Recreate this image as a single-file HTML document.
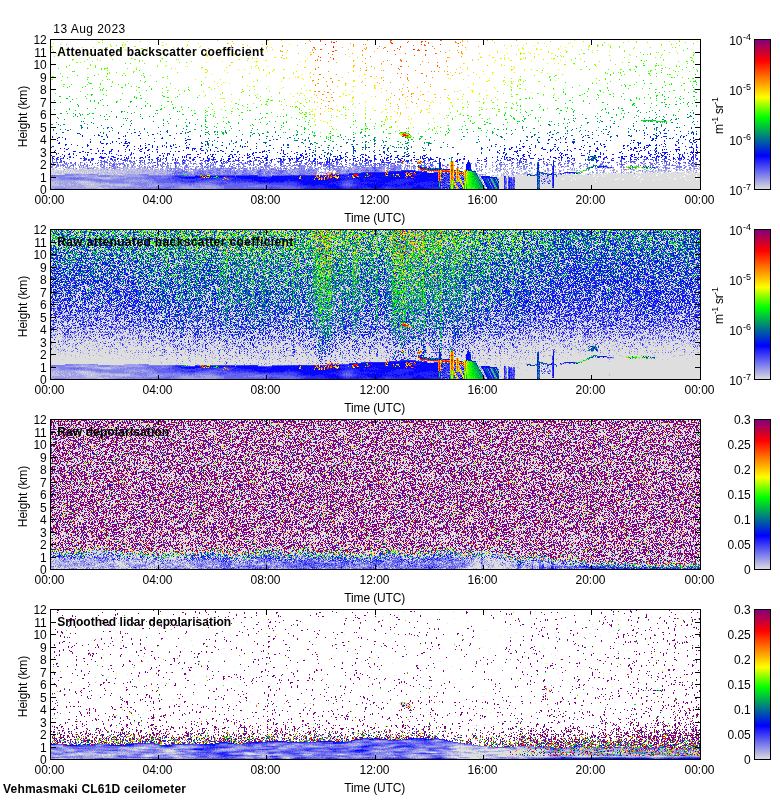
<!DOCTYPE html>
<html lang="en"><head><meta charset="utf-8"><title>Vehmasmaki CL61D ceilometer</title>
<style>html,body{margin:0;padding:0;background:#fff}svg{display:block}text{font-family:"Liberation Sans",Arial,Helvetica,sans-serif;font-size:12px;fill:#000}.b{font-weight:bold}.s{font-size:9px}</style></head><body>
<svg width="780" height="800" viewBox="0 0 780 800">
<rect width="780" height="800" fill="#fff"/>
<defs><linearGradient id="cb" x1="0" y1="1" x2="0" y2="0">
<stop offset="0" stop-color="#dedede"/>
<stop offset="0.225" stop-color="#00f"/>
<stop offset="0.48" stop-color="#0f0"/>
<stop offset="0.615" stop-color="#ff0"/>
<stop offset="0.858" stop-color="#f00"/>
<stop offset="1" stop-color="#800080"/>
</linearGradient></defs>
<text x="53.3" y="33" textLength="72">13 Aug 2023</text>
<g id="panel1">
<g transform="translate(0 .5)" fill="none" stroke-width="1" shape-rendering="crispEdges"><path stroke="#dedede" d="M174 166h1m319 0h1M71 167h1m16 0h1m1 0h1m1 0h1m480 0h1M52 168h1m1 0h2m2 0h1m1 0h1m1 0h1m4 0h1m11 0h3m1 0h1m17 0h2m4 0h1m9 0h1m10 0h1m76 0h1m398 0h1M51 169h1m2 0h1m5 0h1m2 0h1m1 0h2m1 0h5m3 0h3m5 0h3m2 0h3m2 0h1m3 0h2m5 0h1m3 0h2m14 0h1m1 0h1m121 0h1m82 0h1m184 0h1m164 0h1M51 170h6m1 0h5m1 0h4m1 0h1m1 0h3m1 0h1m1 0h2m3 0h1m4 0h1m9 0h1m6 0h1m1 0h1m2 0h1m17 0h1m362 0h1m58 0h1m23 0h1m43 0h1m25 0h1m42 0h1M52 171h1m1 0h3m2 0h1m2 0h1m1 0h1m1 0h1m1 0h2m1 0h1m1 0h2m4 0h1m1 0h1m1 0h1m1 0h1m1 0h1m1 0h1m1 0h1m2 0h1m2 0h1m1 0h1m2 0h1m1 0h1m3 0h3m4 0h1m5 0h1m1 0h1m128 0h1m64 0h1m13 0h1m90 0h1m5 0h1m91 0h1m1 0h1m51 0h1m65 0h1m6 0h2m4 0h2m1 0h2m1 0h2m6 0h1m1 0h1m14 0h1m2 0h1m1 0h4M51 172h2m1 0h1m4 0h1m2 0h1m1 0h2m1 0h2m1 0h9m1 0h2m1 0h1m3 0h1m1 0h1m1 0h2m1 0h3m3 0h1m10 0h1m4 0h1m6 0h1m193 0h1m6 0h1m186 0h1m20 0h1m56 0h1m16 0h1m1 0h1m8 0h1m6 0h1m2 0h1m4 0h3m3 0h1m3 0h3m4 0h1m2 0h1m1 0h2m2 0h3m2 0h1m1 0h4m2 0h6m1 0h7m1 0h1m2 0h3m1 0h2m2 0h1m1 0h1M52 173h3m1 0h2m4 0h2m6 0h1m11 0h2m1 0h1m1 0h1m1 0h1m4 0h1m8 0h1m12 0h1m200 0h1m10 0h1m203 0h1m50 0h1m1 0h1m1 0h2m3 0h2m8 0h2m2 0h1m1 0h5m1 0h3m1 0h3m3 0h1m1 0h2m1 0h3m1 0h1m1 0h5m1 0h1m1 0h14m1 0h3m1 0h23m1 0h1m1 0h8m1 0h3M51 174h1m1 0h1m1 0h5m1 0h2m36 0h1m3 0h1m4 0h1m3 0h1m5 0h2m1 0h1m380 0h1m1 0h1m1 0h1m3 0h1m6 0h4m1 0h1m2 0h2m4 0h2m1 0h1m5 0h2m4 0h1m10 0h1m1 0h1m3 0h1m3 0h6m1 0h1m2 0h1m1 0h1m1 0h1m3 0h2m2 0h1m1 0h2m1 0h11m1 0h17m1 0h63m1 0h1m1 0h10M495 175h2m1 0h1m3 0h1m1 0h6m2 0h1m1 0h8m1 0h4m15 0h5m2 0h1m1 0h1m2 0h2m1 0h32m1 0h4m1 0h7m1 0h33m1 0h12m1 0h6m2 0h9m1 0h16m1 0h11m1 0h3M492 176h1m2 0h3m2 0h4m2 0h2m1 0h28m3 0h2m1 0h2m1 0h1m1 0h2m1 0h1m2 0h2m1 0h12m1 0h23m1 0h3m1 0h5m1 0h30m1 0h4m1 0h43m2 0h11m1 0h3M497 177h7m2 0h2m4 0h1m2 0h22m3 0h7m2 0h3m2 0h25m1 0h58m1 0h30m1 0h10m1 0h17m1 0h1M498 178h6m3 0h1m7 0h22m3 0h1m1 0h2m1 0h1m2 0h4m2 0h9m1 0h9m1 0h21m1 0h22m1 0h18m1 0h36m1 0h10m1 0h11m1 0h2M499 179h5m3 0h1m7 0h22m3 0h3m2 0h4m1 0h2m2 0h8m1 0h12m1 0h39m2 0h5m2 0h17m2 0h17m1 0h14m1 0h20m1 0h3M499 180h5m3 0h1m7 0h22m3 0h1m1 0h3m1 0h3m2 0h1m2 0h17m1 0h81m1 0h32m1 0h2m1 0h10M82 181h1m416 0h5m3 0h1m7 0h22m3 0h1m2 0h1m2 0h1m4 0h1m2 0h41m1 0h44m1 0h59M81 182h1m1 0h1m1 0h1m1 0h1m411 0h5m3 0h1m7 0h22m3 0h3m1 0h3m2 0h3m2 0h146M499 183h5m3 0h1m7 0h22m3 0h2m1 0h1m1 0h3m2 0h2m2 0h146M87 184h1m3 0h1m1 0h1m405 0h5m3 0h1m7 0h22m3 0h12m2 0h146M91 185h1m407 0h5m3 0h1m7 0h22m3 0h12m2 0h146M499 186h5m3 0h1m7 0h22m3 0h12m2 0h146M499 187h5m3 0h1m7 0h22m3 0h12m2 0h146M499 188h5m3 0h1m7 0h22m3 0h160"/><path stroke="#bfbfe3" d="M82 162h1M115 163h1M180 164h1m341 0h1m26 0h1M131 165h1m112 0h1m163 0h1m234 0h2M116 166h1m34 0h1m49 0h1m67 0h1m5 0h1m38 0h1m39 0h1m211 0h1m77 0h1m15 0h1M62 167h1m4 0h1m5 0h1m1 0h1m4 0h3m1 0h2m3 0h1m5 0h3m9 0h1m2 0h1m5 0h1m3 0h1m3 0h3m2 0h2m2 0h3m5 0h3m4 0h1m28 0h1m19 0h1m54 0h1m1 0h1m1 0h1m2 0h2m6 0h1m7 0h1m10 0h1m2 0h1m15 0h1m1 0h1m20 0h1m25 0h1m14 0h1m16 0h1m14 0h1m5 0h1m7 0h1m12 0h1m91 0h1m11 0h1m6 0h1m62 0h1m2 0h1m43 0h1m25 0h1m17 0h2m4 0h1M53 168h1m5 0h1m3 0h1m2 0h1m2 0h4m2 0h1m6 0h1m1 0h3m4 0h1m4 0h3m1 0h1m4 0h2m1 0h2m1 0h1m4 0h1m2 0h2m2 0h4m3 0h2m1 0h2m1 0h1m3 0h1m2 0h1m1 0h2m3 0h1m3 0h1m3 0h1m1 0h1m4 0h2m15 0h1m25 0h1m5 0h1m23 0h1m1 0h1m6 0h1m6 0h1m19 0h1m49 0h1m23 0h1m3 0h2m55 0h1m51 0h1m27 0h2m6 0h1m1 0h1m5 0h1m5 0h1m14 0h1m80 0h1m1 0h2m1 0h2m29 0h1m5 0h1m26 0h1m16 0h1m5 0h1M52 169h2m2 0h1m10 0h1m5 0h3m3 0h5m3 0h2m3 0h2m1 0h3m2 0h1m1 0h2m4 0h1m2 0h2m2 0h4m1 0h1m3 0h1m3 0h12m1 0h5m1 0h1m3 0h1m2 0h1m2 0h1m3 0h1m3 0h2m20 0h1m1 0h2m6 0h1m13 0h1m12 0h2m31 0h1m32 0h2m15 0h1m7 0h1m14 0h1m11 0h2m1 0h2m5 0h2m7 0h1m20 0h1m4 0h1m12 0h1m7 0h1m10 0h1m45 0h1m20 0h1m2 0h1m15 0h1m3 0h1m5 0h1m4 0h1m48 0h1m19 0h1m5 0h1m1 0h1m29 0h1m6 0h1m1 0h1m8 0h1m13 0h2m14 0h1m4 0h1m7 0h1m4 0h1m5 0h1M57 170h1m5 0h1m4 0h1m1 0h1m3 0h1m1 0h1m2 0h3m1 0h4m1 0h9m1 0h6m1 0h1m1 0h2m1 0h13m1 0h3m1 0h9m1 0h4m2 0h1m2 0h1m2 0h4m2 0h5m2 0h4m5 0h1m14 0h1m33 0h2m19 0h1m6 0h1m4 0h2m10 0h2m20 0h1m2 0h1m3 0h1m21 0h2m14 0h1m8 0h1m40 0h1m12 0h1m3 0h1m18 0h1m58 0h2m24 0h1m6 0h1m5 0h1m11 0h2m8 0h1m4 0h1m10 0h1m5 0h1m9 0h2m1 0h1m4 0h1m17 0h1m2 0h1m3 0h1m9 0h1m1 0h1m9 0h1m11 0h1m8 0h2m4 0h1m2 0h1m3 0h1m1 0h1m3 0h1m2 0h1m1 0h1m5 0h1m1 0h2m10 0h1m1 0h1m1 0h1M51 171h1m1 0h1m3 0h2m1 0h2m1 0h1m1 0h1m1 0h1m2 0h1m1 0h1m2 0h4m1 0h1m1 0h1m1 0h1m1 0h1m1 0h1m1 0h1m1 0h2m1 0h2m1 0h1m1 0h2m1 0h1m1 0h3m3 0h4m1 0h5m1 0h1m1 0h4m1 0h2m1 0h10m3 0h2m1 0h6m3 0h2m2 0h1m1 0h2m1 0h1m21 0h3m1 0h1m62 0h1m16 0h1m15 0h2m3 0h1m2 0h1m24 0h1m2 0h1m3 0h1m29 0h2m26 0h1m91 0h1m21 0h1m3 0h1m14 0h1m1 0h1m8 0h1m13 0h1m31 0h1m20 0h1m19 0h1m12 0h1m6 0h2m5 0h1m1 0h1m2 0h1m5 0h1m2 0h1m2 0h2m1 0h1m10 0h1m10 0h1m1 0h1m7 0h1M53 172h1m1 0h4m1 0h2m1 0h1m2 0h1m2 0h1m9 0h1m2 0h1m1 0h3m1 0h1m1 0h1m2 0h1m3 0h3m1 0h6m1 0h3m1 0h4m1 0h6m1 0h3m1 0h4m1 0h1m1 0h4m1 0h2m1 0h5m1 0h4m1 0h1m1 0h2m1 0h2m1 0h4m2 0h4m20 0h2m12 0h1m32 0h1m13 0h2m9 0h1m23 0h2m2 0h1m1 0h1m24 0h1m10 0h1m1 0h1m2 0h1m8 0h1m8 0h1m74 0h1m2 0h1m1 0h1m54 0h2m7 0h1m5 0h1m3 0h1m16 0h1m1 0h1m20 0h1m7 0h1m26 0h1m7 0h1m13 0h1m6 0h1m2 0h1m32 0h1m2 0h1m36 0h2M51 173h1m3 0h1m2 0h4m2 0h6m1 0h11m2 0h1m1 0h1m1 0h1m1 0h4m1 0h3m1 0h4m1 0h12m1 0h4m1 0h6m1 0h21m2 0h1m2 0h4m6 0h2m1 0h1m16 0h1m6 0h1m20 0h1m39 0h1m10 0h1m6 0h1m19 0h1m26 0h2m1 0h1m1 0h2m2 0h1m149 0h1m23 0h1m1 0h2m12 0h1m4 0h2m2 0h2m12 0h1m8 0h1m5 0h1m8 0h1m3 0h1m9 0h1m10 0h1m7 0h1m1 0h1m5 0h1m15 0h1m6 0h1M52 174h1m1 0h1m5 0h1m2 0h2m33 0h1m1 0h3m1 0h4m1 0h3m1 0h1m1 0h3m2 0h1m1 0h3m1 0h1m9 0h1m12 0h4m2 0h3m1 0h1m1 0h2m1 0h2m7 0h1m41 0h1m39 0h2m15 0h1m21 0h1m21 0h1m1 0h1m1 0h2m1 0h1m4 0h1m149 0h1m4 0h2m12 0h1m3 0h1m19 0h1m1 0h2m40 0h1m12 0h1M82 175h1m3 0h1m35 0h1m148 0h1m220 0h1m4 0h1m13 0h1m28 0h1M77 176h1m3 0h4m1 0h1m9 0h1m362 0h1M95 177h1m1 0h4m1 0h1m1 0h1m1 0h4m3 0h1m346 0h1M52 178h1m47 0h11m331 0h1M480 179h1m1 0h1M56 180h1m22 0h1m382 0h2m17 0h1m16 0h1M51 181h1m1 0h3m1 0h2m2 0h1m1 0h1m8 0h1m2 0h7m1 0h8m391 0h1M51 182h4m1 0h1m1 0h2m1 0h1m3 0h1m3 0h1m6 0h1m1 0h3m1 0h1m1 0h1m1 0h1m1 0h7M51 183h4m1 0h2m5 0h1m4 0h2m7 0h1m1 0h20m2 0h1m1 0h1m1 0h4m373 0h1M51 184h8m2 0h2m4 0h1m1 0h2m1 0h2m3 0h1m3 0h6m1 0h3m1 0h1m1 0h12m1 0h6m1 0h16m360 0h1M51 185h9m2 0h3m4 0h2m5 0h1m1 0h1m5 0h2m1 0h4m1 0h5m1 0h3m5 0h1m3 0h3m2 0h15m26 0h1m327 0h1M51 186h1m12 0h1m2 0h1m15 0h1m1 0h14m12 0h1m9 0h1m3 0h1m333 0h1M54 187h1m18 0h1m2 0h1m9 0h10m1 0h5m2 0h4M96 188h1m1 0h6m3 0h1m378 0h1"/><path stroke="#a0a0e7" d="M544 161h1M81 162h1m48 0h1m12 0h1m264 0h1m54 0h1m39 0h1m71 0h1m67 0h1M116 163h1m73 0h1m51 0h1m185 0h1m34 0h1m40 0h1m11 0h1m26 0h1m30 0h1m25 0h2m42 0h1m50 0h2M54 164h1m5 0h1m11 0h1m5 0h1m6 0h1m29 0h1m6 0h1m8 0h1m2 0h1m6 0h1m54 0h1m13 0h3m43 0h1m8 0h1m127 0h1m4 0h1m93 0h1m10 0h1m7 0h1m71 0h1m18 0h1m16 0h1m23 0h2m48 0h1M52 165h1m3 0h1m13 0h1m4 0h1m2 0h1m2 0h2m8 0h1m6 0h1m2 0h1m2 0h1m2 0h1m3 0h1m4 0h1m11 0h1m23 0h2m8 0h1m48 0h2m44 0h1m9 0h1m1 0h1m4 0h1m15 0h1m5 0h1m6 0h1m13 0h1m3 0h1m6 0h1m5 0h1m29 0h1m2 0h2m12 0h1m4 0h1m4 0h1m1 0h1m3 0h1m7 0h1m22 0h1m19 0h1m26 0h1m9 0h1m25 0h1m12 0h1m43 0h1m32 0h1m19 0h1m14 0h1m27 0h1m3 0h1m8 0h1m5 0h1m11 0h2m2 0h1M57 166h1m2 0h1m24 0h1m8 0h1m5 0h2m9 0h1m2 0h1m8 0h1m1 0h1m2 0h1m2 0h1m2 0h2m2 0h1m6 0h1m1 0h1m14 0h1m1 0h1m2 0h2m1 0h1m7 0h1m1 0h1m3 0h2m3 0h2m1 0h2m2 0h2m10 0h2m3 0h1m1 0h1m4 0h1m9 0h1m9 0h1m15 0h1m4 0h1m3 0h1m6 0h1m3 0h1m9 0h1m5 0h1m11 0h1m3 0h2m1 0h1m3 0h1m20 0h1m4 0h1m1 0h1m6 0h1m2 0h1m2 0h1m5 0h1m8 0h1m8 0h1m2 0h3m11 0h1m4 0h1m5 0h1m2 0h1m1 0h1m14 0h1m6 0h1m6 0h1m32 0h1m17 0h1m7 0h1m5 0h1m3 0h1m8 0h1m22 0h1m10 0h1m12 0h1m5 0h1m9 0h1m2 0h1m24 0h1m8 0h1m13 0h1m23 0h1m5 0h1m21 0h1m11 0h1M52 167h1m38 0h1m1 0h2m6 0h1m2 0h1m6 0h1m6 0h1m8 0h1m3 0h2m6 0h2m3 0h1m7 0h2m2 0h1m10 0h1m2 0h1m5 0h1m1 0h1m3 0h1m4 0h1m8 0h1m4 0h1m3 0h1m6 0h1m1 0h2m1 0h1m2 0h1m4 0h1m12 0h1m1 0h1m2 0h1m3 0h1m1 0h1m13 0h1m2 0h1m11 0h1m11 0h1m9 0h1m1 0h1m8 0h2m1 0h1m12 0h1m4 0h1m4 0h1m2 0h1m1 0h2m4 0h2m2 0h2m1 0h3m1 0h1m5 0h2m4 0h1m10 0h2m6 0h4m4 0h1m5 0h2m3 0h1m1 0h1m2 0h1m15 0h1m2 0h1m12 0h1m45 0h1m4 0h1m2 0h1m3 0h1m12 0h1m37 0h1m3 0h1m4 0h1m5 0h1m8 0h1m21 0h1m2 0h1m50 0h1m3 0h1m2 0h3m2 0h1m1 0h1M89 168h1m13 0h2m16 0h2m4 0h1m9 0h1m1 0h1m2 0h1m1 0h1m6 0h2m8 0h2m4 0h3m2 0h1m4 0h1m2 0h1m4 0h1m2 0h1m1 0h1m5 0h1m2 0h2m2 0h1m20 0h1m8 0h2m1 0h1m6 0h1m5 0h1m2 0h1m6 0h2m4 0h1m4 0h1m7 0h2m7 0h1m3 0h1m5 0h1m2 0h1m6 0h5m5 0h2m6 0h3m2 0h1m4 0h1m1 0h1m2 0h2m1 0h2m1 0h1m3 0h1m3 0h4m1 0h1m1 0h3m1 0h1m2 0h1m1 0h1m6 0h1m4 0h1m1 0h1m1 0h2m10 0h1m2 0h1m5 0h1m3 0h1m2 0h2m30 0h1m15 0h1m35 0h1m1 0h1m8 0h2m9 0h1m2 0h3m6 0h1m15 0h1m21 0h1m3 0h1m1 0h1m9 0h1m8 0h1m12 0h1m14 0h1m34 0h1m4 0h1m3 0h1m15 0h1m5 0h3m3 0h2M101 169h1m2 0h1m1 0h1m12 0h1m3 0h1m2 0h1m13 0h1m5 0h1m1 0h1m1 0h1m4 0h2m1 0h1m3 0h2m3 0h1m1 0h2m2 0h1m3 0h1m2 0h1m3 0h1m3 0h1m5 0h1m1 0h1m1 0h1m8 0h4m2 0h1m1 0h1m5 0h2m5 0h1m4 0h2m2 0h1m9 0h1m4 0h1m2 0h2m1 0h2m5 0h2m2 0h2m9 0h1m2 0h1m1 0h1m3 0h1m5 0h3m1 0h2m1 0h1m9 0h2m3 0h2m8 0h2m2 0h1m5 0h2m1 0h2m2 0h1m2 0h2m1 0h1m3 0h1m3 0h3m8 0h1m1 0h1m7 0h2m2 0h2m3 0h1m1 0h1m5 0h2m3 0h1m2 0h1m2 0h1m3 0h1m69 0h1m13 0h1m1 0h1m6 0h1m2 0h1m4 0h1m10 0h2m9 0h1m8 0h1m3 0h1m7 0h1m2 0h1m4 0h1m4 0h1m2 0h2m31 0h1m8 0h1m9 0h1m2 0h1m1 0h1m1 0h1m1 0h2m10 0h1m8 0h1m7 0h1m3 0h1m11 0h1m1 0h1m1 0h1m4 0h2m2 0h1m3 0h1m3 0h1M123 170h1m13 0h1m4 0h2m1 0h2m1 0h2m4 0h2m5 0h2m5 0h2m1 0h1m1 0h2m4 0h2m2 0h1m2 0h1m1 0h1m1 0h1m3 0h1m1 0h2m5 0h5m5 0h3m12 0h1m2 0h3m3 0h3m6 0h1m3 0h2m4 0h1m6 0h1m5 0h1m1 0h4m11 0h2m2 0h1m1 0h3m1 0h3m6 0h3m3 0h1m4 0h1m8 0h1m4 0h1m1 0h1m2 0h2m4 0h1m2 0h3m2 0h5m1 0h3m1 0h2m1 0h1m1 0h1m6 0h1m9 0h2m1 0h1m2 0h1m1 0h1m1 0h1m6 0h2m18 0h1m1 0h1m2 0h1m50 0h1m2 0h1m2 0h1m11 0h1m2 0h2m1 0h1m1 0h1m5 0h1m5 0h1m8 0h1m6 0h1m18 0h2m1 0h1m9 0h1m2 0h1m12 0h1m9 0h1m12 0h1m1 0h1m8 0h1m2 0h1m7 0h1m2 0h1m9 0h1m17 0h1m2 0h1m2 0h2m1 0h1m1 0h1m1 0h1m2 0h1m13 0h2m3 0h1m2 0h1m5 0h1M128 171h1m2 0h1m10 0h3m2 0h1m6 0h3m2 0h2m1 0h1m2 0h1m1 0h2m1 0h2m2 0h1m3 0h1m1 0h1m10 0h1m1 0h4m4 0h1m5 0h1m3 0h2m2 0h1m1 0h2m1 0h2m1 0h2m6 0h1m1 0h1m2 0h1m1 0h1m1 0h2m5 0h4m2 0h1m2 0h1m6 0h3m4 0h1m2 0h2m1 0h2m9 0h1m2 0h1m4 0h1m2 0h1m7 0h1m3 0h1m3 0h2m9 0h1m6 0h1m7 0h2m1 0h3m5 0h3m6 0h4m3 0h1m1 0h1m3 0h1m6 0h1m1 0h3m48 0h2m1 0h1m44 0h1m10 0h1m4 0h1m1 0h1m6 0h1m4 0h1m1 0h1m12 0h1m2 0h1m18 0h1m18 0h1m36 0h1m8 0h1m2 0h1m4 0h1m1 0h1m7 0h1m4 0h1m8 0h1m4 0h3m12 0h1m27 0h1M107 172h1m19 0h1m4 0h1m1 0h1m4 0h1m2 0h1m5 0h1m4 0h1m1 0h1m2 0h1m2 0h1m4 0h2m4 0h2m9 0h1m3 0h5m12 0h1m10 0h1m2 0h1m1 0h3m8 0h1m5 0h1m2 0h2m2 0h2m1 0h2m1 0h2m3 0h1m6 0h1m3 0h1m4 0h1m12 0h2m4 0h1m5 0h3m3 0h1m5 0h2m3 0h1m7 0h1m1 0h1m1 0h1m1 0h3m1 0h1m4 0h3m1 0h4m1 0h1m3 0h2m1 0h1m1 0h1m4 0h2m66 0h1m57 0h1m8 0h1m10 0h1m2 0h1m4 0h1m3 0h1m9 0h1m8 0h1m6 0h1m12 0h1m2 0h1m32 0h2m2 0h2m2 0h1m1 0h1m19 0h1m3 0h1m1 0h1m2 0h1m13 0h1m7 0h1m3 0h1m6 0h1m12 0h1m17 0h2M98 173h1m22 0h1m6 0h1m21 0h2m1 0h2m4 0h6m2 0h1m1 0h3m11 0h1m2 0h1m4 0h1m1 0h1m12 0h3m5 0h2m1 0h1m3 0h3m1 0h1m3 0h1m1 0h1m1 0h1m4 0h4m1 0h1m7 0h1m2 0h1m1 0h1m6 0h1m18 0h2m1 0h1m6 0h5m1 0h1m6 0h1m6 0h1m3 0h1m8 0h1m15 0h2m5 0h1m137 0h1m19 0h1m1 0h1m2 0h2m3 0h1m1 0h2m4 0h2m3 0h1m1 0h1m4 0h1m10 0h2m10 0h1m1 0h1m5 0h1m4 0h1m6 0h1m16 0h1m26 0h1M73 174h1m1 0h1m3 0h10m6 0h2m17 0h1m10 0h1m1 0h9m1 0h2m1 0h1m12 0h2m3 0h1m1 0h1m2 0h1m2 0h1m1 0h1m2 0h2m2 0h1m2 0h1m5 0h1m4 0h1m2 0h2m16 0h3m5 0h1m2 0h2m8 0h1m4 0h5m11 0h3m9 0h1m4 0h1m1 0h1m1 0h2m1 0h1m9 0h2m4 0h2m1 0h4m7 0h1m1 0h2m2 0h1m1 0h1m11 0h2m149 0h1m1 0h3m3 0h1m17 0h1m3 0h1m5 0h1m28 0h1m13 0h1m1 0h1m1 0h1m26 0h1m2 0h1M74 175h8m1 0h3m1 0h10m1 0h2m10 0h12m1 0h17m1 0h1m19 0h1m27 0h1m1 0h1m70 0h1m2 0h1m189 0h1m3 0h1m1 0h1m17 0h2m1 0h1m2 0h1m7 0h1m7 0h1m1 0h1m9 0h1m21 0h1M65 176h12m1 0h3m4 0h1m1 0h9m1 0h1m12 0h2m1 0h6m5 0h20m300 0h1m9 0h1m5 0h1m1 0h1m15 0h3m64 0h1m4 0h1M51 177h7m18 0h1m8 0h1m1 0h8m1 0h1m4 0h1m1 0h1m1 0h1m4 0h3m1 0h13m3 0h1m7 0h1m315 0h1m24 0h1m68 0h1M51 178h1m1 0h6m27 0h1m2 0h1m2 0h8m11 0h7m1 0h1m2 0h1m2 0h1m8 0h1m306 0h1m37 0h1m1 0h1m65 0h1M51 179h9m6 0h1m18 0h1m17 0h10m2 0h1m3 0h1m8 0h2m1 0h1m1 0h2m2 0h1m1 0h1m2 0h2m337 0h1m9 0h1M51 180h5m1 0h22m1 0h8m1 0h1m2 0h1m31 0h4m1 0h8m1 0h1m1 0h7m1 0h1M52 181h1m3 0h1m2 0h2m1 0h1m1 0h8m1 0h2m16 0h5m29 0h1m1 0h13m2 0h6m1 0h1m1 0h1m297 0h1m9 0h1m21 0h1m60 0h1m6 0h1M55 182h1m1 0h1m2 0h1m1 0h3m1 0h3m1 0h6m1 0h1m17 0h5m1 0h5m1 0h2m15 0h1m4 0h2m3 0h1m6 0h2m4 0h1m2 0h2m330 0h1m65 0h1M55 183h1m2 0h5m1 0h4m2 0h7m1 0h1m20 0h2m1 0h1m1 0h1m4 0h14m1 0h7m1 0h2m2 0h1m11 0h2m1 0h1m2 0h2m291 0h1m12 0h1m22 0h2M59 184h2m2 0h4m1 0h1m2 0h1m2 0h3m1 0h3m25 0h1m6 0h1m16 0h4m13 0h1m1 0h2m1 0h7m14 0h1m26 0h1m240 0h1m7 0h1m34 0h1m21 0h1M60 185h2m3 0h4m2 0h5m1 0h1m1 0h5m2 0h1m10 0h1m3 0h5m1 0h3m3 0h2m15 0h9m4 0h1m3 0h1m1 0h7m1 0h6m17 0h1m2 0h1m2 0h2m4 0h1m2 0h1m2 0h1m1 0h12m1 0h1m271 0h1m19 0h2M52 186h12m1 0h2m1 0h15m1 0h1m14 0h12m1 0h9m1 0h3m1 0h9m1 0h6m3 0h1m1 0h9m2 0h2m20 0h10m1 0h2m2 0h1m5 0h1m1 0h1m1 0h14m222 0h1m15 0h1m26 0h2m8 0h1m11 0h1M51 187h3m1 0h18m1 0h2m1 0h9m10 0h1m5 0h2m4 0h14m4 0h1m8 0h2m1 0h1m5 0h1m4 0h1m28 0h2m1 0h14m2 0h1m3 0h2m1 0h7m1 0h4m1 0h1m1 0h1m221 0h1m16 0h1m2 0h1m22 0h1M51 188h3m12 0h2m1 0h27m1 0h1m6 0h3m1 0h7m1 0h1m5 0h1m1 0h1m3 0h1m2 0h1m5 0h1m2 0h2m38 0h1m1 0h23m1 0h11m228 0h1m39 0h1"/><path stroke="#8282ec" d="M69 159h1m534 0h1m38 0h1M85 160h1m12 0h1m41 0h2m207 0h1M102 161h1m2 0h1m9 0h1m11 0h1m13 0h1m43 0h1m3 0h1m93 0h1m27 0h1m116 0h1m82 0h1m14 0h1m108 0h1m8 0h1m8 0h1m39 0h1M66 162h1m19 0h1m13 0h1m4 0h1m25 0h1m2 0h1m9 0h1m3 0h1m13 0h1m27 0h1m48 0h1m20 0h1m34 0h1m15 0h1m55 0h1m17 0h1m14 0h1m117 0h1m7 0h1m22 0h1m66 0h1m8 0h1m7 0h1m16 0h1m13 0h1M57 163h1m6 0h2m4 0h2m8 0h1m20 0h1m5 0h1m2 0h2m2 0h1m5 0h2m1 0h1m2 0h1m3 0h1m3 0h2m4 0h1m6 0h1m4 0h1m9 0h1m5 0h1m1 0h1m5 0h1m1 0h2m5 0h1m2 0h1m2 0h1m1 0h1m7 0h1m3 0h1m1 0h1m5 0h1m1 0h1m10 0h1m6 0h1m4 0h1m2 0h1m1 0h2m1 0h1m20 0h1m15 0h1m2 0h1m13 0h2m2 0h1m19 0h1m16 0h1m8 0h1m1 0h1m11 0h1m2 0h2m18 0h1m13 0h1m27 0h2m1 0h1m37 0h1m4 0h1m24 0h1m8 0h1m7 0h1m4 0h1m7 0h1m33 0h2m23 0h1m18 0h1m10 0h1m6 0h1m7 0h2m15 0h1m12 0h1m28 0h1M58 164h1m3 0h2m1 0h3m12 0h1m20 0h1m2 0h1m11 0h1m2 0h1m3 0h1m3 0h2m11 0h1m3 0h2m12 0h1m8 0h1m11 0h1m2 0h2m4 0h1m41 0h1m5 0h1m6 0h1m4 0h2m4 0h1m2 0h1m8 0h1m2 0h1m4 0h2m6 0h1m6 0h1m16 0h1m5 0h1m8 0h1m8 0h3m18 0h1m5 0h1m1 0h2m9 0h2m9 0h1m3 0h2m3 0h2m2 0h1m5 0h1m4 0h1m36 0h1m5 0h1m26 0h2m5 0h1m14 0h1m2 0h3m3 0h2m9 0h1m13 0h1m16 0h1m1 0h1m13 0h1m8 0h1m10 0h1m1 0h1m6 0h1m26 0h1m17 0h1m11 0h1m1 0h1m5 0h1m8 0h2m3 0h1m17 0h1M53 165h1m3 0h1m2 0h3m9 0h1m7 0h1m5 0h1m2 0h1m7 0h1m2 0h1m2 0h1m6 0h1m1 0h1m6 0h1m5 0h1m6 0h2m8 0h1m5 0h1m5 0h1m2 0h2m1 0h2m6 0h1m1 0h1m5 0h1m2 0h1m7 0h1m20 0h1m4 0h1m5 0h1m2 0h1m10 0h2m3 0h1m4 0h1m5 0h1m1 0h1m14 0h1m14 0h1m1 0h2m3 0h1m3 0h1m1 0h2m1 0h1m2 0h3m8 0h1m12 0h1m5 0h1m5 0h1m12 0h1m2 0h3m8 0h1m5 0h2m2 0h2m5 0h1m3 0h1m5 0h1m1 0h1m1 0h1m3 0h4m4 0h1m14 0h4m7 0h2m10 0h1m9 0h1m37 0h1m7 0h2m3 0h1m11 0h1m5 0h1m10 0h1m4 0h1m18 0h1m1 0h1m19 0h2m5 0h1m17 0h1m5 0h1m5 0h1m12 0h1m21 0h1m10 0h1m1 0h1m3 0h1m1 0h1m2 0h2m3 0h1m8 0h1m4 0h1M52 166h1m3 0h1m1 0h1m4 0h1m1 0h1m1 0h1m1 0h2m10 0h1m1 0h1m2 0h2m15 0h1m11 0h1m1 0h1m6 0h1m2 0h1m11 0h1m1 0h1m7 0h1m3 0h1m3 0h1m3 0h1m1 0h1m2 0h1m9 0h1m4 0h1m5 0h1m12 0h1m1 0h1m1 0h1m2 0h1m6 0h1m21 0h1m1 0h2m3 0h2m10 0h1m4 0h1m1 0h1m1 0h1m1 0h3m2 0h1m9 0h1m1 0h2m2 0h1m3 0h1m8 0h4m1 0h1m1 0h1m2 0h1m10 0h1m1 0h3m9 0h1m1 0h2m1 0h1m5 0h1m8 0h1m2 0h4m1 0h1m1 0h1m3 0h1m5 0h1m3 0h1m1 0h1m6 0h1m1 0h1m1 0h2m1 0h2m1 0h2m5 0h1m3 0h1m2 0h1m1 0h1m2 0h1m3 0h1m3 0h2m5 0h1m13 0h1m10 0h1m4 0h1m13 0h1m2 0h1m6 0h1m13 0h1m4 0h1m11 0h1m1 0h1m3 0h1m2 0h2m27 0h1m7 0h1m1 0h1m2 0h1m10 0h2m6 0h1m19 0h1m15 0h1m6 0h1m6 0h2m11 0h1m1 0h1m3 0h2m7 0h1m11 0h3m1 0h1m3 0h1m7 0h3M51 167h1m3 0h2m8 0h2m1 0h2m9 0h1m3 0h1m3 0h1m15 0h1m2 0h1m6 0h3m3 0h1m3 0h1m21 0h1m1 0h1m1 0h2m4 0h1m10 0h1m1 0h1m15 0h3m8 0h1m6 0h1m5 0h1m1 0h1m2 0h1m7 0h1m1 0h1m4 0h1m2 0h5m6 0h1m7 0h1m2 0h1m1 0h1m2 0h1m3 0h1m5 0h2m4 0h1m2 0h1m6 0h1m9 0h1m4 0h1m1 0h1m1 0h2m4 0h2m7 0h3m9 0h2m1 0h1m4 0h1m2 0h1m2 0h1m2 0h1m2 0h1m7 0h1m2 0h1m1 0h1m3 0h2m1 0h1m5 0h2m2 0h2m2 0h1m3 0h1m7 0h1m3 0h1m34 0h1m11 0h1m10 0h1m2 0h1m19 0h1m3 0h1m30 0h1m1 0h1m4 0h2m1 0h1m4 0h1m9 0h1m19 0h1m25 0h2m6 0h1m10 0h1m2 0h1m2 0h2m6 0h2m2 0h1m41 0h1m9 0h6m3 0h1m3 0h1M68 168h1m4 0h1m13 0h1m2 0h1m1 0h2m18 0h4m22 0h1m8 0h1m22 0h2m1 0h4m1 0h2m11 0h1m9 0h2m4 0h1m2 0h4m1 0h5m2 0h2m1 0h5m1 0h1m7 0h1m2 0h1m2 0h2m6 0h1m2 0h1m1 0h1m7 0h1m2 0h1m1 0h3m1 0h1m1 0h1m2 0h2m1 0h2m1 0h1m3 0h1m4 0h2m1 0h1m3 0h2m8 0h1m3 0h1m3 0h1m2 0h1m8 0h2m2 0h1m1 0h2m9 0h1m1 0h1m8 0h1m3 0h1m1 0h2m1 0h1m1 0h2m3 0h1m1 0h1m1 0h2m1 0h1m4 0h1m1 0h3m2 0h3m1 0h1m6 0h1m6 0h1m29 0h1m16 0h1m15 0h2m1 0h1m16 0h1m6 0h1m9 0h1m7 0h1m7 0h1m1 0h1m4 0h1m35 0h1m7 0h1m15 0h1m5 0h1m2 0h1m23 0h1m25 0h1m9 0h2m6 0h2m4 0h1m4 0h1M64 169h1m42 0h1m6 0h1m37 0h1m7 0h1m13 0h2m2 0h2m1 0h2m2 0h2m4 0h3m1 0h1m3 0h2m1 0h2m2 0h1m5 0h1m1 0h1m1 0h1m1 0h3m2 0h1m2 0h2m1 0h1m1 0h1m6 0h2m3 0h4m3 0h1m2 0h2m6 0h4m2 0h1m4 0h1m1 0h3m1 0h1m2 0h1m4 0h1m1 0h1m3 0h3m3 0h1m4 0h2m3 0h3m3 0h1m6 0h1m2 0h2m3 0h1m3 0h4m2 0h1m9 0h1m1 0h1m3 0h3m4 0h4m2 0h1m1 0h1m1 0h2m4 0h1m2 0h1m16 0h2m6 0h1m7 0h1m3 0h1m52 0h1m4 0h1m2 0h1m16 0h1m3 0h2m1 0h1m15 0h1m5 0h1m22 0h1m18 0h1m6 0h1m39 0h1m6 0h1m2 0h2m5 0h1m18 0h1m7 0h1m7 0h1m9 0h1m12 0h1M170 170h1m4 0h4m2 0h1m11 0h1m1 0h1m2 0h3m1 0h1m5 0h3m5 0h1m3 0h1m2 0h2m1 0h2m2 0h1m3 0h1m5 0h2m1 0h1m3 0h2m3 0h2m3 0h3m1 0h2m1 0h2m2 0h1m1 0h1m4 0h1m1 0h1m3 0h2m1 0h1m4 0h1m9 0h6m5 0h1m1 0h1m1 0h2m23 0h1m3 0h1m3 0h1m6 0h1m3 0h1m10 0h2m2 0h2m3 0h3m11 0h2m1 0h1m1 0h1m17 0h1m65 0h1m17 0h1m45 0h1m6 0h1m6 0h1m17 0h1m10 0h1m14 0h1m8 0h1m20 0h1m5 0h2m1 0h1m3 0h1m17 0h1m11 0h1M169 171h1m2 0h2m3 0h1m1 0h1m1 0h1m2 0h2m1 0h1m9 0h2m5 0h3m1 0h3m2 0h2m1 0h1m2 0h1m6 0h1m2 0h1m2 0h1m1 0h2m1 0h1m1 0h1m2 0h3m1 0h1m4 0h1m2 0h1m2 0h1m3 0h1m4 0h2m1 0h1m5 0h1m2 0h1m4 0h4m4 0h2m1 0h1m4 0h4m1 0h2m1 0h1m1 0h1m1 0h3m2 0h1m1 0h1m17 0h1m1 0h2m2 0h1m4 0h1m1 0h2m3 0h3m7 0h3m3 0h3m4 0h1m1 0h1m1 0h1m6 0h1m34 0h1m5 0h1m1 0h1m45 0h1m29 0h1m31 0h1m5 0h1m13 0h1m32 0h1m10 0h1m38 0h1m25 0h1m1 0h1M174 172h1m1 0h2m4 0h1m11 0h3m1 0h2m1 0h2m4 0h1m3 0h4m1 0h1m7 0h6m2 0h2m2 0h1m1 0h1m3 0h1m3 0h1m2 0h1m2 0h1m3 0h1m2 0h3m1 0h1m3 0h1m1 0h2m1 0h2m1 0h5m3 0h1m2 0h2m3 0h1m1 0h1m1 0h1m4 0h2m1 0h5m2 0h3m1 0h3m3 0h1m1 0h1m23 0h3m2 0h1m3 0h4m82 0h1m70 0h1m1 0h1m1 0h1m8 0h1m28 0h1m48 0h1m9 0h1m1 0h1m5 0h1m8 0h1M173 173h1m3 0h1m1 0h1m2 0h1m1 0h1m2 0h4m3 0h3m2 0h1m2 0h1m1 0h2m3 0h1m2 0h1m3 0h1m3 0h1m3 0h1m1 0h1m1 0h1m3 0h1m3 0h2m4 0h1m1 0h1m2 0h4m4 0h1m1 0h1m7 0h1m1 0h2m1 0h1m1 0h4m1 0h1m1 0h1m4 0h1m1 0h5m6 0h1m1 0h1m1 0h1m1 0h2m1 0h1m1 0h1m1 0h2m2 0h1m24 0h2m2 0h4m211 0h1m3 0h1m2 0h1m4 0h1m9 0h1m53 0h1M65 174h8m1 0h1m1 0h3m10 0h6m2 0h1m41 0h1m1 0h4m1 0h3m18 0h1m1 0h2m6 0h1m1 0h5m1 0h4m1 0h1m4 0h5m1 0h1m3 0h5m4 0h1m1 0h1m2 0h2m2 0h5m1 0h2m1 0h3m6 0h1m2 0h2m1 0h2m1 0h2m5 0h2m2 0h3m1 0h4m1 0h1m4 0h1m1 0h2m1 0h3m1 0h2m2 0h1m1 0h2m9 0h1m3 0h1m1 0h1m2 0h2m1 0h1m1 0h1m13 0h1m114 0h1m37 0h1m29 0h1m75 0h1M51 175h1m1 0h1m1 0h19m23 0h1m2 0h10m30 0h1m1 0h5m1 0h13m1 0h8m1 0h1m14 0h1m6 0h2m40 0h1m22 0h1m4 0h2m1 0h1m2 0h2m172 0h1m95 0h1m1 0h1M51 176h1m1 0h12m33 0h12m2 0h1m6 0h5m20 0h5m5 0h1m7 0h2m2 0h1m278 0h1m45 0h1m50 0h1M58 177h18m1 0h8m1 0h1m40 0h3m1 0h7m1 0h8m3 0h1m5 0h2m1 0h1m1 0h5m1 0h1m273 0h1m1 0h1m19 0h1m46 0h1m36 0h1M59 178h11m2 0h1m2 0h1m3 0h2m1 0h4m1 0h2m1 0h2m26 0h1m1 0h2m1 0h2m1 0h8m1 0h11m1 0h1m1 0h1m1 0h1m5 0h1m2 0h1m319 0h1m9 0h1m6 0h1m8 0h1m5 0h1m28 0h1M60 179h6m1 0h7m1 0h10m1 0h17m10 0h2m1 0h3m1 0h8m2 0h1m1 0h1m2 0h2m1 0h1m1 0h2m2 0h10m4 0h1m296 0h1m32 0h1m16 0h2m1 0h1m3 0h1m26 0h1m9 0h1M88 180h1m1 0h2m1 0h7m1 0h23m4 0h1m8 0h1m1 0h1m7 0h1m1 0h5m307 0h1m26 0h1m2 0h1m14 0h1m38 0h1m4 0h1M96 181h29m1 0h1m13 0h2m6 0h1m1 0h1m1 0h5m53 0h1m1 0h1m233 0h1m45 0h1m52 0h1M100 182h1m5 0h1m2 0h15m1 0h4m2 0h3m1 0h6m2 0h4m1 0h2m2 0h5m49 0h1m1 0h1m248 0h1m5 0h1m25 0h1m2 0h1m50 0h1m3 0h1M123 183h1m7 0h1m2 0h2m1 0h11m2 0h1m1 0h2m2 0h7m1 0h7m1 0h4m1 0h4m7 0h1m6 0h17m229 0h1m1 0h1m4 0h1m7 0h1m2 0h1m33 0h1m12 0h1m3 0h1m3 0h1m29 0h1M134 184h13m1 0h1m2 0h1m7 0h14m1 0h15m3 0h2m1 0h5m1 0h15m14 0h1m115 0h1m101 0h1m10 0h1m33 0h1M139 185h4m1 0h3m1 0h1m14 0h17m1 0h2m1 0h2m2 0h4m1 0h2m1 0h2m1 0h1m12 0h1m1 0h5m4 0h1m24 0h1m3 0h1m2 0h8m1 0h1m218 0h1m7 0h1m2 0h1M135 186h1m6 0h3m1 0h1m9 0h2m2 0h9m1 0h1m1 0h1m1 0h6m10 0h1m2 0h2m1 0h5m1 0h1m1 0h1m14 0h5m20 0h2m2 0h12m2 0h3m240 0h1m6 0h1m1 0h1m37 0h1M122 187h4m1 0h8m2 0h1m1 0h5m1 0h4m1 0h15m6 0h2m1 0h4m2 0h1m14 0h2m1 0h3m2 0h1m7 0h1m4 0h1m1 0h1m1 0h4m12 0h1m7 0h1m10 0h1m1 0h1m2 0h2m2 0h1m195 0h1m53 0h1M54 188h12m2 0h1m46 0h1m1 0h5m1 0h1m1 0h3m1 0h2m1 0h5m1 0h2m2 0h7m2 0h5m1 0h1m11 0h1m1 0h9m1 0h1m23 0h1m11 0h7m61 0h1m5 0h1m156 0h1m5 0h2m2 0h1m47 0h1"/><path stroke="#6363f0" d="M69 156h1m38 0h1M62 158h1m68 0h1m441 0h1M54 159h1m60 0h1m57 0h1m3 0h1m119 0h1m51 0h1m164 0h1m28 0h1m79 0h1m24 0h1m14 0h1m16 0h1M52 160h1m7 0h1m28 0h1m11 0h1m5 0h1m14 0h1m3 0h2m1 0h2m28 0h1m12 0h1m12 0h1m2 0h1m12 0h2m6 0h1m33 0h1m5 0h1m4 0h1m1 0h1m8 0h1m178 0h1m52 0h1m41 0h1m27 0h1m5 0h1m46 0h1m15 0h1m7 0h1m20 0h1m13 0h2m12 0h1M52 161h1m3 0h1m3 0h1m40 0h1m4 0h1m6 0h1m4 0h1m6 0h1m4 0h2m1 0h1m17 0h1m5 0h4m15 0h1m7 0h1m10 0h1m9 0h1m14 0h1m9 0h1m2 0h1m15 0h1m8 0h1m22 0h1m13 0h1m3 0h1m8 0h1m3 0h1m15 0h1m7 0h2m17 0h1m1 0h1m13 0h1m2 0h1m24 0h1m5 0h1m5 0h1m21 0h1m50 0h1m35 0h1m34 0h1m11 0h3m31 0h1m1 0h1m26 0h2m1 0h1m9 0h1m12 0h1m5 0h1m1 0h1m1 0h2M52 162h1m1 0h3m3 0h2m8 0h2m26 0h1m2 0h1m2 0h1m2 0h1m2 0h1m3 0h1m17 0h1m7 0h1m10 0h1m1 0h1m1 0h1m7 0h1m3 0h1m8 0h3m3 0h1m18 0h1m3 0h1m6 0h1m2 0h2m6 0h1m2 0h1m13 0h1m6 0h1m1 0h1m3 0h1m8 0h1m4 0h1m3 0h1m9 0h1m1 0h1m6 0h1m2 0h1m13 0h1m4 0h1m4 0h1m3 0h1m2 0h1m6 0h1m6 0h1m14 0h1m8 0h1m18 0h1m2 0h1m12 0h1m25 0h1m54 0h1m13 0h1m2 0h1m4 0h1m16 0h1m2 0h1m4 0h1m5 0h1m11 0h1m15 0h2m7 0h1m20 0h1m12 0h1m4 0h1m9 0h1m3 0h1m9 0h1m2 0h1m5 0h2m14 0h3m10 0h1m5 0h1m3 0h1m3 0h2m3 0h1m4 0h1m2 0h1M51 163h1m1 0h1m12 0h1m1 0h1m5 0h2m16 0h1m2 0h1m8 0h1m4 0h1m3 0h1m4 0h2m13 0h1m10 0h1m3 0h1m1 0h1m12 0h1m3 0h1m3 0h1m2 0h1m2 0h1m4 0h3m9 0h2m3 0h1m11 0h1m10 0h2m6 0h1m3 0h1m12 0h1m2 0h1m2 0h1m6 0h1m4 0h1m4 0h1m10 0h1m24 0h1m4 0h1m5 0h1m2 0h2m8 0h2m4 0h2m2 0h1m8 0h1m6 0h1m2 0h3m11 0h2m6 0h1m2 0h1m3 0h2m1 0h1m2 0h1m12 0h1m1 0h1m1 0h2m7 0h1m3 0h2m11 0h2m23 0h1m8 0h1m7 0h1m6 0h1m12 0h1m11 0h2m16 0h1m1 0h1m12 0h1m2 0h1m10 0h2m8 0h1m4 0h1m5 0h2m4 0h1m16 0h1m18 0h1m19 0h2m2 0h1m4 0h1m1 0h1m1 0h1m1 0h1m5 0h1m3 0h1m9 0h1m1 0h1m6 0h1m2 0h1m2 0h1M52 164h1m4 0h1m15 0h1m13 0h1m12 0h1m8 0h1m2 0h3m2 0h1m2 0h1m3 0h1m8 0h1m26 0h1m1 0h1m23 0h1m6 0h1m6 0h2m4 0h1m6 0h1m1 0h1m6 0h1m15 0h2m2 0h1m7 0h1m2 0h1m5 0h2m19 0h1m13 0h1m1 0h2m1 0h2m4 0h1m4 0h1m4 0h1m1 0h1m5 0h3m3 0h1m6 0h2m1 0h1m1 0h1m3 0h2m5 0h2m1 0h2m4 0h1m6 0h1m5 0h3m3 0h1m1 0h1m1 0h1m3 0h1m35 0h1m1 0h1m3 0h1m1 0h1m48 0h1m4 0h1m17 0h1m14 0h1m5 0h3m6 0h1m9 0h1m1 0h2m10 0h1m1 0h2m9 0h1m29 0h1m15 0h1m4 0h3m26 0h1m3 0h1m3 0h1m6 0h1m2 0h1m9 0h1m11 0h1m2 0h1M54 165h1m3 0h1m4 0h2m2 0h1m3 0h1m1 0h1m9 0h1m3 0h1m21 0h1m3 0h2m9 0h1m2 0h1m9 0h1m1 0h1m27 0h1m7 0h1m9 0h2m14 0h2m3 0h1m3 0h1m9 0h2m2 0h1m33 0h1m5 0h2m2 0h1m1 0h1m14 0h1m3 0h1m3 0h1m4 0h2m4 0h1m2 0h1m6 0h2m7 0h1m5 0h1m1 0h3m21 0h2m3 0h1m1 0h1m2 0h2m4 0h1m3 0h1m1 0h1m1 0h1m3 0h1m3 0h2m18 0h1m1 0h1m3 0h2m5 0h1m10 0h1m10 0h1m4 0h1m28 0h1m35 0h1m5 0h1m10 0h1m21 0h1m2 0h1m12 0h1m5 0h1m25 0h2m5 0h1m15 0h1m15 0h1m1 0h1m4 0h1m4 0h1m2 0h1m12 0h1m5 0h2m10 0h1m4 0h1m1 0h2M51 166h1m21 0h1m5 0h1m24 0h1m7 0h2m18 0h1m11 0h1m7 0h1m22 0h1m10 0h1m11 0h1m6 0h1m16 0h3m4 0h1m1 0h2m12 0h1m36 0h1m15 0h2m27 0h2m3 0h3m4 0h1m2 0h1m2 0h1m11 0h1m14 0h1m1 0h1m7 0h1m8 0h1m2 0h1m5 0h1m6 0h1m7 0h1m8 0h1m4 0h1m1 0h1m13 0h1m35 0h1m3 0h1m35 0h1m2 0h1m36 0h2m58 0h1m54 0h1m3 0h1m11 0h1m3 0h1M102 167h1m14 0h1m39 0h1m4 0h1m12 0h1m12 0h1m15 0h1m1 0h2m53 0h1m3 0h1m14 0h1m14 0h1m30 0h1m2 0h1m32 0h1m1 0h1m7 0h1m2 0h1m2 0h2m7 0h1m6 0h2m1 0h1m1 0h1m13 0h1m43 0h1m55 0h1m86 0h1m22 0h1m32 0h2m7 0h1m18 0h1m5 0h1M76 168h1m11 0h1m95 0h1m10 0h1m24 0h2m8 0h1m1 0h1m8 0h1m2 0h1m5 0h1m12 0h1m30 0h1m4 0h1m1 0h1m2 0h1m10 0h1m18 0h1m23 0h1m14 0h1m1 0h1m3 0h1m9 0h1m4 0h1m5 0h1m3 0h1m142 0h1m120 0h2m24 0h1m2 0h1M171 169h1m45 0h1m12 0h1m29 0h1m10 0h1m1 0h1m27 0h1m9 0h1m4 0h1m49 0h2m6 0h4m13 0h5m86 0h1M167 170h1m14 0h1m1 0h1m16 0h1m9 0h2m4 0h3m5 0h1m3 0h1m6 0h1m7 0h2m30 0h1m1 0h3m2 0h1m1 0h1m22 0h2m3 0h1m15 0h1m7 0h2m1 0h1m20 0h1m1 0h1m1 0h4m7 0h2m12 0h1m3 0h1m64 0h1m136 0h1M175 171h2m5 0h2m2 0h1m12 0h2m1 0h2m18 0h1m2 0h1m1 0h2m1 0h1m14 0h1m12 0h1m3 0h1m5 0h1m2 0h1m7 0h3m15 0h1m5 0h1m4 0h1m28 0h1m8 0h1m1 0h1m8 0h1m10 0h1m6 0h2m1 0h1m173 0h1m7 0h1M175 172h1m3 0h3m2 0h3m10 0h1m2 0h1m2 0h1m1 0h1m2 0h3m6 0h1m1 0h1m3 0h1m6 0h1m3 0h2m21 0h1m7 0h1m2 0h1m5 0h1m5 0h3m16 0h1m39 0h1m108 0h1M172 173h1m1 0h3m1 0h1m1 0h2m15 0h2m1 0h1m2 0h1m6 0h2m6 0h2m7 0h1m2 0h1m3 0h2m9 0h2m5 0h1m5 0h5m3 0h1m2 0h1m6 0h1m1 0h1m1 0h2m18 0h1m1 0h1m4 0h1m1 0h1m3 0h1m1 0h1m20 0h1m10 0h1m93 0h1m2 0h1m2 0h1m125 0h1M145 174h1m28 0h1m1 0h1m14 0h1m2 0h1m5 0h1m1 0h3m8 0h1m3 0h1m10 0h1m6 0h1m6 0h2m2 0h1m2 0h1m10 0h1m18 0h1m3 0h1m5 0h1m9 0h2m1 0h3m137 0h1m2 0h2m14 0h1m83 0h1m6 0h1M52 175h1m1 0h1m92 0h1m22 0h1m1 0h3m13 0h1m1 0h1m1 0h1m5 0h1m14 0h1m2 0h1m42 0h3m5 0h2m5 0h3m2 0h2m1 0h2m163 0h1m1 0h1m86 0h1M52 176h1m96 0h5m1 0h7m2 0h2m1 0h5m93 0h1m1 0h1m193 0h1m46 0h1M147 177h3m1 0h5m2 0h1m1 0h1m5 0h1m1 0h4m283 0h1m52 0h1m5 0h1M70 178h2m1 0h2m1 0h3m2 0h1m64 0h1m1 0h1m1 0h1m1 0h5m1 0h2m1 0h7m2 0h1m55 0h1m220 0h1m39 0h1m17 0h1m7 0h1m30 0h1M74 179h1m79 0h4m1 0h8m1 0h1m1 0h3m1 0h1m8 0h1m38 0h1m221 0h1m16 0h1m52 0h1M100 180h1m53 0h15m1 0h4m32 0h1m2 0h3m1 0h4m3 0h1m220 0h2m62 0h1m2 0h1m3 0h1m36 0h1M157 181h15m1 0h2m2 0h3m19 0h2m1 0h8m1 0h1m1 0h9m1 0h3m121 0h1m93 0h1m5 0h1m7 0h1m33 0h1m16 0h1m4 0h3m27 0h1m5 0h2m1 0h1m1 0h1M157 182h27m2 0h1m8 0h2m1 0h8m1 0h1m1 0h8m1 0h2m4 0h1m1 0h2m2 0h2m4 0h1m6 0h1m2 0h1m99 0h1m2 0h1m95 0h1m16 0h1m42 0h1m6 0h1m26 0h1M163 183h1m7 0h1m4 0h1m4 0h7m1 0h6m17 0h5m1 0h1m8 0h8m1 0h2m1 0h15m1 0h1m88 0h1m1 0h4m96 0h1m2 0h1m8 0h1m31 0h1m13 0h1m7 0h1m26 0h1M189 184h3m2 0h1m21 0h4m1 0h2m1 0h6m1 0h36m1 0h1m1 0h1m3 0h1m10 0h1m57 0h3m1 0h5m90 0h1m1 0h1m12 0h2M219 185h4m1 0h11m1 0h12m1 0h3m1 0h2m8 0h1m1 0h8m1 0h10m2 0h1m1 0h2m1 0h1m51 0h2m1 0h6m91 0h1m13 0h1m55 0h2M169 186h1m1 0h1m1 0h1m50 0h20m2 0h2m12 0h2m3 0h6m1 0h23m51 0h1m2 0h1m92 0h2m1 0h1m45 0h1m16 0h1m1 0h1M165 187h6m2 0h1m50 0h12m1 0h7m1 0h10m1 0h1m1 0h2m2 0h2m1 0h4m8 0h2m1 0h16m1 0h3m148 0h1m43 0h1m2 0h1m9 0h1m2 0h1m1 0h1m1 0h2m25 0h1M149 188h2m5 0h1m1 0h11m1 0h1m53 0h37m1 0h1m1 0h5m4 0h2m1 0h1m2 0h6m1 0h5m1 0h5m1 0h2m141 0h1m4 0h1m12 0h1m32 0h1m2 0h1m14 0h1"/><path stroke="#4444f5" d="M690 147h1M643 148h1M111 151h1m477 0h1M131 152h1M91 153h1M130 154h1M125 155h1m396 0h1m172 0h1M52 156h1m58 0h1m513 0h1m15 0h1m2 0h1m19 0h1m1 0h1m28 0h1M100 157h1m4 0h1m22 0h1m2 0h1m68 0h1m328 0h1m20 0h1m53 0h1m31 0h1m7 0h1m1 0h1m6 0h1m12 0h1m28 0h1M57 158h1m2 0h2m19 0h1m1 0h1m1 0h2m4 0h1m9 0h1m8 0h1m10 0h1m5 0h1m11 0h1m26 0h1m22 0h1m3 0h1m58 0h1m7 0h1m202 0h1m40 0h1m6 0h1m11 0h1m80 0h1m2 0h1m38 0h1m8 0h1m9 0h1M52 159h1m3 0h3m26 0h1m3 0h1m1 0h2m14 0h1m2 0h1m1 0h1m1 0h1m5 0h2m3 0h1m1 0h1m20 0h1m2 0h2m9 0h1m9 0h1m19 0h1m16 0h1m4 0h1m6 0h1m33 0h2m10 0h1m16 0h2m10 0h1m1 0h1m7 0h1m23 0h1m19 0h1m66 0h1m45 0h1m41 0h1m1 0h1m1 0h2m9 0h1m5 0h1m31 0h1m2 0h1m9 0h1m15 0h2m22 0h1m9 0h1m12 0h1m1 0h1m7 0h3m3 0h3m2 0h2m1 0h1m3 0h1m1 0h1m3 0h2m5 0h1m3 0h1m1 0h1m5 0h2m4 0h1m2 0h1M56 160h1m4 0h1m21 0h1m8 0h1m7 0h1m3 0h1m9 0h2m7 0h3m10 0h1m2 0h1m2 0h1m6 0h1m2 0h1m24 0h1m4 0h1m4 0h1m4 0h1m19 0h2m19 0h1m1 0h1m3 0h1m2 0h1m12 0h1m2 0h1m8 0h1m16 0h1m11 0h1m4 0h1m6 0h1m26 0h1m3 0h1m6 0h1m20 0h1m6 0h1m11 0h1m20 0h1m16 0h2m2 0h1m49 0h1m19 0h1m9 0h3m6 0h1m1 0h2m5 0h1m22 0h1m9 0h1m1 0h1m6 0h2m15 0h1m35 0h1m8 0h1m22 0h1m2 0h1m1 0h1m5 0h1m25 0h1m1 0h1m6 0h1M61 161h1m1 0h2m25 0h1m12 0h2m4 0h1m19 0h1m4 0h1m5 0h1m3 0h1m20 0h1m16 0h1m7 0h1m13 0h1m2 0h1m6 0h1m11 0h1m5 0h1m1 0h1m3 0h1m8 0h2m4 0h1m6 0h1m2 0h1m13 0h3m16 0h2m3 0h1m8 0h1m3 0h2m18 0h1m10 0h1m16 0h1m5 0h1m12 0h3m6 0h1m4 0h1m1 0h1m8 0h1m28 0h1m50 0h1m32 0h1m1 0h1m3 0h1m28 0h1m10 0h1m30 0h2m22 0h2m4 0h1m1 0h1m3 0h1m1 0h1m26 0h1m14 0h1m13 0h1m8 0h1M53 162h1m3 0h1m6 0h1m10 0h1m4 0h1m25 0h1m16 0h1m15 0h1m2 0h1m6 0h1m7 0h1m16 0h1m9 0h1m25 0h1m3 0h1m10 0h1m15 0h1m3 0h1m15 0h1m1 0h1m2 0h1m2 0h1m8 0h1m1 0h1m1 0h1m11 0h1m1 0h1m4 0h1m4 0h1m8 0h1m21 0h1m21 0h1m6 0h1m1 0h1m1 0h1m16 0h1m2 0h1m4 0h1m2 0h2m1 0h2m4 0h1m14 0h1m1 0h1m7 0h1m24 0h1m19 0h1m34 0h2m7 0h1m8 0h1m15 0h1m24 0h1m31 0h1m1 0h1m2 0h1m15 0h1m5 0h1m18 0h1m16 0h1m18 0h1m9 0h1M84 163h1m12 0h1m24 0h1m34 0h1m6 0h1m10 0h1m24 0h1m1 0h1m5 0h1m12 0h1m2 0h1m20 0h1m13 0h1m27 0h2m1 0h1m8 0h1m5 0h1m3 0h1m2 0h1m2 0h1m2 0h1m8 0h1m1 0h1m23 0h1m11 0h2m8 0h1m1 0h3m13 0h1m23 0h1m9 0h1m91 0h1m3 0h1m43 0h1m4 0h1m96 0h1m9 0h2m8 0h1m2 0h1m1 0h1M75 164h1m8 0h1m7 0h1m9 0h1m54 0h1m7 0h1m9 0h1m31 0h1m24 0h1m4 0h1m26 0h1m16 0h1m26 0h1m17 0h3m36 0h1m13 0h1m3 0h1m13 0h1m23 0h1m9 0h1m15 0h1m9 0h1m41 0h1m51 0h1m20 0h1m14 0h1m12 0h1M229 165h1m23 0h1m26 0h1m44 0h2m15 0h1m52 0h1m29 0h1m4 0h1m12 0h1m52 0h1m49 0h2m55 0h1m27 0h1M210 166h1m10 0h1m274 0h1M109 167h1m263 0h2m177 0h1m44 0h1m1 0h1M235 168h1m49 0h1m43 0h1m44 0h1m18 0h1M306 169h1M260 170h1m87 0h1m23 0h1m40 0h1M259 171h2m21 0h1m91 0h1m44 0h2M178 172h1m64 0h1m14 0h1m102 0h2m1 0h1m77 0h1m109 0h1m11 0h1M201 173h1m156 0h1m84 0h1m4 0h1m92 0h2m26 0h1M259 174h1m74 0h3m2 0h10m100 0h1M175 175h6m14 0h1m1 0h1m1 0h1m2 0h1m1 0h1m1 0h1m3 0h3m1 0h2m1 0h18m1 0h8m1 0h4m23 0h2m3 0h2m2 0h1m2 0h7m1 0h1m2 0h3m9 0h1m2 0h1m134 0h1M172 176h3m6 0h2m1 0h2m1 0h2m1 0h5m40 0h1m22 0h1m1 0h5m1 0h1m1 0h4m171 0h1m2 0h1m2 0h1m13 0h1m41 0h1m41 0h1m4 0h1m3 0h1M172 177h6m45 0h1m1 0h1m1 0h1m117 0h1m100 0h1m1 0h1m13 0h1m42 0h1m5 0h1m1 0h1M168 178h2m1 0h10m14 0h1m1 0h5m2 0h1m11 0h9m3 0h5m210 0h1m4 0h2m4 0h1m6 0h2m45 0h1m1 0h1m3 0h1m24 0h1m6 0h1M167 179h1m1 0h1m3 0h1m1 0h8m1 0h12m2 0h3m3 0h1m2 0h4m1 0h10m2 0h3m2 0h3m4 0h1m209 0h2m1 0h1m48 0h1m14 0h1m38 0h1M169 180h1m4 0h8m1 0h8m1 0h1m1 0h2m1 0h2m1 0h2m1 0h3m1 0h2m3 0h1m4 0h3m1 0h10m9 0h1m104 0h1m1 0h6m47 0h1m6 0h1m37 0h2m1 0h1m61 0h2m29 0h1m10 0h1M172 181h1m2 0h2m3 0h2m1 0h5m1 0h1m5 0h4m2 0h1m20 0h1m3 0h9m1 0h3m1 0h4m2 0h2m7 0h1m86 0h5m1 0h6m89 0h1m4 0h1m13 0h2m31 0h1m9 0h1m2 0h1m1 0h1M184 182h2m1 0h8m2 0h1m19 0h1m2 0h4m1 0h1m2 0h2m2 0h4m1 0h6m1 0h2m1 0h12m15 0h1m9 0h3m2 0h5m48 0h4m1 0h2m1 0h3m94 0h1m7 0h1m50 0h1m6 0h2m37 0h1M217 183h1m1 0h8m8 0h1m2 0h1m15 0h1m1 0h4m1 0h8m1 0h27m43 0h1m1 0h2m1 0h1m4 0h3m92 0h1m62 0h1m4 0h1m38 0h1M220 184h1m2 0h1m43 0h1m1 0h1m1 0h3m1 0h10m1 0h11m44 0h2m9 0h5m88 0h1m1 0h1m12 0h1m43 0h2m2 0h1m1 0h2m1 0h1m25 0h1m12 0h1M235 185h1m37 0h1m10 0h2m1 0h1m2 0h1m1 0h5m1 0h2m40 0h3m2 0h1m6 0h4m89 0h3m12 0h1m43 0h1m34 0h1M271 186h1m23 0h11m2 0h1m34 0h3m1 0h2m1 0h4m90 0h1m1 0h2m1 0h1m4 0h1m56 0h1m27 0h1M269 187h8m2 0h1m16 0h1m3 0h5m1 0h1m10 0h1m26 0h1m1 0h4m36 0h3m1 0h1m51 0h1m4 0h1m56 0h1m1 0h1M261 188h1m1 0h1m5 0h4m2 0h1m1 0h2m18 0h1m2 0h4m15 0h1m27 0h1m16 0h1m2 0h2m16 0h3m1 0h2m1 0h1m1 0h1m8 0h1m39 0h1m18 0h1m42 0h1m6 0h1m1 0h1"/><path stroke="#2525fa" d="M677 141h1M682 143h1M162 145h1m421 0h1m63 0h1m26 0h1m20 0h1M627 146h1m20 0h1M82 147h1m521 0h1m74 0h1M542 148h1m31 0h1m69 0h1M111 149h1m22 0h1m13 0h1m43 0h1m493 0h1m6 0h1M98 150h1m485 0h1m4 0h1m54 0h1m5 0h1M82 151h1m27 0h1m14 0h1m26 0h1m26 0h1m490 0h1m20 0h1M85 152h1m577 0h1m3 0h1m22 0h1M95 153h1m6 0h1m1 0h2m5 0h1m55 0h2m361 0h1m127 0h1m5 0h1m32 0h1M56 154h1m5 0h1m10 0h1m42 0h1m14 0h1m57 0h1m7 0h1m368 0h1m22 0h1m22 0h1m25 0h1m16 0h1m5 0h1m18 0h1m1 0h1m7 0h1m4 0h1M87 155h1m30 0h1m2 0h1m8 0h1m29 0h1m2 0h1m9 0h1m93 0h1m315 0h2m56 0h1m8 0h1m12 0h1m29 0h1m2 0h1M54 156h1m5 0h1m9 0h1m29 0h2m26 0h1m55 0h1m12 0h1m51 0h1m17 0h1m33 0h1m5 0h1m45 0h1m143 0h1m25 0h1m5 0h1m94 0h1m25 0h1m6 0h1m1 0h1m19 0h1m2 0h2m8 0h2M57 157h2m4 0h1m5 0h2m31 0h1m1 0h1m3 0h1m4 0h1m1 0h1m24 0h1m4 0h1m2 0h1m8 0h1m14 0h1m16 0h1m49 0h1m9 0h1m6 0h1m8 0h1m30 0h1m43 0h1m21 0h1m5 0h1m15 0h1m42 0h1m24 0h1m39 0h1m16 0h2m11 0h1m32 0h1m6 0h1m37 0h1m18 0h1m14 0h1m3 0h1m2 0h1m5 0h1m10 0h1m18 0h1m1 0h1m1 0h1m1 0h1m7 0h3M52 158h1m3 0h1m6 0h1m3 0h1m12 0h1m3 0h1m7 0h2m8 0h1m14 0h2m9 0h1m5 0h1m5 0h1m2 0h1m13 0h1m2 0h1m2 0h1m26 0h1m16 0h2m12 0h1m8 0h1m16 0h1m6 0h1m6 0h1m21 0h1m4 0h1m3 0h1m6 0h1m14 0h1m25 0h1m1 0h1m11 0h1m73 0h1m1 0h1m75 0h1m5 0h1m3 0h1m3 0h1m10 0h2m23 0h1m12 0h1m4 0h1m28 0h1m8 0h2m7 0h1m2 0h1m12 0h1m18 0h1m7 0h1m1 0h1m7 0h1m4 0h2m12 0h1m2 0h1M60 159h1m23 0h1m1 0h1m1 0h1m4 0h1m17 0h1m37 0h1m7 0h2m1 0h1m22 0h1m2 0h1m16 0h1m4 0h1m2 0h2m22 0h1m2 0h1m32 0h2m1 0h1m42 0h1m9 0h1m4 0h1m4 0h2m1 0h1m19 0h1m5 0h2m6 0h3m5 0h1m3 0h1m4 0h1m6 0h1m29 0h1m1 0h1m2 0h1m10 0h1m19 0h1m32 0h1m6 0h1m7 0h1m10 0h1m15 0h3m5 0h1m26 0h1m10 0h1m38 0h1m5 0h2m3 0h1m37 0h1m4 0h1m4 0h1m13 0h1M84 160h1m3 0h1m2 0h1m20 0h1m31 0h1m12 0h1m2 0h1m5 0h1m8 0h1m7 0h2m8 0h1m6 0h1m4 0h4m18 0h1m8 0h3m20 0h1m10 0h2m8 0h2m1 0h1m5 0h2m11 0h1m6 0h1m4 0h1m22 0h1m17 0h1m4 0h1m4 0h2m2 0h2m9 0h1m1 0h2m3 0h1m13 0h1m2 0h1m1 0h1m3 0h2m23 0h1m20 0h2m19 0h1m1 0h1m1 0h1m18 0h1m6 0h1m30 0h1m35 0h1m23 0h1m12 0h3m41 0h1m14 0h1m18 0h1M208 161h1m14 0h2m3 0h2m21 0h1m19 0h1m8 0h1m1 0h1m6 0h1m8 0h1m1 0h1m12 0h1m3 0h1m9 0h1m4 0h1m8 0h1m14 0h1m7 0h2m4 0h1m27 0h1m3 0h1m4 0h2m6 0h2m7 0h1m9 0h1m1 0h1m18 0h3m27 0h1m10 0h1m26 0h1m19 0h1m9 0h1m111 0h1m7 0h1m15 0h1M59 162h1m94 0h1m20 0h1m143 0h2m1 0h1m3 0h4m6 0h1m9 0h1m36 0h1m2 0h1m1 0h2m40 0h1m31 0h1m4 0h1m33 0h1m17 0h1m18 0h1m70 0h1m68 0h1m13 0h1M266 163h1m13 0h1m33 0h1m4 0h1m6 0h1m6 0h1m58 0h1m145 0h1M320 164h1m137 0h1m11 0h1m150 0h1M155 165h1M329 166h1m208 0h1m13 0h1m47 0h1m5 0h1M607 167h2m1 0h2M469 168h1m82 0h1M552 169h1M375 170h1m25 0h12m1 0h1M389 171h9m1 0h2m14 0h4m2 0h1m2 0h3M363 172h1m1 0h21m2 0h1m3 0h1m41 0h4m7 0h2m119 0h1m1 0h1m1 0h1M349 173h9m1 0h2m52 0h1m5 0h2m24 0h1m9 0h1m96 0h1M331 174h2m20 0h1m58 0h2m1 0h1m1 0h3m34 0h2m87 0h1m17 0h1M196 175h1m47 0h1m4 0h9m33 0h1m1 0h2m3 0h9m1 0h2m1 0h3m3 0h2m1 0h2m1 0h1m1 0h1m1 0h1m13 0h1m2 0h8m62 0h3m19 0h1m9 0h1m1 0h1m11 0h1m87 0h1m3 0h1M175 176h5m3 0h1m2 0h1m2 0h1m35 0h2m3 0h1m28 0h1m80 0h4m1 0h3m1 0h2m24 0h1m66 0h1m4 0h2m6 0h1m29 0h1M178 177h3m2 0h1m36 0h1m1 0h1m5 0h9m30 0h1m1 0h2m48 0h1m2 0h1m6 0h1m10 0h5m1 0h6m21 0h2m70 0h1m1 0h1m1 0h1m31 0h1m2 0h1m8 0h1m10 0h1m47 0h1M181 178h5m2 0h1m2 0h1m4 0h1m5 0h2m1 0h11m17 0h2m1 0h5m2 0h1m21 0h1m2 0h1m37 0h1m5 0h1m5 0h1m22 0h1m1 0h1m1 0h7m1 0h1m1 0h1m3 0h1m3 0h3m2 0h1m1 0h3m1 0h4m26 0h1m1 0h1m2 0h1m4 0h2m2 0h1m27 0h1m8 0h1m48 0h1m4 0h1m1 0h1m40 0h1M196 179h2m3 0h3m1 0h2m4 0h1m20 0h4m1 0h15m1 0h1m4 0h1m3 0h2m1 0h2m21 0h2m2 0h1m8 0h2m5 0h1m33 0h1m1 0h14m6 0h1m2 0h1m1 0h2m1 0h3m2 0h2m1 0h1m15 0h3m1 0h13m28 0h2m2 0h1m37 0h1m10 0h1m15 0h2m31 0h2M182 180h1m8 0h1m1 0h1m2 0h1m2 0h1m2 0h1m28 0h9m1 0h11m1 0h1m32 0h1m1 0h2m50 0h5m1 0h1m6 0h7m4 0h1m26 0h1m1 0h1m1 0h5m1 0h6m1 0h6m3 0h1m31 0h1m4 0h2m27 0h1m3 0h1m7 0h1m1 0h1m6 0h1m8 0h2M182 181h1m5 0h1m1 0h5m40 0h1m3 0h1m4 0h2m2 0h7m1 0h2m16 0h1m4 0h1m4 0h14m38 0h6m12 0h6m4 0h1m1 0h1m1 0h1m8 0h1m13 0h1m1 0h16m1 0h1m2 0h1m12 0h1m1 0h1m1 0h3m7 0h1m3 0h2m44 0h1m5 0h1m7 0h1m9 0h1m24 0h1m4 0h1M259 182h5m1 0h5m1 0h3m1 0h9m3 0h2m5 0h7m26 0h1m3 0h1m1 0h3m2 0h4m11 0h16m1 0h4m1 0h1m9 0h1m2 0h18m1 0h1m12 0h8m1 0h2m1 0h3m1 0h3m1 0h3m3 0h1m9 0h1m1 0h1m29 0h1m1 0h1m5 0h1m7 0h1m3 0h1m1 0h1M260 183h1m8 0h1m27 0h3m2 0h1m20 0h1m1 0h1m3 0h4m1 0h6m1 0h1m11 0h6m1 0h1m1 0h1m1 0h3m2 0h3m3 0h1m3 0h1m2 0h1m2 0h7m1 0h11m2 0h1m1 0h1m5 0h2m1 0h5m1 0h13m1 0h2m1 0h1m1 0h1m14 0h1m38 0h1m8 0h1m5 0h1m30 0h1m5 0h2M297 184h6m6 0h1m9 0h1m8 0h1m2 0h1m4 0h5m16 0h4m2 0h1m20 0h1m3 0h6m3 0h4m1 0h1m3 0h2m6 0h1m1 0h2m1 0h5m1 0h8m2 0h2m9 0h1m9 0h1m28 0h1m26 0h1m1 0h1M297 185h1m2 0h10m1 0h1m3 0h9m2 0h1m9 0h1m1 0h2m16 0h9m1 0h1m16 0h1m2 0h2m1 0h1m1 0h1m2 0h2m4 0h1m1 0h2m1 0h5m1 0h1m1 0h4m4 0h4m1 0h2m1 0h1m2 0h2m15 0h1m4 0h1m3 0h1m38 0h2m9 0h1m1 0h3m39 0h1M306 186h2m1 0h16m1 0h1m12 0h4m11 0h6m1 0h3m1 0h3m14 0h13m2 0h1m1 0h14m1 0h2m4 0h1m1 0h1m1 0h7m1 0h1m1 0h1m1 0h1m1 0h1m1 0h1m7 0h1m38 0h1m4 0h1m5 0h1M305 187h1m1 0h10m1 0h7m2 0h1m1 0h1m3 0h1m6 0h4m1 0h1m4 0h7m1 0h3m1 0h9m10 0h5m3 0h1m1 0h22m11 0h3m1 0h13m13 0h1m4 0h1m33 0h1m17 0h1m40 0h1M304 188h15m1 0h9m2 0h1m3 0h1m6 0h5m1 0h9m1 0h6m1 0h2m2 0h5m4 0h4m1 0h2m3 0h1m2 0h1m1 0h1m1 0h8m1 0h7m16 0h1m1 0h1m1 0h10m3 0h1m2 0h1m39 0h1m3 0h1m1 0h1m4 0h1m5 0h1m3 0h1m2 0h1m1 0h1"/><path stroke="#0606fe" d="M658 135h1m27 0h1M65 138h1m587 0h1m2 0h1M65 139h1m59 0h1m559 0h1M651 140h1M597 141h1M59 142h1m65 0h1m434 0h1m129 0h1M59 143h1m41 0h1m5 0h1m148 0h1m316 0h1m90 0h1M189 144h1m459 0h1m15 0h1M123 145h1m3 0h2m11 0h1m11 0h1m20 0h1m449 0h1m23 0h1M127 146h1m6 0h1m27 0h1m3 0h1m3 0h1m30 0h1m320 0h1m66 0h1m14 0h2m17 0h1m61 0h1M126 147h1m18 0h2m5 0h1m34 0h1m354 0h1m92 0h1m4 0h1m3 0h1m33 0h1m12 0h1m4 0h1M60 148h1m3 0h1m73 0h1m3 0h1m28 0h1m14 0h1m7 0h1m325 0h1m54 0h1m55 0h1m2 0h3m19 0h1m36 0h1M66 149h2m22 0h2m20 0h1m28 0h1m14 0h2m352 0h1m32 0h1m13 0h1m87 0h1m18 0h1m10 0h1m1 0h2m17 0h1M55 150h1m46 0h1m8 0h1m6 0h1m10 0h1m9 0h1m7 0h2m52 0h1m318 0h1m34 0h1m14 0h1m24 0h1m37 0h1m28 0h1m13 0h1m2 0h1m13 0h1M54 151h1m43 0h1m3 0h1m38 0h1m28 0h1m25 0h1m34 0h1m73 0h1m244 0h1m44 0h1m40 0h2m55 0h1m3 0h1M51 152h1m2 0h1m33 0h1m55 0h1m60 0h1m49 0h2m2 0h1m2 0h1m234 0h1m6 0h1m55 0h1m28 0h1m10 0h1m18 0h2m27 0h1m16 0h1m27 0h1m2 0h1M56 153h1m12 0h1m26 0h1m3 0h1m30 0h1m1 0h1m28 0h1m42 0h1m355 0h1m60 0h1m15 0h1m9 0h1m7 0h1m3 0h1m4 0h1m30 0h1M68 154h2m36 0h1m42 0h1m17 0h1m5 0h1m13 0h2m1 0h1m7 0h1m50 0h1m2 0h1m47 0h1m4 0h1m101 0h1m115 0h1m37 0h1m3 0h1m1 0h1m32 0h1m30 0h2m1 0h1m15 0h1m3 0h1m12 0h1m1 0h1m9 0h1m13 0h1M51 155h1m12 0h1m55 0h1m26 0h1m11 0h1m26 0h1m60 0h1m5 0h1m46 0h3m36 0h1m183 0h1m4 0h1m5 0h1m25 0h1m2 0h1m1 0h1m5 0h1m9 0h2m11 0h1m35 0h1m3 0h1m14 0h1m7 0h1m21 0h1m2 0h1M64 156h1m18 0h1m98 0h1m28 0h2m16 0h1m6 0h1m25 0h2m23 0h1m2 0h1m12 0h1m20 0h1m12 0h1m16 0h1m26 0h1m8 0h1m111 0h1m1 0h1m19 0h1m25 0h1m40 0h1m7 0h2m5 0h1m19 0h1m4 0h2m23 0h1m1 0h1m3 0h1m6 0h1m18 0h1M52 157h1m20 0h1m10 0h1m14 0h1m1 0h1m1 0h1m10 0h1m9 0h1m1 0h1m7 0h1m6 0h1m16 0h1m7 0h1m11 0h1m5 0h1m5 0h1m3 0h1m4 0h1m7 0h1m5 0h1m19 0h1m8 0h1m4 0h1m6 0h1m2 0h3m39 0h2m2 0h1m1 0h2m34 0h1m5 0h1m9 0h1m39 0h1m16 0h1m15 0h1m5 0h1m67 0h1m1 0h1m47 0h1m3 0h2m1 0h1m5 0h2m19 0h1m5 0h1m10 0h2m11 0h1m2 0h2m7 0h1m4 0h1m16 0h1m1 0h1m1 0h1m4 0h1m3 0h1m7 0h1m10 0h1M103 158h1m7 0h1m14 0h1m29 0h1m18 0h1m27 0h1m5 0h1m18 0h2m8 0h1m25 0h2m12 0h2m9 0h1m4 0h1m1 0h2m11 0h1m11 0h1m5 0h1m7 0h1m5 0h1m11 0h1m1 0h1m4 0h1m4 0h1m8 0h2m8 0h1m1 0h2m14 0h1m19 0h1m17 0h1m8 0h1m14 0h1m12 0h1m8 0h1m14 0h1m11 0h1m7 0h1m8 0h1m2 0h1m4 0h1m4 0h1m11 0h1m5 0h1m10 0h1m50 0h1m6 0h1m16 0h1m25 0h1m4 0h1m2 0h1m9 0h1m5 0h1M117 159h1m6 0h1m41 0h1m8 0h1m17 0h2m18 0h1m14 0h2m36 0h1m14 0h1m1 0h1m5 0h2m1 0h1m12 0h1m3 0h1m4 0h1m20 0h1m9 0h1m7 0h1m11 0h1m14 0h1m9 0h1m3 0h1m4 0h1m4 0h1m9 0h1m3 0h1m4 0h1m5 0h1m2 0h1m10 0h1m13 0h1m1 0h2m23 0h2m31 0h1m6 0h1m23 0h1m47 0h1m6 0h1m34 0h1m52 0h1M220 160h2m6 0h1m21 0h1m11 0h1m3 0h1m30 0h1m15 0h1m13 0h1m1 0h1m15 0h1m7 0h1m4 0h1m3 0h1m8 0h1m16 0h1m11 0h1m7 0h1m20 0h1m38 0h1m17 0h1M216 161h2m32 0h1m75 0h1m6 0h1m89 0h1m44 0h1M90 162h1m92 0h1m37 0h1m5 0h1m154 0h1m213 0h1M468 163h2M439 164h1m27 0h3m68 0h1m14 0h1M439 165h2m25 0h4m68 0h1M420 166h1m18 0h1m26 0h1m1 0h1m1 0h1m132 0h1m1 0h1M420 167h2m4 0h1m2 0h1m10 0h1m25 0h2m124 0h1m5 0h1m4 0h1m42 0h1M428 168h1m6 0h1m31 0h1m85 0h1M428 169h1m10 0h1m3 0h1m1 0h1m1 0h3m16 0h1m1 0h2m83 0h1M398 171h1m2 0h1m3 0h1m2 0h1m1 0h5m45 0h1M389 172h3m1 0h13m2 0h2m3 0h1m1 0h12m126 0h1m11 0h1m3 0h1M361 173h2m1 0h2m2 0h1m1 0h1m1 0h4m1 0h8m1 0h1m1 0h10m1 0h6m2 0h1m2 0h3m3 0h3m2 0h17m8 0h1m2 0h1m89 0h1m13 0h1m6 0h1m2 0h1m10 0h1m1 0h1M349 174h4m5 0h4m11 0h12m1 0h4m2 0h1m1 0h2m4 0h1m1 0h2m1 0h1m1 0h1m8 0h1m3 0h18m3 0h1m1 0h1m15 0h1m77 0h1m1 0h1m11 0h1M330 175h1m1 0h3m1 0h5m1 0h2m14 0h1m11 0h2m1 0h1m2 0h1m1 0h1m1 0h1m1 0h1m17 0h6m2 0h1m2 0h3m3 0h7m1 0h3m1 0h7m1 0h1m4 0h1m1 0h1m17 0h1m67 0h1m16 0h1M180 176h1m14 0h3m3 0h1m1 0h2m3 0h1m1 0h2m1 0h3m2 0h7m2 0h3m1 0h4m1 0h9m1 0h4m5 0h2m15 0h20m2 0h1m1 0h4m1 0h1m3 0h3m2 0h6m2 0h1m1 0h3m1 0h1m2 0h1m1 0h1m7 0h1m1 0h1m4 0h1m6 0h1m2 0h2m13 0h6m1 0h2m14 0h1m3 0h1m1 0h1m1 0h5m1 0h1m1 0h2m1 0h16m1 0h10m3 0h1m40 0h1m1 0h1m1 0h3m15 0h1M181 177h2m1 0h17m4 0h1m4 0h1m1 0h1m4 0h1m1 0h1m1 0h1m15 0h4m1 0h14m1 0h10m1 0h1m2 0h12m2 0h2m1 0h2m4 0h1m1 0h3m3 0h1m1 0h1m1 0h1m1 0h1m1 0h5m1 0h1m3 0h1m2 0h1m1 0h2m5 0h3m4 0h1m15 0h3m2 0h1m2 0h10m2 0h7m1 0h1m3 0h1m1 0h17m1 0h1m1 0h2m3 0h4m1 0h10m2 0h7m6 0h1m16 0h1m20 0h2m2 0h1m1 0h1m1 0h1m1 0h1m1 0h1m44 0h1m13 0h1M186 178h2m1 0h2m1 0h3m40 0h1m5 0h2m1 0h18m1 0h2m1 0h2m1 0h17m1 0h12m2 0h5m1 0h5m1 0h1m1 0h3m5 0h1m1 0h2m2 0h1m1 0h2m1 0h2m2 0h3m1 0h1m1 0h1m7 0h1m1 0h1m1 0h3m1 0h3m3 0h2m1 0h1m3 0h1m4 0h26m1 0h1m1 0h2m1 0h4m2 0h2m1 0h7m1 0h1m5 0h1m1 0h3m7 0h1m17 0h1m18 0h2m9 0h2m1 0h1m56 0h1M252 179h1m1 0h4m1 0h3m2 0h1m2 0h21m2 0h2m1 0h8m2 0h5m1 0h5m1 0h3m2 0h1m2 0h1m1 0h1m7 0h9m1 0h1m14 0h6m1 0h2m1 0h1m2 0h1m3 0h2m2 0h1m1 0h3m1 0h3m2 0h6m3 0h1m13 0h19m1 0h5m5 0h1m4 0h1m5 0h1m7 0h2m25 0h1m5 0h1m1 0h1m55 0h1M252 180h1m1 0h22m2 0h8m1 0h1m2 0h15m2 0h4m1 0h3m1 0h4m1 0h5m1 0h2m4 0h7m20 0h4m1 0h15m3 0h8m1 0h1m1 0h1m19 0h3m1 0h20m6 0h1m2 0h1m36 0h1m4 0h1m4 0h1m42 0h1m15 0h1M258 181h16m1 0h4m1 0h4m14 0h26m1 0h11m24 0h4m1 0h1m1 0h1m1 0h8m1 0h13m1 0h1m16 0h1m1 0h2m1 0h12m1 0h1m1 0h1m3 0h6m45 0h1m3 0h1m9 0h1m10 0h1m43 0h1M264 182h1m5 0h1m30 0h26m1 0h3m1 0h1m3 0h2m31 0h1m4 0h1m1 0h9m1 0h2m18 0h1m1 0h5m1 0h3m1 0h2m8 0h1m2 0h1m3 0h1m7 0h1m5 0h1m9 0h1m24 0h1m10 0h1m2 0h1M300 183h2m1 0h20m1 0h1m1 0h3m4 0h1m25 0h1m1 0h1m1 0h1m3 0h2m3 0h3m1 0h3m1 0h2m1 0h2m7 0h1m11 0h2m1 0h1m1 0h5m2 0h1m5 0h1m13 0h1m7 0h1m41 0h1m4 0h1m5 0h1M303 184h6m1 0h9m1 0h8m1 0h2m1 0h4m25 0h2m1 0h20m1 0h3m6 0h3m4 0h1m1 0h3m2 0h6m1 0h1m2 0h1m5 0h1m8 0h2m2 0h2m1 0h1m2 0h1m45 0h1m1 0h1m4 0h2m55 0h1M310 185h1m1 0h3m9 0h2m1 0h9m1 0h1m27 0h1m1 0h16m1 0h2m2 0h1m1 0h1m1 0h2m2 0h4m1 0h1m2 0h1m5 0h1m1 0h1m4 0h4m4 0h1m2 0h1m1 0h2m2 0h5m1 0h1m1 0h1m5 0h1m37 0h1m5 0h1m60 0h1M325 186h1m1 0h12m21 0h1m3 0h1m3 0h7m1 0h1m1 0h4m13 0h2m1 0h1m14 0h1m2 0h4m1 0h1m1 0h1m7 0h1m1 0h1m1 0h1m1 0h1m20 0h1m27 0h1m10 0h1m6 0h1m8 0h1M325 187h2m1 0h1m1 0h3m1 0h6m17 0h1m3 0h1m9 0h6m1 0h3m32 0h11m3 0h1m15 0h1m1 0h2m2 0h1m12 0h1m24 0h1m10 0h1M329 188h2m1 0h3m1 0h6m15 0h1m16 0h4m4 0h1m28 0h7m1 0h8m1 0h1m1 0h1m29 0h1m27 0h1m48 0h1m1 0h1"/><path stroke="#0019e6" d="M643 130h1M134 132h1M77 133h1m578 0h1m8 0h1m27 0h1M153 134h1m493 0h1m45 0h1M82 135h1m42 0h1m12 0h1m446 0h1m58 0h1M82 136h1m40 0h1m459 0h1m72 0h1m7 0h1m15 0h1m2 0h1M52 137h1m6 0h1m47 0h1m481 0h1m60 0h1m32 0h1m9 0h1M57 138h1m60 0h2m20 0h1m21 0h1m503 0h1m26 0h1M548 139h2m5 0h1m97 0h1m24 0h1m11 0h1M57 140h1m127 0h1m340 0h1m10 0h1m44 0h2m47 0h1m1 0h2m17 0h1m2 0h1m8 0h1m28 0h2M100 141h1m11 0h1m3 0h1m8 0h2m27 0h1m538 0h1m2 0h1M90 142h1m9 0h1m11 0h1m8 0h1m6 0h2m36 0h1m19 0h1m378 0h1m7 0h1m59 0h1m3 0h2m1 0h1m37 0h1m12 0h1m3 0h1M58 143h1m43 0h1m7 0h1m8 0h1m5 0h3m17 0h1m39 0h1m408 0h1m5 0h1m29 0h1m7 0h1m1 0h1M65 144h2m4 0h1m15 0h1m18 0h1m448 0h1m44 0h1m3 0h1m33 0h1m17 0h1m4 0h1m13 0h1m20 0h1M87 145h1m57 0h1m24 0h1m364 0h1m65 0h1m22 0h1m13 0h1m7 0h1m2 0h2m5 0h1m2 0h1m16 0h1M52 146h1m34 0h1m52 0h1m11 0h1m26 0h1m22 0h1m44 0h1m243 0h1m31 0h2m29 0h1m12 0h1m13 0h1m8 0h1m53 0h1m18 0h1m1 0h1m25 0h1m4 0h1M103 147h1m72 0h1m11 0h1m53 0h1m268 0h1m11 0h1m59 0h1m13 0h1m32 0h1m3 0h1m3 0h1m8 0h1m8 0h1m40 0h1M68 148h1m28 0h1m47 0h1m42 0h1m3 0h1m63 0h1m254 0h1m7 0h1m21 0h1m15 0h1m38 0h2m25 0h2m30 0h1M125 149h1m3 0h1m10 0h1m53 0h1m5 0h1m9 0h1m22 0h1m270 0h1m4 0h1m34 0h2m4 0h1m16 0h1m11 0h2m16 0h2m31 0h1m2 0h1m28 0h1m3 0h1m9 0h1m2 0h1M103 150h1m88 0h1m9 0h1m7 0h1m9 0h1m47 0h1m12 0h1m23 0h1m183 0h1m9 0h1m4 0h1m12 0h1m1 0h1m10 0h1m19 0h1m7 0h1m5 0h1m63 0h1m11 0h2m12 0h1m1 0h1m39 0h1M64 151h1m8 0h3m7 0h1m25 0h1m8 0h1m21 0h1m37 0h1m43 0h1m15 0h1m23 0h1m1 0h1m18 0h1m213 0h1m16 0h2m1 0h1m9 0h1m43 0h1m49 0h1m17 0h1m8 0h1m6 0h2m19 0h1M79 152h2m6 0h1m21 0h1m47 0h1m125 0h1m12 0h1m15 0h1m28 0h1m42 0h1m28 0h1m89 0h1m24 0h1m18 0h1m107 0h1m2 0h1m3 0h1m1 0h1m1 0h1m17 0h1m6 0h2M58 153h1m14 0h1m70 0h1m19 0h1m35 0h1m24 0h1m26 0h2m26 0h1m2 0h1m18 0h1m6 0h1m35 0h1m7 0h1m54 0h1m90 0h1m3 0h1m2 0h1m10 0h1m41 0h1m2 0h1m18 0h1m5 0h1m12 0h1m2 0h1m45 0h1m28 0h1m8 0h1m4 0h1M87 154h1m122 0h1m1 0h2m16 0h1m3 0h2m3 0h1m7 0h1m18 0h1m17 0h2m20 0h1m72 0h1m77 0h1m47 0h1m7 0h1m10 0h1m10 0h1m67 0h1m9 0h1m50 0h1M167 155h1m40 0h1m3 0h1m19 0h1m11 0h1m67 0h1m27 0h1m19 0h1m4 0h2m7 0h1m12 0h1m9 0h2m15 0h1m8 0h1m93 0h2m10 0h1m11 0h1m53 0h1m35 0h1m29 0h2M53 156h1m58 0h2m31 0h1m3 0h1m13 0h1m22 0h1m35 0h1m5 0h1m3 0h1m51 0h1m27 0h1m6 0h1m15 0h1m4 0h1m4 0h2m44 0h1m11 0h1m3 0h2m13 0h1m1 0h1m39 0h1m53 0h1m42 0h1m9 0h1m26 0h1m22 0h2m19 0h1m2 0h1m19 0h1M142 157h1m6 0h1m32 0h1m3 0h1m8 0h1m18 0h1m17 0h1m15 0h1m17 0h2m51 0h1m6 0h1m36 0h1m10 0h1m12 0h2m6 0h2m16 0h1m8 0h1m3 0h1m10 0h1m59 0h1m9 0h1m45 0h1m86 0h1M53 158h1m111 0h1m47 0h1m52 0h1m9 0h1m3 0h1m10 0h1m6 0h1m4 0h1m11 0h1m13 0h1m6 0h1m61 0h1m2 0h1m22 0h2m141 0h1m23 0h1m1 0h2m27 0h1m61 0h1M215 159h1m7 0h1m56 0h1m34 0h1m13 0h1m6 0h1m2 0h1m60 0h1m10 0h1m4 0h1m14 0h1m7 0h1m85 0h1M332 160h1m106 0h1m19 0h1m136 0h1M329 161h1m109 0h1M440 162h1m27 0h2m83 0h1M440 163h1m26 0h1m85 0h1M440 164h1m25 0h1M470 165h1m82 0h1M467 166h1m1 0h1m83 0h1m39 0h1m5 0h1m1 0h1m2 0h1m38 0h1M468 167h3m67 0h1m14 0h1m100 0h1M421 168h2m1 0h1m5 0h1m10 0h1m24 0h1m1 0h1m1 0h1m66 0h2M430 169h1m4 0h1m1 0h1m2 0h1m26 0h1m2 0h1M466 170h1m1 0h4m65 0h1m15 0h1M402 171h3m1 0h2m1 0h1m62 0h4m61 0h2m14 0h1M539 172h1m27 0h1m3 0h2M363 173h1m5 0h1m1 0h1m4 0h1m21 0h1m43 0h1m94 0h1m8 0h1M362 174h5m1 0h3m1 0h1m17 0h2m7 0h1m1 0h1m2 0h1m42 0h2m79 0h1m21 0h1m2 0h1M359 175h9m4 0h1m1 0h2m1 0h1m1 0h1m1 0h1m1 0h2m3 0h5m1 0h3m2 0h1m24 0h1m3 0h1m12 0h1m85 0h1m25 0h1M198 176h2m6 0h2m4 0h1m32 0h1m4 0h5m2 0h1m34 0h2m1 0h1m6 0h3m3 0h2m49 0h6m1 0h1m11 0h14m2 0h1m2 0h1m29 0h1m53 0h1m1 0h1m55 0h1m13 0h1M241 177h1m14 0h1m26 0h2m2 0h1m2 0h4m1 0h1m5 0h1m1 0h1m1 0h1m1 0h1m1 0h1m48 0h2m1 0h2m19 0h1m1 0h3m1 0h1m19 0h1m9 0h1m10 0h2m54 0h1m1 0h1m1 0h1m1 0h1m3 0h2M262 178h1m23 0h1m139 0h1m1 0h5m1 0h1m9 0h1m41 0h1m1 0h1m49 0h1M326 179h7m51 0h1m3 0h2m42 0h1m71 0h1m4 0h1m27 0h1M276 180h2m27 0h2m4 0h1m3 0h1m4 0h1m5 0h1m2 0h4m47 0h3m126 0h1m29 0h1M324 181h1m117 0h1m51 0h1m42 0h1M413 182h1m3 0h1m30 0h1m36 0h1m23 0h1m43 0h1M463 183h1m21 0h1m3 0h1m48 0h1m14 0h1M463 184h1m22 0h2m49 0h1M441 185h1m17 0h1m1 0h1m25 0h1m2 0h1M375 186h1m1 0h1m82 0h2m26 0h2m3 0h1m15 0h1M377 187h1m110 0h1m2 0h1m17 0h1M418 188h1m30 0h1m11 0h1m47 0h1"/><path stroke="#0038c7" d="M121 126h1M696 127h1M691 128h1M634 129h1M167 130h1m468 0h1m27 0h1M680 131h1M100 132h1m17 0h1m16 0h1m472 0h1m35 0h1m15 0h1M79 133h1m60 0h1m503 0h1m15 0h1m3 0h1m1 0h1m21 0h1m2 0h1m4 0h1M80 134h1m17 0h1m53 0h1m500 0h1m22 0h1m19 0h1M98 135h2m39 0h1m30 0h1m378 0h1m38 0h1m28 0h1m10 0h2M52 136h1m48 0h1m5 0h1m17 0h1m62 0h1m11 0h1m331 0h1m84 0h1m32 0h1m6 0h1m7 0h1M62 137h1m476 0h1m11 0h2m13 0h1m21 0h1m21 0h1m45 0h1m4 0h1m18 0h1M161 138h1m403 0h1m26 0h1m51 0h1m7 0h1m2 0h1m14 0h1m1 0h1m26 0h1M103 139h2m83 0h3m287 0h1m94 0h1m78 0h1M186 140h1m54 0h1m27 0h1m250 0h1m27 0h1m57 0h1m3 0h1m67 0h1m10 0h1M90 141h1m116 0h1m145 0h1m166 0h1m51 0h2m115 0h1M201 142h1m20 0h1m41 0h1m82 0h1m190 0h2m26 0h1m5 0h1m1 0h1m12 0h1m106 0h1M106 143h1m17 0h1m4 0h1m72 0h1m30 0h1m31 0h1m281 0h2m90 0h1m38 0h1M148 144h2m133 0h1m235 0h1m34 0h1m39 0h1m8 0h1m88 0h1M77 145h1m10 0h1m35 0h1m39 0h1m21 0h1m25 0h1m9 0h1m17 0h1m28 0h2m17 0h1m215 0h1m122 0h2m26 0h1M53 146h1m103 0h1m13 0h1m68 0h1m3 0h1m11 0h1m96 0h1m20 0h1m120 0h1M51 147h1m105 0h1m8 0h1m19 0h1m29 0h1m9 0h1m54 0h1m6 0h1m20 0h1m43 0h1m8 0h1m20 0h1m128 0h1m3 0h1m41 0h1m87 0h1m42 0h1m2 0h1M193 148h1m1 0h1m4 0h2m24 0h1m46 0h1m79 0h1m29 0h1m120 0h2m3 0h1m19 0h2m22 0h1M149 149h1m56 0h1m43 0h1m30 0h1m27 0h1m77 0h1m93 0h1m70 0h1m78 0h1m23 0h1M183 150h1m19 0h1m3 0h1m13 0h1m42 0h1m4 0h1m13 0h1m69 0h3m23 0h1m44 0h1m126 0h1m15 0h1m22 0h1m15 0h1M157 151h1m17 0h1m38 0h1m2 0h2m4 0h1m39 0h1m2 0h1m48 0h1m39 0h1m38 0h3m119 0h1m79 0h1M237 152h1m15 0h1m6 0h1m8 0h1m7 0h1m19 0h1m49 0h1m133 0h1m34 0h1M109 153h1m59 0h1m77 0h1m39 0h1m6 0h1m11 0h1m20 0h1m2 0h1m53 0h1m5 0h1m66 0h1m23 0h1m202 0h1M169 154h1m45 0h1m15 0h1m65 0h1m16 0h1m6 0h1m5 0h1m2 0h2m13 0h1m15 0h1m1 0h1m1 0h1m14 0h1m5 0h1m19 0h1m99 0h1m144 0h1m21 0h1M76 155h1m152 0h1m18 0h1m60 0h1m5 0h1m8 0h1m27 0h1m22 0h1m15 0h1m17 0h1m14 0h2M207 156h1m42 0h1m31 0h2m12 0h1m37 0h1m27 0h1m5 0h1m5 0h1m22 0h1m4 0h1m3 0h1m13 0h1m167 0h1m1 0h1m1 0h1M329 157h1m7 0h1m5 0h1m25 0h1m20 0h1m29 0h1m65 0h1M320 158h1m99 0h1m2 0h1m7 0h1m7 0h1M325 159h1M553 160h1m37 0h1m5 0h1M439 162h1M439 163h1M537 164h1M418 165h1m118 0h1M440 166h1m207 0h1M424 167h2m13 0h1m97 0h1m53 0h1m61 0h1M436 168h1m2 0h2M432 169h1m1 0h1m9 0h1m1 0h1m91 0h1M454 170h1M461 171h1M537 172h1m4 0h1m30 0h1M476 173h1m74 0h1m25 0h1M476 174h1m72 0h1m5 0h1M477 175h1m55 0h2M489 176h1m48 0h1M509 177h1m27 0h1M460 178h1m24 0h1m3 0h1M484 179h2m1 0h1m2 0h1M479 180h1m10 0h1M485 181h1M444 182h1m41 0h1m4 0h1m2 0h1m16 0h1M487 183h1m4 0h1m16 0h1M482 184h1m5 0h1m3 0h1M444 185h1m48 0h1m2 0h1m12 0h1M490 186h1m62 0h1M489 187h2m3 0h1m2 0h1m39 0h1m15 0h1M442 188h1m47 0h1"/><path stroke="#0057a8" d="M153 121h1m448 0h1m90 0h1M131 123h1M548 124h1M82 127h1m25 0h1m2 0h1m498 0h1m35 0h1m9 0h1m20 0h1M665 128h1M129 129h1m442 0h1m83 0h1m7 0h1M663 130h1m4 0h1M109 131h1m29 0h1m20 0h1m6 0h1m14 0h1m405 0h1m12 0h1m7 0h1m18 0h1m7 0h1m22 0h1m36 0h1M62 132h1m84 0h1m19 0h1m17 0h1m2 0h1m360 0h1m42 0h1m98 0h3M56 133h1m46 0h1m14 0h1m12 0h1m25 0h1m18 0h1m3 0h2m365 0h1m17 0h1m37 0h1M106 134h1m53 0h1m391 0h1m28 0h1m10 0h1m15 0h1M94 135h1m11 0h1m93 0h1m58 0h1m18 0h1m255 0h1m37 0h1m43 0h1m14 0h1m23 0h2m24 0h1M102 136h1m360 0h1m36 0h1m25 0h1m36 0h1m47 0h1m18 0h2m31 0h1m2 0h1m17 0h1M58 137h1m103 0h1m54 0h1m71 0h1m237 0h1m3 0h1m28 0h1m21 0h1m90 0h1M174 138h1m10 0h1m101 0h1m10 0h1m261 0h1m108 0h1M90 139h1m96 0h1m53 0h1m31 0h1m2 0h2m211 0h1m14 0h1m32 0h1m20 0h1m6 0h1m8 0h1M214 140h1m55 0h1m25 0h1m57 0h1m134 0h1m37 0h1m28 0h1M205 141h1m11 0h1m156 0h1m199 0h1m89 0h1m11 0h1M207 142h1m27 0h1m29 0h1m99 0h1M103 143h1m62 0h1m40 0h1m37 0h1m65 0h1m211 0h1m168 0h1M173 144h1m1 0h1m29 0h1m1 0h1m4 0h1m74 0h1m22 0h1m41 0h1m21 0h1m120 0h2m34 0h1M65 145h1m139 0h1m77 0h1m3 0h1m140 0h1m62 0h1M235 146h1m6 0h1m2 0h1m20 0h1m31 0h1m6 0h1m34 0h1m11 0h1m147 0h1m15 0h1m12 0h1m5 0h1m19 0h1M175 147h1m32 0h1m6 0h1m71 0h1m20 0h1m10 0h1m8 0h1m34 0h1m2 0h1m1 0h2m14 0h1m67 0h1m28 0h1m5 0h1m47 0h1M217 148h1m136 0h1m32 0h2m19 0h1m72 0h2M310 149h1m42 0h1m8 0h1m44 0h1m22 0h1m58 0h1M313 150h1m1 0h1m15 0h1m5 0h1m36 0h1m12 0h1m42 0h1M207 151h1m24 0h1m4 0h1m53 0h1m77 0h1m3 0h1m9 0h2m3 0h1m18 0h1M324 152h1m21 0h1m6 0h1m20 0h1m8 0h1m21 0h1M328 153h1m129 0h1M301 154h1m60 0h1m63 0h1M330 155h1m57 0h1m15 0h1m3 0h1m96 0h1M333 156h1m70 0h1M593 157h1m4 0h1M590 159h3m2 0h1M589 160h1m2 0h2M451 161h1M418 166h1m176 0h1m1 0h1m4 0h1m29 0h1M589 167h1m54 0h1m5 0h1m1 0h1M427 168h1m5 0h1m3 0h1m192 0h1M431 169h1m1 0h1m103 0h1M455 170h1M574 172h1M544 173h1M529 174h1m8 0h1M454 175h1m76 0h1m5 0h1m18 0h1M477 176h1m59 0h1M442 177h1M486 179h1m6 0h1M443 180h1m41 0h1m7 0h1m44 0h1M486 181h2M481 182h1m5 0h1m49 0h1M481 183h1m55 0h1M495 184h1m13 0h1M488 185h2M496 186h1m40 0h1M444 187h1m10 0h1m27 0h1m54 0h1M484 188h1m9 0h1m2 0h1"/><path stroke="#078" d="M121 111h1M693 113h1M687 114h1M690 115h1M116 117h1m571 0h1M142 118h1m501 0h1m48 0h1M652 119h1m10 0h1m7 0h1m3 0h1M131 120h1m533 0h1M81 121h1m85 0h1m429 0h1m38 0h1M91 122h1m97 0h1m398 0h1m68 0h1m14 0h1M163 123h1m450 0h1m18 0h1m32 0h1M51 124h1m6 0h1m490 0h1m103 0h1m40 0h1M81 125h1m19 0h1m28 0h1m45 0h1m456 0h1m10 0h1m16 0h1M81 126h1m440 0h1m83 0h1m3 0h1m7 0h1m14 0h1m27 0h1M81 127h1m15 0h1m9 0h1m549 0h1m18 0h1m2 0h1m11 0h1M81 128h1m5 0h1m19 0h1m36 0h1m431 0h1m51 0h1m17 0h1m9 0h1M53 129h1m6 0h1m4 0h1m4 0h1m63 0h1m9 0h1m41 0h1m443 0h1m23 0h1M53 130h1m13 0h2m454 0h1m30 0h1m30 0h1m70 0h1m17 0h1M166 131h1m22 0h2m359 0h1m16 0h1m11 0h1m108 0h1m3 0h1M63 132h1m63 0h1m147 0h1m129 0h1m144 0h1m6 0h2M78 133h1m106 0h1m320 0h1m49 0h1m10 0h1M205 134h1m91 0h1m213 0h1m22 0h1m18 0h1m53 0h1m46 0h1M148 135h1m20 0h1m80 0h1m246 0h1m73 0h1m15 0h1m10 0h1M267 136h1m4 0h1m129 0h1m98 0h1m29 0h1m78 0h1M218 137h1m71 0h1m17 0h1m96 0h1m95 0h2m35 0h1M154 138h1m53 0h1m99 0h1M259 139h1m45 0h1m37 0h1m4 0h1M231 140h1m65 0h1m7 0h1m3 0h1m43 0h1m54 0h1M212 141h1m18 0h1m4 0h1m10 0h1m118 0h1m19 0h1m92 0h1m116 0h1M236 142h1m10 0h1m15 0h1m2 0h1m34 0h2m43 0h1m96 0h1m32 0h2M201 143h1m27 0h1m73 0h1m6 0h1m63 0h2m29 0h1m22 0h3M208 144h1m20 0h1m58 0h1m23 0h1m23 0h1m19 0h2m70 0h1M208 145h1m156 0h1m15 0h1m2 0h1m23 0h1M341 146h1m50 0h1M333 147h1m31 0h1m22 0h1m7 0h1m1 0h1m1 0h2m5 0h1m3 0h1m10 0h1m17 0h2m11 0h1M315 148h1m49 0h1m57 0h1M328 149h1m36 0h1M323 150h1M332 151h1m20 0h1M313 152h1m11 0h1m2 0h1m75 0h1m9 0h1m83 0h1M404 153h1M315 154h1M595 156h1M589 157h1m2 0h1m3 0h1M589 159h1m3 0h1M588 160h1M537 162h1M537 163h1M593 165h1m2 0h1M537 166h1m60 0h1M423 167h1m223 0h1M423 168h1m1 0h1m6 0h1m154 0h1m1 0h1M436 169h1m1 0h1M463 172h1m74 0h1m2 0h1M543 173h1m1 0h1M475 174h1m51 0h1m2 0h1m4 0h1m11 0h1m6 0h1M181 175h1m1 0h1m348 0h1m5 0h1M478 177h1M478 178h1m13 0h1m44 0h1M479 179h1M480 180h1m5 0h1M491 181h1M439 182h1m40 0h1m57 0h1M479 183h1m8 0h1m6 0h1M479 184h1M482 185h1m54 0h1M481 186h1m1 0h1M489 188h1"/><path stroke="#009669" d="M688 102h1M636 107h1M613 109h1M659 110h1M637 111h1M640 112h1m14 0h1m37 0h1M60 113h1m70 0h1M75 114h1m64 0h1m525 0h1M573 115h1M77 116h1m26 0h1m11 0h1m36 0h1m446 0h1m37 0h1m24 0h1m27 0h1M649 117h1m6 0h1m30 0h1M125 118h1m1 0h1m447 0h1m9 0h1m69 0h1m20 0h1m1 0h1M64 119h1m597 0h1M573 120h1m90 0h1M83 121h1m46 0h1m418 0h1m51 0h1m12 0h1m30 0h1m51 0h1M56 122h1m512 0h1m17 0h1m83 0h1m20 0h1M84 123h1m8 0h1m95 0h1m423 0h1m63 0h1M52 124h1m10 0h2m58 0h1m430 0h1m99 0h1m6 0h1M60 125h1m19 0h1m82 0h1m385 0h2m30 0h1m102 0h1M567 126h1M87 127h1m70 0h1m115 0h1m247 0h1m3 0h1m38 0h1m14 0h1M103 128h1m8 0h1m70 0h1m68 0h1m269 0h1m131 0h1M257 129h1m257 0h1m87 0h1m1 0h2M112 130h1m88 0h1m37 0h1m271 0h1m55 0h1m3 0h1m8 0h1m15 0h1m42 0h1M208 131h1m5 0h1m10 0h1m49 0h1M103 132h1m83 0h1m29 0h1m7 0h1m25 0h1m15 0h1m180 0h1m81 0h1m7 0h1m89 0h1M226 133h1m26 0h2m7 0h2M209 134h1m32 0h1m9 0h1m6 0h1m93 0h1m55 0h1m125 0h1M236 136h1m13 0h1m15 0h1m211 0h1m48 0h1M280 137h1m72 0h2m7 0h1m11 0h1M266 138h1m27 0h1m79 0h1M302 139h1m47 0h1m22 0h2M209 140h1m84 0h2m8 0h1m25 0h1m39 0h1m3 0h2m6 0h1M206 141h1m102 0h1m55 0h1m17 0h1m1 0h1m19 0h1m132 0h1M315 142h1m46 0h1m5 0h1m14 0h1m23 0h1m16 0h1m3 0h2M208 143h1m107 0h1m29 0h1m59 0h1M351 144h1m13 0h1m36 0h1m44 0h1M221 145h1m99 0h1m6 0h2m55 0h1m4 0h1M365 146h1m27 0h1m12 0h1m4 0h1m35 0h1M318 147h1m75 0h1m9 0h1M404 148h1m2 0h1m17 0h1M406 149h1M322 150h1m100 0h1M593 156h2M451 157h1m143 0h1M588 158h1m3 0h1m2 0h1M594 165h1M419 166h1M422 167h1M426 168h1m2 0h1m8 0h1m208 0h1M427 169h1m160 0h1M459 171h1M475 172h1m64 0h1m34 0h1m3 0h1M474 173h2M474 174h1m61 0h1m11 0h1M182 175h1m291 0h1m1 0h1M474 178h1m1 0h1m7 0h1M477 179h1M476 180h1m1 0h1M478 181h1m1 0h1M480 184h2M478 185h1m1 0h2M480 186h1m1 0h1M478 188h1m4 0h1m54 0h1"/><path stroke="#00b54a" d="M91 94h1M67 98h1m568 0h1M130 101h1M116 102h1M78 105h1m28 0h1M665 106h1M141 108h1m31 0h1m383 0h1M602 109h1M156 110h1m466 0h1m14 0h1M111 111h1m65 0h1m395 0h1m75 0h1M121 112h1m486 0h1m19 0h1m17 0h1m43 0h1M61 113h1m5 0h1m11 0h1m75 0h1m403 0h1M82 114h1m573 0h1M75 115h1m4 0h1m19 0h1m91 0h1m443 0h1m36 0h1m1 0h1M73 116h1m66 0h1m8 0h1m445 0h1m27 0h1m35 0h1m29 0h2M57 117h1m553 0h2m21 0h1m29 0h1M58 118h1m111 0h1m393 0h1m21 0h1m10 0h1M105 119h1m1 0h1m55 0h1m22 0h1m377 0h1m3 0h1m51 0h1m55 0h1M126 120h1m395 0h1m87 0h1m33 0h1m1 0h1m1 0h1m1 0h1m3 0h2m14 0h1M523 121h1m27 0h1m22 0h1m73 0h1m1 0h1m13 0h1M185 122h1m413 0h1m60 0h1M168 123h1m389 0h1m4 0h1m3 0h1m19 0h1M87 124h1m107 0h1m9 0h1m46 0h1m250 0h1M186 125h1m353 0h1M186 126h2m13 0h1m3 0h1m24 0h1M598 127h1M480 128h1m25 0h1m26 0h2m30 0h1M194 129h1m10 0h1m98 0h1m162 0h1m29 0h1m5 0h1m2 0h1M225 130h1M215 131h1m1 0h1m49 0h1m29 0h1m175 0h1m18 0h1M205 132h1m1 0h1m6 0h1m7 0h1m3 0h1m23 0h1m34 0h1m11 0h1m62 0h2m42 0h1m57 0h1m4 0h1m24 0h1M208 133h1m13 0h2m34 0h1m233 0h1m19 0h1M215 134h1m1 0h1m78 0h1m4 0h1m7 0h1m186 0h1M293 135h1m2 0h1m43 0h1m23 0h2m2 0h1M345 136h1m19 0h1m37 0h1m16 0h1m43 0h1m21 0h1M341 137h1m33 0h1m10 0h1m43 0h1M407 138h1m12 0h1M408 139h1m10 0h1m5 0h1m35 0h1M324 141h1m7 0h1m65 0h1m14 0h1M314 142h1m85 0h1m7 0h1m17 0h1M317 143h1m89 0h1m16 0h1M315 146h1M327 147h1M333 148h1M451 158h1M451 159h1M595 165h1M645 166h2M590 167h1m38 0h1m2 0h2m8 0h1M434 168h1m216 0h1m2 0h1M442 169h1M538 170h1m44 0h1M462 171h1M473 172h2m103 0h1m2 0h1M473 173h1M473 174h1M187 175h1m287 0h1M472 176h5M211 177h1m1 0h1m4 0h1m256 0h3M475 178h1m1 0h1m13 0h1M475 179h1m2 0h1m13 0h1m3 0h1M474 180h1m2 0h1M477 181h1m1 0h1m58 0h1M476 182h4M477 183h2m1 0h1M450 184h1m24 0h2M453 185h1m22 0h2m60 0h1M450 186h1m13 0h1m12 0h1m60 0h1M464 187h1m1 0h1m8 0h1m2 0h5M450 188h1m2 0h1m10 0h1m1 0h1m12 0h2m1 0h1"/><path stroke="#00d42b" d="M695 74h1M643 80h1M662 87h1m30 0h1M694 91h1M695 92h2M662 94h1M59 96h1m9 0h1m586 0h1m7 0h1m28 0h1M66 98h1m589 0h1m26 0h1M72 99h1m607 0h1M54 100h1m39 0h1m5 0h1m529 0h1M70 101h1m23 0h1m36 0h1M52 102h1m7 0h1m541 0h1m58 0h2m1 0h1m18 0h1M589 103h1m43 0h1m10 0h1m6 0h1m28 0h1m6 0h1M77 104h1m529 0h1m24 0h2m31 0h2m2 0h1m5 0h2M145 105h1m550 0h1M78 106h1m49 0h1m7 0h1m8 0h1m542 0h1m7 0h1M618 107h1m49 0h1M87 108h1m7 0h1m509 0h1m12 0h1m2 0h2M54 109h1m14 0h1m90 0h1m382 0h1m28 0h1m32 0h1m73 0h1M75 110h1m484 0h1m91 0h1m39 0h1M66 111h1m55 0h1m1 0h1m54 0h1M127 112h1m6 0h1m391 0h1m79 0h1M73 113h1m15 0h1m2 0h2m63 0h1m102 0h1m336 0h1m10 0h1m12 0h1m2 0h1M80 114h1m6 0h1m18 0h1m475 0h1m33 0h1M504 115h1m23 0h1m87 0h1M109 116h1m413 0h1M205 117h1m59 0h1m274 0h1m82 0h1M84 118h1m8 0h1m29 0h1m400 0h2m9 0h1m37 0h1M197 119h1m44 0h1m12 0h1m3 0h1m254 0h1m9 0h1M163 120h1m41 0h1m394 0h1m40 0h1m7 0h1m1 0h1m1 0h1M205 121h1m22 0h1m46 0h1m241 0h1m1 0h1m123 0h2m7 0h1m3 0h2m1 0h1M229 122h1m30 0h1m226 0h1m176 0h1m1 0h1M217 123h1m8 0h1m11 0h1m28 0h1m15 0h1m206 0h1M484 124h1M201 125h1m48 0h1m30 0h1m15 0h1m260 0h1M176 126h1m37 0h1M206 127h1m9 0h1m64 0h1M231 128h1m135 0h1m126 0h1M195 129h1m93 0h1m171 0h1m4 0h1m31 0h1M229 130h1m21 0h1m44 0h1m152 0h1m31 0h1M206 132h1m16 0h1m44 0h1m14 0h1m20 0h1m7 0h1m70 0h1m17 0h1m84 0h1M314 133h1m45 0h1M223 134h1m116 0h1m104 0h1M313 135h3m16 0h1m36 0h1M314 136h1m15 0h1m7 0h1m82 0h1M330 137h1m78 0h2M326 138h1m3 0h1M328 139h1m82 0h2M434 140h1M325 141h1m7 0h1m63 0h1M427 142h1M431 143h1M398 144h1M451 160h1M419 165h1M628 167h1m6 0h1M431 168h1m156 0h1m46 0h1M586 169h1M471 171h1M469 172h1m2 0h1m103 0h1M472 173h1m65 0h1M470 174h1m1 0h1M184 175h2M217 176h1M214 177h1m1 0h1m255 0h1m1 0h1m63 0h1M473 179h1m2 0h1m61 0h1M472 180h2M473 181h4m20 0h1M473 182h1m23 0h1M439 183h1m24 0h1m7 0h5m17 0h1m3 0h1M464 184h1m8 0h1m3 0h2m15 0h1m3 0h1m39 0h1M464 185h1m1 0h1m7 0h1m4 0h1m15 0h1M439 186h1m13 0h1m21 0h1m2 0h2M450 187h1m2 0h1m22 0h2M481 188h1m14 0h1"/><path stroke="#00f40b" d="M641 60h1M644 65h1M636 66h1M693 67h1M635 71h1M661 72h1M610 74h1M94 75h1M671 77h1M688 78h1m4 0h1M693 81h1m1 0h1M696 82h1M644 83h1M671 84h1m24 0h1M625 85h1m55 0h1M69 86h1m41 0h1m513 0h1M67 87h1M588 88h1M151 89h1m36 0h1M146 90h1m461 0h1M563 91h1m36 0h1m63 0h1m28 0h1M655 92h1m3 0h1m28 0h1M584 93h1m38 0h1M92 94h1m472 0h1m31 0h1M91 95h1m48 0h1m21 0h1m435 0h1m58 0h1m4 0h1M60 96h1m24 0h1m48 0h1m29 0h1m12 0h1m435 0h1m7 0h1m58 0h1m13 0h1M134 97h1m1 0h1m30 0h1m29 0h1m355 0h1m44 0h1m37 0h1m7 0h1m23 0h1m6 0h1M136 98h1m4 0h1m384 0h1m2 0h1m149 0h1M102 99h1m17 0h1m147 0h1m251 0h1m103 0h1m5 0h1m33 0h1m31 0h1M90 100h1m479 0h1m123 0h1M90 101h1m25 0h1m28 0h1m22 0h1m414 0h1m92 0h1M98 102h1m31 0h1m441 0h1m30 0h1M98 103h1m48 0h1m417 0h1m68 0h1m57 0h1M172 104h1m514 0h1M103 105h1m46 0h1m10 0h1m470 0h1m1 0h1m21 0h1M150 106h1m389 0h1M173 107h1m14 0h1m67 0h1m393 0h1M69 108h1m91 0h1m396 0h1m8 0h1M161 109h1m20 0h1m373 0h1M157 110h1m33 0h1m13 0h1m43 0h1m266 0h1m15 0h1m10 0h1m17 0h1m12 0h1m26 0h1m20 0h1M525 111h1m40 0h1m111 0h1M573 112h1M195 113h1m71 0h1m237 0h1M169 114h1m12 0h2m26 0h1m293 0h1m168 0h1M205 115h1m1 0h1m31 0h1m46 0h1m176 0h1m3 0h1m42 0h1M277 116h1m5 0h1m227 0h1M535 117h1M261 118h1m34 0h1m171 0h1m44 0h2M205 119h1m299 0h2M642 120h1m2 0h1m1 0h1M206 121h1m62 0h1m16 0h1m18 0h1m178 0h1m166 0h1m6 0h1m1 0h4m1 0h1M238 122h1m44 0h1m2 0h1m21 0h1m198 0h1m148 0h1m5 0h1M365 123h1m106 0h1m16 0h1m27 0h1M266 124h1m218 0h1M253 125h1m211 0h1M283 126h1m17 0h1m8 0h1m151 0h1M207 127h1m96 0h1m45 0h1m127 0h1M304 128h2m142 0h1m29 0h2M280 129h1m27 0h1m52 0h2m6 0h1m78 0h1M487 130h1M221 131h1m108 0h1m30 0h1m3 0h1m17 0h1m62 0h1M353 132h1m48 0h1m90 0h1M330 133h1m24 0h1m34 0h1m8 0h1m8 0h1m26 0h1m1 0h1m9 0h1M320 136h1m16 0h1m84 0h1M326 137h1m1 0h1m77 0h2m5 0h1m7 0h1M389 138h1m29 0h1M592 166h1M634 167h1m1 0h1M632 168h1m13 0h1M585 170h1M470 171h1M471 172h1M470 173h1M471 175h3M470 176h2M215 177h1m255 0h1m1 0h1M472 178h2m21 0h1M472 179h1m1 0h1M464 180h1m6 0h1m3 0h1m16 0h1M439 181h1m32 0h1m20 0h1M470 182h3m1 0h2m17 0h1M469 183h1m1 0h1M439 184h1m26 0h1m5 0h1m1 0h1M450 185h1m19 0h4m1 0h1M466 186h1m5 0h2m2 0h1m18 0h1M471 187h1m1 0h1M475 188h3"/><path stroke="#26ff00" d="M679 41h1M687 48h1M116 53h1M643 54h1M693 55h1M575 58h1M686 61h1m6 0h1M693 62h1M125 63h1m517 0h1m12 0h1M69 65h1m573 0h1m12 0h1m1 0h1M635 66h1m43 0h1M636 67h1m49 0h1M101 68h1m560 0h1M589 69h1m30 0h1m8 0h1m25 0h1M139 70h1m402 0h1m118 0h1m35 0h1M72 71h1m1 0h1m548 0h1m51 0h1m21 0h1M107 73h1m35 0h1m463 0h1m40 0h2m6 0h1M667 74h1M77 75h1m47 0h1m484 0h1m66 0h1M52 76h1m9 0h1m104 0h1m488 0h1M54 77h1m12 0h1m76 0h1m404 0h1m124 0h1M87 79h1m19 0h1m442 0h1m68 0h1M140 80h1m409 0h1m144 0h1M145 81h1m10 0h1m507 0h1m25 0h1m3 0h1M88 82h1m476 0h1m70 0h1M89 83h3m36 0h1m463 0h1m57 0h2m19 0h1m12 0h1M71 84h1m28 0h1m17 0h1m6 0h1m498 0h1m9 0h1m34 0h1M125 85h1m75 0h1m419 0h1m43 0h1m26 0h1M85 86h1m45 0h1M82 87h1m38 0h2m15 0h2m26 0h1m405 0h1m34 0h1M92 88h1m10 0h1m47 0h1m401 0h1m74 0h1m20 0h1M51 89h1m48 0h1m1 0h1m460 0h1m91 0h1m28 0h1m9 0h1M102 90h1m3 0h1m493 0h1m73 0h1M587 91h1m81 0h1M563 92h1M55 93h1m66 0h1m414 0h1m27 0h1m47 0h1M87 94h1m15 0h1m439 0h1m38 0h1m27 0h1m37 0h1M106 95h1m142 0h1m329 0h2m75 0h1M163 96h1m423 0h1M168 97h1m403 0h1m77 0h1M86 98h1m53 0h1m384 0h1m6 0h1m106 0h1m10 0h1M596 99h1m42 0h1m25 0h1M271 100h1m283 0h1m13 0h1m13 0h1m47 0h1m24 0h1M117 101h1m49 0h1m3 0h1m94 0h2M506 102h1m189 0h1M211 103h1m24 0h1M265 104h1m273 0h1M242 105h1m274 0h1m2 0h1M296 106h1m223 0h1M164 107h1m10 0h1m5 0h1m26 0h1m38 0h1m95 0h1m162 0h1m4 0h1m27 0h1m27 0h1M492 108h1m18 0h1m59 0h1M238 109h1m60 0h1m220 0h1M194 110h1m30 0h1m21 0h1m2 0h1m280 0h1M231 111h1M205 112h1m35 0h2m28 0h1m233 0h1m14 0h1M194 113h1m19 0h1m51 0h1M88 114h1m197 0h1m17 0h1m225 0h1M213 115h1m282 0h1M213 116h1m91 0h2M226 117h1m35 0h1m250 0h1M452 118h1m36 0h1M178 119h1m120 0h1m152 0h1m34 0h1M309 120h1m45 0h1m114 0h1m172 0h1m8 0h1M223 121h1m129 0h1m27 0h1m82 0h1m5 0h1m47 0h1m19 0h1m127 0h1M228 122h1m245 0h1m11 0h1M375 123h1m97 0h1M308 124h1m44 0h1M365 125h1m15 0h1m66 0h1M366 126h1m7 0h1M224 127h1m131 0h1m83 0h1M365 128h1m8 0h1m31 0h1M365 129h1m20 0h1m41 0h1m30 0h1M312 131h1m82 0h1m12 0h1M314 132h1m85 0h1M389 133h1m16 0h1M333 135h1m111 0h1M326 136h1M408 137h1M591 166h1m44 0h1M584 170h1M468 171h1M470 172h1M471 173h1M471 174h1M201 175h1m265 0h3M468 176h2M464 177h1m4 0h2M464 178h1m3 0h4M469 179h3M453 180h1m15 0h2m25 0h1M468 181h1m1 0h2M453 182h1m12 0h1m2 0h1M453 183h1M453 184h1m14 0h4M439 185h1m29 0h1M471 186h1m2 0h1M470 187h1m1 0h1m1 0h1m21 0h1M467 188h1m1 0h6"/><path stroke="#61ff00" d="M102 40h1M604 42h1M693 43h1M66 44h1m58 0h1m476 0h1m58 0h1m9 0h1M116 45h1m480 0h1M619 46h1M610 47h1m64 0h1M142 48h1M588 49h1M60 50h1m603 0h1m18 0h1M118 51h2m8 0h1m495 0h1M566 52h1m73 0h1m15 0h1m36 0h1M63 53h1m77 0h1m378 0h1m62 0h2m65 0h1M647 54h1m2 0h1M58 55h1M111 56h1m445 0h1m78 0h1M89 57h1m570 0h1m29 0h2M162 58h1m529 0h1M72 59h2m589 0h1M139 60h1m2 0h1m467 0h1m35 0h1m44 0h1M139 61h1m20 0h1m423 0h1m59 0h1m42 0h1M186 62h1m441 0h2M130 63h1m13 0h1m428 0h1m113 0h1M90 65h1m504 0h1m59 0h1m5 0h1m14 0h1M66 66h1m28 0h1m559 0h1m20 0h1M95 67h1m569 0h1M58 68h1m28 0h1m16 0h2m1 0h1m19 0h1m541 0h1M101 69h1m34 0h1m471 0h1m21 0h1m3 0h1m47 0h1m13 0h1M107 70h1m522 0h1m19 0h2M648 71h1m1 0h1m27 0h1M116 72h1m16 0h1m471 0h1m12 0h1m1 0h1M60 73h1m544 0h1m7 0h1m6 0h1M98 74h1m525 0h1m24 0h1m19 0h2M122 75h1m18 0h1m1 0h1m411 0h1m65 0h1m28 0h1M53 76h1m52 0h1m37 0h1m375 0h1m28 0h1m4 0h1M87 77h2m73 0h1m509 0h1m9 0h1M596 78h1m8 0h1m86 0h1M52 79h1m56 0h1m410 0h1m84 0h1M61 80h1m40 0h1m154 0h1m341 0h1M201 81h1m321 0h1m15 0h1m70 0h1M112 82h1m31 0h1m519 0h1M100 83h1m69 0h1m425 0h1m10 0h1m75 0h1M63 84h2m22 0h1m113 0h1m318 0h1M579 85h1m49 0h2M63 86h1m72 0h1m12 0h1m367 0h1m26 0h1M99 87h1m88 0h1M162 88h1m444 0h1m34 0h1M242 89h1m268 0h1m13 0h1m62 0h1m67 0h1M100 90h1m35 0h1m30 0h1m10 0h1m10 0h1m59 0h1m261 0h1m87 0h1m73 0h1M80 91h1m103 0h1m312 0h1M139 92h1m22 0h1m4 0h1m73 0h1m361 0h1M279 93h1M179 94h1m331 0h1m4 0h2m91 0h1M511 96h1M175 97h1m80 0h1m272 0h1M76 98h1m481 0h1M284 99h1m20 0h1M260 100h1m11 0h1m218 0h1M279 101h1m199 0h1M171 102h1m321 0h1m11 0h1m10 0h1M235 103h1m64 0h1m182 0h1m28 0h1m3 0h1M212 104h1m25 0h1m8 0h1m13 0h1m4 0h1m201 0h1m44 0h1M267 105h1m229 0h1M181 106h1m108 0h1m1 0h1m11 0h1M295 107h1m167 0h1m3 0h1m36 0h1m60 0h1M237 108h1m61 0h1m194 0h1m52 0h1M212 109h1m70 0h1m61 0h1m136 0h1m15 0h2M301 110h1m177 0h1M206 111h2m249 0h1m41 0h1M299 112h1m2 0h1m2 0h1m144 0h1M300 113h1m52 0h1M305 114h1m3 0h1m150 0h1m18 0h2M345 115h1m7 0h1m94 0h1m19 0h1m10 0h1M280 116h1m105 0h1m84 0h1M215 117h1m7 0h1m67 0h1m10 0h1M482 118h1M370 119h1M538 120h1M395 122h1M428 123h1M365 124h1m18 0h1M381 126h1m9 0h1M389 127h1m1 0h1M332 128h1m33 0h1m41 0h1m20 0h1m4 0h1M336 129h1m95 0h1M399 130h1m32 0h1M425 131h1m10 0h1m3 0h1M329 133h1m58 0h1m18 0h1m10 0h1M410 135h1M411 136h1M421 162h1M403 163h1M628 166h1M630 167h1m7 0h1m4 0h1M467 170h1M467 171h1m1 0h1m110 0h1m1 0h1M467 172h2m108 0h1M367 173h1m98 0h1m1 0h2M367 174h1m99 0h1m1 0h1M470 175h1M216 176h1m131 0h1M467 177h2M466 178h2M468 179h1M450 180h1m5 0h1m11 0h1M450 181h1m2 0h1m2 0h1m7 0h1m4 0h1M450 182h1m17 0h1M450 183h1m15 0h1m1 0h1m1 0h1M467 184h1M467 185h2M467 186h4M467 187h3M451 188h1m16 0h1"/><path stroke="#9cff00" d="M140 41h1m409 0h1m32 0h1m52 0h1M98 42h1m3 0h1m520 0h1m12 0h1m10 0h1m37 0h1M676 43h1M60 44h1m61 0h1m474 0h1M110 45h1m11 0h1m466 0h1m8 0h1m3 0h1m76 0h1M51 46h2m58 0h1m22 0h2m461 0h1m12 0h1M51 47h1m30 0h1m24 0h1m15 0h1m495 0h1m14 0h1m15 0h1m21 0h1M141 48h1m491 0h1M52 49h1m7 0h1m4 0h1m36 0h1m22 0h1m18 0h1m8 0h1M102 50h1m494 0h1m26 0h1M53 51h1m6 0h1m81 0h1m405 0h1M139 52h1m452 0h1m65 0h1m10 0h1M56 53h1m29 0h1m34 0h1m18 0h1m382 0h1m153 0h1m16 0h1M140 54h1m19 0h1m6 0h1m411 0h1m49 0h1m32 0h1m30 0h1M555 55h1m53 0h1m51 0h1M54 56h1m3 0h1m107 0h1m394 0h1m1 0h1M624 57h1m30 0h1M131 58h1m393 0h1m28 0h1M87 59h1m9 0h1m14 0h1m21 0h2m40 0h1m1 0h1m341 0h1m22 0h1M72 60h1m87 0h1m502 0h1m28 0h1M84 61h1m7 0h1m73 0h1m24 0h1m407 0h1m78 0h1M76 62h2m2 0h1m98 0h1m442 0h1M574 63h1M90 64h1m473 0h2m28 0h1m20 0h1M95 65h1m61 0h1m8 0h1M157 66h1m353 0h1m74 0h1M66 67h1m40 0h1m94 0h1M106 68h1m64 0h1m489 0h1M104 69h1m100 0h1m305 0h1m19 0h1m48 0h2m39 0h1M263 70h1m409 0h1M73 71h1m59 0h2m554 0h1M109 72h1m67 0h1m363 0h1m71 0h1M109 73h1m13 0h1m125 0h1m43 0h1M107 74h1m454 0h1M150 75h1m383 0h1m21 0h1m82 0h1M242 76h1m307 0h1M163 77h1m41 0h1m36 0h1m40 0h1m220 0h1M167 78h1m115 0h1m227 0h1m46 0h1M51 79h1m467 0h1M520 80h1m4 0h1M112 81h1m390 0h1m7 0h1M505 82h1M511 83h1M517 85h1M254 86h1m255 0h1M209 87h1m301 0h1M214 88h1m51 0h1m252 0h2M211 89h1m42 0h1m298 0h1M168 90h1m15 0h1m499 0h1M242 91h2m25 0h1M222 92h1m56 0h1M222 93h1m74 0h1m3 0h1m177 0h1m23 0h1m34 0h1M220 94h1m10 0h1m25 0h1m205 0h1m90 0h1M199 95h1m5 0h1m49 0h1m287 0h1m9 0h1M260 96h1m10 0h1m240 0h1M223 98h1M239 99h1m27 0h1m229 0h1m21 0h1M270 100h1m8 0h1m29 0h1m246 0h1M281 101h1m15 0h1m169 0h1M224 102h1m81 0h1m144 0h1m15 0h1m15 0h2m7 0h1M253 103h1m12 0h1m92 0h1M281 104h1m70 0h1M286 105h1M224 106h1m18 0h1m51 0h1m156 0h1M297 107h1m181 0h1m1 0h1M232 108h1m216 0h1m62 0h1M221 109h1m126 0h1m132 0h1m4 0h1M365 110h1m8 0h1m82 0h1M214 111h1m17 0h1m106 0h1m158 0h1M306 112h1m2 0h1M231 113h1m69 0h1m4 0h1m58 0h1m94 0h1M310 114h1m1 0h1m28 0h1m23 0h1m130 0h1M331 115h1m14 0h1m99 0h1M336 116h1M331 117h1m33 0h1m20 0h1m60 0h1M304 118h1m7 0h1m32 0h1m19 0h1m67 0h1m10 0h1M385 119h1M330 120h1m54 0h1M314 121h1m40 0h1m26 0h1m12 0h1M384 122h1M383 124h1M315 125h1m131 0h1M331 126h1m105 0h1M390 127h1m17 0h1m4 0h1m20 0h1M333 129h1M320 132h1m82 0h1M400 133h1M408 134h1M450 166h1m2 0h1m181 0h1M453 167h1m172 0h2m11 0h1m1 0h1m3 0h1M453 168h1M450 171h1m2 0h1m127 0h1M467 173h1M396 174h1m1 0h1m69 0h1M328 176h1m6 0h1m17 0h1m112 0h2M208 177h1M450 178h1m5 0h1M314 179h1m143 0h1m5 0h1m2 0h1M460 180h1m5 0h2M466 181h2M460 182h1m4 0h1m1 0h1M467 183h1M465 185h1M452 186h1m3 0h1M451 187h1M452 188h1"/><path stroke="#d7ff00" d="M679 40h1M127 41h1m60 0h1m439 0h1m40 0h1m27 0h1M99 42h1m23 0h1m38 0h1M53 43h1m490 0h1m23 0h1M110 44h1m55 0h1m20 0h1m420 0h1M124 45h1m37 0h1m348 0h1m5 0h1m92 0h1m50 0h1M546 46h1m25 0h1m16 0h1M93 47h1m105 0h1m388 0h1M147 48h1m374 0h1M136 49h1m10 0h1m389 0h1m3 0h1m16 0h1m22 0h1M126 50h1m35 0h1m402 0h1m26 0h1M186 51h1m69 0h1m309 0h2m41 0h1m66 0h1M80 52h1m165 0h1m250 0h1m22 0h1m7 0h1m31 0h1M89 53h1m77 0h1m366 0h1m16 0h2M234 54h1m285 0h1M160 55h1m399 0h1m69 0h1M252 57h1m21 0h2m249 0h1m8 0h1M132 58h1m28 0h1m85 0h1m4 0h1m3 0h1m29 0h1m217 0h1m18 0h1m27 0h1m1 0h1M238 59h1m314 0h1m17 0h1M100 60h1m164 0h1m244 0h2m59 0h1m68 0h1M256 61h2m273 0h1M547 63h1m6 0h1m3 0h1M574 64h1m20 0h1M504 65h1m123 0h1M165 66h1m19 0h1m1 0h1m67 0h1m11 0h1m328 0h1M136 67h1m64 0h1m103 0h1M88 68h1m47 0h1m64 0h1m49 0h1m6 0h1m208 0h1M238 69h1m5 0h1m29 0h1m8 0h2m239 0h1m33 0h1M259 70h1m13 0h1m237 0h1m24 0h2M272 71h1m23 0h1M205 72h1m21 0h1m264 0h1m21 0h1M124 73h1m144 0h1m277 0h1M266 75h1M284 77h1m10 0h1m183 0h1M450 78h1M195 79h1m24 0h1m36 0h1m205 0h1M489 80h1m13 0h2m13 0h1m36 0h1M281 81h1m72 0h1m132 0h1m25 0h1m4 0h1m19 0h1M223 82h1m287 0h1m80 0h1M512 83h1M221 84h1m282 0h1m14 0h1M247 85h1m56 0h1m202 0h1M218 86h1m30 0h1m3 0h1m14 0h1M208 87h1m74 0h1m91 0h1m92 0h1m25 0h1M175 88h1m125 0h1M310 90h1m149 0h1m25 0h1M203 91h1m148 0h1m119 0h1M531 92h1M300 93h1m42 0h1M343 94h1m5 0h1m129 0h1M299 95h1m4 0h1m40 0h1M204 96h1m88 0h1m168 0h1M215 97h1m95 0h1m40 0h1m142 0h1M220 98h2m2 0h1m33 0h1m48 0h1m141 0h1m33 0h1m2 0h1M386 99h1m62 0h1m7 0h1m4 0h1m20 0h1M231 101h1m77 0h1m40 0h1m1 0h1m123 0h1M295 102h1m3 0h1m130 0h1M301 103h1m51 0h1m108 0h1M303 105h1m148 0h1M343 106h1m73 0h1M355 107h1m9 0h1m96 0h1M365 108h1M309 109h1m2 0h1m73 0h1m75 0h1M340 110h1M311 111h2m69 0h1M381 112h1m5 0h1m40 0h1M414 113h1M459 114h1M314 115h1M314 116h1m22 0h1m53 0h1m63 0h1M387 119h1m2 0h1m17 0h1m2 0h1M323 121h1m72 0h1M327 122h1m106 0h1M410 123h1M329 126h1m67 0h1M406 131h1M400 134h2M401 135h1M404 136h1M417 160h1m1 0h2M450 161h1M453 162h1M453 163h1M631 167h1M418 168h1m31 0h1m191 0h1M458 169h1M450 170h1M456 171h1M444 172h1M450 173h1m5 0h1M338 174h1m67 0h1m53 0h1M207 175h1m1 0h1m240 0h1m2 0h1m2 0h1m9 0h1M319 176h1m14 0h1m60 0h1m54 0h1M206 177h1m117 0h1m29 0h1m111 0h1M319 178h1M450 179h1m2 0h1m2 0h1m9 0h1M454 181h1M464 182h1M455 183h1M462 184h1m2 0h1M462 185h1M463 186h1m1 0h1M463 187h1M456 188h1m8 0h1"/><path stroke="#fff500" d="M574 40h1M570 42h1M198 43h1m339 0h1M242 44h2m45 0h1M163 45h1m359 0h1m10 0h1M186 46h1m324 0h1m48 0h1m27 0h1M173 47h1m97 0h1m250 0h1m42 0h1M506 48h1m16 0h1m34 0h1M518 49h1m4 0h1m12 0h1m3 0h1M223 50h1m43 0h1m250 0h1M262 51h1M192 52h1m69 0h1m285 0h1M507 53h1m13 0h1m2 0h1M538 54h1M205 55h1m104 0h1m193 0h1M207 56h1m141 0h1m130 0h1M210 57h1m75 0h1m193 0h1m11 0h1m11 0h1M211 58h1m6 0h1m65 0h1m22 0h1m193 0h1m6 0h1m11 0h1m59 0h1M504 59h1m16 0h1m58 0h1M266 60h1m87 0h1m140 0h1m64 0h1M222 61h1m31 0h1m45 0h1m4 0h1M206 62h1m49 0h1m237 0h1M464 63h1M501 64h1M230 65h1m25 0h2M251 66h1m261 0h1M258 67h1m208 0h1m46 0h1M175 68h1m338 0h1m28 0h1M206 69h1m66 0h1m188 0h1m4 0h1M224 70h1m219 0h1m79 0h1M207 71h1m275 0h1M293 72h1m156 0h1m42 0h1M309 73h1m182 0h1M212 74h1m89 0h1m62 0h1m110 0h1m7 0h1m7 0h1M298 76h1m11 0h1m48 0h1M297 77h2m11 0h1M289 78h1m12 0h1m71 0h1m73 0h1m40 0h1M303 79h1M354 80h1m133 0h1M214 81h1m38 0h1m99 0h1m132 0h1M225 82h1M203 83h1m13 0h1m11 0h1m116 0h1m126 0h1M473 84h1M375 85h1M355 86h1m18 0h1M374 87h1M281 88h1m92 0h2m119 0h1M306 90h1m2 0h1m35 0h1m125 0h3M386 91h1M381 92h1m90 0h1M290 93h1m71 0h1M346 95h1m139 0h2M340 96h1m12 0h1m17 0h1M399 98h1m48 0h1M365 101h1m66 0h1M365 102h1m24 0h1m42 0h1m16 0h1M405 103h1m34 0h1M405 104h1M336 105h1M317 106h1m111 0h1M345 107h1m62 0h1M372 108h1M337 109h1m47 0h1m40 0h2M375 110h1M324 111h1m3 0h1m1 0h1m63 0h1m25 0h2M345 112h1m83 0h1M314 113h1m82 0h1m41 0h1M314 114h1M390 116h1m8 0h1m8 0h1M387 118h1m23 0h1M315 119h1M320 120h1M325 121h1M327 123h1M315 124h1M406 134h1M402 135h1m6 0h1M409 136h1M403 160h1M453 161h1M450 163h1M450 164h1M651 167h1M458 168h1m169 0h1m7 0h1M440 170h1m12 0h1M440 171h1m14 0h1m8 0h1M443 172h1m3 0h1m5 0h1m8 0h1m1 0h1m1 0h1M387 173h1m65 0h1M393 174h1m14 0h1m31 0h1m9 0h1m2 0h1m2 0h1m5 0h1m3 0h1M319 175h1m66 0h1m20 0h1m1 0h1m48 0h1m5 0h1M300 176h1m24 0h1m12 0h1m114 0h1M204 177h1m19 0h1m90 0h1m20 0h2m15 0h1M299 178h1m140 0h1m17 0h1M321 179h1m138 0h1M459 180h1M458 181h1m1 0h2M452 182h1M454 184h1M451 186h1m3 0h1m6 0h1M452 187h1m4 0h1m7 0h1"/><path stroke="#ffd400" d="M217 40h1m49 0h2m12 0h1m210 0h1M232 41h1m234 0h1M494 42h1m42 0h1M228 43h1m4 0h1m292 0h1M262 44h1M187 45h1m59 0h1m256 0h1M200 46h1m66 0h1M250 47h1M536 48h1M272 49h1m193 0h1M221 50h1M205 51h1m54 0h1m20 0h1m80 0h1m134 0h1M286 52h1M234 53h1m244 0h1m50 0h1M229 54h1m5 0h2m73 0h1m151 0h1m53 0h1M206 55h2m281 0h1M534 56h1M357 57h1m90 0h1m32 0h1m11 0h1M283 58h1m216 0h1M239 59h1m232 0h1M247 60h1m57 0h1m166 0h1M353 61h1m8 0h1M232 62h1M463 63h1M297 64h1m83 0h1M229 65h1m123 0h1m147 0h1M353 66h1M226 67h1m77 0h1m48 0h1m20 0h1m85 0h1M374 68h1M263 69h1m102 0h1m89 0h1m55 0h1M207 70h1m145 0h1m6 0h1m4 0h1M353 71h1M206 72h1m62 0h1m40 0h1m37 0h1m112 0h1m11 0h1M364 74h1m83 0h1M468 75h1M376 76h1M342 77h1m38 0h1m1 0h1M365 78h1M339 80h1m13 0h1M312 81h1M345 84h1M345 85h1m28 0h1M353 86h1M381 88h1M444 89h1M386 90h1M420 91h1m7 0h1m25 0h1m2 0h1M412 93h1M403 94h1m30 0h2M420 95h1m27 0h1M339 96h1m35 0h1M317 97h1m35 0h1m51 0h1m34 0h1m6 0h1M352 98h1M458 99h1M386 100h1m20 0h1M314 101h1m112 0h1M314 102h1m2 0h1M321 103h1m68 0h1M385 105h1m43 0h1M390 106h1M330 108h1m98 0h1M315 109h1M337 110h1M397 112h1m2 0h1M400 114h1M401 133h2m1 0h1M407 134h1M410 136h1M450 162h1M453 164h1M450 167h1M450 169h1m5 0h1M388 170h1m36 0h2m29 0h1m7 0h1M441 171h1m16 0h1M414 172h1m25 0h1m9 0h1m5 0h1m2 0h2M330 173h1m107 0h1m19 0h1m5 0h1M397 174h1M208 175h1m143 0h1m34 0h1m18 0h1M357 176h1m7 0h1m33 0h1M335 177h1m2 0h1m101 0h1m9 0h1M225 178h1m111 0h1M319 179h1m4 0h1M440 180h1M452 181h1m12 0h1M461 182h1M452 183h1m12 0h1M455 184h1m5 0h1M452 185h1m10 0h1"/><path stroke="#ffb300" d="M462 40h1m24 0h1m28 0h1M462 41h1M456 42h1M227 43h1m77 0h1m44 0h1m106 0h1M231 45h1m50 0h1m14 0h1m55 0h1M478 46h1M266 47h1m75 0h1m122 0h1M208 48h1m57 0h1m97 0h1M312 49h1m35 0h1M280 50h1m6 0h1m24 0h1m136 0h1M223 51h1m56 0h1m93 0h1M206 52h1m103 0h1M229 53h1m68 0h1m53 0h1m108 0h2M311 54h1m33 0h1m16 0h1M282 55h1m79 0h1M281 57h1m167 0h1M248 58h1M478 59h1M353 60h1m92 0h1M231 62h1m104 0h1M354 65h1m132 0h1M447 66h1M366 67h1M360 68h1M381 70h1M444 71h1M455 72h1M313 74h1m133 0h1M452 75h1M370 76h2M381 78h1M312 80h1m25 0h1M362 81h1M361 82h1m15 0h1M317 83h1m27 0h1m33 0h1M315 84h1m87 0h1m26 0h1M327 85h1m37 0h1M337 86h1M417 87h1M402 88h1M330 89h1m114 0h1M408 90h1M314 91h1m9 0h1m76 0h1m6 0h1M391 93h1M314 94h1m8 0h1m7 0h1m70 0h1m19 0h1M316 95h1m85 0h1M407 96h1M331 97h1m58 0h1m44 0h1M321 99h1m66 0h1M323 100h1m100 0h1M328 101h1m82 0h1M412 102h1M397 104h1M328 105h1M406 107h1M320 108h1m7 0h1m2 0h1m66 0h1M332 109h1M421 110h1M420 112h1M320 113h1m79 0h1M320 114h1M406 136h1m1 0h1M418 161h1M450 165h1m2 0h1M626 166h1M419 168h1M453 169h1M449 170h1m15 0h1M435 171h1m1 0h1m28 0h1M410 172h1M465 173h1M333 174h1m124 0h1m5 0h1M335 175h1m121 0h1m5 0h1M202 176h1M317 177h1m88 0h1m31 0h1m17 0h1m1 0h1M300 178h1m20 0h1m2 0h1m127 0h1m6 0h1M223 179h1M451 180h2m4 0h1M451 183h1m2 0h1m7 0h1M451 185h1m3 0h1M457 188h1m5 0h1"/><path stroke="#ff9200" d="M309 40h1m57 0h1M310 41h1m144 0h1M363 44h1m1 0h1M462 45h1M231 46h1m50 0h1m70 0h1M366 47h1m18 0h1M366 48h1m10 0h1m5 0h1M457 50h1M282 51h1m178 0h1M445 52h1m12 0h1m2 0h1M436 53h1M461 56h1M447 57h1M365 58h1M317 60h1M383 61h1m38 0h1m23 0h1M428 62h1M365 63h1m15 0h1M420 64h1M371 66h1m36 0h1M315 68h1M383 70h1m31 0h1M328 71h1m109 0h1m8 0h1M422 73h1m36 0h1M336 74h1M426 75h1M426 76h1M323 77h1m83 0h1m24 0h1M331 78h1m75 0h1M407 79h1M383 80h1m24 0h1M332 82h1m57 0h1m33 0h1M318 83h1M327 86h1m102 0h1M407 87h1M399 89h1M315 91h1m2 0h1M333 92h1M411 93h1m1 0h1M411 94h1m11 0h1M394 95h1M411 96h1M326 97h1m5 0h1M399 99h1m18 0h1M416 103h1M325 106h1m72 0h1M405 133h1M420 162h1m30 0h1M418 163h1M456 168h1M458 170h1M438 171h1M386 172h1m24 0h1M329 173h1m76 0h1m2 0h1m42 0h1m1 0h1m2 0h1m5 0h1M337 174h1m73 0h1m40 0h1M200 175h1m115 0h1m93 0h1m41 0h1M205 176h1m110 0h1m41 0h1m46 0h1m34 0h1m15 0h1m1 0h1m5 0h2M203 177h1m126 0h2m79 0h1m39 0h1m7 0h1m5 0h1M453 178h1M451 179h1m7 0h1m5 0h1M438 180h1M451 182h1M461 183h1M451 184h2M456 185h1"/><path stroke="#ff7100" d="M441 40h1M390 41h1m17 0h1M331 42h1m58 0h1m37 0h1m26 0h1m4 0h1M428 43h1M353 44h1m70 0h1M413 45h1M379 46h1m52 0h1m25 0h1M314 47h1m69 0h1m15 0h1M314 48h1m119 0h1M315 49h1m49 0h1M336 50h1m25 0h1M440 51h1M313 52h1M405 53h1M332 54h1M425 55h1M370 56h1M330 57h1M317 59h1m15 0h1m66 0h1M387 60h1m12 0h2M328 61h1m77 0h1M437 62h1M391 64h1M437 66h1M318 67h1m120 0h1M315 69h1m83 0h1M366 70h1M431 71h1m2 0h1M397 73h1m3 0h1M319 74h2m86 0h1M400 77h1M330 78h1M318 79h1M313 80h1M326 81h1m5 0h1M315 85h1M319 91h1M327 92h2M322 94h1M333 100h1M329 101h1M408 135h1M452 161h1M418 162h1M451 163h2M452 164h1M452 166h1M451 167h1M451 168h1M424 170h1m4 0h1m8 0h1m4 0h2m2 0h2M457 171h1M449 172h1m1 0h1M366 173h1m18 0h1m19 0h1m9 0h1m24 0h1M465 174h1M398 175h1m39 0h1m1 0h1m10 0h1m13 0h1M209 176h1m123 0h1m2 0h1m15 0h1m14 0h1m70 0h1M299 177h2m20 0h1M322 178h1M227 179h2m89 0h1m119 0h1m18 0h1M458 180h1M451 181h1m5 0h1M454 182h1M456 187h1"/><path stroke="#ff5100" d="M390 40h2m48 0h1M320 41h1m10 0h1m4 0h1m84 0h2M391 42h1M391 43h1m66 0h1M424 45h2M400 46h1M313 47h1M397 48h1M320 49h2m77 0h1m14 0h1m3 0h1M335 50h1m81 0h3m6 0h1M332 51h1m54 0h1M328 53h1m106 0h1M395 54h1m29 0h1M414 55h1M318 56h1M315 60h1m4 0h1M401 61h1M437 65h1M400 66h2M398 68h1M421 73h1M403 134h1M405 136h1m1 0h1M402 163h1m16 0h1M451 164h1M451 166h1M452 167h1M452 168h1m4 0h1M420 169h1m20 0h1M386 170h1m34 0h1M439 171h1m11 0h2M406 172h2m4 0h1m25 0h1m18 0h2M338 173h1m69 0h1M385 174h1m52 0h1M203 175h1m118 0h1m3 0h1m1 0h1m2 0h1m24 0h1m12 0h1m69 0h1M317 176h1m12 0h1m37 0h1m82 0h2m4 0h1M207 177h1m110 0h1m9 0h1m83 0h1m39 0h2m3 0h1M227 178h1m99 0h1m110 0h1m18 0h1m7 0h1M440 179h1M465 180h1"/><path stroke="#ff3000" d="M320 40h1M425 41h1M407 42h1m13 0h1M325 44h1m95 0h1m18 0h1M394 50h1m30 0h1M333 51h1M320 57h1M333 58h1M403 133h1M402 134h1m2 0h1M406 135h1M421 161h1M417 162h1m34 0h1M451 169h2M427 170h1m6 0h1m1 0h1m2 0h1m1 0h1m4 0h1M387 171h1m56 0h2m8 0h1m10 0h1M387 172h1m51 0h1m12 0h1m1 0h1m10 0h1M332 173h1m2 0h1m1 0h1M330 174h1m108 0h1M323 176h1m7 0h1M327 177h1m111 0h1M314 178h1m21 0h1"/><path stroke="#ff0f00" d="M333 42h2M392 43h1M333 46h1M413 49h1M404 134h1M403 135h1m3 0h1M403 161h1M419 167h1M421 169h2m1 0h1m1 0h1m30 0h1M422 170h1m7 0h1m1 0h1m2 0h1m6 0h1m2 0h1m6 0h1m4 0h1M442 171h1m3 0h1m1 0h2M461 172h1M451 173h1m7 0h3M354 174h2m15 0h1m38 0h1m40 0h1m5 0h1M315 175h1m13 0h1m23 0h1m31 0h1m7 0h1M200 176h1m125 0h1m80 0h1m31 0h1M201 177h2m210 0h1M320 178h1M322 179h1m116 0h1m12 0h1"/><path stroke="#f0000f" d="M333 47h1M405 135h1M400 161h1m19 0h1M419 162h1M451 165h2M418 167h1M429 169h1M428 170h1m2 0h1m5 0h1m13 0h1M443 171h1M455 172h1M326 173h1m87 0h1m47 0h1M356 174h2m51 0h1m4 0h1m48 0h1M205 175h1m108 0h1m9 0h1m29 0h1m13 0h1M332 176h1m23 0h1m36 0h1M209 177h1m16 0h1m125 0h1M330 178h1m2 0h1m117 0h1"/><path stroke="#d4002b" d="M404 135h1M420 168h1M423 169h1m1 0h1M433 170h1M447 171h1M331 173h1m107 0h1M355 175h1m1 0h1m39 0h1M410 176h1M328 178h1m110 0h1M439 180h1"/></g>
<path d="M50.5 39.5H700.5V189.5H50.5ZM158.5 39.5v5M158.5 189.5v-5M266.5 39.5v5M266.5 189.5v-5M375.5 39.5v5M375.5 189.5v-5M483.5 39.5v5M483.5 189.5v-5M591.5 39.5v5M591.5 189.5v-5M50.5 177.5h5M700.5 177.5h-6M50.5 164.5h5M700.5 164.5h-6M50.5 152.5h5M700.5 152.5h-6M50.5 139.5h5M700.5 139.5h-6M50.5 127.5h5M700.5 127.5h-6M50.5 114.5h5M700.5 114.5h-6M50.5 102.5h5M700.5 102.5h-6M50.5 89.5h5M700.5 89.5h-6M50.5 77.5h5M700.5 77.5h-6M50.5 64.5h5M700.5 64.5h-6M50.5 52.5h5M700.5 52.5h-6" fill="none" stroke="#000" stroke-width="1" shape-rendering="crispEdges"/>
<text x="46.8" y="193.8" text-anchor="end">0</text>
<text x="46.8" y="181.8" text-anchor="end">1</text>
<text x="46.8" y="168.8" text-anchor="end">2</text>
<text x="46.8" y="156.8" text-anchor="end">3</text>
<text x="46.8" y="143.8" text-anchor="end">4</text>
<text x="46.8" y="131.8" text-anchor="end">5</text>
<text x="46.8" y="118.8" text-anchor="end">6</text>
<text x="46.8" y="106.8" text-anchor="end">7</text>
<text x="46.8" y="93.8" text-anchor="end">8</text>
<text x="46.8" y="81.8" text-anchor="end">9</text>
<text x="46.8" y="68.8" text-anchor="end">10</text>
<text x="46.8" y="56.8" text-anchor="end">11</text>
<text x="46.8" y="43.8" text-anchor="end">12</text>
<text x="49.5" y="204" text-anchor="middle">00:00</text>
<text x="157.5" y="204" text-anchor="middle">04:00</text>
<text x="265.5" y="204" text-anchor="middle">08:00</text>
<text x="374.5" y="204" text-anchor="middle">12:00</text>
<text x="482.5" y="204" text-anchor="middle">16:00</text>
<text x="590.5" y="204" text-anchor="middle">20:00</text>
<text x="699.5" y="204" text-anchor="middle">00:00</text>
<text x="344.3" y="222" textLength="61">Time (UTC)</text>
<text transform="translate(27.3 147.2) rotate(-90)" textLength="61.5">Height (km)</text>
<text class="b" x="57.2" y="56" textLength="206.5">Attenuated backscatter coefficient</text>
<rect x="754.5" y="39.5" width="16" height="150" fill="url(#cb)" stroke="#000" stroke-width="1" shape-rendering="crispEdges"/>
<text x="742.5" y="45" text-anchor="end">10</text><text class="s" x="743" y="40">-4</text>
<text x="742.5" y="95" text-anchor="end">10</text><text class="s" x="743" y="90">-5</text>
<text x="742.5" y="145" text-anchor="end">10</text><text class="s" x="743" y="140">-6</text>
<text x="742.5" y="195" text-anchor="end">10</text><text class="s" x="743" y="190">-7</text>
<text transform="translate(723 134) rotate(-90)" textLength="37">m<tspan class="s" dy="-5">-1</tspan><tspan dy="5"> sr</tspan><tspan class="s" dy="-5">-1</tspan></text>
</g>
<g id="panel2">
<rect x="50" y="229" width="651" height="151" fill="#dedede"/><defs><path id="n0" d="M34 230h1m39 0h1m27 0h1m5 0h2M10 231h1m4 0h1m6 0h1m26 0h1m1 0h1m46 0h1m1 0h1m1 0h1m9 0h1m9 0h1M25 232h1m11 0h1m10 0h1m6 0h1m50 0h1M21 233h1m10 0h1m19 0h1m34 0h1m4 0h1m7 0h1m3 0h1m5 0h2M37 234h1m3 0h1m7 0h1m25 0h1m38 0h1M29 235h1m12 0h1m6 0h1m7 0h1m2 0h1m20 0h1m30 0h1M23 236h2m2 0h1m15 0h1m1 0h1m4 0h1M9 237h2m7 0h1m35 0h1m15 0h1m10 0h1m13 0h1m13 0h1m6 0h1m5 0h1M41 238h1m10 0h1m46 0h1m8 0h1m1 0h1m1 0h1M1 239h1m27 0h1m26 0h1m9 0h1m1 0h1m38 0h1m11 0h1M19 240h1m3 0h1m2 0h1m4 0h1m22 0h1m13 0h2m1 0h1m2 0h1m15 0h1m30 0h1M11 241h1m10 0h1m1 0h1m19 0h2M10 242h1m9 0h1m20 0h1m7 0h1m40 0h1M9 243h1m12 0h1m8 0h1m23 0h1m8 0h1m5 0h1m5 0h2m13 0h1m25 0h1m6 0h1M8 244h1m15 0h1m1 0h1m2 0h2m27 0h1m22 0h1m20 0h1m21 0h1M11 245h1m5 0h1m8 0h1m1 0h1m32 0h1m5 0h1m2 0h1m11 0h1m3 0h1m3 0h1m1 0h2M35 246h1m15 0h1m1 0h1m50 0h1m19 0h1M10 247h1m30 0h1m20 0h1m7 0h1m12 0h1m23 0h1m3 0h1m1 0h1m7 0h1M26 248h1m12 0h1m12 0h1m11 0h1m10 0h1m19 0h1M4 249h1m6 0h1m11 0h1m5 0h1m4 0h1m12 0h1m1 0h1m1 0h1m36 0h1m2 0h1m6 0h1M32 250h1m32 0h1m7 0h1m6 0h1m5 0h1m1 0h1m6 0h1m2 0h1m5 0h1m14 0h1M12 251h1m21 0h1m24 0h1m4 0h1m2 0h2m9 0h1m26 0h1m18 0h1M41 252h1m11 0h1m6 0h1m8 0h1m17 0h1m12 0h2m16 0h1m8 0h1m1 0h1M46 253h1m27 0h1M8 254h1m5 0h1m1 0h1m7 0h1m12 0h1m2 0h1m8 0h1m5 0h1m7 0h1m32 0h1M108 255h1m9 0h1m8 0h1M2 256h1m1 0h1m12 0h1m20 0h2m8 0h1m4 0h1m19 0h1m47 0h1M21 257h1m4 0h1m10 0h1m19 0h1m5 0h1m8 0h1m3 0h1m4 0h1m6 0h1m23 0h1M17 258h1m25 0h1m27 0h1m9 0h1m6 0h1m18 0h1m12 0h1M1 259h1m9 0h1m6 0h1m21 0h1m11 0h1m15 0h1m30 0h1m2 0h1m3 0h1m8 0h2M4 260h1m20 0h1m8 0h1m4 0h1m14 0h1m39 0h1m10 0h1m1 0h2m17 0h2M12 261h2m13 0h1m1 0h1m15 0h1m48 0h1m31 0h1M38 262h1m27 0h1m21 0h1m1 0h1m7 0h1m5 0h1m15 0h1M8 263h1m28 0h1m10 0h1m17 0h1m2 0h1m24 0h1m8 0h1m14 0h1M2 264h1m18 0h1m11 0h2m9 0h1m16 0h1m14 0h1m11 0h1m6 0h2m10 0h1m13 0h1M14 265h2m13 0h1m11 0h1m2 0h1m8 0h2m11 0h1m5 0h1m4 0h1m3 0h1m12 0h1m25 0h1m1 0h1M10 266h1m2 0h1m11 0h1m27 0h1m38 0h1M2 267h1m4 0h1m25 0h1m39 0h1m10 0h1m11 0h1m4 0h1m4 0h1m3 0h1m12 0h1M27 268h1m3 0h1m31 0h1m3 0h1m9 0h1m8 0h1m22 0h1m2 0h1m6 0h1M25 269h1m21 0h1m35 0h1m8 0h1m10 0h1m1 0h1M41 270h1m31 0h1m41 0h1m6 0h1M11 271h1m23 0h1m3 0h1m25 0h1m14 0h1m6 0h1m20 0h1M9 272h1m12 0h1m4 0h1m36 0h3m36 0h1m8 0h1m8 0h1M15 273h1m7 0h1m12 0h2m10 0h1m17 0h1m28 0h2M1 274h1m5 0h1m3 0h2m22 0h1m6 0h1m62 0h1M1 275h2m4 0h1m9 0h2m1 0h1m25 0h1m2 0h1m2 0h1m16 0h1m4 0h1m12 0h1m23 0h3M26 276h1m50 0h1m8 0h1m6 0h1M33 277h1m37 0h2m17 0h1m9 0h1m2 0h1m8 0h1M13 278h1m14 0h2m8 0h1m6 0h1m11 0h2m37 0h1m3 0h1m2 0h1M27 279h1m30 0h1m22 0h1m1 0h1m3 0h1m7 0h1m1 0h1m9 0h1m7 0h1m7 0h1M2 280h1m10 0h1m46 0h1m65 0h1M1 281h1m21 0h1m42 0h1m18 0h1M2 282h1m25 0h1m7 0h1m2 0h1m4 0h1m8 0h1m46 0h1m11 0h1M8 283h1m12 0h1m19 0h1m7 0h1m12 0h1m17 0h1m21 0h1m15 0h1M4 284h1m7 0h1m9 0h1m86 0h1m15 0h1M35 285h1m11 0h1m7 0h1m9 0h2m30 0h1m21 0h1M31 286h1m16 0h1m13 0h1m8 0h1m2 0h1m6 0h1m24 0h1M0 287h1m6 0h1m23 0h1m16 0h1m6 0h1m1 0h1m15 0h1m2 0h1m3 0h1m11 0h1m4 0h1m1 0h1m6 0h1m11 0h1m6 0h1M5 288h1m31 0h1m18 0h1m4 0h2m9 0h1m8 0h1m2 0h1m27 0h1m7 0h1M0 289h1m1 0h1m22 0h1m37 0h1m25 0h1m7 0h1m11 0h1m12 0h1M13 290h1m9 0h1m19 0h1m7 0h1m22 0h1m4 0h1m14 0h1m7 0h1m8 0h1M14 291h1m24 0h1m64 0h1m4 0h1m6 0h1M14 292h2m9 0h1m2 0h1m42 0h1m10 0h1m12 0h1m9 0h1m11 0h1m5 0h1M27 293h2m24 0h1m4 0h1m47 0h1m8 0h1m5 0h1m5 0h1M8 294h1m3 0h1m6 0h1m83 0h1m9 0h1M1 295h1m48 0h2m9 0h1m4 0h1m11 0h1m3 0h1m9 0h1m35 0h1M11 296h1m14 0h1m37 0h1m40 0h1m20 0h1M13 297h2m2 0h1m8 0h1m8 0h1m27 0h2m20 0h1m8 0h1m2 0h1m2 0h1m24 0h1M12 298h1m10 0h1m44 0h1m25 0h1m22 0h1m2 0h2m5 0h1M17 299h1m5 0h1m16 0h1m12 0h1m19 0h1m4 0h1m15 0h1m20 0h1M10 300h1m29 0h1m32 0h1m45 0h1M20 301h1m15 0h1m23 0h1m1 0h1m7 0h1m4 0h1m23 0h1m2 0h1m8 0h1m16 0h1M20 303h1m8 0h2m45 0h1m31 0h1m4 0h1m8 0h1M3 304h1m18 0h1m5 0h1m20 0h1m63 0h1m3 0h2M1 305h1m23 0h1m2 0h1m12 0h1m7 0h2m42 0h1m9 0h1m2 0h1m17 0h1m1 0h1M2 306h1m22 0h1m15 0h1m35 0h1m12 0h1m1 0h1m14 0h1m1 0h1m7 0h1m3 0h1M45 307h1m15 0h1m45 0h1m6 0h1m6 0h1M11 308h1m9 0h2m4 0h1m5 0h1m15 0h1m29 0h2m39 0h1M20 309h2m9 0h1m40 0h1m10 0h1m3 0h1M5 310h2m46 0h1m8 0h2m27 0h1m4 0h1m12 0h1m14 0h1M8 311h1m1 0h1m64 0h1m15 0h1m31 0h1M2 312h1m13 0h1m103 0h1"/><path id="n1" d="M50 230h1m6 0h1m39 0h1m31 0h1M26 231h1m32 0h1m15 0h1m5 0h2m10 0h1m11 0h1M1 232h1m6 0h1m42 0h1m9 0h1m28 0h1m13 0h1m4 0h1m6 0h1m5 0h2M23 233h1m5 0h1m39 0h1m59 0h1M2 234h1m42 0h1m13 0h1m11 0h1m25 0h1M10 235h1m56 0h1m1 0h1m15 0h1m39 0h1m2 0h1M30 236h1m10 0h1m14 0h1m11 0h1m39 0h1m10 0h1m8 0h1M48 237h1m18 0h1m10 0h1m15 0h1m12 0h1m4 0h1M1 238h1m7 0h2m7 0h1m7 0h1m11 0h1m30 0h2m2 0h1m31 0h1m13 0h1M10 239h1m3 0h1m25 0h2m9 0h1m12 0h1m12 0h1m25 0h1M5 240h1m10 0h1m5 0h1m6 0h1m14 0h1m11 0h1m9 0h1m16 0h1m11 0h1m3 0h1m25 0h1m2 0h1M18 241h1m1 0h1m16 0h1m16 0h1m9 0h1m26 0h1m3 0h1m2 0h1m28 0h1M11 242h1m22 0h1m36 0h1m23 0h1m4 0h1m16 0h1m1 0h1M23 243h1m3 0h4m5 0h1m13 0h1m27 0h1m27 0h1M76 244h1m5 0h1m12 0h1m5 0h1m3 0h1m3 0h1M38 245h1m12 0h1m4 0h1m16 0h1m5 0h1m23 0h1m8 0h1m5 0h1m1 0h1M2 246h1m5 0h1m2 0h1m3 0h1m6 0h1m24 0h2m3 0h1m13 0h1m1 0h1m38 0h1m10 0h1M7 247h1m41 0h1m16 0h1m26 0h1m20 0h1m3 0h1M16 248h1m24 0h1m3 0h1m4 0h1m2 0h1M42 249h1m20 0h1m39 0h1M7 250h1m17 0h1m1 0h1m69 0h1m1 0h1M19 251h1m5 0h1m2 0h1m7 0h1m1 0h1m23 0h1m22 0h1m14 0h1m22 0h1M55 252h1m2 0h1m31 0h1m15 0h1M7 253h1m15 0h1m3 0h1m4 0h1m16 0h1m18 0h1m2 0h1m1 0h1m6 0h1m5 0h1m17 0h1m7 0h1m5 0h1m6 0h1M10 254h1m1 0h1m67 0h1m41 0h1m3 0h1M21 255h1m7 0h1m34 0h1m45 0h1M13 256h1m8 0h1m19 0h1m3 0h1m13 0h1m11 0h1m10 0h1m14 0h2m5 0h1m4 0h1m2 0h1M4 257h1m7 0h1m48 0h2m8 0h1m15 0h1M21 258h1m56 0h1m12 0h1m7 0h1m6 0h1m20 0h1M2 259h1m2 0h1m27 0h1m20 0h1m5 0h1m6 0h1m17 0h2M41 260h1m16 0h1m14 0h1m1 0h1m25 0h1m1 0h1m15 0h1M0 261h1m30 0h1m17 0h1m14 0h1m10 0h1m35 0h1m16 0h1M2 262h1m13 0h2m27 0h1m34 0h1m21 0h1m25 0h1M33 263h1m25 0h1m20 0h1m6 0h1m14 0h1m12 0h1m8 0h1M35 264h1m3 0h1m20 0h1m4 0h1m2 0h1m12 0h1m29 0h1m17 0h1M4 265h1m7 0h2m25 0h1m3 0h1m5 0h1m42 0h1m5 0h1m6 0h1m10 0h1M7 266h1m34 0h1m27 0h1m5 0h1m14 0h1m37 0h1M14 267h1m22 0h1m3 0h1m1 0h1m30 0h1m3 0h1m4 0h1m8 0h1m10 0h1M36 268h1m7 0h1m3 0h1m5 0h1m10 0h1m56 0h1M31 269h1m1 0h1m1 0h2m42 0h1m14 0h1m17 0h1m1 0h1m5 0h1M14 270h1m3 0h1m40 0h1m10 0h1m15 0h1m9 0h1m22 0h1M22 271h1m2 0h1m55 0h1m36 0h1m1 0h1M3 272h1m1 0h1m9 0h2m14 0h1m15 0h1m10 0h1m4 0h1m5 0h1m9 0h1m14 0h1m9 0h1m14 0h1m8 0h1M46 273h1m2 0h2m13 0h1m13 0h1m35 0h1M21 274h1m2 0h1m22 0h1m24 0h1m20 0h1m7 0h2m7 0h1m12 0h1M9 275h1m33 0h1m15 0h1m28 0h1m16 0h1m16 0h1M19 276h1m10 0h1m5 0h1m25 0h1m42 0h1m13 0h1M25 277h1m38 0h1m14 0h1m12 0h1m2 0h1m13 0h1m10 0h1M19 278h1m12 0h1m1 0h2m4 0h1m1 0h1m45 0h1m15 0h1m6 0h1m12 0h1M19 279h1m10 0h1m15 0h1m13 0h1m16 0h1m1 0h1m11 0h1m11 0h1m9 0h1m3 0h1m10 0h1M1 280h1m2 0h1m75 0h1m12 0h1m5 0h1M10 281h1m28 0h1m13 0h1m43 0h1M17 282h1m31 0h1m13 0h1m37 0h1m4 0h1m9 0h1m4 0h1m7 0h1M65 283h1m10 0h1m9 0h1m14 0h1m27 0h1M18 284h1m15 0h1m1 0h1m30 0h1m2 0h1m4 0h1m16 0h1M11 285h1m33 0h1m13 0h1m33 0h1m2 0h1m16 0h1M17 286h1m12 0h1m5 0h2m25 0h1m6 0h1m2 0h1M39 287h1m2 0h1m26 0h1m24 0h1m5 0h1m6 0h1m18 0h1M6 288h1m11 0h1m12 0h1m10 0h1m30 0h1m12 0h1m16 0h1M6 289h1m6 0h1m18 0h1m60 0h1m12 0h1m10 0h2M36 290h1m7 0h1m5 0h1m7 0h1m2 0h1m18 0h1m37 0h2M0 291h1m1 0h1m8 0h1m1 0h1m15 0h1m7 0h1m8 0h1m10 0h1m37 0h1m27 0h1M5 292h1m23 0h1m17 0h1m13 0h1m8 0h1m25 0h1m22 0h1M13 293h2m1 0h1m55 0h1m1 0h1m10 0h1m12 0h1m21 0h1M1 294h1m16 0h1m3 0h2m5 0h1m10 0h1m4 0h1m14 0h1M41 295h1m7 0h1m52 0h1m22 0h2M0 296h1m9 0h1m3 0h1m3 0h1m27 0h1m1 0h1m13 0h1m15 0h1m4 0h1m6 0h1m7 0h1m11 0h1m5 0h1m11 0h1M3 297h1m6 0h1m4 0h1m11 0h1m26 0h1m18 0h1m3 0h1M24 298h1m5 0h1m15 0h2m7 0h2m41 0h1m5 0h1m6 0h1M9 299h1m56 0h1m28 0h1m3 0h1m25 0h1M24 300h1m13 0h1m4 0h2m9 0h1m16 0h1m2 0h1m8 0h1m8 0h1m6 0h1M14 301h2m15 0h1m13 0h1m5 0h1m1 0h1m17 0h1m54 0h1M25 302h1m3 0h1m32 0h1m1 0h2m10 0h1M7 303h1m1 0h1m23 0h1m13 0h1m13 0h1m1 0h1m1 0h1m13 0h1m23 0h1m23 0h1M72 304h1m21 0h1m11 0h1m16 0h1m1 0h1M5 305h1m5 0h1m30 0h1m1 0h1m13 0h1m10 0h1m16 0h1m13 0h1M12 306h1m15 0h1m2 0h1m7 0h2m50 0h1m11 0h1M13 307h1m10 0h1m4 0h1m2 0h1m31 0h1m15 0h1m11 0h2m29 0h1M24 308h1m15 0h1m1 0h1m1 0h1m19 0h1m3 0h1m9 0h1m28 0h1M13 309h1m1 0h1m19 0h1m17 0h1m5 0h1m16 0h2m16 0h1m2 0h1m5 0h1m21 0h2M18 310h1m1 0h1m2 0h2m19 0h1m5 0h1m28 0h1m20 0h1m15 0h1M1 311h1m22 0h2m14 0h1m11 0h1m7 0h1m1 0h1m14 0h1m32 0h1m2 0h1M17 312h1m5 0h1m20 0h1m6 0h1m7 0h1m6 0h1m12 0h1m5 0h1m27 0h1M15 313h1m14 0h1m2 0h1m16 0h1m20 0h1m5 0h1m5 0h1M52 314h1m5 0h1m4 0h1M15 315h1m27 0h1m10 0h1m67 0h1M11 316h1m6 0h1m1 0h1m16 0h1m2 0h1m1 0h2m5 0h1m29 0h1m25 0h1m7 0h2m13 0h2M3 317h1m10 0h1m40 0h1m1 0h1m2 0h1m10 0h1m53 0h1m1 0h1M8 318h1m6 0h1m2 0h1m23 0h1m34 0h1m39 0h1m2 0h1M10 319h2m28 0h1m2 0h1m25 0h1m41 0h1m9 0h1m1 0h1M36 320h1m14 0h2m9 0h2m27 0h1m9 0h1M15 321h1m4 0h2m4 0h1m17 0h1m9 0h1m17 0h1m13 0h1m19 0h1M1 322h2m15 0h1m4 0h1m32 0h1m14 0h1m15 0h1m16 0h1m11 0h1M10 323h1m16 0h2m5 0h1m12 0h1m5 0h1m37 0h1m10 0h1m7 0h1m2 0h1"/><path id="n2" d="M7 230h1m7 0h1m9 0h1m2 0h1m32 0h1m9 0h2m6 0h1m31 0h1M47 231h1m18 0h1m1 0h1m2 0h1m1 0h1m4 0h1m10 0h1m17 0h1M9 232h1m19 0h1m34 0h1m27 0h1m28 0h1M2 233h1m11 0h1m40 0h1m4 0h1m5 0h2m17 0h2m2 0h1m6 0h1m8 0h1m14 0h1M21 234h1m1 0h1m5 0h2m17 0h1m13 0h1m40 0h1m6 0h1M0 235h2m3 0h2m18 0h1m38 0h1m33 0h1m10 0h1M28 236h1m6 0h1m50 0h1m2 0h1m7 0h1m6 0h1m7 0h1M1 237h1m2 0h1m6 0h1m9 0h1m39 0h1m17 0h1m7 0h2m9 0h1m11 0h1M16 238h1m11 0h1m39 0h1m14 0h1M4 239h1m58 0h1m3 0h1m1 0h1m11 0h1m1 0h1m15 0h1m5 0h1M27 240h1m18 0h1m11 0h1m4 0h1m20 0h2m33 0h1m4 0h1M28 241h1m2 0h1m37 0h1m6 0h1m3 0h1m11 0h1m26 0h1m5 0h1M4 242h1m31 0h1m28 0h1m6 0h1M1 243h1m8 0h1m22 0h1m5 0h1m7 0h1m32 0h2m3 0h1m8 0h1m9 0h1m2 0h1M13 244h1m5 0h1m26 0h1m3 0h1m29 0h1m8 0h1m9 0h2M6 245h1m2 0h1m3 0h1m8 0h1m2 0h1m15 0h1m1 0h1m10 0h1m74 0h1M6 246h1m3 0h1m30 0h1m1 0h1m31 0h1m4 0h1m10 0h1m1 0h1m5 0h1m1 0h1m25 0h1M4 247h1m4 0h1m12 0h4m2 0h1m16 0h1m8 0h1m9 0h1m13 0h1m12 0h1m7 0h1m5 0h1m19 0h1M13 248h1m6 0h2m25 0h1m39 0h1m18 0h1m5 0h1m10 0h1M18 249h1m1 0h1m7 0h1m10 0h1m56 0h1M9 250h1m9 0h1m33 0h1m2 0h1m2 0h1m15 0h1m11 0h1m4 0h1m13 0h1m15 0h2M11 251h1m1 0h1m1 0h1m14 0h1m2 0h1m23 0h1m17 0h1m14 0h1m6 0h1m12 0h1m5 0h1m2 0h1M33 252h1m1 0h2m1 0h1m40 0h2m8 0h1m8 0h1m18 0h1M4 253h1m49 0h1m23 0h1m27 0h2M1 254h1m18 0h2m13 0h1m51 0h1m36 0h1m4 0h1M45 255h1m5 0h1m1 0h1m40 0h1m2 0h1m19 0h1m6 0h1M0 256h1m7 0h2m6 0h1m23 0h1m17 0h1m5 0h1m19 0h1m2 0h1m38 0h2M34 257h1m11 0h1m9 0h1m1 0h1m5 0h1m17 0h1m18 0h2m16 0h1M16 258h1m10 0h1m18 0h1m4 0h1m24 0h1m17 0h2m15 0h1m7 0h1m5 0h1M32 259h1m44 0h1m2 0h1m7 0h1m1 0h1m4 0h1m16 0h1M6 260h1m8 0h1m27 0h2m5 0h1m13 0h3m3 0h1m19 0h1m25 0h1M2 261h1m17 0h1m1 0h1m11 0h1m5 0h1m16 0h1m19 0h1m4 0h1m21 0h1m11 0h1m8 0h1M0 262h1m2 0h1m77 0h1m12 0h1m4 0h1m3 0h1m2 0h1m2 0h1m9 0h1M18 263h1m3 0h1m11 0h1m53 0h1m36 0h1M47 264h1m18 0h1m22 0h1m8 0h1m21 0h1M20 265h2m62 0h1m11 0h1m16 0h1m9 0h3M0 266h1m43 0h1m6 0h2m4 0h1m11 0h1m5 0h1m12 0h1m22 0h1m7 0h1m1 0h2M12 267h1m12 0h1m20 0h1m4 0h1m3 0h1m6 0h1m13 0h1m25 0h1m1 0h1m4 0h1m1 0h1m1 0h1m8 0h1m5 0h1M19 268h1m8 0h1m42 0h1m31 0h1m2 0h1m3 0h1M9 269h1m39 0h1m3 0h1m13 0h1m2 0h1m35 0h1m1 0h1m15 0h1M44 270h1m7 0h2m1 0h1m12 0h1m2 0h1m33 0h2m6 0h1M2 271h1m9 0h1m1 0h1m11 0h1m17 0h1m2 0h1m5 0h1m19 0h1m35 0h1m9 0h1m5 0h1M10 272h1m27 0h1m15 0h1m21 0h1m8 0h1m12 0h1m27 0h1M13 273h1m8 0h1m16 0h1m5 0h1m6 0h1m18 0h1m1 0h1m5 0h1m1 0h1m3 0h1m4 0h1m8 0h1m2 0h1m3 0h1M16 274h1m1 0h1m8 0h1m5 0h1m2 0h1m7 0h1m4 0h1m6 0h1m1 0h1m21 0h1m5 0h2m9 0h1m16 0h1m3 0h1m8 0h3M6 275h1m37 0h1m6 0h1m27 0h1m6 0h1M8 276h1m50 0h1m15 0h1m24 0h1m6 0h1m12 0h2M4 277h1m2 0h1m4 0h1m28 0h1m23 0h2m3 0h1m5 0h1m14 0h1m2 0h1m3 0h1m8 0h1m2 0h1m7 0h1m6 0h1M9 278h2m51 0h1m14 0h1m9 0h1m7 0h1m12 0h1M2 279h1m3 0h1m30 0h1m3 0h1m6 0h1m4 0h1m8 0h1m17 0h1m1 0h1M5 280h1m10 0h1m2 0h1m16 0h1m5 0h1m25 0h1m22 0h1m8 0h1m13 0h1m7 0h2M3 281h1m23 0h1m7 0h1m13 0h1m15 0h1m8 0h1m29 0h1m11 0h1m2 0h1m3 0h1m5 0h1M13 282h1m4 0h1m47 0h1m17 0h1M10 283h2m18 0h1m3 0h1m17 0h1m45 0h1m5 0h1m2 0h1m16 0h1M19 284h1m4 0h1m2 0h1m15 0h1m8 0h3m3 0h1m18 0h1m2 0h1m6 0h1m15 0h1m19 0h1M29 285h1m3 0h1m16 0h1m11 0h1m9 0h1m9 0h1m4 0h1m13 0h1m21 0h1M4 286h1m2 0h1m1 0h1m3 0h1m15 0h1m22 0h1m16 0h1m5 0h1m1 0h1m16 0h1m8 0h1m3 0h1m1 0h1m16 0h1M8 287h1m19 0h1m6 0h1m10 0h1m2 0h1m11 0h1m26 0h1m16 0h1m4 0h1M0 288h1m19 0h1m18 0h2m9 0h2m8 0h1m39 0h1M8 289h2m11 0h1m2 0h1m8 0h1m2 0h1m2 0h1m24 0h1m15 0h1m6 0h1m3 0h1m32 0h1M10 290h1m29 0h1m30 0h2m9 0h1m8 0h1m5 0h1m2 0h1m23 0h1m3 0h2M21 291h1m3 0h1m10 0h1m16 0h1m35 0h1m13 0h1m13 0h1m8 0h1M9 292h1m12 0h2m13 0h1m8 0h1m50 0h1m6 0h1m6 0h1M30 293h1m24 0h1m1 0h1m13 0h1m29 0h1m7 0h1m8 0h1m4 0h2m1 0h1M10 294h1m3 0h1m6 0h1m6 0h1m18 0h1m15 0h1m29 0h1m23 0h1m1 0h2M8 295h1m9 0h1m26 0h1m45 0h1m5 0h1m12 0h1m9 0h1M3 296h2m22 0h1m6 0h1m38 0h1m22 0h1m24 0h2M0 297h1m3 0h1m34 0h1m17 0h1m4 0h1m6 0h1m2 0h1m14 0h1m13 0h1M4 298h1m6 0h1m29 0h1m20 0h1m61 0h1m1 0h1M1 299h1m9 0h1m12 0h1m18 0h1m7 0h1m45 0h1m8 0h1m21 0h1M29 300h1m3 0h1m2 0h1m27 0h1m26 0h1m6 0h1m22 0h1M8 301h1m9 0h1m24 0h1m23 0h1m9 0h1m16 0h1m10 0h1m1 0h1m13 0h1M1 302h1m7 0h1m6 0h1m19 0h1m12 0h1m19 0h1m3 0h1m39 0h1M5 303h1m9 0h1m21 0h1m15 0h1m36 0h1m13 0h1m1 0h1m3 0h1m1 0h1m8 0h1m1 0h2M29 304h1m21 0h1m50 0h1m12 0h1m11 0h1M4 305h1m1 0h2m9 0h1m9 0h1m15 0h1m10 0h1m17 0h1m16 0h1m18 0h1m10 0h1m2 0h1M5 306h1m44 0h1m10 0h1m51 0h1M2 307h1m9 0h1m1 0h1m7 0h1m2 0h1m13 0h2m12 0h1m8 0h1m8 0h1m6 0h1m12 0h1m4 0h1m20 0h1m9 0h1m1 0h1M34 308h1m18 0h1m16 0h1m2 0h1m11 0h1m9 0h1M5 309h1m11 0h1m6 0h1m14 0h1m14 0h1m3 0h1m4 0h1m1 0h1m12 0h1m45 0h1m3 0h2M2 310h1m35 0h1m48 0h1m15 0h1m6 0h1m9 0h2M14 311h1m4 0h1m2 0h1m45 0h1m12 0h1m8 0h1m5 0h1m1 0h1m17 0h1m3 0h1M1 312h1m11 0h1m12 0h1m4 0h1m21 0h1m1 0h1m5 0h1m13 0h1m29 0h1m6 0h1M1 313h1m26 0h1m8 0h1m38 0h1m49 0h1M8 314h1m3 0h1m9 0h1m10 0h1m23 0h1m22 0h1m15 0h1m18 0h1M6 315h1m4 0h1m25 0h1m27 0h1m7 0h1m7 0h1m12 0h1m11 0h1m1 0h1m3 0h2m7 0h1M3 316h1m15 0h1m7 0h1m3 0h1m31 0h1m20 0h1m8 0h1m1 0h1m12 0h2m10 0h1M24 317h1m4 0h1m6 0h1m49 0h1m24 0h1M6 318h1m2 0h1m13 0h1m1 0h1m12 0h1m9 0h1m35 0h1m7 0h1m7 0h1m9 0h1m2 0h1m12 0h1M2 319h1m5 0h1m33 0h1m21 0h1m11 0h1m2 0h1m17 0h1m14 0h1m13 0h2M8 320h1m18 0h1m32 0h1m24 0h1m8 0h1m14 0h1M5 321h1m50 0h1m10 0h1m7 0h1m42 0h1m3 0h1M37 322h1m21 0h1m65 0h1M7 323h1m5 0h1m11 0h2m6 0h1m10 0h1m12 0h1m2 0h1m4 0h2m6 0h1m6 0h1m11 0h1m5 0h1m6 0h1m2 0h1M7 324h1m8 0h1m43 0h1m8 0h1m2 0h1m12 0h1m6 0h1m2 0h1m9 0h1m17 0h1M1 325h1m4 0h1m43 0h1m1 0h1m9 0h1m4 0h1m6 0h1m9 0h1m19 0h1m3 0h2m18 0h1M12 326h1m29 0h2m7 0h1m1 0h1m16 0h1m40 0h1m7 0h1M26 327h1m14 0h1m35 0h1m5 0h1m7 0h1m16 0h1M24 328h1m25 0h1m27 0h1m11 0h2m25 0h1M9 329h1m12 0h1m13 0h1m39 0h1m10 0h2m25 0h1m8 0h1"/><path id="n3" d="M19 230h1m12 0h1m37 0h1m6 0h2m3 0h1m3 0h1m9 0h1m16 0h1m3 0h1M3 231h1m40 0h1m9 0h1m7 0h1m33 0h1m6 0h1m11 0h1M24 232h1m21 0h1m61 0h1m15 0h1m1 0h1M22 233h1m10 0h1m4 0h1m33 0h1m3 0h1m11 0h1m29 0h1m6 0h1M22 234h1m37 0h1m2 0h1m55 0h1M31 235h1m42 0h1m17 0h1M4 236h1m3 0h1m9 0h1m18 0h1m4 0h1m14 0h1m18 0h1M44 237h1m2 0h1M57 239h1m26 0h1m3 0h1m21 0h1m6 0h1M70 240h1m34 0h1m8 0h1M5 241h1m23 0h1m19 0h1m3 0h1m2 0h1m29 0h1m2 0h1m3 0h1m7 0h1m1 0h1m17 0h1M8 242h1m13 0h1m14 0h1m6 0h1m32 0h1m13 0h2m18 0h1m15 0h1M6 243h1m86 0h1m17 0h1m7 0h1m2 0h1M7 244h1m19 0h1m8 0h1m16 0h1m32 0h3m15 0h1M7 245h1m111 0h1m4 0h1M14 246h1m24 0h2m40 0h1m2 0h1M2 247h1m86 0h1m37 0h1M14 248h1m10 0h1m11 0h1m18 0h1m26 0h1m5 0h1m8 0h1M0 249h1m11 0h1m87 0h1M4 250h1m6 0h1m17 0h2m70 0h1M9 251h1m13 0h1m8 0h1m14 0h1m48 0h1m6 0h1m24 0h1M2 252h1m12 0h1m31 0h1m20 0h1m1 0h1m23 0h1m2 0h1m12 0h1M10 253h1m1 0h1m16 0h1m9 0h1M7 254h1m1 0h1m41 0h2m18 0h1m23 0h1m8 0h1m13 0h1m6 0h1M16 255h1m59 0h1m4 0h1m1 0h1m15 0h1m14 0h1M5 256h1m14 0h1m5 0h1m14 0h1m1 0h1m70 0h1M0 257h1m15 0h1m107 0h1M56 258h1m10 0h1M30 259h1m33 0h3m5 0h1m40 0h1m7 0h1M33 260h1m58 0h1m16 0h1M8 261h1m2 0h1m4 0h1m1 0h1m4 0h2m42 0h1m42 0h1M36 262h1m10 0h1m3 0h1m19 0h1m11 0h1m37 0h1M9 263h1m3 0h1m10 0h1m86 0h1M23 264h1m34 0h1m4 0h1m48 0h1M1 265h1m14 0h1m33 0h1m16 0h1m5 0h1m30 0h1M18 266h1m2 0h1m6 0h1m17 0h1m14 0h1m16 0h1m41 0h1M13 267h1m39 0h1m4 0h1m22 0h1m33 0h1m9 0h1M62 268h1m15 0h1m4 0h1m11 0h1M17 269h1m14 0h1m9 0h1m21 0h1m17 0h1m4 0h1m5 0h1m3 0h1M79 270h1m8 0h2m7 0h1m13 0h1m16 0h1M56 271h1m3 0h1M25 272h1m24 0h1m27 0h1m7 0h1m26 0h1M24 273h1m9 0h1m35 0h1m13 0h1m28 0h1M30 274h1m69 0h1M62 275h1m2 0h1m58 0h1M27 276h1m21 0h1m65 0h2M40 277h1m13 0h2m1 0h1m53 0h1M30 278h1m44 0h1m31 0h1M9 279h1m5 0h1m10 0h1m62 0h1M54 280h1m7 0h1m22 0h1M20 281h1m9 0h1m24 0h1m4 0h1m35 0h1m10 0h2m19 0h1M6 282h1m1 0h1m13 0h1m27 0h1m41 0h1m25 0h1M15 283h1m15 0h1m14 0h1m3 0h1m20 0h1m22 0h1m19 0h1M10 284h1m24 0h1m11 0h1m25 0h1m26 0h1m26 0h1M34 285h1m3 0h1m3 0h1m26 0h1m14 0h1m4 0h1m1 0h1M35 286h1m7 0h1m1 0h1m4 0h1m7 0h1m20 0h1m20 0h1m11 0h1m1 0h1m12 0h1M4 287h1m6 0h1m15 0h1m10 0h1m26 0h1m19 0h1m12 0h1m25 0h1M13 288h1m15 0h1m45 0h1m7 0h1m14 0h1m23 0h1M17 289h1m9 0h1m14 0h1M4 290h1m26 0h1m46 0h1m19 0h1m16 0h1m1 0h1m5 0h1m3 0h1M22 291h1m18 0h1m3 0h1M10 292h1m1 0h1m39 0h2M50 293h1m59 0h1M42 294h1m8 0h1m6 0h1m5 0h1m41 0h1M7 295h1m6 0h1m15 0h1m4 0h1m20 0h1m23 0h1m12 0h1m2 0h1m4 0h1m3 0h2M36 296h1m14 0h2m32 0h1m7 0h1m6 0h1m10 0h1m6 0h1M21 297h1m23 0h1m4 0h1m5 0h1m29 0h1m24 0h1M28 298h1m64 0h1m13 0h1M28 299h1m4 0h1m31 0h1m2 0h1m22 0h1m27 0h1M1 300h1m49 0h1M6 301h1m42 0h1m5 0h1m59 0h1M20 302h1m16 0h1m5 0h1m6 0h1m5 0h1m54 0h1m8 0h1M2 303h1m23 0h1m1 0h1m33 0h1m26 0h1m6 0h1m2 0h1M24 304h1m21 0h1m11 0h1m15 0h1m24 0h1M39 305h1m24 0h1m47 0h1m2 0h1M8 306h1m24 0h1m3 0h1m29 0h1m3 0h1M47 307h1m21 0h1m9 0h1M52 308h1m4 0h1m35 0h1m22 0h1M18 309h1m11 0h1m62 0h1m28 0h1M7 310h1m106 0h1m4 0h1M23 311h1m9 0h1m22 0h1m25 0h1m14 0h1m4 0h1M39 312h1m2 0h1m2 0h1m11 0h1m6 0h1m23 0h1m9 0h1m17 0h1M52 313h1m60 0h1M16 314h1m6 0h1m5 0h2m5 0h1m16 0h1m57 0h1m2 0h1M64 315h1m37 0h1m14 0h1M29 316h1m15 0h1m18 0h1m8 0h1m6 0h1m29 0h1M1 317h1m28 0h1m33 0h1m4 0h1m3 0h1m6 0h1m2 0h1m7 0h1m5 0h1m12 0h1m9 0h2M41 318h1m12 0h1m15 0h1m45 0h1M9 319h1m4 0h1m14 0h1m1 0h1m5 0h1m1 0h1m52 0h1M13 320h1m39 0h1M24 321h1M46 322h1m30 0h1m27 0h1m14 0h1M5 323h1m53 0h1m1 0h1m9 0h1m6 0h1m10 0h1m9 0h1M28 324h1m8 0h1m33 0h1m34 0h1M2 325h1m28 0h1m31 0h1M11 326h1m12 0h1m2 0h1M19 327h1m33 0h1m21 0h1m3 0h1m10 0h1m3 0h1m6 0h1m3 0h1M46 328h1m4 0h1m2 0h1m52 0h1m11 0h1M73 329h1m54 0h1M0 330h1m1 0h1m2 0h1m35 0h1m8 0h1m33 0h1m6 0h1M1 331h1m6 0h1m38 0h1m20 0h1m9 0h1m27 0h1M6 332h1m1 0h1m43 0h1M8 333h1m21 0h1m34 0h1m8 0h1m41 0h1m10 0h1M9 334h1m20 0h1m15 0h1m21 0h1m1 0h1m24 0h1m6 0h1"/><path id="n4" d="M30 230h1m2 0h1m1 0h1m30 0h1m23 0h1m1 0h1m8 0h1m3 0h1M8 231h1m4 0h1m7 0h1m2 0h1m30 0h1m13 0h1m14 0h1m9 0h1m32 0h1M6 232h1m38 0h1m25 0h1m9 0h1m19 0h1m9 0h1m3 0h1M28 233h1m7 0h1m12 0h1m4 0h1m20 0h1m47 0h1M14 234h1m18 0h1m32 0h1m12 0h1m1 0h1m8 0h1M9 235h1m5 0h1m16 0h1m3 0h1m25 0h1m26 0h1M1 236h2m58 0h1m30 0h1m2 0h1m2 0h1m28 0h1M32 237h1m9 0h1m3 0h1m5 0h1m4 0h1m33 0h1m12 0h1m19 0h1M0 238h1m43 0h1m13 0h1m12 0h1m32 0h1m24 0h1M7 239h1m1 0h1m32 0h2m14 0h1m30 0h1m16 0h1m7 0h1m9 0h1M53 240h1m3 0h1m20 0h1m29 0h1M3 241h1M42 242h1m4 0h1m2 0h2m12 0h1m3 0h1m17 0h1M3 243h1M16 244h1m4 0h1m38 0h1m10 0h1m5 0h1M0 245h1m11 0h1m19 0h1m22 0h1m40 0h1M7 246h1m4 0h1m17 0h1m31 0h1m33 0h1m24 0h1M46 247h1m68 0h1M38 248h1m3 0h1M101 249h1M0 250h1m15 0h1m9 0h1m4 0h1m15 0h2m8 0h1m60 0h1M41 251h1m1 0h1m5 0h1m10 0h1m23 0h1m7 0h2M52 252h1m9 0h1m29 0h1M11 253h1m6 0h1m38 0h2m4 0h1m5 0h1m56 0h1m1 0h1M94 254h1m18 0h1M17 255h1m75 0h1M55 256h1m1 0h1m17 0h1m9 0h1m31 0h1M8 257h1m65 0h1m4 0h1m14 0h1m16 0h1m6 0h1M23 258h2m7 0h1m67 0h1m9 0h1M35 259h1m6 0h1m41 0h1m32 0h1m5 0h1M78 260h1m33 0h1m12 0h1M48 261h1M5 262h1m20 0h1m14 0h1m1 0h1m53 0h1m10 0h1m16 0h1M31 263h1m41 0h1m10 0h1m16 0h1m24 0h1M0 264h1m47 0h2m25 0h1M7 265h1m30 0h1m29 0h1m9 0h1m6 0h1m1 0h1m19 0h1M36 266h1m19 0h1m43 0h1m3 0h1m1 0h1m8 0h1m9 0h1M15 267h1m6 0h1m36 0h1m11 0h1m8 0h1m1 0h1m14 0h1m23 0h1M1 268h1m9 0h1m8 0h1m60 0h1m9 0h1M2 269h1m8 0h1m4 0h1m1 0h1m8 0h1m68 0h1m3 0h1M46 270h1m43 0h1M21 271h1m54 0h1m2 0h1M49 272h1m3 0h1m55 0h1M112 273h1m14 0h1M65 274h1M63 275h1m9 0h1m1 0h1m2 0h1m13 0h1M3 276h1m5 0h1m10 0h1m1 0h1m12 0h1m3 0h1m14 0h1m3 0h1m17 0h1m37 0h1m8 0h1M28 277h1m3 0h1m23 0h1m16 0h1m27 0h1M39 278h1m6 0h1m1 0h1m23 0h1m7 0h1m4 0h1m40 0h1M51 279h1m22 0h1m23 0h1m15 0h1m1 0h1M12 280h1m25 0h1m19 0h1m17 0h1m9 0h1m37 0h1m4 0h1M29 281h1m54 0h1m30 0h1m2 0h1M0 282h1m26 0h1m31 0h1m12 0h1m51 0h1M0 283h1m11 0h1m48 0h1m4 0h1m24 0h2m7 0h1m2 0h1M0 284h1m44 0h2m1 0h1m40 0h1M21 285h1m57 0h1m10 0h1m11 0h1m19 0h1m3 0h1M96 286h1m24 0h1M17 287h1m29 0h1m56 0h1m11 0h1M15 288h1m7 0h1m69 0h1m33 0h1M16 289h1m2 0h1m27 0h1m5 0h1M2 290h1m50 0h1m23 0h1m31 0h1M30 291h1m29 0h1m14 0h1M27 292h1m3 0h1m52 0h1m14 0h1m15 0h1M39 293h1m30 0h1m7 0h1m15 0h1M24 294h1m12 0h1m11 0h1m22 0h1m10 0h1m30 0h1M3 295h1m22 0h1m2 0h1m42 0h1M88 296h1M16 297h1m34 0h1m3 0h1m64 0h1M2 298h1m23 0h1m9 0h1m13 0h1m1 0h1m5 0h1m24 0h1m45 0h1M21 299h1m4 0h1m3 0h1m10 0h1m6 0h1m9 0h1m26 0h1m22 0h1M3 300h1m18 0h1m87 0h1M0 301h1m28 0h1m3 0h1m5 0h1m23 0h1m61 0h1M31 302h1m15 0h1m33 0h2m33 0h1m12 0h1M13 303h1m2 0h1m7 0h1m23 0h1m21 0h1m16 0h1m9 0h1m2 0h1M5 304h1m13 0h2m26 0h1m8 0h1m23 0h1m22 0h1m6 0h1m15 0h1M0 305h1m22 0h1m7 0h1m4 0h1m73 0h1M14 306h1m7 0h1m11 0h1m9 0h1m13 0h1M17 307h2m66 0h1m18 0h1M60 308h1m37 0h1m23 0h1M27 309h1m1 0h1m13 0h1m4 0h1m7 0h1m3 0h1m29 0h1m25 0h1m3 0h1M68 310h1m42 0h1M42 311h1m21 0h1m15 0h1m2 0h1m28 0h1M35 312h1m44 0h1m26 0h1m14 0h1M2 313h1m72 0h1m10 0h1m14 0h1m3 0h1M11 314h1m6 0h1m25 0h1m47 0h1m19 0h2M2 315h1m4 0h1m19 0h1m10 0h1m21 0h1m29 0h1m8 0h1m5 0h1M2 316h1m4 0h1m15 0h1m4 0h1m17 0h1m22 0h2m7 0h1m12 0h1M11 317h1m46 0h1m2 0h1m25 0h2m18 0h1M7 318h1m5 0h1m42 0h1m4 0h1m18 0h1m10 0h1m14 0h1m2 0h1m1 0h1M5 319h1m1 0h1m28 0h1m11 0h1m11 0h1M20 320h1m13 0h1m5 0h1m74 0h1M4 321h1m24 0h1m12 0h1m5 0h1m6 0h1m67 0h1M19 322h1m31 0h1m22 0h1m3 0h1m42 0h1M14 323h1m4 0h1m32 0h1m66 0h1M10 324h1m13 0h1m74 0h1m13 0h1m10 0h2M4 325h1m14 0h1m48 0h1m31 0h1m5 0h1m15 0h1M4 326h1m2 0h2m36 0h1m28 0h1m22 0h1m1 0h1m13 0h1m14 0h1M82 327h1m35 0h1m1 0h1m3 0h1M37 328h1m5 0h1M8 329h1m11 0h1m11 0h1m12 0h1m25 0h1m20 0h1m32 0h1M8 330h1m48 0h1m5 0h1M23 331h1m70 0h1m12 0h1M72 332h1m21 0h1M29 333h1m16 0h1m8 0h1m22 0h1m24 0h1M1 334h1m30 0h1m26 0h1m23 0h2m1 0h1m40 0h2M12 335h1m5 0h1m5 0h1m18 0h1m34 0h1m3 0h1m46 0h1M28 336h1m25 0h1m1 0h1m12 0h1m14 0h1m8 0h1M14 337h1m27 0h1m80 0h1"/><path id="n5" d="M18 230h1m28 0h1m27 0h1m30 0h1m9 0h1m9 0h1M4 231h1m48 0h1m26 0h1m16 0h1m11 0h1M19 232h2m7 0h1m29 0h2m5 0h1m13 0h1m6 0h1m30 0h1m11 0h1M5 233h2m3 0h1m33 0h1m19 0h1m5 0h1m43 0h1M58 234h1m10 0h1m7 0h1m2 0h1m34 0h1m5 0h1m2 0h1M4 235h1m9 0h1m1 0h1m96 0h1M63 236h1m9 0h1m10 0h1m26 0h1m2 0h2M30 237h1m24 0h1M8 238h1m6 0h1m26 0h1m10 0h1m24 0h1m18 0h1m28 0h1M50 239h1m9 0h1m26 0h1m8 0h1m5 0h1m1 0h1M3 240h1m14 0h1m72 0h1m23 0h1M23 241h1m11 0h1m52 0h1m11 0h1M21 242h1m1 0h1m29 0h1m4 0h1m59 0h1M43 243h2m23 0h1m2 0h1m23 0h1M57 244h1m1 0h1m47 0h1m2 0h1m3 0h1M48 245h1m34 0h1m14 0h1M13 246h1m13 0h1m18 0h1m26 0h1M30 247h1m44 0h1m6 0h1m26 0h1M4 248h1m14 0h1m28 0h1m6 0h1m32 0h1m8 0h1M43 249h1m8 0h1m20 0h1m5 0h1M12 250h1m22 0h1m5 0h1m1 0h1m18 0h1m27 0h1m25 0h1M2 251h1m51 0h1m6 0h1m4 0h1m12 0h1m7 0h1m7 0h1m10 0h1m10 0h1M7 252h1m74 0h1m8 0h1M8 253h1m50 0h1m12 0h1m9 0h1m13 0h1m2 0h1M13 254h1m8 0h1m18 0h1M34 255h1m4 0h1m8 0h1m3 0h1m14 0h1m43 0h1M15 256h1m60 0h1m18 0h1m16 0h1M25 257h1m10 0h1m43 0h1m28 0h1m19 0h1M9 258h1m56 0h1m55 0h1m6 0h1M13 259h1m62 0h1m34 0h1M1 260h1m3 0h1m20 0h1m25 0h2m2 0h1m2 0h1m24 0h1m21 0h1M56 261h1m22 0h1m20 0h1M9 262h1m63 0h1m2 0h1m15 0h1m8 0h1m5 0h1m6 0h2m7 0h1M2 263h1m36 0h1m53 0h1M16 264h1m8 0h1m2 0h1m7 0h1m1 0h1m11 0h1m11 0h1m39 0h1m10 0h1M23 265h1m58 0h2m11 0h1m6 0h1m6 0h1M3 266h2m18 0h1m2 0h1m63 0h1m3 0h1m28 0h1M21 267h1m44 0h1m22 0h1m1 0h1M46 268h1m32 0h1m25 0h1m1 0h1M0 269h1m2 0h1m6 0h1m43 0h1m64 0h1m6 0h1m1 0h1M7 270h1m85 0h1m35 0h1M68 271h1m3 0h1m20 0h1m3 0h1m16 0h1m7 0h2M6 272h1m37 0h1m10 0h1m21 0h1m5 0h1m3 0h1m17 0h1m17 0h1M0 273h1m15 0h1m4 0h1m11 0h1m71 0h1m4 0h1M5 274h1m44 0h1m22 0h1m5 0h1m28 0h1M58 275h1m8 0h1m12 0h2m15 0h1m4 0h1m5 0h1m8 0h1M0 276h1m22 0h1m26 0h1m5 0h1m4 0h1m19 0h1m42 0h1M11 277h1m90 0h1m5 0h1m13 0h1M14 278h2m37 0h1m6 0h1m2 0h1m20 0h1m35 0h1M0 279h1m44 0h1m1 0h1m9 0h1m8 0h1m38 0h1m5 0h2m11 0h1M0 280h1m16 0h1m15 0h1m60 0h1m6 0h1m9 0h1m13 0h1M42 281h1m24 0h1m1 0h1m6 0h1m9 0h1m30 0h1M21 282h1m8 0h1m25 0h1m19 0h1m17 0h1M26 283h1m24 0h1M2 284h1m12 0h1m48 0h1m9 0h1M36 285h1m17 0h1m62 0h1m6 0h1M18 286h1m1 0h1m7 0h1m61 0h1m13 0h1M33 287h1m77 0h1m2 0h1m12 0h1M22 288h1m12 0h2m6 0h1m26 0h1m17 0h2m1 0h1m19 0h1M51 289h1m7 0h1m7 0h1m31 0h1m29 0h1M0 290h1m62 0h1m58 0h1M43 291h1m10 0h1m44 0h1M34 292h1m41 0h1m4 0h1m26 0h1m9 0h1M52 293h1m26 0h1M7 294h1m1 0h1m17 0h1m2 0h1m87 0h1M12 295h1m9 0h1m44 0h1m35 0h1M16 296h1m6 0h1m6 0h2m10 0h1m13 0h1m8 0h1M6 297h2m35 0h1m62 0h1m7 0h1M6 298h1m6 0h1m59 0h1m10 0h1m2 0h1m2 0h1m37 0h1M57 299h1m16 0h1m43 0h1M45 300h1m6 0h1M4 301h1m16 0h1m16 0h1m3 0h1m1 0h1m23 0h1m58 0h1M11 302h1m93 0h1M10 303h1m10 0h1m46 0h1m11 0h1m1 0h1m1 0h1m16 0h1M8 304h1m4 0h1m22 0h2m16 0h1m31 0h1m21 0h1M33 305h1m60 0h1m4 0h1m4 0h1M45 306h1m11 0h1m47 0h1m12 0h1m4 0h1M81 307h1M18 308h1m24 0h1M84 309h2m5 0h1m22 0h1M15 310h1m35 0h1m20 0h1m19 0h1m15 0h1m4 0h1M4 311h1m8 0h1m21 0h1m14 0h1m66 0h1M3 312h1m32 0h1m9 0h1m1 0h1m3 0h1m16 0h1m1 0h1m57 0h1M25 313h1m13 0h1m21 0h1m34 0h1m23 0h1M47 314h1m26 0h1m9 0h1m15 0h1M50 315h1m35 0h1m20 0h1M53 316h1m5 0h1M105 317h1m12 0h1m3 0h1M4 318h1m23 0h1m46 0h1m7 0h1m4 0h1m15 0h1m13 0h1M12 319h1m97 0h1m7 0h1M12 320h1m22 0h1m8 0h1m4 0h1m4 0h1m50 0h1M47 321h1m23 0h1M35 322h1m32 0h1m20 0h1m3 0h1m3 0h1m20 0h2M124 323h2M66 324h1m29 0h1m6 0h1M32 325h1m26 0h1m36 0h1m20 0h1m2 0h1m6 0h1M20 326h1m27 0h1m14 0h1m20 0h1m9 0h2m24 0h1M6 327h1m24 0h2m10 0h1m27 0h1m14 0h1m13 0h1M48 328h1m10 0h1m21 0h2m9 0h1m28 0h1M0 329h1m38 0h1m6 0h1m53 0h1m11 0h1M9 330h1m5 0h1m15 0h1m34 0h1m6 0h1m3 0h1m32 0h1m17 0h1M36 331h1m44 0h1m9 0h1m5 0h1m17 0h1m4 0h1M9 332h1m29 0h1m37 0h1m34 0h1M20 333h1m12 0h1m7 0h1m50 0h1M19 334h1m18 0h1m74 0h1m10 0h1M35 335h1m6 0h1m33 0h1m14 0h1m1 0h1m16 0h1M37 336h1m1 0h1m46 0h1m15 0h1m8 0h1m2 0h1m10 0h1M45 337h1m68 0h1m1 0h1m12 0h1M2 338h1m13 0h1m46 0h1m20 0h1M1 339h1m33 0h1m1 0h1m46 0h1m1 0h1m23 0h1m18 0h1M101 340h1m26 0h1"/><path id="n6" d="M6 230h1m9 0h1m19 0h1m4 0h1m3 0h1m3 0h1m1 0h1m1 0h2m7 0h1m58 0h1M11 231h1m48 0h1m52 0h1M15 232h1m1 0h1m16 0h1m62 0h1m7 0h1m8 0h1M26 233h1m26 0h1m25 0h1m27 0h1M0 234h1m16 0h1m16 0h1m51 0h1m12 0h1m11 0h1m13 0h1m1 0h1M65 235h1m17 0h1M26 236h1m51 0h1m21 0h1m22 0h2M19 237h1m19 0h1m19 0h1m2 0h1m12 0h1m13 0h1M17 238h1m22 0h1m13 0h1m5 0h1m13 0h1m13 0h1m5 0h1m5 0h2m12 0h1M11 239h1m20 0h1m1 0h1m1 0h1m8 0h1m1 0h1m4 0h2m31 0h1m14 0h1m8 0h1m3 0h1m4 0h1m10 0h1M55 240h1m21 0h1m4 0h1m11 0h1m25 0h1M8 241h1m30 0h1m28 0h1m5 0h1m29 0h1m8 0h1m1 0h1M28 242h1m33 0h1M18 243h1m23 0h1m2 0h1m8 0h1m5 0h1m22 0h2M9 244h2m21 0h1m31 0h1m4 0h1m4 0h2m3 0h1m10 0h1m25 0h1M24 245h1m15 0h1m5 0h1m15 0h1m32 0h1m29 0h1M5 246h1m17 0h1m4 0h1m77 0h1m8 0h1m1 0h1M68 247h1m7 0h1m3 0h1m4 0h1m6 0h1m23 0h1M1 248h1m1 0h1m28 0h1m13 0h1m14 0h1m24 0h1m13 0h1m9 0h1m3 0h1M14 249h1m68 0h2m8 0h1m3 0h1m15 0h1M105 250h1m6 0h1M6 251h1m64 0h1m43 0h1m5 0h1M27 252h1m20 0h1m25 0h1m1 0h1m38 0h1m4 0h1M50 253h1m13 0h1m1 0h1m17 0h1m6 0h1m6 0h1m28 0h1M31 254h1m6 0h1m6 0h1m42 0h1m31 0h1M23 255h1m14 0h1m11 0h1m21 0h1m2 0h1m26 0h1m25 0h1M47 256h1m2 0h1m30 0h1m20 0h1m17 0h1M5 257h1m7 0h1m79 0h1m4 0h1m9 0h1M14 258h1m24 0h1m33 0h1m54 0h1M39 259h1m5 0h1m9 0h1m49 0h1m12 0h1m5 0h1M22 260h1m46 0h1m1 0h1m8 0h2m4 0h1M10 261h1m8 0h1m1 0h1m8 0h1m7 0h1m26 0h1m29 0h1m9 0h1m16 0h1M20 262h1m35 0h1m2 0h1m7 0h1m56 0h1M20 263h1m6 0h1m22 0h1m3 0h1m8 0h2m7 0h1m1 0h1m1 0h1m31 0h1M26 264h1m4 0h1m39 0h1m18 0h1m9 0h1m9 0h1m3 0h1M8 265h2m30 0h1m10 0h1m5 0h1m2 0h1m27 0h1M14 266h1m1 0h2m17 0h1m19 0h1m10 0h2M3 267h1m1 0h1m2 0h1m23 0h1m81 0h1M4 268h1m3 0h1m17 0h1m6 0h1m8 0h1m7 0h1m2 0h1m28 0h1m2 0h1m34 0h1M5 269h2m37 0h1m6 0h1m4 0h1m9 0h1m8 0h1m19 0h1m33 0h1M10 270h1m6 0h1m7 0h1m8 0h1m21 0h1m44 0h1m12 0h1m1 0h3m5 0h1M3 271h2m22 0h2m32 0h1m65 0h1M17 272h1m33 0h1m10 0h1m54 0h1m9 0h1M54 273h1m19 0h1m16 0h1m31 0h1m2 0h1M4 274h1m10 0h1m43 0h1m6 0h1m17 0h1m28 0h1m5 0h1M3 275h1m9 0h1m14 0h1m8 0h1m17 0h1m4 0h1m28 0h1m20 0h1m4 0h1m12 0h1M4 276h1m1 0h1m63 0h1m3 0h1m7 0h1m2 0h1m3 0h1m1 0h1m25 0h1M8 277h1m6 0h1m13 0h1m17 0h1m2 0h1m1 0h1m7 0h1m7 0h1m13 0h1M11 278h2m8 0h2m47 0h1m34 0h1M10 279h1m11 0h1m12 0h1m37 0h1m2 0h1m7 0h1m15 0h1M23 280h1m2 0h1m10 0h1m3 0h1m23 0h1m8 0h1m13 0h1m8 0h1M4 281h1m9 0h1m7 0h1m1 0h1m32 0h1m3 0h1m18 0h1m9 0h1m4 0h1m13 0h1M23 282h1m16 0h1m49 0h1m13 0h1m9 0h1M19 283h2m8 0h1m9 0h1m24 0h1m2 0h1m28 0h1m28 0h1M39 284h1m21 0h1m14 0h1m4 0h1m4 0h1m21 0h1M6 285h1m24 0h1m5 0h1m15 0h1m13 0h1m17 0h1m43 0h1M10 286h1m3 0h1m7 0h1m2 0h1m13 0h1m9 0h1m28 0h1m1 0h1m44 0h1M58 287h1m7 0h1m7 0h1m2 0h1M44 288h1m29 0h1m38 0h1m3 0h1m10 0h1M26 289h1m34 0h1m13 0h1m28 0h2m1 0h1m4 0h1M9 290h1m10 0h1m3 0h1m4 0h1m25 0h1m3 0h1m45 0h1M15 291h2m103 0h1m7 0h1M2 292h2m4 0h1m36 0h1m46 0h1m13 0h1m2 0h1m4 0h1m6 0h1M25 293h1m40 0h1m1 0h1m26 0h1m3 0h1m22 0h1M0 294h1m25 0h1m11 0h1m23 0h1m8 0h1m12 0h1m3 0h1m2 0h1m24 0h1M16 295h1m15 0h1m22 0h1m7 0h1M45 296h1m31 0h1m16 0h1M19 297h1m4 0h1m51 0h1m3 0h1m18 0h1m3 0h1m15 0h1M25 298h1m1 0h1m21 0h1m27 0h1m19 0h1M5 299h1m36 0h1m33 0h1m16 0h1m2 0h1m8 0h1m14 0h1m8 0h1M41 300h1m13 0h2m8 0h1m3 0h1m2 0h1m31 0h1m15 0h1m2 0h1M2 301h1m29 0h1m15 0h1m31 0h1m20 0h1M15 302h1m3 0h1m1 0h1m24 0h1m7 0h1m48 0h1M8 303h1m8 0h1m27 0h1m32 0h1M1 304h1m10 0h1m19 0h1m5 0h1m6 0h1m7 0h1m13 0h1m25 0h1m18 0h1m1 0h1M29 305h1m7 0h1m15 0h1m8 0h1m2 0h1m25 0h1m10 0h1M17 306h1m18 0h1m69 0h1m7 0h1m1 0h1M3 307h2m1 0h1m16 0h1m30 0h1m3 0h1m6 0h1m29 0h1m26 0h1m3 0h1M6 308h1m10 0h1m5 0h1m2 0h1m28 0h1m6 0h1m31 0h1m26 0h1M2 309h1m20 0h1m74 0h1m18 0h1M12 310h1m20 0h1m8 0h1m26 0h1m57 0h2M2 311h1m69 0h1m26 0h1m3 0h1m20 0h1M50 312h1m7 0h1m58 0h1M9 313h1m12 0h2m18 0h1m5 0h1m61 0h1m4 0h1M0 314h1m14 0h1m11 0h1m9 0h1m53 0h1m26 0h1M10 315h1m38 0h1m51 0h1m7 0h1m10 0h1M4 316h1m17 0h1m29 0h1m22 0h1m27 0h1M4 317h1m49 0h1m51 0h1m19 0h1M3 318h1m31 0h1m1 0h1m19 0h1m1 0h1m7 0h1m11 0h1m18 0h1m30 0h1M78 319h1m12 0h1m10 0h1m26 0h1M21 320h1m20 0h2m28 0h1m2 0h2m12 0h1m2 0h1m25 0h1M7 321h1m44 0h1m38 0h1m11 0h2M21 322h1m4 0h1m30 0h1m9 0h1m27 0h1M18 323h1m16 0h1m1 0h1m10 0h1m15 0h1m10 0h1m6 0h1M11 324h1m15 0h1m11 0h1m5 0h1m2 0h1m26 0h1m1 0h1m3 0h1m26 0h1M15 325h1m4 0h2m6 0h2m17 0h1m25 0h1m15 0h2m1 0h1m18 0h1m1 0h1M2 326h1m23 0h1m20 0h1m7 0h1m1 0h1m13 0h1m4 0h1m24 0h1m7 0h1M0 327h1m55 0h1m7 0h1m24 0h1m27 0h1M22 328h1m15 0h1m30 0h1m19 0h1m11 0h1m8 0h1M7 329h1m4 0h1m54 0h1m16 0h1M22 330h1m16 0h1m12 0h1m5 0h1m29 0h1m12 0h1M10 331h2m1 0h1m21 0h1m48 0h1M27 332h1m2 0h1m13 0h1m20 0h1m18 0h1m6 0h1m12 0h1m10 0h1m9 0h1M43 333h1m31 0h1m23 0h1m2 0h1m17 0h1m1 0h1M37 334h1m28 0h1m59 0h1M5 335h1m61 0h1m27 0h1M22 336h1m21 0h1m3 0h1m31 0h1m42 0h1M16 337h1m4 0h1m5 0h1m12 0h1m56 0h1m13 0h1m15 0h1M20 338h1m4 0h1m6 0h1m4 0h1m27 0h1m2 0h1M6 339h1m2 0h1m42 0h2m22 0h1m17 0h1m8 0h1m11 0h1m7 0h1M41 340h1m20 0h1m63 0h1M54 341h1M28 342h1m5 0h1m24 0h1m22 0h1m3 0h1M5 343h1m8 0h1m14 0h1m7 0h1m38 0h1m5 0h1m7 0h1m21 0h1"/><path id="n7" d="M21 230h1m90 0h1m7 0h1m4 0h1M20 231h1m9 0h1m59 0h1m33 0h1M22 232h1m16 0h2m15 0h1m18 0h1M3 233h1m41 0h1m82 0h1M25 234h1m13 0h1m3 0h1m7 0h1m18 0h1m34 0h1M12 235h1m8 0h1m8 0h1m4 0h1m7 0h1m1 0h1m1 0h1m3 0h1m36 0h1m10 0h1m26 0h1M12 236h2m2 0h1m35 0h1m41 0h1M93 237h1m23 0h1m2 0h1M21 238h1m3 0h1m8 0h1m22 0h1m4 0h1m13 0h1m9 0h1m4 0h1m19 0h1m9 0h1M13 239h1m59 0h1m19 0h1m29 0h1m3 0h1M25 240h1m41 0h1m43 0h2m4 0h2M10 241h1M9 242h1m5 0h2m13 0h1m14 0h2m31 0h1m9 0h1m7 0h2m22 0h1m1 0h1m1 0h1M0 243h1m7 0h1m8 0h1m34 0h2m28 0h1m14 0h1m28 0h1M45 244h1m5 0h1m15 0h1m26 0h1M8 245h1m11 0h1m39 0h1m7 0h1m8 0h1m9 0h1m22 0h2M16 246h1m12 0h1m2 0h1m16 0h1m9 0h2m29 0h1M0 247h1m55 0h1m46 0h1M28 248h1m4 0h2m23 0h1m4 0h1m1 0h1m6 0h1M36 249h1m21 0h1m12 0h2m8 0h1M1 250h2m25 0h1m7 0h2m2 0h1m10 0h1m12 0h1m19 0h1m43 0h1M10 251h1m15 0h1m54 0h1m25 0h1M9 252h1m39 0h1m11 0h1m31 0h1M24 253h1m8 0h1m1 0h1m81 0h1M4 254h1m20 0h1m4 0h1m69 0h1m7 0h1m14 0h1M9 255h2m4 0h1m26 0h1m3 0h1m22 0h1m21 0h1m15 0h1m14 0h1M18 256h1m10 0h1m3 0h1m44 0h1m7 0h1m17 0h1m18 0h1M7 257h1m16 0h1m45 0h1m39 0h1M1 258h1m10 0h1m7 0h1m7 0h1m11 0h1m4 0h1m8 0h1m25 0h1M79 259h1M28 260h2m2 0h1m30 0h1m18 0h1m17 0h1m13 0h1m13 0h1M28 261h1m89 0h1m5 0h1M18 262h1m3 0h1m2 0h1m2 0h1m20 0h2m12 0h1m5 0h1m41 0h1M41 263h1m3 0h1m51 0h1m19 0h1M10 264h1m2 0h1m3 0h1m6 0h1m15 0h1M22 265h1m5 0h1m2 0h1m1 0h1m18 0h1m5 0h1m17 0h1M9 266h1m31 0h1m54 0h1m1 0h1m4 0h1m3 0h1m1 0h1M17 267h1m24 0h1m25 0h1m8 0h1m8 0h1m25 0h1m3 0h1m3 0h1m5 0h1M29 268h1m2 0h1m23 0h1m33 0h1m11 0h1M1 269h1m17 0h1m21 0h1m20 0h1m5 0h1m40 0h1m8 0h1M24 270h1m2 0h1m9 0h1m13 0h1m57 0h1m10 0h1M19 271h1m16 0h1m4 0h1m9 0h1M34 272h1m4 0h1m27 0h1m7 0h1m14 0h2m7 0h1m18 0h1M10 273h1m6 0h1m10 0h1m51 0h1m38 0h2M29 274h1m66 0h1m14 0h1M15 275h1m5 0h2m7 0h1m17 0h1m28 0h1m18 0h1m32 0h1M43 276h1m1 0h1m57 0h1m5 0h1m17 0h1M0 277h1m1 0h1m11 0h1m6 0h1m26 0h1m4 0h1m20 0h1m2 0h1M27 278h1m19 0h1m31 0h1m38 0h1m4 0h1m3 0h1M29 279h1m20 0h1m5 0h1m13 0h1m1 0h1m31 0h1m17 0h1M15 280h1m18 0h1m18 0h1m24 0h1m4 0h1m14 0h1m6 0h1m13 0h1M28 281h1m3 0h1m25 0h1m22 0h1m19 0h1m12 0h1m7 0h1M52 282h1m7 0h1m6 0h1m28 0h1m13 0h1M3 283h1m12 0h1m6 0h1m21 0h1m27 0h1m14 0h1m1 0h1m8 0h1m10 0h1M16 284h1m11 0h1m31 0h1m1 0h1m8 0h1m7 0h1m5 0h1m11 0h1m17 0h1m1 0h1M10 285h1m9 0h1m19 0h1m22 0h1m44 0h1m1 0h1M12 286h1m19 0h1m20 0h1m10 0h2m17 0h1m5 0h1m2 0h1m5 0h1m2 0h2m12 0h1m6 0h1m1 0h1M3 287h1m12 0h1m33 0h1m33 0h1m8 0h1m9 0h1M59 288h1m30 0h1m35 0h1M7 289h1m32 0h1m24 0h1m16 0h1M1 290h1m43 0h1m1 0h1m16 0h1m4 0h1m15 0h1m2 0h1m14 0h1m2 0h1M5 291h2m3 0h1m12 0h1m14 0h1m11 0h1m29 0h1m11 0h1m20 0h1M11 292h1m14 0h1m48 0h1m1 0h1m9 0h1m6 0h1m12 0h1m8 0h1m5 0h1M77 293h1m11 0h1M5 294h2m59 0h1m11 0h1m11 0h1m6 0h1M37 295h1m8 0h1m7 0h1m4 0h1m8 0h1m4 0h1m47 0h1m1 0h1M13 296h1m25 0h1m14 0h2m3 0h1m19 0h2M44 297h1m4 0h1m34 0h1m37 0h1M0 298h1m7 0h1m55 0h1m23 0h1m21 0h1m2 0h1M34 299h1m12 0h1m39 0h3m12 0h1m7 0h1m10 0h1M8 300h1m7 0h1m4 0h1m9 0h1m15 0h1m12 0h1m33 0h1m6 0h1m1 0h1M28 301h1m69 0h1m5 0h1m4 0h1m12 0h1M101 302h1m8 0h1m7 0h1m8 0h1M32 303h1m2 0h1m8 0h1m28 0h1m18 0h1M11 304h1m30 0h1m17 0h1m3 0h1m23 0h1M3 305h1m52 0h1m2 0h1m16 0h1m48 0h1M11 306h1m30 0h1m39 0h1m4 0h1m1 0h1M38 307h1m18 0h1m10 0h1m3 0h1m14 0h1m24 0h1M29 308h1m9 0h1m11 0h1m34 0h1m37 0h1M32 309h1m8 0h1m20 0h1m7 0h1m2 0h1m5 0h1m12 0h1m9 0h1m5 0h1m18 0h1M34 310h1m45 0h1m23 0h1m2 0h1m15 0h1M0 311h1m17 0h1m66 0h1M6 312h2m4 0h1m15 0h1m8 0h1m29 0h1m9 0h1m19 0h1m1 0h1m9 0h1M13 313h1m2 0h1m14 0h1m12 0h1m15 0h1m26 0h1m9 0h1m23 0h1M13 314h2m2 0h1m27 0h1m2 0h1m58 0h2m13 0h1M8 315h2m34 0h2m5 0h1m5 0h1m27 0h1m11 0h1m12 0h1m4 0h1M1 316h1m14 0h1m4 0h1m13 0h1m2 0h1m9 0h1m13 0h1m9 0h1m16 0h1m4 0h1m4 0h1M52 317h1m45 0h1m25 0h1M22 318h1m4 0h1m1 0h1m19 0h1m36 0h1m10 0h1m21 0h1M1 319h1m14 0h1m10 0h1m30 0h2m13 0h1m6 0h1m41 0h1M7 320h1m1 0h1m59 0h1m7 0h2m7 0h1m23 0h1m5 0h1m7 0h1m3 0h1M14 321h1m8 0h1m1 0h1m5 0h1m13 0h1m18 0h1m29 0h1m30 0h1M9 322h1m18 0h1m15 0h1m7 0h1m5 0h1m27 0h1M0 323h2m4 0h1m13 0h1m10 0h1m24 0h1m11 0h1m1 0h1m1 0h1m50 0h1M0 324h1m5 0h1m6 0h1m3 0h1m5 0h1m11 0h1m5 0h1m2 0h1m52 0h1m11 0h1m6 0h1m10 0h1M121 325h1M10 326h1m11 0h1m56 0h1m27 0h1m16 0h1M11 327h1m25 0h2m3 0h1m2 0h1m11 0h1m34 0h1m14 0h1m4 0h1M44 328h1m39 0h1m3 0h1m26 0h1M5 329h1m52 0h1m3 0h1m7 0h1m10 0h1m24 0h1m6 0h1m7 0h1M24 330h1m8 0h1m4 0h1m6 0h1m7 0h1m31 0h1m23 0h1m3 0h1M2 331h1m43 0h1m6 0h1m8 0h1m11 0h1m30 0h1M10 332h2m26 0h1m30 0h1m17 0h1M32 333h1m9 0h1m9 0h1m8 0h1m33 0h1m10 0h1m1 0h1m17 0h1M12 334h1m56 0h1m4 0h1m54 0h1M65 335h1m28 0h1m2 0h1m2 0h1m23 0h1M4 336h2m23 0h1m27 0h1m18 0h1m10 0h1m24 0h1m5 0h1M7 337h1m1 0h1m14 0h1m21 0h1m21 0h1m30 0h1m9 0h1M1 338h1m7 0h1m11 0h1m7 0h1m25 0h1m8 0h1m22 0h1m1 0h1m9 0h1m16 0h1M28 339h1m5 0h1m7 0h1m3 0h1m13 0h1m32 0h1M7 340h1m3 0h1m27 0h1m34 0h1m7 0h1m24 0h1m5 0h1M23 341h1m4 0h1m14 0h1m41 0h1m17 0h1M41 342h1M61 343h1m2 0h1m30 0h1m3 0h1M28 344h2m12 0h2m32 0h1m9 0h1m13 0h1m6 0h1m4 0h1m2 0h1M47 345h1m10 0h1m27 0h1m8 0h1m4 0h1M15 346h1m16 0h1m4 0h1m2 0h1m25 0h2m41 0h1m16 0h1M7 347h1m42 0h1m21 0h1m15 0h1m7 0h2"/><path id="n8" d="M11 230h1m31 0h1m36 0h1m4 0h1m5 0h1m22 0h1m7 0h1M23 231h1m11 0h1m25 0h1m25 0h1M26 232h1m14 0h1m1 0h1m3 0h1m35 0h3m1 0h1m19 0h1m20 0h1M20 233h1m26 0h1m10 0h1m18 0h1m24 0h1m5 0h1m3 0h1m2 0h1m5 0h1m5 0h1M7 234h2m9 0h2m64 0h1m37 0h1M23 235h1m2 0h1m11 0h1m33 0h2m20 0h1m22 0h1M25 236h1m40 0h2M31 237h1m26 0h1m13 0h1m3 0h1m9 0h1m10 0h1M14 238h1m7 0h1m6 0h1m2 0h1m34 0h1m16 0h1m17 0h1m19 0h1m4 0h2M38 239h1m10 0h1m12 0h1m8 0h1m26 0h1M4 240h1m9 0h1m34 0h1m11 0h1m47 0h1M43 241h1m7 0h1m27 0h1m2 0h1m7 0h1m5 0h1M2 242h1m45 0h1m5 0h1m19 0h1m9 0h1m29 0h1m13 0h1M16 243h1m24 0h1m50 0h1M12 244h1m24 0h1m17 0h1m29 0h1m31 0h1m2 0h1M53 245h1m5 0h1m24 0h1m16 0h1m15 0h1m4 0h1m3 0h1M0 246h1m20 0h1m12 0h1m9 0h2m31 0h1m11 0h1m13 0h1m5 0h1m16 0h1M3 247h1m7 0h1m2 0h1m5 0h1m5 0h2m11 0h1m12 0h1m7 0h1m4 0h1m1 0h1m3 0h1m14 0h1M2 248h1m20 0h1m54 0h1m11 0h1m5 0h1m8 0h1m22 0h1M33 249h1m3 0h1m21 0h1m1 0h1m28 0h1m1 0h1m2 0h1m14 0h2m8 0h1M8 250h1m14 0h1m20 0h2m25 0h1m31 0h1M22 251h1m8 0h1m44 0h1m21 0h1m26 0h1m3 0h1M3 252h1m77 0h1m37 0h1m5 0h1M5 253h1m25 0h1m28 0h1m16 0h1m22 0h1m10 0h1m8 0h1M60 254h2m5 0h1m4 0h1m16 0h1M7 255h1m23 0h1m24 0h1m32 0h1m15 0h1m7 0h1M7 256h1m3 0h1m2 0h1m20 0h1m26 0h1m4 0h1m22 0h1M2 257h1m20 0h1m18 0h1m23 0h1m1 0h1m9 0h1m44 0h1M0 258h1m1 0h1m2 0h1m47 0h1m4 0h1m6 0h1m20 0h1m10 0h1m6 0h2m2 0h1M6 259h1m2 0h1m15 0h1m33 0h1m13 0h1m19 0h1m13 0h1M9 260h1m4 0h1m21 0h1m25 0h1m32 0h1m8 0h1m13 0h1m5 0h1M72 261h1m7 0h1m3 0h1m30 0h1m5 0h1M32 262h1m27 0h1m44 0h1m4 0h1M25 263h1m17 0h2m2 0h1m8 0h1m8 0h1m12 0h1m12 0h1M14 264h1m37 0h1m16 0h2m7 0h1m1 0h1m23 0h1m4 0h1m13 0h1M0 265h1m44 0h1m2 0h1m12 0h1m2 0h1m6 0h1m39 0h1M8 266h1m10 0h1m38 0h1m34 0h1m5 0h1m27 0h2M0 267h1m33 0h1m13 0h1m49 0h1m18 0h1m9 0h1M7 268h1m7 0h1m56 0h1m16 0h1m25 0h1m12 0h1M37 269h1m12 0h1m4 0h1m5 0h1m12 0h1m11 0h1m40 0h1M11 270h1m4 0h1m12 0h1m9 0h2m13 0h1m9 0h1m35 0h1M23 271h1m8 0h2m6 0h1m21 0h1m20 0h1m19 0h1m6 0h1M0 272h1m13 0h1m30 0h1m43 0h1m10 0h1m21 0h1M38 273h1m4 0h1m80 0h1M28 274h1m2 0h2m6 0h1m11 0h1m3 0h1m14 0h1m38 0h1m7 0h1M31 275h1m1 0h1M29 276h1m36 0h1m16 0h1m34 0h1M10 277h1m11 0h1m11 0h1m10 0h1m69 0h1m11 0h1M59 278h1m4 0h1m51 0h1M17 279h1m21 0h1m48 0h1m7 0h1m30 0h1m1 0h1M18 280h1m5 0h1m26 0h1m9 0h1m30 0h1m3 0h1M21 281h1m16 0h1m4 0h1m15 0h1m19 0h1m18 0h1m7 0h1M4 282h1m14 0h1m5 0h1m32 0h1m21 0h1m21 0h1m16 0h1M42 283h1m10 0h1m54 0h1m3 0h1m2 0h1m11 0h1M3 284h1m5 0h1m21 0h1m9 0h2m45 0h1m25 0h1M23 285h1m15 0h1m6 0h1m1 0h1m15 0h1m5 0h1m54 0h1m1 0h2M16 286h1m25 0h1m41 0h1m31 0h1m1 0h1M14 287h1m10 0h1m25 0h1m11 0h2m2 0h1m52 0h1M8 288h1m3 0h1m1 0h1m6 0h1m3 0h2m44 0h1m24 0h1m7 0h1M46 289h1m26 0h1m3 0h1m20 0h1M12 290h1m36 0h1m51 0h1m14 0h1M42 291h1m9 0h1m9 0h1m21 0h1m2 0h1M56 292h1m21 0h1m12 0h1m6 0h1m3 0h1M12 293h1m10 0h1m5 0h1m2 0h2m2 0h1m4 0h1m5 0h1m15 0h1m9 0h1m13 0h1m17 0h1m6 0h1m1 0h1m10 0h1M3 294h1m30 0h1m9 0h1m1 0h1m23 0h1m2 0h1m11 0h1m35 0h1M2 295h1m14 0h1m39 0h1m7 0h1m5 0h1m45 0h1m1 0h1M35 296h1m27 0h1m6 0h2m53 0h1M9 297h1m8 0h1m39 0h1m56 0h1m1 0h1M16 298h1m4 0h1m44 0h1m32 0h1m9 0h1M2 299h1m32 0h1m13 0h1m29 0h1M9 300h1m1 0h1m20 0h1m2 0h1m10 0h1m31 0h2m26 0h1m19 0h1M24 301h1m15 0h1m5 0h1m7 0h1m18 0h1m7 0h1m36 0h1M33 302h1m5 0h1m13 0h1m13 0h1m17 0h2m11 0h1m29 0h1M6 304h1m7 0h1m42 0h1m4 0h1m7 0h2m1 0h1m4 0h1m5 0h1m6 0h1m6 0h1m17 0h1M34 305h1m57 0h1m8 0h1m15 0h1M9 306h1m41 0h1m17 0h1m13 0h2m1 0h1m13 0h1m3 0h1m14 0h2M9 307h1m31 0h1m34 0h1m36 0h1M58 308h1m4 0h1m3 0h1m4 0h1m11 0h1m15 0h1m8 0h1M4 309h1m37 0h1m1 0h1m62 0h1M11 310h1m1 0h1m13 0h1m3 0h1m17 0h1m31 0h1m16 0h1m7 0h1m11 0h1m7 0h1M7 311h1m19 0h1m4 0h1m22 0h1m17 0h1m21 0h1m4 0h1m3 0h1m21 0h1M15 312h1m11 0h1m13 0h1m1 0h1m47 0h1M12 313h1m6 0h1m27 0h1m6 0h1m7 0h1m29 0h1m32 0h1M19 314h1m15 0h1m28 0h1m40 0h1m3 0h1M3 315h1m52 0h1m2 0h1m2 0h1m11 0h1m7 0h2m8 0h1M34 316h1m16 0h1m19 0h1m4 0h1m30 0h1M9 317h1m28 0h1m40 0h1m5 0h1m3 0h1m6 0h1m26 0h1M1 318h1m15 0h1m2 0h2m10 0h1m1 0h1m23 0h1m30 0h1m6 0h1m31 0h1M61 319h1m10 0h1m28 0h1M10 320h1m5 0h2m5 0h1m1 0h1m35 0h1m8 0h1m27 0h1m18 0h1M10 321h1m23 0h1m2 0h1m35 0h1m13 0h1m9 0h1m14 0h1m2 0h1M20 322h1m24 0h1m1 0h1m15 0h1m6 0h1m25 0h1m4 0h1M4 323h1m44 0h1m50 0h1M5 324h1m48 0h1m3 0h1m32 0h1m6 0h1m19 0h1M5 325h1m10 0h1m5 0h1m11 0h1m13 0h1m11 0h1m3 0h1m32 0h1m7 0h1M3 326h1m21 0h1m6 0h1m34 0h1m17 0h1m1 0h1M13 327h1m44 0h1M5 328h1m2 0h1m44 0h1m2 0h1m5 0h1m36 0h1m23 0h1M23 329h1m4 0h1m51 0h1M13 330h1m28 0h2m7 0h1m17 0h2m3 0h2m6 0h1m31 0h1m12 0h1M22 331h1m5 0h1m25 0h1m55 0h1m1 0h1m11 0h1M0 332h1m13 0h1m68 0h1m9 0h1M2 333h1m14 0h1m32 0h1m5 0h1m36 0h2m3 0h1m1 0h1m8 0h1m4 0h1m2 0h2M26 334h1m26 0h1m46 0h1m5 0h1m13 0h1M9 335h1m13 0h1m22 0h1m52 0h1m3 0h1m11 0h1m4 0h1M70 336h1m26 0h1m9 0h1m7 0h1M3 337h1m22 0h1m57 0h1m10 0h1m22 0h1M4 338h1m1 0h1m5 0h1m10 0h1m47 0h1m25 0h1M10 339h1m4 0h1m24 0h1m15 0h1m31 0h1m8 0h1m19 0h1m8 0h1M6 340h1m2 0h1m10 0h2m35 0h1M22 341h1m9 0h1m33 0h1m2 0h1m1 0h1m14 0h1m7 0h1M9 342h1m6 0h1m44 0h1m4 0h1m21 0h1m3 0h1m10 0h1m23 0h1M26 343h1m1 0h1m3 0h1m8 0h1m7 0h1m54 0h1M32 344h1m3 0h1m23 0h1m26 0h1m1 0h1m18 0h1M9 345h1m45 0h1m22 0h1M11 346h1m43 0h1m14 0h1m7 0h1m9 0h1m14 0h1m18 0h1M11 347h1m3 0h1m22 0h1m6 0h1m38 0h1m42 0h1M7 348h1m46 0h1m26 0h1M34 349h1m6 0h1m4 0h1m11 0h1m58 0h1m1 0h2m5 0h1M4 350h3m42 0h1m3 0h1m4 0h1m15 0h1m16 0h1"/><path id="n9" d="M0 230h1m7 0h1m35 0h1m19 0h1m3 0h1m14 0h1m31 0h1m7 0h1M0 231h1m1 0h1m3 0h1m5 0h1m6 0h1m26 0h1m20 0h1m15 0h1m26 0h1m5 0h1m3 0h1m4 0h2M0 232h1m4 0h1m24 0h1m26 0h1m8 0h1m11 0h1m1 0h1m19 0h1m17 0h1M4 233h1m7 0h1m11 0h1m9 0h1m4 0h1m10 0h1m29 0h1M6 234h1m2 0h1m1 0h2m29 0h1m7 0h1m32 0h1m11 0h1M17 235h1m16 0h1m26 0h1m9 0h1m29 0h1m6 0h1m11 0h1M19 236h1m14 0h1m11 0h2m43 0h1m10 0h2M12 237h1m55 0h1m13 0h1m42 0h1M24 238h1m8 0h1m5 0h1m53 0h1m9 0h1M0 239h1m14 0h1m92 0h1m12 0h1m6 0h1M9 240h2m13 0h1m3 0h1m11 0h1m23 0h1m57 0h1M17 241h1m3 0h1m18 0h1m43 0h1m12 0h1m9 0h1m16 0h1m1 0h1M29 242h1m29 0h1m13 0h1m15 0h1m18 0h1m6 0h1M5 243h1m45 0h1m10 0h1m3 0h1m32 0h1M65 244h1m30 0h1M3 245h1m6 0h1m23 0h1m79 0h1M38 246h1m18 0h1m5 0h1m23 0h1m9 0h2m3 0h1m17 0h1M18 247h1m17 0h1m5 0h1m10 0h1m4 0h1m14 0h1m3 0h1m18 0h1m4 0h1M27 248h1m42 0h1m53 0h1M3 249h1m1 0h1m1 0h2m36 0h1m28 0h1m12 0h1m17 0h1m12 0h1m6 0h1M6 250h1m6 0h1m4 0h1m19 0h1m31 0h1m11 0h1M20 251h1m14 0h1m14 0h1m1 0h1M12 252h1m24 0h1m47 0h1m35 0h2M16 253h1m17 0h1m17 0h1m2 0h1m19 0h1m27 0h1M0 254h1m5 0h1m21 0h1m30 0h1m17 0h1m19 0h1m5 0h1m23 0h1M5 255h1m2 0h1m9 0h2m12 0h1m40 0h1m4 0h1m30 0h1M10 256h1m34 0h1m13 0h1m1 0h1m15 0h1m38 0h1M44 257h1m68 0h1m14 0h1M3 258h1m11 0h1m9 0h1m3 0h1m18 0h1m14 0h1m28 0h1m8 0h1m22 0h1m1 0h1M7 259h1m18 0h1m11 0h1m42 0h1m32 0h1m11 0h1m1 0h1M18 260h1m29 0h1m49 0h1m11 0h1m10 0h1M1 261h1m3 0h1m53 0h1m10 0h1m32 0h1m9 0h1M4 262h1m77 0h1m6 0h1m1 0h1m8 0h1m11 0h1m3 0h1M3 263h1m31 0h1m16 0h1m2 0h1m11 0h1m39 0h1m12 0h2M8 264h1m21 0h1m12 0h1m10 0h1m1 0h2m39 0h1m24 0h1M2 265h1m2 0h1m20 0h1m59 0h1m25 0h1m8 0h1m5 0h2M20 266h1m53 0h1m6 0h1m13 0h1m6 0h1m2 0h1m11 0h1M24 267h1m68 0h1m5 0h1M34 268h1m3 0h1m35 0h1m9 0h1m11 0h1M15 269h1m6 0h1m7 0h1m70 0h1M4 270h2m22 0h1m43 0h1m8 0h1m16 0h1m24 0h1M1 271h1m13 0h1m15 0h1m13 0h1m8 0h1m2 0h1m32 0h1m9 0h1m15 0h1m4 0h1m2 0h1M21 272h1m2 0h1m36 0h1m8 0h2m2 0h1m54 0h1M9 273h1m10 0h1m48 0h1m6 0h1m10 0h1m33 0h1M53 274h1m3 0h1m19 0h1m5 0h1m20 0h1m10 0h1M0 275h1m23 0h1m10 0h2m5 0h1m47 0h1m12 0h1M1 276h1m49 0h1m3 0h1m17 0h1m14 0h1m5 0h2m1 0h1m27 0h1m2 0h1M31 277h1m5 0h1m1 0h1m3 0h1m39 0h1m4 0h1m8 0h1m1 0h1M1 278h1m1 0h1m1 0h1m2 0h1m7 0h1m7 0h1m8 0h1m32 0h2m6 0h1m15 0h1m19 0h1m3 0h1M23 279h1m43 0h1M10 280h1m16 0h1m1 0h1m14 0h1m3 0h1m7 0h1m13 0h1m33 0h1m16 0h1m5 0h1M7 281h1m17 0h1m21 0h1m14 0h2m36 0h1m1 0h1M5 282h1m5 0h1m12 0h1m4 0h1m7 0h1m31 0h1m27 0h1m25 0h1M9 283h1m12 0h1m9 0h2m50 0h1M13 284h1m11 0h1m6 0h1m18 0h1m4 0h1m26 0h1m40 0h1M8 285h1m8 0h3m23 0h1m12 0h1m19 0h1m43 0h1M3 286h1m1 0h2m31 0h1m5 0h1m2 0h1m24 0h1m22 0h1M15 287h1m6 0h1m6 0h1m57 0h1M1 288h1m7 0h1m17 0h2m18 0h1m21 0h1m17 0h1m11 0h1m23 0h1M28 289h1m14 0h1m5 0h1m4 0h1m2 0h1m18 0h1m1 0h1m49 0h1M3 290h1m1 0h1m5 0h1m30 0h1m64 0h1M28 291h1m11 0h1m7 0h1m14 0h1m15 0h1m27 0h1m3 0h1M4 292h1m39 0h1m13 0h1m41 0h1m11 0h1m7 0h1m6 0h1M6 293h1m10 0h1m16 0h1m41 0h1m39 0h1m11 0h1M41 294h1m11 0h1m14 0h1m26 0h1m11 0h1m3 0h2m12 0h1M11 295h1m52 0h1m4 0h1m5 0h1m48 0h1M2 296h1m3 0h1m17 0h1m18 0h1m3 0h1m64 0h1m11 0h1M66 297h1m14 0h1m25 0h1m20 0h1M15 298h1m18 0h1m2 0h1m6 0h1m12 0h1m5 0h1m11 0h1m9 0h1m17 0h1m8 0h1m9 0h1M10 299h1m2 0h1m8 0h1m33 0h1m2 0h1m20 0h1m42 0h1M2 300h1m4 0h1m76 0h1m3 0h1m19 0h1m16 0h1M13 301h1m8 0h1m3 0h1m59 0h1m5 0h1m24 0h1M5 302h1m8 0h1m12 0h1m4 0h1m2 0h1m6 0h1m25 0h1m20 0h1m16 0h1M36 303h1m22 0h1M0 304h1m24 0h1m13 0h1m4 0h1m37 0h1M8 305h1m1 0h1m27 0h1m18 0h1m2 0h1m29 0h1m27 0h1M26 306h1m28 0h1m9 0h1m10 0h1m11 0h1m5 0h1m3 0h1M19 307h1m50 0h1m32 0h1M19 308h2m33 0h1m11 0h1m32 0h1m3 0h3M8 309h1m102 0h1m1 0h1M3 310h1m42 0h1m28 0h2m1 0h1m4 0h1m6 0h1m21 0h1M9 311h1m21 0h1m33 0h1m5 0h1m34 0h1m11 0h1M68 312h1m23 0h1m1 0h1m1 0h1m3 0h1m9 0h1m16 0h1M8 313h1m31 0h1m31 0h1m6 0h1m24 0h1m3 0h1m10 0h1m2 0h1M26 314h1m5 0h1m7 0h1m5 0h1m36 0h1m32 0h1m7 0h1M26 315h1m2 0h1m2 0h1m13 0h2m15 0h1m8 0h1m14 0h1m26 0h1m14 0h1M0 316h1m9 0h1m4 0h1m25 0h1m24 0h1m30 0h1m19 0h1m9 0h1M53 317h1m13 0h1m27 0h1m8 0h1m11 0h1M24 318h1m5 0h1m32 0h1m44 0h1m6 0h1m11 0h1M22 319h1m9 0h1m18 0h1m19 0h1m13 0h1m10 0h1m6 0h1m16 0h1M31 320h1m7 0h1m17 0h1m7 0h1m2 0h1m15 0h1m19 0h1m21 0h1M9 321h1m6 0h1m15 0h1m7 0h1m33 0h1m15 0h1m1 0h1m3 0h1m20 0h1M42 322h1m45 0h1m10 0h1m15 0h1m10 0h1M2 323h1m38 0h1m41 0h1m4 0h1m5 0h1m6 0h1M25 324h1m41 0h1m5 0h1m6 0h1m7 0h1M14 325h1m21 0h2m4 0h1m38 0h1m41 0h1M36 326h1M9 327h1m7 0h1m18 0h1m3 0h1m9 0h1m30 0h1m5 0h1m39 0h1M6 328h1m6 0h1m4 0h1m10 0h1m6 0h1m21 0h1M59 329h1m33 0h3m1 0h1m20 0h1m5 0h1M29 330h2m6 0h1m9 0h1m63 0h1m10 0h1m3 0h1M7 331h1m52 0h1m2 0h1m16 0h1m8 0h1M7 332h1m37 0h1m51 0h1m12 0h1m10 0h1M13 333h1m2 0h1m28 0h1m23 0h1m55 0h1M6 334h1m32 0h1m2 0h1m1 0h1m5 0h1M36 335h1m19 0h1m50 0h1m13 0h1m1 0h1m1 0h1M9 336h1m8 0h1m41 0h1m2 0h1M10 337h1m12 0h1m30 0h1m14 0h1m19 0h1m6 0h1m22 0h1M8 338h1m5 0h1m109 0h1M5 339h1m18 0h2m7 0h1m25 0h1m48 0h1m5 0h1M3 340h1m6 0h1m17 0h1m3 0h1m9 0h1m11 0h1m10 0h1m22 0h1m8 0h1m1 0h1m17 0h1M24 341h1m70 0h1M7 342h1m13 0h1m32 0h1m46 0h2m1 0h1m2 0h1M11 343h1m21 0h1m6 0h1m2 0h1m6 0h1m51 0h1m12 0h1m5 0h1M23 344h1m44 0h1m8 0h2m16 0h1m20 0h2m11 0h1M6 345h1m4 0h1m2 0h1m14 0h1m22 0h1m24 0h1M8 346h1m10 0h2m15 0h1m16 0h1m26 0h1m10 0h1m12 0h1m6 0h1M10 347h1m2 0h1m4 0h1m43 0h1m2 0h1m21 0h1m11 0h1m7 0h1m8 0h2M22 348h1m10 0h1m12 0h1m9 0h1m18 0h1m22 0h1m15 0h1M2 349h1m13 0h1m12 0h1m36 0h1m9 0h1m5 0h1m12 0h1M43 350h1m13 0h1m22 0h1m2 0h2m4 0h1m15 0h1M40 351h1m2 0h1m5 0h1m1 0h1m20 0h1m14 0h1M6 352h1m11 0h1m25 0h1m1 0h1m16 0h1m2 0h1m4 0h1m33 0h1m13 0h1m9 0h1"/><path id="n10" d="M17 230h1m6 0h1m33 0h1m14 0h1M34 231h1M10 232h1m7 0h1m13 0h2m10 0h1m58 0h1m16 0h1m4 0h1M8 233h1m34 0h1m12 0h1m40 0h1m26 0h1M57 234h1m3 0h1m16 0h1m41 0h1M13 235h1m52 0h1m20 0h1m2 0h1m14 0h1m9 0h2m5 0h3M20 236h1m37 0h2m19 0h1m3 0h1m17 0h1m18 0h1m8 0h1M34 237h2m17 0h1m9 0h1m54 0h1M20 238h1m30 0h1m30 0h1m2 0h1m9 0h1m28 0h1M2 239h1m13 0h1m16 0h1m5 0h1m36 0h1m14 0h1m5 0h1M30 240h1m7 0h1m4 0h1m37 0h1m10 0h1m4 0h1M27 241h1m6 0h1m12 0h1m9 0h2m8 0h1m37 0h1m8 0h1M13 242h1m42 0h1m13 0h1m4 0h1m4 0h1m28 0h1M25 243h1m9 0h1m4 0h1m20 0h1m51 0h1M35 244h1m6 0h1m1 0h1m74 0h1m7 0h2M4 245h1m14 0h1m7 0h1m14 0h1m1 0h1m13 0h1m30 0h1m7 0h1m2 0h1m1 0h1m5 0h1m14 0h1m3 0h1M122 246h1M38 247h1m11 0h1m4 0h1m28 0h1m2 0h1m35 0h1M5 248h1m12 0h1m54 0h1m2 0h1m5 0h1m24 0h1m10 0h1m3 0h1m3 0h1m2 0h1M25 249h1m1 0h1m71 0h1M21 250h1m87 0h1m7 0h1M14 251h1m2 0h1m91 0h1M16 252h1m3 0h1m10 0h1m10 0h1m52 0h1m9 0h1M2 253h1m6 0h1m4 0h1m28 0h1m7 0h1m27 0h1m25 0h1m9 0h1M11 254h1m30 0h1m4 0h1m5 0h1m32 0h1m28 0h1M0 255h1m3 0h1m30 0h1m1 0h1m17 0h1m4 0h1m10 0h1m31 0h1m8 0h1M19 256h1m62 0h1m13 0h1M9 257h1m12 0h1m17 0h1m32 0h1m12 0h1m5 0h1M10 258h2m18 0h2m3 0h1m13 0h1m10 0h1m1 0h1m6 0h1m4 0h1m4 0h1m13 0h1M12 259h1m14 0h1m34 0h1m24 0h1m12 0h2m6 0h1M8 260h1m4 0h1m16 0h1m18 0h1m1 0h1m5 0h1m14 0h1m6 0h1m7 0h1m32 0h1M66 261h1m1 0h1m16 0h1m1 0h2m9 0h1M14 262h1m12 0h1m16 0h1m7 0h1m2 0h1m28 0h1m42 0h1M5 263h1m5 0h1m34 0h1m6 0h1m3 0h1m24 0h1M3 264h2m22 0h1M25 265h1m1 0h1m6 0h1m2 0h1m4 0h1m22 0h1m8 0h1m5 0h1m22 0h1m13 0h1M31 266h1m16 0h1m10 0h1m20 0h1m8 0h1m18 0h1m1 0h1M4 267h1m1 0h1m16 0h1m6 0h2m53 0h1m2 0h1M37 268h1m55 0h1m6 0h1M8 269h1m14 0h1m39 0h1M13 270h1m24 0h1m18 0h1m20 0h1m12 0h1m2 0h1M6 271h1m31 0h1m4 0h1m5 0h1m2 0h1m14 0h1m14 0h1m2 0h1m27 0h1M2 272h1m20 0h1m22 0h1m5 0h1m7 0h1m7 0h1m38 0h2M2 273h1m4 0h1m17 0h1m1 0h1m16 0h1m8 0h1m1 0h1m3 0h1m3 0h1m19 0h1m25 0h1M9 274h1m35 0h1m21 0h1M8 275h1m2 0h1m45 0h1m3 0h1m4 0h1m47 0h1M37 276h1m9 0h1m24 0h1m19 0h1m11 0h1M5 277h1m13 0h1m41 0h1m5 0h1m28 0h1M4 278h1m31 0h1m4 0h1m1 0h1m24 0h1M20 279h1m13 0h1m28 0h1m14 0h1m27 0h1m18 0h1M45 280h1m17 0h1m31 0h1m14 0h1M12 281h1m20 0h1m2 0h1m4 0h1m2 0h1m11 0h1m11 0h1m14 0h1m3 0h1m15 0h1M1 282h1m18 0h1m34 0h1m29 0h1m12 0h1m9 0h1m4 0h1m6 0h1m1 0h1m3 0h1M2 283h1m22 0h1m9 0h1m18 0h1m26 0h1m38 0h1M7 284h1m86 0h1m1 0h1m25 0h1m3 0h1M24 285h1M0 286h1m32 0h1m20 0h2M13 287h1m40 0h1m20 0h1m14 0h1m4 0h1M17 288h1m16 0h1m6 0h1m3 0h1m11 0h1m19 0h1m1 0h1m21 0h1m4 0h1m22 0h1M18 289h1m16 0h1m16 0h1m5 0h1m11 0h1m15 0h1m23 0h1m12 0h1M17 290h1m14 0h1m35 0h1m14 0h1m41 0h1M3 291h2m13 0h1m15 0h1m14 0h1m14 0h1m3 0h3m2 0h1m4 0h1m27 0h1m5 0h1M1 292h1m19 0h1m33 0h1m24 0h1m2 0h1m41 0h1M4 293h1m32 0h2m4 0h1m4 0h1m12 0h1m5 0h1m32 0h1M11 294h1m44 0h1m18 0h2m12 0h1m11 0h2m1 0h1m5 0h1m16 0h1M19 295h1m94 0h1M86 296h1m32 0h1M34 297h1m30 0h1m1 0h1m10 0h1m9 0h1m4 0h1m29 0h1M5 298h1m64 0h1M4 299h1m1 0h2m47 0h1m14 0h1m10 0h1m35 0h1M13 300h1m4 0h1m42 0h1m13 0h1m10 0h1m20 0h1m6 0h1m7 0h1M69 301h1m36 0h1M45 302h1m11 0h1m12 0h1m6 0h2m1 0h1m10 0h1m22 0h1m8 0h1M1 303h1m93 0h1m22 0h1m6 0h1m2 0h1M2 304h1m7 0h1m4 0h1m52 0h1m52 0h1m2 0h1M16 305h1m15 0h1m19 0h1m22 0h1m6 0h1m28 0h1m17 0h1M18 306h1m8 0h1m15 0h1m20 0h1m31 0h1m5 0h1m12 0h1M0 307h1m10 0h1m8 0h1m13 0h1m8 0h1m12 0h1m17 0h1m2 0h1m16 0h1m7 0h1M4 308h2m8 0h1m16 0h1m14 0h1m9 0h1m4 0h1m25 0h1m13 0h1m12 0h1m10 0h1M3 309h1m3 0h1m4 0h1m20 0h1m2 0h1m9 0h1m48 0h1m19 0h1M0 310h1m3 0h1m51 0h1m2 0h1m17 0h1m8 0h1m15 0h1m2 0h1m23 0h1M11 311h1m25 0h1m3 0h1m12 0h1m21 0h1m17 0h1M8 312h1m15 0h1m47 0h1m48 0h1M45 313h1m72 0h1M5 314h1m4 0h1m10 0h1m12 0h1m3 0h1m11 0h1m11 0h1m24 0h1m9 0h1m29 0h1M18 315h1m57 0h1m12 0h1m37 0h1M12 316h1m17 0h1m5 0h1m19 0h1m59 0h1m8 0h1M16 317h1m6 0h1m9 0h1m29 0h1m28 0h1m20 0h1M12 318h1m23 0h1m14 0h1m24 0h1m13 0h1m12 0h1m18 0h1M6 319h1m12 0h1m24 0h2m17 0h1m19 0h1m30 0h1M14 320h1m13 0h1m16 0h1m42 0h1m1 0h1m30 0h1m1 0h1M0 321h3m55 0h1m34 0h1m1 0h1m2 0h1m3 0h1m11 0h1m5 0h1M3 322h1m34 0h1m11 0h1m61 0h1M3 323h1m4 0h1m12 0h2m7 0h1m5 0h1m2 0h1m10 0h1m34 0h1m20 0h1M47 324h1m39 0h1m5 0h1M26 325h1m34 0h1m16 0h1m9 0h1M15 326h1m12 0h1m4 0h1m20 0h1m13 0h2m33 0h1M1 327h1m31 0h2m28 0h1M17 328h1m10 0h1m34 0h1m1 0h1m7 0h1m21 0h1m9 0h1M2 329h1m11 0h1m9 0h1m2 0h1m3 0h1m3 0h1m5 0h1m18 0h1m38 0h1m10 0h1m4 0h1M35 330h1m10 0h1m39 0h1m11 0h1M9 331h1m4 0h1m5 0h1m10 0h1m25 0h1m30 0h1m30 0h1m3 0h1M2 332h1m33 0h1m23 0h1m15 0h1m1 0h1m2 0h1m3 0h1m21 0h1m12 0h1M38 333h2m41 0h1m7 0h1m39 0h1M21 334h1m3 0h1m3 0h1m45 0h1m17 0h1m17 0h1M22 335h1m25 0h2m58 0h1m2 0h1M13 336h1m33 0h1m37 0h1m10 0h1m3 0h1m5 0h1m1 0h1m1 0h1m5 0h1M11 337h1m53 0h1m10 0h1m23 0h1m25 0h1M18 338h1m28 0h1m3 0h1m67 0h1m2 0h1M85 339h1m27 0h1M16 340h1m30 0h1m7 0h1m3 0h1M6 341h1m20 0h1m3 0h1m50 0h1m14 0h1m12 0h1m1 0h1m15 0h1M2 342h1m37 0h1m8 0h1m22 0h1m47 0h1m3 0h1M21 343h1m35 0h1m19 0h1m16 0h1m1 0h1m3 0h1M69 344h1M1 345h1m32 0h2m10 0h1m21 0h1M2 346h1m6 0h1m3 0h1m103 0h1m1 0h1m4 0h1M57 347h1m32 0h1m15 0h1m4 0h1m3 0h1M11 348h2m8 0h1m31 0h1m36 0h1m9 0h1m2 0h1m8 0h2M32 349h1m3 0h1m16 0h1m34 0h1m32 0h1M47 350h1m27 0h1m48 0h1M4 351h1m26 0h1m3 0h1m5 0h1m49 0h1m5 0h1M1 352h1m1 0h1m38 0h1m25 0h1m41 0h1M5 353h1m5 0h1m43 0h1m7 0h1m28 0h1m9 0h1m24 0h1M9 354h1m23 0h1m3 0h1m6 0h1m50 0h1m8 0h1m1 0h2M0 355h1m10 0h1m106 0h1"/><path id="n11" d="M12 230h1m63 0h1m51 0h1M36 231h1m21 0h1m20 0h1m8 0h1m40 0h1M3 232h1m3 0h1m3 0h1m23 0h1m16 0h1m29 0h1m6 0h1m1 0h1m1 0h1m1 0h1M11 233h1m59 0h1m11 0h1m9 0h1m19 0h1m12 0h1M32 234h1m19 0h1m32 0h1M18 235h1m44 0h1m20 0h1m11 0h1m10 0h1m11 0h1M62 236h1m1 0h1m5 0h1M26 237h4m54 0h1m5 0h1M3 238h1m59 0h1m1 0h1m41 0h1m1 0h1m5 0h1M8 239h1m14 0h2m30 0h1m18 0h1m17 0h1m8 0h1M13 240h1m3 0h1m14 0h2m8 0h1m19 0h1m12 0h1m40 0h1m9 0h1M46 241h1m24 0h1m48 0h1M0 242h1m2 0h1m14 0h1m16 0h1m4 0h1m11 0h1m30 0h1m3 0h1m25 0h1m7 0h1m1 0h1M11 243h1m47 0h1m26 0h1m9 0h1m17 0h1M20 244h1m20 0h1m5 0h1m20 0h1m22 0h1m26 0h1M33 245h1m13 0h1M31 246h1m1 0h1m3 0h1m12 0h1m5 0h1m4 0h1m21 0h1m11 0h1m18 0h1m13 0h1M5 247h1m26 0h1m14 0h1m11 0h1m34 0h1m29 0h1M8 248h1m2 0h1m24 0h1m62 0h1m3 0h1m15 0h1m1 0h1M24 249h1m60 0h1m26 0h1m10 0h1m4 0h1M61 250h1m12 0h1m25 0h1M3 251h1m20 0h1m12 0h1m7 0h1m9 0h1m7 0h1m19 0h1m2 0h1m1 0h1m2 0h1m34 0h1M6 252h1m3 0h1m8 0h1m10 0h1m46 0h2m4 0h1M26 253h1m38 0h1m4 0h1m21 0h1m36 0h1M15 254h1m7 0h1m10 0h1m31 0h1m15 0h1m24 0h1M11 255h1m32 0h1m39 0h1m10 0h1m5 0h1M32 256h1m19 0h1m16 0h2m21 0h1m13 0h1m22 0h1M33 257h1m56 0h1m4 0h1m30 0h1M7 258h1m10 0h1m18 0h1m3 0h1m41 0h1m30 0h1M0 259h1m14 0h2m14 0h1m11 0h1m45 0h1m35 0h1M20 260h1m40 0h1m6 0h1m19 0h1m33 0h1M6 261h1m10 0h1m17 0h1m33 0h1m3 0h1m16 0h2m15 0h1M8 262h1m21 0h1m8 0h1m24 0h1m53 0h1M16 263h1m51 0h1m10 0h1m12 0h1m29 0h1M19 264h1m39 0h1m14 0h1m24 0h1m3 0h1m2 0h1M3 265h1m15 0h1m39 0h1m9 0h1m38 0h1M24 266h1m9 0h1m48 0h2m1 0h2m9 0h1M1 267h1m7 0h2m5 0h1m9 0h1m13 0h1m11 0h1m11 0h2m6 0h1m56 0h1M6 268h1m6 0h1m11 0h1m31 0h1m17 0h1m4 0h1m27 0h1m15 0h1M4 269h1m24 0h1m29 0h1m21 0h1M9 270h1m20 0h1m43 0h1m5 0h1m18 0h1m3 0h1M8 271h1m20 0h1m40 0h1m3 0h1m21 0h1m20 0h1M12 272h2m19 0h1m1 0h1m45 0h1m6 0h1m6 0h1m5 0h1m4 0h1m8 0h1M4 273h2m2 0h1m17 0h1m34 0h1m6 0h1m19 0h1m3 0h2m4 0h1m2 0h1m6 0h1m9 0h1m10 0h1M14 274h1m56 0h1m2 0h1m1 0h1m29 0h1M14 275h1m1 0h1m9 0h2m13 0h1m5 0h1m16 0h1m3 0h1m7 0h1m14 0h1M11 276h1m30 0h1m10 0h1m52 0h1M24 277h1m26 0h1m41 0h1M73 278h1m19 0h1m7 0h1m27 0h1M5 279h1m27 0h1m18 0h1m22 0h1m42 0h1m1 0h2M7 280h1m51 0h1m21 0h1m2 0h1M18 281h1m18 0h1m7 0h1m5 0h1m12 0h1m34 0h1m10 0h1m1 0h1m8 0h1M15 282h1m41 0h1m10 0h1m13 0h1M6 283h1m10 0h1m52 0h1m1 0h1m9 0h1m40 0h1M30 284h1m53 0h1M14 285h1m11 0h2m2 0h1m20 0h1m6 0h1m40 0h1m15 0h1M61 286h1m4 0h1m26 0h1m14 0h1m20 0h1M60 287h1m7 0h1m14 0h1m35 0h1M11 288h1m36 0h1m33 0h1m14 0h1m7 0h1m2 0h1M56 289h1m39 0h1M6 290h1m18 0h1m4 0h1m42 0h1m1 0h1m20 0h1m15 0h1m7 0h1m5 0h1M9 291h1m10 0h1m14 0h1m20 0h1m8 0h1m10 0h1m4 0h2m22 0h1M41 292h1m32 0h1m11 0h1m6 0h1m19 0h1m10 0h1M19 293h1m15 0h1m23 0h1m4 0h2m3 0h1m16 0h1m26 0h1M48 294h1m1 0h1m26 0h1m4 0h1m41 0h1m3 0h1M33 295h1m8 0h1m5 0h1m32 0h1m2 0h1m33 0h1M15 296h1m6 0h1m18 0h1m11 0h1m7 0h1m22 0h1m14 0h1m1 0h1m12 0h2m4 0h1M29 297h1m45 0h1m14 0h1m7 0h1M40 298h1m37 0h1m37 0h1m2 0h1M14 299h1m1 0h1m10 0h1m8 0h1m9 0h1m3 0h1m10 0h1m1 0h1m40 0h1m7 0h1M100 300h1m16 0h1M11 301h1m11 0h1m13 0h1m14 0h1m4 0h1m24 0h1m8 0h1m27 0h1M6 302h1m10 0h1m41 0h1m19 0h1m4 0h1m14 0h1m2 0h1m1 0h1m20 0h1M23 303h1m1 0h1m30 0h1m52 0h1M27 304h1m6 0h1m13 0h1m14 0h1m19 0h1m5 0h1m17 0h1m11 0h1m8 0h1M21 305h1m2 0h1m20 0h1m35 0h1m3 0h1m2 0h1m6 0h1m2 0h1m8 0h1M0 306h1m6 0h1m7 0h1m3 0h2m11 0h1m23 0h1m2 0h2m1 0h1m3 0h1m26 0h1m28 0h1m3 0h1m1 0h2M7 307h1m8 0h1m31 0h1m3 0h1m44 0h1m20 0h1M16 308h1m21 0h1m6 0h1m4 0h1m18 0h1m1 0h1m43 0h1M9 309h1m15 0h1m11 0h1m14 0h1m4 0h1m8 0h1m19 0h1m1 0h2m16 0h1m3 0h1M17 310h1m21 0h1m18 0h1m2 0h1m20 0h1m5 0h1m6 0h1M3 311h1m2 0h1m5 0h1m35 0h1m10 0h1m7 0h1m41 0h1m1 0h1m17 0h1M10 312h1m14 0h1m7 0h2m84 0h1M53 313h1m14 0h1M4 314h1m36 0h2m12 0h1m12 0h1m3 0h2m2 0h1m11 0h1m5 0h1m8 0h1M22 315h2m6 0h1m4 0h1m4 0h1m7 0h1m3 0h1m42 0h1M115 316h1m6 0h1M2 317h1m5 0h1m10 0h1m19 0h1m8 0h1m13 0h1m7 0h1m5 0h1m40 0h1M60 318h1m33 0h1M4 319h1m13 0h1m15 0h2m30 0h1m14 0h1m6 0h1m36 0h1m2 0h1M11 320h1m7 0h1m13 0h1m25 0h1m36 0h1M6 321h1m29 0h1m9 0h1m22 0h1m12 0h1m46 0h1M6 322h1m29 0h1m25 0h1m20 0h1m7 0h2m24 0h1M62 323h1m21 0h1m29 0h1m6 0h1m4 0h1m2 0h1M38 324h1m50 0h1m17 0h1m4 0h1m9 0h1M3 325h1m52 0h1m1 0h1m40 0h1m7 0h1M14 326h1m22 0h1m20 0h1m2 0h1m3 0h1m48 0h1m10 0h1M5 327h1m8 0h1m14 0h1m42 0h1M27 328h1m6 0h1m50 0h1m26 0h1m13 0h1m1 0h2M15 329h1m3 0h1m20 0h1m11 0h1m3 0h1m25 0h1m2 0h1m15 0h1m5 0h1M60 330h1m55 0h1M59 331h1m1 0h1m8 0h1m51 0h1m2 0h1M41 332h1m21 0h2m34 0h1m6 0h1m17 0h1M1 333h1m5 0h1m15 0h1m10 0h1m9 0h1m32 0h1m19 0h1m6 0h1M0 334h1m3 0h1m17 0h1m4 0h1m13 0h1m45 0h1m3 0h1m5 0h1M6 335h1m7 0h1m71 0h1m22 0h1M2 336h1m3 0h1m19 0h1m5 0h1m19 0h1m25 0h1m10 0h1M8 337h1m44 0h1m38 0h1m10 0h2m3 0h1M24 338h1m6 0h1m3 0h1m12 0h1m7 0h1m1 0h1m2 0h1m28 0h1m5 0h1m5 0h1m10 0h1M11 339h1m19 0h1m18 0h1m48 0h1M0 340h2m2 0h1m18 0h1m37 0h1m17 0h1m1 0h1m22 0h1M19 341h2m24 0h1m31 0h1m5 0h1m31 0h1M12 342h2m30 0h1m1 0h1m18 0h1m8 0h1m2 0h1m2 0h1m19 0h1M0 343h1m11 0h1m53 0h1m1 0h1m17 0h1m32 0h1m3 0h1M15 344h1m4 0h1m46 0h1m13 0h1m2 0h1M27 345h1m65 0h2m18 0h1m4 0h1m7 0h1m1 0h1M16 346h2m8 0h1m27 0h1m47 0h1m3 0h1m1 0h1m19 0h1M1 347h1m21 0h1m4 0h1m4 0h1m3 0h1m47 0h1m36 0h1M17 348h1m81 0h1m19 0h1M44 349h1m14 0h1m8 0h1m11 0h1m20 0h1m13 0h1m2 0h1m5 0h1M40 350h1m46 0h1m13 0h1m16 0h1M1 351h1m12 0h1m10 0h1m2 0h1m13 0h1m9 0h1m12 0h1m9 0h1m3 0h1m2 0h1m3 0h1m41 0h1M13 352h1m9 0h1m13 0h1m20 0h1m10 0h1m23 0h1m12 0h1M8 353h1m8 0h1m11 0h1m4 0h1m26 0h1m6 0h1m54 0h1M28 354h1m20 0h1m67 0h1m10 0h1M16 355h2m20 0h1m8 0h1m9 0h1m11 0h1m35 0h1m1 0h1M5 356h1m1 0h1m20 0h1m6 0h1m2 0h1m10 0h1m15 0h1m17 0h1m5 0h1m5 0h1m1 0h1m25 0h1M1 357h1m34 0h1m17 0h1m46 0h1M4 358h1m41 0h1m30 0h1m43 0h1m3 0h1M68 359h1m45 0h1m12 0h1M8 360h1m2 0h1m24 0h1m45 0h1m28 0h1m7 0h1M41 361h1m5 0h1m1 0h1m7 0h1m12 0h1m17 0h1m3 0h1m19 0h1m10 0h1"/><path id="n12" d="M1 230h1m2 0h1m26 0h1m23 0h1m4 0h1m4 0h1M14 231h1m17 0h1m23 0h1m7 0h2m6 0h1m28 0h1m16 0h1m2 0h1M50 232h1m25 0h1m11 0h1m24 0h1m13 0h1M27 233h1m14 0h1m8 0h1m16 0h1m29 0h1m4 0h1M20 234h1m23 0h1m19 0h1m23 0h1m4 0h1m4 0h1m5 0h1m4 0h1m3 0h1M3 235h1m4 0h1m2 0h1m43 0h1m19 0h1m15 0h1m18 0h1M5 236h2m2 0h1m5 0h1m16 0h1m32 0h1m9 0h1m1 0h1m15 0h1m2 0h1m10 0h1M5 237h1m18 0h1m83 0h1m12 0h1m1 0h1M19 238h1m3 0h1m32 0h1m59 0h1M19 239h1m6 0h1m10 0h1m6 0h1m41 0h1m24 0h1M11 240h2m7 0h1m18 0h1m1 0h1m8 0h1m28 0h1m22 0h1m20 0h1M4 241h1m10 0h1m14 0h1m7 0h1m2 0h1m13 0h1m5 0h1m56 0h1m3 0h1M6 242h1m12 0h1m40 0h1M56 243h1m18 0h1m11 0h1m21 0h1m2 0h1m15 0h1M0 244h1m48 0h1m6 0h1m13 0h1m26 0h1m17 0h1m6 0h1M1 245h1m43 0h1m26 0h1m5 0h1m12 0h1M4 246h1m74 0h1m39 0h1m3 0h1M1 247h1m32 0h1m22 0h1m11 0h1m28 0h1m1 0h1m28 0h1M0 248h1m9 0h1m20 0h1m17 0h1m9 0h1m55 0h1m1 0h1M6 249h1m6 0h1m5 0h1m24 0h1m19 0h1m1 0h1m19 0h1m2 0h1m4 0h1m34 0h1M14 250h1m19 0h1m4 0h1m2 0h1m6 0h1m4 0h1m5 0h1m2 0h1m19 0h1m1 0h1m5 0h1m1 0h1m16 0h1m14 0h1m3 0h1M0 251h1m17 0h1m10 0h1m23 0h1m16 0h1m11 0h1m11 0h1M11 252h1m1 0h1m8 0h1m9 0h1m13 0h1m17 0h1m1 0h1m21 0h1m15 0h1m4 0h1M0 253h1m16 0h1m18 0h1m4 0h1m20 0h1m20 0h1m17 0h1m6 0h1m1 0h1m12 0h1M29 254h1m24 0h1m24 0h1m39 0h1m8 0h1M2 255h2m37 0h1m15 0h1m5 0h1m26 0h1m7 0h1m5 0h1M31 256h1m22 0h1m48 0h1m3 0h1M1 257h1m29 0h1m11 0h1m53 0h1m7 0h1m9 0h1m6 0h1M33 258h2m1 0h1m1 0h1m5 0h1m58 0h1M3 259h2m18 0h1m5 0h1m18 0h1m9 0h1m12 0h1m6 0h1m12 0h1M31 260h1m8 0h1m19 0h1m15 0h1M54 261h1m8 0h1m33 0h1m8 0h1M10 262h1m24 0h1m17 0h1m41 0h1M38 263h1m21 0h1m28 0h1m5 0h1m2 0h1m11 0h1m18 0h1M46 264h1m30 0h1m4 0h1m10 0h1M62 265h1m34 0h1m3 0h1M29 266h1m8 0h1m11 0h1m11 0h2m49 0h1M38 267h1m56 0h1m28 0h1M2 268h1m9 0h1m34 0h1m16 0h1m32 0h1m25 0h1m1 0h1M13 269h2m5 0h2m4 0h1m42 0h1m28 0h1m3 0h1m7 0h1m10 0h1M2 270h1m19 0h1m13 0h1m24 0h1m3 0h1m3 0h1m32 0h1m18 0h1M20 271h1m29 0h1m13 0h1m6 0h1m12 0h1M7 272h1m28 0h1m22 0h1m20 0h1m1 0h1m31 0h1M77 273h1m8 0h1m16 0h1m11 0h2M54 274h1m61 0h1M5 275h1m28 0h1m74 0h1M7 276h1m55 0h1m1 0h1m1 0h1m43 0h1M1 277h1m1 0h1m13 0h1m44 0h1m15 0h1m1 0h1m3 0h1M23 278h1m37 0h1m20 0h1m8 0h1m5 0h1m8 0h1m6 0h1m14 0h1M3 279h1m12 0h1m21 0h1m16 0h1m12 0h1m17 0h1M3 280h1m24 0h1m11 0h1m8 0h2m6 0h1m8 0h1m45 0h1m3 0h1M2 281h1m3 0h1m6 0h1m1 0h1m38 0h1m18 0h1m4 0h1m13 0h1m34 0h1M31 282h2m2 0h1m2 0h1m15 0h1m28 0h1m31 0h1M4 283h2m50 0h1m20 0h1m35 0h1m3 0h1m1 0h1M37 284h1m11 0h1m9 0h1m6 0h1m43 0h1m17 0h1M0 285h1m14 0h1m12 0h1m20 0h1m27 0h1m3 0h1m25 0h1m1 0h1M117 286h1M5 287h2m38 0h1m6 0h2m35 0h1m23 0h1m14 0h1M19 288h1m4 0h1m24 0h1m5 0h1m63 0h1m4 0h1M5 289h1m23 0h1m36 0h1m5 0h1m48 0h1M15 290h1m49 0h1m15 0h1m10 0h1m28 0h1M7 291h1m16 0h1m49 0h1m11 0h1m6 0h1m4 0h1M0 292h1m34 0h1m32 0h1M5 293h1m69 0h1m17 0h1m8 0h1M25 294h1m6 0h1m2 0h1m51 0h1m12 0h1m14 0h1M39 295h1m7 0h1m4 0h2m29 0h1m11 0h1m8 0h1m10 0h1M9 296h1m2 0h1m12 0h1m3 0h1m45 0h1m6 0h1m46 0h1M2 297h1m2 0h1m16 0h1m47 0h1m18 0h1m2 0h1m3 0h1m12 0h1M3 298h1m25 0h1m5 0h1m17 0h1m11 0h1m8 0h1M12 299h1m6 0h1m9 0h1m34 0h1m4 0h1m28 0h1m1 0h1m10 0h1M4 300h1m9 0h1m11 0h2m6 0h1m28 0h1m23 0h1m9 0h1m11 0h1m1 0h1m15 0h1M41 301h1m42 0h2m10 0h1m13 0h1m1 0h1m1 0h1m8 0h1M10 302h1m1 0h1m15 0h1m15 0h1m3 0h1m51 0h1m8 0h1m2 0h1m9 0h1M11 303h2m25 0h1m10 0h1m25 0h1m41 0h1M21 304h1m1 0h1m37 0h1m67 0h1M13 305h1m1 0h1m2 0h2m10 0h1m30 0h1m21 0h1m36 0h2M52 306h1m25 0h1m6 0h1m11 0h1m10 0h1M15 307h1m5 0h1m4 0h2m7 0h1m19 0h1m28 0h1m24 0h1m9 0h1M1 308h2m38 0h1m5 0h1m44 0h1m13 0h1m21 0h2M1 309h1m62 0h1m16 0h1m23 0h1m3 0h1m8 0h2M48 310h1m8 0h1m12 0h2m43 0h1M29 311h1m6 0h1m20 0h1m28 0h1m2 0h1m2 0h1m12 0h1m15 0h1m5 0h2M21 312h2m26 0h1m31 0h1m2 0h1m26 0h1m16 0h1M6 313h1m22 0h1m65 0h1m11 0h1m8 0h1M2 314h1m53 0h1m41 0h1m26 0h2M12 315h1m4 0h1m18 0h1m18 0h1m42 0h1m5 0h1m6 0h1m6 0h1M14 316h1m24 0h1M5 317h1m1 0h1m5 0h1m54 0h1m9 0h1m49 0h1M62 318h1m2 0h1m16 0h1m19 0h1m21 0h1M28 319h1m4 0h1m28 0h1m19 0h1m15 0h3M2 320h1m12 0h1m16 0h1m4 0h1m44 0h1m28 0h1M11 321h1m15 0h1m10 0h1m11 0h1m17 0h1m30 0h1m7 0h1m5 0h1m13 0h1M12 322h2m3 0h1m23 0h1M32 323h1m7 0h1m5 0h1m7 0h1m24 0h1m7 0h1m2 0h1m31 0h1m5 0h1M43 324h1m9 0h1m1 0h1m1 0h1m3 0h1m2 0h1m54 0h1M49 325h1m21 0h1m29 0h1m1 0h1m22 0h1M38 326h1m1 0h1m36 0h1m11 0h1m36 0h1M2 327h1m5 0h1m12 0h1m2 0h1m10 0h1m10 0h1m18 0h1m3 0h1m27 0h1m4 0h1m7 0h1M35 328h1m66 0h2m23 0h1M48 329h1m14 0h1m14 0h1m25 0h1M20 330h1m11 0h1m3 0h1m35 0h1m30 0h2m10 0h1m3 0h1M0 331h1m5 0h1m66 0h1m18 0h1m8 0h1m7 0h1M24 332h1m1 0h1m5 0h1m55 0h1m1 0h1m17 0h1m10 0h1M5 333h1m53 0h1m10 0h2m7 0h1m5 0h1m29 0h1M2 334h1m21 0h1m22 0h1m55 0h1m6 0h1m8 0h1M17 335h1m3 0h1m46 0h1m5 0h1m15 0h1m22 0h1M10 336h1m1 0h1m2 0h1m48 0h1m25 0h1m36 0h1M12 337h1m35 0h1m53 0h1m19 0h1M13 338h1m62 0h1m3 0h1m12 0h1M22 339h1m24 0h1m7 0h1m17 0h1m16 0h1m20 0h1m16 0h1M40 340h1m7 0h1m3 0h1m47 0h1M12 341h1m16 0h1m3 0h1m42 0h1m10 0h1m20 0h1M22 342h1m1 0h1m39 0h1m29 0h1m3 0h1m12 0h1m4 0h1M9 343h1m36 0h1m1 0h1m3 0h1m22 0h1m7 0h1m3 0h1m9 0h1m11 0h1m15 0h1M33 344h1m17 0h2m2 0h1m1 0h1m17 0h1m9 0h1m4 0h1m3 0h1m9 0h1M3 345h1m4 0h1m1 0h1m6 0h1m26 0h1m8 0h1m30 0h1m35 0h1M14 346h1m9 0h1m3 0h1m21 0h1m36 0h1m26 0h1m6 0h1M3 347h2m21 0h1M38 348h1m2 0h1m3 0h1m1 0h2m31 0h1m13 0h1m20 0h1M3 349h1m47 0h1m5 0h1m15 0h1m3 0h1m21 0h1m8 0h1m14 0h1m5 0h1M2 350h1m23 0h1m6 0h1m33 0h1m25 0h1m26 0h1m8 0h1M11 351h1M14 352h1m30 0h1m28 0h1M16 353h1m2 0h2m46 0h1m28 0h1m23 0h1M45 354h1m31 0h2m23 0h1m6 0h1m13 0h2M15 355h1m35 0h1m38 0h1m1 0h1m22 0h1M10 356h1m99 0h1m6 0h1M5 357h1m7 0h1m6 0h1m45 0h1m43 0h1M2 358h1m11 0h1m7 0h1m33 0h1m6 0h1m1 0h1m8 0h1m3 0h1m12 0h1m1 0h1M7 359h1m35 0h1m20 0h1M12 360h1m4 0h1m1 0h1m3 0h1m9 0h1m4 0h1m1 0h1m5 0h1m76 0h1M14 361h1m38 0h1m39 0h1m23 0h1m4 0h1m1 0h1M20 362h1m36 0h1m12 0h2M49 363h1m24 0h1m16 0h1m4 0h1m11 0h1m18 0h1M36 364h1m1 0h1m4 0h1m8 0h1m43 0h1m27 0h1m2 0h1M1 365h1m9 0h1m4 0h1m3 0h1m33 0h1m6 0h1m48 0h1m10 0h1m4 0h1M5 366h1m15 0h1m58 0h1m14 0h1m22 0h1m6 0h1M12 367h1m20 0h1m16 0h1m14 0h1m40 0h1m7 0h1m8 0h1m4 0h1M14 368h1m24 0h1m15 0h1m20 0h1m8 0h1m2 0h2m7 0h1M15 369h1m5 0h1m13 0h1m24 0h1m20 0h2m34 0h1m5 0h2M29 370h1m2 0h1m6 0h1m1 0h1m15 0h1m47 0h1m4 0h1m17 0h1M6 371h1m5 0h1m11 0h1m8 0h1m32 0h2m15 0h1m13 0h1M24 372h1m22 0h1m16 0h1m1 0h2m7 0h1m12 0h1m39 0h1M5 373h1m16 0h1m19 0h1m17 0h1m12 0h1m10 0h1m17 0h1M21 374h1m4 0h1m11 0h1m25 0h1m49 0h1M25 375h1m5 0h1m20 0h1m24 0h1m18 0h1M2 376h1m59 0h1m24 0h1m2 0h1m8 0h1m8 0h1m10 0h1M50 377h1m17 0h1m12 0h1m8 0h1M0 378h1m58 0h1m32 0h1m22 0h1m3 0h1m6 0h1"/><path id="n13" d="M81 230h1m7 0h1m13 0h1m6 0h1M5 231h1m3 0h1m7 0h1m22 0h1m45 0h1M2 232h1m24 0h1m8 0h1m5 0h1m51 0h1m15 0h1M35 233h1m12 0h1m10 0h1m41 0h1m7 0h1m6 0h1m2 0h1m2 0h1M24 234h1m6 0h1m8 0h1m13 0h2m33 0h1m2 0h1m25 0h1M48 235h1m1 0h1m2 0h1m4 0h1m9 0h1m9 0h1m48 0h1M14 236h1m2 0h1m11 0h1m1 0h1m8 0h1m12 0h1m6 0h1m11 0h1m1 0h1M7 237h1m8 0h2m19 0h1m12 0h2m67 0h1m8 0h1M7 238h1m35 0h1m2 0h1m2 0h1M28 239h1m19 0h1m23 0h1m42 0h2M0 240h1m1 0h1m31 0h1m10 0h1m27 0h1m36 0h1M1 241h1m11 0h1m22 0h1m23 0h1M17 242h1m15 0h1m70 0h1m2 0h1m8 0h1M46 243h1m20 0h1M14 244h1m2 0h1m10 0h1m9 0h1m4 0h1m39 0h1m8 0h2m27 0h1M23 245h1m28 0h1m16 0h1m1 0h1m4 0h1M1 246h1m7 0h1m57 0h1m32 0h1m12 0h1M21 247h1m59 0h1m20 0h1m14 0h1M24 248h1m60 0h1M22 249h1m12 0h1m12 0h1m7 0h1m45 0h1m16 0h1m2 0h1M15 250h1m51 0h1m26 0h1m13 0h1M40 251h1m31 0h1m54 0h1M1 252h1m15 0h1m41 0h1m12 0h1m30 0h1M22 253h1m30 0h1m2 0h1m45 0h1m11 0h1m7 0h1M36 254h1m11 0h1m1 0h1m5 0h2m4 0h1m6 0h1m23 0h1m22 0h2m3 0h1M20 255h1m41 0h1m7 0h1m6 0h1m18 0h1m9 0h1m14 0h1M6 256h1m18 0h1m63 0h1M6 257h1m3 0h1m8 0h1m7 0h1m23 0h1m8 0h1m28 0h1m26 0h1M26 258h1m25 0h1m8 0h1m8 0h1m6 0h1m7 0h1m12 0h1m10 0h1m8 0h1m2 0h1M41 259h1m5 0h1m2 0h2m11 0h1m34 0h1m10 0h1m17 0h1M10 260h1m1 0h1m14 0h1m7 0h1m1 0h1m8 0h1m8 0h1m46 0h1M4 261h1m4 0h1m4 0h1m17 0h1m25 0h1m12 0h1m14 0h1m12 0h1m2 0h1m5 0h1m14 0h1m5 0h1M19 262h1m3 0h1m10 0h1m19 0h1m13 0h1m16 0h1m1 0h1m8 0h1m16 0h1M40 263h1m45 0h1m22 0h1m2 0h1M5 264h1m9 0h1m16 0h1m8 0h1m9 0h1m3 0h1M11 265h1m5 0h1m28 0h1m9 0h1m36 0h1M27 266h1m9 0h1m2 0h1m36 0h1m1 0h1M29 267h1m6 0h1m17 0h1m12 0h1m26 0h1m5 0h1M9 268h1m6 0h1m5 0h1m7 0h1m4 0h1m7 0h1m16 0h1m50 0h1M28 269h1m14 0h1m8 0h1m18 0h2m18 0h1m15 0h1m17 0h1M3 270h1m28 0h1m2 0h1m27 0h1m3 0h1m7 0h1m31 0h1m19 0h1M7 271h1m2 0h1m13 0h1m12 0h1m8 0h1m1 0h1m20 0h1M19 272h1m105 0h1M3 273h1m15 0h1m77 0h1m30 0h1M6 274h1m3 0h1m12 0h1m13 0h1m30 0h1m25 0h1m12 0h1m12 0h1M93 275h1m12 0h1M5 276h1m10 0h1m14 0h1m9 0h1m36 0h1m1 0h1m20 0h1M16 277h1m42 0h1m25 0h1m40 0h1M6 278h1m44 0h1m31 0h1m8 0h1m32 0h1M8 279h1m4 0h1m4 0h1m2 0h1m6 0h1m35 0h1m4 0h1m15 0h1m4 0h1m11 0h1M11 280h1m18 0h1m12 0h1m3 0h1m4 0h1m24 0h1m9 0h1m15 0h1M0 281h1m49 0h1m1 0h1m24 0h1M10 282h1m1 0h1m30 0h1m4 0h1m24 0h1m29 0h1m23 0h1M37 283h1m19 0h2m4 0h1m29 0h1m12 0h1m4 0h1m4 0h1m5 0h1M14 284h1m67 0h1m36 0h1M1 285h1m7 0h1m108 0h1M34 286h1m24 0h1m16 0h1m5 0h1m8 0h1m19 0h1m1 0h1m9 0h1m4 0h1M1 287h1m7 0h1m8 0h3m2 0h2m61 0h1m35 0h1M7 288h1m8 0h1m13 0h1m32 0h1m1 0h1m55 0h1M4 289h1m6 0h1m32 0h1m5 0h1m33 0h2m4 0h1M18 290h1m16 0h1m21 0h1m4 0h1m26 0h1m3 0h1m19 0h1M26 291h2m16 0h1m14 0h1m6 0h1m18 0h1m8 0h1m1 0h2m3 0h1m20 0h1M6 292h1m35 0h1m20 0h1m1 0h1m1 0h1m35 0h1m25 0h1M31 293h1m10 0h1m2 0h1m5 0h1m31 0h1M4 294h1m28 0h1m52 0h1m11 0h1m6 0h1M58 295h1m1 0h1m15 0h1m8 0h1m12 0h1M17 296h1m49 0h1m27 0h1m7 0h1m3 0h1m5 0h1m13 0h1M1 297h1m18 0h1m15 0h2m2 0h1m33 0h1m4 0h1m32 0h1M9 298h1m7 0h1m41 0h1m1 0h1m17 0h1m15 0h1m5 0h1M20 299h1m10 0h1m22 0h1m35 0h1m16 0h1M0 300h1m5 0h1m13 0h1m18 0h1m8 0h1m28 0h1M19 301h1m36 0h1m7 0h1m14 0h1m9 0h1M24 302h1m38 0h1m10 0h2m18 0h1m24 0h1M3 303h1m39 0h1m2 0h1m36 0h1m1 0h1m7 0h1m21 0h1m10 0h1M7 304h1m8 0h1m52 0h1m25 0h1m9 0h1M2 305h1m52 0h1m11 0h1m5 0h1m31 0h1m8 0h1M3 306h2m5 0h1m10 0h1m52 0h1m35 0h1m13 0h1M10 307h1m88 0h1m8 0h1m16 0h1M7 308h2m27 0h1m11 0h1m16 0h1m9 0h1m1 0h1m18 0h1m11 0h1m14 0h1M28 309h1m5 0h1m10 0h1m34 0h1m23 0h1m7 0h1M21 310h1m3 0h1m11 0h1m2 0h2m5 0h1m12 0h1m23 0h1m4 0h1m9 0h1m17 0h1m7 0h1M5 311h1m10 0h1m21 0h1m7 0h1m6 0h1m4 0h1m25 0h1m34 0h1M56 312h1m6 0h1m1 0h1m10 0h1m25 0h1M0 313h1m17 0h1m17 0h1m19 0h1m45 0h1m3 0h1m22 0h1M20 314h1m44 0h1m4 0h1m6 0h1m17 0h1m10 0h1M0 315h1m15 0h1m7 0h1m41 0h1m3 0h1m13 0h1m31 0h1m2 0h1M26 316h1m23 0h1m4 0h1m9 0h1m53 0h1M20 317h2m3 0h1m75 0h1m10 0h1M52 318h1m42 0h1M52 319h1m41 0h1m9 0h1M1 320h1m36 0h1m11 0h1m5 0h1m7 0h1m2 0h1m35 0h1m16 0h1M119 321h1M34 322h1m26 0h1m10 0h1m7 0h1m41 0h1M17 323h1m40 0h1m27 0h1M65 324h1m13 0h1m2 0h1M0 325h1m17 0h1m16 0h1m17 0h2m17 0h1m3 0h2m1 0h1m5 0h1m16 0h1m7 0h1m1 0h1m2 0h1M18 326h2m10 0h1m15 0h1m9 0h1m9 0h1m6 0h1m1 0h1m12 0h1m3 0h1m13 0h1m1 0h1m8 0h1m11 0h1M20 327h1m9 0h1m17 0h1m2 0h1m18 0h1m2 0h1m19 0h1m5 0h1m6 0h1M7 328h1m1 0h1m2 0h1m2 0h1m5 0h1m1 0h1m47 0h1m5 0h1m5 0h1m13 0h1m24 0h1m1 0h1M10 329h1m6 0h1m43 0h1m3 0h2m1 0h2m41 0h1m7 0h2m8 0h1M27 330h1m52 0h1m16 0h1M5 331h1m21 0h1m9 0h1m12 0h1m14 0h1m24 0h1m9 0h1m28 0h1M12 332h1m2 0h1m2 0h1m2 0h1m3 0h1m9 0h1m4 0h1m12 0h3m15 0h1m1 0h1m12 0h1m11 0h1M35 333h1m1 0h1m2 0h1m72 0h1M3 334h1m14 0h1m35 0h1m3 0h1m26 0h1m3 0h1m32 0h2m1 0h1M3 335h1m15 0h2m18 0h1m13 0h1m4 0h1m1 0h1m8 0h1m3 0h1m10 0h1m33 0h1M1 336h1m57 0h1m14 0h1m51 0h1m1 0h1M13 337h1m4 0h1m59 0h1m3 0h1m2 0h1m27 0h1m1 0h1M67 338h1m11 0h1m23 0h1m1 0h1m17 0h1M12 339h1m8 0h1m29 0h1m5 0h1m29 0h1m7 0h1m22 0h1M12 340h1m2 0h1m2 0h1m6 0h1m37 0h1m2 0h1m9 0h1m12 0h1m29 0h1M25 341h1m67 0h1m29 0h1M4 342h1m28 0h1m5 0h1m23 0h1m11 0h1m8 0h1m14 0h1m17 0h1M51 343h1m6 0h1m6 0h1m8 0h1M3 344h1m3 0h1m13 0h1m25 0h1m6 0h1m37 0h1m20 0h1M37 345h1m19 0h1m11 0h1m32 0h1m8 0h1m11 0h1M42 346h1m14 0h1m5 0h1m9 0h1m1 0h1M0 347h1m8 0h1m9 0h1m9 0h1m19 0h1m63 0h2M20 348h1m15 0h1m24 0h1m17 0h1m16 0h1m25 0h2M17 349h1m5 0h1m19 0h1m16 0h1m2 0h1m7 0h1m11 0h1m14 0h1m1 0h1m21 0h1M25 350h1m36 0h1m44 0h1M8 351h1m37 0h1m43 0h1M5 352h1m27 0h1m15 0h1m4 0h1m1 0h1m4 0h1m49 0h1m10 0h1m1 0h1M0 353h1m5 0h1m2 0h1m17 0h1m13 0h1m84 0h1M6 354h1m4 0h1m10 0h1m18 0h1m13 0h2m6 0h1m7 0h2m1 0h1m5 0h1m8 0h1m8 0h1M52 355h1m45 0h1m1 0h1M3 356h1m7 0h1M3 357h1m42 0h1m8 0h1m4 0h1M6 358h1m20 0h1m9 0h1m21 0h1m28 0h1m8 0h1m26 0h1M20 359h1m24 0h1m57 0h1m1 0h1M13 360h1m23 0h1m4 0h2m18 0h1m17 0h1m4 0h1m10 0h1m17 0h2M11 361h1m101 0h1m15 0h1M11 362h1m30 0h1m48 0h1m15 0h1M7 363h1m22 0h1m51 0h1m36 0h1M19 364h1m22 0h1m26 0h1m15 0h1m21 0h1m17 0h1M0 365h1m9 0h1m17 0h1m10 0h1m13 0h1m16 0h1m1 0h1m3 0h1m9 0h1m11 0h1m5 0h1M12 366h1m13 0h1m78 0h1M11 367h1m14 0h1m9 0h1m53 0h1m27 0h1M77 368h1M24 369h1m18 0h1m6 0h1m13 0h1m20 0h1m4 0h1m7 0h2m2 0h1m2 0h1m20 0h1M19 370h1m4 0h1m11 0h1m57 0h1m8 0h1m16 0h1m3 0h1M42 371h1m21 0h1m29 0h1m7 0h1m9 0h1M2 372h1m5 0h1m37 0h1m59 0h1M4 373h1m3 0h1m97 0h1m20 0h1M2 374h1m16 0h1m14 0h1m42 0h1m30 0h1m6 0h1M0 375h1m12 0h1m36 0h1m14 0h1m49 0h1m7 0h1m2 0h1M9 376h1m31 0h1m24 0h1m21 0h1m6 0h1M12 377h1m12 0h1m12 0h1m64 0h1M86 378h1"/><path id="n14" d="M10 230h1m2 0h1m13 0h1m18 0h1m1 0h1m18 0h1m1 0h1m29 0h1M1 231h1m26 0h1m4 0h1m3 0h1m12 0h1m19 0h1m3 0h1m16 0h1m3 0h1m10 0h1m4 0h1M21 232h1m41 0h1m32 0h1M13 233h1m2 0h1m64 0h1m2 0h1m5 0h1m15 0h1M1 234h1m1 0h1m9 0h1m24 0h1m26 0h1m2 0h1m3 0h1m1 0h1m25 0h1m7 0h1m19 0h1M2 235h1m4 0h1m14 0h1m17 0h1m3 0h1m9 0h1m22 0h1m24 0h1m1 0h1M54 236h1m26 0h1m34 0h2M0 237h1m1 0h1m20 0h1m14 0h1m46 0h1m13 0h1m26 0h1M4 238h1m1 0h1m4 0h1m1 0h1m47 0h1m36 0h1M6 239h1m10 0h1m2 0h2m8 0h2m14 0h1m31 0h1m16 0h1m24 0h1M1 240h1m6 0h1m6 0h1m21 0h1m9 0h1m39 0h1m16 0h1M2 241h1m9 0h1m62 0h1m2 0h1m4 0h1m15 0h1m17 0h1m5 0h1m4 0h1M25 242h1m12 0h1m4 0h1m32 0h1m22 0h1m2 0h2m22 0h1M12 243h1m7 0h2m2 0h1m13 0h1m34 0h1m14 0h2m13 0h1m19 0h1M18 244h1m3 0h2m7 0h1m8 0h1m21 0h1m3 0h1m11 0h1m34 0h1m12 0h1m2 0h1M15 245h2m4 0h1m9 0h1m18 0h1m6 0h1m17 0h1m4 0h1m7 0h1m10 0h1M19 246h1m6 0h1m45 0h1m35 0h1m3 0h1m12 0h1M8 247h1m4 0h1m2 0h1m95 0h1m15 0h1M17 248h1m17 0h1m8 0h1m56 0h1m14 0h1m3 0h1m4 0h1m1 0h1M1 249h1m24 0h1m3 0h2m6 0h1m1 0h1m16 0h1m2 0h1m6 0h1m2 0h1m36 0h2m8 0h1m3 0h1M10 250h1m13 0h1m47 0h1m38 0h1M5 251h1m15 0h1m43 0h1m33 0h1m18 0h1m1 0h1M0 252h1m3 0h1m13 0h1m9 0h2m26 0h1m16 0h1m39 0h1m2 0h1m11 0h1M6 253h1m6 0h1m1 0h1m5 0h1m8 0h1m13 0h2m21 0h1m48 0h1m2 0h1M78 254h1m2 0h1m19 0h1m7 0h3M1 255h1m4 0h1m36 0h1m10 0h1m3 0h2m1 0h1m24 0h1m36 0h1m2 0h1M34 256h1m36 0h1m2 0h1m44 0h1m2 0h1M20 257h1m14 0h1m33 0h1m14 0h1m19 0h1m1 0h2m6 0h1M4 258h1m1 0h1m48 0h1m40 0h1m5 0h1m12 0h1M36 259h1m7 0h1m8 0h1M17 260h1m3 0h1m25 0h1m43 0h1m19 0h1M3 261h1m11 0h1m26 0h1m9 0h1m25 0h1m40 0h1M7 262h1m50 0h1M17 263h1m8 0h1m31 0h1m11 0h1m56 0h1M22 264h1m14 0h1m15 0h1m18 0h2m5 0h1m3 0h2m6 0h1m25 0h1m1 0h1m6 0h1m1 0h1M32 265h1m2 0h2m10 0h1m7 0h1m35 0h1m7 0h2m14 0h1m3 0h1m9 0h1M1 266h1m4 0h1m23 0h1m12 0h1m3 0h1m6 0h1m9 0h2m60 0h1M18 267h1m8 0h1m11 0h1m10 0h1m9 0h1m2 0h1m15 0h1M0 268h1m2 0h1m10 0h1m53 0h1m29 0h2m4 0h1m8 0h1m2 0h1m9 0h1M46 269h1m26 0h1m39 0h1m2 0h1m5 0h1M23 270h1m19 0h1m4 0h1m9 0h1m33 0h1M0 271h1m12 0h1m16 0h1m70 0h1m24 0h1m1 0h2M30 272h1m26 0h1m14 0h1M6 273h1m5 0h1m16 0h1m45 0h1m46 0h1M8 274h1m10 0h2m1 0h1m2 0h2m7 0h1m5 0h1m23 0h1m24 0h1m13 0h1M4 275h1m48 0h1M15 276h1m17 0h1m4 0h1m5 0h1m12 0h1m41 0h1M9 277h1m32 0h1m38 0h1m7 0h1m29 0h1m8 0h1M20 278h1m4 0h1m28 0h1m16 0h1m14 0h1m30 0h1m3 0h1M11 279h1m2 0h1m25 0h1m1 0h1m11 0h1m6 0h1m32 0h1M35 280h1m3 0h1m35 0h1m37 0h1M5 281h1m2 0h1m2 0h1m7 0h1m26 0h1m24 0h1m3 0h1M33 282h1m13 0h1m17 0h1m12 0h1m10 0h1M7 283h1m10 0h1m8 0h2m7 0h1m1 0h1m8 0h1m41 0h1m31 0h1M20 284h1m57 0h1m16 0h1m6 0h1m4 0h1m8 0h1m1 0h1m10 0h1M2 285h1m22 0h1m35 0h1m16 0h1m42 0h1M2 286h1m16 0h1m37 0h1m2 0h1m36 0h1M2 287h1m9 0h1m21 0h1m5 0h1m15 0h1m21 0h1m3 0h1m38 0h1M92 288h1m17 0h1m5 0h1M14 289h1m5 0h1m1 0h1m45 0h1m5 0h1m19 0h1m19 0h1m12 0h1M19 290h1m47 0h1m16 0h1m23 0h1M47 291h1m35 0h1m24 0h1m9 0h1M16 292h1m2 0h1m18 0h1m1 0h1m69 0h1m15 0h1M8 293h1m2 0h1m8 0h1m3 0h1m56 0h1m8 0h1m6 0h1m5 0h1m15 0h1m9 0h1M52 294h1m27 0h1M9 295h1m10 0h1m2 0h2m3 0h1m48 0h1m35 0h1M8 296h1m23 0h1m25 0h1m15 0h1m12 0h1m4 0h1m13 0h1M41 297h1m11 0h1m64 0h1m5 0h1M10 298h1m3 0h1m4 0h1m12 0h1m39 0h1m7 0h1m11 0h1m3 0h1m8 0h1M3 299h1m14 0h1m18 0h1m1 0h1m20 0h1m1 0h1m21 0h1m31 0h1m5 0h1m1 0h1M5 300h1m9 0h1m26 0h1m14 0h1m8 0h1m1 0h1m21 0h1m22 0h1m4 0h1M17 301h1m16 0h1m31 0h1m7 0h1m1 0h1m10 0h1m12 0h1m2 0h1m9 0h1m10 0h1M0 302h1m2 0h1m30 0h1m52 0h1m2 0h1m6 0h1m9 0h1m9 0h1M22 303h1m18 0h1m9 0h1m6 0h1m13 0h1m13 0h1m11 0h1m3 0h1m2 0h1M9 304h1m20 0h1m45 0h1m2 0h1m21 0h1M26 305h1m57 0h1m11 0h1M53 306h1m19 0h1m7 0h1m13 0h1M75 307h1m34 0h1m5 0h1m7 0h1M12 308h1m2 0h1m16 0h1m4 0h1m52 0h1M75 309h1m23 0h1m23 0h1M8 310h2m20 0h1m1 0h1m12 0h1m6 0h1m2 0h1m10 0h1m27 0h1m27 0h1M17 311h1m2 0h1m9 0h1m8 0h1m4 0h1m16 0h1m1 0h1m10 0h1m3 0h1m43 0h1M14 312h1m3 0h1m51 0h1m18 0h1m11 0h1m2 0h1m1 0h1m7 0h1m3 0h1M20 313h1m6 0h1m21 0h1m15 0h1m7 0h2m13 0h1m34 0h1M7 314h1m1 0h1m14 0h1m34 0h1m1 0h1m9 0h1m47 0h1m8 0h1M4 315h2m13 0h1m5 0h1m42 0h1m11 0h1M47 316h1m6 0h1m2 0h1m30 0h1m7 0h1m1 0h1m19 0h1m2 0h1m1 0h2m1 0h1M12 317h1m2 0h1m2 0h1m8 0h1m15 0h1m5 0h1M31 318h1m1 0h1m5 0h1m4 0h2m7 0h1m15 0h1m2 0h1M41 319h1m4 0h2m2 0h1m26 0h1m12 0h1m14 0h1m11 0h1m6 0h1M6 320h1m40 0h1m51 0h1m2 0h1m4 0h2m10 0h1M12 321h1m44 0h1m3 0h1m4 0h1m12 0h1m20 0h1m4 0h1m2 0h1m1 0h1m17 0h1M8 322h1m16 0h1m28 0h1m45 0h1m27 0h1M23 323h2m26 0h1m45 0h1M4 324h1m17 0h1m7 0h1m9 0h1m15 0h1m5 0h1m7 0h1M11 325h2m4 0h1m64 0h1m3 0h1m7 0h1m3 0h1m26 0h1M13 326h1m20 0h1m27 0h1m9 0h1m5 0h1m11 0h1m7 0h1M4 327h1m7 0h1m71 0h1m3 0h1m14 0h1m5 0h1m4 0h1m6 0h1m7 0h1M10 328h1m29 0h1m6 0h1m19 0h1m6 0h1m1 0h1m3 0h1m17 0h1m19 0h1M34 329h1m81 0h1M65 330h1m58 0h1M3 331h1m13 0h1m24 0h1m1 0h1m10 0h1m8 0h1m14 0h1m15 0h1m6 0h1M46 332h1m3 0h2m7 0h1m58 0h1M12 333h1m2 0h1m52 0h1m3 0h1m34 0h1m4 0h1M5 334h1m4 0h1m5 0h1m35 0h1m11 0h1m12 0h1m4 0h1m35 0h1M13 335h1m11 0h2m25 0h1m1 0h1m8 0h1m16 0h1m2 0h1m38 0h1M19 336h1m11 0h1m6 0h1m14 0h1m12 0h1m27 0h1m4 0h1m1 0h1m1 0h1M15 337h1m1 0h1m10 0h1m5 0h1m2 0h1m14 0h1m18 0h1m2 0h1m16 0h1m1 0h1m7 0h1m18 0h1M36 338h1m57 0h1m13 0h1m5 0h1m14 0h1M14 339h1m14 0h2m8 0h1m27 0h1m11 0h2m21 0h1M13 340h1m20 0h1m33 0h1m4 0h1m4 0h1m7 0h1m3 0h1m7 0h1m6 0h1m8 0h2M47 341h1m13 0h1m13 0h1m23 0h1m24 0h1M15 342h1m10 0h1m5 0h1m20 0h1m65 0h1m3 0h1M34 343h1m43 0h1m6 0h1m5 0h2m18 0h1m6 0h1M12 344h2m8 0h1m14 0h1m67 0h1m3 0h1m1 0h1m2 0h1m4 0h1M22 345h1m9 0h1m9 0h1m76 0h1M5 346h1m35 0h1m44 0h1m8 0h1m17 0h1M16 347h1m25 0h1m3 0h1m12 0h1m3 0h1m17 0h1m10 0h1m5 0h1m1 0h1m20 0h1M28 348h1m1 0h1m38 0h1M15 349h1m3 0h1m61 0h1M68 350h1m1 0h1m27 0h1m3 0h1m22 0h1m1 0h1M9 351h1m16 0h1m27 0h2m32 0h1M12 352h1m8 0h1m65 0h1m16 0h1m20 0h1M15 353h1m69 0h1m14 0h1m6 0h1m5 0h1m3 0h1M25 354h1m5 0h1m7 0h1m14 0h1m21 0h1m39 0h1M6 355h1m52 0h1m8 0h1m11 0h1m6 0h1m18 0h1M2 356h1m6 0h1m2 0h1m4 0h1m27 0h1m15 0h1m4 0h1m12 0h1m6 0h1m15 0h1m16 0h1m4 0h1M24 357h1m8 0h1m7 0h1m1 0h1m19 0h1m10 0h1m7 0h1m32 0h1m10 0h1M11 358h1m11 0h1m14 0h2m69 0h1m6 0h1M11 359h1m15 0h1m29 0h1m11 0h1m4 0h1M1 360h1m32 0h1m40 0h1M6 361h1m25 0h1m18 0h1m25 0h1m25 0h1m12 0h1M1 362h1m1 0h1m21 0h2m10 0h1m10 0h1m4 0h1m1 0h1m16 0h1m15 0h1m5 0h1m20 0h1M21 363h1m14 0h1m23 0h1m60 0h1M8 364h1m12 0h1m45 0h1m11 0h1m1 0h1m7 0h1m25 0h2M49 365h1m15 0h1m27 0h1m15 0h1m2 0h1m4 0h1m10 0h1M9 366h1m23 0h1m6 0h1m2 0h1m6 0h1m30 0h2m4 0h2m21 0h1M4 367h1m71 0h1m31 0h1m13 0h1M12 368h1m16 0h1m5 0h1m13 0h1m50 0h1m4 0h1m2 0h1m5 0h1m2 0h1m5 0h1m3 0h1M6 369h1m1 0h1m7 0h2m35 0h1m19 0h1M14 370h1m34 0h1m8 0h1m10 0h1m3 0h1m5 0h1m33 0h1M8 371h1m9 0h1m19 0h1m9 0h1m7 0h1m11 0h1m15 0h1m24 0h1m19 0h1M12 372h1m19 0h1m11 0h1m4 0h1m4 0h1m7 0h1m7 0h1m13 0h1m12 0h1m7 0h1m15 0h1m3 0h1M11 373h1m29 0h1m7 0h1m20 0h2m22 0h1m9 0h1m7 0h1M44 374h1m9 0h1m1 0h1m25 0h1m16 0h1m5 0h1M17 375h1m33 0h1m1 0h2m30 0h1m11 0h1M30 376h1m15 0h2m6 0h1m48 0h1m20 0h1M0 377h1m2 0h1m51 0h1m9 0h1M35 378h1m30 0h1m32 0h1m4 0h1m2 0h1"/><path id="n15" d="M59 230h1m27 0h1m10 0h1M99 231h1m8 0h1M31 232h1m22 0h1m7 0h1M63 233h1m1 0h1m12 0h1M4 234h1m96 0h1m27 0h1M37 235h1m42 0h1m12 0h1m9 0h1m10 0h1m6 0h1m7 0h1M21 236h1m49 0h1m38 0h1M22 237h1m2 0h1m19 0h1m10 0h1m3 0h1m12 0h2m40 0h1M48 238h1m10 0h1m15 0h1m20 0h1m28 0h1M22 239h1m36 0h1m15 0h1m6 0h1M65 240h1m40 0h1M33 241h1m29 0h1m6 0h1m41 0h1m16 0h1M24 242h1m69 0h1m17 0h1M14 243h1m19 0h1m23 0h1m13 0h1m29 0h1m12 0h1m5 0h1M15 244h1m18 0h1M14 245h1m15 0h1m5 0h1m37 0h1m30 0h1m3 0h1m11 0h1M3 246h1m20 0h1m67 0h1M43 247h1m4 0h1m14 0h1m56 0h1m5 0h1M6 248h1m8 0h1m38 0h1M2 249h1m7 0h1m4 0h1m59 0h1m6 0h1m21 0h1m11 0h1M69 250h1m9 0h1M8 251h1m93 0h1m10 0h1M5 252h1m19 0h1m8 0h1m36 0h1m12 0h1m11 0h1m17 0h1m11 0h1M37 253h1m49 0h1M2 254h1m30 0h1m24 0h1m31 0h1m11 0h1M24 255h2m40 0h1m20 0h1m12 0h1m19 0h1M21 256h1m15 0h1m11 0h1m50 0h1M14 257h1m32 0h1m1 0h2m3 0h1m12 0h1m7 0h1m1 0h1m5 0h1m43 0h1M42 258h1m7 0h1m24 0h1m8 0h1m2 0h1m24 0h1m10 0h1M46 259h1m36 0h1M45 260h1m21 0h1m9 0h1m7 0h1m27 0h1M26 261h1m6 0h1m9 0h1m3 0h1m28 0h1m4 0h1m11 0h1m26 0h1M12 262h1m11 0h1m4 0h1m10 0h1m21 0h1m9 0h1m2 0h1m1 0h2m7 0h1m6 0h1M15 263h1m65 0h1m14 0h1m31 0h1M85 264h1M6 265h1m3 0h1m52 0h1m26 0h1M5 266h1m9 0h1m85 0h1M11 267h1m93 0h1m2 0h1m10 0h1M10 268h1m7 0h1m4 0h1m15 0h1m19 0h1m1 0h1m4 0h1m9 0h1m11 0h1m5 0h1m6 0h1m12 0h1m2 0h1M12 269h1m64 0h1m12 0h1m13 0h1M0 270h2m19 0h1m40 0h1m19 0h1M75 271h1m10 0h1m2 0h1m25 0h1M1 272h1m24 0h1m10 0h1m2 0h1m2 0h1M11 273h1m28 0h1m17 0h1m3 0h1m9 0h1m38 0h1M0 274h1m42 0h1m31 0h1m2 0h1m13 0h1M19 275h1m5 0h1m56 0h1m24 0h1m10 0h1m1 0h1m2 0h1m3 0h1M17 276h1m6 0h1m23 0h1m11 0h1m8 0h1m9 0h1m10 0h1m5 0h1M13 277h1m49 0h1m49 0h1m9 0h1M18 278h1m12 0h1m20 0h1M12 279h1m18 0h1m11 0h1m66 0h1M6 280h1m14 0h1M9 281h1m7 0h1m16 0h1m13 0h1m45 0h1m16 0h1m1 0h1M26 282h1m15 0h1m2 0h2m30 0h1m21 0h1m9 0h1m18 0h1M24 283h1m15 0h1m19 0h1m22 0h1m1 0h1m19 0h1M33 284h1m10 0h1m18 0h1m37 0h1m18 0h1M3 285h1m40 0h1m12 0h1m2 0h1m14 0h1m4 0h1m13 0h1m10 0h1M24 286h1m1 0h1m59 0h1m23 0h1M10 287h1m68 0h1m16 0h1m15 0h1m4 0h1M33 288h1m12 0h1m62 0h1m15 0h1M10 289h1m23 0h1m13 0h1m53 0h1m5 0h1m11 0h1M16 290h1m39 0h1m9 0h1m20 0h1m2 0h1m4 0h1M1 291h1m10 0h1m19 0h2m37 0h1m5 0h1m12 0h1m33 0h1M51 292h1m14 0h1m12 0h1m9 0h2M9 293h1m39 0h1m30 0h1m30 0h1M13 294h1m29 0h1m13 0h1m9 0h1m11 0h1m14 0h1m27 0h2M5 295h1m7 0h1m7 0h1m57 0h1m6 0h1m2 0h1m18 0h1m7 0h1m5 0h1M40 296h1m16 0h1m50 0h1m14 0h1M42 297h1m67 0h1M31 298h1m1 0h1m5 0h1m2 0h1m17 0h1m20 0h2m23 0h1m16 0h1m1 0h1M44 299h1m22 0h1m3 0h1m11 0h1m2 0h1m14 0h1m7 0h1m4 0h1M58 300h1m8 0h1m34 0h1m2 0h1M3 301h1m6 0h1m24 0h1m23 0h1m1 0h1m26 0h1M2 302h1m5 0h1m29 0h1m44 0h1m12 0h1m27 0h1M18 303h1m41 0h1m10 0h1m2 0h1m6 0h1m6 0h1m25 0h1m1 0h1m2 0h2M33 304h1m1 0h1m23 0h1m49 0h1M9 305h1m10 0h1m49 0h2m6 0h2M1 306h1m14 0h1m7 0h1m13 0h1m10 0h1m20 0h1m9 0h1M33 307h1m17 0h1m21 0h1m32 0h1m13 0h1M10 308h1m86 0h1M47 309h1m7 0h1m44 0h1M1 310h1m52 0h1m9 0h2m1 0h1M69 311h1m17 0h1m5 0h1M5 312h1m3 0h1m1 0h1m35 0h1m12 0h1m47 0h1m6 0h1M46 313h1m34 0h2m1 0h1m9 0h1m4 0h1m11 0h1M1 314h1m4 0h1m18 0h1m2 0h1m56 0h2m6 0h1M5 316h1m3 0h1m7 0h1m43 0h1M32 317h1m1 0h1m6 0h1m5 0h1m18 0h1m27 0h1m4 0h1m19 0h1M5 318h1m5 0h1m43 0h1M0 319h1m12 0h1m11 0h1m48 0h1m20 0h1M30 320h1m24 0h1m10 0h1m7 0h1m4 0h1m33 0h1m11 0h1M18 321h1m3 0h1m5 0h1m22 0h1m64 0h1m7 0h1M48 322h1m4 0h1m15 0h1m20 0h1m16 0h2M69 323h1m39 0h1m8 0h1M19 324h1m9 0h1m3 0h1m2 0h1m13 0h1m75 0h1M24 325h1m5 0h1m12 0h1m11 0h1m39 0h1m18 0h1M60 326h1m32 0h1m16 0h1m5 0h1m6 0h1M7 327h1m47 0h1m4 0h1m5 0h1m1 0h1m42 0h1M1 328h1m14 0h1m25 0h1m21 0h1m29 0h1m25 0h1M30 329h1m12 0h1m10 0h1m9 0h1m10 0h1m3 0h1M1 330h1m5 0h1m3 0h1m2 0h1m53 0h1m20 0h1m6 0h1M12 331h1m3 0h1m17 0h1m5 0h1m17 0h1m24 0h1m32 0h1M23 332h1m5 0h1m18 0h1m40 0h1m5 0h1m7 0h1m12 0h1M24 333h1m35 0h1m5 0h1m57 0h1M28 334h1m4 0h1m1 0h1m9 0h1m5 0h1m26 0h1m22 0h1M15 335h1m12 0h1m2 0h1m60 0h1m26 0h1M24 336h1m16 0h1m29 0h2m15 0h1m3 0h1m24 0h1m3 0h1M19 337h1m46 0h1m8 0h1M33 338h1m36 0h1m17 0h1m9 0h1m10 0h1m18 0h1M44 339h1m37 0h1m9 0h1M45 340h1m24 0h1m25 0h1m6 0h1m8 0h1m11 0h2M1 341h1m15 0h1m16 0h1m9 0h1m1 0h1m5 0h1m69 0h1M5 342h1m8 0h1m52 0h1m15 0h1M15 343h1m2 0h1m69 0h1m27 0h1M1 344h1m6 0h1m22 0h1m17 0h1m20 0h1m26 0h2m24 0h1M2 345h1m20 0h1m4 0h1m14 0h1M4 346h1m54 0h1m4 0h1m9 0h1m1 0h1M2 347h1m2 0h1m6 0h1m4 0h1m16 0h2m8 0h1m2 0h1m29 0h1m15 0h1m14 0h1M3 348h1m6 0h1m2 0h1m37 0h1m7 0h2m31 0h1m13 0h1M5 349h1m34 0h1m4 0h1m18 0h1m14 0h1m45 0h1M12 350h1m6 0h1m89 0h1m4 0h1m1 0h1M36 351h1m2 0h1m4 0h1m40 0h1m3 0h1m3 0h1m9 0h1m6 0h1m2 0h1m15 0h1M4 352h1m43 0h1m4 0h1m16 0h1m2 0h1m39 0h1m1 0h1M4 353h1m66 0h1m6 0h1m19 0h1m5 0h1m7 0h1M30 354h1m11 0h1m18 0h1m4 0h1m36 0h1M61 355h1m2 0h1m2 0h1m31 0h1m13 0h1M6 356h1m25 0h1m34 0h1m14 0h1m38 0h1m6 0h1M51 357h1m26 0h1m10 0h1m6 0h1m11 0h1m12 0h1M45 358h1m11 0h2m36 0h1M2 359h1m7 0h1m73 0h1m8 0h1m15 0h1m19 0h1M16 360h1m60 0h1m11 0h1M15 361h1m65 0h1m44 0h1M7 362h1m13 0h1m17 0h1m37 0h1m1 0h1m47 0h1M10 363h1m30 0h1M22 364h1m16 0h1m4 0h1m32 0h1m10 0h1m12 0h1m3 0h1M6 365h1m44 0h1m49 0h1m13 0h1M13 366h1m33 0h1m4 0h1m8 0h1m9 0h1m51 0h1m4 0h1M32 367h1m70 0h1M9 368h1m51 0h1m10 0h1m8 0h1m30 0h1m6 0h1M9 369h1m27 0h1M8 370h1m3 0h1m14 0h1m12 0h1m9 0h1m4 0h1m4 0h1m36 0h1M7 371h1m28 0h1m28 0h1m59 0h1M11 372h1m9 0h1m46 0h1m13 0h1m18 0h1M0 373h1m43 0h1m36 0h1m14 0h1m24 0h1M58 374h1m9 0h1m20 0h1m23 0h1M29 375h1m11 0h1m30 0h1m3 0h1m23 0h1M36 376h1m42 0h1m11 0h2m14 0h1M4 377h1m5 0h1m34 0h1m30 0h1m18 0h1m12 0h1M2 378h1m21 0h1m6 0h1m57 0h1m13 0h1m25 0h1"/><path id="n16" d="M40 230h1m54 0h1M18 231h1m6 0h1m5 0h1m7 0h1m8 0h1m8 0h1m18 0h1M14 232h1m54 0h1m29 0h1M17 233h1m1 0h1m11 0h1m8 0h1m21 0h1m54 0h1M10 234h1m16 0h1m28 0h1m49 0h2m18 0h1M28 235h1m30 0h1m16 0h1m5 0h1m14 0h1M0 236h1m43 0h1m4 0h1m35 0h1m2 0h1m1 0h1m34 0h1M3 237h1m10 0h1m28 0h1m5 0h1m56 0h1m6 0h1m15 0h1M30 238h1m24 0h1m10 0h1m14 0h1m5 0h1M25 239h1m1 0h1m84 0h1m9 0h1m2 0h1M21 240h1m30 0h1m7 0h1m32 0h1m7 0h1m11 0h1m13 0h1m1 0h1M0 241h1m6 0h1m1 0h1m40 0h1m15 0h1m5 0h1M27 242h1m4 0h1m6 0h1m66 0h1m3 0h1m14 0h1M15 243h1m33 0h1m13 0h1m46 0h1m18 0h1M52 244h1m45 0h1m13 0h1m10 0h1M18 245h1m20 0h1m54 0h1m18 0h1m14 0h1M17 246h1m18 0h1m27 0h1m6 0h1m2 0h1m30 0h1m23 0h1M6 247h1m37 0h1m50 0h1m26 0h1M9 248h1m52 0h1m8 0h1m2 0h1m6 0h1m10 0h1m1 0h1m13 0h2M16 249h1m15 0h1m32 0h1m2 0h2m7 0h2m1 0h1M22 250h1m29 0h1m2 0h1m2 0h1m43 0h1m4 0h1M4 251h1m34 0h1m6 0h1m54 0h1M24 252h1m19 0h1m5 0h2m23 0h1m10 0h1m15 0h1M19 253h1m22 0h1m5 0h1m12 0h1m19 0h1m6 0h1m8 0h1m26 0h1M17 254h1m9 0h1m36 0h1m8 0h1m9 0h1m8 0h1m6 0h1M27 255h1m40 0h1m16 0h1M1 256h1m10 0h1m31 0h1m56 0h1M17 257h1m20 0h1m14 0h1m45 0h1M13 258h1m8 0h1m93 0h1M17 259h1m52 0h1m23 0h1m8 0h1M3 260h1m19 0h1m65 0h1m6 0h1m26 0h1m5 0h1M7 261h1m28 0h1m4 0h1m2 0h1m38 0h1m25 0h1m7 0h1M13 262h1m32 0h1m75 0h1M7 263h1m34 0h1m42 0h1m13 0h1m6 0h1M7 264h1m10 0h1m1 0h1m21 0h1m2 0h1m46 0h1m12 0h1m9 0h1m8 0h1M24 265h1m93 0h1m7 0h1M12 266h1m9 0h1m22 0h1m22 0h1m43 0h1m5 0h1M35 267h1m8 0h1m2 0h1m21 0h2M41 268h1m9 0h1m40 0h1m25 0h1m2 0h1M7 269h1m31 0h1m5 0h1m2 0h1m9 0h1m29 0h1M42 270h1m6 0h1m33 0h1m3 0h1m7 0h1m16 0h1M42 271h1m49 0h1m2 0h1m15 0h1M11 272h1m29 0h1m60 0h1m8 0h1m4 0h1M18 273h1m12 0h1m19 0h1m4 0h1m3 0h1m4 0h1m1 0h1m36 0h1M41 274h1m6 0h1m3 0h1m42 0h1M29 275h1m2 0h1m7 0h1m9 0h1m5 0h1m38 0h1m2 0h1m2 0h1m19 0h1M10 276h1m99 0h1m1 0h2M6 277h1m16 0h1m22 0h1m82 0h1M44 278h1m4 0h1m28 0h1m10 0h1M36 279h1m12 0h1m15 0h1M20 280h1m1 0h1m8 0h1m35 0h1m1 0h1m9 0h1m2 0h1m35 0h1m1 0h1m7 0h1M16 281h1m23 0h1m83 0h1m1 0h1M16 282h1m17 0h1m40 0h1m10 0h1m1 0h1m2 0h1m25 0h1M55 283h1m12 0h1m6 0h1M1 284h1m3 0h1m11 0h1m22 0h1m16 0h1m41 0h1M4 285h1m8 0h1m59 0h1m18 0h1m5 0h1m1 0h1m10 0h1m4 0h1M8 286h1m58 0h1m51 0h1M30 287h1m12 0h1m18 0h1m7 0h1m10 0h1m19 0h1M10 288h1m41 0h1m13 0h1m9 0h1M1 289h1m1 0h1m51 0h1m6 0h1m8 0h1m31 0h1m15 0h1M14 290h1m7 0h1m18 0h1m44 0h1m17 0h1m9 0h1M8 291h1m10 0h1m47 0h1m20 0h1m2 0h1m18 0h1m18 0h1M17 292h1m14 0h1m10 0h1m13 0h1m30 0h1M7 293h1m2 0h1m43 0h1m7 0h1m21 0h1m6 0h1m4 0h1m7 0h1m3 0h1m8 0h1M16 294h2m2 0h1m18 0h1m14 0h1m14 0h1m26 0h1m29 0h1M10 295h1m59 0h1m17 0h1m20 0h1m2 0h1M5 296h1m38 0h1m27 0h1m8 0h1m7 0h1m27 0h1M11 297h1m13 0h1m2 0h1m9 0h1m9 0h1m34 0h1m18 0h1m10 0h1M18 298h1m29 0h1m5 0h1m60 0h1M15 299h1m16 0h1m70 0h1M12 300h1m4 0h1m32 0h1m34 0h1m26 0h1m11 0h1M25 301h1m21 0h1m81 0h1M4 302h1m36 0h1m13 0h1m5 0h1M66 303h1m2 0h1m59 0h1M26 304h1M51 305h1m16 0h1m28 0h1m18 0h1m11 0h1M13 306h1m15 0h2m16 0h1m20 0h1m42 0h1M28 307h1m2 0h1m17 0h1m17 0h1m14 0h1m7 0h1m7 0h1m12 0h1M3 308h1m9 0h1m14 0h1m6 0h1m40 0h1m5 0h2m7 0h1M14 309h1m4 0h1m2 0h1m26 0h1m18 0h1m13 0h1m13 0h1M16 310h1m18 0h1m7 0h1m49 0h1m3 0h1m3 0h1M15 311h1m5 0h1m12 0h1m10 0h1m33 0h1m35 0h1M20 312h1m66 0h1m7 0h1m7 0h1M10 313h2m23 0h1m21 0h1m12 0h1m9 0h1m4 0h1m14 0h1m2 0h1M90 314h1M69 315h1m7 0h2m12 0h1m36 0h1M8 316h1m51 0h1m6 0h1m6 0h1M31 317h1m8 0h1m34 0h1m1 0h1m6 0h1m23 0h1m5 0h1M46 318h1m3 0h1m15 0h1m4 0h1m15 0h1m17 0h1M17 319h1m20 0h1m10 0h1m17 0h1m16 0h1m4 0h1m26 0h1M29 320h1m63 0h1m1 0h1m18 0h1M17 321h1m17 0h1m27 0h1m6 0h1m7 0h1m2 0h1m7 0h1m36 0h1M27 322h1m4 0h1m61 0h1m3 0h1m14 0h1M29 323h1m15 0h1m71 0h1m2 0h1M3 324h1m5 0h1m32 0h1m35 0h1m21 0h1m10 0h1M33 325h1m4 0h1m6 0h1m20 0h1m16 0h1m3 0h1M5 326h1m10 0h1m4 0h1m9 0h1m18 0h1m54 0h1M59 327h1m2 0h1m11 0h1m10 0h1m18 0h1M3 328h1m35 0h1m30 0h1m8 0h1m6 0h1m26 0h1M3 329h1m46 0h1m32 0h1M3 330h1m45 0h1m33 0h1m3 0h1m12 0h1M21 331h1m2 0h2m13 0h1m3 0h1m5 0h1m17 0h1m7 0h1M16 332h1m14 0h1m2 0h1m21 0h2m9 0h1m11 0h1m43 0h1m2 0h1m2 0h1M18 333h1m9 0h1m7 0h1m45 0h1m3 0h2m13 0h1m17 0h1M15 334h1m20 0h1m26 0h1m16 0h1m31 0h1M0 335h1m39 0h1m4 0h1m16 0h1m25 0h1M62 336h1M5 337h1m32 0h2m9 0h1M15 338h1m6 0h1m46 0h1m4 0h1m10 0h1m32 0h1M18 339h1m13 0h1m50 0h1m25 0h1m11 0h1M8 340h1m62 0h1m22 0h1m7 0h1M42 341h1m55 0h1M29 342h1m39 0h2m7 0h1m34 0h1M1 343h1m37 0h1m7 0h1m5 0h1m9 0h1m6 0h1m35 0h1m13 0h1M45 344h1m34 0h1m43 0h1M5 345h1m6 0h1m23 0h1m17 0h1m18 0h1m9 0h1m7 0h1M25 346h1m8 0h1m3 0h1m29 0h1m8 0h1m7 0h1m29 0h1m4 0h1M22 347h1m2 0h1m47 0h1m2 0h1m32 0h1m16 0h1M76 348h1m18 0h1M10 349h1m10 0h1m34 0h1m70 0h1M14 350h1m19 0h1m13 0h1m28 0h1m10 0h1m11 0h1m7 0h1M5 351h1m13 0h1m12 0h1m44 0h1m37 0h1M15 352h1m6 0h1m16 0h1m7 0h1m30 0h1m12 0h1m20 0h1m13 0h1M12 353h1m5 0h1m37 0h1m23 0h1M1 354h1m81 0h1m6 0h1m8 0h1m11 0h1m14 0h1M66 355h1m7 0h1m13 0h1m4 0h1m14 0h1m17 0h1M14 356h1m91 0h1m4 0h1M9 357h1m1 0h1m40 0h1m23 0h1M40 358h1m13 0h2m4 0h1m39 0h1M22 359h1m2 0h1m9 0h1m17 0h1m37 0h1M72 360h1m17 0h1m35 0h1M50 361h1m4 0h1m3 0h1m18 0h1m5 0h1m9 0h1M0 362h1m59 0h1m5 0h1m13 0h1m22 0h1m6 0h1m18 0h1M2 363h1m3 0h1m27 0h1m44 0h1m10 0h1M31 364h1m8 0h1m10 0h1m4 0h1m13 0h1m3 0h1m15 0h1M37 365h1m7 0h1m16 0h1m10 0h1m3 0h2m3 0h2m22 0h1m22 0h1M24 366h1m69 0h1m5 0h1m18 0h1m6 0h1M7 367h1m1 0h1m13 0h1m6 0h1m11 0h1m12 0h1m15 0h1m19 0h1M34 368h1m1 0h1m1 0h1m14 0h1m19 0h1m35 0h1m19 0h1M28 369h1m11 0h1m4 0h1m20 0h1M7 370h1m10 0h1m43 0h1m4 0h1m12 0h1m6 0h1m20 0h1M4 371h1m4 0h1m10 0h1m18 0h1m3 0h1m7 0h2m68 0h1m5 0h1M22 372h1m28 0h1m5 0h1m28 0h1M2 373h1m16 0h1m12 0h1m41 0h1m12 0h1m21 0h1m16 0h1M6 374h1m22 0h1m3 0h1m9 0h1m8 0h1m4 0h1m8 0h1m14 0h1m3 0h1m20 0h1m3 0h1m17 0h1M21 375h1m44 0h1m21 0h1m12 0h1m22 0h1M21 376h1m16 0h1m14 0h1m27 0h1M8 377h1m25 0h1m12 0h1m10 0h1m11 0h1m20 0h1m9 0h1M42 378h1m12 0h1m15 0h1m3 0h1m14 0h1m6 0h1m2 0h1m5 0h1m18 0h1"/><path id="n17" d="M5 230h1m36 0h1m45 0h1m4 0h1m10 0h1m13 0h1M85 231h1m6 0h1m11 0h1m9 0h1m2 0h1m1 0h1M53 232h1m13 0h1M74 233h1m20 0h1M5 234h1m10 0h1m56 0h1m17 0h1M41 235h1m4 0h1m59 0h1M22 236h1m16 0h1m73 0h1M13 237h1m6 0h1m44 0h1m5 0h1m24 0h1m4 0h1m12 0h1m12 0h1M5 238h1m41 0h1m16 0h1m12 0h1m28 0h1m16 0h1M5 239h1m59 0h1M35 240h1m23 0h1m12 0h1m23 0h1M16 241h1m25 0h1m16 0h1m42 0h1M66 242h1m2 0h1m11 0h1m16 0h1m2 0h1M13 243h1m5 0h1m6 0h1m42 0h1m30 0h2m3 0h1m2 0h1m7 0h1M5 244h1m27 0h1m27 0h1m41 0h1M29 245h1m34 0h1m20 0h1m18 0h1M55 246h1m26 0h1m33 0h1M19 247h1m9 0h1m42 0h1m6 0h1m28 0h1M30 248h1m37 0h1m10 0h1m4 0h1m6 0h1m1 0h1m17 0h1M46 249h1m7 0h1m54 0h1m4 0h1M46 250h1m73 0h1M7 251h1m65 0h1m15 0h1m24 0h1M8 252h1m34 0h1m10 0h1m53 0h1m2 0h2M1 253h1m1 0h1m21 0h1m12 0h1m46 0h1m4 0h1M3 254h1m22 0h1m12 0h1m4 0h1m29 0h1m37 0h1M33 255h1m2 0h1m28 0h1m26 0h1m22 0h1m9 0h1m3 0h1M24 256h1m26 0h1m11 0h1m44 0h1m6 0h1M18 257h1m9 0h1m19 0h1m42 0h1m29 0h1M57 258h1m10 0h1m21 0h1M10 259h1m3 0h1m7 0h1m5 0h1m5 0h1m26 0h1M2 260h1m13 0h1m2 0h1m63 0h1m13 0h1M50 261h1m9 0h1m53 0h1M21 262h1m9 0h1m1 0h1m40 0h1M12 263h1m17 0h1m5 0h1m24 0h1m13 0h1m24 0h1m4 0h1M29 264h1m37 0h1M70 265h1m8 0h1m26 0h1M39 266h1m20 0h1M107 267h1M40 268h1M40 269h1m35 0h1m1 0h1m1 0h1m30 0h1m11 0h1M15 270h1m3 0h1m64 0h2m18 0h1m3 0h1m1 0h1M9 271h1m45 0h1m3 0h1m18 0h1m23 0h1m2 0h1m1 0h1M84 272h1m11 0h1M32 273h1m14 0h1m41 0h1M17 274h1m42 0h1m24 0h1M10 275h1m12 0h1m14 0h1m6 0h1m24 0h1m29 0h1m15 0h1M2 276h1m10 0h1m7 0h1m18 0h1M18 277h1m50 0h1m34 0h1m12 0h1m3 0h1M69 278h1m6 0h1m4 0h1m30 0h1M7 279h1m85 0h1m7 0h1M64 280h1m42 0h1M26 281h1m4 0h1m38 0h1m11 0h1m6 0h1m15 0h1M9 282h1m54 0h1m16 0h1M43 283h2m3 0h1m20 0h1m8 0h1m16 0h1m1 0h1M11 284h1m14 0h1m11 0h1m33 0h1M5 285h1m16 0h1m29 0h1m59 0h1M23 286h1m32 0h1m48 0h1m14 0h1M59 287h1m42 0h1m12 0h1m13 0h1M53 288h1m10 0h1m30 0h1M95 289h1m20 0h1M21 290h1m11 0h1m3 0h1m8 0h1m13 0h1m15 0h1M31 291h1m68 0h1m13 0h1M24 292h1m24 0h1m10 0h1m8 0h1m31 0h1M18 293h1m88 0h1M59 294h1M15 295h1m15 0h1m11 0h1m63 0h1m21 0h1M1 296h1m19 0h1m27 0h2m58 0h1M33 297h1m12 0h1m12 0h1m1 0h1m67 0h1M1 298h1m65 0h1m1 0h1m16 0h1M38 299h1m53 0h1m33 0h1M59 300h1m10 0h1m44 0h1M50 301h1M52 302h1m5 0h1m49 0h1m17 0h1M14 303h1m4 0h1m57 0h1m13 0h1m19 0h1M17 304h1m34 0h1m24 0h1m19 0h1M22 305h1m24 0h1m61 0h1M48 306h1m14 0h1m48 0h1M42 307h1m17 0h1m22 0h1m5 0h1m38 0h1M9 308h1m49 0h1m29 0h1m20 0h1m8 0h1M0 309h1m15 0h1m44 0h1m9 0h1m29 0h1m19 0h1M26 310h1m2 0h1M26 311h1m24 0h1m36 0h1m25 0h1M38 312h1m34 0h1M3 313h2m53 0h1m39 0h1m18 0h1M43 314h1m58 0h1M1 315h1m123 0h2M13 316h1m18 0h1m11 0h1m36 0h1m22 0h1M28 317h1m74 0h1M16 318h1m2 0h1m6 0h1m20 0h1m45 0h1m13 0h1M54 319h1m10 0h1m2 0h1M3 320h1m1 0h1m12 0h1m3 0h1m23 0h1m80 0h1M41 321h1m1 0h1m33 0h1m7 0h1m25 0h1M33 322h1m5 0h1m3 0h1m11 0h1m28 0h1m29 0h1M95 323h1m19 0h1M31 324h1m2 0h1m28 0h1m10 0h1m8 0h1m36 0h1M7 325h1m15 0h1m15 0h2m10 0h1m67 0h1M35 326h1m5 0h1m39 0h1m20 0h1M28 327h1m18 0h1m47 0h1m32 0h1M2 328h1m17 0h1m4 0h1m15 0h1m7 0h1m5 0h1m5 0h1M6 329h1m26 0h1M79 330h1m1 0h1m8 0h1m2 0h1M18 331h1m14 0h1m18 0h1m32 0h1m27 0h1M66 332h1m3 0h1m40 0h1m10 0h1M49 334h1m6 0h1m42 0h1M21 336h1m12 0h1m23 0h1m32 0h1m17 0h1M1 337h1m20 0h1m7 0h1m5 0h1m22 0h1m23 0h1m41 0h1M66 338h1m10 0h1M19 339h1m21 0h1m22 0h2m5 0h1m52 0h1M17 340h1m17 0h1m2 0h1m4 0h1m47 0h1m19 0h1m15 0h1M13 341h1m97 0h1m1 0h1M60 342h1M13 343h1m9 0h1m81 0h1M17 344h1m61 0h1m42 0h1m5 0h1M19 345h1m28 0h1m12 0h2m49 0h1m14 0h1M52 346h1m40 0h1M60 347h1M49 348h1m14 0h2m4 0h1M12 349h1m29 0h1m6 0h1m11 0h1m51 0h1M8 350h1m41 0h1m30 0h1m13 0h1m10 0h1m3 0h1m4 0h1M59 351h1m14 0h1m23 0h1M32 352h1m42 0h1m40 0h1m10 0h1M14 353h1m15 0h1m5 0h1m29 0h1m58 0h1M5 354h1m12 0h2m9 0h1m17 0h1m40 0h1M7 355h1m24 0h1m2 0h1m19 0h1m4 0h1m15 0h1m25 0h1M56 356h2m26 0h1m13 0h1m2 0h1m11 0h1M34 357h1m46 0h1m9 0h1m2 0h1m33 0h1M32 358h1m16 0h1m35 0h1m8 0h1m10 0h1m4 0h1M79 359h1m2 0h1m15 0h1m22 0h1M15 360h1m35 0h1m34 0h1m12 0h1m21 0h1m7 0h1M20 361h1m15 0h1m17 0h1m5 0h1m28 0h1m19 0h1M63 362h1m22 0h1M44 363h1m56 0h1M17 364h1m5 0h1m36 0h1m11 0h1m27 0h1m20 0h1m4 0h1M15 365h1M6 366h1m79 0h1m6 0h1M56 367h1m23 0h1m43 0h1M8 368h1m23 0h1m13 0h1M121 369h1M21 370h1m12 0h1m7 0h1m42 0h1m16 0h1M11 371h1m4 0h1m11 0h1m21 0h1m55 0h1M40 372h1m24 0h1m34 0h1m13 0h1m3 0h1M26 373h1m49 0h1m13 0h1m38 0h1M28 374h1m7 0h1m18 0h1m16 0h1m25 0h1M12 375h1m1 0h1m63 0h1m27 0h1m15 0h1m5 0h1M64 376h1m6 0h1M110 377h1M25 378h1m42 0h1m13 0h1m34 0h1"/><path id="n18" d="M2 230h1m19 0h1m40 0h1m55 0h1m4 0h1m2 0h1M16 231h1m21 0h1m2 0h1m10 0h1m10 0h1m59 0h1m4 0h1M4 232h1m18 0h1m36 0h1m41 0h1m9 0h1M1 233h1m5 0h1m1 0h1m81 0h1M46 234h1m20 0h1m8 0h1M27 235h1m5 0h1m5 0h1m12 0h1m58 0h1M3 236h1m6 0h2m26 0h1m12 0h1m53 0h1m12 0h1M6 237h1m57 0h1m38 0h1m1 0h1M27 238h1m8 0h2m7 0h1m33 0h2M36 240h1m11 0h1m31 0h1m5 0h1M26 241h1m21 0h1m24 0h1m11 0h1m23 0h1M105 242h1M4 243h1m43 0h1m41 0h1m27 0h1m6 0h1m1 0h1M6 244h1m65 0h2m10 0h1m26 0h1m13 0h1M49 245h1M58 246h1m51 0h1M37 247h1m2 0h1m10 0h1m36 0h1m1 0h1M69 248h1m10 0h1m21 0h1M9 249h1m45 0h1m68 0h1M5 250h1m11 0h1m48 0h1m1 0h1m7 0h1m4 0h1m32 0h1M42 251h1m69 0h1M21 252h1m4 0h1m18 0h1m17 0h1m59 0h2M47 253h1m61 0h1M18 254h1m27 0h1m18 0h1m2 0h1m7 0h1M12 255h1m1 0h1m65 0h1m1 0h1M23 256h1m42 0h1m30 0h1m30 0h1M29 257h2m24 0h1m3 0h1m25 0h1m14 0h1m16 0h1M19 258h1m44 0h1m17 0h1M19 259h1m1 0h1m2 0h1m32 0h1m24 0h1m21 0h1M7 260h1m107 0h1M37 261h1m8 0h1m8 0h1m18 0h1m14 0h1m6 0h1M6 262h1m72 0h1M14 263h1m6 0h1m7 0h1m19 0h1m73 0h1M101 264h1m14 0h1m1 0h1M11 266h1m37 0h1m21 0h1m13 0h1m30 0h1m7 0h1M57 267h1M17 268h1M85 269h1m13 0h1m15 0h1M26 270h1m4 0h1m1 0h1m11 0h1m4 0h1m9 0h1m16 0h1M18 271h1m85 0h1M4 272h1m15 0h1m7 0h2m43 0h1m18 0h2M14 273h1m15 0h1m11 0h1m14 0h1M2 274h1m10 0h1m74 0h1m1 0h1m8 0h1m26 0h1M12 275h1m70 0h1m35 0h1m5 0h1M25 276h1m8 0h1m17 0h1m49 0h1m19 0h1M26 277h2m7 0h1m2 0h1m10 0h1M17 278h1m76 0h1m3 0h1m10 0h1m5 0h1M4 279h1m19 0h1m19 0h1M9 280h1m15 0h1m6 0h1m13 0h1m61 0h1M72 281h1m15 0h1m31 0h1m4 0h1M51 282h1m35 0h1m23 0h1M109 283h1m18 0h1M8 284h1m20 0h1m20 0h1m18 0h1m21 0h1m14 0h1m4 0h1M83 285h1m4 0h1m17 0h1M11 286h1m3 0h1m25 0h1m43 0h1M41 287h1M115 288h1M15 289h1m14 0h1m50 0h1m29 0h1m14 0h1M28 290h1m9 0h1M58 291h1m43 0h1m12 0h1m5 0h1m3 0h1M18 292h1m1 0h1m15 0h1m11 0h1m1 0h1m11 0h1M0 293h2m1 0h1m11 0h1m5 0h1m22 0h1m43 0h1M15 294h1m45 0h1m37 0h1M0 295h1m3 0h1m31 0h1m3 0h1m59 0h1m10 0h1M37 296h1m53 0h1m5 0h1M31 297h1m39 0h1m23 0h1M7 298h1M8 299h1m16 0h1m19 0h1m29 0h1m1 0h1M19 300h1m17 0h1m24 0h1m18 0h2m12 0h1m33 0h1M7 301h1m50 0h1m19 0h1m41 0h1M18 302h1m53 0h1M34 303h1m19 0h1m39 0h1M90 304h1m1 0h1M35 305h1m30 0h1m13 0h1m32 0h1M23 306h1m48 0h1m6 0h1m21 0h1M30 307h1m13 0h1m1 0h1M30 308h1m43 0h1m38 0h1M38 309h1m11 0h1m16 0h1M22 310h1m62 0h1M28 311h1m18 0h1m53 0h1M29 312h1m2 0h1m41 0h1m8 0h1m2 0h1m38 0h1M43 313h1m34 0h1M39 314h1m27 0h1m1 0h1m12 0h1m18 0h1m19 0h1m7 0h1M14 315h1m43 0h1m8 0h1M6 316h1m70 0h1m12 0h1M22 317h1m22 0h1m44 0h1M0 318h1m9 0h1m67 0h1m2 0h1m39 0h1m1 0h1M15 319h1m4 0h1m5 0h1m48 0h1m11 0h1m21 0h1m5 0h1m3 0h1M0 320h1m47 0h1m9 0h1m47 0h1m5 0h1M65 321h1m17 0h1m37 0h1M79 322h1m1 0h1m20 0h1m26 0h1M11 323h1m55 0h1m6 0h1M2 324h1m9 0h1m33 0h1M25 325h1m15 0h1m49 0h1M1 326h1m78 0h1m31 0h1m5 0h1M3 327h1m57 0h1m14 0h1m49 0h1M0 328h1m18 0h1m25 0h1m50 0h1m14 0h1m4 0h1m8 0h1M57 329h1M17 330h1m84 0h1M69 331h1M1 332h1m11 0h1m6 0h1m40 0h1m18 0h1m1 0h1M9 333h1m52 0h1m47 0h1m10 0h1m1 0h1M17 334h1m25 0h1m11 0h1m4 0h1M1 335h1m125 0h1M14 336h1m2 0h1m86 0h2m16 0h1M2 337h1m53 0h1m15 0h1m21 0h1M39 338h1m14 0h1m27 0h1m27 0h1M26 339h1M46 340h1m73 0h1M8 341h1m46 0h1m64 0h1M8 342h1m78 0h1m3 0h1M72 343h1M25 344h1m47 0h1m17 0h1M25 345h1m99 0h1M18 346h1m3 0h1m37 0h1m68 0h1M6 347h1m96 0h1M107 348h1m19 0h1M0 349h1m6 0h1m40 0h1m63 0h1M11 350h1m5 0h1m20 0h1m5 0h1m14 0h1m26 0h1m5 0h1M10 351h1m56 0h1M8 352h1m58 0h1m16 0h1m38 0h1M10 353h1m22 0h1m12 0h1m13 0h1m3 0h1m36 0h1M93 354h1M9 355h1m40 0h1m60 0h1M15 356h1m5 0h1m51 0h1m13 0h1m17 0h1M32 357h1m7 0h1m30 0h1M8 358h1m25 0h1m6 0h1m2 0h1m3 0h1m22 0h1m17 0h1m9 0h1M47 359h1m2 0h1M24 360h1m34 0h1m8 0h1m10 0h1m25 0h1m2 0h1M10 361h1m14 0h1m5 0h1m10 0h1m55 0h1m1 0h1m7 0h1m1 0h1M47 362h1m8 0h1m60 0h1m2 0h1M85 363h1M75 364h1M9 365h1m50 0h1m20 0h1M66 366h1m10 0h1m26 0h1m9 0h1M14 367h1M7 368h1m42 0h1M1 369h1m56 0h1m24 0h1m10 0h1m16 0h1M5 370h1m75 0h1m6 0h1m3 0h1M13 371h1m96 0h1M5 372h1m30 0h1M80 373h1m30 0h1m16 0h1M8 374h1m15 0h2m27 0h1m36 0h1m2 0h1m6 0h1m11 0h1m7 0h1m1 0h1M37 375h1m4 0h1m28 0h1m41 0h1m13 0h1M14 376h1m9 0h1m12 0h1m22 0h1m28 0h1m7 0h1M17 377h1m19 0h1m2 0h1m2 0h1M54 378h1m3 0h1m49 0h1m9 0h1"/><path id="n19" d="M26 230h1m2 0h1M12 232h1m25 0h1m34 0h2M0 233h1m29 0h1m51 0h1M28 234h1m7 0h1m50 0h1m35 0h1M24 235h1M82 236h1m38 0h1M15 237h1m25 0h1m35 0h1m14 0h1m9 0h1M2 238h1m47 0h1m41 0h1m20 0h1m4 0h1M18 239h1m75 0h1M76 240h1m23 0h1M14 241h1m62 0h1m30 0h1M26 242h1m34 0h1m20 0h1m46 0h1M79 243h1M1 244h1m9 0h1m42 0h1m8 0h1M37 245h1m25 0h1m17 0h1m33 0h2M18 246h1m6 0h1m43 0h2m17 0h1m5 0h1M15 247h1m19 0h1m74 0h1m8 0h1M29 248h1m21 0h1m5 0h1m46 0h1M17 249h1m23 0h1m20 0h1m52 0h1m11 0h1M33 250h1m55 0h1M44 251h1m13 0h1m63 0h1M57 252h1m41 0h1M76 253h1m12 0h1m3 0h3m25 0h1M43 254h1m31 0h1m22 0h1M88 255h1m30 0h1M91 256h1m1 0h1M3 257h1m7 0h1m20 0h1m70 0h1m21 0h1M74 259h1m17 0h1M24 260h1m92 0h1M61 261h1M42 262h1M19 263h1m3 0h1m38 0h1m27 0h1M94 264h1m30 0h1M114 265h1M19 267h2m7 0h1M73 268h1M89 269h1M66 270h1m58 0h1M34 271h1m56 0h1m20 0h1M32 272h1m15 0h1M35 273h1m5 0h1m40 0h1m17 0h1M63 274h1m58 0h1M99 275h1M64 276h1m3 0h1M36 277h1m7 0h1m13 0h1m28 0h1m28 0h1M2 278h1m4 0h1m48 0h1m8 0h1M99 279h1m9 0h1M72 280h1m42 0h1M91 281h1M61 282h1m31 0h1m11 0h1m1 0h1m17 0h1M14 283h1M16 285h1m54 0h1M27 286h1m18 0h1m40 0h1M26 287h1M58 288h1m8 0h1m12 0h1m4 0h1m16 0h1m15 0h1M23 289h1m13 0h1m3 0h1m3 0h1m14 0h1m22 0h1M26 290h1m12 0h1M55 291h1M7 292h1m5 0h1m25 0h1m32 0h2m11 0h1m42 0h1M26 293h1m13 0h1m19 0h1m21 0h1M65 294h1m43 0h1M6 295h1m31 0h1m35 0h1M66 296h1m9 0h1M105 297h1m15 0h1m4 0h2M22 298h1m95 0h1M0 299h1m126 0h1M53 300h1M1 301h1m28 0h1m62 0h1M7 302h1m15 0h1m47 0h1m20 0h1M52 303h1M31 304h1m9 0h1m43 0h1m25 0h1m8 0h1M46 305h1M99 306h1m25 0h1m1 0h1M8 307h1m79 0h1m12 0h1m13 0h1M10 310h1M107 311h1M78 312h1m11 0h1m35 0h1M112 313h1M60 314h1m14 0h1m44 0h1M39 315h1m35 0h1M25 316h1m60 0h1M0 317h1m64 0h1m8 0h1M14 318h1m59 0h1M23 319h1m32 0h1m36 0h1M87 320h1M80 321h1M4 322h1m5 0h1M42 323h1m33 0h1m26 0h1M32 324h1m77 0h1m4 0h1M13 325h1m30 0h1m71 0h1m7 0h1M122 326h1M25 327h1m1 0h1m24 0h1m43 0h1m22 0h1M14 328h1m60 0h1m32 0h1M28 330h1m77 0h1M111 331h1M17 332h1m4 0h1m14 0h1M0 333h1m13 0h1M14 334h1m42 0h1M4 335h1M49 336h1M0 337h1m87 0h1m9 0h1m6 0h1M91 338h1m9 0h1M70 339h1M24 340h1M11 341h1M31 342h1m26 0h1m37 0h1M19 343h1m34 0h1m52 0h1m21 0h1M9 344h1m16 0h1m45 0h1M129 345h1M125 346h1m1 0h1M75 347h1m48 0h1M25 348h1m26 0h1M8 349h1m5 0h1m91 0h1M23 350h1m6 0h1m92 0h1M21 351h2m25 0h1m12 0h1m2 0h1m15 0h1m20 0h1m2 0h1M55 352h1m21 0h1m7 0h1m2 0h1m3 0h1m21 0h1m13 0h1M59 353h1M15 354h1m51 0h1m46 0h1M1 355h1m23 0h1m17 0h1m5 0h1m54 0h1m4 0h2m1 0h1M29 356h1m22 0h1m69 0h1M35 357h1m39 0h1m7 0h1m2 0h1M117 358h1M26 359h1m49 0h1m8 0h1m30 0h1M9 360h1M2 361h1m24 0h1m9 0h1m1 0h1m5 0h1M78 362h1m32 0h1M70 363h1m18 0h1M18 364h1m26 0h1m8 0h1m23 0h1m19 0h1m20 0h1M44 365h1M32 366h1m23 0h1M6 367h1m22 0h1m29 0h1m10 0h1m7 0h1M79 368h1m10 0h1m31 0h1M114 369h1M72 370h1m9 0h1m3 0h1m32 0h1M102 372h1M39 373h1m75 0h1M9 374h1m21 0h1m43 0h1M55 375h1M32 376h1m15 0h1m63 0h1M123 377h1M11 378h1m39 0h1"/><path id="n20" d="M56 230h1m27 0h1M29 231h1M98 232h1M25 233h1m68 0h1M26 234h1m20 0h1m5 0h1M56 235h1m38 0h1M7 236h1m40 0h1m31 0h1M36 237h1m74 0h1M12 238h1M35 239h1m43 0h2M19 241h1m32 0h1m34 0h1M14 242h1M32 243h1m4 0h1M48 244h1m57 0h1M2 245h1M42 246h1m22 0h1m19 0h1M104 247h1M12 248h1m47 0h1m16 0h1M50 249h1m25 0h1m29 0h1M20 250h1m29 0h1m27 0h1m17 0h1M16 251h1m10 0h1m23 0h1M20 253h1M32 254h1M30 255h1m48 0h1m36 0h1M80 256h1m7 0h1m20 0h1m1 0h1m13 0h1M15 257h1M47 258h1m11 0h1m57 0h1M110 259h1M25 261h1m25 0h1m40 0h1m8 0h1M11 262h1m3 0h1m41 0h1m59 0h1M32 263h1m38 0h1m42 0h1m4 0h1M9 264h1m54 0h1m62 0h1M89 265h1M2 266h1m30 0h1M49 267h1m25 0h1m11 0h1m30 0h1M45 268h1m12 0h1M12 270h1m7 0h1M5 271h1m11 0h1M42 272h1m13 0h1M117 273h1m7 0h1M69 274h1m21 0h1m20 0h1m8 0h1m2 0h1M54 275h1m17 0h1m12 0h1m40 0h1M46 276h1m24 0h1m12 0h1m13 0h1M114 277h1m9 0h1M50 278h1m4 0h1m66 0h1M32 279h1m93 0h1M73 280h1m32 0h1M3 282h1m3 0h1m6 0h1m47 0h1M55 284h1m42 0h1m14 0h1M41 285h1m32 0h1m28 0h1M21 286h1M44 287h1m78 0h1M38 288h1m15 0h1m39 0h1m12 0h1M38 289h1m61 0h1m12 0h1M8 290h1m43 0h1m1 0h1M22 293h1M2 294h1m33 0h1M62 295h1m27 0h1m36 0h1M19 296h1m13 0h1m34 0h2M60 297h1M20 298h1m17 0h1m12 0h1M52 299h1m60 0h1M25 300h1m4 0h1m18 0h1m43 0h1M9 301h1m55 0h1m6 0h1m10 0h1m13 0h1M40 302h1m74 0h1M40 303h1m9 0h1m4 0h1m8 0h1M74 305h1m12 0h1m39 0h1M1 307h1m48 0h1m15 0h1M10 309h1m29 0h1m33 0h1M19 310h1m8 0h1M43 311h1m5 0h1m20 0h1M62 312h1m19 0h1M5 313h1m26 0h1m5 0h1m54 0h1m15 0h1M66 314h1m50 0h1M20 315h1m103 0h1M112 316h1M17 317h1m19 0h1m44 0h1M40 318h1M26 320h1m54 0h1M3 321h1m4 0h1m4 0h1m16 0h1m2 0h1m42 0h1M5 322h1m79 0h1M104 323h1M90 324h1m10 0h1m27 0h1M70 325h1M52 326h1m6 0h1m23 0h1m7 0h1M32 328h2m23 0h1m14 0h1m33 0h1M1 329h1m16 0h1m23 0h1m8 0h1m22 0h1m14 0h1m1 0h1m34 0h1M18 330h1m89 0h1M108 331h1M42 332h1m70 0h1M31 333h1m26 0h1M7 334h1m12 0h1m41 0h1M51 335h1m52 0h1m11 0h1M0 336h1m42 0h1m51 0h1M20 337h1m4 0h1m7 0h1m27 0h1m15 0h1M40 338h1m4 0h1m7 0h1m5 0h1m12 0h1m34 0h1m18 0h1M4 339h1M31 340h1m32 0h1m56 0h1m1 0h1M0 341h1m14 0h1M50 342h1m28 0h1m9 0h1M27 343h1m2 0h1m24 0h1M16 344h1m44 0h1m2 0h1M72 345h1m14 0h1m15 0h1M10 346h1m35 0h1m9 0h1m1 0h1m3 0h1m60 0h1M1 348h1m24 0h1m10 0h1m28 0h1M1 349h1m25 0h1m39 0h1m35 0h1m10 0h1M13 350h1m25 0h1m36 0h1M15 351h1m11 0h1m86 0h1M30 352h1m28 0h1m35 0h1m2 0h1m1 0h1m20 0h1M38 353h1m43 0h1M0 354h1m118 0h1M21 355h1m17 0h1m31 0h1m12 0h1M80 356h1m22 0h1M25 357h1M62 358h1m6 0h1m9 0h1m3 0h1m43 0h1M12 359h1m26 0h1m52 0h1m4 0h1M46 362h1m45 0h1M0 363h1m11 0h1m2 0h1m16 0h1m13 0h1m19 0h1m9 0h1m4 0h1m4 0h1m24 0h1m16 0h1M55 364h1m8 0h1m19 0h1m1 0h1m21 0h1M18 365h1m3 0h1m51 0h1m15 0h1m25 0h1M17 366h1m72 0h1m7 0h1M37 367h1m39 0h1m47 0h1M57 368h1m5 0h1M29 369h1m85 0h1M31 370h1M34 371h1m2 0h1m67 0h1m12 0h1M91 372h1M23 373h1m3 0h1m15 0h1M37 374h1m27 0h1m36 0h1M39 375h1m58 0h2M1 376h1m48 0h1m51 0h1m24 0h1M9 377h1m92 0h1M7 378h1m1 0h1m4 0h1m46 0h3m63 0h1"/><g id="r0"><use href="#n0" x="50"/><use href="#n0" x="180"/><use href="#n0" x="310"/><use href="#n0" x="440"/><use href="#n0" x="570"/></g><g id="r1"><use href="#n1" x="50"/><use href="#n1" x="180"/><use href="#n1" x="310"/><use href="#n1" x="440"/><use href="#n1" x="570"/></g><g id="r2"><use href="#n2" x="50"/><use href="#n2" x="180"/><use href="#n2" x="310"/><use href="#n2" x="440"/><use href="#n2" x="570"/></g><g id="r3"><use href="#n3" x="50"/><use href="#n3" x="180"/><use href="#n3" x="310"/><use href="#n3" x="440"/><use href="#n3" x="570"/></g><g id="r4"><use href="#n4" x="50"/><use href="#n4" x="180"/><use href="#n4" x="310"/><use href="#n4" x="440"/><use href="#n4" x="570"/></g><g id="r5"><use href="#n5" x="50"/><use href="#n5" x="180"/><use href="#n5" x="310"/><use href="#n5" x="440"/><use href="#n5" x="570"/></g><g id="r6"><use href="#n6" x="50"/><use href="#n6" x="180"/><use href="#n6" x="310"/><use href="#n6" x="440"/><use href="#n6" x="570"/></g><g id="r7"><use href="#n7" x="50"/><use href="#n7" x="180"/><use href="#n7" x="310"/><use href="#n7" x="440"/><use href="#n7" x="570"/></g><g id="r8"><use href="#n8" x="50"/><use href="#n8" x="180"/><use href="#n8" x="310"/><use href="#n8" x="440"/><use href="#n8" x="570"/></g><g id="r9"><use href="#n9" x="50"/><use href="#n9" x="180"/><use href="#n9" x="310"/><use href="#n9" x="440"/><use href="#n9" x="570"/></g><g id="r10"><use href="#n10" x="50"/><use href="#n10" x="180"/><use href="#n10" x="310"/><use href="#n10" x="440"/><use href="#n10" x="570"/></g><g id="r11"><use href="#n11" x="50"/><use href="#n11" x="180"/><use href="#n11" x="310"/><use href="#n11" x="440"/><use href="#n11" x="570"/></g><g id="r12"><use href="#n12" x="50"/><use href="#n12" x="180"/><use href="#n12" x="310"/><use href="#n12" x="440"/><use href="#n12" x="570"/></g><g id="r13"><use href="#n13" x="50"/><use href="#n13" x="180"/><use href="#n13" x="310"/><use href="#n13" x="440"/><use href="#n13" x="570"/></g><g id="r14"><use href="#n14" x="50"/><use href="#n14" x="180"/><use href="#n14" x="310"/><use href="#n14" x="440"/><use href="#n14" x="570"/></g><g id="r15"><use href="#n15" x="50"/><use href="#n15" x="180"/><use href="#n15" x="310"/><use href="#n15" x="440"/><use href="#n15" x="570"/></g><g id="r16"><use href="#n16" x="50"/><use href="#n16" x="180"/><use href="#n16" x="310"/><use href="#n16" x="440"/><use href="#n16" x="570"/></g><g id="r17"><use href="#n17" x="50"/><use href="#n17" x="180"/><use href="#n17" x="310"/><use href="#n17" x="440"/><use href="#n17" x="570"/></g><g id="r18"><use href="#n18" x="50"/><use href="#n18" x="180"/><use href="#n18" x="310"/><use href="#n18" x="440"/><use href="#n18" x="570"/></g><g id="r19"><use href="#n19" x="50"/><use href="#n19" x="180"/><use href="#n19" x="310"/><use href="#n19" x="440"/><use href="#n19" x="570"/></g><g id="r20"><use href="#n20" x="50"/><use href="#n20" x="180"/><use href="#n20" x="310"/><use href="#n20" x="440"/><use href="#n20" x="570"/></g><linearGradient id="GB" gradientUnits="userSpaceOnUse" x1="0" y1="229" x2="0" y2="379"/><clipPath id="q0"><rect x="50" y="229" width="88" height="150"/><rect x="142" y="229" width="3" height="150"/><rect x="147" y="229" width="1" height="150"/><rect x="155" y="229" width="1" height="150"/><rect x="158" y="229" width="1" height="150"/><rect x="171" y="229" width="1" height="150"/><rect x="179" y="229" width="1" height="150"/><rect x="192" y="229" width="1" height="150"/><rect x="203" y="229" width="1" height="150"/><rect x="216" y="229" width="1" height="150"/><rect x="304" y="229" width="1" height="150"/><rect x="379" y="229" width="1" height="150"/><rect x="491" y="229" width="2" height="150"/><rect x="501" y="229" width="2" height="150"/><rect x="505" y="229" width="2" height="150"/><rect x="510" y="229" width="1" height="150"/><rect x="522" y="229" width="1" height="150"/><rect x="527" y="229" width="1" height="150"/><rect x="532" y="229" width="2" height="150"/><rect x="536" y="229" width="2" height="150"/><rect x="547" y="229" width="1" height="150"/></clipPath><linearGradient id="G0_4" href="#GB"><stop offset="0" stop-color="#9393e9"/><stop offset=".167" stop-color="#cbcbe1"/><stop offset=".28" stop-color="#ddddde"/><stop offset=".333" stop-color="#dedede"/></linearGradient><linearGradient id="G0_5" href="#GB"><stop offset="0" stop-color="#4949f4"/><stop offset=".167" stop-color="#8181ec"/><stop offset=".333" stop-color="#a6a6e6"/><stop offset=".46" stop-color="#ddddde"/><stop offset=".5" stop-color="#dedede"/></linearGradient><linearGradient id="G0_6" href="#GB"><stop offset="0" stop-color="#2222fa"/><stop offset=".167" stop-color="#3535f7"/><stop offset=".333" stop-color="#5252f3"/><stop offset=".5" stop-color="#b9b9e4"/><stop offset=".547" stop-color="#ddddde"/><stop offset=".627" stop-color="#dedede"/></linearGradient><linearGradient id="G0_7" href="#GB"><stop offset="0" stop-color="#0505fe"/><stop offset=".167" stop-color="#2424fa"/><stop offset=".333" stop-color="#2e2ef8"/><stop offset=".5" stop-color="#6f6fee"/><stop offset=".6" stop-color="#d8d8df"/><stop offset=".627" stop-color="#dedede"/></linearGradient><linearGradient id="G0_8" href="#GB"><stop offset="0" stop-color="#0019e6"/><stop offset=".08" stop-color="#0003fc"/><stop offset=".167" stop-color="#1414fc"/><stop offset=".333" stop-color="#2121fa"/><stop offset=".5" stop-color="#4444f5"/><stop offset=".627" stop-color="#cbcbe1"/><stop offset=".64" stop-color="#dcdcde"/><stop offset=".707" stop-color="#dedede"/></linearGradient><linearGradient id="G0_9" href="#GB"><stop offset="0" stop-color="#0036c9"/><stop offset=".147" stop-color="#0004fb"/><stop offset=".167" stop-color="#0303ff"/><stop offset=".333" stop-color="#1515fc"/><stop offset=".5" stop-color="#3838f7"/><stop offset=".627" stop-color="#a1a1e7"/><stop offset=".673" stop-color="#ddddde"/><stop offset=".707" stop-color="#dedede"/></linearGradient><linearGradient id="G0_10" href="#GB"><stop offset="0" stop-color="#0057a8"/><stop offset=".167" stop-color="#000df2"/><stop offset=".233" stop-color="#0005fa"/><stop offset=".333" stop-color="#0909fe"/><stop offset=".5" stop-color="#2b2bf9"/><stop offset=".627" stop-color="#7676ed"/><stop offset=".7" stop-color="#d7d7df"/><stop offset=".707" stop-color="#dedede"/></linearGradient><linearGradient id="G0_11" href="#GB"><stop offset="0" stop-color="#007e81"/><stop offset=".167" stop-color="#001ee1"/><stop offset=".327" stop-color="#0005fa"/><stop offset=".333" stop-color="#0004fb"/><stop offset=".5" stop-color="#1f1ffa"/><stop offset=".627" stop-color="#5e5ef1"/><stop offset=".707" stop-color="#c2c2e2"/><stop offset=".72" stop-color="#d6d6df"/><stop offset=".793" stop-color="#dedede"/></linearGradient><linearGradient id="G0_12" href="#GB"><stop offset="0" stop-color="#00a45b"/><stop offset=".167" stop-color="#002fd0"/><stop offset=".333" stop-color="#0010ef"/><stop offset=".393" stop-color="#0004fb"/><stop offset=".5" stop-color="#1212fc"/><stop offset=".627" stop-color="#4c4cf4"/><stop offset=".707" stop-color="#a5a5e6"/><stop offset=".74" stop-color="#d5d5df"/><stop offset=".793" stop-color="#dedede"/></linearGradient><linearGradient id="G0_13" href="#GB"><stop offset="0" stop-color="#00cb34"/><stop offset=".167" stop-color="#004eb1"/><stop offset=".333" stop-color="#001de2"/><stop offset=".447" stop-color="#0005fa"/><stop offset=".5" stop-color="#0606fe"/><stop offset=".627" stop-color="#3a3af6"/><stop offset=".707" stop-color="#8888eb"/><stop offset=".767" stop-color="#d8d8df"/><stop offset=".793" stop-color="#dedede"/></linearGradient><linearGradient id="G0_14" href="#GB"><stop offset="0" stop-color="#00ea15"/><stop offset=".167" stop-color="#007d82"/><stop offset=".333" stop-color="#0029d6"/><stop offset=".5" stop-color="#0006f9"/><stop offset=".507" stop-color="#0004fb"/><stop offset=".627" stop-color="#2929f9"/><stop offset=".707" stop-color="#6e6eef"/><stop offset=".793" stop-color="#dadadf"/><stop offset=".853" stop-color="#dedede"/></linearGradient><linearGradient id="G0_15" href="#GB"><stop offset="0" stop-color="#08ff00"/><stop offset=".013" stop-color="#00fc03"/><stop offset=".167" stop-color="#00a758"/><stop offset=".333" stop-color="#0035ca"/><stop offset=".5" stop-color="#01e"/><stop offset=".54" stop-color="#0004fb"/><stop offset=".627" stop-color="#1919fb"/><stop offset=".707" stop-color="#5757f2"/><stop offset=".793" stop-color="#c3c3e2"/><stop offset=".807" stop-color="#dadadf"/><stop offset=".853" stop-color="#dedede"/></linearGradient><linearGradient id="G0_16" href="#GB"><stop offset="0" stop-color="#32ff00"/><stop offset=".06" stop-color="#00fd02"/><stop offset=".167" stop-color="#00cb34"/><stop offset=".333" stop-color="#0058a7"/><stop offset=".5" stop-color="#001be4"/><stop offset=".58" stop-color="#0004fb"/><stop offset=".627" stop-color="#0b0bfd"/><stop offset=".707" stop-color="#4444f5"/><stop offset=".793" stop-color="#afafe5"/><stop offset=".82" stop-color="#d8d8df"/><stop offset=".853" stop-color="#dedede"/></linearGradient><linearGradient id="G0_17" href="#GB"><stop offset="0" stop-color="#57ff00"/><stop offset=".113" stop-color="#00fd02"/><stop offset=".167" stop-color="#00e718"/><stop offset=".333" stop-color="#007f80"/><stop offset=".5" stop-color="#002ad5"/><stop offset=".62" stop-color="#0004fb"/><stop offset=".627" stop-color="#0002fd"/><stop offset=".707" stop-color="#3333f7"/><stop offset=".793" stop-color="#9e9ee8"/><stop offset=".84" stop-color="#dcdcde"/><stop offset=".853" stop-color="#dedede"/></linearGradient><linearGradient id="G0_18" href="#GB"><stop offset="0" stop-color="#80ff00"/><stop offset=".167" stop-color="#0f0"/><stop offset=".173" stop-color="#00fb04"/><stop offset=".333" stop-color="#00a05f"/><stop offset=".5" stop-color="#0053ac"/><stop offset=".627" stop-color="#000cf3"/><stop offset=".64" stop-color="#0004fb"/><stop offset=".707" stop-color="#2424fa"/><stop offset=".793" stop-color="#7a7aed"/><stop offset=".853" stop-color="#d5d5df"/><stop offset=".86" stop-color="#dbdbde"/><stop offset=".9" stop-color="#dedede"/></linearGradient><linearGradient id="G0_19" href="#GB"><stop offset="0" stop-color="#c6ff00"/><stop offset=".167" stop-color="#26ff00"/><stop offset=".213" stop-color="#00fe01"/><stop offset=".333" stop-color="#00c936"/><stop offset=".5" stop-color="#007689"/><stop offset=".627" stop-color="#0031ce"/><stop offset=".68" stop-color="#0001fe"/><stop offset=".707" stop-color="#1717fc"/><stop offset=".793" stop-color="#5858f2"/><stop offset=".853" stop-color="#c0c0e3"/><stop offset=".88" stop-color="#dbdbde"/><stop offset=".9" stop-color="#dedede"/></linearGradient><linearGradient id="G0_20" href="#GB"><stop offset="0" stop-color="#ff0"/><stop offset=".167" stop-color="#7eff00"/><stop offset=".3" stop-color="#00fe01"/><stop offset=".333" stop-color="#00ed12"/><stop offset=".5" stop-color="#00ad52"/><stop offset=".627" stop-color="#0056a9"/><stop offset=".707" stop-color="#0017e8"/><stop offset=".727" stop-color="#0004fb"/><stop offset=".793" stop-color="#3d3df6"/><stop offset=".853" stop-color="#afafe5"/><stop offset=".893" stop-color="#d9d9df"/><stop offset=".9" stop-color="#dedede"/></linearGradient><clipPath id="q1"><rect x="138" y="229" width="4" height="150"/><rect x="145" y="229" width="2" height="150"/><rect x="148" y="229" width="7" height="150"/><rect x="156" y="229" width="2" height="150"/><rect x="159" y="229" width="3" height="150"/><rect x="163" y="229" width="3" height="150"/><rect x="167" y="229" width="4" height="150"/><rect x="172" y="229" width="4" height="150"/><rect x="178" y="229" width="1" height="150"/><rect x="180" y="229" width="1" height="150"/><rect x="184" y="229" width="4" height="150"/><rect x="191" y="229" width="1" height="150"/><rect x="193" y="229" width="3" height="150"/><rect x="198" y="229" width="5" height="150"/><rect x="204" y="229" width="1" height="150"/><rect x="206" y="229" width="10" height="150"/><rect x="217" y="229" width="2" height="150"/><rect x="221" y="229" width="2" height="150"/><rect x="228" y="229" width="2" height="150"/><rect x="231" y="229" width="1" height="150"/><rect x="233" y="229" width="2" height="150"/><rect x="240" y="229" width="2" height="150"/><rect x="245" y="229" width="2" height="150"/><rect x="249" y="229" width="1" height="150"/><rect x="255" y="229" width="3" height="150"/><rect x="259" y="229" width="2" height="150"/><rect x="266" y="229" width="2" height="150"/><rect x="270" y="229" width="5" height="150"/><rect x="276" y="229" width="1" height="150"/><rect x="278" y="229" width="1" height="150"/><rect x="281" y="229" width="2" height="150"/><rect x="288" y="229" width="4" height="150"/><rect x="295" y="229" width="1" height="150"/><rect x="300" y="229" width="2" height="150"/><rect x="303" y="229" width="1" height="150"/><rect x="307" y="229" width="1" height="150"/><rect x="310" y="229" width="2" height="150"/><rect x="337" y="229" width="1" height="150"/><rect x="350" y="229" width="2" height="150"/><rect x="361" y="229" width="1" height="150"/><rect x="366" y="229" width="3" height="150"/><rect x="371" y="229" width="1" height="150"/><rect x="374" y="229" width="1" height="150"/><rect x="378" y="229" width="1" height="150"/><rect x="380" y="229" width="6" height="150"/><rect x="464" y="229" width="3" height="150"/><rect x="470" y="229" width="2" height="150"/><rect x="475" y="229" width="3" height="150"/><rect x="479" y="229" width="4" height="150"/><rect x="484" y="229" width="4" height="150"/><rect x="493" y="229" width="2" height="150"/><rect x="496" y="229" width="4" height="150"/><rect x="503" y="229" width="2" height="150"/><rect x="507" y="229" width="3" height="150"/><rect x="511" y="229" width="1" height="150"/><rect x="514" y="229" width="8" height="150"/><rect x="525" y="229" width="2" height="150"/><rect x="528" y="229" width="2" height="150"/><rect x="534" y="229" width="2" height="150"/><rect x="538" y="229" width="1" height="150"/><rect x="543" y="229" width="1" height="150"/><rect x="549" y="229" width="1" height="150"/><rect x="556" y="229" width="1" height="150"/><rect x="609" y="229" width="1" height="150"/></clipPath><linearGradient id="G1_2" href="#GB"><stop offset="0" stop-color="#d8d8df"/><stop offset=".04" stop-color="#dedede"/><stop offset=".167" stop-color="#dedede"/></linearGradient><linearGradient id="G1_3" href="#GB"><stop offset="0" stop-color="#adade5"/><stop offset=".167" stop-color="#c4c4e2"/><stop offset=".333" stop-color="#d4d4df"/><stop offset=".373" stop-color="#dedede"/><stop offset=".5" stop-color="#dedede"/></linearGradient><linearGradient id="G1_4" href="#GB"><stop offset="0" stop-color="#6262f0"/><stop offset=".167" stop-color="#9a9ae8"/><stop offset=".333" stop-color="#b5b5e4"/><stop offset=".5" stop-color="#dcdcde"/><stop offset=".627" stop-color="#dedede"/></linearGradient><linearGradient id="G1_5" href="#GB"><stop offset="0" stop-color="#1818fb"/><stop offset=".167" stop-color="#4f4ff3"/><stop offset=".333" stop-color="#7575ee"/><stop offset=".5" stop-color="#bcbce3"/><stop offset=".547" stop-color="#dadadf"/><stop offset=".627" stop-color="#dedede"/></linearGradient><linearGradient id="G1_6" href="#GB"><stop offset="0" stop-color="#0010ef"/><stop offset=".1" stop-color="#0004fb"/><stop offset=".167" stop-color="#0303ff"/><stop offset=".333" stop-color="#2121fa"/><stop offset=".5" stop-color="#8888eb"/><stop offset=".607" stop-color="#dadadf"/><stop offset=".627" stop-color="#dedede"/></linearGradient><linearGradient id="G1_7" href="#GB"><stop offset="0" stop-color="#002dd2"/><stop offset=".167" stop-color="#000df2"/><stop offset=".313" stop-color="#0005fa"/><stop offset=".333" stop-color="#0004fb"/><stop offset=".5" stop-color="#3e3ef6"/><stop offset=".627" stop-color="#c2c2e2"/><stop offset=".647" stop-color="#dbdbde"/><stop offset=".707" stop-color="#dedede"/></linearGradient><linearGradient id="G1_8" href="#GB"><stop offset="0" stop-color="#004bb4"/><stop offset=".167" stop-color="#001ee1"/><stop offset=".333" stop-color="#0010ef"/><stop offset=".393" stop-color="#0004fb"/><stop offset=".5" stop-color="#1212fc"/><stop offset=".627" stop-color="#9a9ae8"/><stop offset=".68" stop-color="#dcdcde"/><stop offset=".707" stop-color="#dedede"/></linearGradient><linearGradient id="G1_9" href="#GB"><stop offset="0" stop-color="#006897"/><stop offset=".167" stop-color="#002fd0"/><stop offset=".333" stop-color="#001de2"/><stop offset=".447" stop-color="#0005fa"/><stop offset=".5" stop-color="#0606fe"/><stop offset=".627" stop-color="#6f6fee"/><stop offset=".707" stop-color="#d6d6df"/><stop offset=".793" stop-color="#dedede"/></linearGradient><linearGradient id="G1_10" href="#GB"><stop offset="0" stop-color="#008976"/><stop offset=".167" stop-color="#003fc0"/><stop offset=".333" stop-color="#0029d6"/><stop offset=".5" stop-color="#0006f9"/><stop offset=".507" stop-color="#0002fd"/><stop offset=".627" stop-color="#4545f5"/><stop offset=".707" stop-color="#aeaee5"/><stop offset=".733" stop-color="#dbdbde"/><stop offset=".793" stop-color="#dedede"/></linearGradient><linearGradient id="G1_11" href="#GB"><stop offset="0" stop-color="#00b04f"/><stop offset=".167" stop-color="#0050af"/><stop offset=".333" stop-color="#0036c9"/><stop offset=".5" stop-color="#0013ec"/><stop offset=".533" stop-color="#0002fd"/><stop offset=".627" stop-color="#2c2cf8"/><stop offset=".707" stop-color="#9090ea"/><stop offset=".753" stop-color="#dadadf"/><stop offset=".793" stop-color="#dedede"/></linearGradient><linearGradient id="G1_12" href="#GB"><stop offset="0" stop-color="#00d629"/><stop offset=".167" stop-color="#00619e"/><stop offset=".333" stop-color="#0042bd"/><stop offset=".5" stop-color="#001fe0"/><stop offset=".56" stop-color="#0004fb"/><stop offset=".627" stop-color="#1b1bfb"/><stop offset=".707" stop-color="#7474ee"/><stop offset=".773" stop-color="#d5d5df"/><stop offset=".793" stop-color="#dedede"/></linearGradient><linearGradient id="G1_13" href="#GB"><stop offset="0" stop-color="#00fd02"/><stop offset=".167" stop-color="#00807f"/><stop offset=".333" stop-color="#004fb0"/><stop offset=".5" stop-color="#002cd3"/><stop offset=".6" stop-color="#0003fc"/><stop offset=".627" stop-color="#0909fe"/><stop offset=".707" stop-color="#5757f2"/><stop offset=".793" stop-color="#cccce1"/><stop offset=".8" stop-color="#d9d9df"/><stop offset=".853" stop-color="#dedede"/></linearGradient><linearGradient id="G1_14" href="#GB"><stop offset="0" stop-color="#38ff00"/><stop offset=".047" stop-color="#00fe01"/><stop offset=".167" stop-color="#00af50"/><stop offset=".333" stop-color="#005ba4"/><stop offset=".5" stop-color="#0038c7"/><stop offset=".627" stop-color="#0009f6"/><stop offset=".633" stop-color="#0003fc"/><stop offset=".707" stop-color="#3c3cf6"/><stop offset=".793" stop-color="#a9a9e6"/><stop offset=".82" stop-color="#ddddde"/><stop offset=".853" stop-color="#dedede"/></linearGradient><linearGradient id="G1_15" href="#GB"><stop offset="0" stop-color="#67ff00"/><stop offset=".1" stop-color="#00fe01"/><stop offset=".167" stop-color="#00d926"/><stop offset=".333" stop-color="#006698"/><stop offset=".5" stop-color="#0043bc"/><stop offset=".627" stop-color="#0019e6"/><stop offset=".653" stop-color="#0004fb"/><stop offset=".707" stop-color="#2626f9"/><stop offset=".793" stop-color="#9292e9"/><stop offset=".833" stop-color="#d7d7df"/><stop offset=".853" stop-color="#dedede"/></linearGradient><linearGradient id="G1_16" href="#GB"><stop offset="0" stop-color="#91ff00"/><stop offset=".167" stop-color="#00fd02"/><stop offset=".333" stop-color="#008a75"/><stop offset=".5" stop-color="#004db2"/><stop offset=".627" stop-color="#0027d8"/><stop offset=".68" stop-color="#0001fe"/><stop offset=".707" stop-color="#1313fc"/><stop offset=".793" stop-color="#7e7eec"/><stop offset=".853" stop-color="#d7d7df"/><stop offset=".86" stop-color="#dedede"/><stop offset=".9" stop-color="#dedede"/></linearGradient><linearGradient id="G1_17" href="#GB"><stop offset="0" stop-color="#b6ff00"/><stop offset=".167" stop-color="#31ff00"/><stop offset=".213" stop-color="#00fc03"/><stop offset=".333" stop-color="#00b14e"/><stop offset=".5" stop-color="#005ca3"/><stop offset=".627" stop-color="#0034cb"/><stop offset=".7" stop-color="#0003fc"/><stop offset=".707" stop-color="#0101ff"/><stop offset=".793" stop-color="#6c6cef"/><stop offset=".853" stop-color="#bcbce3"/><stop offset=".887" stop-color="#dcdcde"/><stop offset=".9" stop-color="#dedede"/></linearGradient><linearGradient id="G1_18" href="#GB"><stop offset="0" stop-color="#deff00"/><stop offset=".167" stop-color="#5eff00"/><stop offset=".26" stop-color="#00fc03"/><stop offset=".333" stop-color="#00d22d"/><stop offset=".5" stop-color="#00857a"/><stop offset=".627" stop-color="#003ec1"/><stop offset=".707" stop-color="#000ef1"/><stop offset=".72" stop-color="#0001fe"/><stop offset=".793" stop-color="#4848f4"/><stop offset=".853" stop-color="#a3a3e7"/><stop offset=".9" stop-color="#d2d2e0"/><stop offset="1" stop-color="#d8d8df"/></linearGradient><linearGradient id="G1_19" href="#GB"><stop offset="0" stop-color="#ffea00"/><stop offset=".027" stop-color="#fff800"/><stop offset=".167" stop-color="#84ff00"/><stop offset=".327" stop-color="#00fe01"/><stop offset=".333" stop-color="#00fb04"/><stop offset=".5" stop-color="#00a857"/><stop offset=".627" stop-color="#00639c"/><stop offset=".707" stop-color="#001be4"/><stop offset=".74" stop-color="#0002fd"/><stop offset=".793" stop-color="#2727f9"/><stop offset=".853" stop-color="#8e8eea"/><stop offset=".9" stop-color="#bebee3"/><stop offset="1" stop-color="#c4c4e2"/></linearGradient><linearGradient id="G1_20" href="#GB"><stop offset="0" stop-color="#ffcb00"/><stop offset=".107" stop-color="#fff800"/><stop offset=".167" stop-color="#dcff00"/><stop offset=".333" stop-color="#3cff00"/><stop offset=".42" stop-color="#00fe01"/><stop offset=".5" stop-color="#00df20"/><stop offset=".627" stop-color="#087"/><stop offset=".707" stop-color="#0049b6"/><stop offset=".78" stop-color="#0003fc"/><stop offset=".793" stop-color="#0c0cfd"/><stop offset=".853" stop-color="#7d7dec"/><stop offset=".9" stop-color="#aeaee5"/><stop offset="1" stop-color="#b4b4e4"/></linearGradient><clipPath id="q2"><rect x="162" y="229" width="1" height="150"/><rect x="166" y="229" width="1" height="150"/><rect x="176" y="229" width="2" height="150"/><rect x="181" y="229" width="3" height="150"/><rect x="188" y="229" width="3" height="150"/><rect x="196" y="229" width="2" height="150"/><rect x="205" y="229" width="1" height="150"/><rect x="219" y="229" width="2" height="150"/><rect x="223" y="229" width="3" height="150"/><rect x="227" y="229" width="1" height="150"/><rect x="230" y="229" width="1" height="150"/><rect x="232" y="229" width="1" height="150"/><rect x="235" y="229" width="5" height="150"/><rect x="242" y="229" width="3" height="150"/><rect x="247" y="229" width="2" height="150"/><rect x="250" y="229" width="3" height="150"/><rect x="254" y="229" width="1" height="150"/><rect x="258" y="229" width="1" height="150"/><rect x="261" y="229" width="5" height="150"/><rect x="268" y="229" width="2" height="150"/><rect x="275" y="229" width="1" height="150"/><rect x="277" y="229" width="1" height="150"/><rect x="279" y="229" width="2" height="150"/><rect x="283" y="229" width="5" height="150"/><rect x="292" y="229" width="1" height="150"/><rect x="294" y="229" width="1" height="150"/><rect x="296" y="229" width="4" height="150"/><rect x="302" y="229" width="1" height="150"/><rect x="305" y="229" width="2" height="150"/><rect x="308" y="229" width="2" height="150"/><rect x="312" y="229" width="1" height="150"/><rect x="332" y="229" width="2" height="150"/><rect x="335" y="229" width="2" height="150"/><rect x="338" y="229" width="2" height="150"/><rect x="341" y="229" width="9" height="150"/><rect x="357" y="229" width="4" height="150"/><rect x="362" y="229" width="4" height="150"/><rect x="369" y="229" width="2" height="150"/><rect x="372" y="229" width="2" height="150"/><rect x="375" y="229" width="1" height="150"/><rect x="386" y="229" width="6" height="150"/><rect x="426" y="229" width="5" height="150"/><rect x="433" y="229" width="1" height="150"/><rect x="437" y="229" width="2" height="150"/><rect x="442" y="229" width="7" height="150"/><rect x="450" y="229" width="3" height="150"/><rect x="455" y="229" width="9" height="150"/><rect x="467" y="229" width="1" height="150"/><rect x="469" y="229" width="1" height="150"/><rect x="472" y="229" width="3" height="150"/><rect x="478" y="229" width="1" height="150"/><rect x="483" y="229" width="1" height="150"/><rect x="488" y="229" width="3" height="150"/><rect x="495" y="229" width="1" height="150"/><rect x="500" y="229" width="1" height="150"/><rect x="512" y="229" width="2" height="150"/></clipPath><linearGradient id="G2_1" href="#GB"><stop offset="0" stop-color="#d0d0e0"/><stop offset=".093" stop-color="#ddddde"/><stop offset=".167" stop-color="#dedede"/></linearGradient><linearGradient id="G2_2" href="#GB"><stop offset="0" stop-color="#9d9de8"/><stop offset=".167" stop-color="#b5b5e4"/><stop offset=".333" stop-color="#c4c4e2"/><stop offset=".44" stop-color="#dedede"/><stop offset=".5" stop-color="#dedede"/></linearGradient><linearGradient id="G2_3" href="#GB"><stop offset="0" stop-color="#7171ee"/><stop offset=".167" stop-color="#8989eb"/><stop offset=".333" stop-color="#9999e8"/><stop offset=".5" stop-color="#c0c0e2"/><stop offset=".547" stop-color="#dedede"/><stop offset=".627" stop-color="#dedede"/></linearGradient><linearGradient id="G2_4" href="#GB"><stop offset="0" stop-color="#2727f9"/><stop offset=".167" stop-color="#5f5ff1"/><stop offset=".333" stop-color="#7979ed"/><stop offset=".5" stop-color="#a1a1e7"/><stop offset=".593" stop-color="#dcdcde"/><stop offset=".627" stop-color="#dedede"/></linearGradient><linearGradient id="G2_5" href="#GB"><stop offset="0" stop-color="#0024db"/><stop offset=".093" stop-color="#0004fb"/><stop offset=".167" stop-color="#1414fc"/><stop offset=".333" stop-color="#3a3af6"/><stop offset=".5" stop-color="#8181ec"/><stop offset=".627" stop-color="#d2d2e0"/><stop offset=".633" stop-color="#dadadf"/><stop offset=".707" stop-color="#dedede"/></linearGradient><linearGradient id="G2_6" href="#GB"><stop offset="0" stop-color="#004cb3"/><stop offset=".167" stop-color="#0039c6"/><stop offset=".333" stop-color="#001be4"/><stop offset=".373" stop-color="#0002fd"/><stop offset=".5" stop-color="#4c4cf4"/><stop offset=".627" stop-color="#afafe5"/><stop offset=".66" stop-color="#d8d8df"/><stop offset=".707" stop-color="#dedede"/></linearGradient><linearGradient id="G2_7" href="#GB"><stop offset="0" stop-color="#006996"/><stop offset=".167" stop-color="#0049b6"/><stop offset=".333" stop-color="#0040bf"/><stop offset=".487" stop-color="#0003fc"/><stop offset=".5" stop-color="#0202ff"/><stop offset=".627" stop-color="#8787eb"/><stop offset=".693" stop-color="#d9d9df"/><stop offset=".707" stop-color="#dedede"/></linearGradient><linearGradient id="G2_8" href="#GB"><stop offset="0" stop-color="#008778"/><stop offset=".167" stop-color="#005aa5"/><stop offset=".333" stop-color="#004cb3"/><stop offset=".5" stop-color="#0029d6"/><stop offset=".54" stop-color="#0202ff"/><stop offset=".627" stop-color="#5e5ef1"/><stop offset=".707" stop-color="#c2c2e2"/><stop offset=".72" stop-color="#d8d8df"/><stop offset=".793" stop-color="#dedede"/></linearGradient><linearGradient id="G2_9" href="#GB"><stop offset="0" stop-color="#00a45b"/><stop offset=".167" stop-color="#006b94"/><stop offset=".333" stop-color="#0059a6"/><stop offset=".5" stop-color="#0036c9"/><stop offset=".56" stop-color="#0004fb"/><stop offset=".627" stop-color="#3434f7"/><stop offset=".707" stop-color="#9b9be8"/><stop offset=".74" stop-color="#d3d3e0"/><stop offset=".793" stop-color="#dedede"/></linearGradient><linearGradient id="G2_10" href="#GB"><stop offset="0" stop-color="#00c53a"/><stop offset=".167" stop-color="#007b84"/><stop offset=".333" stop-color="#00659a"/><stop offset=".5" stop-color="#0042bd"/><stop offset=".607" stop-color="#0003fc"/><stop offset=".627" stop-color="#0a0afe"/><stop offset=".707" stop-color="#7373ee"/><stop offset=".767" stop-color="#d9d9df"/><stop offset=".793" stop-color="#dedede"/></linearGradient><linearGradient id="G2_11" href="#GB"><stop offset="0" stop-color="#00ec13"/><stop offset=".167" stop-color="#008c73"/><stop offset=".333" stop-color="#00728d"/><stop offset=".5" stop-color="#004fb0"/><stop offset=".627" stop-color="#000ff0"/><stop offset=".64" stop-color="#0202ff"/><stop offset=".707" stop-color="#5555f2"/><stop offset=".787" stop-color="#d4d4df"/><stop offset=".793" stop-color="#dedede"/></linearGradient><linearGradient id="G2_12" href="#GB"><stop offset="0" stop-color="#25ff00"/><stop offset=".033" stop-color="#00fb04"/><stop offset=".167" stop-color="#009d62"/><stop offset=".333" stop-color="#007e81"/><stop offset=".5" stop-color="#005ba4"/><stop offset=".627" stop-color="#0021de"/><stop offset=".653" stop-color="#0003fc"/><stop offset=".707" stop-color="#3838f7"/><stop offset=".793" stop-color="#b8b8e4"/><stop offset=".807" stop-color="#d3d3e0"/><stop offset=".853" stop-color="#dedede"/></linearGradient><linearGradient id="G2_13" href="#GB"><stop offset="0" stop-color="#6eff00"/><stop offset=".08" stop-color="#00fd02"/><stop offset=".167" stop-color="#00bc43"/><stop offset=".333" stop-color="#008b74"/><stop offset=".5" stop-color="#006897"/><stop offset=".627" stop-color="#03c"/><stop offset=".673" stop-color="#0005fa"/><stop offset=".707" stop-color="#1c1cfb"/><stop offset=".793" stop-color="#9090ea"/><stop offset=".827" stop-color="#d4d4df"/><stop offset=".853" stop-color="#dedede"/></linearGradient><linearGradient id="G2_14" href="#GB"><stop offset="0" stop-color="#a9ff00"/><stop offset=".14" stop-color="#00fd02"/><stop offset=".167" stop-color="#00eb14"/><stop offset=".333" stop-color="#009768"/><stop offset=".5" stop-color="#00748b"/><stop offset=".627" stop-color="#0045ba"/><stop offset=".7" stop-color="#0005fa"/><stop offset=".707" stop-color="#0101ff"/><stop offset=".793" stop-color="#6d6def"/><stop offset=".847" stop-color="#d6d6df"/><stop offset=".853" stop-color="#dedede"/></linearGradient><linearGradient id="G2_15" href="#GB"><stop offset="0" stop-color="#d8ff00"/><stop offset=".167" stop-color="#2aff00"/><stop offset=".2" stop-color="#00fe01"/><stop offset=".333" stop-color="#00a25c"/><stop offset=".5" stop-color="#007f80"/><stop offset=".627" stop-color="#05a"/><stop offset=".707" stop-color="#0015ea"/><stop offset=".727" stop-color="#0303ff"/><stop offset=".793" stop-color="#5757f2"/><stop offset=".853" stop-color="#bcbce3"/><stop offset=".887" stop-color="#dcdcde"/><stop offset=".9" stop-color="#dedede"/></linearGradient><linearGradient id="G2_16" href="#GB"><stop offset="0" stop-color="#fffd00"/><stop offset=".167" stop-color="#6eff00"/><stop offset=".253" stop-color="#00fd02"/><stop offset=".333" stop-color="#00c639"/><stop offset=".5" stop-color="#008a76"/><stop offset=".627" stop-color="#00639c"/><stop offset=".707" stop-color="#0029d6"/><stop offset=".74" stop-color="#00f"/><stop offset=".793" stop-color="#4343f5"/><stop offset=".853" stop-color="#9c9ce8"/><stop offset=".9" stop-color="#cacae1"/><stop offset="1" stop-color="#d0d0e0"/></linearGradient><linearGradient id="G2_17" href="#GB"><stop offset="0" stop-color="#ffe900"/><stop offset=".033" stop-color="#fff800"/><stop offset=".167" stop-color="#a2ff00"/><stop offset=".307" stop-color="#00fd02"/><stop offset=".333" stop-color="#00ed12"/><stop offset=".5" stop-color="#009867"/><stop offset=".627" stop-color="#00708f"/><stop offset=".707" stop-color="#003bc4"/><stop offset=".753" stop-color="#0001fe"/><stop offset=".793" stop-color="#3131f8"/><stop offset=".853" stop-color="#8181ec"/><stop offset=".9" stop-color="#aeaee5"/><stop offset="1" stop-color="#b4b4e4"/></linearGradient><linearGradient id="G2_18" href="#GB"><stop offset="0" stop-color="#ffd200"/><stop offset=".087" stop-color="#fff700"/><stop offset=".167" stop-color="#d0ff00"/><stop offset=".333" stop-color="#1bff00"/><stop offset=".367" stop-color="#00fe01"/><stop offset=".5" stop-color="#00c13e"/><stop offset=".627" stop-color="#007a85"/><stop offset=".707" stop-color="#004ab5"/><stop offset=".78" stop-color="#0001fe"/><stop offset=".793" stop-color="#0d0dfd"/><stop offset=".853" stop-color="#6868f0"/><stop offset=".9" stop-color="#9797e9"/><stop offset="1" stop-color="#9d9de8"/></linearGradient><linearGradient id="G2_19" href="#GB"><stop offset="0" stop-color="#ffab00"/><stop offset=".147" stop-color="#fffa00"/><stop offset=".167" stop-color="#f6ff00"/><stop offset=".333" stop-color="#6aff00"/><stop offset=".447" stop-color="#0f0"/><stop offset=".5" stop-color="#00e41b"/><stop offset=".627" stop-color="#009f60"/><stop offset=".707" stop-color="#0057a8"/><stop offset=".793" stop-color="#0015ea"/><stop offset=".807" stop-color="#0303ff"/><stop offset=".853" stop-color="#5353f3"/><stop offset=".9" stop-color="#8383ec"/><stop offset="1" stop-color="#8989eb"/></linearGradient><linearGradient id="G2_20" href="#GB"><stop offset="0" stop-color="#ff8c00"/><stop offset=".167" stop-color="#ffd300"/><stop offset=".233" stop-color="#fff700"/><stop offset=".333" stop-color="#aeff00"/><stop offset=".5" stop-color="#35ff00"/><stop offset=".547" stop-color="#00fb04"/><stop offset=".627" stop-color="#00c43b"/><stop offset=".707" stop-color="#00857a"/><stop offset=".793" stop-color="#0030cf"/><stop offset=".82" stop-color="#0404fe"/><stop offset=".853" stop-color="#4242f5"/><stop offset=".9" stop-color="#7373ee"/><stop offset="1" stop-color="#7979ed"/></linearGradient><clipPath id="q3"><rect x="226" y="229" width="1" height="150"/><rect x="253" y="229" width="1" height="150"/><rect x="293" y="229" width="1" height="150"/><rect x="313" y="229" width="5" height="150"/><rect x="323" y="229" width="1" height="150"/><rect x="325" y="229" width="1" height="150"/><rect x="327" y="229" width="2" height="150"/><rect x="331" y="229" width="1" height="150"/><rect x="334" y="229" width="1" height="150"/><rect x="340" y="229" width="1" height="150"/><rect x="352" y="229" width="5" height="150"/><rect x="376" y="229" width="2" height="150"/><rect x="392" y="229" width="2" height="150"/><rect x="397" y="229" width="3" height="150"/><rect x="406" y="229" width="6" height="150"/><rect x="413" y="229" width="10" height="150"/><rect x="425" y="229" width="1" height="150"/><rect x="431" y="229" width="2" height="150"/><rect x="434" y="229" width="3" height="150"/><rect x="439" y="229" width="1" height="150"/><rect x="449" y="229" width="1" height="150"/><rect x="453" y="229" width="2" height="150"/><rect x="468" y="229" width="1" height="150"/></clipPath><linearGradient id="G3_0" href="#GB"><stop offset="0" stop-color="#babae3"/><stop offset=".167" stop-color="#d2d2e0"/><stop offset=".287" stop-color="#dedede"/><stop offset=".333" stop-color="#dedede"/></linearGradient><linearGradient id="G3_1" href="#GB"><stop offset="0" stop-color="#8b8bea"/><stop offset=".167" stop-color="#a3a3e7"/><stop offset=".333" stop-color="#b3b3e4"/><stop offset=".5" stop-color="#dadadf"/><stop offset=".627" stop-color="#dedede"/></linearGradient><linearGradient id="G3_2" href="#GB"><stop offset="0" stop-color="#5858f2"/><stop offset=".167" stop-color="#6f6fee"/><stop offset=".333" stop-color="#7f7fec"/><stop offset=".5" stop-color="#a7a7e6"/><stop offset=".587" stop-color="#ddddde"/><stop offset=".627" stop-color="#dedede"/></linearGradient><linearGradient id="G3_3" href="#GB"><stop offset="0" stop-color="#2c2cf8"/><stop offset=".167" stop-color="#4444f5"/><stop offset=".333" stop-color="#5454f3"/><stop offset=".5" stop-color="#7b7bed"/><stop offset=".627" stop-color="#cccce1"/><stop offset=".64" stop-color="#ddddde"/><stop offset=".707" stop-color="#dedede"/></linearGradient><linearGradient id="G3_4" href="#GB"><stop offset="0" stop-color="#001fe0"/><stop offset=".08" stop-color="#0003fc"/><stop offset=".167" stop-color="#1a1afb"/><stop offset=".333" stop-color="#3434f7"/><stop offset=".5" stop-color="#5c5cf1"/><stop offset=".627" stop-color="#adade5"/><stop offset=".707" stop-color="#dedede"/></linearGradient><linearGradient id="G3_5" href="#GB"><stop offset="0" stop-color="#006a95"/><stop offset=".167" stop-color="#0031ce"/><stop offset=".333" stop-color="#000cf3"/><stop offset=".353" stop-color="#0003fc"/><stop offset=".5" stop-color="#3c3cf6"/><stop offset=".627" stop-color="#8d8dea"/><stop offset=".687" stop-color="#d7d7df"/><stop offset=".707" stop-color="#dedede"/></linearGradient><linearGradient id="G3_6" href="#GB"><stop offset="0" stop-color="#00926d"/><stop offset=".167" stop-color="#007f80"/><stop offset=".333" stop-color="#00619e"/><stop offset=".487" stop-color="#0001fe"/><stop offset=".5" stop-color="#0707fe"/><stop offset=".627" stop-color="#6a6aef"/><stop offset=".707" stop-color="#cccce1"/><stop offset=".713" stop-color="#d7d7df"/><stop offset=".793" stop-color="#dedede"/></linearGradient><linearGradient id="G3_7" href="#GB"><stop offset="0" stop-color="#00af50"/><stop offset=".167" stop-color="#008f70"/><stop offset=".333" stop-color="#008679"/><stop offset=".5" stop-color="#0043bc"/><stop offset=".56" stop-color="#0004fb"/><stop offset=".627" stop-color="#4242f5"/><stop offset=".707" stop-color="#a5a5e7"/><stop offset=".74" stop-color="#ddddde"/><stop offset=".793" stop-color="#dedede"/></linearGradient><linearGradient id="G3_8" href="#GB"><stop offset="0" stop-color="#00cd32"/><stop offset=".167" stop-color="#00a05f"/><stop offset=".333" stop-color="#00926d"/><stop offset=".5" stop-color="#006f90"/><stop offset=".6" stop-color="#0003fc"/><stop offset=".627" stop-color="#1919fb"/><stop offset=".707" stop-color="#7d7dec"/><stop offset=".76" stop-color="#d7d7df"/><stop offset=".793" stop-color="#dedede"/></linearGradient><linearGradient id="G3_9" href="#GB"><stop offset="0" stop-color="#00ea15"/><stop offset=".167" stop-color="#00b14e"/><stop offset=".333" stop-color="#009f60"/><stop offset=".5" stop-color="#007c83"/><stop offset=".627" stop-color="#01e"/><stop offset=".64" stop-color="#00f"/><stop offset=".707" stop-color="#5656f2"/><stop offset=".787" stop-color="#ddddde"/><stop offset=".793" stop-color="#dedede"/></linearGradient><linearGradient id="G3_10" href="#GB"><stop offset="0" stop-color="#16ff00"/><stop offset=".027" stop-color="#0f0"/><stop offset=".167" stop-color="#00c13e"/><stop offset=".333" stop-color="#00ab54"/><stop offset=".5" stop-color="#087"/><stop offset=".627" stop-color="#003cc3"/><stop offset=".673" stop-color="#0202ff"/><stop offset=".707" stop-color="#2e2ef8"/><stop offset=".793" stop-color="#c2c2e2"/><stop offset=".807" stop-color="#ddddde"/><stop offset=".853" stop-color="#dedede"/></linearGradient><linearGradient id="G3_11" href="#GB"><stop offset="0" stop-color="#5fff00"/><stop offset=".093" stop-color="#00fc03"/><stop offset=".167" stop-color="#00d22d"/><stop offset=".333" stop-color="#00b847"/><stop offset=".5" stop-color="#00956a"/><stop offset=".627" stop-color="#05a"/><stop offset=".693" stop-color="#0001fe"/><stop offset=".707" stop-color="#1010fd"/><stop offset=".793" stop-color="#9a9ae8"/><stop offset=".82" stop-color="#d0d0e0"/><stop offset=".853" stop-color="#dedede"/></linearGradient><linearGradient id="G3_12" href="#GB"><stop offset="0" stop-color="#a9ff00"/><stop offset=".127" stop-color="#0f0"/><stop offset=".167" stop-color="#00e31c"/><stop offset=".333" stop-color="#00c43b"/><stop offset=".5" stop-color="#00a15e"/><stop offset=".627" stop-color="#006798"/><stop offset=".707" stop-color="#000df2"/><stop offset=".713" stop-color="#0003fc"/><stop offset=".793" stop-color="#7373ee"/><stop offset=".84" stop-color="#d2d2e0"/><stop offset=".853" stop-color="#dedede"/></linearGradient><linearGradient id="G3_13" href="#GB"><stop offset="0" stop-color="#f2ff00"/><stop offset=".167" stop-color="#06ff00"/><stop offset=".18" stop-color="#00fe01"/><stop offset=".333" stop-color="#00d12e"/><stop offset=".5" stop-color="#00ae51"/><stop offset=".627" stop-color="#007986"/><stop offset=".707" stop-color="#002ad5"/><stop offset=".74" stop-color="#0303ff"/><stop offset=".793" stop-color="#4b4bf4"/><stop offset=".853" stop-color="#c2c2e2"/><stop offset=".88" stop-color="#dcdcde"/><stop offset=".9" stop-color="#dedede"/></linearGradient><linearGradient id="G3_14" href="#GB"><stop offset="0" stop-color="#ffe500"/><stop offset=".027" stop-color="#fff800"/><stop offset=".167" stop-color="#5eff00"/><stop offset=".267" stop-color="#0f0"/><stop offset=".333" stop-color="#0d2"/><stop offset=".5" stop-color="#00ba45"/><stop offset=".627" stop-color="#008b74"/><stop offset=".707" stop-color="#0045ba"/><stop offset=".76" stop-color="#0002fd"/><stop offset=".793" stop-color="#2828f9"/><stop offset=".853" stop-color="#9a9ae8"/><stop offset=".9" stop-color="#c8c8e1"/><stop offset="1" stop-color="#cecee0"/></linearGradient><linearGradient id="G3_15" href="#GB"><stop offset="0" stop-color="#ffcb00"/><stop offset=".08" stop-color="#fffa00"/><stop offset=".167" stop-color="#aeff00"/><stop offset=".307" stop-color="#00fb04"/><stop offset=".333" stop-color="#00e816"/><stop offset=".5" stop-color="#00c53a"/><stop offset=".627" stop-color="#009b64"/><stop offset=".707" stop-color="#005ba4"/><stop offset=".78" stop-color="#00f"/><stop offset=".793" stop-color="#1212fc"/><stop offset=".853" stop-color="#7777ed"/><stop offset=".9" stop-color="#a4a4e7"/><stop offset="1" stop-color="#ababe6"/></linearGradient><linearGradient id="G3_16" href="#GB"><stop offset="0" stop-color="#ffb400"/><stop offset=".14" stop-color="#fff900"/><stop offset=".167" stop-color="#f2ff00"/><stop offset=".333" stop-color="#19ff00"/><stop offset=".373" stop-color="#00fd02"/><stop offset=".5" stop-color="#00d030"/><stop offset=".627" stop-color="#00a956"/><stop offset=".707" stop-color="#006f90"/><stop offset=".793" stop-color="#0002fd"/><stop offset=".853" stop-color="#5757f2"/><stop offset=".9" stop-color="#8585eb"/><stop offset="1" stop-color="#8b8bea"/></linearGradient><linearGradient id="G3_17" href="#GB"><stop offset="0" stop-color="#ff9f00"/><stop offset=".167" stop-color="#ffe900"/><stop offset=".193" stop-color="#fffb00"/><stop offset=".333" stop-color="#61ff00"/><stop offset=".44" stop-color="#00fc03"/><stop offset=".5" stop-color="#00de21"/><stop offset=".627" stop-color="#00b649"/><stop offset=".707" stop-color="#00817e"/><stop offset=".793" stop-color="#0014eb"/><stop offset=".807" stop-color="#0002fd"/><stop offset=".853" stop-color="#3c3cf6"/><stop offset=".9" stop-color="#6969ef"/><stop offset="1" stop-color="#6f6fee"/></linearGradient><linearGradient id="G3_18" href="#GB"><stop offset="0" stop-color="#ff8900"/><stop offset=".167" stop-color="#ffd000"/><stop offset=".233" stop-color="#fff800"/><stop offset=".333" stop-color="#a0ff00"/><stop offset=".5" stop-color="#10ff00"/><stop offset=".52" stop-color="#00fc03"/><stop offset=".627" stop-color="#00c03f"/><stop offset=".707" stop-color="#00906f"/><stop offset=".793" stop-color="#0039c6"/><stop offset=".827" stop-color="#0004fb"/><stop offset=".853" stop-color="#2323fa"/><stop offset=".9" stop-color="#5151f3"/><stop offset="1" stop-color="#5858f2"/></linearGradient><linearGradient id="G3_19" href="#GB"><stop offset="0" stop-color="#ff6200"/><stop offset=".167" stop-color="#fb0"/><stop offset=".3" stop-color="#fff900"/><stop offset=".333" stop-color="#ef0"/><stop offset=".5" stop-color="#51ff00"/><stop offset=".587" stop-color="#00fc03"/><stop offset=".627" stop-color="#00e51a"/><stop offset=".707" stop-color="#009d62"/><stop offset=".793" stop-color="#005ba4"/><stop offset=".847" stop-color="#0505fe"/><stop offset=".853" stop-color="#0e0efd"/><stop offset=".9" stop-color="#3e3ef6"/><stop offset="1" stop-color="#4444f5"/></linearGradient><linearGradient id="G3_20" href="#GB"><stop offset="0" stop-color="#ff4200"/><stop offset=".167" stop-color="#ff8a00"/><stop offset=".333" stop-color="#ffe300"/><stop offset=".387" stop-color="#fff800"/><stop offset=".5" stop-color="#b9ff00"/><stop offset=".627" stop-color="#14ff00"/><stop offset=".647" stop-color="#00fa05"/><stop offset=".707" stop-color="#00cb34"/><stop offset=".793" stop-color="#007689"/><stop offset=".853" stop-color="#0003fc"/><stop offset=".9" stop-color="#2e2ef8"/><stop offset="1" stop-color="#3434f7"/></linearGradient><clipPath id="q4"><rect x="523" y="229" width="2" height="150"/><rect x="530" y="229" width="2" height="150"/><rect x="539" y="229" width="4" height="150"/><rect x="544" y="229" width="3" height="150"/><rect x="548" y="229" width="1" height="150"/><rect x="550" y="229" width="6" height="150"/><rect x="557" y="229" width="52" height="150"/><rect x="610" y="229" width="91" height="150"/></clipPath><linearGradient id="G4_3" href="#GB"><stop offset="0" stop-color="#b4b4e4"/><stop offset=".167" stop-color="#c9c9e1"/><stop offset=".333" stop-color="#dedede"/></linearGradient><linearGradient id="G4_4" href="#GB"><stop offset="0" stop-color="#6060f1"/><stop offset=".167" stop-color="#7575ee"/><stop offset=".333" stop-color="#9393e9"/><stop offset=".5" stop-color="#dedede"/></linearGradient><linearGradient id="G4_5" href="#GB"><stop offset="0" stop-color="#2f2ff8"/><stop offset=".167" stop-color="#3434f7"/><stop offset=".333" stop-color="#4949f4"/><stop offset=".5" stop-color="#a3a3e7"/><stop offset=".573" stop-color="#ddddde"/><stop offset=".627" stop-color="#dedede"/></linearGradient><linearGradient id="G4_6" href="#GB"><stop offset="0" stop-color="#1e1efb"/><stop offset=".167" stop-color="#2929f9"/><stop offset=".333" stop-color="#2f2ff8"/><stop offset=".5" stop-color="#6060f1"/><stop offset=".62" stop-color="#ddddde"/><stop offset=".627" stop-color="#dedede"/></linearGradient><linearGradient id="G4_7" href="#GB"><stop offset="0" stop-color="#0b0bfd"/><stop offset=".167" stop-color="#1d1dfb"/><stop offset=".333" stop-color="#2525f9"/><stop offset=".5" stop-color="#4343f5"/><stop offset=".627" stop-color="#babae3"/><stop offset=".647" stop-color="#d7d7df"/><stop offset=".707" stop-color="#dedede"/></linearGradient><linearGradient id="G4_8" href="#GB"><stop offset="0" stop-color="#0008f7"/><stop offset=".02" stop-color="#0005fa"/><stop offset=".167" stop-color="#1111fc"/><stop offset=".333" stop-color="#1c1cfb"/><stop offset=".5" stop-color="#3838f7"/><stop offset=".627" stop-color="#8f8fea"/><stop offset=".673" stop-color="#d5d5df"/><stop offset=".707" stop-color="#dedede"/></linearGradient><linearGradient id="G4_9" href="#GB"><stop offset="0" stop-color="#001be4"/><stop offset=".12" stop-color="#0004fb"/><stop offset=".167" stop-color="#0505fe"/><stop offset=".333" stop-color="#1212fc"/><stop offset=".5" stop-color="#2d2df8"/><stop offset=".627" stop-color="#6565f0"/><stop offset=".7" stop-color="#d5d5df"/><stop offset=".707" stop-color="#dedede"/></linearGradient><linearGradient id="G4_10" href="#GB"><stop offset="0" stop-color="#002ed1"/><stop offset=".167" stop-color="#0007f8"/><stop offset=".193" stop-color="#0005fa"/><stop offset=".333" stop-color="#0808fe"/><stop offset=".5" stop-color="#2323fa"/><stop offset=".627" stop-color="#5454f3"/><stop offset=".707" stop-color="#c2c2e2"/><stop offset=".72" stop-color="#dcdcde"/><stop offset=".793" stop-color="#dedede"/></linearGradient><linearGradient id="G4_11" href="#GB"><stop offset="0" stop-color="#004ab5"/><stop offset=".167" stop-color="#0013ec"/><stop offset=".307" stop-color="#0005fa"/><stop offset=".333" stop-color="#0002fd"/><stop offset=".5" stop-color="#1818fb"/><stop offset=".627" stop-color="#4646f5"/><stop offset=".707" stop-color="#a5a5e6"/><stop offset=".733" stop-color="#d7d7df"/><stop offset=".793" stop-color="#dedede"/></linearGradient><linearGradient id="G4_12" href="#GB"><stop offset="0" stop-color="#00718e"/><stop offset=".167" stop-color="#0020df"/><stop offset=".333" stop-color="#000cf3"/><stop offset=".38" stop-color="#0005fa"/><stop offset=".5" stop-color="#0d0dfd"/><stop offset=".627" stop-color="#3838f7"/><stop offset=".707" stop-color="#8888eb"/><stop offset=".753" stop-color="#dcdcde"/><stop offset=".793" stop-color="#dedede"/></linearGradient><linearGradient id="G4_13" href="#GB"><stop offset="0" stop-color="#009867"/><stop offset=".167" stop-color="#002cd3"/><stop offset=".333" stop-color="#0016e9"/><stop offset=".453" stop-color="#0004fb"/><stop offset=".5" stop-color="#0303ff"/><stop offset=".627" stop-color="#2a2af9"/><stop offset=".707" stop-color="#6f6fee"/><stop offset=".773" stop-color="#dbdbde"/><stop offset=".793" stop-color="#dedede"/></linearGradient><linearGradient id="G4_14" href="#GB"><stop offset="0" stop-color="#00bf40"/><stop offset=".167" stop-color="#0054ab"/><stop offset=".333" stop-color="#0020df"/><stop offset=".5" stop-color="#0008f7"/><stop offset=".513" stop-color="#0004fb"/><stop offset=".627" stop-color="#1d1dfb"/><stop offset=".707" stop-color="#5a5af2"/><stop offset=".793" stop-color="#dadadf"/><stop offset=".853" stop-color="#dedede"/></linearGradient><linearGradient id="G4_15" href="#GB"><stop offset="0" stop-color="#00de21"/><stop offset=".167" stop-color="#007b84"/><stop offset=".333" stop-color="#0029d6"/><stop offset=".5" stop-color="#0012ed"/><stop offset=".553" stop-color="#0004fb"/><stop offset=".627" stop-color="#1010fd"/><stop offset=".707" stop-color="#4646f5"/><stop offset=".793" stop-color="#c4c4e2"/><stop offset=".807" stop-color="#dcdcde"/><stop offset=".853" stop-color="#dedede"/></linearGradient><linearGradient id="G4_16" href="#GB"><stop offset="0" stop-color="#00f807"/><stop offset=".167" stop-color="#009e61"/><stop offset=".333" stop-color="#0043bc"/><stop offset=".5" stop-color="#001ae5"/><stop offset=".593" stop-color="#0004fb"/><stop offset=".627" stop-color="#0505fe"/><stop offset=".707" stop-color="#3535f7"/><stop offset=".793" stop-color="#afafe5"/><stop offset=".82" stop-color="#dcdcde"/><stop offset=".853" stop-color="#dedede"/></linearGradient><linearGradient id="G4_17" href="#GB"><stop offset="0" stop-color="#1fff00"/><stop offset=".04" stop-color="#00fc03"/><stop offset=".167" stop-color="#00be41"/><stop offset=".333" stop-color="#006a95"/><stop offset=".5" stop-color="#02d"/><stop offset=".627" stop-color="#0004fb"/><stop offset=".707" stop-color="#2626f9"/><stop offset=".793" stop-color="#9e9ee8"/><stop offset=".833" stop-color="#d9d9df"/><stop offset=".853" stop-color="#dedede"/></linearGradient><linearGradient id="G4_18" href="#GB"><stop offset="0" stop-color="#45ff00"/><stop offset=".087" stop-color="#00fe01"/><stop offset=".167" stop-color="#00dc23"/><stop offset=".333" stop-color="#008b74"/><stop offset=".5" stop-color="#04b"/><stop offset=".627" stop-color="#000df2"/><stop offset=".647" stop-color="#0003fc"/><stop offset=".707" stop-color="#1919fb"/><stop offset=".793" stop-color="#7a7aed"/><stop offset=".853" stop-color="#dcdcde"/><stop offset=".9" stop-color="#dedede"/></linearGradient><linearGradient id="G4_19" href="#GB"><stop offset="0" stop-color="#8f0"/><stop offset=".147" stop-color="#0f0"/><stop offset=".167" stop-color="#00f50a"/><stop offset=".333" stop-color="#00b14e"/><stop offset=".5" stop-color="#069"/><stop offset=".627" stop-color="#002ed1"/><stop offset=".687" stop-color="#0001fe"/><stop offset=".707" stop-color="#0e0efd"/><stop offset=".793" stop-color="#5858f2"/><stop offset=".853" stop-color="#c4c4e2"/><stop offset=".873" stop-color="#d7d7df"/><stop offset=".9" stop-color="#dedede"/></linearGradient><linearGradient id="G4_20" href="#GB"><stop offset="0" stop-color="#c4ff00"/><stop offset=".167" stop-color="#42ff00"/><stop offset=".253" stop-color="#0f0"/><stop offset=".333" stop-color="#00de20"/><stop offset=".5" stop-color="#009b64"/><stop offset=".627" stop-color="#004eb1"/><stop offset=".707" stop-color="#001ae5"/><stop offset=".733" stop-color="#00f"/><stop offset=".793" stop-color="#3d3df6"/><stop offset=".853" stop-color="#b0b0e5"/><stop offset=".893" stop-color="#dbdbde"/><stop offset=".9" stop-color="#dedede"/></linearGradient><clipPath id="q5"><rect x="318" y="229" width="5" height="150"/><rect x="324" y="229" width="1" height="150"/><rect x="326" y="229" width="1" height="150"/><rect x="329" y="229" width="2" height="150"/><rect x="394" y="229" width="3" height="150"/><rect x="400" y="229" width="6" height="150"/><rect x="412" y="229" width="1" height="150"/><rect x="423" y="229" width="2" height="150"/><rect x="440" y="229" width="2" height="150"/></clipPath><linearGradient id="G5_0" href="#GB"><stop offset="0" stop-color="#6c6cef"/><stop offset=".167" stop-color="#8383eb"/><stop offset=".333" stop-color="#9393e9"/><stop offset=".5" stop-color="#babae3"/><stop offset=".553" stop-color="#dcdcde"/><stop offset=".627" stop-color="#dedede"/></linearGradient><linearGradient id="G5_1" href="#GB"><stop offset="0" stop-color="#3c3cf6"/><stop offset=".167" stop-color="#5454f3"/><stop offset=".333" stop-color="#6464f0"/><stop offset=".5" stop-color="#8b8bea"/><stop offset=".627" stop-color="#dcdcde"/><stop offset=".707" stop-color="#dedede"/></linearGradient><linearGradient id="G5_2" href="#GB"><stop offset="0" stop-color="#0909fe"/><stop offset=".167" stop-color="#2121fa"/><stop offset=".333" stop-color="#3030f8"/><stop offset=".5" stop-color="#5858f2"/><stop offset=".627" stop-color="#a9a9e6"/><stop offset=".667" stop-color="#dadadf"/><stop offset=".707" stop-color="#dedede"/></linearGradient><linearGradient id="G5_3" href="#GB"><stop offset="0" stop-color="#0023dc"/><stop offset=".167" stop-color="#000bf4"/><stop offset=".233" stop-color="#0005fa"/><stop offset=".333" stop-color="#0505fe"/><stop offset=".5" stop-color="#2c2cf8"/><stop offset=".627" stop-color="#7d7dec"/><stop offset=".7" stop-color="#d8d8df"/><stop offset=".707" stop-color="#dedede"/></linearGradient><linearGradient id="G5_4" href="#GB"><stop offset="0" stop-color="#006f90"/><stop offset=".167" stop-color="#0036c9"/><stop offset=".333" stop-color="#001be4"/><stop offset=".427" stop-color="#0005fa"/><stop offset=".5" stop-color="#0d0dfd"/><stop offset=".627" stop-color="#5e5ef1"/><stop offset=".707" stop-color="#c0c0e2"/><stop offset=".72" stop-color="#d6d6df"/><stop offset=".793" stop-color="#dedede"/></linearGradient><linearGradient id="G5_5" href="#GB"><stop offset="0" stop-color="#00ba45"/><stop offset=".167" stop-color="#00817e"/><stop offset=".333" stop-color="#005ca3"/><stop offset=".5" stop-color="#0013ec"/><stop offset=".527" stop-color="#0002fd"/><stop offset=".627" stop-color="#3e3ef6"/><stop offset=".707" stop-color="#a1a1e7"/><stop offset=".74" stop-color="#d9d9df"/><stop offset=".793" stop-color="#dedede"/></linearGradient><linearGradient id="G5_6" href="#GB"><stop offset="0" stop-color="#00e21d"/><stop offset=".167" stop-color="#00cf30"/><stop offset=".333" stop-color="#00b14e"/><stop offset=".5" stop-color="#0049b6"/><stop offset=".587" stop-color="#0005fa"/><stop offset=".627" stop-color="#1b1bfb"/><stop offset=".707" stop-color="#7d7dec"/><stop offset=".76" stop-color="#d7d7df"/><stop offset=".793" stop-color="#dedede"/></linearGradient><linearGradient id="G5_7" href="#GB"><stop offset="0" stop-color="#0f0"/><stop offset=".007" stop-color="#00fe01"/><stop offset=".167" stop-color="#00df20"/><stop offset=".333" stop-color="#00d629"/><stop offset=".5" stop-color="#00936c"/><stop offset=".627" stop-color="#000df2"/><stop offset=".633" stop-color="#0005fa"/><stop offset=".707" stop-color="#5656f2"/><stop offset=".787" stop-color="#ddddde"/><stop offset=".793" stop-color="#dedede"/></linearGradient><linearGradient id="G5_8" href="#GB"><stop offset="0" stop-color="#38ff00"/><stop offset=".113" stop-color="#00fe01"/><stop offset=".167" stop-color="#00f00f"/><stop offset=".333" stop-color="#00e21d"/><stop offset=".5" stop-color="#00bf40"/><stop offset=".627" stop-color="#0036c9"/><stop offset=".667" stop-color="#0004fb"/><stop offset=".707" stop-color="#2e2ef8"/><stop offset=".793" stop-color="#c2c2e2"/><stop offset=".807" stop-color="#ddddde"/><stop offset=".853" stop-color="#dedede"/></linearGradient><linearGradient id="G5_9" href="#GB"><stop offset="0" stop-color="#70ff00"/><stop offset=".167" stop-color="#03ff00"/><stop offset=".187" stop-color="#0f0"/><stop offset=".333" stop-color="#00ef10"/><stop offset=".5" stop-color="#0c3"/><stop offset=".627" stop-color="#00619e"/><stop offset=".7" stop-color="#0002fd"/><stop offset=".707" stop-color="#0707fe"/><stop offset=".793" stop-color="#9a9ae8"/><stop offset=".82" stop-color="#d0d0e0"/><stop offset=".853" stop-color="#dedede"/></linearGradient><linearGradient id="G5_10" href="#GB"><stop offset="0" stop-color="#adff00"/><stop offset=".167" stop-color="#23ff00"/><stop offset=".307" stop-color="#0f0"/><stop offset=".333" stop-color="#00fb04"/><stop offset=".5" stop-color="#00d827"/><stop offset=".627" stop-color="#008c73"/><stop offset=".707" stop-color="#0021de"/><stop offset=".727" stop-color="#0101ff"/><stop offset=".793" stop-color="#7373ee"/><stop offset=".84" stop-color="#d2d2e0"/><stop offset=".853" stop-color="#dedede"/></linearGradient><linearGradient id="G5_11" href="#GB"><stop offset="0" stop-color="#f7ff00"/><stop offset=".167" stop-color="#42ff00"/><stop offset=".333" stop-color="#1f0"/><stop offset=".38" stop-color="#00fe01"/><stop offset=".5" stop-color="#00e51a"/><stop offset=".627" stop-color="#00a55a"/><stop offset=".707" stop-color="#0040bf"/><stop offset=".747" stop-color="#00f"/><stop offset=".793" stop-color="#4b4bf4"/><stop offset=".853" stop-color="#c2c2e2"/><stop offset=".88" stop-color="#dcdcde"/><stop offset=".9" stop-color="#dedede"/></linearGradient><linearGradient id="G5_12" href="#GB"><stop offset="0" stop-color="#ffdb00"/><stop offset=".04" stop-color="#fff900"/><stop offset=".167" stop-color="#62ff00"/><stop offset=".333" stop-color="#28ff00"/><stop offset=".44" stop-color="#00fe01"/><stop offset=".5" stop-color="#00f10e"/><stop offset=".627" stop-color="#00b748"/><stop offset=".707" stop-color="#005da2"/><stop offset=".767" stop-color="#0004fb"/><stop offset=".793" stop-color="#2424fa"/><stop offset=".853" stop-color="#9a9ae8"/><stop offset=".9" stop-color="#c8c8e1"/><stop offset="1" stop-color="#cecee0"/></linearGradient><linearGradient id="G5_13" href="#GB"><stop offset="0" stop-color="#ffb200"/><stop offset=".093" stop-color="#fffc00"/><stop offset=".167" stop-color="#9dff00"/><stop offset=".333" stop-color="#40ff00"/><stop offset=".5" stop-color="#00fe01"/><stop offset=".627" stop-color="#00c936"/><stop offset=".707" stop-color="#007a85"/><stop offset=".793" stop-color="#0004fb"/><stop offset=".853" stop-color="#7373ee"/><stop offset=".9" stop-color="#a0a0e7"/><stop offset="1" stop-color="#a7a7e6"/></linearGradient><linearGradient id="G5_14" href="#GB"><stop offset="0" stop-color="#ff9100"/><stop offset=".153" stop-color="#fffb00"/><stop offset=".167" stop-color="#f6ff00"/><stop offset=".333" stop-color="#57ff00"/><stop offset=".5" stop-color="#15ff00"/><stop offset=".533" stop-color="#00fe01"/><stop offset=".627" stop-color="#00db24"/><stop offset=".707" stop-color="#00956a"/><stop offset=".793" stop-color="#0027d8"/><stop offset=".813" stop-color="#00f"/><stop offset=".853" stop-color="#4b4bf4"/><stop offset=".9" stop-color="#7979ed"/><stop offset="1" stop-color="#7f7fec"/></linearGradient><linearGradient id="G5_15" href="#GB"><stop offset="0" stop-color="#f70"/><stop offset=".167" stop-color="#ffd800"/><stop offset=".213" stop-color="#fffa00"/><stop offset=".333" stop-color="#6dff00"/><stop offset=".5" stop-color="#2aff00"/><stop offset=".573" stop-color="#00fd02"/><stop offset=".627" stop-color="#00eb14"/><stop offset=".707" stop-color="#00ab54"/><stop offset=".793" stop-color="#003ec1"/><stop offset=".827" stop-color="#0004fb"/><stop offset=".853" stop-color="#2828f9"/><stop offset=".9" stop-color="#5555f2"/><stop offset="1" stop-color="#5c5cf1"/></linearGradient><linearGradient id="G5_16" href="#GB"><stop offset="0" stop-color="#ff6000"/><stop offset=".167" stop-color="#ffb200"/><stop offset=".267" stop-color="#fffb00"/><stop offset=".333" stop-color="#b0ff00"/><stop offset=".5" stop-color="#3dff00"/><stop offset=".613" stop-color="#00fe01"/><stop offset=".627" stop-color="#00f906"/><stop offset=".707" stop-color="#00bf40"/><stop offset=".793" stop-color="#0052ad"/><stop offset=".847" stop-color="#00f"/><stop offset=".853" stop-color="#0808fe"/><stop offset=".9" stop-color="#3636f7"/><stop offset="1" stop-color="#3c3cf6"/></linearGradient><linearGradient id="G5_17" href="#GB"><stop offset="0" stop-color="#ff4b00"/><stop offset=".167" stop-color="#ff9500"/><stop offset=".32" stop-color="#fffa00"/><stop offset=".333" stop-color="#f8ff00"/><stop offset=".5" stop-color="#59ff00"/><stop offset=".627" stop-color="#0cff00"/><stop offset=".64" stop-color="#00fd02"/><stop offset=".707" stop-color="#00d12e"/><stop offset=".793" stop-color="#00649b"/><stop offset=".853" stop-color="#0014eb"/><stop offset=".873" stop-color="#00f"/><stop offset=".9" stop-color="#1a1afb"/><stop offset="1" stop-color="#2020fa"/></linearGradient><linearGradient id="G5_18" href="#GB"><stop offset="0" stop-color="#ff3500"/><stop offset=".167" stop-color="#ff7c00"/><stop offset=".333" stop-color="#ffe000"/><stop offset=".387" stop-color="#fffa00"/><stop offset=".5" stop-color="#a7ff00"/><stop offset=".627" stop-color="#21ff00"/><stop offset=".66" stop-color="#00fc03"/><stop offset=".707" stop-color="#00e01f"/><stop offset=".793" stop-color="#008976"/><stop offset=".853" stop-color="#002cd3"/><stop offset=".893" stop-color="#0004fb"/><stop offset=".9" stop-color="#0303ff"/><stop offset="1" stop-color="#0909fe"/></linearGradient><linearGradient id="G5_19" href="#GB"><stop offset="0" stop-color="#ff0e00"/><stop offset=".167" stop-color="#ff6700"/><stop offset=".333" stop-color="#ffb400"/><stop offset=".46" stop-color="#fff700"/><stop offset=".5" stop-color="#e8ff00"/><stop offset=".627" stop-color="#67ff00"/><stop offset=".687" stop-color="#0f0"/><stop offset=".707" stop-color="#00ed12"/><stop offset=".793" stop-color="#00ab54"/><stop offset=".853" stop-color="#0042bd"/><stop offset=".9" stop-color="#01e"/><stop offset="1" stop-color="#000bf4"/></linearGradient><linearGradient id="G5_20" href="#GB"><stop offset="0" stop-color="#f0000f"/><stop offset=".047" stop-color="#ff0200"/><stop offset=".167" stop-color="#ff3600"/><stop offset=".333" stop-color="#ff8f00"/><stop offset=".5" stop-color="#ffd200"/><stop offset=".553" stop-color="#fff800"/><stop offset=".627" stop-color="#abff00"/><stop offset=".707" stop-color="#35ff00"/><stop offset=".74" stop-color="#00fb04"/><stop offset=".793" stop-color="#00c639"/><stop offset=".853" stop-color="#0053ac"/><stop offset=".9" stop-color="#0021de"/><stop offset="1" stop-color="#001be4"/></linearGradient></defs><g transform="translate(0 .5)" fill="none" stroke-width="1" shape-rendering="crispEdges"><g clip-path="url(#q0)"><use href="#r4" stroke="url(#G0_4)"/><use href="#r5" stroke="url(#G0_5)"/><use href="#r6" stroke="url(#G0_6)"/><use href="#r7" stroke="url(#G0_7)"/><use href="#r8" stroke="url(#G0_8)"/><use href="#r9" stroke="url(#G0_9)"/><use href="#r10" stroke="url(#G0_10)"/><use href="#r11" stroke="url(#G0_11)"/><use href="#r12" stroke="url(#G0_12)"/><use href="#r13" stroke="url(#G0_13)"/><use href="#r14" stroke="url(#G0_14)"/><use href="#r15" stroke="url(#G0_15)"/><use href="#r16" stroke="url(#G0_16)"/><use href="#r17" stroke="url(#G0_17)"/><use href="#r18" stroke="url(#G0_18)"/><use href="#r19" stroke="url(#G0_19)"/><use href="#r20" stroke="url(#G0_20)"/></g><g clip-path="url(#q1)"><use href="#r2" stroke="url(#G1_2)"/><use href="#r3" stroke="url(#G1_3)"/><use href="#r4" stroke="url(#G1_4)"/><use href="#r5" stroke="url(#G1_5)"/><use href="#r6" stroke="url(#G1_6)"/><use href="#r7" stroke="url(#G1_7)"/><use href="#r8" stroke="url(#G1_8)"/><use href="#r9" stroke="url(#G1_9)"/><use href="#r10" stroke="url(#G1_10)"/><use href="#r11" stroke="url(#G1_11)"/><use href="#r12" stroke="url(#G1_12)"/><use href="#r13" stroke="url(#G1_13)"/><use href="#r14" stroke="url(#G1_14)"/><use href="#r15" stroke="url(#G1_15)"/><use href="#r16" stroke="url(#G1_16)"/><use href="#r17" stroke="url(#G1_17)"/><use href="#r18" stroke="url(#G1_18)"/><use href="#r19" stroke="url(#G1_19)"/><use href="#r20" stroke="url(#G1_20)"/></g><g clip-path="url(#q2)"><use href="#r1" stroke="url(#G2_1)"/><use href="#r2" stroke="url(#G2_2)"/><use href="#r3" stroke="url(#G2_3)"/><use href="#r4" stroke="url(#G2_4)"/><use href="#r5" stroke="url(#G2_5)"/><use href="#r6" stroke="url(#G2_6)"/><use href="#r7" stroke="url(#G2_7)"/><use href="#r8" stroke="url(#G2_8)"/><use href="#r9" stroke="url(#G2_9)"/><use href="#r10" stroke="url(#G2_10)"/><use href="#r11" stroke="url(#G2_11)"/><use href="#r12" stroke="url(#G2_12)"/><use href="#r13" stroke="url(#G2_13)"/><use href="#r14" stroke="url(#G2_14)"/><use href="#r15" stroke="url(#G2_15)"/><use href="#r16" stroke="url(#G2_16)"/><use href="#r17" stroke="url(#G2_17)"/><use href="#r18" stroke="url(#G2_18)"/><use href="#r19" stroke="url(#G2_19)"/><use href="#r20" stroke="url(#G2_20)"/></g><g clip-path="url(#q3)"><use href="#r0" stroke="url(#G3_0)"/><use href="#r1" stroke="url(#G3_1)"/><use href="#r2" stroke="url(#G3_2)"/><use href="#r3" stroke="url(#G3_3)"/><use href="#r4" stroke="url(#G3_4)"/><use href="#r5" stroke="url(#G3_5)"/><use href="#r6" stroke="url(#G3_6)"/><use href="#r7" stroke="url(#G3_7)"/><use href="#r8" stroke="url(#G3_8)"/><use href="#r9" stroke="url(#G3_9)"/><use href="#r10" stroke="url(#G3_10)"/><use href="#r11" stroke="url(#G3_11)"/><use href="#r12" stroke="url(#G3_12)"/><use href="#r13" stroke="url(#G3_13)"/><use href="#r14" stroke="url(#G3_14)"/><use href="#r15" stroke="url(#G3_15)"/><use href="#r16" stroke="url(#G3_16)"/><use href="#r17" stroke="url(#G3_17)"/><use href="#r18" stroke="url(#G3_18)"/><use href="#r19" stroke="url(#G3_19)"/><use href="#r20" stroke="url(#G3_20)"/></g><g clip-path="url(#q4)"><use href="#r3" stroke="url(#G4_3)"/><use href="#r4" stroke="url(#G4_4)"/><use href="#r5" stroke="url(#G4_5)"/><use href="#r6" stroke="url(#G4_6)"/><use href="#r7" stroke="url(#G4_7)"/><use href="#r8" stroke="url(#G4_8)"/><use href="#r9" stroke="url(#G4_9)"/><use href="#r10" stroke="url(#G4_10)"/><use href="#r11" stroke="url(#G4_11)"/><use href="#r12" stroke="url(#G4_12)"/><use href="#r13" stroke="url(#G4_13)"/><use href="#r14" stroke="url(#G4_14)"/><use href="#r15" stroke="url(#G4_15)"/><use href="#r16" stroke="url(#G4_16)"/><use href="#r17" stroke="url(#G4_17)"/><use href="#r18" stroke="url(#G4_18)"/><use href="#r19" stroke="url(#G4_19)"/><use href="#r20" stroke="url(#G4_20)"/></g><g clip-path="url(#q5)"><use href="#r0" stroke="url(#G5_0)"/><use href="#r1" stroke="url(#G5_1)"/><use href="#r2" stroke="url(#G5_2)"/><use href="#r3" stroke="url(#G5_3)"/><use href="#r4" stroke="url(#G5_4)"/><use href="#r5" stroke="url(#G5_5)"/><use href="#r6" stroke="url(#G5_6)"/><use href="#r7" stroke="url(#G5_7)"/><use href="#r8" stroke="url(#G5_8)"/><use href="#r9" stroke="url(#G5_9)"/><use href="#r10" stroke="url(#G5_10)"/><use href="#r11" stroke="url(#G5_11)"/><use href="#r12" stroke="url(#G5_12)"/><use href="#r13" stroke="url(#G5_13)"/><use href="#r14" stroke="url(#G5_14)"/><use href="#r15" stroke="url(#G5_15)"/><use href="#r16" stroke="url(#G5_16)"/><use href="#r17" stroke="url(#G5_17)"/><use href="#r18" stroke="url(#G5_18)"/><use href="#r19" stroke="url(#G5_19)"/><use href="#r20" stroke="url(#G5_20)"/></g><path stroke="#dedede" d="M422 361h1M82 371h1M81 372h1m1 0h1m1 0h1m1 0h1M87 374h1m3 0h1m1 0h1M91 375h1"/><path stroke="#bfbfe3" d="M602 357h1m2 0h1M607 358h1m1 0h2m1 0h2M419 359h1M433 362h1M564 363h1m3 0h1M124 364h1m1 0h1m9 0h1M82 365h1m3 0h1m35 0h1M77 366h1m3 0h4m1 0h1m9 0h1m362 0h1M95 367h1m1 0h4m1 0h1m1 0h1m1 0h4m3 0h1m346 0h1M52 368h1m47 0h11m331 0h1M480 369h1m1 0h1M56 370h1m22 0h1m382 0h2m17 0h1m16 0h1M51 371h1m1 0h3m1 0h2m2 0h1m1 0h1m8 0h1m2 0h7m1 0h8m391 0h1M51 372h4m1 0h1m1 0h2m1 0h1m3 0h1m3 0h1m6 0h1m1 0h3m1 0h1m1 0h1m1 0h1m1 0h7M51 373h4m1 0h2m5 0h1m4 0h2m7 0h1m1 0h20m2 0h1m1 0h1m1 0h4m373 0h1M51 374h8m2 0h2m4 0h1m1 0h2m1 0h2m3 0h1m3 0h6m1 0h3m1 0h1m1 0h12m1 0h6m1 0h16m360 0h1M51 375h9m2 0h3m4 0h2m5 0h1m1 0h1m5 0h2m1 0h4m1 0h5m1 0h3m5 0h1m3 0h3m2 0h15m26 0h1m327 0h1M51 376h1m12 0h1m2 0h1m15 0h1m1 0h14m12 0h1m9 0h1m3 0h1m333 0h1M54 377h1m18 0h1m2 0h1m9 0h10m1 0h5m2 0h4M96 378h1m1 0h6m3 0h1m378 0h1"/><path stroke="#a0a0e7" d="M608 358h1M420 360h1m2 0h1M433 361h2m1 0h1M561 363h1M73 364h1m1 0h1m3 0h10m6 0h2m28 0h1m1 0h9m1 0h2m1 0h1m419 0h1M74 365h8m1 0h3m1 0h10m1 0h2m10 0h12m1 0h17m1 0h1m19 0h1m293 0h1m3 0h1m1 0h1M65 366h12m1 0h3m4 0h1m1 0h9m1 0h1m12 0h2m1 0h6m5 0h20m300 0h1m9 0h1m5 0h1m1 0h1m15 0h3m64 0h1m4 0h1M51 367h7m18 0h1m8 0h1m1 0h8m1 0h1m4 0h1m1 0h1m1 0h1m4 0h3m1 0h13m3 0h1m7 0h1m315 0h1m24 0h1m68 0h1M51 368h1m1 0h6m27 0h1m2 0h1m2 0h8m11 0h7m1 0h1m2 0h1m2 0h1m8 0h1m306 0h1m39 0h1m65 0h1M51 369h9m6 0h1m18 0h1m17 0h10m2 0h1m3 0h1m8 0h2m1 0h1m1 0h2m2 0h1m1 0h1m2 0h2m337 0h1m9 0h1M51 370h5m1 0h22m1 0h8m1 0h1m2 0h1m31 0h4m1 0h8m1 0h1m1 0h7m1 0h1M52 371h1m3 0h1m2 0h2m1 0h1m1 0h8m1 0h2m16 0h5m29 0h1m1 0h13m2 0h6m1 0h1m1 0h1m297 0h1m9 0h1m82 0h1m6 0h1M55 372h1m1 0h1m2 0h1m1 0h3m1 0h3m1 0h6m1 0h1m17 0h5m1 0h5m1 0h2m15 0h1m4 0h2m3 0h1m6 0h2m4 0h1m2 0h2m330 0h1m65 0h1M55 373h1m2 0h5m1 0h4m2 0h7m1 0h1m20 0h2m1 0h1m1 0h1m4 0h14m1 0h7m1 0h2m2 0h1m11 0h2m1 0h1m2 0h2m291 0h1m12 0h1m22 0h2M59 374h2m2 0h4m1 0h1m2 0h1m2 0h3m1 0h3m25 0h1m6 0h1m16 0h4m13 0h1m1 0h2m1 0h7m14 0h1m26 0h1m240 0h1m7 0h1m34 0h1m21 0h1M60 375h2m3 0h4m2 0h5m1 0h1m1 0h5m2 0h1m10 0h1m3 0h5m1 0h3m3 0h2m15 0h9m4 0h1m3 0h1m1 0h7m1 0h6m17 0h1m2 0h1m2 0h2m4 0h1m2 0h1m2 0h1m1 0h12m1 0h1m271 0h1m19 0h2M52 376h12m1 0h2m1 0h15m1 0h1m14 0h12m1 0h9m1 0h3m1 0h9m1 0h6m3 0h1m1 0h9m2 0h2m20 0h10m1 0h2m2 0h1m5 0h1m1 0h1m1 0h14m222 0h1m15 0h1m26 0h2m8 0h1m11 0h1M51 377h3m1 0h18m1 0h2m1 0h9m10 0h1m5 0h2m4 0h14m4 0h1m8 0h2m1 0h1m5 0h1m4 0h1m28 0h2m1 0h14m2 0h1m3 0h2m1 0h7m1 0h4m1 0h1m1 0h1m221 0h1m16 0h1m2 0h1m22 0h1M51 378h3m12 0h2m1 0h27m1 0h1m6 0h3m1 0h7m1 0h1m5 0h1m1 0h1m3 0h1m2 0h1m5 0h1m2 0h2m38 0h1m1 0h23m1 0h11m228 0h1"/><path stroke="#8282ec" d="M609 357h1m2 0h2M552 360h1M423 361h1m115 0h1M441 362h1M562 363h1m2 0h1m4 0h1M65 364h8m1 0h1m1 0h3m10 0h6m2 0h1m41 0h1m1 0h4m1 0h3m295 0h1M51 365h1m1 0h1m1 0h19m23 0h1m2 0h10m30 0h1m1 0h5m1 0h13m1 0h8m1 0h1m271 0h1m95 0h1m1 0h1M51 366h1m1 0h12m33 0h12m2 0h1m6 0h5m20 0h5m5 0h1m7 0h2m2 0h1m278 0h1m96 0h1M58 367h18m1 0h8m1 0h1m40 0h3m1 0h7m1 0h8m3 0h1m5 0h2m1 0h1m1 0h5m1 0h1m273 0h1m1 0h1m19 0h1m46 0h1m36 0h1M59 368h11m2 0h1m2 0h1m3 0h2m1 0h4m1 0h2m1 0h2m26 0h1m1 0h2m1 0h2m1 0h8m1 0h11m1 0h1m1 0h1m1 0h1m5 0h1m2 0h1m319 0h1m9 0h1m6 0h1m8 0h1m5 0h1m28 0h1M60 369h6m1 0h7m1 0h10m1 0h17m10 0h2m1 0h3m1 0h8m2 0h1m1 0h1m2 0h2m1 0h1m1 0h2m2 0h10m4 0h1m296 0h1m32 0h1m16 0h2m1 0h1m3 0h1m26 0h1m9 0h1M88 370h1m1 0h2m1 0h7m1 0h23m4 0h1m8 0h1m1 0h1m7 0h1m1 0h5m307 0h1m26 0h1m2 0h1m14 0h1m38 0h1m4 0h1M96 371h29m1 0h1m13 0h2m6 0h1m1 0h1m1 0h5m53 0h1m1 0h1m233 0h1m45 0h1m52 0h1M100 372h1m5 0h1m2 0h15m1 0h4m2 0h3m1 0h6m2 0h4m1 0h2m2 0h5m49 0h1m1 0h1m248 0h1m5 0h1m25 0h1m2 0h1m50 0h1m3 0h1M123 373h1m7 0h1m2 0h2m1 0h11m2 0h1m1 0h2m2 0h7m1 0h7m1 0h4m1 0h4m7 0h1m6 0h17m229 0h1m1 0h1m4 0h1m7 0h1m2 0h1m33 0h1m12 0h1m3 0h1m3 0h1m29 0h1M134 374h13m1 0h1m2 0h1m7 0h14m1 0h15m3 0h2m1 0h5m1 0h15m14 0h1m115 0h1m101 0h1m10 0h1m33 0h1M139 375h4m1 0h3m1 0h1m14 0h17m1 0h2m1 0h2m2 0h4m1 0h2m1 0h2m1 0h1m12 0h1m1 0h5m4 0h1m24 0h1m3 0h1m2 0h8m1 0h1m218 0h1m7 0h1m2 0h1M135 376h1m6 0h3m1 0h1m9 0h2m2 0h9m1 0h1m1 0h1m1 0h6m10 0h1m2 0h2m1 0h5m1 0h1m1 0h1m14 0h5m20 0h2m2 0h12m2 0h3m240 0h1m6 0h1m1 0h1m37 0h1M122 377h4m1 0h8m2 0h1m1 0h5m1 0h4m1 0h15m6 0h2m1 0h4m2 0h1m14 0h2m1 0h3m2 0h1m7 0h1m4 0h1m1 0h1m1 0h4m12 0h1m7 0h1m10 0h1m1 0h1m2 0h2m2 0h1m195 0h1m53 0h1M54 378h12m2 0h1m46 0h1m1 0h5m1 0h1m1 0h3m1 0h2m1 0h5m1 0h2m2 0h7m2 0h5m1 0h1m11 0h1m1 0h9m1 0h1m23 0h1m11 0h7m61 0h1m5 0h1m156 0h1m5 0h2m2 0h1m47 0h1"/><path stroke="#6363f0" d="M552 361h1M448 362h1M441 363h1m2 0h1m2 0h1m125 0h1M145 364h1m296 0h1m2 0h2m14 0h1m83 0h1m6 0h1M52 365h1m1 0h1m92 0h1m22 0h1m1 0h3m23 0h1m14 0h1m2 0h1m57 0h3m2 0h2m1 0h2m163 0h1m1 0h1m86 0h1M52 366h1m96 0h5m1 0h7m2 0h2m1 0h5m93 0h1m1 0h1m193 0h1m46 0h1M147 367h3m1 0h5m2 0h1m1 0h1m5 0h1m1 0h4m283 0h1m52 0h1m5 0h1M70 368h2m1 0h2m1 0h3m2 0h1m64 0h1m1 0h1m1 0h1m1 0h5m1 0h2m1 0h7m2 0h1m55 0h1m220 0h1m39 0h1m17 0h1m7 0h1m30 0h1M74 369h1m79 0h4m1 0h8m1 0h1m1 0h3m1 0h1m8 0h1m38 0h1m221 0h1m16 0h1m52 0h1M100 370h1m53 0h15m1 0h4m32 0h1m2 0h3m1 0h4m3 0h1m220 0h2m62 0h1m2 0h1m3 0h1m36 0h1M157 371h15m1 0h2m2 0h3m19 0h2m1 0h8m1 0h1m1 0h9m1 0h3m121 0h1m93 0h1m5 0h1m7 0h1m33 0h1m16 0h1m4 0h3m27 0h1m5 0h2m1 0h1m1 0h1M157 372h27m2 0h1m8 0h2m1 0h8m1 0h1m1 0h8m1 0h2m4 0h1m1 0h2m2 0h2m4 0h1m6 0h1m2 0h1m99 0h1m2 0h1m95 0h1m16 0h1m42 0h1m6 0h1m26 0h1M163 373h1m7 0h1m4 0h1m4 0h7m1 0h6m17 0h5m1 0h1m8 0h8m1 0h2m1 0h15m1 0h1m88 0h1m1 0h4m96 0h1m2 0h1m8 0h1m31 0h1m13 0h1m7 0h1m26 0h1M189 374h3m2 0h1m21 0h4m1 0h2m1 0h6m1 0h36m1 0h1m1 0h1m3 0h1m10 0h1m57 0h3m1 0h5m90 0h1m1 0h1m12 0h2M219 375h4m1 0h11m1 0h12m1 0h3m1 0h2m8 0h1m1 0h8m1 0h10m2 0h1m1 0h2m1 0h1m51 0h2m1 0h6m91 0h1m13 0h1m55 0h2M169 376h1m1 0h1m1 0h1m50 0h20m2 0h2m12 0h2m3 0h6m1 0h23m51 0h1m2 0h1m92 0h2m1 0h1m45 0h1m16 0h1m1 0h1M165 377h6m2 0h1m50 0h12m1 0h7m1 0h10m1 0h1m1 0h2m2 0h2m1 0h4m8 0h2m1 0h16m1 0h3m148 0h1m43 0h1m2 0h1m9 0h1m2 0h1m1 0h1m1 0h2m25 0h1M149 378h2m5 0h1m1 0h11m1 0h1m53 0h37m1 0h1m1 0h5m4 0h2m1 0h1m2 0h6m1 0h5m1 0h5m1 0h2m141 0h1m4 0h1m12 0h1m32 0h1m2 0h1m14 0h1"/><path stroke="#4444f5" d="M552 357h1m44 0h1m1 0h1M413 360h1M419 361h2M361 362h2m1 0h1m77 0h1m109 0h1m11 0h1M358 363h1m84 0h1m4 0h1m92 0h2m26 0h1M334 364h3m2 0h10m100 0h1M175 365h6m14 0h1m1 0h1m1 0h1m2 0h1m1 0h1m1 0h1m3 0h3m1 0h2m1 0h18m1 0h8m1 0h4m23 0h2m3 0h2m2 0h1m2 0h7m1 0h1m2 0h3m9 0h1m2 0h1m134 0h1M172 366h3m6 0h2m1 0h2m1 0h2m1 0h5m40 0h1m22 0h1m1 0h5m1 0h1m1 0h4m171 0h1m2 0h1m2 0h1m13 0h1m41 0h1m41 0h1m4 0h1m3 0h1M172 367h6m45 0h1m1 0h1m1 0h1m117 0h1m100 0h1m1 0h1m13 0h1m42 0h1m5 0h1m1 0h1M168 368h2m1 0h10m14 0h1m1 0h5m2 0h1m11 0h9m3 0h5m210 0h1m4 0h2m4 0h1m6 0h2m45 0h1m1 0h1m3 0h1m24 0h1m6 0h1M167 369h1m1 0h1m3 0h1m1 0h8m1 0h12m2 0h3m3 0h1m2 0h4m1 0h10m2 0h3m2 0h3m4 0h1m209 0h2m1 0h1m48 0h1m14 0h1m38 0h1M169 370h1m4 0h8m1 0h8m1 0h1m1 0h2m1 0h2m1 0h2m1 0h3m1 0h2m3 0h1m4 0h3m1 0h10m9 0h1m104 0h1m1 0h6m47 0h1m6 0h1m37 0h2m1 0h1m61 0h2m29 0h1m10 0h1M172 371h1m2 0h2m3 0h2m1 0h5m1 0h1m5 0h4m2 0h1m20 0h1m3 0h9m1 0h3m1 0h4m2 0h2m7 0h1m86 0h5m1 0h6m89 0h1m4 0h1m13 0h2m31 0h1m9 0h1m2 0h1m1 0h1M184 372h2m1 0h8m2 0h1m19 0h1m2 0h4m1 0h1m2 0h2m2 0h4m1 0h6m1 0h2m1 0h12m15 0h1m9 0h3m2 0h5m48 0h4m1 0h2m1 0h3m94 0h1m7 0h1m50 0h1m6 0h2m37 0h1M217 373h1m1 0h8m8 0h1m2 0h1m15 0h1m1 0h4m1 0h8m1 0h27m43 0h1m1 0h2m1 0h1m4 0h3m92 0h1m62 0h1m4 0h1m38 0h1M220 374h1m2 0h1m43 0h1m1 0h1m1 0h3m1 0h10m1 0h11m44 0h2m9 0h5m88 0h1m1 0h1m12 0h1m43 0h2m2 0h1m1 0h2m1 0h1m25 0h1m12 0h1M235 375h1m37 0h1m10 0h2m1 0h1m2 0h1m1 0h5m1 0h2m40 0h3m2 0h1m6 0h4m89 0h3m12 0h1m43 0h1m34 0h1M271 376h1m23 0h11m2 0h1m34 0h3m1 0h2m1 0h4m90 0h1m1 0h2m1 0h1m4 0h1m56 0h1m27 0h1M269 377h8m2 0h1m16 0h1m3 0h5m1 0h1m10 0h1m26 0h1m1 0h4m36 0h3m1 0h1m51 0h1m4 0h1m56 0h1m1 0h1M261 378h1m1 0h1m5 0h4m2 0h1m1 0h2m18 0h1m2 0h4m15 0h1m27 0h1m16 0h1m2 0h2m16 0h3m1 0h2m1 0h1m1 0h1m8 0h1m39 0h1m18 0h1m42 0h1m6 0h1m1 0h1"/><path stroke="#2525fa" d="M553 351h1M467 352h1m70 0h1M538 353h1M470 354h1M538 356h1m13 0h1m47 0h1m5 0h1M607 357h2m1 0h2M469 358h1m82 0h1M552 359h1M401 360h12m1 0h1M389 361h9m1 0h2m14 0h4m2 0h1m2 0h3M363 362h1m1 0h21m2 0h1m3 0h1m41 0h4m7 0h2m119 0h1m1 0h1m1 0h1M349 363h9m1 0h2m52 0h1m5 0h2m24 0h1m9 0h1m96 0h1M331 364h2m20 0h1m58 0h2m1 0h1m1 0h3m34 0h2m87 0h1m17 0h1M196 365h1m47 0h1m4 0h9m33 0h1m1 0h2m3 0h9m1 0h2m1 0h3m3 0h2m1 0h2m1 0h1m1 0h1m1 0h1m13 0h1m2 0h8m62 0h3m19 0h1m9 0h1m1 0h1m11 0h1m87 0h1m3 0h1M175 366h5m3 0h1m2 0h1m2 0h1m35 0h2m3 0h1m28 0h1m80 0h4m1 0h3m1 0h2m24 0h1m66 0h1m4 0h2m6 0h1m29 0h1M178 367h3m2 0h1m36 0h1m1 0h1m5 0h9m30 0h1m1 0h2m48 0h1m2 0h1m6 0h1m10 0h5m1 0h6m21 0h2m70 0h1m1 0h1m1 0h1m31 0h1m2 0h1m8 0h1m10 0h1m47 0h1M181 368h5m2 0h1m2 0h1m4 0h1m5 0h2m1 0h11m17 0h2m1 0h5m2 0h1m21 0h1m2 0h1m37 0h1m5 0h1m5 0h1m22 0h1m1 0h1m1 0h7m1 0h1m1 0h1m3 0h1m3 0h3m2 0h1m1 0h3m1 0h4m26 0h1m1 0h1m2 0h1m4 0h2m2 0h1m27 0h1m8 0h1m48 0h1m4 0h1m1 0h1m40 0h1M196 369h2m3 0h3m1 0h2m4 0h1m20 0h4m1 0h15m1 0h1m4 0h1m3 0h2m1 0h2m21 0h2m2 0h1m8 0h2m5 0h1m33 0h1m1 0h14m6 0h1m2 0h1m1 0h2m1 0h3m2 0h2m1 0h1m15 0h3m1 0h13m28 0h2m2 0h1m37 0h1m10 0h1m15 0h2m31 0h2M182 370h1m8 0h1m1 0h1m2 0h1m2 0h1m2 0h1m28 0h9m1 0h11m1 0h1m32 0h1m1 0h2m50 0h5m1 0h1m6 0h7m4 0h1m26 0h1m1 0h1m1 0h5m1 0h6m1 0h6m3 0h1m31 0h1m4 0h2m27 0h1m3 0h1m7 0h1m1 0h1m6 0h1m8 0h2M182 371h1m5 0h1m1 0h5m40 0h1m3 0h1m4 0h2m2 0h7m1 0h2m16 0h1m4 0h1m4 0h14m38 0h6m12 0h6m4 0h1m1 0h1m1 0h1m8 0h1m13 0h1m1 0h16m1 0h1m2 0h1m12 0h1m1 0h1m1 0h3m7 0h1m3 0h2m44 0h1m5 0h1m7 0h1m9 0h1m24 0h1m4 0h1M259 372h5m1 0h5m1 0h3m1 0h9m3 0h2m5 0h7m26 0h1m3 0h1m1 0h3m2 0h4m11 0h16m1 0h4m1 0h1m9 0h1m2 0h18m1 0h1m12 0h8m1 0h2m1 0h3m1 0h3m1 0h3m3 0h1m9 0h1m1 0h1m29 0h1m1 0h1m5 0h1m7 0h1m3 0h1m1 0h1M260 373h1m8 0h1m27 0h3m2 0h1m20 0h1m1 0h1m3 0h4m1 0h6m1 0h1m11 0h6m1 0h1m1 0h1m1 0h3m2 0h3m3 0h1m3 0h1m2 0h1m2 0h7m1 0h11m2 0h1m1 0h1m5 0h2m1 0h5m1 0h13m1 0h2m1 0h1m1 0h1m14 0h1m38 0h1m8 0h1m5 0h1m30 0h1m5 0h2M297 374h6m6 0h1m9 0h1m8 0h1m2 0h1m4 0h5m16 0h4m2 0h1m20 0h1m3 0h6m3 0h4m1 0h1m3 0h2m6 0h1m1 0h2m1 0h5m1 0h8m2 0h2m9 0h1m9 0h1m28 0h1m26 0h1m1 0h1M297 375h1m2 0h10m1 0h1m3 0h9m2 0h1m9 0h1m1 0h2m16 0h9m1 0h1m16 0h1m2 0h2m1 0h1m1 0h1m2 0h2m4 0h1m1 0h2m1 0h5m1 0h1m1 0h4m4 0h4m1 0h2m1 0h1m2 0h2m15 0h1m4 0h1m3 0h1m38 0h2m9 0h1m1 0h3m39 0h1M306 376h2m1 0h16m1 0h1m12 0h4m11 0h6m1 0h3m1 0h3m14 0h13m2 0h1m1 0h14m1 0h2m4 0h1m1 0h1m1 0h7m1 0h1m1 0h1m1 0h1m1 0h1m1 0h1m7 0h1m38 0h1m4 0h1m5 0h1M305 377h1m1 0h10m1 0h7m2 0h1m1 0h1m3 0h1m6 0h4m1 0h1m4 0h7m1 0h3m1 0h9m10 0h5m3 0h1m1 0h22m11 0h3m1 0h13m13 0h1m4 0h1m33 0h1m17 0h1m40 0h1M304 378h15m1 0h9m2 0h1m3 0h1m6 0h5m1 0h9m1 0h6m1 0h2m2 0h5m4 0h4m1 0h2m3 0h1m2 0h1m1 0h1m1 0h8m1 0h7m16 0h1m1 0h1m1 0h10m3 0h1m2 0h1m39 0h1m3 0h1m1 0h1m4 0h1m5 0h1m3 0h1m2 0h1m1 0h1"/><path stroke="#0606fe" d="M591 346h1M594 347h1M596 349h1M468 350h1M468 351h1M468 353h2M439 354h1m27 0h3m68 0h1m14 0h1M439 355h2m25 0h4m68 0h1M420 356h1m18 0h1m26 0h1m1 0h1m1 0h1m132 0h1m1 0h1M420 357h2m4 0h1m2 0h1m10 0h1m25 0h2m124 0h1m5 0h1m4 0h1m42 0h1M428 358h1m6 0h1m31 0h1m85 0h1M428 359h1m10 0h1m3 0h1m1 0h1m1 0h3m16 0h1m1 0h2m83 0h1M398 361h1m2 0h1m3 0h1m2 0h1m1 0h5m45 0h1M389 362h3m1 0h13m2 0h2m3 0h1m1 0h12m126 0h1m11 0h1m3 0h1M361 363h2m1 0h2m2 0h1m1 0h1m1 0h4m1 0h8m1 0h1m1 0h10m1 0h6m2 0h1m2 0h3m3 0h3m2 0h17m8 0h1m2 0h1m89 0h1m13 0h1m6 0h1m2 0h1m10 0h1m1 0h1M349 364h4m5 0h4m11 0h12m1 0h4m2 0h1m1 0h2m4 0h1m1 0h2m1 0h1m1 0h1m8 0h1m3 0h18m3 0h1m1 0h1m15 0h1m77 0h1m1 0h1m11 0h1M330 365h1m1 0h3m1 0h5m1 0h2m14 0h1m11 0h2m1 0h1m2 0h1m1 0h1m1 0h1m1 0h1m17 0h6m2 0h1m2 0h3m3 0h7m1 0h3m1 0h7m1 0h1m4 0h1m1 0h1m17 0h1m67 0h1m16 0h1M180 366h1m14 0h3m3 0h1m1 0h2m3 0h1m1 0h2m1 0h3m2 0h7m2 0h3m1 0h4m1 0h9m1 0h4m5 0h2m15 0h20m2 0h1m1 0h4m1 0h1m3 0h3m2 0h6m2 0h1m1 0h3m1 0h1m2 0h1m1 0h1m7 0h1m1 0h1m4 0h1m6 0h1m2 0h2m13 0h6m1 0h2m14 0h1m3 0h1m1 0h1m1 0h5m1 0h1m1 0h2m1 0h16m1 0h10m3 0h1m40 0h1m1 0h1m1 0h3m15 0h1M181 367h2m1 0h17m4 0h1m4 0h1m1 0h1m4 0h1m1 0h1m1 0h1m15 0h4m1 0h14m1 0h10m1 0h1m2 0h12m2 0h2m1 0h2m4 0h1m1 0h3m3 0h1m1 0h1m1 0h1m1 0h1m1 0h5m1 0h1m3 0h1m2 0h1m1 0h2m5 0h3m4 0h1m15 0h3m2 0h1m2 0h10m2 0h7m1 0h1m3 0h1m1 0h17m1 0h1m1 0h2m3 0h4m1 0h10m2 0h7m6 0h1m16 0h1m20 0h2m2 0h1m1 0h1m1 0h1m1 0h1m1 0h1m44 0h1m13 0h1M186 368h2m1 0h2m1 0h3m40 0h1m5 0h2m1 0h18m1 0h2m1 0h2m1 0h17m1 0h12m2 0h5m1 0h5m1 0h1m1 0h3m5 0h1m1 0h2m2 0h1m1 0h2m1 0h2m2 0h3m1 0h1m1 0h1m7 0h1m1 0h1m1 0h3m1 0h3m3 0h2m1 0h1m3 0h1m4 0h26m1 0h1m1 0h2m1 0h4m2 0h2m1 0h7m1 0h1m5 0h1m1 0h3m7 0h1m17 0h1m18 0h2m9 0h2m1 0h1m56 0h1M252 369h1m1 0h4m1 0h3m2 0h1m2 0h21m2 0h2m1 0h8m2 0h5m1 0h5m1 0h3m2 0h1m2 0h1m1 0h1m7 0h9m1 0h1m14 0h6m1 0h2m1 0h1m2 0h1m3 0h2m2 0h1m1 0h3m1 0h3m2 0h6m3 0h1m13 0h19m1 0h5m5 0h1m4 0h1m5 0h1m7 0h2m25 0h1m5 0h1m1 0h1m55 0h1M252 370h1m1 0h22m2 0h8m1 0h1m2 0h15m2 0h4m1 0h3m1 0h4m1 0h5m1 0h2m4 0h7m20 0h4m1 0h15m3 0h8m1 0h1m1 0h1m19 0h3m1 0h20m6 0h1m2 0h1m36 0h1m4 0h1m4 0h1m42 0h1m15 0h1M258 371h16m1 0h4m1 0h4m14 0h26m1 0h11m24 0h4m1 0h1m1 0h1m1 0h8m1 0h13m1 0h1m16 0h1m1 0h2m1 0h12m1 0h1m1 0h1m3 0h6m45 0h1m3 0h1m9 0h1m10 0h1m43 0h1M264 372h1m5 0h1m30 0h26m1 0h3m1 0h1m3 0h2m31 0h1m4 0h1m1 0h9m1 0h2m18 0h1m1 0h5m1 0h3m1 0h2m8 0h1m2 0h1m3 0h1m7 0h1m5 0h1m9 0h1m24 0h1m10 0h1m2 0h1M300 373h2m1 0h20m1 0h1m1 0h3m4 0h1m25 0h1m1 0h1m1 0h1m3 0h2m3 0h3m1 0h3m1 0h2m1 0h2m7 0h1m11 0h2m1 0h1m1 0h5m2 0h1m5 0h1m13 0h1m7 0h1m41 0h1m4 0h1m5 0h1M303 374h6m1 0h9m1 0h8m1 0h2m1 0h4m25 0h2m1 0h20m1 0h3m6 0h3m4 0h1m1 0h3m2 0h6m1 0h1m2 0h1m5 0h1m8 0h2m2 0h2m1 0h1m2 0h1m45 0h1m1 0h1m4 0h2m55 0h1M310 375h1m1 0h3m9 0h2m1 0h9m1 0h1m27 0h1m1 0h16m1 0h2m2 0h1m1 0h1m1 0h2m2 0h4m1 0h1m2 0h1m5 0h1m1 0h1m4 0h4m4 0h1m2 0h1m1 0h2m2 0h5m1 0h1m1 0h1m5 0h1m37 0h1m5 0h1m60 0h1M325 376h1m1 0h12m21 0h1m3 0h1m3 0h7m1 0h1m1 0h4m13 0h2m1 0h1m14 0h1m2 0h4m1 0h1m1 0h1m7 0h1m1 0h1m1 0h1m1 0h1m20 0h1m27 0h1m10 0h1m6 0h1m8 0h1M325 377h2m1 0h1m1 0h3m1 0h6m17 0h1m3 0h1m9 0h6m1 0h3m32 0h11m3 0h1m15 0h1m1 0h2m2 0h1m12 0h1m24 0h1m10 0h1M329 378h2m1 0h3m1 0h6m15 0h1m16 0h4m4 0h1m28 0h7m1 0h8m1 0h1m1 0h1m29 0h1m27 0h1m48 0h1m1 0h1"/><path stroke="#0019e6" d="M598 346h1M591 348h1m1 0h2M439 349h1M439 350h1m156 0h1M439 351h1M440 352h1m27 0h2m83 0h1M440 353h1m26 0h1m85 0h1M440 354h1m25 0h1M470 355h1m82 0h1M467 356h1m1 0h1m83 0h1m39 0h1m5 0h1m1 0h1m2 0h1m38 0h1M468 357h3m67 0h1m14 0h1m100 0h1M421 358h2m1 0h1m5 0h1m10 0h1m24 0h1m1 0h1m1 0h1m66 0h2M430 359h1m4 0h1m1 0h1m2 0h1m26 0h1m2 0h1M466 360h1m1 0h4m65 0h1m15 0h1M402 361h3m1 0h2m1 0h1m62 0h4m61 0h2m14 0h1M539 362h1m27 0h1m3 0h2M363 363h1m5 0h1m1 0h1m4 0h1m21 0h1m43 0h1m94 0h1m8 0h1M362 364h5m1 0h3m1 0h1m17 0h2m7 0h1m1 0h1m2 0h1m42 0h2m79 0h1m21 0h1m2 0h1M359 365h9m4 0h1m1 0h2m1 0h1m1 0h1m1 0h1m1 0h2m3 0h5m1 0h3m2 0h1m24 0h1m3 0h1m12 0h1m85 0h1m25 0h1M198 366h2m6 0h2m4 0h1m32 0h1m4 0h5m2 0h1m34 0h2m1 0h1m6 0h3m3 0h2m49 0h6m1 0h1m11 0h14m2 0h1m2 0h1m29 0h1m53 0h1m1 0h1m55 0h1m13 0h1M241 367h1m14 0h1m26 0h2m2 0h1m2 0h4m1 0h1m5 0h1m1 0h1m1 0h1m1 0h1m1 0h1m48 0h2m1 0h2m19 0h1m1 0h3m1 0h1m19 0h1m9 0h1m10 0h2m54 0h1m1 0h1m1 0h1m1 0h1m3 0h2M262 368h1m23 0h1m139 0h1m1 0h5m1 0h1m9 0h1m41 0h1m1 0h1m49 0h1M326 369h7m51 0h1m3 0h2m42 0h1m71 0h1m4 0h1m27 0h1M276 370h2m27 0h2m4 0h1m3 0h1m4 0h1m5 0h1m2 0h4m47 0h3m126 0h1m29 0h1M324 371h1m117 0h1m51 0h1m42 0h1M413 372h1m3 0h1m30 0h1m36 0h1m23 0h1m43 0h1M463 373h1m21 0h1m3 0h1m48 0h1m14 0h1M463 374h1m22 0h2m49 0h1M441 375h1m17 0h1m1 0h1m25 0h1m2 0h1M375 376h1m1 0h1m82 0h2m26 0h2m3 0h1m15 0h1M377 377h1m110 0h1m2 0h1m17 0h1M418 378h1m30 0h1m11 0h1m47 0h1"/><path stroke="#0038c7" d="M588 346h1m1 0h1m1 0h1M439 348h1M553 350h1m37 0h1m5 0h1M439 352h1M439 353h1M537 354h1M418 355h1m118 0h1M440 356h1m207 0h1M424 357h2m13 0h1m97 0h1m53 0h1m61 0h1M436 358h1m2 0h2M432 359h1m1 0h1m9 0h1m1 0h1m91 0h1M454 360h1M461 361h1M537 362h1m4 0h1m30 0h1M476 363h1m74 0h1m25 0h1M476 364h1m72 0h1m5 0h1M477 365h1m55 0h2M489 366h1m48 0h1M509 367h1m27 0h1M460 368h1m24 0h1m3 0h1M484 369h2m1 0h1m2 0h1M479 370h1m10 0h1M485 371h1M444 372h1m41 0h1m4 0h1m2 0h1m16 0h1M487 373h1m4 0h1m16 0h1M482 374h1m5 0h1m3 0h1M444 375h1m48 0h1m2 0h1m12 0h1M490 376h1m62 0h1M489 377h2m3 0h1m2 0h1m39 0h1m15 0h1M442 378h1m47 0h1"/><path stroke="#0057a8" d="M593 347h1m4 0h1M590 349h3m2 0h1M589 350h1m2 0h2M451 351h1M418 356h1m176 0h1m1 0h1m4 0h1m29 0h1M589 357h1m54 0h1m5 0h1m1 0h1M427 358h1m5 0h1m3 0h1m192 0h1M431 359h1m1 0h1m103 0h1M455 360h1M574 362h1M544 363h1M529 364h1m8 0h1M454 365h1m76 0h1m5 0h1m18 0h1M477 366h1m59 0h1M442 367h1M486 369h1m6 0h1M443 370h1m41 0h1m7 0h1m44 0h1M486 371h2M481 372h1m5 0h1m49 0h1M481 373h1m55 0h1M495 374h1m13 0h1M488 375h2M496 376h1m40 0h1M444 377h1m10 0h1m27 0h1m54 0h1M484 378h1m9 0h1m2 0h1"/><path stroke="#078" d="M595 346h1M589 347h1m2 0h1m3 0h1M589 349h1m3 0h1M588 350h1M537 352h1M537 353h1M593 355h1m2 0h1M537 356h1m60 0h1M423 357h1m223 0h1M423 358h1m1 0h1m6 0h1m154 0h1m1 0h1M436 359h1m1 0h1M463 362h1m74 0h1m2 0h1M543 363h1m1 0h1M475 364h1m51 0h1m2 0h1m4 0h1m11 0h1m6 0h1M181 365h1m1 0h1m348 0h1m5 0h1M478 367h1M478 368h1m13 0h1m44 0h1M479 369h1M480 370h1m5 0h1M491 371h1M439 372h1m40 0h1m57 0h1M479 373h1m8 0h1m6 0h1M479 374h1M482 375h1m54 0h1M481 376h1m1 0h1M489 378h1"/><path stroke="#009669" d="M593 346h2M451 347h1m143 0h1M588 348h1m3 0h1m2 0h1M594 355h1M419 356h1M422 357h1M426 358h1m2 0h1m8 0h1m208 0h1M427 359h1m160 0h1M459 361h1M475 362h1m64 0h1m34 0h1m3 0h1M474 363h2M474 364h1m61 0h1m11 0h1M182 365h1m291 0h1m1 0h1M474 368h1m1 0h1m7 0h1M477 369h1M476 370h1m1 0h1M478 371h1m1 0h1M480 374h2M478 375h1m1 0h2M480 376h1m1 0h1M478 378h1m4 0h1m54 0h1"/><path stroke="#00b54a" d="M646 310h1M664 311h1M451 348h1M451 349h1M595 355h1M645 356h2M590 357h1m38 0h1m2 0h2m8 0h1M434 358h1m216 0h1m2 0h1M442 359h1M538 360h1m44 0h1M462 361h1M473 362h2m103 0h1m2 0h1M473 363h1M473 364h1M187 365h1m287 0h1M472 366h5M211 367h1m1 0h1m4 0h1m256 0h3M475 368h1m1 0h1m13 0h1M475 369h1m2 0h1m13 0h1m3 0h1M474 370h1m2 0h1M477 371h1m1 0h1m58 0h1M476 372h4M477 373h2m1 0h1M450 374h1m24 0h2M453 375h1m22 0h2m60 0h1M450 376h1m13 0h1m12 0h1m60 0h1M464 377h1m1 0h1m8 0h1m2 0h5M450 378h1m2 0h1m10 0h1m1 0h1m12 0h2m1 0h1"/><path stroke="#00d42b" d="M659 311h1M451 350h1M419 355h1M628 357h1m6 0h1M431 358h1m156 0h1m46 0h1M586 359h1M471 361h1M469 362h1m2 0h1m103 0h1M472 363h1m65 0h1M470 364h1m1 0h1M184 365h2M217 366h1M214 367h1m1 0h1m255 0h1m1 0h1m63 0h1M473 369h1m2 0h1m61 0h1M472 370h2M473 371h4m20 0h1M473 372h1m23 0h1M439 373h1m24 0h1m7 0h5m17 0h1m3 0h1M464 374h1m8 0h1m3 0h2m15 0h1m3 0h1m39 0h1M464 375h1m1 0h1m7 0h1m4 0h1m15 0h1M439 376h1m13 0h1m21 0h1m2 0h2M450 377h1m2 0h1m22 0h2M481 378h1m14 0h1"/><path stroke="#00f40b" d="M647 310h1M662 311h1M592 356h1M634 357h1m1 0h1M632 358h1m13 0h1M585 360h1M470 361h1M471 362h1M470 363h1M471 365h3M470 366h2M215 367h1m255 0h1m1 0h1M472 368h2m21 0h1M472 369h1m1 0h1M464 370h1m6 0h1m3 0h1m16 0h1M439 371h1m32 0h1m20 0h1M470 372h3m1 0h2m17 0h1M469 373h1m1 0h1M439 374h1m26 0h1m5 0h1m1 0h1M450 375h1m19 0h4m1 0h1M466 376h1m5 0h2m2 0h1m18 0h1M471 377h1m1 0h1M475 378h3"/><path stroke="#26ff00" d="M591 356h1m44 0h1M584 360h1M468 361h1M470 362h1M471 363h1M471 364h1M201 365h1m265 0h3M468 366h2M464 367h1m4 0h2M464 368h1m3 0h4M469 369h3M453 370h1m15 0h2m25 0h1M468 371h1m1 0h2M453 372h1m12 0h1m2 0h1M453 373h1M453 374h1m14 0h4M439 375h1m29 0h1M471 376h1m2 0h1M470 377h1m1 0h1m1 0h1m21 0h1M467 378h1m1 0h6"/><path stroke="#61ff00" d="M421 352h1M403 353h1M628 356h1M630 357h1m7 0h1m4 0h1M467 360h1M467 361h1m1 0h1m110 0h1m1 0h1M467 362h2m108 0h1M367 363h1m98 0h1m1 0h2M367 364h1m99 0h1m1 0h1M470 365h1M216 366h1m131 0h1M467 367h2M466 368h2M468 369h1M450 370h1m5 0h1m11 0h1M450 371h1m2 0h1m2 0h1m7 0h1m4 0h1M450 372h1m17 0h1M450 373h1m15 0h1m1 0h1m1 0h1M467 374h1M467 375h2M467 376h4M467 377h3M451 378h1m16 0h1"/><path stroke="#9cff00" d="M450 356h1m2 0h1m181 0h1M453 357h1m172 0h2m11 0h1m1 0h1m3 0h1M453 358h1M450 361h1m2 0h1m127 0h1M467 363h1M396 364h1m1 0h1m69 0h1M328 366h1m6 0h1m17 0h1m112 0h2M208 367h1M450 368h1m5 0h1M314 369h1m143 0h1m5 0h1m2 0h1M460 370h1m5 0h2M466 371h2M460 372h1m4 0h1m1 0h1M467 373h1M465 375h1M452 376h1m3 0h1M451 377h1M452 378h1"/><path stroke="#d7ff00" d="M417 350h1m1 0h2M450 351h1M453 352h1M453 353h1M631 357h1M418 358h1m31 0h1m191 0h1M458 359h1M450 360h1M456 361h1M444 362h1M450 363h1m5 0h1M338 364h1m67 0h1m53 0h1M207 365h1m1 0h1m240 0h1m2 0h1m2 0h1m9 0h1M319 366h1m14 0h1m60 0h1m54 0h1M206 367h1m117 0h1m29 0h1m111 0h1M319 368h1M450 369h1m2 0h1m2 0h1m9 0h1M454 371h1M464 372h1M455 373h1M462 374h1m2 0h1M462 375h1M463 376h1m1 0h1M463 377h1M456 378h1m8 0h1"/><path stroke="#fff500" d="M406 324h1M409 325h1M409 326h1M403 350h1M453 351h1M450 353h1M450 354h1M651 357h1M458 358h1m169 0h1m7 0h1M440 360h1m12 0h1M440 361h1m14 0h1m8 0h1M443 362h1m3 0h1m5 0h1m8 0h1m1 0h1m1 0h1M387 363h1m65 0h1M393 364h1m14 0h1m31 0h1m9 0h1m2 0h1m2 0h1m5 0h1m3 0h1M319 365h1m66 0h1m20 0h1m1 0h1m48 0h1m5 0h1M300 366h1m24 0h1m12 0h1m114 0h1M204 367h1m19 0h1m90 0h1m20 0h2m15 0h1M299 368h1m140 0h1m17 0h1M321 369h1m138 0h1M459 370h1M458 371h1m1 0h2M452 372h1M454 374h1M451 376h1m3 0h1m6 0h1M452 377h1m4 0h1m7 0h1"/><path stroke="#ffd400" d="M401 323h2m1 0h1M407 324h1M410 326h1M450 352h1M453 354h1M450 357h1M450 359h1m5 0h1M388 360h1m36 0h2m29 0h1m7 0h1M441 361h1m16 0h1M414 362h1m25 0h1m9 0h1m5 0h1m2 0h2M330 363h1m107 0h1m19 0h1m5 0h1M397 364h1M208 365h1m143 0h1m34 0h1m18 0h1M357 366h1m7 0h1m33 0h1M335 367h1m2 0h1m101 0h1m9 0h1M225 368h1m111 0h1M319 369h1m4 0h1M440 370h1M452 371h1m12 0h1M461 372h1M452 373h1m12 0h1M455 374h1m5 0h1M452 375h1m10 0h1"/><path stroke="#ffb300" d="M406 326h1m1 0h1M418 351h1M450 355h1m2 0h1M626 356h1M419 358h1M453 359h1M449 360h1m15 0h1M435 361h1m1 0h1m28 0h1M410 362h1M465 363h1M333 364h1m124 0h1m5 0h1M335 365h1m121 0h1m5 0h1M202 366h1M317 367h1m88 0h1m31 0h1m17 0h1m1 0h1M300 368h1m20 0h1m2 0h1m127 0h1m6 0h1M223 369h1M451 370h2m4 0h1M451 373h1m2 0h1m7 0h1M451 375h1m3 0h1M457 378h1m5 0h1"/><path stroke="#ff9200" d="M405 323h1M420 352h1m30 0h1M418 353h1M456 358h1M458 360h1M438 361h1M386 362h1m24 0h1M329 363h1m76 0h1m2 0h1m42 0h1m1 0h1m2 0h1m5 0h1M337 364h1m73 0h1m40 0h1M200 365h1m115 0h1m93 0h1m41 0h1M205 366h1m110 0h1m41 0h1m46 0h1m34 0h1m15 0h1m1 0h1m5 0h2M203 367h1m126 0h2m79 0h1m39 0h1m7 0h1m5 0h1M453 368h1M451 369h1m7 0h1m5 0h1M438 370h1M451 372h1M461 373h1M451 374h2M456 375h1"/><path stroke="#ff7100" d="M408 325h1M452 351h1M418 352h1M451 353h2M452 354h1M452 356h1M451 357h1M451 358h1M424 360h1m4 0h1m8 0h1m4 0h2m2 0h2M457 361h1M449 362h1m1 0h1M366 363h1m18 0h1m19 0h1m9 0h1m24 0h1M465 364h1M398 365h1m39 0h1m1 0h1m10 0h1m13 0h1M209 366h1m123 0h1m2 0h1m15 0h1m14 0h1m70 0h1M299 367h2m20 0h1M322 368h1M227 369h2m89 0h1m119 0h1m18 0h1M458 370h1M451 371h1m5 0h1M454 372h1M456 377h1"/><path stroke="#ff5100" d="M403 324h1M405 326h1m1 0h1M402 353h1m16 0h1M451 354h1M451 356h1M452 357h1M452 358h1m4 0h1M420 359h1m20 0h1M386 360h1m34 0h1M439 361h1m11 0h2M406 362h2m4 0h1m25 0h1m18 0h2M338 363h1m69 0h1M385 364h1m52 0h1M203 365h1m118 0h1m3 0h1m1 0h1m2 0h1m24 0h1m12 0h1m69 0h1M317 366h1m12 0h1m37 0h1m82 0h2m4 0h1M207 367h1m110 0h1m9 0h1m83 0h1m39 0h2m3 0h1M227 368h1m99 0h1m110 0h1m18 0h1m7 0h1M440 369h1M465 370h1"/><path stroke="#ff3000" d="M403 323h1M402 324h1m2 0h1M406 325h1M421 351h1M417 352h1m34 0h1M451 359h2M427 360h1m6 0h1m1 0h1m2 0h1m1 0h1m4 0h1M387 361h1m56 0h2m8 0h1m10 0h1M387 362h1m51 0h1m12 0h1m1 0h1m10 0h1M332 363h1m2 0h1m1 0h1M330 364h1m108 0h1M323 366h1m7 0h1M327 367h1m111 0h1M314 368h1m21 0h1"/><path stroke="#ff0f00" d="M404 324h1M403 325h1m3 0h1M403 351h1M419 357h1M421 359h2m1 0h1m1 0h1m30 0h1M422 360h1m7 0h1m1 0h1m2 0h1m6 0h1m2 0h1m6 0h1m4 0h1M442 361h1m3 0h1m1 0h2M461 362h1M451 363h1m7 0h3M354 364h2m15 0h1m38 0h1m40 0h1m5 0h1M315 365h1m13 0h1m23 0h1m31 0h1m7 0h1M200 366h1m125 0h1m80 0h1m31 0h1M201 367h2m210 0h1M320 368h1M322 369h1m116 0h1m12 0h1"/><path stroke="#f0000f" d="M405 325h1M400 351h1m19 0h1M419 352h1M451 355h2M418 357h1M429 359h1M428 360h1m2 0h1m5 0h1m13 0h1M443 361h1M455 362h1M326 363h1m87 0h1m47 0h1M356 364h2m51 0h1m4 0h1m48 0h1M205 365h1m108 0h1m9 0h1m29 0h1m13 0h1M332 366h1m23 0h1m36 0h1M209 367h1m16 0h1m125 0h1M330 368h1m2 0h1m117 0h1"/><path stroke="#d4002b" d="M404 325h1M420 358h1M423 359h1m1 0h1M433 360h1M447 361h1M331 363h1m107 0h1M355 365h1m1 0h1m39 0h1M410 366h1M328 368h1m110 0h1M439 370h1"/></g>
<path d="M50.5 229.5H700.5V379.5H50.5ZM158.5 229.5v5M158.5 379.5v-5M266.5 229.5v5M266.5 379.5v-5M375.5 229.5v5M375.5 379.5v-5M483.5 229.5v5M483.5 379.5v-5M591.5 229.5v5M591.5 379.5v-5M50.5 367.5h5M700.5 367.5h-6M50.5 354.5h5M700.5 354.5h-6M50.5 342.5h5M700.5 342.5h-6M50.5 329.5h5M700.5 329.5h-6M50.5 317.5h5M700.5 317.5h-6M50.5 304.5h5M700.5 304.5h-6M50.5 292.5h5M700.5 292.5h-6M50.5 279.5h5M700.5 279.5h-6M50.5 267.5h5M700.5 267.5h-6M50.5 254.5h5M700.5 254.5h-6M50.5 242.5h5M700.5 242.5h-6" fill="none" stroke="#000" stroke-width="1" shape-rendering="crispEdges"/>
<text x="46.8" y="383.8" text-anchor="end">0</text>
<text x="46.8" y="371.8" text-anchor="end">1</text>
<text x="46.8" y="358.8" text-anchor="end">2</text>
<text x="46.8" y="346.8" text-anchor="end">3</text>
<text x="46.8" y="333.8" text-anchor="end">4</text>
<text x="46.8" y="321.8" text-anchor="end">5</text>
<text x="46.8" y="308.8" text-anchor="end">6</text>
<text x="46.8" y="296.8" text-anchor="end">7</text>
<text x="46.8" y="283.8" text-anchor="end">8</text>
<text x="46.8" y="271.8" text-anchor="end">9</text>
<text x="46.8" y="258.8" text-anchor="end">10</text>
<text x="46.8" y="246.8" text-anchor="end">11</text>
<text x="46.8" y="233.8" text-anchor="end">12</text>
<text x="49.5" y="394" text-anchor="middle">00:00</text>
<text x="157.5" y="394" text-anchor="middle">04:00</text>
<text x="265.5" y="394" text-anchor="middle">08:00</text>
<text x="374.5" y="394" text-anchor="middle">12:00</text>
<text x="482.5" y="394" text-anchor="middle">16:00</text>
<text x="590.5" y="394" text-anchor="middle">20:00</text>
<text x="699.5" y="394" text-anchor="middle">00:00</text>
<text x="344.3" y="412" textLength="61">Time (UTC)</text>
<text transform="translate(27.3 337.2) rotate(-90)" textLength="61.5">Height (km)</text>
<text class="b" x="57.2" y="246" textLength="236">Raw attenuated backscatter coefficient</text>
<rect x="754.5" y="229.5" width="16" height="150" fill="url(#cb)" stroke="#000" stroke-width="1" shape-rendering="crispEdges"/>
<text x="742.5" y="235" text-anchor="end">10</text><text class="s" x="743" y="230">-4</text>
<text x="742.5" y="285" text-anchor="end">10</text><text class="s" x="743" y="280">-5</text>
<text x="742.5" y="335" text-anchor="end">10</text><text class="s" x="743" y="330">-6</text>
<text x="742.5" y="385" text-anchor="end">10</text><text class="s" x="743" y="380">-7</text>
<text transform="translate(723 324) rotate(-90)" textLength="37">m<tspan class="s" dy="-5">-1</tspan><tspan dy="5"> sr</tspan><tspan class="s" dy="-5">-1</tspan></text>
</g>
<g id="panel3">
<rect x="50" y="419" width="651" height="151" fill="#dedede"/><defs><g id="t3"><path stroke="#a0a0e7" d="M48 420h1M57 421h1M16 424h1M104 427h1m10 0h1M72 428h1M76 430h1M62 432h1M72 433h1M21 434h1M104 435h1m22 0h1M55 436h1m37 0h1M53 437h1M108 440h1M11 443h1M103 444h1M29 446h1m55 0h1M35 448h1M96 450h1M116 455h1M34 456h1m71 0h1M40 459h1M66 460h1M88 463h1M41 464h1m52 0h1M77 467h1M10 469h1M78 477h1M103 478h1M50 481h1M99 482h1M44 484h1M104 485h1M16 486h1m38 0h1M6 487h1M3 489h1m46 0h1M45 491h1M9 492h1M15 499h1M79 500h1m33 0h1M106 501h1M107 502h1M111 503h1M25 509h1m90 0h1M6 511h1M81 513h1M68 515h1m20 0h1M96 516h1M113 517h1M3 519h1M47 522h1M81 524h1M10 525h1M119 526h1M28 527h1M26 529h1M78 530h1m45 0h1M15 535h1m52 0h1M110 536h1M71 537h1M106 539h1M51 541h1M1 543h1m29 0h1m13 0h1M3 544h1M34 545h1"/><path stroke="#6363f0" d="M74 420h1m27 0h1M107 421h1M46 422h1M4 428h1M40 430h1M111 434h1M10 437h1M10 438h1M63 442h1M34 443h1M29 445h1M112 446h1M29 447h1M50 450h1m22 0h1M1 451h1m26 0h1m62 0h1m12 0h1M46 452h1m3 0h1M79 453h2M26 454h1m7 0h1m48 0h1m26 0h1M10 456h1M26 457h1M12 459h1m30 0h1M22 461h1M65 462h1M29 463h1M20 465h1m60 0h1m43 0h1M4 467h1m82 0h1M53 468h1M100 469h1M46 472h1m46 0h1M42 474h1m10 0h1M90 475h1M0 476h1M2 477h1M125 478h1M2 479h1M114 483h1M49 484h1M92 486h1M57 487h1M68 489h1M34 490h1m42 0h1m44 0h1M3 492h1m118 0h1M9 496h1m12 0h1M68 497h1m43 0h1M4 498h1M104 499h1M19 500h1m45 0h1M103 501h1m15 0h1M21 506h1M43 507h1m8 0h1M8 509h1m6 0h1m39 0h1m61 0h1M52 510h1M84 512h1M51 513h1M46 514h1M65 515h1M114 516h1M39 517h1M45 519h1M119 520h1M10 522h1m51 0h1M85 523h1M57 526h1m49 0h1M76 529h1m42 0h1M104 531h1M29 534h1m14 0h1M89 535h1M13 536h1M36 537h1m71 0h1M73 541h1M113 543h1m1 0h1M22 544h1m68 0h1M56 546h1"/><path stroke="#2525fa" d="M93 421h1M21 425h1M26 426h1M75 431h1M4 432h1M25 434h1m38 0h1m18 0h1M96 436h1M96 437h1M28 443h1m14 0h1M27 444h1m2 0h1M52 445h1m45 0h1M89 447h1M10 448h1M5 449h1M125 450h1M111 452h1M1 453h1m54 0h1m69 0h1M5 454h1m37 0h1M71 456h1M13 461h1M107 464h1M75 465h1m34 0h1M17 466h1m42 0h1m42 0h1M52 467h1m32 0h1M20 472h1m90 0h1M0 475h1M128 478h1M54 480h1M61 485h1M109 486h1M12 488h1m101 0h1M47 489h1m55 0h1M115 491h1M38 493h1m53 0h1m18 0h1M61 495h1m42 0h1M90 496h1m11 0h1M83 499h1M21 501h1M70 502h1M0 504h1M12 505h1M64 508h1m40 0h1M42 512h1M90 513h1M118 514h1m5 0h1M86 515h1M10 517h1m81 0h1M7 518h1M71 519h1M81 520h1m35 0h1M0 521h1m9 0h1m55 0h1M63 522h1M33 524h1M111 525h1M35 527h1M0 528h1m88 0h1M89 529h1M121 531h1M37 532h1m24 0h1M6 534h1m18 0h1M48 537h1M30 538h1M26 540h1M87 543h1M21 544h1m4 0h1m38 0h1M26 545h1m38 0h1M16 546h1"/><path stroke="#0019e6" d="M45 421h1m30 0h1M70 422h1M3 425h1m5 0h1m58 0h1m12 0h1M103 430h1M1 431h1m126 0h1M13 434h1M101 435h1M52 436h1M112 437h1M5 439h1m3 0h1m9 0h1M5 441h1m108 0h1M52 442h1M119 444h1M30 445h1M80 446h1M12 448h1M41 450h1M42 452h1M38 453h1m3 0h1M113 455h1m8 0h1M102 457h1m21 0h1M109 460h1M33 461h1M86 462h1M84 463h1m21 0h1M43 464h1M117 469h1M30 470h1m13 0h1m65 0h1M85 472h1M86 473h1M98 474h1M14 475h1M108 476h1M12 480h1m100 0h1M87 484h1m17 0h1m11 0h1M59 485h1M27 490h1M50 491h1M118 492h1M91 493h1M2 495h1m86 0h1M124 497h1M100 498h1M60 500h1M125 503h1M10 504h1M96 505h1M92 506h1M41 508h1m41 0h1M92 511h1M44 512h1m4 0h1m42 0h1m8 0h1M11 513h1m47 0h1m22 0h1M114 514h1M104 515h1M77 517h1M54 519h1M87 520h1M7 521h1m28 0h1m39 0h1M42 524h1M33 525h1M27 526h1M12 527h1M41 528h1m81 0h1M27 529h1M46 531h1M35 534h1M62 535h1M30 537h1M123 539h1M117 542h1M30 543h1M15 544h1m3 0h1"/><path stroke="#0057a8" d="M27 420h1m59 0h1M111 421h1M5 422h1m29 0h1M83 426h1M93 427h1M75 432h1M23 437h1m23 0h1M91 438h1M33 439h1M125 441h1M1 442h1m21 0h1M41 443h1m47 0h1M92 444h1M101 446h1M129 447h1M63 448h1M49 449h1M4 450h1m107 0h1M24 453h1M107 455h1M52 456h1m15 0h1M0 459h1M113 460h1M3 461h1m80 0h1M56 462h1M47 463h1M31 465h1M37 469h1m8 0h1M2 470h1m11 0h1M20 471h1m13 0h1m59 0h1m3 0h1m18 0h1M4 472h1M21 475h1m83 0h1M56 476h1M91 477h1m11 0h1m21 0h1M102 478h1M0 480h1m20 0h1M32 481h1M98 482h1M15 483h1m47 0h1m20 0h1m33 0h1M61 484h1M5 487h1M55 488h1M0 489h1m3 0h1m57 0h1M26 490h1m17 0h1m7 0h1M67 491h1M31 496h1m65 0h1M10 499h1M8 502h1M53 504h1M61 505h1m45 0h1M22 506h1M27 507h1m6 0h1m80 0h1M17 510h1M91 511h1M104 514h1M91 516h1M4 519h1M73 524h1m11 0h1M30 527h1M107 528h1M72 529h1m53 0h1M3 534h1m85 0h1m6 0h1M58 535h1m33 0h1m35 0h1M71 536h1M112 537h1M81 538h1M109 540h1M102 541h1M74 544h1M122 545h1"/><path stroke="#009669" d="M67 420h1M82 421h1M42 424h1M119 426h1m3 0h1M1 427h1M9 429h1M29 431h1m21 0h1m7 0h1m44 0h1M49 433h1m76 0h1M7 436h1m106 0h1M80 438h1m29 0h1M73 442h1M30 446h1m35 0h1m31 0h1M21 448h1M1 449h1M89 452h1M66 453h1M101 455h1M44 456h1M15 458h1m106 0h1M58 459h1m14 0h1M63 460h1M3 463h1m6 0h1m50 0h1m1 0h1M24 464h1M17 465h1m101 0h1m3 0h1M90 466h1M84 467h1M25 468h1m52 0h1M119 469h1M7 470h1M23 471h1M43 472h1M8 473h1M11 475h1M92 477h1M36 480h1m15 0h1M22 484h1M55 485h1M4 487h1m28 0h1m15 0h1M51 492h1M62 493h1m3 0h1M42 495h1m17 0h1m35 0h1M30 496h1m68 0h1m24 0h1M26 497h1m12 0h1M81 499h1m8 0h1M25 500h1m76 0h1M46 501h1M11 503h1m84 0h1m4 0h1m2 0h1M61 507h1m17 0h1M26 508h1M46 510h1m72 0h1M86 511h2M21 512h1M60 513h1M4 515h1m6 0h1M93 516h1M120 517h1M51 521h1m55 0h1M0 523h1m58 0h1M4 525h1M96 526h1M17 527h1M32 532h1M82 533h1M92 534h1M48 536h1M17 537h1m55 0h1M72 544h1m16 0h1M44 546h1"/><path stroke="#00d42b" d="M20 421h1m63 0h1M91 423h1M97 424h1M20 425h1M52 427h1m35 0h1M11 428h1m88 0h1M29 429h1M32 430h1m17 0h1m27 0h1M46 434h1M125 435h1M27 437h1M120 438h1M50 440h1M75 444h1M84 445h1m24 0h1M34 446h1M46 447h1M92 448h1M115 449h1M73 452h1m3 0h1m1 0h1m33 0h1M47 453h1m36 0h1M113 454h1M64 457h1M23 458h1m81 0h1m10 0h1M81 459h1m13 0h1m10 0h1M34 462h1M54 463h1m12 0h1M29 464h1M7 465h1M22 466h1m12 0h1M117 467h1M37 468h1M110 469h1M22 470h1m71 0h1M48 471h1M71 478h1M74 480h1M22 481h1m88 0h1M30 482h1M81 483h1M41 484h1m31 0h1M36 485h1M86 488h1M9 490h1m50 0h1M125 493h1M59 495h1M56 499h1m61 0h1M77 501h1M23 502h1M87 504h1m34 0h1M98 506h1M128 507h1M7 509h1M118 511h1M23 512h1M15 513h1m7 0h1M125 520h1M129 521h1M14 523h1M19 525h1M128 527h1M35 528h1M85 530h1M56 537h1M17 540h1M66 541h1M75 544h1m29 0h1m23 0h1M90 545h1m21 0h1"/><path stroke="#26ff00" d="M12 420h1m101 0h1M43 421h1M55 423h1m71 0h1M90 424h1M82 425h1m46 0h1M23 426h1m45 0h1M59 427h1m45 0h1M74 432h1M129 434h1M109 437h1M3 438h1m51 0h1M2 439h1M121 440h2M35 442h1m28 0h1M39 443h1M92 445h1M79 447h1M41 449h1M125 451h1M18 452h1M106 453h1M47 454h1M53 455h1M4 456h1m15 0h1M1 462h1M17 463h1m17 0h1m28 0h1m14 0h1M71 464h1m3 0h1M40 465h1M77 469h1m27 0h1M69 471h1m39 0h1M46 473h1M110 474h1M38 475h1M86 478h1M36 479h1M89 480h1M5 482h1m23 0h1M73 483h1M11 485h1m106 0h1M31 487h1M83 489h1M16 493h1M119 494h1M102 495h1m19 0h1M103 496h1m19 0h1M58 497h1M59 498h1m8 0h1M4 500h1m67 0h1M47 502h1M40 504h1m10 0h1M85 506h1M50 507h1M114 508h1M27 511h1M58 512h1M106 513h1M11 514h1M14 516h1M24 519h1m48 0h1m24 0h1m1 0h1M20 520h1m33 0h1M21 521h1M55 523h1M81 525h1M21 528h1m51 0h1M42 529h1M26 531h1m30 0h1M54 532h1m61 0h1M23 533h1M58 536h1m44 0h1M68 540h1"/><path stroke="#9cff00" d="M73 424h1M109 425h1M25 426h1m72 0h1M19 428h1m43 0h2M82 431h1M55 432h1m1 0h1M109 433h1m19 0h1M47 435h1m59 0h1M34 436h1M107 437h1M93 439h1M85 440h1M50 441h1M120 442h1M22 443h1M122 445h1M72 447h1M83 448h1M94 449h1m34 0h1M122 452h1M32 454h1m63 0h1m27 0h1M69 457h1M65 458h1m5 0h1m46 0h1M38 460h1M63 467h1M74 469h1M16 470h1M49 471h1M87 478h1M62 479h1M70 481h1M15 482h1m109 0h1M10 483h1m32 0h1M4 484h1m28 0h1m85 0h1M15 486h1M31 490h1M57 491h1M6 495h1m68 0h1M15 496h1M28 498h1m69 0h1M50 500h1M87 502h1M15 504h1M15 505h1m3 0h1M25 506h1m102 0h1M111 507h1M42 510h1M40 512h1M33 516h1m33 0h1M29 517h1m82 0h1M15 520h1m105 0h1M83 521h1M100 522h1m1 0h1M8 523h1M71 524h1m7 0h1M76 526h1M55 527h1M75 528h1M17 533h1M29 536h1M47 537h1M105 538h1M57 540h1m6 0h1M1 541h1m72 0h1M73 542h1M24 543h1m66 0h1M30 544h1M112 546h1"/><path stroke="#fff500" d="M29 420h1m76 0h1M2 423h1m94 0h1m24 0h1M31 424h1M102 425h1M128 429h1M94 430h1M102 431h1M108 432h1M80 433h1M28 434h1M79 435h1m14 0h1M15 436h1m57 0h1M52 438h1M50 439h1M1 440h1M21 442h1M65 443h1M15 444h1m98 0h1M61 445h1M41 446h2M54 447h1M9 449h1M14 451h1m74 0h1M85 452h1M67 453h1M45 455h1M29 457h1m25 0h1M10 459h1M86 460h1M63 461h1m31 0h1m20 0h1M57 462h1M34 463h1m85 0h1M105 467h1M69 468h1M25 469h1M61 470h1M24 472h1m78 0h1M17 474h1M102 476h1M18 477h1M12 478h1m105 0h1M129 480h1M103 481h1M69 482h1M52 483h1m22 0h1m34 0h1M18 485h1m86 0h1m6 0h1M97 488h1m7 0h1M110 489h1M39 494h1M106 496h1M106 497h1M78 498h1M57 499h1M112 502h1M64 503h1M63 504h1M25 505h1M7 506h1m69 0h1M5 507h1M80 509h1M16 510h1m84 0h1M99 513h1m8 0h1M105 515h1M79 516h1M65 517h1m38 0h1M109 518h1M34 519h1M22 522h1M31 523h1M25 524h1M100 525h1M112 528h1M123 529h1m3 0h1M76 534h1M55 537h1M22 541h1m67 0h1M29 542h1m65 0h1M46 544h1m9 0h1M37 546h1m10 0h1m50 0h1"/><path stroke="#ffb300" d="M19 423h1m78 0h1M58 424h1M60 425h1m37 0h1M0 426h1M47 429h1m49 0h1m19 0h1M95 430h1M20 432h1M91 434h1m11 0h1M34 439h1m43 0h1M64 441h1m10 0h1M102 443h1M20 444h1M99 445h1M123 448h1M19 451h1M10 454h1M71 455h1m4 0h1M108 456h1M88 457h1m39 0h1M82 459h1M35 460h1M90 461h1M105 463h1M54 465h1M26 466h1M109 468h1M82 470h1m1 0h1M123 472h1M15 473h1m61 0h1M79 475h1M67 478h1M5 480h1m27 0h1M32 482h1m8 0h1m15 0h1m60 0h1M120 485h1M17 486h1M126 490h1M38 492h1m41 0h1M50 494h1m48 0h1m21 0h1M82 495h1M12 497h1M46 498h1M49 500h1M68 502h1M112 503h1M125 505h1M42 506h1M124 507h1M54 508h1M12 512h1M74 514h1m38 0h1M13 515h1M55 516h1M76 518h1M25 520h1m15 0h1m84 0h1M103 521h1M45 526h1M4 528h1m47 0h1M41 529h1M4 530h1M39 531h1m15 0h1m14 0h1m36 0h1M40 532h1m84 0h1M111 534h1M20 535h1m20 0h1M5 538h1m41 0h1m67 0h1M12 543h1M0 544h1m35 0h1M61 545h1m1 0h1"/><path stroke="#ff7100" d="M72 420h1M15 421h1m55 0h1M93 422h1M121 423h1M9 424h1m55 0h1M43 427h1M2 432h1m98 0h1M0 433h1M27 434h1M81 435h1M24 437h1m11 0h1m11 0h1M86 441h1M43 442h1M95 443h1M0 444h1M93 445h1M6 446h1m36 0h1M84 447h1M26 448h1M36 451h1m34 0h1M20 454h1M75 455h1M31 456h1M14 457h1m24 0h1M7 461h1m13 0h1M2 462h1m35 0h1M16 463h1m57 0h1M26 464h1m56 0h1m15 0h1M105 465h1M98 466h1M3 467h1M119 468h1M55 471h1M30 472h1m53 0h1M37 473h1M74 474h1M61 477h1m53 0h1M62 481h1m5 0h1M69 483h1m6 0h1M21 484h1m16 0h1m89 0h1M45 487h1m73 0h1M53 488h1M109 489h1M44 492h1M23 493h1m52 0h1M122 494h1M116 495h1M111 497h1M52 498h1M16 502h1m63 0h1M48 504h1M65 505h1m55 0h1M14 506h1m58 0h1m48 0h1M13 507h1m14 0h1m7 0h1m64 0h1M72 508h1M1 509h1M15 511h1m55 0h1M25 512h1M19 513h2M115 515h1M12 516h1m102 0h1M59 519h1M104 521h1M77 522h1M53 526h1m25 0h1M19 528h1m78 0h1M101 529h1M24 530h1m58 0h1M120 531h1M105 532h1M113 533h1M22 538h1M44 539h1m13 0h1M26 543h1m5 0h1m42 0h1m8 0h1"/><path stroke="#ff3000" d="M110 422h1M33 426h1m83 0h1M40 427h1m35 0h1M21 428h1M42 429h1m76 0h1M43 430h1M109 431h1M79 432h1M11 434h1M109 435h1M39 440h1M8 442h1m72 0h1M37 443h1m86 0h1M16 444h1m42 0h1M9 446h1m35 0h1M40 450h1m36 0h1M15 459h1m110 0h1M41 461h1m23 0h1M41 462h1M46 463h1M59 464h1M33 465h1M122 466h1M86 467h1M102 469h1M10 474h1m54 0h1M124 476h1M25 477h1m70 0h1m13 0h1M55 480h1M46 481h1M82 483h1M72 484h1M80 488h1M19 489h1m40 0h1M78 491h1M80 497h1M24 498h1m24 0h1M100 499h1M68 500h1M26 501h1M13 502h1m85 0h1M38 505h1m74 0h1M61 506h1m53 0h1M38 507h1M44 511h1M54 513h1M3 514h1m62 0h1M6 516h1M13 519h1m82 0h1M80 520h1m42 0h1M97 523h1M27 524h1m23 0h1M46 525h1M56 526h1M34 529h1M50 531h1M11 532h1M123 533h1M54 534h1M73 536h1M82 537h1M61 538h1m37 0h1M58 540h1M4 543h1m91 0h1M41 545h1m28 0h1"/><path stroke="#f0000f" d="M25 420h1m26 0h1m38 0h1M6 421h1m2 0h1M111 423h1M39 426h1m76 0h1m4 0h1M109 430h1M47 431h1m35 0h1M13 435h1M90 436h1M119 440h1M126 441h1M108 445h1M129 446h1M98 447h1M4 449h1m51 0h1m21 0h1M9 452h1M47 456h1M119 459h1M15 461h1M92 463h1M110 464h1M18 465h1M89 467h1M76 468h1M82 469h1M71 472h1M14 473h1m21 0h1M67 474h1M36 475h1m66 0h1M49 477h1M2 478h1m33 0h1M24 479h1m49 0h1M78 480h1M44 482h1M68 483h1M115 484h1M48 486h1m4 0h1M74 487h1m19 0h1m17 0h2M21 488h1M85 489h1M46 490h1m80 0h1M62 492h1M34 494h1m14 0h1M126 495h1M115 496h1M35 497h1m69 0h1m2 0h1M31 498h1m87 0h1M34 499h1m36 0h1m8 0h1M109 500h1M90 504h1M33 505h1M11 507h1m60 0h1M29 508h1M11 509h1M45 510h1M28 512h1m92 0h1M34 514h1M49 520h1m47 0h1M13 521h1M24 522h1M74 523h1M109 524h1M122 526h1M86 527h1M58 530h1M47 531h1M111 533h1M110 534h1M43 536h1m31 0h1M48 538h1M27 539h1M79 541h1M28 542h1m1 0h1m68 0h1M10 544h1m43 0h1M1 545h1m46 0h1M76 546h1"/><path stroke="#b80048" d="M61 425h1M16 427h1m37 0h1m34 0h1M22 428h1m85 0h1M50 431h1M46 435h1M11 436h1m21 0h1M11 438h1M18 440h1m44 0h1M105 441h1M47 443h1M80 444h1m39 0h1M23 445h1m22 0h1m50 0h1M26 446h1M114 447h1M1 452h1M27 454h1m27 0h1m25 0h1M95 457h1m7 0h1M7 458h1M123 459h1m5 0h1M10 460h1m7 0h1M52 462h1m47 0h1M77 465h1M21 466h1M58 467h1M129 469h1M46 471h1M86 472h1m9 0h1M1 474h1m79 0h1M47 475h1m25 0h1m35 0h1M13 477h1m74 0h1M45 482h1M51 484h1M6 488h1m115 0h1M68 490h1m27 0h1M46 493h1M62 496h1M9 500h1M77 502h1M43 503h1M101 504h1M94 507h1M0 508h1M41 509h1M11 510h1M123 512h1M45 513h1m10 0h1m60 0h1M51 517h1m22 0h1m21 0h1M41 519h1m11 0h1m15 0h1m9 0h1M82 520h1M23 521h1M13 522h1m108 0h1M6 526h1M28 530h1M122 531h1M41 532h1M129 534h1M61 536h1M88 537h1M90 539h1m29 0h1M103 541h1M51 542h1M17 543h1M38 544h1m18 0h1"/><path stroke="#800080" d="M0 420h2m2 0h1m3 0h1m2 0h1m3 0h1m1 0h2m2 0h2m1 0h1m1 0h1m4 0h6m1 0h1m2 0h1m1 0h1m6 0h1m3 0h1m2 0h1m3 0h1m2 0h2m3 0h1m6 0h1m2 0h1m1 0h2m1 0h1m1 0h1m2 0h1m2 0h3m1 0h1m1 0h1m1 0h2m1 0h1m1 0h1m2 0h3m1 0h2m4 0h1m2 0h2m1 0h2m1 0h1m1 0h1M1 421h2m1 0h1m2 0h2m1 0h2m1 0h2m1 0h2m1 0h1m1 0h5m3 0h2m3 0h1m1 0h1m2 0h1m1 0h1m5 0h3m1 0h1m3 0h2m1 0h1m2 0h4m1 0h2m4 0h1m1 0h1m2 0h1m1 0h2m4 0h2m2 0h1m4 0h6m1 0h3m2 0h1m1 0h3m1 0h4m2 0h1m2 0h1m2 0h1m4 0h1M0 422h4m4 0h1m1 0h1m3 0h1m6 0h1m3 0h1m2 0h3m5 0h2m1 0h2m1 0h2m1 0h1m1 0h2m2 0h2m3 0h1m1 0h7m1 0h1m2 0h1m2 0h4m1 0h1m1 0h2m1 0h1m4 0h1m1 0h1m1 0h2m1 0h4m1 0h5m2 0h2m3 0h1m1 0h3m5 0h6m1 0h1M1 423h1m1 0h1m1 0h1m1 0h2m1 0h1m1 0h1m1 0h1m3 0h1m2 0h1m1 0h3m2 0h2m3 0h1m1 0h4m2 0h2m1 0h3m3 0h1m2 0h2m3 0h2m1 0h2m6 0h2m2 0h1m1 0h1m1 0h5m3 0h1m1 0h1m1 0h1m14 0h4m6 0h2m2 0h2m6 0h1m1 0h2M1 424h1m1 0h1m4 0h1m1 0h1m1 0h4m1 0h3m1 0h2m3 0h5m2 0h1m3 0h1m1 0h1m3 0h2m1 0h5m2 0h1m1 0h1m1 0h1m4 0h2m3 0h2m2 0h2m5 0h1m3 0h4m2 0h1m9 0h1m4 0h3m1 0h5m1 0h1m2 0h9m3 0h1M0 425h2m2 0h1m3 0h1m1 0h3m1 0h1m1 0h1m2 0h1m3 0h1m1 0h2m3 0h2m1 0h1m1 0h1m1 0h1m1 0h3m2 0h1m1 0h2m1 0h1m3 0h5m4 0h2m7 0h2m3 0h3m1 0h1m2 0h1m2 0h4m1 0h1m4 0h2m1 0h1m3 0h1m1 0h1m5 0h4m1 0h1m2 0h1m3 0h2m1 0h3M3 426h2m10 0h1m2 0h1m1 0h1m11 0h1m2 0h1m2 0h1m2 0h1m2 0h2m2 0h5m2 0h2m1 0h1m4 0h1m3 0h2m1 0h1m3 0h1m1 0h1m7 0h1m4 0h2m1 0h2m2 0h1m2 0h1m3 0h4m2 0h2m3 0h2m2 0h1m1 0h1m1 0h1m2 0h3M3 427h1m1 0h1m2 0h1m1 0h2m1 0h1m3 0h3m3 0h1m1 0h1m2 0h2m5 0h2m4 0h2m1 0h1m3 0h1m1 0h2m1 0h1m4 0h1m2 0h1m3 0h2m1 0h1m1 0h6m4 0h3m1 0h1m6 0h1m3 0h1m4 0h1m1 0h1m5 0h2m3 0h2m1 0h2m2 0h1m1 0h1m2 0h3M3 428h1m8 0h2m1 0h1m1 0h1m6 0h1m2 0h1m2 0h6m3 0h3m1 0h1m3 0h3m1 0h1m5 0h1m9 0h2m5 0h2m1 0h1m1 0h1m1 0h2m8 0h1m1 0h2m1 0h4m1 0h1m1 0h2m2 0h1m2 0h2m1 0h1m5 0h3m1 0h1m2 0h1m1 0h1M0 429h7m3 0h1m2 0h1m1 0h2m2 0h1m1 0h1m2 0h5m7 0h2m1 0h1m4 0h3m1 0h1m7 0h4m1 0h2m1 0h1m1 0h1m1 0h1m1 0h7m5 0h2m2 0h1m1 0h1m1 0h1m4 0h2m1 0h2m1 0h1m2 0h1m1 0h2m4 0h1m3 0h1m1 0h1m2 0h1m2 0h1m1 0h2m1 0h1M0 430h1m7 0h2m1 0h1m5 0h2m3 0h2m3 0h1m5 0h1m2 0h1m1 0h2m2 0h1m2 0h1m7 0h1m3 0h1m1 0h1m1 0h2m1 0h4m1 0h3m5 0h1m3 0h2m3 0h3m3 0h2m2 0h1m5 0h1m1 0h1m3 0h1m9 0h2m4 0h1m1 0h3M0 431h1m1 0h3m2 0h1m1 0h1m1 0h3m2 0h12m5 0h1m5 0h1m1 0h1m1 0h2m1 0h1m2 0h1m4 0h1m1 0h1m1 0h1m11 0h4m3 0h1m2 0h1m8 0h1m1 0h2m1 0h1m1 0h4m3 0h1m2 0h1m1 0h1m1 0h1m3 0h2m1 0h1m1 0h2m3 0h1M11 432h7m5 0h2m4 0h2m3 0h1m2 0h4m2 0h1m3 0h1m1 0h1m3 0h1m4 0h3m2 0h2m1 0h1m1 0h2m3 0h1m2 0h1m1 0h1m1 0h2m1 0h2m1 0h3m3 0h2m1 0h1m1 0h1m2 0h1m1 0h3m1 0h2m1 0h3m3 0h4m1 0h1m2 0h2m2 0h3M1 433h2m2 0h1m5 0h1m3 0h1m2 0h2m1 0h2m1 0h3m9 0h1m4 0h2m2 0h3m4 0h1m1 0h2m3 0h3m1 0h1m1 0h5m1 0h1m1 0h2m2 0h1m1 0h1m2 0h1m1 0h2m1 0h1m2 0h3m4 0h1m1 0h1m4 0h1m3 0h1m1 0h1m1 0h1m2 0h1m2 0h1m4 0h1m4 0h1M1 434h2m1 0h1m1 0h1m1 0h1m1 0h1m4 0h2m5 0h1m3 0h1m9 0h2m2 0h1m4 0h1m1 0h4m5 0h1m2 0h1m1 0h1m3 0h1m2 0h2m3 0h1m2 0h2m1 0h1m1 0h2m1 0h1m1 0h5m1 0h1m2 0h1m2 0h1m3 0h1m2 0h1m10 0h2m2 0h1m3 0h2m1 0h1M0 435h1m4 0h5m2 0h1m3 0h1m2 0h3m3 0h1m4 0h1m2 0h1m3 0h3m1 0h1m1 0h3m4 0h1m1 0h1m3 0h1m3 0h1m6 0h2m2 0h2m1 0h1m3 0h1m1 0h1m2 0h1m4 0h2m2 0h1m3 0h2m2 0h1m1 0h2m2 0h1m1 0h1m1 0h3m2 0h2m2 0h1m2 0h2m4 0h1M2 436h2m1 0h1m4 0h1m2 0h2m1 0h2m5 0h1m2 0h1m1 0h2m5 0h1m4 0h4m2 0h1m1 0h1m1 0h1m3 0h1m1 0h4m5 0h1m1 0h1m2 0h3m3 0h1m2 0h2m4 0h1m2 0h1m5 0h1m3 0h5m1 0h1m3 0h1m8 0h2m1 0h1m1 0h2m1 0h1m3 0h1M2 437h2m1 0h1m5 0h1m1 0h1m1 0h1m2 0h5m3 0h1m4 0h3m5 0h1m3 0h2m1 0h1m2 0h2m1 0h1m2 0h4m3 0h1m1 0h5m2 0h1m2 0h1m1 0h1m4 0h1m4 0h1m2 0h1m2 0h2m5 0h1m2 0h1m3 0h1m1 0h1m4 0h2m2 0h1m4 0h4M0 438h2m2 0h4m4 0h3m3 0h1m4 0h2m3 0h1m1 0h1m2 0h1m1 0h1m1 0h2m3 0h1m4 0h1m1 0h1m4 0h1m1 0h3m1 0h4m2 0h7m2 0h1m6 0h1m1 0h2m1 0h1m1 0h2m2 0h3m2 0h1m1 0h1m4 0h1m2 0h2m2 0h1m1 0h1m1 0h3m2 0h1m3 0h1m2 0h1M3 439h2m1 0h1m3 0h1m5 0h2m2 0h1m4 0h1m2 0h5m2 0h1m1 0h1m1 0h4m2 0h2m1 0h2m2 0h4m2 0h1m3 0h1m1 0h1m1 0h2m4 0h1m2 0h1m4 0h3m1 0h2m5 0h1m3 0h1m3 0h1m1 0h2m2 0h1m1 0h1m2 0h2m1 0h4m1 0h2m1 0h2m6 0h1M0 440h1m7 0h1m5 0h1m1 0h1m3 0h7m1 0h1m1 0h1m2 0h1m3 0h1m2 0h1m1 0h3m4 0h1m2 0h1m2 0h1m5 0h2m3 0h3m1 0h2m2 0h1m2 0h4m1 0h3m1 0h1m1 0h3m2 0h3m2 0h2m3 0h1m10 0h2m7 0h2m2 0h2M0 441h1m5 0h1m3 0h1m2 0h1m1 0h1m1 0h1m1 0h1m3 0h5m3 0h2m1 0h1m3 0h4m3 0h5m2 0h3m5 0h2m1 0h1m1 0h2m2 0h1m4 0h1m1 0h2m2 0h1m1 0h2m4 0h2m2 0h1m1 0h2m2 0h1m1 0h2m4 0h4m2 0h1m2 0h1m1 0h2m1 0h1m2 0h1m3 0h1m1 0h1M0 442h1m2 0h4m2 0h2m1 0h2m4 0h1m7 0h3m1 0h1m1 0h1m4 0h2m1 0h2m2 0h2m4 0h1m10 0h2m2 0h3m4 0h1m1 0h3m1 0h3m2 0h3m2 0h2m3 0h3m6 0h1m2 0h3m1 0h3m1 0h1m1 0h2m1 0h2m1 0h1m2 0h2m1 0h3M5 443h2m1 0h1m3 0h1m1 0h2m3 0h1m1 0h1m1 0h1m1 0h1m3 0h3m1 0h1m10 0h3m2 0h1m4 0h1m1 0h1m2 0h3m4 0h1m2 0h1m1 0h1m2 0h2m17 0h1m9 0h1m1 0h1m1 0h1m2 0h2m1 0h1m1 0h1m4 0h4m2 0h1m2 0h1M9 444h1m2 0h2m3 0h2m3 0h4m2 0h2m5 0h4m7 0h1m1 0h1m1 0h1m1 0h4m1 0h2m1 0h1m1 0h6m4 0h1m1 0h1m1 0h1m2 0h1m1 0h2m1 0h5m2 0h1m1 0h1m1 0h1m8 0h1m2 0h1m2 0h1m5 0h1m1 0h1m2 0h3m2 0h2m1 0h1M0 445h5m1 0h1m1 0h2m3 0h1m1 0h1m2 0h3m1 0h1m1 0h1m3 0h1m3 0h3m1 0h1m1 0h1m5 0h1m2 0h1m2 0h2m1 0h1m3 0h4m4 0h3m2 0h1m1 0h3m1 0h2m3 0h3m2 0h2m1 0h2m12 0h1m1 0h2m3 0h1m1 0h1m1 0h5m1 0h2m1 0h1m1 0h3M1 446h1m1 0h2m2 0h1m4 0h2m6 0h2m1 0h2m3 0h1m2 0h2m2 0h1m3 0h2m3 0h1m4 0h1m2 0h4m1 0h2m1 0h4m5 0h2m7 0h1m3 0h3m1 0h1m3 0h5m1 0h2m1 0h2m2 0h1m2 0h1m2 0h3m1 0h1m1 0h1m1 0h1m1 0h1m1 0h1m2 0h1M0 447h1m5 0h2m1 0h2m1 0h3m2 0h4m1 0h4m2 0h1m3 0h2m2 0h2m2 0h1m9 0h3m2 0h3m1 0h1m3 0h2m1 0h1m1 0h1m1 0h2m3 0h1m1 0h2m1 0h2m6 0h1m2 0h1m1 0h4m2 0h1m2 0h2m1 0h1m1 0h4m1 0h2m4 0h1m1 0h2m1 0h2m2 0h2M0 448h2m3 0h3m1 0h1m1 0h1m1 0h2m2 0h1m1 0h2m1 0h1m1 0h2m3 0h1m2 0h1m1 0h1m3 0h3m1 0h1m1 0h1m3 0h2m1 0h1m6 0h1m2 0h2m2 0h1m1 0h1m1 0h4m3 0h2m2 0h3m1 0h1m1 0h2m1 0h1m1 0h1m1 0h4m2 0h1m1 0h1m1 0h1m1 0h1m1 0h3m1 0h1m4 0h2m1 0h1m4 0h2m1 0h2M7 449h2m1 0h1m2 0h1m1 0h1m2 0h1m4 0h2m3 0h1m3 0h1m1 0h5m1 0h1m5 0h3m8 0h2m3 0h1m2 0h3m1 0h1m2 0h2m6 0h3m4 0h2m1 0h1m2 0h1m2 0h4m4 0h1m1 0h1m2 0h1m1 0h1m1 0h2m2 0h2m1 0h2m2 0h1m2 0h1M1 450h1m4 0h4m3 0h5m1 0h1m2 0h1m9 0h1m1 0h1m3 0h2m2 0h2m1 0h1m3 0h1m5 0h1m1 0h1m3 0h2m1 0h2m1 0h1m3 0h2m3 0h1m2 0h1m8 0h1m1 0h1m1 0h1m2 0h1m1 0h3m1 0h3m3 0h1m2 0h1m2 0h1m3 0h2m2 0h1m4 0h2m1 0h1M3 451h1m1 0h1m1 0h3m6 0h1m1 0h1m1 0h3m6 0h1m1 0h1m1 0h1m1 0h1m2 0h1m1 0h1m1 0h1m4 0h1m3 0h1m1 0h4m2 0h1m2 0h4m2 0h2m4 0h5m2 0h1m1 0h3m1 0h2m4 0h1m1 0h1m4 0h1m1 0h2m1 0h1m2 0h1m1 0h1m4 0h1m1 0h1m5 0h1m3 0h3M2 452h1m3 0h1m4 0h2m1 0h1m1 0h1m4 0h2m2 0h3m2 0h1m1 0h2m1 0h1m7 0h1m5 0h1m2 0h1m2 0h3m3 0h2m1 0h1m4 0h1m1 0h1m8 0h1m1 0h3m1 0h3m2 0h4m6 0h1m2 0h2m2 0h1m1 0h1m1 0h1m1 0h2m1 0h1m5 0h1m1 0h1m2 0h1M4 453h1m3 0h1m3 0h6m2 0h1m1 0h2m1 0h3m1 0h2m1 0h1m4 0h1m2 0h1m2 0h2m4 0h1m1 0h1m3 0h1m8 0h2m2 0h1m5 0h5m2 0h1m1 0h1m1 0h2m2 0h2m4 0h1m1 0h1m3 0h2m4 0h1m1 0h1m1 0h1m1 0h1m2 0h7m1 0h1m4 0h1M3 454h1m3 0h1m1 0h1m2 0h2m1 0h2m1 0h1m3 0h1m2 0h1m2 0h2m3 0h1m2 0h1m3 0h1m3 0h3m1 0h1m1 0h1m3 0h1m1 0h1m1 0h1m1 0h1m4 0h1m1 0h2m1 0h1m1 0h3m1 0h1m1 0h1m1 0h1m6 0h9m1 0h2m1 0h3m9 0h1m1 0h1m1 0h4m2 0h1m4 0h1m1 0h1M1 455h4m3 0h3m1 0h2m1 0h1m2 0h1m4 0h1m1 0h3m2 0h1m2 0h5m2 0h1m5 0h1m3 0h1m1 0h1m7 0h4m3 0h2m3 0h1m5 0h1m3 0h2m1 0h3m1 0h1m1 0h2m5 0h1m3 0h1m1 0h3m5 0h1m1 0h2m5 0h1m1 0h1m1 0h5M3 456h1m1 0h2m4 0h2m4 0h1m4 0h1m1 0h1m3 0h2m2 0h2m1 0h2m1 0h1m1 0h1m2 0h1m2 0h1m1 0h2m3 0h2m4 0h3m1 0h1m1 0h1m3 0h1m2 0h3m2 0h1m3 0h1m2 0h1m1 0h1m7 0h3m1 0h1m2 0h1m2 0h2m1 0h1m1 0h1m1 0h2m4 0h2m2 0h6m1 0h1M4 457h1m1 0h2m1 0h2m2 0h1m1 0h1m2 0h2m1 0h1m2 0h2m4 0h1m1 0h3m5 0h4m3 0h1m3 0h2m1 0h1m1 0h1m1 0h5m8 0h2m2 0h1m4 0h1m4 0h1m1 0h1m1 0h1m3 0h1m3 0h3m4 0h1m1 0h3m3 0h1m3 0h1m1 0h1m3 0h1m6 0h1M0 458h3m1 0h2m4 0h3m1 0h1m2 0h6m3 0h2m2 0h1m2 0h3m1 0h3m2 0h6m1 0h1m1 0h1m2 0h2m2 0h1m1 0h1m5 0h2m1 0h1m2 0h1m1 0h2m3 0h1m1 0h2m1 0h1m4 0h2m2 0h1m4 0h3m1 0h1m1 0h1m1 0h1m1 0h2m3 0h1m3 0h1m5 0h2M2 459h1m2 0h1m1 0h1m1 0h1m4 0h1m1 0h6m5 0h1m3 0h2m1 0h1m2 0h1m1 0h1m1 0h1m5 0h4m1 0h4m1 0h1m1 0h3m3 0h2m1 0h2m4 0h2m3 0h1m3 0h3m1 0h3m6 0h1m3 0h2m2 0h1m4 0h1m1 0h1m1 0h2m1 0h3m3 0h1M2 460h1m1 0h3m1 0h1m5 0h2m8 0h1m2 0h1m2 0h1m1 0h1m4 0h1m2 0h1m1 0h1m4 0h2m1 0h1m1 0h1m4 0h1m1 0h1m1 0h2m2 0h1m1 0h2m1 0h5m1 0h1m2 0h1m1 0h1m2 0h2m1 0h1m1 0h2m8 0h1m1 0h3m1 0h2m3 0h1m1 0h1m1 0h1m1 0h1m1 0h1m1 0h3m2 0h1M2 461h1m1 0h1m1 0h1m1 0h1m1 0h3m3 0h2m1 0h2m3 0h1m3 0h1m3 0h1m2 0h1m1 0h1m6 0h1m5 0h2m2 0h1m7 0h1m3 0h1m4 0h1m2 0h2m1 0h3m7 0h1m5 0h1m2 0h1m5 0h1m1 0h1m2 0h1m2 0h2m1 0h2m4 0h2m2 0h3m2 0h1M0 462h1m6 0h2m1 0h1m3 0h1m2 0h1m3 0h3m2 0h1m4 0h2m3 0h2m2 0h1m4 0h4m4 0h3m2 0h6m4 0h1m1 0h1m1 0h2m4 0h2m2 0h1m1 0h1m2 0h1m2 0h1m1 0h2m2 0h1m2 0h1m2 0h3m3 0h3m1 0h5m1 0h1m1 0h2m2 0h1m1 0h2m1 0h1M1 463h2m1 0h4m1 0h1m15 0h1m4 0h2m1 0h1m4 0h1m1 0h1m3 0h1m4 0h1m1 0h3m1 0h1m6 0h1m2 0h2m2 0h2m1 0h1m10 0h1m2 0h2m1 0h1m3 0h1m1 0h1m1 0h1m1 0h5m3 0h2m2 0h1m6 0h1m2 0h2m4 0h1M0 464h1m4 0h2m2 0h1m1 0h2m3 0h1m4 0h1m5 0h2m8 0h4m5 0h3m1 0h2m1 0h1m1 0h2m1 0h1m3 0h3m1 0h1m1 0h1m4 0h1m3 0h3m4 0h1m2 0h1m2 0h1m7 0h1m4 0h1m4 0h1m2 0h1m1 0h1m4 0h1m2 0h2m3 0h4M0 465h1m7 0h1m3 0h2m2 0h1m2 0h1m3 0h3m1 0h3m4 0h2m2 0h2m2 0h1m12 0h1m3 0h2m2 0h1m1 0h3m2 0h1m2 0h2m9 0h1m4 0h1m1 0h2m5 0h2m1 0h2m1 0h1m3 0h1m8 0h1m2 0h1m1 0h1m1 0h1m2 0h3M0 466h1m1 0h4m3 0h1m4 0h1m3 0h1m4 0h2m2 0h1m3 0h2m3 0h1m1 0h1m1 0h1m2 0h1m2 0h3m2 0h2m1 0h1m1 0h2m1 0h1m6 0h1m1 0h2m2 0h1m1 0h2m2 0h4m4 0h1m7 0h1m1 0h1m11 0h4m3 0h5m6 0h2M1 467h2m4 0h1m2 0h2m1 0h2m2 0h1m1 0h4m3 0h2m3 0h1m1 0h2m1 0h2m1 0h3m4 0h2m6 0h1m1 0h1m2 0h1m4 0h1m3 0h2m2 0h1m1 0h2m3 0h1m3 0h1m6 0h1m4 0h1m6 0h1m3 0h1m3 0h2m1 0h2m3 0h4m2 0h1m1 0h1M1 468h2m1 0h1m2 0h1m1 0h3m1 0h2m4 0h1m1 0h2m3 0h3m1 0h1m3 0h1m1 0h1m7 0h1m3 0h1m1 0h1m5 0h3m1 0h3m1 0h1m2 0h1m6 0h2m1 0h1m1 0h1m1 0h1m2 0h2m3 0h1m1 0h1m2 0h1m1 0h3m3 0h3m1 0h2m3 0h2m5 0h1m1 0h1m2 0h6M0 469h1m1 0h2m1 0h1m3 0h1m1 0h4m4 0h1m1 0h1m1 0h1m3 0h2m2 0h1m1 0h1m2 0h1m2 0h1m1 0h2m2 0h1m3 0h2m1 0h2m2 0h5m4 0h1m1 0h1m1 0h1m3 0h1m2 0h1m1 0h3m3 0h2m1 0h2m12 0h1m2 0h1m4 0h1m1 0h1m1 0h1m1 0h2m3 0h2m1 0h1m1 0h1m2 0h1M0 470h1m2 0h2m3 0h4m3 0h1m2 0h2m1 0h1m1 0h3m2 0h2m6 0h2m3 0h1m3 0h1m1 0h1m1 0h3m1 0h3m4 0h1m4 0h1m1 0h5m1 0h2m1 0h2m1 0h2m5 0h1m6 0h1m2 0h1m3 0h1m1 0h3m1 0h1m1 0h1m4 0h1m1 0h2m2 0h1m2 0h1m3 0h1m1 0h2M1 471h2m1 0h1m1 0h3m1 0h5m2 0h1m3 0h1m4 0h1m1 0h2m2 0h2m5 0h1m2 0h4m1 0h1m2 0h2m8 0h2m4 0h3m2 0h3m3 0h1m3 0h1m1 0h1m1 0h2m4 0h3m8 0h2m2 0h1m1 0h1m1 0h1m1 0h5m3 0h2m4 0h3M0 472h1m1 0h1m5 0h1m1 0h1m1 0h1m3 0h4m2 0h2m1 0h1m1 0h1m1 0h1m1 0h2m1 0h2m5 0h1m2 0h1m8 0h1m2 0h4m1 0h2m2 0h2m1 0h1m7 0h1m1 0h1m3 0h2m4 0h5m1 0h2m1 0h1m1 0h3m2 0h1m2 0h3m4 0h2m4 0h1m3 0h2m1 0h2M0 473h4m1 0h2m2 0h3m7 0h3m1 0h1m1 0h2m1 0h1m1 0h3m1 0h1m4 0h1m1 0h1m1 0h1m3 0h1m1 0h6m2 0h1m2 0h2m2 0h1m1 0h7m2 0h2m3 0h4m1 0h1m2 0h1m4 0h1m1 0h2m1 0h1m1 0h1m6 0h1m4 0h2m2 0h1m1 0h2m5 0h1m2 0h2M0 474h1m10 0h2m1 0h1m4 0h3m2 0h3m2 0h1m1 0h1m2 0h3m6 0h1m1 0h2m1 0h1m2 0h2m2 0h2m7 0h1m7 0h2m3 0h1m4 0h5m5 0h3m2 0h1m1 0h1m1 0h4m1 0h1m2 0h1m13 0h1m1 0h1m3 0h1M6 475h1m3 0h1m2 0h1m1 0h2m1 0h2m2 0h2m2 0h2m1 0h2m1 0h4m4 0h1m2 0h3m3 0h3m3 0h2m1 0h1m2 0h2m5 0h1m1 0h3m1 0h1m7 0h1m9 0h2m1 0h1m4 0h1m1 0h1m1 0h1m3 0h1m1 0h1m3 0h1m6 0h1m3 0h2M1 476h1m1 0h1m1 0h3m3 0h5m5 0h1m1 0h2m2 0h2m1 0h3m1 0h1m3 0h6m2 0h2m2 0h1m3 0h2m3 0h1m1 0h2m1 0h2m1 0h1m1 0h1m1 0h1m1 0h1m1 0h3m2 0h2m2 0h1m1 0h1m2 0h2m1 0h1m3 0h1m1 0h4m3 0h1m4 0h1m2 0h2m1 0h1m1 0h1m6 0h2m2 0h1M3 477h1m3 0h2m3 0h1m1 0h2m1 0h1m3 0h2m5 0h1m2 0h1m2 0h4m2 0h1m3 0h2m2 0h1m1 0h1m2 0h1m1 0h1m4 0h1m2 0h3m1 0h2m1 0h3m2 0h2m4 0h1m1 0h2m2 0h1m6 0h2m1 0h1m2 0h3m8 0h1m1 0h1m2 0h1m2 0h1m1 0h1M3 478h2m2 0h3m3 0h2m1 0h3m1 0h4m1 0h2m2 0h1m1 0h1m2 0h2m1 0h1m1 0h2m2 0h3m1 0h6m1 0h4m4 0h2m1 0h2m1 0h1m5 0h1m3 0h1m5 0h2m5 0h5m2 0h3m3 0h1m1 0h2m3 0h1m5 0h1m1 0h2m3 0h1m4 0h1M1 479h1m1 0h2m2 0h1m1 0h1m1 0h2m1 0h1m3 0h1m1 0h2m1 0h1m1 0h1m1 0h1m1 0h1m1 0h5m1 0h1m5 0h4m7 0h1m1 0h1m1 0h1m4 0h1m2 0h6m1 0h1m1 0h1m2 0h4m2 0h1m3 0h1m2 0h2m2 0h1m3 0h1m2 0h4m1 0h5m2 0h1m3 0h1m7 0h2M1 480h1m2 0h1m4 0h1m3 0h2m1 0h1m7 0h2m1 0h1m2 0h1m4 0h1m2 0h1m4 0h1m2 0h4m7 0h3m3 0h3m1 0h3m2 0h1m2 0h1m3 0h1m1 0h1m4 0h1m3 0h2m3 0h2m7 0h2m2 0h1m1 0h2m2 0h2m1 0h1m1 0h1m1 0h1m1 0h2m1 0h1m1 0h1M4 481h3m1 0h6m1 0h6m2 0h1m1 0h1m8 0h2m2 0h1m3 0h1m6 0h1m3 0h1m2 0h6m1 0h4m9 0h1m1 0h1m1 0h1m1 0h1m1 0h1m1 0h1m2 0h1m3 0h1m5 0h4m1 0h2m7 0h1m3 0h1m5 0h2m2 0h2M0 482h1m2 0h2m1 0h2m2 0h1m1 0h1m1 0h1m1 0h1m2 0h2m3 0h1m1 0h2m3 0h1m1 0h2m1 0h1m3 0h1m1 0h1m3 0h2m4 0h2m1 0h2m3 0h3m5 0h1m3 0h1m1 0h1m1 0h2m5 0h5m1 0h1m3 0h1m1 0h3m2 0h1m2 0h1m1 0h1m2 0h1m3 0h1m3 0h1m2 0h1m1 0h2m1 0h1m1 0h1M0 483h1m5 0h1m1 0h1m3 0h1m3 0h2m2 0h1m2 0h2m1 0h2m2 0h1m3 0h5m1 0h1m1 0h1m2 0h1m1 0h2m4 0h1m3 0h1m1 0h1m6 0h1m3 0h2m2 0h1m8 0h1m1 0h2m1 0h1m1 0h1m2 0h1m2 0h1m1 0h5m2 0h1m2 0h2m2 0h2m1 0h1m3 0h1m1 0h1m3 0h1m1 0h1m1 0h1M1 484h2m2 0h1m2 0h1m1 0h1m2 0h2m2 0h3m4 0h1m1 0h2m1 0h3m3 0h3m1 0h1m2 0h2m4 0h1m8 0h4m1 0h1m1 0h5m1 0h2m2 0h1m1 0h2m2 0h1m1 0h1m2 0h1m2 0h1m2 0h1m1 0h1m1 0h1m4 0h1m1 0h3m2 0h1m1 0h5m4 0h1m1 0h3m2 0h1M0 485h1m1 0h3m1 0h1m1 0h2m5 0h1m4 0h1m3 0h2m2 0h1m1 0h1m1 0h2m5 0h1m7 0h1m1 0h1m3 0h1m3 0h2m1 0h1m1 0h1m3 0h1m1 0h2m1 0h1m1 0h1m1 0h1m5 0h3m5 0h1m2 0h1m1 0h1m2 0h2m1 0h4m4 0h1m4 0h3m1 0h1m4 0h1m1 0h2m2 0h1M1 486h3m2 0h1m3 0h1m1 0h3m3 0h2m1 0h1m1 0h1m3 0h1m1 0h1m2 0h1m1 0h1m2 0h1m1 0h1m1 0h3m2 0h2m2 0h1m1 0h1m1 0h1m2 0h4m3 0h1m1 0h4m1 0h1m2 0h1m1 0h1m1 0h3m1 0h2m2 0h1m4 0h1m1 0h2m4 0h1m1 0h1m3 0h1m4 0h2m1 0h1m3 0h2m1 0h3m3 0h3M0 487h2m5 0h1m3 0h1m3 0h1m1 0h1m1 0h1m1 0h1m1 0h2m10 0h2m1 0h1m7 0h3m1 0h1m1 0h2m1 0h1m3 0h4m1 0h1m3 0h1m1 0h4m1 0h1m2 0h1m1 0h1m2 0h1m2 0h1m1 0h2m1 0h1m1 0h1m3 0h1m3 0h5m1 0h1m2 0h2m2 0h1m1 0h2m6 0h6M1 488h3m3 0h1m1 0h1m1 0h1m1 0h1m1 0h5m8 0h1m3 0h1m4 0h1m1 0h1m1 0h2m2 0h1m6 0h1m1 0h1m2 0h1m1 0h2m1 0h1m2 0h1m1 0h3m1 0h3m2 0h1m1 0h2m8 0h2m1 0h1m2 0h2m5 0h4m5 0h1m1 0h1m3 0h2m1 0h3m1 0h2m2 0h2M1 489h1m7 0h2m1 0h1m1 0h2m6 0h2m1 0h1m1 0h2m1 0h2m2 0h3m5 0h1m1 0h1m6 0h1m1 0h5m1 0h1m1 0h1m1 0h2m1 0h1m5 0h3m2 0h1m6 0h1m2 0h1m2 0h2m2 0h1m1 0h3m3 0h1m1 0h5m3 0h1m2 0h1m1 0h1m1 0h2m1 0h1m1 0h1m1 0h1m2 0h1M0 490h1m2 0h3m1 0h1m4 0h2m2 0h1m4 0h1m1 0h2m3 0h1m1 0h1m5 0h1m2 0h1m1 0h2m2 0h1m3 0h1m1 0h1m1 0h2m6 0h1m2 0h1m2 0h1m1 0h1m1 0h1m3 0h1m2 0h2m1 0h1m3 0h3m2 0h6m2 0h3m1 0h1m1 0h3m2 0h1m1 0h1m4 0h1m1 0h1m2 0h1m1 0h1m5 0h1M1 491h4m4 0h2m1 0h1m3 0h1m2 0h1m1 0h2m3 0h2m1 0h1m1 0h2m1 0h1m1 0h1m1 0h2m1 0h4m2 0h1m1 0h1m2 0h1m1 0h1m4 0h1m3 0h2m1 0h1m4 0h3m2 0h1m5 0h1m3 0h1m1 0h1m3 0h3m2 0h2m1 0h1m1 0h1m2 0h1m2 0h1m1 0h2m1 0h1m3 0h2m3 0h3m4 0h1M1 492h1m3 0h4m1 0h1m4 0h1m1 0h2m1 0h1m1 0h7m1 0h5m2 0h1m1 0h1m2 0h2m1 0h2m1 0h3m3 0h1m4 0h1m1 0h1m3 0h1m3 0h1m1 0h1m1 0h2m2 0h1m4 0h3m3 0h3m1 0h2m3 0h1m2 0h1m1 0h2m2 0h1m2 0h4m1 0h1m8 0h2m1 0h3M2 493h2m3 0h1m1 0h2m1 0h4m1 0h1m4 0h1m1 0h1m1 0h1m5 0h2m14 0h1m2 0h1m2 0h2m3 0h1m1 0h1m2 0h1m6 0h2m1 0h2m1 0h2m7 0h1m6 0h3m7 0h1m3 0h1m1 0h2m1 0h2m1 0h2m3 0h2m4 0h1m2 0h1M1 494h1m1 0h1m3 0h2m2 0h1m1 0h1m2 0h1m1 0h4m1 0h6m1 0h1m1 0h2m1 0h1m1 0h1m3 0h3m1 0h1m2 0h1m3 0h3m1 0h2m1 0h1m1 0h1m4 0h5m2 0h1m2 0h2m1 0h1m1 0h5m2 0h2m2 0h1m2 0h1m1 0h2m3 0h1m2 0h2m1 0h4m1 0h2m1 0h1m1 0h1m1 0h1m2 0h1m1 0h1m1 0h1m1 0h1M0 495h2m2 0h2m2 0h1m1 0h1m1 0h1m1 0h1m1 0h2m2 0h1m1 0h1m6 0h1m1 0h2m1 0h3m1 0h1m1 0h2m1 0h1m3 0h1m2 0h4m2 0h1m6 0h3m2 0h1m1 0h1m1 0h1m1 0h1m2 0h2m2 0h1m3 0h4m1 0h1m1 0h4m2 0h2m1 0h1m1 0h1m3 0h3m2 0h2m6 0h2m5 0h3M0 496h3m2 0h1m1 0h1m2 0h1m2 0h2m1 0h2m1 0h3m1 0h1m5 0h1m2 0h2m1 0h2m3 0h5m8 0h1m1 0h2m1 0h1m1 0h2m2 0h1m3 0h3m2 0h1m2 0h1m1 0h2m1 0h1m2 0h1m1 0h1m1 0h2m3 0h2m1 0h1m3 0h2m6 0h1m1 0h1m6 0h1m1 0h1m1 0h2m2 0h1m3 0h1M1 497h1m1 0h1m3 0h5m1 0h2m1 0h2m2 0h1m1 0h3m4 0h3m2 0h1m2 0h1m2 0h1m1 0h1m3 0h2m2 0h1m1 0h2m2 0h2m4 0h3m5 0h1m2 0h1m1 0h2m1 0h2m2 0h2m1 0h1m3 0h4m1 0h2m1 0h1m1 0h2m2 0h2m2 0h1m5 0h1m1 0h2m1 0h1m3 0h2m1 0h1m2 0h1M0 498h1m5 0h3m1 0h1m2 0h1m3 0h1m4 0h1m2 0h3m1 0h1m7 0h1m2 0h1m3 0h1m3 0h1m5 0h1m2 0h2m2 0h2m1 0h2m5 0h6m2 0h1m1 0h2m2 0h6m3 0h1m4 0h1m1 0h1m1 0h1m1 0h1m2 0h1m2 0h2m4 0h2m1 0h2m2 0h1m2 0h3M0 499h7m2 0h1m2 0h1m1 0h1m1 0h2m1 0h2m1 0h2m3 0h3m2 0h1m4 0h3m1 0h2m1 0h1m1 0h1m1 0h6m7 0h3m6 0h1m2 0h3m1 0h1m9 0h1m4 0h2m1 0h1m1 0h1m1 0h1m3 0h1m1 0h5m4 0h4m2 0h1m2 0h1m1 0h1m1 0h1M1 500h1m1 0h1m2 0h1m4 0h2m1 0h1m2 0h1m3 0h1m1 0h1m2 0h1m1 0h1m2 0h1m2 0h1m2 0h1m2 0h3m1 0h2m1 0h2m2 0h2m3 0h1m1 0h2m6 0h2m1 0h1m7 0h1m5 0h3m2 0h3m3 0h1m4 0h3m2 0h2m1 0h2m5 0h3m2 0h1m1 0h3m1 0h1m1 0h3M0 501h5m3 0h1m8 0h2m1 0h1m1 0h4m2 0h1m1 0h1m3 0h1m2 0h6m1 0h2m4 0h2m3 0h3m4 0h1m2 0h5m2 0h1m1 0h3m1 0h1m1 0h2m4 0h3m5 0h1m1 0h2m1 0h1m2 0h1m1 0h2m3 0h1m1 0h1m3 0h2m3 0h1m3 0h3m1 0h2M1 502h1m2 0h1m2 0h1m1 0h3m5 0h1m2 0h3m3 0h2m2 0h4m1 0h2m1 0h2m2 0h3m1 0h1m3 0h1m1 0h1m6 0h2m4 0h1m1 0h1m6 0h1m13 0h1m2 0h2m2 0h2m1 0h1m3 0h1m6 0h2m3 0h7m5 0h2m1 0h1M3 503h2m4 0h1m4 0h4m2 0h1m4 0h1m2 0h3m2 0h1m3 0h5m4 0h2m3 0h1m2 0h1m1 0h1m2 0h1m8 0h1m3 0h2m1 0h1m1 0h1m1 0h1m1 0h1m1 0h1m7 0h3m1 0h1m4 0h1m5 0h1m1 0h1m5 0h3m1 0h2m3 0h1m3 0h2M1 504h2m2 0h2m2 0h1m3 0h2m2 0h1m2 0h1m2 0h2m1 0h1m3 0h4m1 0h2m2 0h1m2 0h2m1 0h2m5 0h1m1 0h1m2 0h3m2 0h1m3 0h6m1 0h3m2 0h6m1 0h2m1 0h2m2 0h1m1 0h2m3 0h2m1 0h2m2 0h2m2 0h6m3 0h1m5 0h1M0 505h1m2 0h2m2 0h1m8 0h3m1 0h4m3 0h1m2 0h3m1 0h4m2 0h1m1 0h1m3 0h1m3 0h2m1 0h1m4 0h2m2 0h1m3 0h1m1 0h1m1 0h1m5 0h3m5 0h1m1 0h1m1 0h1m3 0h1m2 0h1m1 0h1m2 0h1m4 0h2m1 0h1m1 0h2m6 0h2m2 0h2m2 0h1M2 506h2m2 0h1m1 0h2m7 0h1m1 0h2m3 0h1m4 0h1m1 0h1m3 0h1m3 0h3m1 0h1m2 0h4m1 0h2m1 0h2m8 0h3m1 0h5m2 0h2m5 0h1m4 0h3m1 0h1m1 0h3m4 0h2m1 0h1m5 0h5m2 0h1m4 0h1m1 0h1m1 0h1m1 0h1M0 507h4m3 0h3m6 0h6m4 0h1m2 0h1m2 0h1m2 0h1m1 0h1m4 0h1m1 0h1m2 0h3m1 0h1m1 0h1m2 0h1m1 0h1m3 0h4m1 0h2m1 0h1m2 0h3m1 0h1m3 0h2m1 0h1m1 0h2m3 0h3m4 0h2m6 0h2m2 0h1m2 0h1m2 0h1m1 0h1m2 0h1m3 0h3m1 0h1M1 508h3m7 0h1m1 0h1m1 0h1m1 0h1m2 0h2m1 0h1m1 0h1m2 0h1m1 0h1m1 0h1m5 0h3m2 0h1m3 0h2m1 0h1m4 0h1m1 0h3m1 0h2m3 0h1m1 0h1m5 0h2m3 0h1m2 0h1m7 0h3m3 0h2m1 0h2m1 0h3m2 0h1m3 0h1m1 0h1m1 0h1m2 0h1m1 0h1m1 0h1m3 0h2m1 0h1M0 509h1m3 0h2m10 0h1m2 0h5m2 0h3m1 0h3m1 0h1m2 0h1m1 0h1m2 0h2m3 0h2m2 0h1m1 0h1m2 0h1m3 0h1m5 0h1m2 0h2m1 0h6m3 0h1m1 0h3m1 0h1m10 0h1m1 0h1m1 0h1m1 0h1m1 0h2m2 0h1m1 0h2m1 0h1m3 0h3m2 0h1m4 0h1M1 510h2m4 0h1m1 0h2m11 0h5m1 0h2m1 0h1m3 0h1m1 0h2m1 0h1m2 0h1m3 0h2m4 0h1m1 0h2m2 0h4m1 0h3m4 0h1m1 0h5m4 0h2m1 0h2m1 0h2m1 0h1m1 0h4m6 0h2m2 0h1m1 0h1m4 0h3m1 0h1m3 0h1m1 0h2m1 0h1m1 0h1M1 511h1m7 0h1m3 0h2m1 0h3m3 0h3m3 0h1m2 0h2m6 0h1m1 0h1m1 0h1m1 0h1m2 0h1m2 0h4m1 0h2m1 0h1m2 0h1m2 0h1m2 0h1m1 0h1m3 0h1m1 0h1m2 0h3m2 0h1m5 0h1m2 0h1m1 0h1m6 0h2m3 0h2m2 0h2m4 0h1m1 0h4m1 0h1m3 0h2M2 512h1m1 0h1m1 0h1m1 0h2m1 0h1m7 0h2m3 0h1m4 0h1m4 0h3m1 0h1m2 0h1m1 0h1m2 0h2m2 0h1m2 0h4m2 0h1m1 0h2m2 0h5m3 0h1m1 0h1m2 0h1m2 0h1m1 0h1m2 0h1m2 0h1m3 0h2m2 0h1m2 0h1m1 0h4m2 0h1m2 0h2m1 0h2m2 0h1m1 0h1m5 0h2M0 513h1m4 0h3m4 0h1m1 0h1m6 0h2m2 0h3m2 0h1m3 0h1m4 0h1m2 0h2m2 0h2m4 0h2m9 0h5m1 0h2m1 0h1m1 0h1m3 0h3m2 0h1m4 0h2m4 0h3m1 0h1m2 0h3m3 0h1m1 0h1m2 0h1m1 0h3m3 0h1m1 0h3m3 0h1M0 514h1m1 0h1m1 0h2m2 0h1m1 0h1m1 0h1m3 0h1m1 0h4m1 0h3m2 0h1m3 0h1m3 0h1m1 0h2m3 0h2m2 0h1m5 0h1m2 0h1m1 0h1m1 0h1m2 0h1m3 0h1m2 0h1m2 0h1m2 0h1m4 0h1m1 0h1m1 0h3m3 0h1m1 0h1m1 0h1m2 0h1m1 0h1m4 0h1m3 0h1m6 0h2m2 0h1m4 0h3m1 0h1M2 515h2m2 0h2m1 0h2m4 0h2m6 0h2m1 0h1m1 0h2m1 0h3m3 0h1m1 0h1m1 0h1m2 0h1m1 0h4m1 0h1m3 0h2m1 0h1m4 0h1m2 0h1m2 0h1m10 0h1m1 0h2m7 0h5m3 0h2m1 0h1m3 0h1m1 0h2m3 0h1m11 0h2m2 0h1M0 516h2m2 0h1m2 0h1m1 0h1m5 0h2m1 0h4m2 0h2m3 0h1m2 0h1m1 0h2m2 0h1m3 0h1m2 0h3m5 0h1m2 0h1m5 0h1m3 0h1m1 0h3m2 0h1m1 0h1m2 0h1m2 0h1m1 0h2m2 0h4m3 0h2m2 0h1m1 0h1m2 0h1m2 0h1m1 0h2m1 0h1m4 0h1m1 0h2m3 0h5M1 517h2m3 0h1m2 0h1m3 0h1m3 0h2m1 0h5m8 0h1m6 0h1m2 0h1m1 0h1m4 0h1m1 0h2m1 0h1m3 0h2m2 0h2m1 0h1m2 0h1m3 0h1m6 0h5m1 0h4m1 0h1m2 0h1m2 0h2m1 0h1m1 0h1m2 0h1m3 0h1m4 0h1m2 0h2m2 0h7m1 0h1M0 518h1m2 0h1m1 0h1m3 0h3m1 0h1m1 0h8m1 0h2m1 0h1m6 0h4m1 0h1m1 0h1m1 0h2m1 0h2m1 0h2m1 0h1m3 0h3m1 0h1m1 0h2m5 0h1m7 0h2m1 0h6m2 0h3m1 0h1m3 0h1m3 0h2m2 0h1m1 0h3m1 0h1m1 0h1m1 0h1m4 0h1m1 0h1m1 0h1m1 0h1m3 0h1M1 519h2m3 0h1m1 0h1m1 0h2m2 0h3m2 0h1m1 0h1m5 0h1m3 0h1m1 0h1m4 0h2m2 0h1m3 0h1m1 0h1m2 0h2m2 0h1m2 0h1m1 0h1m4 0h2m1 0h1m1 0h1m1 0h1m1 0h1m2 0h2m1 0h1m4 0h2m2 0h1m5 0h1m5 0h1m1 0h1m1 0h1m1 0h1m2 0h1m4 0h2m3 0h2m1 0h1m5 0h1M2 520h1m1 0h1m3 0h3m1 0h1m5 0h1m4 0h1m2 0h1m7 0h2m2 0h1m1 0h1m3 0h1m2 0h1m2 0h3m2 0h1m3 0h2m1 0h1m1 0h1m1 0h1m5 0h1m1 0h1m2 0h1m6 0h1m5 0h1m1 0h5m1 0h2m2 0h1m1 0h4m1 0h2m2 0h2m1 0h1m1 0h1m9 0h1M1 521h3m1 0h1m2 0h1m3 0h1m2 0h1m1 0h2m1 0h1m1 0h1m1 0h1m3 0h1m10 0h1m2 0h1m1 0h2m1 0h1m1 0h1m2 0h1m5 0h2m2 0h3m2 0h1m1 0h2m4 0h1m1 0h1m1 0h2m4 0h1m2 0h1m3 0h2m4 0h2m1 0h2m2 0h2m1 0h3m1 0h1m2 0h3m3 0h1m3 0h1m1 0h2M0 522h1m1 0h1m3 0h2m1 0h1m4 0h4m1 0h3m7 0h2m3 0h3m1 0h2m1 0h2m1 0h2m3 0h6m3 0h2m1 0h1m5 0h1m6 0h1m1 0h1m2 0h1m3 0h4m1 0h2m3 0h2m2 0h3m3 0h7m2 0h2m1 0h2m2 0h1m7 0h3M6 523h2m4 0h1m4 0h1m1 0h1m3 0h2m2 0h1m1 0h2m1 0h2m1 0h1m2 0h2m1 0h3m4 0h4m1 0h1m2 0h2m2 0h1m6 0h7m1 0h1m2 0h3m1 0h3m1 0h1m3 0h2m2 0h3m1 0h1m1 0h1m3 0h2m6 0h1m2 0h2m1 0h1m5 0h1m1 0h1m2 0h1M5 524h3m1 0h1m1 0h1m1 0h2m1 0h1m1 0h3m1 0h1m6 0h2m1 0h1m1 0h2m4 0h2m2 0h1m3 0h1m1 0h1m2 0h2m1 0h1m3 0h1m1 0h5m1 0h1m3 0h1m1 0h2m1 0h1m2 0h1m1 0h1m1 0h1m5 0h1m1 0h1m1 0h3m3 0h2m1 0h1m1 0h1m1 0h1m2 0h3m1 0h3m1 0h2m4 0h4M3 525h1m2 0h2m4 0h2m4 0h1m3 0h1m1 0h2m1 0h1m8 0h1m7 0h2m1 0h1m2 0h1m1 0h2m1 0h3m1 0h1m2 0h1m1 0h3m1 0h1m1 0h2m2 0h1m2 0h1m2 0h1m2 0h2m1 0h2m1 0h1m4 0h2m2 0h1m3 0h1m1 0h2m2 0h1m3 0h1m7 0h2m2 0h1M3 526h2m2 0h2m2 0h1m3 0h1m3 0h2m2 0h2m4 0h1m1 0h1m1 0h3m1 0h2m1 0h2m1 0h1m4 0h1m1 0h3m5 0h1m1 0h7m1 0h1m2 0h5m15 0h2m1 0h2m3 0h2m1 0h1m1 0h2m3 0h2m3 0h1m1 0h1m1 0h1m1 0h1m3 0h1M1 527h1m1 0h4m1 0h2m3 0h4m3 0h2m2 0h4m1 0h1m1 0h4m3 0h3m1 0h1m2 0h1m1 0h1m1 0h1m1 0h4m4 0h1m2 0h2m2 0h1m2 0h2m3 0h2m3 0h3m1 0h1m5 0h2m5 0h2m3 0h3m1 0h3m1 0h4m2 0h2m1 0h2m1 0h3m3 0h1m1 0h1M1 528h3m1 0h3m1 0h1m5 0h1m4 0h1m1 0h1m1 0h3m4 0h1m1 0h2m1 0h1m1 0h1m3 0h6m3 0h1m3 0h4m2 0h1m2 0h2m1 0h3m1 0h2m5 0h1m1 0h2m3 0h1m1 0h2m1 0h1m1 0h1m1 0h1m2 0h1m3 0h1m1 0h2m1 0h1m2 0h1m1 0h1m4 0h5m1 0h1m2 0h1m1 0h3M0 529h3m2 0h1m1 0h1m1 0h1m1 0h2m2 0h1m1 0h3m2 0h1m1 0h1m5 0h2m1 0h1m1 0h2m7 0h1m2 0h2m5 0h1m1 0h6m1 0h6m17 0h2m3 0h4m2 0h1m2 0h1m1 0h1m2 0h1m1 0h1m1 0h1m1 0h2m1 0h1m3 0h1m2 0h1m2 0h2m3 0h1M2 530h1m2 0h1m2 0h1m2 0h2m2 0h4m1 0h1m2 0h1m3 0h1m3 0h3m5 0h2m2 0h2m1 0h2m1 0h1m3 0h1m1 0h2m2 0h1m1 0h1m1 0h4m4 0h3m6 0h1m6 0h1m1 0h1m4 0h2m1 0h1m4 0h1m2 0h1m5 0h1m9 0h3m1 0h1m1 0h3M0 531h4m2 0h1m1 0h3m3 0h4m1 0h1m2 0h4m1 0h1m1 0h1m1 0h2m1 0h1m2 0h2m1 0h3m1 0h1m6 0h1m4 0h1m4 0h3m4 0h2m1 0h1m4 0h1m2 0h1m1 0h1m1 0h2m1 0h2m1 0h2m1 0h5m3 0h4m1 0h1m4 0h1m1 0h2m3 0h1m5 0h1m1 0h2M4 532h3m1 0h1m7 0h2m3 0h5m2 0h1m2 0h1m1 0h3m3 0h1m2 0h2m1 0h2m3 0h3m3 0h2m5 0h8m2 0h2m1 0h2m1 0h1m1 0h1m1 0h4m1 0h3m2 0h1m8 0h1m1 0h1m2 0h1m2 0h2m3 0h1m1 0h1m4 0h2M5 533h5m6 0h1m1 0h1m6 0h1m1 0h2m1 0h1m1 0h2m2 0h1m4 0h2m3 0h1m1 0h1m2 0h1m2 0h3m1 0h1m1 0h1m1 0h1m1 0h1m1 0h1m2 0h2m2 0h1m4 0h1m2 0h1m1 0h1m1 0h4m1 0h1m2 0h2m1 0h1m1 0h4m1 0h1m4 0h2m4 0h1m1 0h2m2 0h1m1 0h1m2 0h1m1 0h1M0 534h1m3 0h1m3 0h2m8 0h1m1 0h2m4 0h2m4 0h1m1 0h1m1 0h1m4 0h1m3 0h2m1 0h1m2 0h3m1 0h3m5 0h4m1 0h1m2 0h4m2 0h1m1 0h2m6 0h1m2 0h1m4 0h1m1 0h1m1 0h2m2 0h1m1 0h1m3 0h1m4 0h5m1 0h1m4 0h2m1 0h1M2 535h1m5 0h1m1 0h1m2 0h1m7 0h1m1 0h3m1 0h2m2 0h2m1 0h4m4 0h2m2 0h1m1 0h5m2 0h3m2 0h2m1 0h1m5 0h2m2 0h2m1 0h1m1 0h1m5 0h1m1 0h1m1 0h1m1 0h1m2 0h1m4 0h3m2 0h1m3 0h1m2 0h1m1 0h4m2 0h1m1 0h2m2 0h1m1 0h1m2 0h1M0 536h1m4 0h1m4 0h1m1 0h1m3 0h1m1 0h1m2 0h1m5 0h2m2 0h1m1 0h1m2 0h3m3 0h1m1 0h1m1 0h2m1 0h1m1 0h1m1 0h1m2 0h1m3 0h1m2 0h1m1 0h4m1 0h1m1 0h1m5 0h2m5 0h4m2 0h1m5 0h1m1 0h1m6 0h1m2 0h1m2 0h3m1 0h2m1 0h1m1 0h1m1 0h1m1 0h1m2 0h1M7 537h2m1 0h1m7 0h3m1 0h2m2 0h1m4 0h1m1 0h1m1 0h1m2 0h1m2 0h2m6 0h3m2 0h1m9 0h1m4 0h1m4 0h1m2 0h1m3 0h1m3 0h1m1 0h1m1 0h1m1 0h2m1 0h1m1 0h2m4 0h2m1 0h2m2 0h1m12 0h4m1 0h1M1 538h2m3 0h1m1 0h1m2 0h1m3 0h3m1 0h1m4 0h1m8 0h2m1 0h1m9 0h1m2 0h7m4 0h1m2 0h2m1 0h1m6 0h1m4 0h3m1 0h1m2 0h1m1 0h1m2 0h1m5 0h3m4 0h2m5 0h1m1 0h1m7 0h1m2 0h3m2 0h2M5 539h1m4 0h1m2 0h1m3 0h1m3 0h2m2 0h1m5 0h1m1 0h2m2 0h2m4 0h1m2 0h2m1 0h2m2 0h1m8 0h7m3 0h1m3 0h1m2 0h2m2 0h1m1 0h2m8 0h1m3 0h2m3 0h1m4 0h1m1 0h1m3 0h1m1 0h1m7 0h1M2 540h1m7 0h1m1 0h2m1 0h1m2 0h1m3 0h1m1 0h2m6 0h1m2 0h1m3 0h1m2 0h2m3 0h1m2 0h3m2 0h1m3 0h1m11 0h1m1 0h1m3 0h1m1 0h1m1 0h1m1 0h1m2 0h1m1 0h1m1 0h2m1 0h1m1 0h2m1 0h1m1 0h1m1 0h1m3 0h1m1 0h1m1 0h1m2 0h2m1 0h1m6 0h1m4 0h1M0 541h1m8 0h1m4 0h2m1 0h3m1 0h1m2 0h1m5 0h2m1 0h1m1 0h1m1 0h6m1 0h4m4 0h1m3 0h2m1 0h3m2 0h1m2 0h2m1 0h1m1 0h1m8 0h2m1 0h4m4 0h2m1 0h1m1 0h1m2 0h2m2 0h1m3 0h1m2 0h1m1 0h1m2 0h1m2 0h2m1 0h2m1 0h1m1 0h2M3 542h1m1 0h1m2 0h2m1 0h2m2 0h1m2 0h1m2 0h3m3 0h1m3 0h1m1 0h3m5 0h1m2 0h1m1 0h1m2 0h1m3 0h2m4 0h1m1 0h1m3 0h2m2 0h2m1 0h1m3 0h1m3 0h3m6 0h1m3 0h1m2 0h1m4 0h1m2 0h1m2 0h5m1 0h3m3 0h2m5 0h1m2 0h1M2 543h1m2 0h1m1 0h2m1 0h1m3 0h1m1 0h1m1 0h4m6 0h2m3 0h2m8 0h2m1 0h1m1 0h2m1 0h1m1 0h2m1 0h1m1 0h2m1 0h3m4 0h1m3 0h3m2 0h1m1 0h1m3 0h1m1 0h2m1 0h1m1 0h1m4 0h1m2 0h7m1 0h1m2 0h1m6 0h3m1 0h1m5 0h1m1 0h1M1 544h1m6 0h1m2 0h2m15 0h1m4 0h1m1 0h1m3 0h2m2 0h2m5 0h1m1 0h2m4 0h2m1 0h1m2 0h1m1 0h1m4 0h1m1 0h1m2 0h1m2 0h1m2 0h1m1 0h1m1 0h3m1 0h1m2 0h2m1 0h1m3 0h3m8 0h4m3 0h1m1 0h1m2 0h1m2 0h3M2 545h1m3 0h3m2 0h2m2 0h1m2 0h1m1 0h1m1 0h1m1 0h2m1 0h2m2 0h2m2 0h2m7 0h1m2 0h1m2 0h1m2 0h1m3 0h1m1 0h2m1 0h1m1 0h1m1 0h1m1 0h2m6 0h1m4 0h2m1 0h2m1 0h1m1 0h1m1 0h1m2 0h2m1 0h2m2 0h1m1 0h2m4 0h3m1 0h2m1 0h1m1 0h4m2 0h4M2 546h1m3 0h1m3 0h1m1 0h1m6 0h1m2 0h4m5 0h2m1 0h2m4 0h1m1 0h1m4 0h1m6 0h1m4 0h1m4 0h1m1 0h1m2 0h2m2 0h2m3 0h2m2 0h2m1 0h2m5 0h2m2 0h1m5 0h2m2 0h6m2 0h1m2 0h1m1 0h1m1 0h2m1 0h1"/></g></defs><g transform="translate(0 .5)" fill="none" stroke-width="1" shape-rendering="crispEdges"><use href="#t3" x="50"/><use href="#t3" x="180"/><use href="#t3" x="310"/><use href="#t3" x="440"/><use href="#t3" x="570"/><path stroke="#bfbfe3" d="M610 547h1M159 548h1m47 0h1m13 0h1m23 0h1m214 0h1M114 549h1m28 0h1m20 0h1m111 0h1m3 0h1m9 0h1m156 0h1M59 550h1m15 0h1m25 0h1m39 0h1m298 0h1m5 0h1m191 0h1M96 551h1m5 0h1m5 0h1m25 0h1m30 0h1m84 0h1m64 0h1m7 0h1m27 0h1m11 0h1m77 0h1m9 0h1m12 0h1m20 0h1M68 552h1m24 0h1m21 0h1m12 0h1m135 0h1m26 0h1m27 0h1m71 0h1m46 0h1m1 0h1m179 0h1M51 553h1m4 0h1m1 0h1m30 0h1m9 0h1m2 0h1m85 0h1m27 0h1m7 0h1m10 0h1m17 0h1m13 0h1m73 0h1m10 0h1m11 0h1m38 0h1m43 0h1m42 0h1m23 0h1M52 554h1m3 0h1m39 0h1m112 0h1m79 0h1m8 0h1m65 0h1M95 555h1m16 0h1m61 0h1m5 0h1m2 0h1m30 0h1m59 0h1m21 0h1m1 0h1m79 0h1m6 0h1m5 0h1m1 0h1m35 0h1m19 0h1m4 0h1m7 0h1m9 0h1M54 556h1m18 0h1m3 0h1m9 0h2m9 0h2m12 0h1m2 0h1m10 0h1m27 0h1m2 0h1m21 0h1m10 0h1m6 0h1m15 0h1m2 0h1m9 0h1m30 0h2m28 0h1m2 0h1m46 0h1m18 0h1m65 0h1m5 0h1m8 0h1m11 0h1m5 0h1m11 0h1m10 0h1m17 0h1M60 557h1m3 0h1m11 0h3m14 0h1m8 0h1m41 0h3m74 0h1m42 0h1m4 0h1m1 0h1m20 0h2m3 0h1m5 0h1m23 0h1m15 0h1m5 0h1m12 0h1m25 0h1m4 0h1m21 0h1m20 0h1m6 0h3m3 0h1m7 0h1m2 0h1m5 0h1m11 0h1m10 0h1m1 0h1m30 0h1M51 558h1m8 0h1m8 0h1m6 0h1m1 0h1m8 0h1m5 0h1m10 0h1m1 0h1m28 0h1m5 0h1m26 0h1m16 0h2m4 0h1m8 0h1m18 0h1m1 0h1m27 0h2m47 0h1m17 0h1m4 0h1m21 0h1m19 0h1m23 0h1m2 0h1m29 0h1m31 0h1m2 0h1m9 0h1m9 0h1m6 0h1m3 0h1m4 0h1m13 0h1m2 0h1m26 0h1m18 0h1m7 0h1m13 0h1M56 559h1m1 0h1m1 0h1m17 0h1m9 0h1m5 0h1m2 0h1m11 0h2m14 0h1m7 0h1m9 0h2m20 0h1m6 0h1m21 0h1m2 0h1m9 0h1m2 0h1m8 0h1m15 0h1m10 0h1m1 0h1m4 0h1m2 0h1m20 0h1m5 0h1m19 0h1m2 0h1m14 0h1m2 0h1m14 0h1m7 0h1m5 0h1m6 0h1m2 0h1m1 0h2m1 0h2m9 0h2m11 0h2m2 0h1m13 0h1m8 0h1m5 0h2m38 0h1m1 0h1m9 0h1m7 0h1m7 0h1m12 0h1m31 0h1m8 0h1m37 0h1M57 560h1m1 0h1m6 0h3m6 0h1m1 0h1m2 0h2m10 0h2m8 0h1m5 0h1m1 0h1m1 0h1m3 0h1m3 0h1m4 0h1m9 0h2m2 0h1m8 0h1m10 0h1m4 0h1m3 0h1m14 0h1m11 0h1m9 0h1m4 0h1m23 0h1m25 0h1m4 0h1m8 0h1m2 0h1m4 0h2m2 0h1m21 0h1m17 0h1m2 0h1m6 0h1m48 0h2m27 0h1m6 0h1m7 0h1m5 0h1m8 0h1m8 0h1m14 0h1m15 0h1m2 0h1m4 0h1m2 0h1m4 0h1m1 0h1m4 0h1m37 0h1M56 561h2m2 0h1m13 0h2m1 0h1m9 0h7m2 0h1m14 0h1m2 0h1m6 0h1m5 0h1m1 0h1m19 0h2m1 0h1m2 0h1m3 0h1m11 0h1m2 0h1m1 0h1m2 0h1m1 0h1m2 0h1m2 0h1m8 0h1m3 0h1m2 0h1m3 0h1m19 0h1m26 0h1m42 0h1m9 0h1m12 0h1m4 0h1m40 0h1m4 0h1m15 0h1m1 0h3m34 0h2m2 0h1m7 0h1m1 0h1m19 0h2m1 0h1m1 0h1m6 0h1m18 0h1m7 0h1m2 0h1m5 0h2m1 0h1m9 0h1M51 562h2m3 0h3m2 0h3m3 0h1m6 0h1m3 0h1m1 0h1m6 0h2m2 0h1m2 0h2m1 0h1m6 0h1m8 0h1m5 0h1m2 0h1m6 0h5m2 0h1m3 0h1m8 0h2m2 0h1m12 0h1m5 0h2m5 0h1m3 0h1m3 0h1m3 0h1m6 0h1m5 0h1m2 0h1m11 0h2m11 0h1m15 0h1m3 0h2m7 0h2m2 0h1m1 0h1m12 0h1m11 0h1m31 0h1m11 0h2m17 0h3m2 0h1m22 0h2m3 0h1m14 0h2m10 0h1m9 0h2m3 0h1m8 0h1m1 0h2m14 0h2m7 0h2m1 0h2m3 0h1m8 0h1m1 0h1m2 0h1m5 0h1m5 0h1m15 0h1m12 0h1m29 0h1m17 0h1m11 0h1m55 0h1M52 563h1m2 0h3m2 0h3m1 0h1m3 0h1m1 0h1m24 0h2m1 0h4m2 0h1m1 0h1m4 0h4m1 0h1m5 0h1m1 0h2m5 0h1m4 0h3m1 0h1m2 0h1m3 0h2m5 0h1m5 0h1m3 0h1m12 0h1m2 0h1m3 0h1m10 0h1m5 0h1m5 0h1m2 0h1m4 0h1m2 0h1m13 0h1m5 0h1m14 0h2m3 0h1m4 0h1m3 0h2m6 0h2m1 0h1m16 0h1m5 0h1m47 0h1m5 0h1m15 0h1m15 0h1m2 0h1m9 0h1m3 0h1m2 0h1m11 0h1m3 0h1m1 0h1m1 0h1m9 0h1m11 0h2m22 0h4m3 0h1m2 0h3m1 0h1m1 0h2m2 0h1m3 0h1m4 0h1m12 0h3m7 0h1m4 0h1m10 0h2m2 0h1m2 0h1m18 0h1m8 0h1m49 0h1m23 0h1M51 564h1m1 0h2m1 0h1m1 0h1m3 0h3m5 0h1m1 0h1m6 0h1m2 0h1m7 0h1m6 0h1m2 0h2m12 0h1m12 0h1m5 0h1m7 0h1m10 0h2m4 0h2m6 0h1m1 0h1m2 0h1m12 0h1m2 0h2m1 0h1m4 0h1m18 0h1m2 0h1m9 0h1m7 0h1m1 0h1m5 0h1m10 0h1m2 0h2m1 0h1m1 0h2m9 0h1m1 0h1m3 0h1m83 0h1m31 0h1m7 0h1m6 0h1m1 0h1m6 0h1m18 0h1m16 0h1m5 0h1m6 0h1m3 0h1m1 0h1m8 0h2m2 0h1m1 0h1m1 0h1m7 0h1m2 0h3m3 0h1m2 0h1m3 0h1m6 0h1m2 0h1m1 0h1m1 0h1m1 0h1m3 0h1m2 0h1m5 0h3m2 0h1m1 0h1m8 0h1m11 0h1m5 0h1m10 0h1m5 0h1m25 0h1m70 0h1M56 565h1m5 0h1m1 0h1m4 0h1m3 0h1m1 0h1m3 0h1m2 0h1m1 0h1m15 0h1m2 0h3m5 0h1m4 0h2m3 0h1m9 0h1m14 0h1m1 0h2m1 0h1m1 0h1m2 0h1m2 0h1m3 0h2m2 0h3m5 0h1m2 0h1m3 0h1m1 0h1m6 0h1m15 0h1m3 0h1m2 0h2m1 0h1m13 0h1m8 0h1m2 0h1m12 0h1m15 0h1m69 0h1m7 0h1m1 0h1m4 0h1m3 0h1m3 0h1m1 0h1m2 0h1m6 0h1m3 0h1m11 0h1m7 0h1m17 0h1m3 0h1m20 0h1m4 0h1m1 0h1m1 0h1m16 0h1m3 0h2m5 0h1m4 0h2m2 0h2m6 0h1m10 0h1m4 0h1m1 0h1m14 0h1m4 0h1m8 0h3m1 0h1m4 0h1m1 0h1m1 0h1m1 0h1m12 0h1m4 0h1m3 0h1m2 0h1m3 0h1m2 0h2m22 0h1m3 0h1m20 0h1M57 566h1m1 0h1m2 0h2m2 0h1m2 0h2m3 0h1m1 0h1m2 0h2m1 0h1m1 0h2m1 0h1m1 0h3m2 0h1m5 0h1m3 0h2m1 0h1m14 0h1m3 0h3m1 0h1m4 0h1m4 0h1m2 0h1m2 0h1m3 0h1m3 0h2m1 0h4m1 0h1m1 0h1m11 0h1m27 0h1m5 0h2m22 0h1m27 0h2m14 0h1m25 0h1m17 0h1m23 0h1m9 0h1m6 0h3m8 0h1m8 0h1m22 0h1m14 0h1m17 0h2m25 0h2m21 0h1m1 0h1m1 0h1m4 0h1m4 0h1m1 0h1m3 0h1m1 0h1m2 0h3m10 0h1m2 0h1m4 0h1m2 0h1m5 0h1m1 0h1m3 0h1m17 0h1m51 0h1m3 0h1m3 0h1m16 0h1m10 0h1m27 0h1M53 567h1m3 0h1m3 0h1m4 0h1m2 0h2m1 0h1m7 0h1m8 0h3m2 0h1m2 0h1m3 0h1m2 0h1m6 0h1m4 0h1m1 0h1m2 0h1m1 0h1m1 0h1m6 0h1m4 0h1m2 0h1m7 0h1m3 0h1m2 0h1m4 0h1m18 0h3m1 0h2m1 0h1m2 0h2m7 0h2m2 0h1m1 0h1m26 0h1m8 0h2m42 0h1m17 0h1m17 0h1m25 0h1m1 0h1m8 0h2m15 0h1m2 0h1m12 0h1m1 0h1m18 0h1m5 0h1m4 0h1m35 0h1m1 0h2m5 0h1m14 0h1m6 0h2m1 0h1m1 0h1m8 0h1m2 0h1m2 0h2m1 0h1m9 0h1m1 0h2m2 0h2m1 0h1m1 0h1m2 0h1m17 0h1m7 0h1m60 0h1m2 0h1m5 0h1m15 0h1m47 0h1M51 568h1m4 0h2m5 0h1m3 0h2m1 0h1m9 0h1m2 0h1m1 0h1m9 0h2m1 0h1m2 0h1m2 0h1m1 0h1m1 0h1m1 0h1m6 0h2m3 0h1m2 0h1m5 0h1m2 0h1m3 0h1m1 0h1m1 0h2m2 0h1m3 0h1m1 0h1m1 0h1m2 0h2m8 0h3m12 0h1m10 0h3m8 0h2m14 0h1m16 0h1m31 0h1m1 0h1m1 0h1m2 0h1m3 0h1m3 0h1m8 0h1m17 0h1m12 0h1m12 0h1m6 0h1m1 0h1m14 0h1m13 0h1m1 0h1m4 0h1m7 0h2m49 0h1m1 0h1m1 0h1m12 0h1m1 0h1m2 0h1m1 0h1m1 0h1m7 0h1m8 0h1m2 0h1m15 0h1m3 0h1m1 0h1m5 0h1m7 0h1m2 0h1m7 0h1m11 0h1m11 0h1m3 0h2m9 0h1m1 0h1m3 0h1m81 0h1"/><path stroke="#a0a0e7" d="M191 547h1M102 548h1m171 0h1m48 0h1m5 0h1m183 0h1m22 0h1m62 0h1m3 0h1M111 549h1m136 0h1m14 0h1m24 0h1m181 0h1m96 0h1m96 0h1M93 550h1m153 0h1m15 0h1m24 0h1m201 0h1M62 551h1m279 0h1m190 0h1m36 0h1m3 0h1M51 552h1m51 0h2m27 0h1m66 0h1m68 0h1m8 0h1m1 0h1m19 0h1m62 0h1M54 553h1m41 0h1m3 0h1m8 0h1m52 0h1m9 0h1m22 0h1m4 0h1m4 0h1m68 0h1m9 0h1m49 0h1m5 0h1m90 0h1m7 0h1m16 0h1m39 0h1m6 0h1m162 0h1M60 554h1m5 0h2m61 0h1m5 0h1m115 0h1m13 0h1m28 0h1m29 0h1m2 0h1m61 0h2m63 0h1m2 0h3m9 0h1m28 0h1M85 555h1m15 0h1m27 0h1m49 0h1m87 0h1m8 0h1m28 0h1m1 0h1m12 0h1m14 0h1m50 0h1m13 0h1m41 0h1m32 0h1m16 0h1m5 0h2m13 0h1m22 0h1m10 0h1M62 556h1m2 0h1m1 0h1m11 0h1m38 0h1m13 0h1m3 0h1m10 0h1m21 0h1m44 0h1m3 0h1m5 0h1m13 0h1m29 0h1m5 0h1m26 0h1m12 0h1m3 0h1m20 0h1m34 0h1m7 0h1m19 0h1m55 0h1m3 0h1m7 0h1m64 0h1M54 557h1m46 0h1m13 0h1m8 0h1m1 0h1m5 0h2m2 0h1m28 0h1m10 0h1m13 0h1m16 0h1m12 0h1m14 0h1m19 0h1m4 0h1m19 0h2m5 0h1m11 0h1m4 0h1m6 0h1m21 0h1m38 0h2m2 0h1m10 0h1m2 0h1m3 0h2m1 0h1m9 0h1m19 0h1m11 0h1m16 0h1m1 0h1m6 0h1m9 0h1m20 0h1m46 0h1m26 0h1m11 0h1M55 558h1m5 0h1m5 0h1m7 0h1m8 0h1m7 0h1m5 0h1m2 0h1m35 0h1m6 0h1m8 0h1m22 0h1m1 0h1m51 0h1m15 0h1m12 0h1m13 0h1m7 0h1m8 0h1m13 0h1m7 0h1m16 0h1m21 0h1m1 0h1m4 0h2m21 0h3m7 0h1m8 0h1m21 0h1m21 0h1m1 0h1m4 0h1m1 0h2m1 0h1m1 0h1m2 0h1m8 0h1m1 0h1m4 0h1m15 0h1m4 0h1m4 0h1m32 0h1m14 0h1M54 559h1m8 0h1m2 0h2m4 0h1m4 0h1m5 0h1m6 0h2m4 0h1m2 0h2m1 0h1m1 0h1m1 0h1m12 0h1m6 0h1m1 0h1m7 0h1m3 0h2m25 0h2m1 0h1m5 0h1m32 0h1m6 0h1m21 0h1m4 0h1m17 0h2m2 0h1m8 0h1m3 0h1m8 0h1m4 0h1m3 0h1m2 0h1m1 0h1m2 0h2m8 0h1m4 0h1m14 0h1m5 0h1m2 0h1m37 0h1m4 0h1m12 0h1m6 0h2m1 0h1m3 0h1m33 0h1m1 0h1m4 0h1m2 0h1m8 0h1m3 0h1m3 0h1m5 0h1m3 0h1m10 0h1m4 0h1m10 0h1m5 0h1m21 0h1m9 0h1M53 560h1m1 0h2m7 0h2m4 0h2m7 0h1m6 0h3m1 0h2m3 0h2m8 0h1m3 0h1m13 0h1m7 0h1m1 0h1m4 0h1m3 0h1m10 0h1m15 0h1m12 0h1m5 0h1m4 0h1m6 0h2m1 0h1m2 0h3m8 0h1m2 0h1m9 0h1m10 0h1m4 0h1m56 0h1m8 0h1m1 0h3m5 0h1m14 0h1m4 0h1m1 0h1m23 0h1m2 0h2m9 0h1m1 0h1m6 0h1m5 0h1m2 0h1m3 0h1m3 0h1m11 0h1m21 0h1m2 0h1m15 0h1m1 0h1m16 0h1m1 0h2m2 0h1m3 0h1m6 0h1m31 0h1m9 0h1m18 0h1m61 0h1m10 0h1M51 561h1m1 0h1m1 0h1m6 0h1m1 0h2m3 0h1m1 0h1m4 0h1m6 0h1m10 0h1m2 0h3m4 0h3m15 0h2m4 0h1m4 0h2m1 0h1m7 0h2m21 0h1m1 0h1m2 0h1m7 0h1m9 0h3m13 0h1m1 0h1m2 0h1m2 0h1m2 0h1m6 0h1m7 0h1m10 0h1m2 0h1m1 0h1m4 0h1m4 0h1m6 0h1m2 0h2m3 0h1m1 0h1m4 0h1m1 0h3m3 0h1m6 0h1m20 0h1m2 0h1m18 0h1m21 0h1m23 0h1m18 0h1m1 0h2m6 0h1m4 0h1m15 0h2m5 0h1m1 0h1m4 0h1m1 0h1m3 0h5m8 0h1m5 0h1m2 0h2m6 0h2m10 0h1m25 0h1m1 0h1m7 0h2m2 0h2m1 0h1m7 0h1m2 0h1m13 0h1m41 0h1m26 0h1M70 562h1m1 0h2m1 0h2m4 0h2m6 0h1m6 0h1m1 0h1m1 0h1m1 0h1m5 0h1m15 0h1m1 0h1m1 0h1m13 0h3m3 0h1m9 0h1m5 0h1m3 0h1m1 0h2m5 0h2m3 0h1m2 0h1m3 0h1m3 0h2m6 0h2m3 0h1m4 0h2m2 0h2m9 0h1m1 0h1m7 0h2m6 0h1m4 0h1m4 0h1m3 0h1m1 0h1m8 0h1m2 0h2m2 0h1m13 0h1m7 0h1m14 0h1m6 0h1m1 0h1m2 0h1m3 0h2m3 0h1m4 0h1m9 0h2m3 0h1m3 0h2m14 0h1m12 0h1m3 0h1m13 0h1m4 0h1m6 0h1m16 0h2m1 0h2m6 0h1m7 0h1m7 0h2m8 0h2m6 0h2m1 0h1m1 0h1m1 0h1m4 0h1m19 0h4m16 0h1m1 0h1m1 0h1m1 0h1m4 0h1m21 0h1m7 0h1m6 0h1M51 563h1m1 0h2m8 0h1m3 0h1m1 0h1m2 0h1m5 0h3m1 0h6m2 0h1m2 0h1m3 0h1m12 0h1m4 0h1m12 0h3m3 0h1m16 0h2m5 0h1m6 0h2m1 0h1m2 0h2m5 0h1m2 0h1m1 0h1m1 0h1m5 0h1m2 0h1m3 0h2m3 0h1m1 0h1m2 0h1m4 0h1m2 0h1m5 0h1m3 0h1m4 0h1m1 0h3m3 0h2m1 0h2m2 0h1m3 0h1m1 0h1m2 0h1m3 0h2m3 0h1m7 0h2m6 0h2m1 0h1m8 0h1m44 0h1m2 0h1m12 0h1m2 0h4m9 0h1m12 0h2m7 0h1m3 0h1m2 0h1m3 0h1m2 0h1m7 0h1m8 0h1m1 0h1m10 0h2m17 0h1m15 0h2m28 0h1m4 0h1m5 0h1m16 0h1m2 0h3m9 0h1m28 0h1m44 0h1m49 0h1M59 564h1m1 0h1m3 0h1m1 0h1m5 0h1m2 0h1m3 0h2m1 0h1m11 0h1m8 0h1m1 0h1m1 0h1m2 0h2m2 0h1m8 0h1m4 0h4m3 0h4m3 0h2m2 0h2m14 0h2m12 0h1m2 0h1m2 0h1m8 0h2m3 0h1m1 0h1m4 0h3m1 0h1m1 0h3m5 0h1m1 0h1m11 0h2m4 0h1m7 0h1m9 0h1m10 0h1m3 0h2m4 0h1m4 0h1m1 0h1m1 0h1m4 0h1m1 0h2m15 0h1m4 0h1m1 0h1m1 0h1m1 0h1m4 0h1m10 0h1m1 0h1m5 0h1m3 0h2m9 0h3m2 0h1m1 0h1m12 0h3m2 0h2m9 0h1m9 0h1m4 0h1m6 0h1m5 0h1m1 0h1m4 0h1m5 0h1m2 0h1m1 0h1m3 0h2m1 0h3m5 0h1m1 0h1m7 0h1m1 0h1m3 0h1m7 0h2m3 0h1m6 0h1m7 0h1m3 0h1m7 0h1m3 0h1m6 0h1m1 0h1m1 0h1m1 0h1m51 0h1m11 0h1m1 0h1m30 0h1m14 0h1m1 0h1m15 0h1M51 565h1m3 0h1m2 0h1m4 0h1m2 0h3m2 0h2m3 0h1m4 0h1m4 0h6m2 0h1m4 0h1m1 0h1m4 0h5m2 0h1m11 0h1m4 0h1m2 0h1m2 0h1m4 0h1m5 0h1m6 0h1m3 0h1m3 0h1m7 0h1m2 0h2m1 0h2m1 0h1m1 0h1m1 0h1m5 0h2m1 0h5m6 0h1m1 0h2m5 0h1m6 0h1m2 0h1m7 0h1m1 0h1m1 0h1m3 0h2m2 0h1m2 0h2m12 0h3m6 0h1m1 0h1m2 0h1m6 0h1m3 0h2m16 0h1m45 0h2m4 0h1m1 0h1m1 0h1m1 0h1m1 0h1m3 0h1m2 0h1m2 0h1m6 0h1m2 0h1m15 0h1m4 0h1m2 0h1m2 0h1m1 0h1m5 0h2m13 0h1m4 0h1m2 0h1m1 0h1m2 0h1m10 0h1m2 0h2m2 0h1m4 0h1m3 0h1m16 0h1m2 0h2m7 0h1m3 0h1m5 0h2m7 0h1m1 0h2m4 0h1m5 0h2m12 0h1m4 0h1m1 0h1m1 0h1m12 0h1m1 0h1m3 0h1m23 0h1m9 0h1m7 0h1m30 0h1m8 0h1m29 0h1m1 0h1M65 566h1m2 0h1m2 0h2m2 0h1m1 0h2m9 0h1m10 0h1m8 0h2m2 0h1m1 0h3m1 0h1m10 0h1m1 0h1m2 0h1m2 0h1m10 0h1m7 0h1m12 0h3m2 0h1m6 0h1m2 0h1m1 0h1m3 0h2m2 0h3m5 0h1m4 0h3m4 0h2m1 0h1m3 0h1m14 0h2m18 0h1m1 0h1m6 0h1m6 0h2m1 0h1m3 0h3m2 0h1m21 0h1m8 0h1m2 0h1m11 0h2m1 0h1m3 0h1m6 0h1m5 0h2m1 0h1m1 0h1m2 0h1m1 0h1m1 0h1m3 0h1m5 0h1m2 0h1m1 0h2m9 0h1m14 0h1m4 0h1m8 0h1m6 0h1m2 0h1m8 0h1m5 0h1m15 0h1m11 0h3m8 0h2m29 0h1m13 0h1m1 0h1m4 0h2m13 0h1m24 0h1m35 0h1m6 0h1m17 0h1m31 0h1m7 0h1M51 567h2m5 0h1m5 0h1m3 0h1m5 0h1m3 0h2m1 0h1m2 0h1m1 0h1m5 0h1m2 0h2m6 0h1m2 0h1m5 0h2m5 0h1m8 0h1m9 0h1m2 0h1m3 0h2m2 0h1m13 0h1m2 0h1m1 0h1m3 0h3m2 0h2m6 0h1m1 0h1m4 0h5m4 0h1m1 0h1m3 0h1m3 0h1m2 0h2m7 0h1m1 0h1m3 0h1m12 0h1m2 0h2m4 0h1m2 0h1m16 0h1m10 0h1m3 0h1m13 0h1m8 0h1m9 0h1m7 0h1m3 0h1m4 0h1m6 0h1m3 0h1m2 0h1m3 0h3m2 0h2m5 0h1m9 0h1m1 0h1m2 0h1m1 0h1m2 0h2m12 0h1m5 0h1m3 0h1m3 0h1m1 0h1m2 0h2m2 0h1m9 0h1m3 0h1m6 0h2m1 0h1m3 0h1m11 0h1m1 0h2m14 0h1m6 0h1m18 0h1m18 0h1m3 0h1m4 0h1m1 0h1m12 0h1m9 0h1m2 0h1m8 0h1m56 0h1m7 0h1m5 0h1m6 0h1M52 568h2m7 0h1m2 0h1m9 0h2m6 0h1m17 0h1m1 0h2m5 0h1m3 0h3m5 0h1m1 0h1m3 0h1m4 0h2m11 0h1m13 0h1m3 0h1m1 0h1m12 0h1m2 0h1m1 0h1m2 0h1m5 0h1m4 0h2m3 0h1m3 0h1m6 0h1m3 0h1m1 0h1m20 0h1m1 0h1m2 0h1m1 0h1m2 0h2m20 0h1m4 0h1m1 0h1m1 0h1m3 0h3m2 0h2m15 0h1m2 0h1m4 0h1m1 0h1m1 0h1m2 0h1m3 0h1m4 0h1m7 0h1m9 0h1m1 0h2m5 0h1m19 0h4m6 0h1m5 0h2m7 0h2m29 0h1m1 0h1m2 0h1m16 0h2m1 0h1m13 0h1m2 0h1m4 0h1m8 0h1m15 0h1m4 0h1m4 0h1m2 0h1m7 0h1m1 0h1m3 0h1m30 0h3m13 0h1m1 0h1m32 0h1m76 0h1m3 0h1"/><path stroke="#8282ec" d="M208 547h1m410 0h1M103 548h1m35 0h1m53 0h1m62 0h1m11 0h1m49 0h1m52 0h1m97 0h1m79 0h1m82 0h1M107 549h1m533 0h1M98 550h1m5 0h1m332 0h1m190 0h1M58 551h1m42 0h1m11 0h1m43 0h1m58 0h1m59 0h1m101 0h1m38 0h1m68 0h1m34 0h1M56 552h1m27 0h1m7 0h1m9 0h1m38 0h1m34 0h1m2 0h1m23 0h1m103 0h1m1 0h1m5 0h1m71 0h1m10 0h1M101 553h1m27 0h1m81 0h1m53 0h1m6 0h1m21 0h1m33 0h1m112 0h1m6 0h1m12 0h1m7 0h1m30 0h1m47 0h1M90 554h1m15 0h1m35 0h1m103 0h1m3 0h1m17 0h1m33 0h1m33 0h1m3 0h1m46 0h1m12 0h1m3 0h1m7 0h1m19 0h2m11 0h1m55 0h1M98 555h1m10 0h1m25 0h1m9 0h1m39 0h1m22 0h1m1 0h1m61 0h1m4 0h1m72 0h1m10 0h1m6 0h1m18 0h1m47 0h1m11 0h2m1 0h2m49 0h1M76 556h1m9 0h1m8 0h1m8 0h1m1 0h2m2 0h1m40 0h1m6 0h1m19 0h1m38 0h1m3 0h1m13 0h1m1 0h1m2 0h1m19 0h1m21 0h1m13 0h1m6 0h1m13 0h1m44 0h1m9 0h1m3 0h1m21 0h1m35 0h1m7 0h1m2 0h1m2 0h1m49 0h1M61 557h1m17 0h1m9 0h1m2 0h1m4 0h1m2 0h1m3 0h1m4 0h1m1 0h1m22 0h1m22 0h1m9 0h1m45 0h1m10 0h1m73 0h1m2 0h2m31 0h1m7 0h1m18 0h1m30 0h1m6 0h1m1 0h1m10 0h1m1 0h1m2 0h1m8 0h1m28 0h1m5 0h1m12 0h1m12 0h1m54 0h1M62 558h1m2 0h1m2 0h1m4 0h1m5 0h3m9 0h1m2 0h1m8 0h1m9 0h1m7 0h2m3 0h1m9 0h1m27 0h1m30 0h1m3 0h1m10 0h1m21 0h1m9 0h1m14 0h2m4 0h1m8 0h1m1 0h1m1 0h1m6 0h1m12 0h1m5 0h1m5 0h1m11 0h1m5 0h1m4 0h1m7 0h1m8 0h1m20 0h1m2 0h1m13 0h1m11 0h2m2 0h1m11 0h1m9 0h1m3 0h1m4 0h1m1 0h1m2 0h1m2 0h1m1 0h1m3 0h1m1 0h1m17 0h1m5 0h1m28 0h1m9 0h1m21 0h1M51 559h1m7 0h1m1 0h1m3 0h1m3 0h2m15 0h1m6 0h1m7 0h1m9 0h1m12 0h1m6 0h2m1 0h2m14 0h1m2 0h1m26 0h1m2 0h1m4 0h1m11 0h3m8 0h1m3 0h1m10 0h1m1 0h1m5 0h1m9 0h1m5 0h1m6 0h1m2 0h1m7 0h1m15 0h1m13 0h1m18 0h1m7 0h1m3 0h1m5 0h2m1 0h1m13 0h1m20 0h2m8 0h1m10 0h2m7 0h1m12 0h1m17 0h1m5 0h4m2 0h1m1 0h1m1 0h1m12 0h1m8 0h2m36 0h1M60 560h1m1 0h1m19 0h2m1 0h1m11 0h3m3 0h1m2 0h1m4 0h1m34 0h1m2 0h1m5 0h1m1 0h1m14 0h2m1 0h1m2 0h1m11 0h1m3 0h1m1 0h1m1 0h1m5 0h1m6 0h1m3 0h2m2 0h1m11 0h2m9 0h1m7 0h1m2 0h1m4 0h1m3 0h2m2 0h1m3 0h1m2 0h1m1 0h1m13 0h2m5 0h2m2 0h1m4 0h1m17 0h1m1 0h1m25 0h1m2 0h1m3 0h1m6 0h1m1 0h1m19 0h1m2 0h1m1 0h1m14 0h1m14 0h1m1 0h1m6 0h1m4 0h1m6 0h1m2 0h2m4 0h1m1 0h1m4 0h1m2 0h1m1 0h2m1 0h1m5 0h1m7 0h1m9 0h1m23 0h1m27 0h2m6 0h1m124 0h1M52 561h1m5 0h1m2 0h1m5 0h1m5 0h1m4 0h1m3 0h1m2 0h1m15 0h1m7 0h1m14 0h1m26 0h1m9 0h3m2 0h1m3 0h1m4 0h1m13 0h1m4 0h2m3 0h1m2 0h1m1 0h1m4 0h2m2 0h1m1 0h2m3 0h1m1 0h1m13 0h1m8 0h1m4 0h1m4 0h1m7 0h1m7 0h2m1 0h1m1 0h1m8 0h1m1 0h1m4 0h1m5 0h1m3 0h1m12 0h1m1 0h1m12 0h5m15 0h2m11 0h1m6 0h1m3 0h1m11 0h1m7 0h1m1 0h1m13 0h1m1 0h1m2 0h2m5 0h1m8 0h1m1 0h1m2 0h2m1 0h1m9 0h1m3 0h1m5 0h1m2 0h1m3 0h1m4 0h1m7 0h1m1 0h2m4 0h1m24 0h1m4 0h1m7 0h1m3 0h1m8 0h1m45 0h1m25 0h1m82 0h1M55 562h1m3 0h1m4 0h2m2 0h1m14 0h2m1 0h1m3 0h1m1 0h1m8 0h1m4 0h1m7 0h1m37 0h1m1 0h1m12 0h1m6 0h1m1 0h1m3 0h1m3 0h1m7 0h1m3 0h2m1 0h1m3 0h1m4 0h3m2 0h2m2 0h2m2 0h1m1 0h2m8 0h1m1 0h1m6 0h1m3 0h1m8 0h2m6 0h1m4 0h1m2 0h1m5 0h3m1 0h1m13 0h1m1 0h1m1 0h2m2 0h1m4 0h3m7 0h1m2 0h1m1 0h1m2 0h2m3 0h1m29 0h1m3 0h1m2 0h1m4 0h1m1 0h1m1 0h1m1 0h1m5 0h2m2 0h2m1 0h1m6 0h2m6 0h1m4 0h1m5 0h2m1 0h1m1 0h1m3 0h1m3 0h1m4 0h1m6 0h2m1 0h1m1 0h1m1 0h1m4 0h1m3 0h1m3 0h3m66 0h1m20 0h1m29 0h1M59 563h1m13 0h1m1 0h3m3 0h1m12 0h1m10 0h1m1 0h1m18 0h2m22 0h1m2 0h1m13 0h1m1 0h2m16 0h1m2 0h1m1 0h2m2 0h1m7 0h1m4 0h1m4 0h1m2 0h1m1 0h2m6 0h1m13 0h1m3 0h1m5 0h1m5 0h1m7 0h2m7 0h1m2 0h1m1 0h1m2 0h1m4 0h1m3 0h1m1 0h2m1 0h1m15 0h1m8 0h1m8 0h1m2 0h2m4 0h1m3 0h1m1 0h1m4 0h2m2 0h1m5 0h2m1 0h1m1 0h2m3 0h1m1 0h1m5 0h1m2 0h1m3 0h1m3 0h1m3 0h1m2 0h1m6 0h1m5 0h2m3 0h4m2 0h2m4 0h1m1 0h1m3 0h1m5 0h2m1 0h1m1 0h1m1 0h1m1 0h2m4 0h1m1 0h5m1 0h1m4 0h4m12 0h1m20 0h2m4 0h1m13 0h1m16 0h1m8 0h1m7 0h1m37 0h1m34 0h1m60 0h1M57 564h1m2 0h1m10 0h1m2 0h2m1 0h1m8 0h2m3 0h1m2 0h1m7 0h1m6 0h1m3 0h1m12 0h1m1 0h1m6 0h1m6 0h1m2 0h1m8 0h1m5 0h1m4 0h1m7 0h1m5 0h1m11 0h1m4 0h1m3 0h1m1 0h1m4 0h1m1 0h1m9 0h1m4 0h1m1 0h1m9 0h1m2 0h2m1 0h1m2 0h1m1 0h2m1 0h2m1 0h1m10 0h2m4 0h1m3 0h1m1 0h1m11 0h1m7 0h2m3 0h1m5 0h1m8 0h1m12 0h2m3 0h1m3 0h1m1 0h1m6 0h1m3 0h1m3 0h1m10 0h1m1 0h2m2 0h2m3 0h1m12 0h1m3 0h1m3 0h1m3 0h1m1 0h2m1 0h2m4 0h3m5 0h3m3 0h2m1 0h1m4 0h1m8 0h2m8 0h1m3 0h1m1 0h1m5 0h1m33 0h1m11 0h1m26 0h1m7 0h1m7 0h3m3 0h1m4 0h2m11 0h1m20 0h1m8 0h1m14 0h1m3 0h1m53 0h1M59 565h3m8 0h1m6 0h1m2 0h1m4 0h1m6 0h2m18 0h1m5 0h1m15 0h1m2 0h3m2 0h1m17 0h1m4 0h1m6 0h1m7 0h1m4 0h1m12 0h1m5 0h1m8 0h1m11 0h2m8 0h3m6 0h1m2 0h2m3 0h1m4 0h2m4 0h2m2 0h1m1 0h1m1 0h1m3 0h1m1 0h1m1 0h1m1 0h2m3 0h3m1 0h1m1 0h1m4 0h1m1 0h1m1 0h1m10 0h1m4 0h1m2 0h1m2 0h1m3 0h1m6 0h1m2 0h1m2 0h1m4 0h2m17 0h1m3 0h1m6 0h1m4 0h1m4 0h1m1 0h4m13 0h1m3 0h1m4 0h1m2 0h1m13 0h1m3 0h1m3 0h1m2 0h1m1 0h1m2 0h3m1 0h1m4 0h1m1 0h1m6 0h4m1 0h1m40 0h1m2 0h1m1 0h1m9 0h1m15 0h1m9 0h1m10 0h1m2 0h1m11 0h1m5 0h1m27 0h1m44 0h1m10 0h1m10 0h1m19 0h1M51 566h2m2 0h1m2 0h1m1 0h1m3 0h1m2 0h1m15 0h1m13 0h1m3 0h3m13 0h1m14 0h2m2 0h1m1 0h1m5 0h2m6 0h1m12 0h1m9 0h1m1 0h1m2 0h1m1 0h1m14 0h3m3 0h1m1 0h2m12 0h1m3 0h1m1 0h1m1 0h1m7 0h1m3 0h1m2 0h1m6 0h1m5 0h1m3 0h1m1 0h1m2 0h1m2 0h1m1 0h3m2 0h1m7 0h1m2 0h2m2 0h1m7 0h1m2 0h1m6 0h2m5 0h1m1 0h1m3 0h1m2 0h1m2 0h1m1 0h2m8 0h1m1 0h1m4 0h1m3 0h1m2 0h1m6 0h1m1 0h1m7 0h2m2 0h1m5 0h1m2 0h1m2 0h1m5 0h1m1 0h2m2 0h6m1 0h1m4 0h1m3 0h1m5 0h2m4 0h1m4 0h1m4 0h1m5 0h1m4 0h1m1 0h1m1 0h1m5 0h1m2 0h2m2 0h1m1 0h1m22 0h1m3 0h1m20 0h1m3 0h1m1 0h1m2 0h1m2 0h1m5 0h1m8 0h1m8 0h1m4 0h1m3 0h1m3 0h3m5 0h1m7 0h1m16 0h1m3 0h1m1 0h1m4 0h1m20 0h1m20 0h1m38 0h1m7 0h1M59 567h1m5 0h1m21 0h2m4 0h1m4 0h1m1 0h1m1 0h1m2 0h1m2 0h1m5 0h1m14 0h1m6 0h1m13 0h1m6 0h1m1 0h1m1 0h1m7 0h1m12 0h1m17 0h1m5 0h1m3 0h1m1 0h1m5 0h2m6 0h1m9 0h2m5 0h2m2 0h1m4 0h2m4 0h1m3 0h1m1 0h1m5 0h1m2 0h4m1 0h2m3 0h1m1 0h1m2 0h3m3 0h2m1 0h1m7 0h4m1 0h1m7 0h1m3 0h1m1 0h3m1 0h1m3 0h1m2 0h1m8 0h2m5 0h1m1 0h1m7 0h2m2 0h1m1 0h1m4 0h1m2 0h1m3 0h2m1 0h1m1 0h1m3 0h1m4 0h1m2 0h1m4 0h5m1 0h1m1 0h1m3 0h1m4 0h1m19 0h1m4 0h1m2 0h1m1 0h1m4 0h2m1 0h1m5 0h1m51 0h1m2 0h1m9 0h1m6 0h1m11 0h3m7 0h1m8 0h2m4 0h1m1 0h1m17 0h1m2 0h1m20 0h1m26 0h1m22 0h1m2 0h1m24 0h1M71 568h2m14 0h1m4 0h2m17 0h2m13 0h1m9 0h1m4 0h1m2 0h1m15 0h1m3 0h1m1 0h1m3 0h4m1 0h1m1 0h1m1 0h2m6 0h2m11 0h1m2 0h1m4 0h2m1 0h1m2 0h3m4 0h1m4 0h1m1 0h1m5 0h1m1 0h1m2 0h1m1 0h1m1 0h2m1 0h1m6 0h1m2 0h1m1 0h1m3 0h2m2 0h1m3 0h1m3 0h2m6 0h2m5 0h1m4 0h2m2 0h1m3 0h1m6 0h1m11 0h1m3 0h1m2 0h2m6 0h1m1 0h1m1 0h1m1 0h2m3 0h2m5 0h1m2 0h1m2 0h1m7 0h1m3 0h1m10 0h1m9 0h1m3 0h1m1 0h1m7 0h1m2 0h1m1 0h1m5 0h2m1 0h1m4 0h2m4 0h1m2 0h1m2 0h1m3 0h1m5 0h1m1 0h1m1 0h1m2 0h1m5 0h1m46 0h1m11 0h1m9 0h2m3 0h1m1 0h1m7 0h1m8 0h1m2 0h1m2 0h1m7 0h1m8 0h1m5 0h2m2 0h1m19 0h1m2 0h1m19 0h1m12 0h1m4 0h1m9 0h1m6 0h1m5 0h1m4 0h1m5 0h1m5 0h1m4 0h1"/><path stroke="#6363f0" d="M282 547h1m55 0h1m59 0h1M55 548h1m17 0h1m62 0h1m368 0h1M100 549h1m136 0h1m113 0h1m90 0h1m20 0h1M92 550h1m62 0h1m62 0h1m179 0h1m34 0h1m23 0h1m8 0h1m222 0h1M395 551h1m16 0h1m37 0h1m30 0h1M89 552h1m54 0h1m63 0h1m66 0h1m88 0h1m29 0h1m49 0h1m9 0h1m6 0h1M61 553h1m16 0h1m15 0h1m9 0h1m3 0h1m9 0h1m12 0h1m53 0h1m95 0h1m122 0h1m20 0h1m17 0h1m14 0h1M61 554h1m37 0h1m46 0h1m39 0h1m33 0h1m56 0h1m2 0h1m6 0h1m23 0h1m13 0h1m66 0h2m4 0h1m23 0h1m37 0h1m16 0h1M70 555h1m6 0h1m13 0h1m18 0h1m43 0h1m6 0h1m20 0h1m5 0h2m23 0h1m32 0h1m4 0h1m7 0h3m1 0h1m1 0h1m9 0h1m4 0h1m14 0h1m7 0h1m18 0h1m17 0h1m65 0h1m29 0h1m2 0h1m1 0h1m15 0h1m10 0h1m26 0h1m29 0h1m16 0h1m20 0h1m83 0h1M103 556h1m7 0h1m8 0h1m9 0h1m10 0h1m85 0h1m43 0h1m7 0h1m13 0h1m5 0h1m28 0h2m61 0h1m1 0h1m5 0h1m1 0h1m9 0h1m8 0h1m63 0h1m8 0h1M58 557h1m11 0h1m17 0h1m10 0h1m12 0h1m4 0h1m1 0h1m41 0h1m6 0h1m8 0h1m15 0h1m10 0h1m7 0h1m5 0h1m23 0h1m10 0h1m9 0h1m4 0h1m6 0h1m19 0h1m12 0h1m20 0h1m21 0h1m15 0h1m1 0h1m19 0h1m29 0h1m3 0h1m4 0h1m9 0h1m2 0h1m5 0h1m2 0h1m2 0h1m18 0h1m19 0h1m2 0h1m12 0h1m1 0h1m29 0h1m78 0h1M59 558h1m14 0h1m8 0h1m5 0h2m5 0h2m10 0h1m3 0h1m5 0h1m14 0h1m22 0h1m27 0h1m29 0h1m7 0h1m16 0h1m13 0h1m2 0h1m3 0h1m5 0h2m14 0h1m4 0h1m7 0h1m10 0h2m2 0h1m6 0h1m7 0h1m2 0h1m16 0h1m4 0h1m3 0h1m5 0h1m1 0h1m2 0h1m10 0h1m16 0h2m1 0h1m4 0h1m23 0h1m1 0h1m3 0h2m6 0h1m10 0h1m11 0h1m15 0h1m4 0h1m34 0h1m25 0h1M85 559h1m12 0h1m8 0h2m5 0h2m5 0h1m5 0h1m10 0h2m14 0h1m22 0h1m7 0h1m6 0h1m6 0h1m3 0h1m8 0h1m5 0h1m22 0h1m16 0h2m3 0h1m2 0h2m4 0h1m6 0h1m6 0h1m6 0h1m16 0h1m9 0h1m20 0h1m14 0h1m34 0h1m6 0h1m3 0h1m17 0h1m2 0h1m6 0h1m2 0h1m3 0h2m5 0h1m6 0h1m4 0h1m1 0h1m2 0h2m8 0h1m9 0h1m51 0h1m9 0h1m1 0h1m23 0h1m45 0h1M94 560h1m6 0h1m5 0h1m5 0h1m5 0h1m7 0h2m12 0h1m10 0h1m8 0h1m35 0h1m14 0h2m7 0h2m6 0h1m13 0h2m3 0h1m2 0h1m7 0h1m7 0h2m15 0h1m6 0h1m3 0h1m10 0h1m3 0h1m2 0h1m7 0h1m2 0h1m2 0h1m3 0h1m2 0h1m13 0h2m6 0h1m3 0h1m14 0h1m7 0h1m4 0h2m4 0h3m1 0h1m3 0h1m14 0h1m1 0h1m5 0h2m5 0h1m1 0h1m13 0h1m7 0h1m1 0h1m10 0h1m1 0h1m48 0h1m4 0h2m7 0h1m26 0h1M63 561h1m2 0h1m13 0h2m21 0h1m3 0h1m5 0h1m21 0h1m6 0h1m3 0h1m7 0h1m22 0h1m8 0h1m1 0h1m16 0h1m6 0h1m5 0h1m9 0h1m2 0h1m2 0h1m4 0h1m9 0h1m2 0h1m3 0h1m2 0h3m16 0h1m2 0h1m21 0h2m4 0h1m1 0h4m20 0h3m4 0h2m5 0h1m8 0h2m8 0h1m8 0h1m1 0h1m5 0h1m7 0h1m7 0h1m5 0h1m9 0h1m1 0h1m8 0h2m14 0h1m2 0h1m3 0h1m17 0h1m70 0h1m5 0h1m12 0h2M145 562h2m10 0h1m11 0h1m20 0h1m14 0h1m21 0h1m1 0h2m16 0h1m2 0h1m8 0h1m6 0h1m3 0h1m4 0h1m10 0h1m1 0h2m4 0h1m1 0h1m10 0h1m3 0h1m4 0h2m1 0h1m15 0h1m2 0h1m4 0h4m1 0h1m13 0h2m2 0h2m12 0h1m1 0h1m10 0h3m2 0h1m3 0h1m3 0h1m4 0h1m10 0h1m5 0h2m2 0h2m13 0h1m1 0h1m2 0h1m7 0h1m58 0h1m19 0h2m11 0h1m5 0h1m3 0h1m23 0h1m33 0h1m28 0h1M74 563h1m13 0h1m2 0h1m53 0h1m3 0h1m12 0h1m19 0h1m6 0h1m7 0h1m2 0h1m1 0h1m3 0h1m5 0h1m10 0h2m4 0h2m39 0h2m12 0h1m1 0h1m1 0h2m7 0h2m3 0h2m2 0h1m6 0h1m6 0h1m1 0h1m1 0h1m4 0h1m1 0h2m3 0h1m1 0h1m3 0h1m4 0h1m14 0h1m5 0h1m6 0h1m1 0h1m6 0h1m3 0h1m3 0h1m1 0h1m2 0h1m1 0h1m33 0h2m5 0h1m10 0h2m7 0h1m57 0h1m10 0h1m9 0h1m13 0h1m12 0h1m7 0h1m23 0h1m23 0h1m6 0h1m9 0h1m56 0h1M69 564h1m14 0h1m4 0h1m20 0h1m29 0h1m8 0h1m48 0h1m4 0h1m11 0h2m4 0h2m6 0h1m1 0h1m17 0h1m30 0h2m5 0h1m2 0h1m1 0h1m2 0h1m2 0h3m1 0h1m9 0h1m1 0h1m3 0h1m4 0h1m8 0h2m1 0h2m5 0h2m2 0h1m5 0h1m3 0h3m5 0h1m6 0h1m2 0h1m1 0h1m6 0h1m7 0h3m5 0h3m15 0h1m2 0h1m4 0h1m6 0h1m6 0h1m1 0h1m1 0h1m8 0h2m2 0h1m6 0h3m22 0h1m27 0h1m15 0h1m7 0h1m1 0h1m20 0h1m5 0h1m52 0h1M65 565h1m8 0h1m8 0h1m45 0h1m5 0h1m4 0h1m2 0h3m20 0h1m30 0h1m1 0h4m17 0h1m2 0h2m3 0h1m12 0h1m8 0h2m1 0h3m6 0h1m2 0h1m10 0h1m1 0h1m10 0h1m3 0h1m1 0h1m2 0h1m6 0h4m2 0h1m1 0h1m2 0h1m1 0h2m2 0h1m1 0h1m3 0h1m3 0h2m4 0h2m7 0h1m23 0h1m6 0h1m4 0h1m2 0h1m4 0h2m1 0h1m1 0h1m18 0h1m4 0h1m1 0h1m3 0h2m1 0h1m1 0h1m3 0h2m2 0h1m12 0h1m1 0h1m3 0h1m2 0h2m19 0h1m19 0h1m15 0h1m2 0h1m4 0h1m3 0h1m8 0h2m9 0h1m1 0h1m11 0h1m31 0h1m8 0h1m79 0h1M111 566h1m27 0h1m1 0h2m20 0h1m3 0h2m10 0h1m3 0h1m16 0h1m15 0h1m3 0h1m1 0h1m1 0h1m3 0h3m9 0h1m3 0h2m4 0h3m1 0h1m2 0h1m2 0h1m5 0h1m1 0h1m8 0h1m5 0h1m4 0h1m3 0h2m4 0h2m1 0h3m5 0h1m11 0h1m3 0h1m1 0h1m6 0h2m3 0h1m7 0h2m8 0h1m9 0h2m2 0h1m15 0h1m4 0h1m2 0h1m9 0h1m1 0h1m4 0h1m5 0h1m3 0h2m2 0h1m2 0h1m3 0h1m9 0h3m6 0h4m1 0h1m4 0h1m1 0h1m64 0h1m7 0h1m9 0h1m9 0h1m1 0h2m5 0h1m2 0h1m1 0h1m16 0h1m4 0h1m10 0h1m2 0h1m4 0h1m10 0h1m16 0h1M131 567h1m1 0h1m5 0h1m14 0h1m7 0h1m2 0h1m1 0h1m2 0h1m34 0h1m3 0h1m7 0h1m2 0h1m3 0h1m3 0h1m1 0h1m2 0h2m4 0h1m8 0h1m1 0h1m5 0h2m1 0h1m3 0h1m1 0h3m1 0h1m7 0h1m2 0h1m6 0h1m4 0h1m5 0h2m1 0h1m1 0h2m11 0h2m5 0h1m6 0h1m2 0h2m2 0h2m3 0h1m9 0h1m10 0h2m3 0h1m2 0h1m13 0h1m3 0h1m1 0h1m3 0h1m1 0h3m12 0h1m2 0h1m11 0h1m2 0h1m4 0h1m3 0h4m7 0h1m1 0h1m4 0h1m1 0h1m4 0h1m54 0h3m27 0h1m9 0h1m1 0h1m5 0h1m1 0h2m3 0h1m4 0h3m2 0h2m10 0h1m8 0h1m1 0h2m5 0h1m4 0h1m39 0h1m4 0h1m8 0h1m5 0h1m8 0h1M69 568h1m3 0h1m2 0h1m9 0h1m12 0h1m35 0h1m3 0h1m7 0h1m8 0h1m17 0h1m1 0h1m7 0h2m3 0h1m9 0h1m10 0h1m1 0h1m5 0h1m3 0h1m6 0h1m2 0h1m2 0h1m12 0h2m4 0h1m6 0h1m3 0h1m1 0h2m19 0h1m3 0h1m3 0h2m6 0h1m1 0h1m6 0h1m6 0h1m6 0h1m2 0h1m1 0h4m9 0h1m7 0h1m1 0h2m2 0h1m2 0h1m1 0h4m3 0h1m2 0h1m1 0h1m12 0h1m6 0h1m1 0h1m3 0h1m2 0h1m2 0h2m1 0h1m1 0h5m2 0h1m1 0h4m2 0h1m8 0h1m2 0h1m6 0h1m1 0h1m3 0h1m28 0h1m35 0h1m24 0h2m3 0h1m7 0h1m2 0h1m1 0h1m8 0h1m1 0h1m3 0h1m1 0h1m2 0h1m4 0h1m13 0h1m1 0h1m5 0h2m10 0h1m1 0h1m26 0h1m12 0h1m16 0h1m6 0h1m2 0h1"/><path stroke="#4444f5" d="M108 547h1m158 0h1m131 0h1m20 0h1m22 0h1M94 548h1m10 0h1m102 0h1m238 0h1M94 549h1m110 0h1m88 0h1m87 0h1m81 0h1M65 550h1m31 0h1m10 0h1m9 0h1m160 0h1m143 0h1M303 551h1m140 0h1M86 552h1m117 0h1m8 0h1m59 0h1m12 0h1m43 0h1m70 0h1m49 0h1M93 553h1m201 0h1m42 0h1m45 0h1m5 0h1m44 0h1m47 0h1m32 0h1m94 0h1m21 0h1m6 0h1M75 554h1m1 0h1m25 0h2m48 0h1m53 0h1m2 0h1m13 0h1m9 0h1m27 0h1m6 0h1m11 0h1m32 0h2m42 0h1m6 0h1m18 0h1m32 0h1m12 0h1m17 0h1m24 0h1m2 0h1m17 0h1m2 0h1M58 555h1m9 0h2m10 0h1m25 0h1m4 0h1m45 0h1m29 0h1m8 0h1m15 0h1m23 0h1m36 0h1m10 0h1m26 0h1m35 0h1m31 0h1m9 0h1m4 0h1m13 0h1m15 0h1m12 0h1m210 0h1M52 556h1m7 0h1m5 0h1m1 0h1m2 0h1m10 0h1m9 0h1m98 0h1m2 0h1m15 0h1m52 0h2m4 0h1m7 0h1m5 0h1m5 0h1m12 0h1m6 0h1m28 0h1m13 0h1m26 0h1m16 0h1m29 0h1m24 0h1m22 0h2m10 0h1M62 557h2m11 0h1m11 0h1m7 0h1m2 0h1m44 0h1m53 0h1m4 0h1m12 0h1m1 0h1m5 0h1m58 0h1m2 0h1m21 0h1m6 0h1m62 0h1m6 0h1m11 0h1m8 0h1m23 0h1m1 0h1m14 0h1m5 0h1m6 0h1m3 0h1m3 0h1m11 0h1M64 558h1m17 0h1m17 0h1m4 0h1m18 0h1m17 0h1m4 0h1m15 0h1m29 0h1m2 0h1m5 0h2m5 0h1m3 0h1m15 0h1m22 0h1m8 0h1m31 0h1m20 0h1m15 0h1m11 0h1m14 0h1m19 0h1m7 0h1m3 0h1m2 0h1m2 0h1m1 0h1m11 0h1m3 0h1m5 0h1m1 0h1m14 0h1m5 0h1m23 0h1m23 0h1m5 0h1m2 0h1m19 0h1m19 0h1m69 0h1M74 559h1m30 0h1m31 0h1m4 0h1m12 0h1m28 0h1m13 0h1m5 0h2m8 0h1m7 0h1m6 0h1m39 0h1m11 0h2m5 0h1m6 0h1m12 0h1m2 0h1m14 0h1m10 0h1m4 0h1m14 0h3m12 0h1m16 0h1m7 0h1m23 0h1m10 0h1m12 0h1m9 0h1M63 560h1m40 0h1m13 0h1m7 0h1m52 0h1m19 0h1m18 0h1m4 0h1m40 0h1m6 0h1m6 0h1m19 0h1m2 0h1m5 0h1m1 0h1m1 0h1m6 0h2m18 0h1m2 0h1m3 0h1m6 0h1m2 0h1m14 0h1m2 0h1m4 0h1m2 0h1m11 0h1m5 0h1m12 0h1m2 0h2m13 0h1m2 0h1m4 0h4m9 0h1m3 0h1m1 0h1m59 0h1m18 0h1m3 0h1m28 0h1m22 0h1M68 561h1m15 0h1m17 0h1m36 0h1m13 0h1m6 0h1m36 0h1m3 0h1m27 0h1m17 0h1m14 0h1m1 0h1m2 0h1m2 0h1m15 0h1m2 0h1m4 0h1m4 0h1m5 0h2m3 0h1m10 0h2m17 0h1m3 0h1m2 0h1m4 0h1m2 0h1m1 0h1m3 0h1m3 0h1m9 0h1m16 0h1m2 0h1m1 0h3m2 0h1m1 0h1m6 0h1m9 0h1m1 0h2m7 0h1m9 0h1m2 0h1m6 0h1m54 0h1m19 0h1m13 0h1m9 0h1m16 0h2m102 0h1M103 562h1m47 0h1m70 0h1m2 0h1m17 0h1m1 0h1m18 0h1m9 0h1m7 0h1m2 0h1m1 0h1m3 0h1m9 0h2m1 0h3m5 0h1m2 0h1m24 0h2m5 0h1m24 0h1m3 0h1m1 0h1m2 0h1m14 0h2m3 0h1m7 0h1m3 0h2m1 0h1m3 0h1m3 0h1m26 0h1m16 0h1m12 0h1m42 0h1m13 0h1m8 0h3m37 0h1m53 0h1M161 563h1m59 0h1m3 0h1m23 0h1m6 0h1m28 0h1m4 0h1m8 0h1m5 0h1m1 0h2m1 0h2m2 0h1m1 0h4m3 0h1m3 0h2m12 0h1m6 0h1m3 0h1m11 0h1m2 0h1m8 0h1m2 0h2m5 0h1m14 0h1m6 0h1m21 0h2m30 0h3m97 0h1m1 0h1m108 0h1m14 0h1M88 564h1m83 0h1m28 0h1m11 0h1m9 0h1m1 0h1m4 0h1m3 0h1m31 0h1m16 0h1m1 0h1m3 0h1m13 0h2m3 0h2m10 0h1m1 0h1m2 0h1m2 0h1m12 0h1m2 0h1m14 0h1m10 0h1m8 0h1m4 0h1m2 0h2m40 0h1m3 0h2m1 0h1m25 0h1m80 0h1m8 0h1m28 0h1m1 0h1m2 0h1m12 0h1M221 565h1m5 0h1m21 0h1m16 0h1m16 0h1m7 0h1m2 0h1m1 0h1m3 0h1m3 0h1m4 0h1m4 0h2m9 0h2m3 0h2m3 0h1m5 0h1m1 0h2m6 0h1m1 0h1m5 0h1m13 0h2m1 0h1m7 0h1m12 0h1m1 0h1m5 0h1m8 0h1m9 0h1m3 0h1m4 0h1m98 0h1m10 0h1m15 0h1m19 0h1m29 0h1m3 0h1m47 0h1m1 0h1M53 566h1m56 0h1m2 0h1m87 0h1m10 0h1m25 0h1m2 0h1m1 0h1m3 0h2m38 0h1m2 0h2m2 0h2m9 0h1m4 0h4m3 0h1m1 0h1m12 0h1m8 0h3m10 0h1m26 0h1m2 0h1m5 0h1m5 0h1m13 0h2m2 0h3m14 0h1m2 0h1m2 0h1m13 0h1m66 0h1m1 0h1m18 0h1m1 0h2m10 0h1m1 0h2m4 0h1m3 0h1m1 0h1m4 0h1m2 0h1m3 0h1m1 0h2m13 0h2m4 0h1m12 0h1m59 0h1M134 567h1m40 0h2m20 0h1m10 0h1m7 0h1m4 0h1m5 0h1m4 0h1m22 0h1m4 0h2m6 0h1m22 0h1m1 0h1m2 0h1m16 0h1m1 0h1m5 0h1m7 0h1m9 0h2m8 0h1m19 0h1m38 0h1m16 0h1m5 0h1m17 0h1m5 0h1m62 0h1m13 0h1m7 0h2m2 0h2m11 0h2m9 0h1m6 0h4m4 0h1m4 0h1m8 0h1m11 0h1m8 0h1m2 0h1m11 0h1m5 0h1m7 0h1m8 0h1m14 0h1m10 0h1m14 0h1M89 568h1m111 0h1m5 0h1m17 0h1m1 0h1m2 0h1m2 0h1m4 0h1m13 0h1m6 0h1m4 0h1m34 0h3m3 0h1m2 0h1m3 0h1m1 0h1m3 0h1m22 0h1m21 0h1m5 0h2m2 0h1m10 0h2m1 0h1m4 0h1m8 0h1m29 0h1m1 0h1m12 0h1m4 0h1m2 0h1m62 0h1m22 0h2m5 0h1m1 0h1m17 0h1m3 0h1m16 0h3m5 0h1m2 0h1m1 0h1m2 0h1m6 0h1m4 0h1m2 0h1m8 0h1m8 0h1m4 0h1m3 0h2m3 0h1m16 0h1m9 0h1m4 0h1"/><path stroke="#2525fa" d="M91 548h1m408 0h1m47 0h1M103 549h1m344 0h1M69 550h1m49 0h1m53 0h1m59 0h1m25 0h1m53 0h1m45 0h1m87 0h1m143 0h1M115 551h1m145 0h1m7 0h1m1 0h1m12 0h1m72 0h1m97 0h1m17 0h1M91 552h1m24 0h1m36 0h1m106 0h1m19 0h1m21 0h1m41 0h1m18 0h1m25 0h1m38 0h1m23 0h1m49 0h1m39 0h1m83 0h1m11 0h1M53 553h1m16 0h1m2 0h1m5 0h1m2 0h1m28 0h1m18 0h1m26 0h1m86 0h1m10 0h1m124 0h1m7 0h1m11 0h1m27 0h1m39 0h1m10 0h1m2 0h1m148 0h1M81 554h1m18 0h1m6 0h2m4 0h1m30 0h1m28 0h1m52 0h1m8 0h1m42 0h1m26 0h1m7 0h1m30 0h1m34 0h3m12 0h1M54 555h1m11 0h1m46 0h1m19 0h1m58 0h1m5 0h1m2 0h1m22 0h1m41 0h1m19 0h1m7 0h1m51 0h1m8 0h1m41 0h1m6 0h1m12 0h1m26 0h1m7 0h1m145 0h2M53 556h1m3 0h1m1 0h1m1 0h1m2 0h1m4 0h1m10 0h1m13 0h1m2 0h1m105 0h2m48 0h1m11 0h2m30 0h1m51 0h1m1 0h1m23 0h1m18 0h1m10 0h1m4 0h1m32 0h1m24 0h1m4 0h1m18 0h1M67 557h1m12 0h1m15 0h1m6 0h1m1 0h2m33 0h1m51 0h1m2 0h1m13 0h1m37 0h1m3 0h1m4 0h1m8 0h1m4 0h1m1 0h2m4 0h1m17 0h1m18 0h1m5 0h1m18 0h1m34 0h1m4 0h1m17 0h1m33 0h1m51 0h1m9 0h1m8 0h1m15 0h1M70 558h1m6 0h1m21 0h1m7 0h1m11 0h1m78 0h1m5 0h1m6 0h1m6 0h1m4 0h1m1 0h2m1 0h1m7 0h1m25 0h1m2 0h1m4 0h1m30 0h1m13 0h1m2 0h1m3 0h1m17 0h1m8 0h1m6 0h1m27 0h1m55 0h1m7 0h1m8 0h1m10 0h1m31 0h1m3 0h1m50 0h1M64 559h1m14 0h1m76 0h1m3 0h1m20 0h1m4 0h1m4 0h1m1 0h1m2 0h1m9 0h1m10 0h1m2 0h1m4 0h1m1 0h1m42 0h1m2 0h1m1 0h1m15 0h1m2 0h1m12 0h1m1 0h1m2 0h1m5 0h1m26 0h2m23 0h1m7 0h1m6 0h1m1 0h2m15 0h1m6 0h2m14 0h1m8 0h1m2 0h1m12 0h2m28 0h1m70 0h1m74 0h1m23 0h1m5 0h1M100 560h1m66 0h1m13 0h1m7 0h1m2 0h1m9 0h1m23 0h1m8 0h1m13 0h1m2 0h1m23 0h1m3 0h2m12 0h1m4 0h1m32 0h1m26 0h1m3 0h1m2 0h1m34 0h1m4 0h1m16 0h1m3 0h1m9 0h1m12 0h1m71 0h1m8 0h1m6 0h1m9 0h1m16 0h1M219 561h1m10 0h1m9 0h1m16 0h1m8 0h1m26 0h1m2 0h1m3 0h1m7 0h1m9 0h1m4 0h1m4 0h2m18 0h1m27 0h1m1 0h1m1 0h3m17 0h1m13 0h1m49 0h1m45 0h1m34 0h1m2 0h1m4 0h1m8 0h1m2 0h1M99 562h1m62 0h1m68 0h1m19 0h1m5 0h1m25 0h1m58 0h1m28 0h1m130 0h1m87 0h1m52 0h1m16 0h1M163 563h1m64 0h1m18 0h1m52 0h1m3 0h1m4 0h1m5 0h1m9 0h2m8 0h1m8 0h1m1 0h1m26 0h2m37 0h1m33 0h1m34 0h1m39 0h1m39 0h1m90 0h2M194 564h1m33 0h1m76 0h1m5 0h1m1 0h1m10 0h1m2 0h1m3 0h1m16 0h1m4 0h2m20 0h1m2 0h1m18 0h1m18 0h1m102 0h2m2 0h1m29 0h2m32 0h2m36 0h1M229 565h1m73 0h1m6 0h1m10 0h1m7 0h1m6 0h1m18 0h1m39 0h1m11 0h1m2 0h1m1 0h1m8 0h1m3 0h1m91 0h1m9 0h1m14 0h1m43 0h1m15 0h1m3 0h1m17 0h1M178 566h1m47 0h1m19 0h1m6 0h1m22 0h1m99 0h1m51 0h1m3 0h1m16 0h1m11 0h1m70 0h1m18 0h2m21 0h1m1 0h1m3 0h1m11 0h1m12 0h1m23 0h1m47 0h1m14 0h1m1 0h1m3 0h1M238 567h1m10 0h1m61 0h2m1 0h1m55 0h1m2 0h1m47 0h1m2 0h1m1 0h1m1 0h1m5 0h1m104 0h1m2 0h2m8 0h1m2 0h1m8 0h1m17 0h1m3 0h2m4 0h1m5 0h1m11 0h1m1 0h2m13 0h1m2 0h1m5 0h1m9 0h1m13 0h1m17 0h1m19 0h1M223 568h2m6 0h1m23 0h1m1 0h1m2 0h1m42 0h1m12 0h1m69 0h1m13 0h1m5 0h1m23 0h1m101 0h1m6 0h1m2 0h1m7 0h2m3 0h1m13 0h1m4 0h1m10 0h1m5 0h1m2 0h1m10 0h1m12 0h1m2 0h1m1 0h1m3 0h1m1 0h1m6 0h1m2 0h1m5 0h1m13 0h2m2 0h2m5 0h1m1 0h1m7 0h1m3 0h1m5 0h1m6 0h1"/><path stroke="#0606fe" d="M336 547h1m190 0h1m133 0h1M332 548h1m46 0h1m16 0h1m207 0h1M52 549h1m46 0h1m75 0h1m96 0h1M61 550h1m294 0h1m145 0h1M63 551h1m57 0h1m83 0h1m18 0h1m42 0h1m52 0h1m170 0h1m158 0h1M73 552h1m4 0h1m47 0h1m15 0h1m57 0h1m110 0h1m119 0h1m35 0h1m37 0h1M212 553h1m1 0h1m65 0h1m7 0h1m26 0h1m40 0h1m19 0h1m63 0h1m67 0h1m184 0h1M59 554h1m52 0h1m2 0h1m7 0h1m28 0h1m15 0h1m14 0h1m35 0h1m22 0h1m27 0h1m12 0h1m11 0h1m87 0h1m15 0h1m9 0h1m24 0h1m11 0h1m2 0h1m6 0h1m36 0h1M83 555h1m35 0h1m46 0h1m26 0h1m9 0h1m3 0h1m10 0h1m14 0h1m14 0h1m15 0h1m25 0h2m14 0h1m1 0h1m3 0h1m28 0h1m92 0h1m5 0h1m5 0h1m41 0h1m50 0h1m5 0h1M58 556h1m4 0h1m53 0h1m11 0h1m10 0h1m32 0h1m18 0h1m8 0h1m6 0h1m39 0h1m59 0h1m12 0h1m14 0h1m16 0h1m32 0h1m53 0h1m3 0h1m2 0h1m33 0h1m40 0h1m175 0h1M59 557h1m11 0h1m2 0h1m6 0h1m12 0h1m32 0h1m13 0h1m5 0h1m8 0h1m27 0h2m43 0h1m27 0h1m8 0h1m46 0h1m4 0h1m6 0h1m11 0h1m6 0h1m46 0h1m24 0h1m1 0h1m18 0h1m10 0h1m48 0h1m14 0h1m17 0h1m3 0h1M102 558h1m87 0h1m16 0h1m8 0h1m20 0h1m13 0h1m3 0h1m15 0h1m3 0h1m1 0h1m88 0h1m3 0h1m41 0h1m13 0h1m3 0h1m14 0h1m14 0h1m3 0h1m6 0h1m81 0h1M113 559h1m3 0h1m28 0h1m66 0h1m50 0h1m25 0h1m59 0h1m25 0h1m23 0h2m22 0h1m3 0h2m74 0h1m31 0h1m103 0h1M170 560h1m16 0h1m36 0h1m36 0h1m7 0h1m9 0h1m24 0h1m25 0h1m4 0h1m17 0h1m26 0h1m22 0h1m56 0h1m44 0h1m26 0h2M221 561h1m1 0h1m2 0h1m119 0h1m25 0h1m52 0h1m92 0h2m80 0h1m23 0h1M239 562h1m44 0h1m8 0h1m20 0h1m36 0h2m17 0h1m37 0h1m111 0h1m45 0h1m25 0h1M411 563h1m115 0h1m45 0h1M306 564h1m102 0h1m108 0h1m46 0h1M519 565h1m64 0h1m29 0h1m10 0h1m1 0h1m1 0h1m14 0h2m9 0h1M296 566h1m27 0h1m113 0h1m104 0h1m40 0h1m9 0h1m78 0h1m9 0h1M135 567h1m205 0h1m90 0h1m3 0h1m114 0h1m38 0h1m9 0h1m10 0h1m4 0h1m3 0h1m4 0h1m23 0h1m3 0h3m2 0h1m11 0h1M429 568h1m123 0h1m41 0h1m2 0h1m15 0h1m9 0h3m4 0h1m1 0h1m6 0h2m2 0h1m11 0h1m34 0h1m2 0h1"/><path stroke="#0019e6" d="M240 547h1m24 0h1M60 548h1m82 0h1m482 0h1m59 0h1M123 549h1m276 0h1m290 0h1M80 550h1m129 0h1m59 0h1m21 0h1m12 0h1m143 0h1M56 551h1m15 0h1m68 0h1m68 0h1m187 0h1m22 0h1m18 0h1m7 0h1m130 0h1M53 552h1m55 0h1m102 0h1m99 0h1m28 0h1m38 0h1m53 0h1m25 0h1m31 0h1m3 0h1M127 553h1m76 0h1m5 0h1m96 0h1m74 0h1m16 0h1m2 0h1m49 0h1M72 554h1m3 0h1m16 0h1m36 0h1m70 0h1m3 0h1m6 0h1m31 0h1m43 0h1m53 0h1m68 0h1m13 0h1m24 0h1m21 0h1m1 0h1m39 0h1m163 0h1M59 555h2m13 0h1m14 0h1m26 0h1m77 0h1m14 0h1m15 0h2m12 0h1m28 0h1m70 0h1m29 0h1m53 0h1m9 0h1m152 0h1M56 556h1m15 0h1m11 0h1m68 0h1m51 0h1m67 0h1m10 0h1m46 0h2m9 0h1m18 0h1m26 0h1m11 0h1m6 0h1m21 0h1m3 0h1m32 0h1m30 0h1m30 0h1m15 0h1M73 557h1m10 0h1m64 0h1m28 0h1m19 0h1m2 0h1m6 0h1m45 0h1m24 0h1m9 0h1m63 0h1m1 0h1m44 0h1m7 0h1m42 0h1m30 0h1M128 558h2m25 0h1m31 0h1m4 0h1m1 0h1m20 0h1m4 0h1m10 0h1m36 0h1m9 0h1m20 0h1m19 0h1m17 0h1m3 0h1m2 0h1m92 0h1m95 0h1m14 0h1M162 559h1m73 0h1m48 0h1m30 0h1m6 0h1m8 0h1m11 0h1m17 0h1m42 0h1m2 0h1m13 0h1m8 0h1m3 0h1m79 0h1M158 560h1m126 0h1m1 0h1m45 0h1m5 0h2m2 0h1m32 0h2m71 0h1m85 0h1m35 0h1m45 0h1M225 561h1m75 0h1m62 0h1m18 0h1m24 0h1m164 0h1m2 0h1m75 0h1M517 562h1m4 0h1m28 0h1m11 0h1m14 0h1M551 563h1m11 0h1m16 0h1m20 0h2m3 0h1M617 565h1m14 0h1M583 566h1m2 0h2m2 0h1m9 0h1m7 0h1m9 0h1m23 0h2M429 567h1m159 0h1m5 0h1m6 0h1m1 0h1m12 0h1m10 0h1m5 0h1m9 0h2m6 0h1m4 0h1m31 0h1M552 568h1m39 0h2m3 0h1m8 0h1m5 0h2m3 0h1m34 0h1m13 0h1m8 0h1m1 0h1m20 0h1"/><path stroke="#0038c7" d="M471 547h1m27 0h1m102 0h1m93 0h1M277 548h1m417 0h1M79 549h1m39 0h1m304 0h1m114 0h1M136 550h1m87 0h1m30 0h1m64 0h1m67 0h1M104 551h1m77 0h1m37 0h1m43 0h1m13 0h1m34 0h1m41 0h1m34 0h1m13 0h1m65 0h1M59 552h1m48 0h1m96 0h1m12 0h1m35 0h1m3 0h1m129 0h1m47 0h1m10 0h1M55 553h1m12 0h1m101 0h1m102 0h1m2 0h1m2 0h1m25 0h1m6 0h1m8 0h1m4 0h1m54 0h1m36 0h1m31 0h1m23 0h1M51 554h1m34 0h1m1 0h1m2 0h1m103 0h1m2 0h1m16 0h1m2 0h1m131 0h1m19 0h1m15 0h1m20 0h1m30 0h1M71 555h1m197 0h1m62 0h1m34 0h1m12 0h1m11 0h1m14 0h1m47 0h1m25 0h1m62 0h1M55 556h1m52 0h1m33 0h1m59 0h1m4 0h1m7 0h1m6 0h1m20 0h1m34 0h1m41 0h1m3 0h1m35 0h1m51 0h1m4 0h1m123 0h1m89 0h1M180 557h1m22 0h1m26 0h1m1 0h1m16 0h1m2 0h1m5 0h2m1 0h1m22 0h1m5 0h1m25 0h1m15 0h1m2 0h1m9 0h1m28 0h1m7 0h1m2 0h1m39 0h1m7 0h1m36 0h1m30 0h1m27 0h1M71 558h1m42 0h1m17 0h1m91 0h1m44 0h1m35 0h1m7 0h1m21 0h1m2 0h1m35 0h1m5 0h1m37 0h1m15 0h1m46 0h1m33 0h1m9 0h1M112 559h1m95 0h1m14 0h1m65 0h1m10 0h1m27 0h1m46 0h1m133 0h1M165 560h1m67 0h1m4 0h1m63 0h1m71 0h1m200 0h1m17 0h1m18 0h1m74 0h1M345 561h1m23 0h1m172 0h1M662 562h1M520 563h1m61 0h1M601 564h1m16 0h1m1 0h1m29 0h1m19 0h1M575 565h1m12 0h1m41 0h1m11 0h1m28 0h1M585 566h1m24 0h1m22 0h1m35 0h1m18 0h1M599 567h1m3 0h1m18 0h1m12 0h1m26 0h1m3 0h1m24 0h2M632 568h1m1 0h1m18 0h2m12 0h1m5 0h1m13 0h1"/><path stroke="#0057a8" d="M128 547h1m35 0h1m141 0h1m32 0h1m143 0h1M140 548h1m57 0h1m27 0h1m45 0h1m234 0h1m80 0h1M152 550h1m128 0h1m25 0h1m56 0h1m63 0h1m12 0h1m238 0h1M146 551h1m125 0h1m109 0h1m46 0h1m221 0h1M96 552h1m14 0h1m12 0h1m9 0h1m50 0h1m46 0h1m9 0h1m18 0h1m120 0h1m269 0h1M59 553h1m11 0h1m33 0h1m34 0h1m60 0h1m5 0h1m55 0h1m40 0h1m20 0h1m7 0h1m61 0h1m59 0h1m33 0h1m82 0h1M120 554h1m26 0h2m41 0h1m17 0h1m36 0h1m2 0h1m4 0h1m79 0h1m90 0h1m56 0h1m10 0h1M53 555h1m49 0h1m14 0h1m21 0h1m1 0h1m10 0h1m37 0h1m28 0h1m17 0h1m16 0h1m36 0h1m4 0h1m67 0h1m18 0h1m5 0h1m78 0h1m6 0h1m63 0h1m74 0h1m42 0h1M119 556h1m7 0h1m33 0h1m24 0h1m38 0h1m21 0h1m7 0h1m5 0h1m8 0h1m20 0h1m13 0h1m4 0h1m22 0h1m116 0h1m40 0h1m16 0h2m4 0h1M200 557h1m9 0h1m15 0h2m63 0h1m46 0h1m17 0h2m141 0h1m173 0h1M154 558h1m50 0h1m28 0h1m44 0h1m11 0h1m42 0h1m29 0h1m2 0h1m11 0h1M364 559h1m149 0h1M347 560h1m31 0h1m143 0h1M353 561h1m13 0h1m152 0h1m134 0h1M615 562h1M552 563h1m28 0h1m3 0h1m6 0h1m1 0h1m13 0h1m5 0h1M570 564h1m52 0h1M580 565h1m26 0h2m10 0h1m48 0h1m3 0h1M591 566h1m11 0h1m10 0h1m35 0h1m2 0h1m1 0h1m7 0h1m12 0h1m9 0h1m3 0h1m5 0h1M553 567h1m47 0h1m22 0h1m6 0h1m6 0h1m2 0h1m45 0h1M603 568h1m46 0h1m6 0h1m11 0h1m4 0h1m10 0h1m9 0h1m3 0h1"/><path stroke="#009669" d="M61 547h1m33 0h1m6 0h1m115 0h1m19 0h1m51 0h1m13 0h1m55 0h1m50 0h1m29 0h1m58 0h1m70 0h1m85 0h1m12 0h1M196 548h1m20 0h1m48 0h1m33 0h1m6 0h1m47 0h1m14 0h1m35 0h1m128 0h1m6 0h1m31 0h1m47 0h1m10 0h1m3 0h1M64 549h1m12 0h1m110 0h1m71 0h1m86 0h2m31 0h1m6 0h1m5 0h1m27 0h1m30 0h2m19 0h1m20 0h1m48 0h1m39 0h1M89 550h1m16 0h1m44 0h1m47 0h1m56 0h1m11 0h1m5 0h1m42 0h1m17 0h1m103 0h1m2 0h1m37 0h1m29 0h1M74 551h1m28 0h1m16 0h1m108 0h2m32 0h1m1 0h1m25 0h1m6 0h1m26 0h1m5 0h1m30 0h1m25 0h1m48 0h1m7 0h1m156 0h1M61 552h1m4 0h1m14 0h1m1 0h1m1 0h1m2 0h1m86 0h1m1 0h1m23 0h1m18 0h1m24 0h1m21 0h1m1 0h1m1 0h1m36 0h1m12 0h1m10 0h1m5 0h1m11 0h1m2 0h1m58 0h1m10 0h1m26 0h1m5 0h1m22 0h1m97 0h1m101 0h1M57 553h1m7 0h1m10 0h1m18 0h1m16 0h1m19 0h1m5 0h1m15 0h1m3 0h1m14 0h1m3 0h1m14 0h2m19 0h1m15 0h1m21 0h1m4 0h1m3 0h1m7 0h1m2 0h1m24 0h1m4 0h1m90 0h2m26 0h1m1 0h1m23 0h1m4 0h1m2 0h1m2 0h1m1 0h1m144 0h1m65 0h1M64 554h2m12 0h1m6 0h1m46 0h1m5 0h2m22 0h1m2 0h1m1 0h1m17 0h1m3 0h1m21 0h1m1 0h1m50 0h1m6 0h1m28 0h1m2 0h1m16 0h1m42 0h1m7 0h1m10 0h1m53 0h1m5 0h1m12 0h1m23 0h2m1 0h1m12 0h1m45 0h1m18 0h1m4 0h1M62 555h1m1 0h1m32 0h1m19 0h1m4 0h1m29 0h1m10 0h1m1 0h1m2 0h2m1 0h1m14 0h1m10 0h1m8 0h1m20 0h1m24 0h1m28 0h1m3 0h1m18 0h1m13 0h2m3 0h2m2 0h1m17 0h1m6 0h1m6 0h1m11 0h1m33 0h1m25 0h1m28 0h1m12 0h1m4 0h1m21 0h1m1 0h1m3 0h1m24 0h1M75 556h1m2 0h1m2 0h1m42 0h1m19 0h1m32 0h1m42 0h1m35 0h1m10 0h1m7 0h1m28 0h1m14 0h1m6 0h1m14 0h1m27 0h1m7 0h1m2 0h1m46 0h1m11 0h1m19 0h1m12 0h1m37 0h1m20 0h1m13 0h1m50 0h1m36 0h1m1 0h1M52 557h1m105 0h2m2 0h1m23 0h1m4 0h1m51 0h2m3 0h1m27 0h1m45 0h1m7 0h1m5 0h1m2 0h1m10 0h1m15 0h1m3 0h1m7 0h1m4 0h1m58 0h1m62 0h1m5 0h1m9 0h1m99 0h1m74 0h1M148 558h1m9 0h1m2 0h1m65 0h1m83 0h1m20 0h1m19 0h1m20 0h1m41 0h1m7 0h1m105 0h1m130 0h1M245 559h1m87 0h1m27 0h1m55 0h1m110 0h1m22 0h1m2 0h1M163 560h1m197 0h1m156 0h1m22 0h2m37 0h1m1 0h1m26 0h2m31 0h1M373 561h1m139 0h1m41 0h1m7 0h1m8 0h1m7 0h1m63 0h1m46 0h1M523 562h1m51 0h1m9 0h1m17 0h2m3 0h1m16 0h1m14 0h1m29 0h1m23 0h1M570 563h1m54 0h1m1 0h1m6 0h2m1 0h1m3 0h1M573 564h1m29 0h1m3 0h1m3 0h1m3 0h1m1 0h1m29 0h1m6 0h1m1 0h1m8 0h1m13 0h2m14 0h2M597 565h1m6 0h1m28 0h1m28 0h1m16 0h2m14 0h1m3 0h1M598 566h1m14 0h1m11 0h1m6 0h1m3 0h1m2 0h1m9 0h1m1 0h1m9 0h2m28 0h1M593 567h1m67 0h1m10 0h1m1 0h4m2 0h1m14 0h1m3 0h1M638 568h1m16 0h1"/><path stroke="#00d42b" d="M305 547h1m368 0h1M51 548h1m160 0h1m90 0h1m184 0h1m22 0h1M381 549h1M217 550h1m3 0h1m38 0h1m210 0h1m139 0h1M106 551h1m125 0h1m235 0h1m31 0h1M77 552h1m1 0h1m127 0h1m55 0h1m46 0h1m3 0h1m62 0h1m155 0h1M80 553h1m40 0h2m20 0h1m186 0h1m58 0h1m48 0h1m89 0h1M127 554h1m65 0h1m69 0h1m12 0h1m39 0h1m245 0h1M57 555h1m23 0h1m77 0h1m35 0h1m6 0h1m86 0h1m130 0h1m17 0h1m46 0h1m126 0h1M155 556h1m89 0h1m4 0h1m94 0h1m41 0h1m31 0h1m123 0h1m33 0h1M123 557h1m107 0h1m14 0h1m36 0h1m4 0h1m20 0h1m13 0h1m17 0h1m193 0h1m1 0h1m1 0h1M244 558h1m101 0h1m175 0h1M516 559h1m31 0h1m70 0h1m19 0h1m56 0h1M357 560h1M585 561h1m74 0h1M521 562h1m60 0h1M571 564h1m26 0h1M601 565h1m91 0h1M621 566h1m46 0h1m11 0h1m16 0h1"/><path stroke="#26ff00" d="M119 547h1m11 0h1m238 0h1m19 0h1m1 0h1m23 0h1m10 0h1m8 0h1m200 0h1m9 0h1M81 548h1m6 0h1m15 0h1m189 0h1m10 0h1m37 0h1m86 0h1m13 0h1m6 0h1m141 0h1m1 0h1m70 0h1M58 549h1m22 0h1m130 0h2m3 0h1m31 0h1m87 0h1m3 0h1m84 0h1m9 0h1m9 0h1m19 0h1m25 0h1M52 550h1m1 0h1m24 0h1m4 0h1m11 0h1m18 0h2m31 0h1m62 0h1m38 0h1m6 0h1m20 0h1m19 0h1m13 0h1m14 0h1m1 0h1m11 0h1m29 0h1m15 0h1m5 0h1m1 0h1m1 0h1m21 0h1m16 0h1m147 0h1M51 551h1m26 0h1m95 0h1m5 0h1m47 0h1m39 0h1m8 0h1m24 0h1m33 0h1m33 0h1m15 0h2m4 0h2m36 0h1m137 0h1m16 0h1m8 0h1m25 0h1m57 0h1M67 552h1m38 0h1m33 0h1m83 0h1m21 0h1m6 0h1m36 0h1m4 0h1m8 0h1m17 0h1m16 0h1m50 0h1m28 0h1m9 0h1m38 0h1m8 0h1m94 0h1M69 553h1m45 0h1m18 0h1m29 0h1m16 0h1m26 0h1m9 0h1m18 0h1m14 0h1m46 0h2m8 0h1m19 0h1m12 0h1m43 0h1m7 0h1m16 0h1m4 0h1m10 0h1m5 0h1m37 0h2m11 0h1m1 0h1m19 0h1m116 0h1m24 0h1M82 554h1m45 0h1m14 0h1m1 0h1m26 0h1m3 0h1m1 0h1m27 0h1m10 0h1m5 0h1m37 0h1m12 0h1m31 0h1m3 0h1m24 0h1m9 0h1m2 0h1m47 0h1m43 0h1m63 0h1m85 0h1m23 0h1m41 0h1M61 555h1m58 0h1m26 0h1m24 0h1m43 0h1m18 0h1m6 0h1m13 0h1m1 0h1m28 0h2m21 0h1m5 0h1m12 0h1m26 0h1m25 0h1m16 0h1m10 0h1m50 0h1m3 0h1m13 0h1m11 0h1m68 0h1M83 556h1m59 0h1m6 0h1m13 0h2m5 0h1m12 0h1m66 0h1m24 0h1m11 0h1m6 0h1m16 0h1m3 0h1m61 0h1m6 0h1m18 0h1m4 0h1m14 0h1m51 0h1m56 0h1m41 0h1m52 0h1m26 0h1m12 0h1M155 557h1m10 0h1m69 0h1m87 0h1m3 0h1m25 0h1m3 0h1m9 0h1m42 0h1m1 0h1m48 0h1m51 0h1m8 0h1m4 0h1m15 0h1M235 558h1m56 0h1m31 0h1M249 559h1m99 0h1m155 0h1m20 0h1m31 0h1m9 0h1m8 0h1M521 560h1m35 0h1m90 0h1m17 0h1m12 0h1M567 561h1m15 0h1m17 0h1m11 0h2M576 562h1m94 0h1M624 563h1m49 0h1M608 564h1m4 0h1m15 0h1m2 0h2m1 0h1m35 0h1m18 0h2m7 0h1M626 565h1m7 0h1m13 0h1M622 566h1m23 0h1m5 0h1m1 0h1m26 0h1M667 567h1m13 0h1m2 0h1m5 0h1m3 0h1"/><path stroke="#9cff00" d="M129 547h1m70 0h1m108 0h1m316 0h1M54 548h1m202 0h2m38 0h1m3 0h1m244 0h1M75 549h1m97 0h1m96 0h1m31 0h1m147 0h1m3 0h1M266 550h1m100 0h1m53 0h1m30 0h1m2 0h1m11 0h1m5 0h1m15 0h1M88 551h1m310 0h1M281 552h1m99 0h1m64 0h1M150 553h1m1 0h1m12 0h1m18 0h1m134 0h1m99 0h1m44 0h1m70 0h1m163 0h1M73 554h1m175 0h1m88 0h1m22 0h1m264 0h1M148 555h1m18 0h1m176 0h1m111 0h1m228 0h1M360 557h1m208 0h1M532 558h1m41 0h1M552 560h1m55 0h1M549 561h1m2 0h1m81 0h1M571 563h1m100 0h1M657 564h1M654 565h1"/><path stroke="#fff500" d="M74 547h1m22 0h1m6 0h1m82 0h1m35 0h1m140 0h1m97 0h1m103 0h1m66 0h1m25 0h1M223 548h1m128 0h1m11 0h1m15 0h1m65 0h1m1 0h1M80 549h1m8 0h1m1 0h1m13 0h1m22 0h1m8 0h1m6 0h1m9 0h1m71 0h1m17 0h1m32 0h1m15 0h1m22 0h1m59 0h1m1 0h1m119 0h1m87 0h1m1 0h1m8 0h1M103 550h1m68 0h1m4 0h1m4 0h1m39 0h1m7 0h1m34 0h1m31 0h1m92 0h1M57 551h1m1 0h1m7 0h1m8 0h1m70 0h1m10 0h1m11 0h1m32 0h1m4 0h1m2 0h1m76 0h1m17 0h1m87 0h1m1 0h1m4 0h1m51 0h1m8 0h1m160 0h1M63 552h1m10 0h1m15 0h1m42 0h1m2 0h1m8 0h1m15 0h1m12 0h1m19 0h1m7 0h1m49 0h1m12 0h2m3 0h1m42 0h1m54 0h1m24 0h1m6 0h1m5 0h1m4 0h1m12 0h1m5 0h1m56 0h1m20 0h1m34 0h1M74 553h1m58 0h1m10 0h1m34 0h1m3 0h1m38 0h1m5 0h1m3 0h1m24 0h1m8 0h1m65 0h1m2 0h1m10 0h2m3 0h1m1 0h1m16 0h1m1 0h1m32 0h1m43 0h1m81 0h1m7 0h1m107 0h1M175 554h1m67 0h1m28 0h1m6 0h1m4 0h1m7 0h1m16 0h1m2 0h1m43 0h1m5 0h1m10 0h2m28 0h1m1 0h1m215 0h1M149 555h1m26 0h1m1 0h1m5 0h1m62 0h1m173 0h1m41 0h1m10 0h1m33 0h1m26 0h1m34 0h1m69 0h1m56 0h1M187 556h1m93 0h1m4 0h1m5 0h1m22 0h1m34 0h1m161 0h1m39 0h1m7 0h1m95 0h1m4 0h1M359 557h1m173 0h1m52 0h1M510 558h1m31 0h1m94 0h1M518 559h1m2 0h1m30 0h1m11 0h1m1 0h1m25 0h1M606 562h1m65 0h1M609 563h2m37 0h1m36 0h1M590 564h1m13 0h1m44 0h1m8 0h1m4 0h1M621 565h1m6 0h1m37 0h1m7 0h1m6 0h1m9 0h1M626 566h1m4 0h1m61 0h1M651 567h1m31 0h1"/><path stroke="#ffb300" d="M67 547h1m418 0h1m107 0h1M93 548h1m144 0h1M70 549h1m21 0h1m5 0h1m287 0h1m7 0h1M125 550h1m356 0h1m36 0h1M256 551h1m25 0h1m55 0h1m310 0h1M256 552h1m127 0h1m10 0h1m1 0h1m100 0h1M141 553h1m11 0h1m87 0h1m89 0h1m7 0h1M55 554h1m100 0h1M301 555h1m35 0h1m15 0h1M323 556h1m266 0h1M557 557h1M516 558h1M588 562h1M647 563h1M657 565h1"/><path stroke="#ff7100" d="M98 547h1m77 0h1m30 0h1m147 0h1m90 0h1m27 0h1m109 0h1M56 548h1m93 0h1m125 0h1m98 0h1m139 0h1m21 0h1m109 0h1M60 549h1m48 0h2m5 0h1m1 0h1m14 0h1m53 0h1m5 0h1m5 0h1m4 0h1m57 0h1m51 0h1m125 0h1M105 550h1m36 0h1m38 0h1m38 0h1m95 0h1m82 0h1m7 0h1m30 0h1m30 0h1m82 0h1m55 0h1M71 551h1m8 0h1m50 0h2m30 0h1m43 0h1m19 0h1m5 0h1m77 0h1m34 0h1m36 0h1m63 0h1m180 0h1M60 552h1m15 0h1m33 0h1m60 0h1m50 0h1m21 0h1m109 0h1m2 0h1m7 0h1m8 0h1m39 0h1m17 0h1m8 0h1m16 0h1m22 0h1m6 0h1M83 553h1m72 0h1m33 0h1m3 0h1m2 0h1m35 0h1m8 0h1m2 0h1m44 0h1m72 0h1m7 0h1m11 0h1m1 0h1m15 0h1m4 0h1m17 0h1m9 0h1m92 0h1m33 0h1m9 0h1m122 0h1M126 554h1m24 0h1m84 0h1m18 0h1m3 0h1m62 0h1m23 0h1m61 0h1m59 0h1M143 555h1m275 0h1m44 0h1m24 0h1M232 556h1m113 0h1M163 557h1m342 0h1M509 558h1m42 0h1m29 0h1M584 559h1m40 0h1M570 560h1M648 561h1M596 562h1m10 0h1m61 0h1m10 0h1m11 0h1M593 563h1m5 0h1m69 0h1m24 0h1M612 564h1m21 0h1m2 0h2m16 0h1M684 565h1M658 566h1m23 0h1"/><path stroke="#ff3000" d="M158 547h1m140 0h1m2 0h1m286 0h1m90 0h1M59 548h1m16 0h1m54 0h1m527 0h1m37 0h1M206 549h1m190 0h1m148 0h1M127 550h1m75 0h1m120 0h1m77 0h1m31 0h1M54 551h1m11 0h1m59 0h1m17 0h1m5 0h1m66 0h1m189 0h1m8 0h1m72 0h1m92 0h1M297 552h1m201 0h1m4 0h1M136 553h1m217 0h1m150 0h1M194 554h1m35 0h1m54 0h1m128 0h1M501 556h1M532 557h1m23 0h1M517 558h1m6 0h1M541 559h1M605 561h1M644 562h1m5 0h1M586 563h1m78 0h1m11 0h2M662 564h1"/><path stroke="#f0000f" d="M146 547h2m116 0h1m19 0h1m93 0h1m15 0h1m22 0h1m10 0h1m21 0h1m163 0h1M261 548h1m106 0h1m58 0h1m6 0h1m1 0h1m110 0h1M68 549h1m37 0h1m15 0h1m69 0h1m28 0h1m62 0h1m41 0h1m64 0h1m10 0h1m184 0h1M60 550h1m139 0h1m38 0h1m29 0h1m2 0h2m47 0h2m35 0h1m6 0h1M130 551h1m46 0h1m18 0h2m16 0h1m7 0h1m93 0h2m3 0h1m25 0h1m75 0h1M71 552h1m50 0h1m103 0h1m2 0h1m27 0h1m24 0h1m4 0h1m41 0h1m85 0h1m39 0h1m6 0h1m91 0h1M117 553h1m27 0h1m36 0h1m106 0h1m136 0h1m261 0h1M334 554h1m4 0h1m29 0h1m61 0h1m7 0h1m71 0h1m28 0h1m46 0h1m91 0h1m17 0h1M158 555h1m215 0h1m91 0h1m3 0h1m56 0h1m2 0h1M507 556h1m12 0h1m15 0h1m56 0h1M550 557h1M543 558h1m34 0h1M567 559h1m80 0h1M560 560h1m20 0h1m41 0h1M597 561h1M621 562h1m30 0h1m10 0h1M621 563h1m62 0h1M652 564h1m13 0h1M659 565h1m23 0h1"/><path stroke="#b80048" d="M85 547h1m32 0h1m284 0h1m83 0h1M177 548h1m40 0h1m65 0h1m147 0h1m54 0h1m73 0h1M207 549h1m105 0h1m31 0h1m99 0h1m222 0h1M208 550h1m5 0h1m87 0h1m88 0h1M127 551h1m11 0h1m14 0h1m222 0h1m164 0h1m116 0h1M62 552h1m257 0h1m149 0h1M148 553h1m74 0h1m120 0h1m29 0h1m299 0h1M642 556h1m42 0h1M577 558h1m3 0h1M556 559h1m13 0h1M562 560h1m21 0h1"/><path stroke="#800080" d="M54 547h2m3 0h1m2 0h2m1 0h1m2 0h1m7 0h1m3 0h2m1 0h1m4 0h1m1 0h2m1 0h1m18 0h2m1 0h1m5 0h1m2 0h1m7 0h2m1 0h1m4 0h1m1 0h1m1 0h1m3 0h2m1 0h1m7 0h1m3 0h1m1 0h2m5 0h1m2 0h1m1 0h1m1 0h1m1 0h2m12 0h2m8 0h2m2 0h3m4 0h1m3 0h2m4 0h2m1 0h1m3 0h1m1 0h1m1 0h1m3 0h3m1 0h3m4 0h1m4 0h4m9 0h1m8 0h1m5 0h1m1 0h3m3 0h1m1 0h1m2 0h1m1 0h1m2 0h1m4 0h1m2 0h3m1 0h1m7 0h2m1 0h2m2 0h4m1 0h1m1 0h1m11 0h1m1 0h3m5 0h1m5 0h1m1 0h3m1 0h1m2 0h1m2 0h1m1 0h1m1 0h5m7 0h1m3 0h1m3 0h1m2 0h3m5 0h2m1 0h1m2 0h1m3 0h2m9 0h1m5 0h2m1 0h1m1 0h1m8 0h1m1 0h1m8 0h2m4 0h1m4 0h1m3 0h4m1 0h1m4 0h1m1 0h2m10 0h1m1 0h5m1 0h2m8 0h2m1 0h1m4 0h3m6 0h1m2 0h1m1 0h2m4 0h1m1 0h1m2 0h1m1 0h2m3 0h1m1 0h2m2 0h1m2 0h1m7 0h2m1 0h1m1 0h1m1 0h3m2 0h1m7 0h1m1 0h1m3 0h2m2 0h1m3 0h1m2 0h1m2 0h1m1 0h1m1 0h1m1 0h1m3 0h1m1 0h1m5 0h1m1 0h1m3 0h5m1 0h1m3 0h2m2 0h1m1 0h1m3 0h3m3 0h1m2 0h1m3 0h3m3 0h2m2 0h1m3 0h1m1 0h1m3 0h1m3 0h1M63 548h1m2 0h2m1 0h3m6 0h1m1 0h1m1 0h1m9 0h1m6 0h2m5 0h2m1 0h1m1 0h3m1 0h2m2 0h4m7 0h1m3 0h2m1 0h1m7 0h1m1 0h3m1 0h3m3 0h2m6 0h1m2 0h1m4 0h4m1 0h1m2 0h2m7 0h1m1 0h1m8 0h1m1 0h1m2 0h1m2 0h1m1 0h1m1 0h1m1 0h2m5 0h1m4 0h1m2 0h1m2 0h1m5 0h1m6 0h2m1 0h3m2 0h1m28 0h1m1 0h4m1 0h1m2 0h1m4 0h1m5 0h1m8 0h1m1 0h1m3 0h4m4 0h1m5 0h3m2 0h1m3 0h1m5 0h1m4 0h2m1 0h2m3 0h1m3 0h1m1 0h1m1 0h1m2 0h1m5 0h1m7 0h2m2 0h1m2 0h1m5 0h2m2 0h2m3 0h2m2 0h1m6 0h1m1 0h3m1 0h1m9 0h1m2 0h5m2 0h1m8 0h2m2 0h2m5 0h2m1 0h1m2 0h1m3 0h4m2 0h1m1 0h1m5 0h2m6 0h1m4 0h1m9 0h1m4 0h1m2 0h1m1 0h1m2 0h1m4 0h1m1 0h1m1 0h1m3 0h4m2 0h2m8 0h1m3 0h2m2 0h2m1 0h4m6 0h1m3 0h1m5 0h1m4 0h2m2 0h1m1 0h1m1 0h1m1 0h1m5 0h6m2 0h1m2 0h2m1 0h1m7 0h1m1 0h2m4 0h1m1 0h2m5 0h1m2 0h3m1 0h1m1 0h1m1 0h1m1 0h1m1 0h1m4 0h1m2 0h1m3 0h2m1 0h1m1 0h4m2 0h1m5 0h1m1 0h1m4 0h1m2 0h1M51 549h1m1 0h3m1 0h1m5 0h1m1 0h3m1 0h1m2 0h1m1 0h1m3 0h1m3 0h1m1 0h1m2 0h1m8 0h1m7 0h1m7 0h2m1 0h1m4 0h1m3 0h4m4 0h1m1 0h1m4 0h3m3 0h1m2 0h2m1 0h2m3 0h1m1 0h1m1 0h1m1 0h1m3 0h2m1 0h1m8 0h2m5 0h1m3 0h2m5 0h1m14 0h1m2 0h1m5 0h1m3 0h1m3 0h1m1 0h3m5 0h2m1 0h1m5 0h1m2 0h1m2 0h1m1 0h2m1 0h1m14 0h1m5 0h1m1 0h1m4 0h1m9 0h3m4 0h1m3 0h2m3 0h1m5 0h2m3 0h1m3 0h2m1 0h2m1 0h2m3 0h2m6 0h1m2 0h2m1 0h1m4 0h2m1 0h2m2 0h7m2 0h3m1 0h1m10 0h1m17 0h1m1 0h2m2 0h1m3 0h3m13 0h2m1 0h1m20 0h1m2 0h3m3 0h1m3 0h1m1 0h2m3 0h2m3 0h2m2 0h2m2 0h1m5 0h1m1 0h1m4 0h1m3 0h4m1 0h2m1 0h2m5 0h1m3 0h2m1 0h4m2 0h4m3 0h2m1 0h2m6 0h4m3 0h1m1 0h1m3 0h2m1 0h1m1 0h1m2 0h1m2 0h3m2 0h2m1 0h1m4 0h3m1 0h4m5 0h2m2 0h1m1 0h1m1 0h2m4 0h2m2 0h1m3 0h3m5 0h1m6 0h1m2 0h5m1 0h1m5 0h2m1 0h1m2 0h2m3 0h1m1 0h1m1 0h1m2 0h1m4 0h1m7 0h2m5 0h1m2 0h1m2 0h1M58 550h1m4 0h1m6 0h1m3 0h1m7 0h1m26 0h1m1 0h1m5 0h1m3 0h2m1 0h1m8 0h1m3 0h2m8 0h1m1 0h2m5 0h1m5 0h1m1 0h1m1 0h1m12 0h1m3 0h1m2 0h1m1 0h1m2 0h2m2 0h3m4 0h1m1 0h1m7 0h1m6 0h1m5 0h1m1 0h1m4 0h1m1 0h3m1 0h1m1 0h1m7 0h1m3 0h2m10 0h1m2 0h1m7 0h2m7 0h1m8 0h1m1 0h2m6 0h1m4 0h1m5 0h1m3 0h1m6 0h2m4 0h1m1 0h2m1 0h2m2 0h1m1 0h6m1 0h1m1 0h1m5 0h1m15 0h3m2 0h1m1 0h1m4 0h2m2 0h1m13 0h2m5 0h3m3 0h1m1 0h1m6 0h2m4 0h2m2 0h1m7 0h2m8 0h1m2 0h1m4 0h1m1 0h1m4 0h1m1 0h1m4 0h1m1 0h1m1 0h1m1 0h1m2 0h1m3 0h1m6 0h2m2 0h1m1 0h1m1 0h2m1 0h1m1 0h1m13 0h1m1 0h1m2 0h2m2 0h1m1 0h1m2 0h1m1 0h1m1 0h2m5 0h1m2 0h1m3 0h2m1 0h2m1 0h2m2 0h1m5 0h1m1 0h1m3 0h2m5 0h1m3 0h3m2 0h1m1 0h2m1 0h1m2 0h2m3 0h1m4 0h1m2 0h2m2 0h4m1 0h6m1 0h1m1 0h1m1 0h1m2 0h1m2 0h1m1 0h1m1 0h5m1 0h4m3 0h1m1 0h1m2 0h3m6 0h2m4 0h1m1 0h1m5 0h3m3 0h1m1 0h2m2 0h2M52 551h1m20 0h1m5 0h1m3 0h2m1 0h1m29 0h1m7 0h1m3 0h1m16 0h1m5 0h1m3 0h1m4 0h1m3 0h1m1 0h1m2 0h1m3 0h1m1 0h2m1 0h1m2 0h1m4 0h1m5 0h1m1 0h1m31 0h1m7 0h1m1 0h2m5 0h1m1 0h1m2 0h1m3 0h2m12 0h1m18 0h2m5 0h1m3 0h1m10 0h1m1 0h1m8 0h2m2 0h1m3 0h2m1 0h1m5 0h1m7 0h1m1 0h1m2 0h1m1 0h1m2 0h2m1 0h1m1 0h1m9 0h1m2 0h1m9 0h1m7 0h1m20 0h1m4 0h1m4 0h1m1 0h1m2 0h1m1 0h2m2 0h1m3 0h1m18 0h1m6 0h1m3 0h1m3 0h1m2 0h1m19 0h3m1 0h3m3 0h1m6 0h3m3 0h5m2 0h1m3 0h1m2 0h1m2 0h1m6 0h1m3 0h1m4 0h1m1 0h1m1 0h1m6 0h1m2 0h2m1 0h1m3 0h1m1 0h1m3 0h1m8 0h1m2 0h2m1 0h1m2 0h1m2 0h1m1 0h4m4 0h1m1 0h1m2 0h2m1 0h1m2 0h1m4 0h1m3 0h2m2 0h3m6 0h1m3 0h2m1 0h1m1 0h1m3 0h1m2 0h1m1 0h2m2 0h3m2 0h1m2 0h1m3 0h2m2 0h1m2 0h1m3 0h1m1 0h3m1 0h1m1 0h1m2 0h1m1 0h3M147 552h1m8 0h1m3 0h1m1 0h1m15 0h1m18 0h1m29 0h1m7 0h2m10 0h2m6 0h1m22 0h1m5 0h1m3 0h1m11 0h1m16 0h1m6 0h1m6 0h1m1 0h1m2 0h1m5 0h1m4 0h1m1 0h1m2 0h1m6 0h1m1 0h1m24 0h1m18 0h1m1 0h2m1 0h1m9 0h1m43 0h1m1 0h1m4 0h1m28 0h2m4 0h1m2 0h3m5 0h3m5 0h2m3 0h1m3 0h3m7 0h1m6 0h3m1 0h1m4 0h2m3 0h2m1 0h1m1 0h2m1 0h3m2 0h1m4 0h2m2 0h1m1 0h1m2 0h1m2 0h7m2 0h2m1 0h1m4 0h3m7 0h4m1 0h2m3 0h2m1 0h1m1 0h1m1 0h2m1 0h4m2 0h1m1 0h1m2 0h1m2 0h4m1 0h1m1 0h1m1 0h1m3 0h1m1 0h1m5 0h1m2 0h1m3 0h1m4 0h1m2 0h1m2 0h2M72 553h1m8 0h1m81 0h1m16 0h1m53 0h1m13 0h1m1 0h1m57 0h1m4 0h1m36 0h1m7 0h1m3 0h1m16 0h1m30 0h1m1 0h3m48 0h1m13 0h1m29 0h1m1 0h1m7 0h2m2 0h1m2 0h1m4 0h2m1 0h3m1 0h1m3 0h1m1 0h5m2 0h2m2 0h1m1 0h2m2 0h2m5 0h1m1 0h2m4 0h1m3 0h2m1 0h1m1 0h1m9 0h1m4 0h2m14 0h1m3 0h1m2 0h2m1 0h2m2 0h1m3 0h1m4 0h1m3 0h2m1 0h2m5 0h1m2 0h1m1 0h1m3 0h2m1 0h2m3 0h2m1 0h1m3 0h8m1 0h4m1 0h2m1 0h1m2 0h2M157 554h2m22 0h1m15 0h1m30 0h1m8 0h1m111 0h1m158 0h2m2 0h2m4 0h1m2 0h1m3 0h1m3 0h1m1 0h1m1 0h1m3 0h1m5 0h1m2 0h3m1 0h3m2 0h2m6 0h2m2 0h1m5 0h1m1 0h1m2 0h1m4 0h1m1 0h1m2 0h1m3 0h2m1 0h1m1 0h1m1 0h3m1 0h1m1 0h1m6 0h1m2 0h3m2 0h1m3 0h2m2 0h4m5 0h3m3 0h3m6 0h3m4 0h1m2 0h2m5 0h3m1 0h1m1 0h1m4 0h3m2 0h2m1 0h6m4 0h1M230 555h1m18 0h1m262 0h1m6 0h1m4 0h1m8 0h1m4 0h1m9 0h4m6 0h2m2 0h1m4 0h1m3 0h1m2 0h1m1 0h1m4 0h4m6 0h3m2 0h2m3 0h7m3 0h1m1 0h1m5 0h2m1 0h2m3 0h1m4 0h1m2 0h2m2 0h1m5 0h2m2 0h1m1 0h1m7 0h2m3 0h1m3 0h3m1 0h1m1 0h2m1 0h1m1 0h1m1 0h1m2 0h1m1 0h2m2 0h3m1 0h1m3 0h1M515 556h1m2 0h1m4 0h1m1 0h1m16 0h1m3 0h1m1 0h1m1 0h2m1 0h3m2 0h2m1 0h3m1 0h1m1 0h1m4 0h1m3 0h1m1 0h1m4 0h2m1 0h4m1 0h1m2 0h2m1 0h1m3 0h4m7 0h1m1 0h1m4 0h5m1 0h1m3 0h2m3 0h1m1 0h1m7 0h1m2 0h1m2 0h1m1 0h1m1 0h1m2 0h4m2 0h1m3 0h1m1 0h4m2 0h1m3 0h1m1 0h1m4 0h3m2 0h1m1 0h4M517 557h1m8 0h2m3 0h1m9 0h1m9 0h3m1 0h1m2 0h2m3 0h1m3 0h1m4 0h1m5 0h1m2 0h1m3 0h1m2 0h1m2 0h1m3 0h1m1 0h3m6 0h1m2 0h2m11 0h1m2 0h1m1 0h2m1 0h1m1 0h2m6 0h3m3 0h1m3 0h1m5 0h1m1 0h1m2 0h1m9 0h1m2 0h2m2 0h1m1 0h1m3 0h2m2 0h1m1 0h3m1 0h1m2 0h2M550 558h1m5 0h1m13 0h1m1 0h1m6 0h1m3 0h1m3 0h2m1 0h1m1 0h1m9 0h1m1 0h1m1 0h3m2 0h2m1 0h1m3 0h3m3 0h1m1 0h5m1 0h1m2 0h1m11 0h2m1 0h2m2 0h2m1 0h2m2 0h1m1 0h1m3 0h1m9 0h4m3 0h1m1 0h3m2 0h2m1 0h1m2 0h1M520 559h1m39 0h1m4 0h1m15 0h2m3 0h1m1 0h1m2 0h1m1 0h1m2 0h1m2 0h3m1 0h2m4 0h1m1 0h3m2 0h1m1 0h1m1 0h1m3 0h1m1 0h1m3 0h2m2 0h4m3 0h1m4 0h2m2 0h1m2 0h1m2 0h1m5 0h1m1 0h2m5 0h1m3 0h1m1 0h1m1 0h1m3 0h1m2 0h1m3 0h1m1 0h1m2 0h1m3 0h1M555 560h1m8 0h1m14 0h1m7 0h1m2 0h1m4 0h2m1 0h1m4 0h1m1 0h1m10 0h1m8 0h3m4 0h5m1 0h3m8 0h5m1 0h2m1 0h1m1 0h2m2 0h2m1 0h1m1 0h3m5 0h1m3 0h3m2 0h1m1 0h2m5 0h1m1 0h1m1 0h1M575 561h1m5 0h1m5 0h2m1 0h1m2 0h1m1 0h1m2 0h1m3 0h1m5 0h2m1 0h2m5 0h1m3 0h2m2 0h1m2 0h4m3 0h2m2 0h2m1 0h1m2 0h2m1 0h2m3 0h1m2 0h1m5 0h1m3 0h3m4 0h1m3 0h2m1 0h1m2 0h2m2 0h1m1 0h1m1 0h1m1 0h2m2 0h1M600 562h1m10 0h1m2 0h1m4 0h1m7 0h2m8 0h1m1 0h1m6 0h1m4 0h1m5 0h2m9 0h1m17 0h1m2 0h1m1 0h1m3 0h1M597 563h1m17 0h1m2 0h1m12 0h2m3 0h1m9 0h1m2 0h1m1 0h1m3 0h2m1 0h1m1 0h1m2 0h2m6 0h1m4 0h1m2 0h4m4 0h1m5 0h1m1 0h1M640 564h1m27 0h1m6 0h2m7 0h1m8 0h2m3 0h1M676 565h1"/></g>
<path d="M50.5 419.5H700.5V569.5H50.5ZM158.5 419.5v5M158.5 569.5v-5M266.5 419.5v5M266.5 569.5v-5M375.5 419.5v5M375.5 569.5v-5M483.5 419.5v5M483.5 569.5v-5M591.5 419.5v5M591.5 569.5v-5M50.5 557.5h5M700.5 557.5h-6M50.5 544.5h5M700.5 544.5h-6M50.5 532.5h5M700.5 532.5h-6M50.5 519.5h5M700.5 519.5h-6M50.5 507.5h5M700.5 507.5h-6M50.5 494.5h5M700.5 494.5h-6M50.5 482.5h5M700.5 482.5h-6M50.5 469.5h5M700.5 469.5h-6M50.5 457.5h5M700.5 457.5h-6M50.5 444.5h5M700.5 444.5h-6M50.5 432.5h5M700.5 432.5h-6" fill="none" stroke="#000" stroke-width="1" shape-rendering="crispEdges"/>
<text x="46.8" y="573.8" text-anchor="end">0</text>
<text x="46.8" y="561.8" text-anchor="end">1</text>
<text x="46.8" y="548.8" text-anchor="end">2</text>
<text x="46.8" y="536.8" text-anchor="end">3</text>
<text x="46.8" y="523.8" text-anchor="end">4</text>
<text x="46.8" y="511.8" text-anchor="end">5</text>
<text x="46.8" y="498.8" text-anchor="end">6</text>
<text x="46.8" y="486.8" text-anchor="end">7</text>
<text x="46.8" y="473.8" text-anchor="end">8</text>
<text x="46.8" y="461.8" text-anchor="end">9</text>
<text x="46.8" y="448.8" text-anchor="end">10</text>
<text x="46.8" y="436.8" text-anchor="end">11</text>
<text x="46.8" y="423.8" text-anchor="end">12</text>
<text x="49.5" y="584" text-anchor="middle">00:00</text>
<text x="157.5" y="584" text-anchor="middle">04:00</text>
<text x="265.5" y="584" text-anchor="middle">08:00</text>
<text x="374.5" y="584" text-anchor="middle">12:00</text>
<text x="482.5" y="584" text-anchor="middle">16:00</text>
<text x="590.5" y="584" text-anchor="middle">20:00</text>
<text x="699.5" y="584" text-anchor="middle">00:00</text>
<text x="344.3" y="602" textLength="61">Time (UTC)</text>
<text transform="translate(27.3 527.2) rotate(-90)" textLength="61.5">Height (km)</text>
<text class="b" x="57.2" y="436" textLength="112">Raw depolarisation</text>
<rect x="754.5" y="419.5" width="16" height="150" fill="url(#cb)" stroke="#000" stroke-width="1" shape-rendering="crispEdges"/>
<text x="750.8" y="423.8" text-anchor="end">0.3</text>
<text x="750.8" y="448.8" text-anchor="end">0.25</text>
<text x="750.8" y="473.8" text-anchor="end">0.2</text>
<text x="750.8" y="498.8" text-anchor="end">0.15</text>
<text x="750.8" y="523.8" text-anchor="end">0.1</text>
<text x="750.8" y="548.8" text-anchor="end">0.05</text>
<text x="750.8" y="573.8" text-anchor="end">0</text>
</g>
<g id="panel4">
<g transform="translate(0 .5)" fill="none" stroke-width="1" shape-rendering="crispEdges"><path stroke="#e6e6e6" d="M343 610h1m291 0h1M178 611h1m35 0h1m90 0h1m21 0h1m75 0h1m35 0h1m13 0h1m31 0h1m80 0h1M56 612h1M236 613h1m28 0h1m51 0h1m45 0h1m17 0h1m177 0h1m86 0h1m34 0h1m5 0h1M201 614h1m294 0h1m37 0h1M398 615h1M383 616h1m8 0h1M93 617h1m142 0h1m41 0h1m90 0h1m6 0h1m12 0h1m261 0h1m7 0h1M103 618h1m23 0h1m326 0h1m49 0h1M105 619h1m165 0h1m111 0h1m245 0h1m52 0h1M180 620h1m422 0h1m16 0h1m17 0h1M208 621h1m25 0h1m232 0h1M98 622h1m203 0h1m86 0h1M99 623h1m280 0h1m66 0h1m84 0h1m71 0h1m57 0h1M156 624h1m4 0h1m33 0h1m396 0h1m34 0h1M132 625h1m95 0h1m242 0h1m124 0h1m79 0h1M212 626h1m30 0h1m103 0h1m244 0h1m101 0h1m3 0h1M158 627h1m1 0h1m214 0h1m34 0h1m96 0h1m90 0h1m12 0h1m8 0h1M77 628h1m79 0h1m258 0h1m150 0h1m116 0h1M170 629h1m45 0h1m378 0h1M158 630h1m209 0h1m136 0h1m37 0h1m69 0h1M105 631h1m90 0h1m76 0h1M117 632h1m321 0h1m76 0h1m39 0h1m52 0h1M353 633h1m32 0h1m167 0h1m34 0h2m3 0h1m102 0h1M215 634h1m54 0h1m45 0h1m27 0h1m306 0h1M359 635h1m47 0h1m192 0h1M185 636h1m44 0h1m39 0h1m229 0h1m78 0h1M467 637h1M116 638h1m360 0h1m1 0h1m135 0h1m38 0h1M114 639h1m445 0h1m63 0h1m48 0h1m12 0h1M91 640h1m7 0h1m91 0h1m118 0h1m379 0h1M60 641h1m54 0h1m101 0h1m29 0h1m267 0h1m51 0h1m79 0h1m25 0h1M56 642h1m41 0h1m22 0h1m188 0h1M618 643h1M104 644h1m210 0h1m331 0h1M120 645h1m25 0h1m45 0h1m141 0h1M436 646h1m70 0h1m35 0h1m34 0h1m8 0h1M141 647h1m339 0h1M99 648h1m84 0h1m38 0h2m123 0h1m1 0h1m139 0h1m53 0h1m135 0h1M318 649h1m125 0h1m12 0h1m127 0h1m83 0h1M260 650h1m5 0h1m92 0h1m104 0h1m92 0h1m59 0h1m9 0h1M182 651h1m155 0h1m94 0h1m59 0h1m18 0h1M267 652h1m113 0h1m26 0h1m131 0h1M52 653h1m168 0h1m38 0h1m267 0h1m3 0h2M218 654h1m137 0h1m194 0h1M103 655h1m27 0h1m202 0h1m14 0h1m26 0h1m178 0h1m61 0h1M240 656h1m284 0h1M145 657h1m49 0h1m91 0h1m289 0h1M371 658h1m87 0h1m96 0h1M68 659h1m183 0h1m47 0h1m3 0h1m28 0h1m43 0h1m200 0h1M547 660h1m127 0h1M147 661h1m62 0h1m150 0h1m40 0h1m35 0h1m1 0h1M199 662h1M194 663h1m197 0h1m141 0h1m6 0h1m5 0h1m42 0h1M179 664h1m174 0h1m120 0h1m7 0h1m68 0h1m141 0h1M73 665h1m102 0h1m28 0h1m145 0h1m269 0h1M234 666h1m182 0h1m33 0h1m86 0h1m47 0h1m55 0h1m44 0h1M55 667h1m140 0h1m328 0h1m37 0h1m20 0h1M154 668h1m36 0h1m104 0h1m150 0h1m77 0h1m30 0h1m138 0h1M181 669h1m27 0h1m110 0h1m235 0h1m18 0h1m4 0h1M595 670h1m31 0h1m48 0h1M315 671h1m49 0h1m15 0h1m46 0h1m163 0h1M264 672h1m415 0h1M272 673h1m98 0h1m114 0h1m25 0h1m20 0h1m23 0h1m51 0h1m64 0h1M127 674h1m58 0h1m53 0h1m83 0h1m34 0h1M378 675h1m15 0h1m272 0h1m14 0h1M193 676h1m342 0h1m88 0h1m73 0h1M95 677h1m11 0h2m213 0h1m45 0h1m20 0h1m242 0h1M56 678h1m32 0h1m203 0h1m150 0h1m25 0h1m31 0h1m14 0h1m41 0h1M79 679h1m49 0h1m96 0h1m176 0h1m14 0h1m42 0h1m114 0h1M225 680h1m27 0h1m37 0h1m59 0h1m18 0h1m152 0h1m27 0h1m23 0h1m90 0h1M96 681h1m50 0h1m399 0h1M161 682h1m37 0h1m35 0h1m69 0h1m36 0h1m48 0h1M168 683h1m100 0h1m42 0h1m139 0h1m2 0h1m81 0h1m78 0h1m4 0h1m77 0h1M165 684h1m167 0h1m35 0h1m122 0h1m77 0h1M78 685h1m159 0h1m94 0h1m23 0h1m2 0h1m75 0h1m16 0h1m43 0h1m61 0h1M326 686h1m127 0h1M125 687h1m37 0h1m85 0h1m26 0h1M146 688h1m125 0h1m155 0h1m193 0h1m34 0h1M110 690h1m126 0h1m69 0h1m28 0h1m101 0h1m78 0h1m28 0h1m46 0h1M180 691h1m68 0h1m346 0h1M145 692h1m51 0h1m106 0h1m176 0h1m3 0h1m78 0h1M70 693h1m109 0h1m9 0h1m142 0h1m30 0h1m181 0h1m37 0h1m61 0h1M229 694h1m21 0h1m33 0h1m58 0h1m225 0h1M98 695h1m224 0h1m3 0h1m17 0h1m86 0h1M215 696h1m74 0h1m192 0h1m29 0h1m171 0h1m11 0h1M292 697h1M417 698h1m201 0h1M173 699h1m22 0h1m46 0h1m115 0h1m109 0h1m32 0h1m64 0h1M93 700h1m35 0h1m42 0h1m235 0h1m55 0h1m65 0h1m31 0h1m91 0h1M66 701h1m73 0h1m105 0h1m3 0h1m26 0h1m64 0h1m5 0h1m218 0h1M85 702h1m163 0h1m253 0h1m110 0h1m80 0h1M83 703h1m67 0h1m28 0h1m51 0h1m32 0h1m269 0h1M179 704h2m75 0h1m71 0h1m110 0h1m108 0h1m91 0h1M86 705h1m210 0h1m9 0h1m213 0h1M121 706h1m111 0h1m236 0h1m41 0h1m170 0h1M371 707h1m157 0h1m97 0h1M97 708h1m185 0h1m219 0h1M87 709h1m40 0h1m31 0h1m230 0h1m282 0h1M186 710h1m76 0h1m14 0h1m11 0h1m137 0h1m15 0h1m111 0h1m41 0h1m93 0h1M88 711h1m59 0h1m92 0h1m52 0h1m17 0h1m29 0h1m61 0h1m71 0h1m79 0h1m105 0h1M171 712h1m229 0h1m24 0h1m63 0h1M143 713h1m96 0h1m34 0h1m16 0h1M288 714h1m139 0h1m19 0h1m25 0h1M53 715h1m138 0h1M320 716h1m133 0h1m25 0h1m213 0h1M302 717h1m58 0h1m233 0h1m29 0h1M57 718h1m606 0h1M125 719h1m62 0h1m163 0h1m54 0h1m61 0h1m2 0h1M269 720h1m57 0h1m6 0h1m69 0h1m219 0h1m64 0h1M136 721h1m228 0h1m4 0h1m117 0h1m71 0h1m42 0h2M134 722h1m46 0h1m17 0h1m25 0h1m13 0h1m128 0h1m26 0h1m8 0h1m10 0h1m86 0h1m15 0h1m82 0h1M285 723h1m332 0h1m37 0h1m13 0h1M183 724h1m101 0h1m1 0h1m25 0h1m30 0h1m32 0h1m16 0h1m90 0h1M52 725h1m56 0h1m298 0h1m63 0h1M79 726h1m65 0h1m74 0h1m65 0h1M254 727h1m78 0h1m226 0h1m136 0h1M90 728h1m35 0h1m86 0h1m98 0h1m80 0h1m162 0h1M63 729h1m190 0h1m412 0h1M70 731h1m506 0h1m113 0h1M75 732h1m14 0h1m125 0h1m132 0h1m5 0h1m194 0h1M61 733h1m583 0h1M137 734h1m67 0h1m5 0h1m179 0h1m218 0h1M259 737h1M457 738h1M150 739h1"/><path stroke="#dedede" d="M122 615h1m56 0h1M292 672h1M166 673h1M384 680h1M341 685h1M575 687h1M642 690h1m7 0h1M400 702h1m2 0h1m1 0h1M399 703h2m1 0h2m1 0h2M400 704h1m1 0h1m1 0h2m1 0h2M401 705h1m3 0h1m1 0h2m1 0h1M404 706h4m2 0h2M405 707h1m2 0h1M128 718h1M619 731h1M101 732h1M217 734h1m202 0h1M267 735h1M198 736h1m143 0h1M206 737h1m178 0h1M102 738h1m143 0h1m144 0h1m255 0h1M95 739h1m209 0h1m220 0h1M156 740h1m116 0h1m26 0h1m347 0h1m27 0h1M141 741h1m55 0h1m330 0h1M554 742h1M187 743h1m277 0h1m93 0h1m13 0h1m21 0h1m26 0h1M458 745h1m2 0h1m1 0h1m172 0h1M454 746h18m113 0h1m37 0h1M137 747h1m1 0h7m36 0h1m268 0h1m1 0h6m2 0h4m17 0h1m1 0h1m1 0h1m30 0h2m131 0h1M142 748h2m3 0h1m310 0h1m2 0h2m2 0h1m1 0h1m17 0h2m11 0h3m1 0h3m159 0h1m3 0h1M130 749h1m3 0h3m30 0h1m1 0h1m287 0h9m1 0h2m10 0h11m1 0h18m11 0h1m1 0h2m4 0h1m3 0h1m3 0h3m1 0h1m1 0h2m153 0h1M69 750h1m96 0h8m279 0h19m1 0h2m1 0h2m2 0h4m2 0h12m2 0h1m9 0h2m1 0h3m1 0h1m1 0h8m1 0h1m1 0h6m1 0h4m1 0h2m1 0h2m20 0h1m80 0h1m1 0h2m1 0h1m31 0h1M166 751h8m285 0h1m1 0h3m2 0h10m28 0h6m1 0h4m1 0h7m1 0h1m1 0h2m1 0h2m3 0h5m84 0h2m1 0h1m50 0h1M172 752h1m257 0h6m37 0h4m1 0h2m8 0h22m1 0h6m1 0h9m1 0h3m4 0h3m67 0h7m1 0h2m1 0h1m47 0h2m16 0h1m6 0h1m1 0h2M77 753h4m1 0h1m81 0h1m2 0h1m5 0h1m1 0h1m70 0h8m204 0h2m1 0h4m2 0h1m4 0h1m2 0h1m2 0h24m1 0h16m1 0h4m2 0h3m1 0h1m1 0h2m1 0h2m1 0h2m1 0h2m2 0h1m8 0h1m3 0h2m3 0h3m1 0h5m41 0h1m2 0h1m1 0h1m2 0h1m71 0h1M71 754h3m5 0h3m17 0h1m2 0h1m1 0h1m2 0h4m1 0h2m134 0h4m1 0h2m49 0h1m33 0h1m1 0h4m70 0h1m36 0h2m8 0h19m2 0h2m1 0h1m12 0h1m1 0h10m1 0h1m1 0h3m1 0h3m1 0h1m1 0h4m1 0h4m1 0h4m1 0h10m20 0h2m1 0h1m4 0h1m54 0h1m5 0h1M102 755h1m2 0h1m3 0h2m34 0h8m23 0h1m286 0h20m15 0h8m1 0h8m1 0h2m7 0h2m1 0h1m1 0h2m2 0h2m1 0h1m1 0h1m1 0h2m2 0h2m30 0h1m1 0h3m1 0h2m1 0h1m53 0h1m14 0h1m37 0h1M56 756h1m46 0h1m41 0h4m1 0h1m23 0h1m1 0h1m86 0h1m187 0h6m2 0h1m1 0h16m2 0h1m2 0h1m2 0h1m1 0h1m2 0h1m7 0h2m1 0h6m7 0h2m3 0h4m7 0h1m1 0h16m29 0h22m14 0h1m1 0h1m36 0h12m1 0h1M287 757h2m162 0h1m2 0h4m12 0h19m3 0h1M62 758h1m407 0h9"/><path stroke="#bfbfe3" d="M75 619h1M118 623h1M143 656h1M133 667h1M309 675h1M658 676h1M95 682h1M136 686h1m335 0h1M310 703h1M263 715h1M109 717h1M616 725h1m34 0h1M691 728h1M669 729h1M402 730h1m177 0h1M403 731h1M409 732h1M285 733h1m71 0h1m15 0h1M262 734h1m55 0h1m95 0h1M96 736h1m293 0h2M81 737h1m249 0h1m34 0h1m4 0h1m26 0h1m8 0h1m97 0h1M137 738h1m140 0h1m25 0h1m30 0h1m214 0h1m31 0h1m12 0h1M215 739h1m114 0h1m21 0h1m104 0h1m73 0h1m164 0h1M61 740h1m91 0h1m64 0h1m97 0h1m30 0h1m88 0h3m57 0h1m20 0h1m122 0h1m21 0h1M116 741h1m87 0h1m3 0h1m16 0h1m61 0h1m88 0h4m155 0h1m56 0h1m18 0h1m69 0h1M69 742h1m2 0h1m410 0h1m55 0h1m117 0h1m22 0h1M81 743h1m74 0h1m11 0h1m188 0h2m138 0h1m8 0h1m58 0h1m55 0h1M273 744h2m21 0h1m1 0h1m52 0h1m8 0h1m92 0h5m3 0h1m35 0h1m2 0h1m149 0h1m41 0h1M57 745h1m92 0h1m1 0h1m27 0h1m92 0h2m17 0h2m16 0h1m19 0h1m22 0h2m1 0h1m99 0h2m1 0h2m1 0h1m2 0h2m13 0h1m39 0h1m168 0h1M51 746h3m5 0h4m81 0h1m9 0h1m24 0h1m1 0h4m1 0h1m2 0h1m2 0h1m94 0h1m20 0h10m154 0h6m9 0h2m126 0h1m13 0h1m2 0h1m2 0h1m18 0h1m3 0h1m9 0h1M62 747h1m58 0h1m1 0h4m1 0h1m5 0h3m1 0h1m7 0h2m31 0h3m1 0h5m4 0h1m186 0h1m4 0h1m64 0h2m1 0h1m6 0h2m4 0h9m1 0h7m1 0h1m1 0h1m1 0h1m31 0h5m1 0h3m52 0h1m2 0h1M119 748h2m1 0h8m1 0h1m1 0h3m1 0h5m2 0h3m1 0h2m6 0h4m2 0h1m10 0h4m55 0h1m5 0h1m40 0h7m170 0h2m1 0h2m2 0h2m1 0h1m1 0h5m8 0h4m2 0h1m7 0h3m3 0h1m3 0h3m9 0h10m14 0h1m35 0h2m3 0h2m16 0h1m20 0h2m37 0h1m2 0h1m19 0h1M68 749h1m2 0h2m55 0h2m1 0h3m3 0h1m25 0h4m1 0h1m1 0h1m1 0h1m48 0h3m1 0h2m1 0h1m1 0h2m1 0h2m184 0h4m33 0h1m9 0h1m2 0h3m2 0h5m11 0h1m18 0h2m5 0h4m1 0h1m2 0h4m1 0h1m1 0h1m1 0h2m4 0h1m4 0h2m18 0h1m14 0h1m1 0h1m2 0h1m6 0h1m15 0h4m3 0h1m9 0h1m9 0h1m5 0h1m14 0h1m4 0h2m1 0h1m2 0h1m1 0h1m5 0h1M51 750h4m11 0h3m1 0h4m58 0h8m1 0h3m19 0h3m8 0h2m99 0h1m100 0h1m1 0h1m20 0h1m51 0h2m19 0h1m2 0h1m2 0h2m4 0h2m12 0h2m1 0h6m2 0h1m2 0h1m34 0h2m16 0h2m1 0h3m1 0h1m15 0h1m1 0h4m5 0h1m1 0h4m9 0h3m1 0h1m1 0h2m33 0h1m17 0h1m22 0h1m1 0h1M53 751h1m1 0h2m1 0h1m30 0h1m2 0h3m68 0h3m8 0h2m16 0h2m181 0h3m2 0h1m34 0h1m3 0h9m19 0h1m9 0h1m2 0h1m3 0h2m10 0h2m1 0h1m9 0h6m1 0h1m1 0h1m2 0h3m35 0h4m18 0h2m1 0h2m12 0h1m1 0h2m2 0h1m6 0h1m1 0h4m9 0h1m10 0h2m1 0h1m27 0h1m5 0h1m2 0h1m1 0h2m2 0h1m3 0h1m21 0h1M60 752h1m17 0h1m10 0h3m19 0h2m5 0h3m1 0h4m1 0h1m37 0h7m1 0h2m2 0h3m1 0h1m62 0h6m13 0h1m162 0h4m6 0h1m10 0h6m2 0h2m1 0h6m7 0h2m4 0h1m2 0h4m1 0h3m43 0h3m4 0h1m3 0h2m33 0h1m1 0h2m7 0h2m3 0h1m9 0h2m14 0h1m1 0h1m1 0h1m2 0h1m1 0h1m32 0h1m1 0h1m5 0h1m11 0h1m6 0h1m5 0h2M73 753h1m1 0h2m4 0h1m1 0h13m18 0h1m5 0h1m1 0h1m1 0h1m1 0h1m1 0h2m3 0h1m24 0h6m1 0h2m1 0h5m1 0h1m1 0h2m1 0h1m63 0h3m8 0h2m5 0h1m125 0h1m59 0h11m2 0h1m4 0h2m1 0h4m1 0h2m1 0h2m24 0h1m22 0h1m20 0h4m1 0h1m1 0h1m2 0h2m16 0h5m13 0h1m5 0h1m4 0h2m4 0h3m2 0h2m6 0h3m24 0h1m15 0h2m1 0h1m2 0h3m5 0h1m8 0h4M68 754h3m3 0h5m3 0h17m1 0h2m1 0h1m1 0h2m4 0h1m2 0h3m1 0h7m2 0h2m16 0h11m1 0h3m9 0h1m1 0h2m72 0h1m1 0h1m4 0h1m2 0h6m1 0h3m1 0h2m3 0h1m1 0h8m22 0h1m1 0h7m25 0h1m1 0h1m4 0h2m43 0h1m21 0h2m2 0h1m28 0h1m2 0h1m1 0h2m2 0h8m19 0h2m2 0h1m1 0h2m1 0h1m3 0h1m1 0h2m2 0h1m49 0h1m8 0h1m6 0h1m6 0h1m1 0h2m1 0h1m2 0h1m1 0h1m38 0h2m1 0h2m1 0h1m4 0h1m1 0h1m8 0h1m28 0h1m11 0h1m8 0h1m1 0h1M54 755h1m1 0h2m2 0h5m1 0h10m1 0h1m5 0h1m1 0h5m3 0h1m5 0h3m1 0h2m1 0h3m3 0h2m29 0h2m8 0h1m2 0h1m13 0h6m1 0h2m83 0h2m1 0h5m138 0h1m1 0h4m1 0h1m36 0h2m5 0h4m20 0h3m7 0h2m1 0h2m17 0h1m2 0h4m1 0h1m14 0h1m8 0h2m26 0h2m10 0h1m4 0h1m1 0h2m32 0h2m2 0h1m1 0h1m1 0h1m1 0h1m6 0h1m1 0h3m4 0h1m1 0h2m1 0h3m2 0h1m25 0h1m4 0h2m2 0h1M54 756h2m1 0h1m1 0h1m26 0h1m7 0h7m1 0h1m2 0h1m1 0h3m1 0h2m29 0h3m4 0h1m1 0h1m1 0h1m19 0h1m1 0h1m1 0h3m9 0h2m1 0h2m65 0h1m1 0h2m1 0h1m19 0h1m71 0h1m2 0h2m32 0h2m15 0h2m1 0h1m4 0h6m21 0h6m6 0h2m1 0h1m16 0h2m1 0h2m1 0h2m1 0h1m1 0h2m1 0h7m2 0h1m6 0h7m2 0h3m4 0h7m1 0h1m16 0h2m3 0h1m19 0h4m22 0h6m1 0h1m3 0h3m1 0h1m1 0h5m1 0h9m1 0h3m1 0h2m4 0h3m3 0h4m12 0h1m1 0h1m2 0h1m5 0h2m19 0h1M93 757h1m2 0h1m6 0h2m1 0h7m64 0h1m1 0h3m61 0h1m1 0h5m15 0h1m17 0h4m2 0h1m51 0h1m68 0h1m4 0h2m1 0h8m21 0h4m1 0h2m4 0h2m8 0h2m19 0h3m1 0h2m22 0h1m1 0h6M55 758h7m1 0h3m4 0h1m1 0h1m2 0h1m53 0h1m11 0h1m4 0h1m30 0h1m2 0h1m105 0h4m167 0h13m9 0h1m1 0h1m13 0h1"/><path stroke="#a0a0e7" d="M635 642h1M89 652h1M510 659h1M236 675h1M592 687h1M120 696h1M447 714h1M161 715h1M340 717h1M687 718h1m2 0h1M223 723h1m349 0h1M476 725h1M429 727h1M257 729h1m273 0h1M402 731h1M306 733h1M118 734h1m71 0h1M322 735h1M74 736h1m201 0h1M417 737h1m39 0h1M77 738h1m29 0h1m30 0h1m19 0h1m154 0h1m116 0h1m107 0h1m26 0h1M273 739h1m21 0h1m46 0h1m116 0h1M101 740h1m48 0h1m25 0h1m38 0h1m14 0h1m30 0h1m42 0h1m59 0h1m11 0h1m1 0h1m2 0h1m22 0h1m4 0h1m24 0h2m3 0h2m203 0h1m21 0h1M67 741h1m26 0h1m31 0h1m8 0h1m204 0h1m15 0h1m1 0h2m11 0h1m1 0h3m4 0h6m18 0h7m22 0h1m1 0h2m94 0h1m68 0h1m90 0h1M59 742h1m128 0h1m185 0h1m4 0h1m7 0h1m242 0h1M101 743h1m91 0h1m15 0h1m65 0h3m1 0h2m16 0h1m50 0h2m3 0h4m2 0h1m1 0h1m75 0h1m14 0h1m3 0h2m65 0h1m79 0h1M150 744h1m17 0h1m99 0h1m1 0h3m2 0h3m16 0h2m1 0h1m1 0h4m6 0h1m1 0h1m18 0h1m10 0h3m1 0h6m1 0h8m83 0h2m1 0h7m5 0h3m1 0h2m99 0h1m20 0h1m112 0h1M55 745h2m1 0h5m33 0h1m2 0h2m43 0h6m1 0h1m1 0h1m23 0h3m1 0h2m8 0h1m65 0h1m1 0h1m10 0h3m2 0h1m10 0h6m2 0h1m7 0h1m2 0h1m1 0h3m1 0h2m1 0h1m13 0h1m2 0h2m15 0h5m2 0h1m1 0h1m32 0h5m47 0h3m3 0h1m1 0h6m8 0h1m2 0h5M54 746h5m78 0h1m1 0h1m1 0h3m1 0h9m1 0h4m17 0h3m1 0h1m4 0h1m1 0h2m1 0h2m1 0h4m39 0h9m10 0h6m22 0h2m1 0h1m1 0h7m1 0h1m6 0h1m1 0h3m10 0h6m1 0h1m26 0h1m35 0h5m28 0h1m4 0h12m1 0h1m10 0h4m29 0h4m32 0h1m7 0h1m14 0h1m4 0h1m45 0h1m24 0h1M51 747h1m7 0h2m2 0h4m53 0h1m1 0h1m4 0h1m2 0h4m14 0h3m6 0h1m18 0h3m9 0h4m1 0h4m38 0h13m6 0h2m4 0h1m4 0h1m13 0h17m78 0h5m1 0h3m2 0h3m86 0h1m40 0h2m13 0h4m22 0h1m21 0h1m2 0h1m39 0h1m32 0h1m2 0h1M62 748h7m1 0h1m25 0h2m1 0h2m1 0h1m2 0h1m12 0h1m2 0h1m8 0h1m1 0h1m3 0h1m13 0h6m4 0h2m1 0h10m4 0h6m1 0h5m39 0h1m1 0h2m1 0h5m1 0h5m1 0h1m1 0h3m6 0h1m4 0h1m1 0h1m14 0h1m7 0h2m64 0h1m3 0h1m23 0h1m1 0h1m17 0h6m1 0h1m43 0h5m17 0h3m1 0h2m1 0h1m7 0h7m13 0h5m14 0h1m1 0h3m1 0h1m3 0h3m2 0h1m1 0h1m20 0h1m1 0h1m7 0h1m8 0h1m26 0h1m1 0h3m2 0h3m4 0h1m1 0h1m41 0h2M64 749h4m1 0h2m2 0h3m5 0h1m27 0h1m11 0h2m2 0h3m10 0h5m16 0h4m8 0h1m1 0h1m46 0h1m3 0h1m2 0h1m1 0h1m2 0h1m2 0h2m44 0h1m1 0h3m107 0h8m5 0h1m10 0h2m4 0h3m12 0h5m10 0h3m16 0h2m37 0h5m33 0h1m13 0h1m1 0h5m5 0h2m5 0h1m2 0h5m13 0h1m7 0h2m2 0h6m4 0h2m29 0h1m5 0h1m15 0h1m1 0h1M55 750h2m1 0h1m3 0h1m1 0h2m8 0h3m11 0h1m4 0h1m1 0h1m25 0h1m1 0h1m3 0h2m1 0h2m8 0h1m3 0h3m12 0h1m1 0h2m13 0h3m1 0h2m1 0h2m1 0h9m20 0h1m1 0h9m1 0h9m23 0h1m9 0h6m1 0h2m1 0h1m44 0h1m1 0h1m18 0h1m26 0h4m1 0h1m1 0h4m2 0h3m1 0h1m1 0h2m1 0h5m1 0h2m1 0h1m9 0h13m15 0h10m56 0h2m40 0h2m9 0h2m1 0h1m11 0h2m2 0h3m1 0h1m1 0h2m2 0h1m8 0h1m1 0h1m4 0h2m2 0h1m14 0h3m16 0h1m15 0h1m1 0h4m1 0h1m5 0h1m1 0h1m3 0h1m16 0h1M51 751h2m1 0h1m2 0h1m1 0h4m2 0h1m1 0h7m10 0h1m1 0h3m1 0h2m3 0h3m1 0h2m3 0h13m1 0h9m1 0h2m2 0h1m2 0h4m2 0h1m17 0h4m13 0h2m10 0h4m2 0h2m21 0h1m43 0h1m3 0h2m34 0h1m1 0h1m2 0h1m64 0h4m3 0h2m1 0h5m26 0h3m1 0h3m9 0h6m1 0h1m7 0h4m1 0h9m1 0h1m19 0h1m1 0h9m6 0h1m1 0h1m1 0h2m44 0h3m2 0h1m12 0h1m2 0h2m1 0h1m2 0h2m1 0h3m4 0h1m16 0h1m5 0h1m3 0h1m1 0h2m1 0h3m16 0h1m9 0h5m2 0h3m9 0h1m5 0h2m10 0h1m1 0h2m8 0h3m1 0h1M54 752h6m1 0h1m13 0h1m3 0h10m3 0h3m8 0h1m3 0h4m2 0h5m3 0h1m4 0h1m1 0h1m1 0h8m20 0h1m1 0h1m2 0h2m10 0h2m3 0h1m1 0h2m58 0h1m7 0h3m2 0h1m2 0h5m1 0h2m36 0h1m1 0h10m1 0h1m62 0h1m8 0h1m1 0h2m19 0h1m1 0h8m17 0h3m2 0h5m6 0h2m2 0h1m6 0h7m13 0h1m71 0h2m3 0h1m14 0h1m1 0h1m2 0h1m1 0h2m1 0h1m5 0h1m9 0h1m24 0h1m3 0h1m21 0h1m2 0h3m1 0h1m10 0h1m1 0h1m5 0h1m6 0h1m10 0h1M63 753h3m1 0h6m1 0h1m21 0h3m8 0h7m1 0h5m1 0h1m1 0h1m1 0h1m1 0h1m2 0h3m2 0h2m1 0h1m3 0h1m1 0h2m3 0h3m3 0h3m20 0h1m1 0h5m47 0h10m14 0h5m1 0h4m11 0h1m2 0h1m25 0h1m1 0h1m1 0h4m3 0h1m22 0h2m4 0h1m5 0h1m22 0h1m6 0h1m2 0h2m1 0h5m52 0h2m132 0h2m1 0h5m1 0h2m1 0h1m1 0h2m10 0h1m20 0h2m3 0h1m1 0h3m10 0h3m25 0h1m1 0h1m20 0h1M51 754h2m11 0h4m49 0h1m7 0h2m2 0h3m11 0h2m11 0h1m3 0h5m2 0h2m1 0h1m2 0h3m68 0h1m1 0h1m14 0h1m3 0h1m2 0h3m1 0h1m8 0h3m17 0h2m30 0h4m9 0h3m26 0h1m8 0h1m1 0h3m1 0h1m1 0h1m15 0h3m2 0h1m2 0h5m1 0h1m9 0h7m1 0h4m1 0h2m1 0h1m39 0h1m1 0h3m1 0h1m2 0h1m52 0h3m9 0h1m24 0h1m5 0h1m4 0h1m1 0h2m2 0h1m10 0h5m6 0h1m1 0h2m3 0h1m2 0h1m1 0h1m1 0h2m2 0h4m15 0h1m2 0h3m5 0h1m2 0h1m2 0h2m1 0h1m1 0h1M51 755h3m1 0h1m2 0h2m5 0h1m10 0h1m1 0h1m1 0h3m1 0h1m5 0h3m1 0h1m1 0h3m12 0h1m2 0h2m11 0h6m8 0h2m11 0h2m1 0h1m10 0h2m9 0h12m18 0h1m50 0h2m2 0h1m5 0h1m2 0h3m1 0h6m1 0h5m16 0h6m39 0h1m2 0h3m2 0h4m13 0h9m2 0h1m18 0h3m1 0h1m4 0h1m1 0h5m1 0h6m1 0h1m16 0h2m1 0h3m2 0h5m27 0h4m1 0h2m2 0h1m53 0h1m14 0h2m6 0h1m16 0h1m6 0h1m3 0h3m12 0h1m1 0h1m4 0h2m1 0h1m4 0h2m30 0h2m9 0h1m12 0h3M51 756h3m4 0h1m1 0h2m6 0h2m1 0h1m1 0h2m1 0h1m5 0h4m1 0h7m7 0h1m2 0h1m1 0h1m3 0h1m2 0h3m12 0h1m11 0h2m10 0h1m1 0h6m1 0h2m1 0h1m1 0h2m1 0h4m7 0h2m4 0h3m2 0h1m2 0h2m15 0h2m1 0h1m29 0h3m3 0h1m6 0h2m1 0h1m4 0h2m14 0h3m1 0h7m1 0h1m11 0h1m1 0h1m3 0h1m3 0h1m35 0h5m1 0h2m2 0h8m5 0h1m3 0h1m2 0h1m2 0h1m3 0h5m2 0h1m10 0h4m2 0h1m1 0h4m6 0h5m14 0h2m105 0h3m1 0h3m1 0h2m2 0h11m32 0h1m1 0h3m11 0h1m9 0h1m3 0h1m2 0h4m3 0h3m19 0h2m1 0h5m2 0h6m8 0h5m1 0h3M60 757h2m1 0h1m7 0h1m3 0h1m2 0h1m4 0h10m1 0h2m1 0h6m2 0h1m7 0h3m58 0h3m1 0h1m3 0h3m1 0h1m4 0h1m2 0h1m15 0h1m27 0h2m1 0h2m1 0h1m5 0h3m7 0h5m4 0h1m11 0h2m7 0h4m45 0h2m1 0h2m10 0h1m1 0h3m1 0h1m17 0h2m1 0h1m26 0h2m1 0h4m2 0h1m8 0h4m30 0h5m1 0h2m27 0h3m1 0h1m6 0h6m1 0h4m1 0h1m6 0h3m1 0h2m4 0h12m1 0h1m102 0h6m1 0h2M51 758h4m11 0h4m1 0h1m1 0h2m1 0h4m3 0h7m3 0h1m30 0h1m2 0h2m1 0h7m1 0h2m2 0h4m1 0h2m1 0h2m22 0h3m1 0h2m1 0h2m1 0h4m1 0h2m1 0h1m57 0h2m31 0h3m130 0h1m2 0h1m60 0h1m1 0h4m2 0h2m1 0h4m1 0h3m4 0h1m2 0h2m11 0h8"/><path stroke="#8282ec" d="M530 614h1M648 620h1M69 626h1M510 637h1M585 638h1M677 641h1M666 652h1M696 661h1M103 675h1M551 685h1M543 694h1M575 697h1M216 699h1M362 703h1M566 711h1M115 716h1M236 726h1M218 728h1M364 729h1m155 0h1M632 730h1m52 0h1M71 732h1M276 733h1m83 0h1m288 0h1m17 0h1M236 734h1m42 0h1m115 0h1M190 735h1m217 0h1m26 0h1M110 736h1m96 0h2m105 0h1m133 0h1M327 737h1m42 0h1m172 0h1m32 0h1M390 738h1m5 0h1m2 0h1m124 0h1m43 0h1m110 0h1M83 739h1m92 0h1m21 0h1m111 0h1m52 0h2m149 0h1m82 0h1m20 0h1M60 740h1m59 0h1m63 0h1m19 0h1m119 0h1m33 0h2m1 0h1m1 0h1m1 0h4m5 0h2m1 0h1m1 0h2m1 0h6m14 0h2m1 0h4m1 0h2m20 0h2m7 0h2m18 0h1m57 0h1m44 0h1m58 0h1M207 741h1m30 0h1m68 0h1m45 0h3m1 0h1m2 0h3m9 0h1m13 0h6m7 0h1m1 0h3m7 0h5m15 0h2m1 0h1m2 0h4m38 0h1m90 0h1m26 0h1m33 0h1M99 742h1m39 0h1m43 0h1m60 0h1m107 0h1m1 0h3m1 0h1m1 0h1m11 0h2m1 0h4m1 0h7m1 0h2m1 0h1m15 0h1m2 0h10m12 0h1m2 0h1m11 0h1m1 0h1m1 0h1m63 0h1m90 0h1M70 743h1m5 0h1m191 0h2m3 0h2m3 0h1m2 0h5m6 0h5m1 0h1m9 0h1m2 0h2m1 0h1m1 0h5m25 0h1m3 0h3m7 0h1m1 0h3m1 0h2m1 0h1m11 0h2m29 0h1m1 0h1m20 0h2m1 0h7m1 0h6m1 0h3m124 0h1m45 0h1m56 0h1M99 744h2m1 0h3m33 0h1m2 0h1m1 0h7m1 0h3m67 0h6m5 0h2m6 0h1m14 0h6m6 0h1m1 0h1m8 0h2m1 0h2m6 0h2m1 0h2m9 0h1m1 0h3m2 0h1m1 0h1m1 0h1m2 0h1m3 0h1m3 0h5m1 0h10m3 0h1m16 0h5m1 0h1m15 0h1m7 0h8m4 0h1m11 0h7m13 0h8m2 0h1m22 0h1m10 0h1m32 0h1m34 0h1m7 0h1m11 0h1m69 0h1M51 745h4m42 0h2m2 0h2m32 0h1m2 0h6m10 0h5m17 0h1m6 0h1m1 0h6m1 0h2m2 0h1m31 0h6m1 0h1m1 0h2m1 0h2m11 0h4m1 0h1m1 0h2m3 0h1m1 0h3m6 0h5m3 0h2m9 0h5m1 0h1m1 0h2m1 0h1m6 0h1m1 0h6m3 0h4m1 0h1m3 0h2m1 0h2m3 0h1m1 0h5m10 0h4m23 0h5m5 0h2m19 0h2m1 0h8m2 0h13m3 0h3m1 0h1m23 0h1m56 0h1m47 0h1m77 0h1m8 0h1M63 746h2m31 0h3m1 0h1m8 0h1m2 0h1m1 0h1m19 0h3m1 0h1m1 0h1m18 0h1m14 0h2m21 0h4m32 0h3m9 0h1m7 0h2m6 0h2m17 0h2m3 0h1m9 0h1m1 0h1m1 0h1m2 0h1m1 0h1m19 0h1m1 0h5m1 0h2m10 0h8m2 0h2m18 0h7m2 0h5m5 0h1m24 0h3m1 0h4m12 0h1m1 0h3m4 0h1m1 0h1m28 0h5m34 0h2m2 0h5m2 0h5m38 0h1m28 0h1m3 0h1m4 0h1m50 0h1M52 747h1m3 0h3m2 0h1m5 0h3m1 0h1m6 0h3m1 0h3m1 0h2m1 0h1m1 0h1m3 0h1m1 0h7m14 0h2m9 0h1m21 0h6m1 0h3m1 0h2m5 0h1m1 0h5m21 0h6m29 0h3m13 0h6m2 0h4m1 0h4m1 0h3m1 0h2m6 0h1m17 0h5m1 0h8m1 0h13m6 0h2m2 0h3m1 0h5m8 0h3m19 0h1m9 0h1m4 0h2m14 0h2m13 0h1m1 0h1m4 0h9m1 0h1m1 0h1m8 0h2m39 0h5m1 0h1m13 0h1m1 0h1m1 0h1m1 0h1m31 0h1m20 0h1m5 0h1m1 0h3m107 0h1M58 748h1m1 0h2m7 0h1m1 0h2m18 0h1m1 0h3m2 0h1m2 0h1m1 0h2m1 0h12m65 0h1m5 0h3m27 0h1m2 0h2m1 0h3m1 0h1m14 0h1m1 0h1m3 0h6m1 0h4m1 0h1m1 0h6m7 0h1m10 0h3m1 0h1m1 0h1m1 0h3m1 0h2m47 0h3m1 0h3m1 0h4m16 0h3m1 0h1m1 0h2m2 0h1m2 0h1m5 0h1m1 0h2m6 0h1m1 0h3m1 0h1m3 0h12m21 0h2m25 0h1m2 0h1m33 0h1m1 0h2m17 0h1m8 0h1m2 0h3m19 0h3m22 0h4m1 0h2m1 0h1m5 0h1m4 0h1m4 0h1m10 0h3m6 0h2m4 0h1m12 0h2m16 0h1M51 749h3m1 0h1m1 0h7m12 0h5m1 0h6m2 0h9m1 0h1m1 0h7m1 0h3m1 0h2m2 0h3m2 0h2m18 0h5m3 0h1m1 0h1m2 0h3m15 0h4m3 0h1m1 0h1m3 0h1m27 0h1m1 0h3m17 0h7m30 0h7m1 0h1m3 0h3m1 0h1m6 0h1m1 0h1m15 0h9m1 0h1m18 0h1m4 0h3m2 0h1m18 0h1m2 0h1m1 0h1m1 0h1m4 0h2m1 0h5m8 0h4m2 0h1m6 0h3m9 0h2m7 0h3m5 0h2m1 0h1m4 0h2m109 0h1m27 0h1m1 0h2m1 0h1m2 0h1m2 0h2m25 0h1m13 0h1m7 0h1m1 0h2m11 0h1m9 0h1m3 0h1m2 0h1m7 0h1M57 750h1m1 0h3m1 0h1m13 0h1m1 0h2m1 0h5m2 0h4m1 0h1m1 0h7m15 0h1m1 0h1m1 0h1m1 0h3m2 0h1m17 0h6m3 0h3m1 0h1m18 0h1m5 0h1m9 0h3m14 0h1m1 0h1m1 0h1m9 0h1m9 0h3m1 0h1m15 0h3m1 0h9m9 0h1m1 0h4m7 0h1m22 0h1m2 0h7m1 0h1m1 0h4m10 0h4m1 0h1m24 0h1m11 0h2m3 0h1m1 0h1m2 0h1m8 0h1m1 0h9m13 0h2m11 0h2m111 0h1m1 0h1m23 0h1m51 0h1m9 0h2m16 0h1m16 0h1m1 0h1m5 0h1m5 0h4M63 751h2m1 0h1m7 0h2m7 0h1m1 0h1m12 0h1m2 0h3m13 0h1m9 0h1m2 0h2m1 0h2m4 0h2m1 0h12m1 0h4m19 0h2m4 0h1m1 0h2m8 0h2m1 0h2m12 0h4m1 0h4m1 0h2m3 0h1m1 0h1m24 0h6m1 0h3m2 0h8m1 0h4m17 0h2m1 0h1m1 0h1m1 0h2m2 0h1m60 0h2m15 0h5m1 0h1m13 0h1m2 0h3m22 0h1m1 0h7m105 0h2m1 0h2m1 0h1m1 0h2m12 0h1m39 0h1m23 0h1m4 0h1m2 0h1m32 0h1m2 0h2m1 0h1m8 0h1M51 752h3m8 0h3m4 0h2m1 0h3m1 0h2m17 0h2m4 0h1m2 0h3m22 0h1m8 0h3m9 0h1m1 0h1m1 0h4m1 0h1m1 0h2m21 0h10m45 0h1m1 0h1m1 0h1m9 0h2m1 0h2m8 0h2m27 0h4m1 0h2m1 0h1m10 0h1m1 0h5m2 0h1m4 0h1m18 0h1m17 0h13m2 0h7m4 0h2m13 0h4m1 0h1m8 0h6m14 0h2m104 0h2m5 0h2m5 0h1m5 0h2m4 0h2m23 0h1m1 0h3m30 0h3m14 0h2m3 0h1m19 0h2m4 0h1m2 0h2m8 0h1m5 0h1M52 753h1m2 0h1m1 0h6m3 0h1m32 0h8m27 0h1m2 0h1m1 0h3m1 0h1m2 0h3m3 0h3m30 0h2m1 0h1m1 0h2m4 0h1m2 0h1m4 0h1m24 0h3m10 0h1m23 0h2m6 0h3m1 0h2m1 0h2m2 0h1m18 0h2m1 0h1m1 0h1m4 0h3m1 0h3m1 0h1m3 0h5m1 0h8m2 0h4m1 0h5m1 0h9m1 0h1m1 0h1m8 0h1m1 0h6m1 0h2m8 0h6m3 0h1m1 0h10m21 0h2m5 0h3m150 0h1m1 0h1m39 0h2m1 0h1m2 0h1m1 0h1m9 0h1m1 0h1m2 0h1m16 0h1m7 0h1m12 0h1M53 754h2m1 0h1m1 0h1m2 0h3m68 0h2m7 0h2m22 0h2m9 0h6m2 0h7m10 0h1m6 0h1m2 0h1m20 0h7m2 0h3m40 0h4m1 0h2m8 0h2m11 0h5m8 0h8m16 0h2m2 0h1m3 0h4m11 0h1m1 0h1m1 0h8m1 0h1m5 0h1m1 0h1m2 0h3m2 0h1m2 0h4m13 0h1m1 0h9m7 0h1m115 0h1m3 0h2m25 0h1m1 0h1m1 0h3m3 0h1m2 0h1m3 0h1m2 0h1m5 0h1m38 0h1m2 0h1m1 0h1m2 0h1m1 0h2m2 0h1M79 755h1m15 0h1m20 0h3m1 0h1m2 0h1m1 0h2m6 0h4m1 0h3m17 0h5m3 0h2m23 0h4m4 0h1m10 0h4m31 0h8m4 0h3m11 0h2m3 0h1m6 0h1m5 0h4m9 0h3m6 0h3m6 0h1m11 0h1m1 0h1m2 0h2m1 0h10m1 0h2m3 0h2m4 0h5m1 0h1m1 0h5m9 0h2m2 0h4m1 0h2m7 0h3m16 0h1m6 0h1m1 0h1m10 0h5m2 0h1m41 0h1m60 0h1m6 0h1m1 0h1m1 0h1m5 0h2m1 0h1m32 0h1m1 0h1m1 0h2m1 0h2m1 0h1m3 0h1m49 0h1m2 0h2m7 0h1M62 756h6m2 0h1m1 0h1m2 0h1m1 0h4m35 0h2m9 0h1m1 0h8m1 0h2m20 0h1m2 0h1m1 0h1m2 0h1m13 0h4m10 0h2m9 0h4m2 0h1m1 0h3m22 0h4m3 0h3m1 0h6m10 0h2m11 0h1m11 0h1m1 0h5m1 0h1m2 0h2m1 0h1m1 0h3m1 0h3m1 0h2m1 0h3m1 0h14m3 0h1m3 0h1m2 0h1m1 0h2m18 0h5m1 0h3m1 0h2m1 0h2m1 0h3m8 0h3m3 0h4m23 0h3m10 0h1m114 0h1m2 0h2m121 0h8M51 757h1m3 0h1m2 0h2m2 0h1m1 0h7m1 0h3m1 0h2m1 0h4m33 0h4m2 0h1m18 0h1m1 0h6m9 0h11m3 0h2m11 0h1m1 0h4m1 0h2m1 0h2m12 0h1m1 0h1m2 0h2m20 0h2m2 0h1m12 0h2m1 0h4m6 0h3m1 0h2m6 0h3m13 0h1m14 0h1m2 0h1m4 0h4m2 0h2m10 0h4m5 0h5m2 0h3m1 0h1m3 0h1m1 0h2m1 0h1m6 0h1m1 0h1m2 0h2m2 0h1m1 0h3m6 0h2m1 0h1m12 0h1m22 0h3m11 0h3m18 0h1m32 0h1m1 0h2m1 0h3m6 0h1m15 0h1m2 0h4m12 0h1m1 0h4m1 0h1m17 0h1m1 0h1m1 0h11m2 0h3m2 0h1m31 0h7m1 0h1m11 0h5m6 0h1m2 0h4m3 0h1m6 0h1m1 0h1m1 0h1M80 758h3m7 0h3m1 0h1m21 0h2m1 0h1m1 0h3m1 0h2m10 0h1m2 0h1m8 0h1m19 0h2m1 0h2m9 0h1m4 0h1m2 0h1m1 0h2m2 0h4m1 0h1m1 0h1m1 0h1m38 0h5m2 0h2m4 0h2m3 0h2m1 0h1m1 0h1m13 0h1m7 0h2m28 0h1m3 0h1m14 0h1m1 0h6m5 0h1m2 0h1m2 0h1m17 0h5m32 0h1m1 0h1m1 0h2m1 0h3m29 0h1m1 0h3m29 0h2m2 0h1m8 0h4m1 0h2m2 0h4m1 0h1m1 0h4m8 0h1m127 0h1"/><path stroke="#6363f0" d="M215 622h1M69 625h1M222 631h1M418 636h1M95 639h1m65 0h1M336 644h1M177 658h1M266 664h1M502 670h1M420 677h1M379 683h1M558 691h1M397 695h1M503 700h1M547 704h1M574 712h1M60 713h1M54 714h1M303 721h1m386 0h1M416 728h1M389 729h1M292 730h1M325 732h1M259 733h1m403 0h1M177 734h1m131 0h1M110 735h1m207 0h1m77 0h1m14 0h1M85 736h1m100 0h1m128 0h1m380 0h1M144 737h1m124 0h1m11 0h1m11 0h1m9 0h1m72 0h1m34 0h1m233 0h1m11 0h1M100 738h1m195 0h1m73 0h1m177 0h1M87 739h1m18 0h1m6 0h1m60 0h1m3 0h1m140 0h1m14 0h1m30 0h4m65 0h5m15 0h2m87 0h2m59 0h1M82 740h1m92 0h1m10 0h1m1 0h1m30 0h1m86 0h1m33 0h1m14 0h3m2 0h1m1 0h1m6 0h5m26 0h1m11 0h4m1 0h1m9 0h1m1 0h3m11 0h1m88 0h1m108 0h1m16 0h1m22 0h1M52 741h1m59 0h1m137 0h1m101 0h1m10 0h8m21 0h7m1 0h1m15 0h8m3 0h4m10 0h3m2 0h1m71 0h1m118 0h1M179 742h1m5 0h1m13 0h1m14 0h1m53 0h1m5 0h1m1 0h3m2 0h1m1 0h1m2 0h1m21 0h1m7 0h3m9 0h1m1 0h3m16 0h2m2 0h1m3 0h1m1 0h1m1 0h3m1 0h1m3 0h3m18 0h1m1 0h5m7 0h1m1 0h1m1 0h2m10 0h4m3 0h1m2 0h2m1 0h2m1 0h6m1 0h4m1 0h1m1 0h1m1 0h1m168 0h1m15 0h1M71 743h1m74 0h1m78 0h1m33 0h1m1 0h1m1 0h3m1 0h1m2 0h3m13 0h3m1 0h2m7 0h9m1 0h2m2 0h1m1 0h1m5 0h1m20 0h1m4 0h1m17 0h1m2 0h1m1 0h11m2 0h4m8 0h1m11 0h5m1 0h1m1 0h7m1 0h1m2 0h1m4 0h4m10 0h1m12 0h6m113 0h1m47 0h1m40 0h1M58 744h3m1 0h1m17 0h1m16 0h2m2 0h1m3 0h2m27 0h1m2 0h1m1 0h2m1 0h1m51 0h2m23 0h2m6 0h5m4 0h4m1 0h1m3 0h1m1 0h1m3 0h2m1 0h1m6 0h6m13 0h1m2 0h6m2 0h1m12 0h1m3 0h1m4 0h1m1 0h2m1 0h3m1 0h3m41 0h1m1 0h4m6 0h5m1 0h7m8 0h4m1 0h2m1 0h3m2 0h3m7 0h4m1 0h3m3 0h2m29 0h4m1 0h2m33 0h1m86 0h1m31 0h1M83 745h1m2 0h1m16 0h1m30 0h1m1 0h2m36 0h2m8 0h1m9 0h2m1 0h2m19 0h10m6 0h1m1 0h1m2 0h1m2 0h2m1 0h1m1 0h1m3 0h1m10 0h3m1 0h1m14 0h3m16 0h1m20 0h3m11 0h1m2 0h3m1 0h1m19 0h2m16 0h5m12 0h3m11 0h1m1 0h1m1 0h1m2 0h1m8 0h2m43 0h1m1 0h4m54 0h1m22 0h1m26 0h1m31 0h1m32 0h1M65 746h6m13 0h2m1 0h9m3 0h1m1 0h8m1 0h2m1 0h1m1 0h9m2 0h4m1 0h3m26 0h1m12 0h1m27 0h2m1 0h2m2 0h1m15 0h2m2 0h5m13 0h7m10 0h3m4 0h1m4 0h5m2 0h1m15 0h1m1 0h2m29 0h1m2 0h10m9 0h1m2 0h5m9 0h1m1 0h2m7 0h2m11 0h1m19 0h4m25 0h4m1 0h1m64 0h1m19 0h1m15 0h1m64 0h1m11 0h1m40 0h1m22 0h1M53 747h3m14 0h1m1 0h6m3 0h1m3 0h1m2 0h1m1 0h1m1 0h3m1 0h1m7 0h14m43 0h1m2 0h5m1 0h1m33 0h1m24 0h3m37 0h1m2 0h6m23 0h1m8 0h1m13 0h3m1 0h2m2 0h2m3 0h1m5 0h8m3 0h4m11 0h4m17 0h3m9 0h2m2 0h1m3 0h1m4 0h4m1 0h1m1 0h4m9 0h1m1 0h1m1 0h8m46 0h1m1 0h1m2 0h5m1 0h1m2 0h1m3 0h1m24 0h3m1 0h1m1 0h1m1 0h2m2 0h2m15 0h1m3 0h2m16 0h1m5 0h1m1 0h1m1 0h2m1 0h1m18 0h1m6 0h2m18 0h2m10 0h2m4 0h1m18 0h1m9 0h1M51 748h7m1 0h1m13 0h5m1 0h6m1 0h5m1 0h1m99 0h2m21 0h1m1 0h2m1 0h2m2 0h1m45 0h3m2 0h2m14 0h1m1 0h1m1 0h1m3 0h1m2 0h4m2 0h1m6 0h1m5 0h2m1 0h4m3 0h1m1 0h1m14 0h1m12 0h1m1 0h3m1 0h10m8 0h2m1 0h2m1 0h5m1 0h1m13 0h1m1 0h3m12 0h1m4 0h1m1 0h8m2 0h4m107 0h1m3 0h1m1 0h2m8 0h1m15 0h2m1 0h1m10 0h2m28 0h1m1 0h1m4 0h4m9 0h2M54 749h1m1 0h1m31 0h2m9 0h1m1 0h1m11 0h1m2 0h2m30 0h3m1 0h1m1 0h2m22 0h3m1 0h1m1 0h3m1 0h2m26 0h1m27 0h14m3 0h1m9 0h3m15 0h1m1 0h1m1 0h4m1 0h1m2 0h3m8 0h1m1 0h1m9 0h1m1 0h3m11 0h4m1 0h4m3 0h2m1 0h2m9 0h7m1 0h2m1 0h1m1 0h1m1 0h1m1 0h2m2 0h1m17 0h1m2 0h6m14 0h1m3 0h1m1 0h1m10 0h1m1 0h4m99 0h3m4 0h4m33 0h1m35 0h1m6 0h1m1 0h1m3 0h1m2 0h4m33 0h1m1 0h3m3 0h1M78 750h1m2 0h1m5 0h1m15 0h7m1 0h1m5 0h1m1 0h1m33 0h3m26 0h1m15 0h2m3 0h1m7 0h1m1 0h1m25 0h1m1 0h1m8 0h1m3 0h2m28 0h6m2 0h10m1 0h2m6 0h3m1 0h2m14 0h2m1 0h1m1 0h5m6 0h4m18 0h2m57 0h2m1 0h1m2 0h5m112 0h1m4 0h1m7 0h1m70 0h1m20 0h1m23 0h1m3 0h1m3 0h1M76 751h7m71 0h1m25 0h4m1 0h1m12 0h1m2 0h6m2 0h1m1 0h2m9 0h1m2 0h3m1 0h1m1 0h4m1 0h1m2 0h2m1 0h6m1 0h1m1 0h2m1 0h1m20 0h1m4 0h1m3 0h1m4 0h1m1 0h1m1 0h4m2 0h1m7 0h1m1 0h12m1 0h10m5 0h1m1 0h1m1 0h8m18 0h2m22 0h1m1 0h1m1 0h9m1 0h1m1 0h2m114 0h1m7 0h1m81 0h1m24 0h1m25 0h1m7 0h1M65 752h1m1 0h2m2 0h1m25 0h4m1 0h1m38 0h9m1 0h1m1 0h1m40 0h4m1 0h1m11 0h3m1 0h4m11 0h2m1 0h6m1 0h1m27 0h1m7 0h7m8 0h4m4 0h1m21 0h2m1 0h4m1 0h11m1 0h6m1 0h7m5 0h1m2 0h2m14 0h1m8 0h1m4 0h2m8 0h3m142 0h1m3 0h1m16 0h1m1 0h1m63 0h2m1 0h3m3 0h2m30 0h1M51 753h1m1 0h2m1 0h1m130 0h1m1 0h1m2 0h4m1 0h2m1 0h4m1 0h1m1 0h1m1 0h2m1 0h1m15 0h1m39 0h1m14 0h2m1 0h3m10 0h5m17 0h1m1 0h3m5 0h1m30 0h1m1 0h1m1 0h4m1 0h3m25 0h3m1 0h1m10 0h5m12 0h4m2 0h5m233 0h1m4 0h3M55 754h1m1 0h1m1 0h2m73 0h7m41 0h2m7 0h3m2 0h2m1 0h1m2 0h6m1 0h2m1 0h4m13 0h3m7 0h2m47 0h1m2 0h3m1 0h4m18 0h1m1 0h6m26 0h2m1 0h3m4 0h4m6 0h1m1 0h1m20 0h2m3 0h2m1 0h2m204 0h1m2 0h1m1 0h2m43 0h1m23 0h1M119 755h1m1 0h2m1 0h1m12 0h1m25 0h3m29 0h4m1 0h9m5 0h6m23 0h2m8 0h4m36 0h8m13 0h6m1 0h2m1 0h8m1 0h1m1 0h2m2 0h1m27 0h1m1 0h1m17 0h1m4 0h1m3 0h1m2 0h3m29 0h10m103 0h1m8 0h1m2 0h1m9 0h1m15 0h1m108 0h1M81 756h1m36 0h1m1 0h3m1 0h3m10 0h1m60 0h2m18 0h2m8 0h12m29 0h1m8 0h2m19 0h1m1 0h2m15 0h1m3 0h1m14 0h3m1 0h3m1 0h2m1 0h1m50 0h1m1 0h1m30 0h3m1 0h6M52 757h3m1 0h2m62 0h2m1 0h10m1 0h1m1 0h5m1 0h1m6 0h9m11 0h3m25 0h12m3 0h2m2 0h2m1 0h2m1 0h4m1 0h3m1 0h1m2 0h2m19 0h1m16 0h6m17 0h2m3 0h1m5 0h3m1 0h2m1 0h4m4 0h2m2 0h2m1 0h1m3 0h3m14 0h2m12 0h1m1 0h3m1 0h2m3 0h2m9 0h6m2 0h1m1 0h3m1 0h2m3 0h3m26 0h3m1 0h1m4 0h2m58 0h1m50 0h1m1 0h6m8 0h1m3 0h1m1 0h1m11 0h2m3 0h2m1 0h4m9 0h1m1 0h7m1 0h1m1 0h1m1 0h2m1 0h1m7 0h1m1 0h4m1 0h6m18 0h3m1 0h6m1 0h1m1 0h1m1 0h2m1 0h1M95 758h5m4 0h3m2 0h7m2 0h1m1 0h1m31 0h13m1 0h3m2 0h1m23 0h2m4 0h1m1 0h1m1 0h1m1 0h8m1 0h5m1 0h2m5 0h2m1 0h13m9 0h4m2 0h3m2 0h1m1 0h1m1 0h3m9 0h1m10 0h1m13 0h4m1 0h9m1 0h3m13 0h2m1 0h1m6 0h5m1 0h2m1 0h2m1 0h1m1 0h7m1 0h7m5 0h3m26 0h3m1 0h1m8 0h4m18 0h7m1 0h1m58 0h1m1 0h1m13 0h5m1 0h2m1 0h1m118 0h4"/><path stroke="#4444f5" d="M257 624h1M693 627h1M559 638h1M635 641h1M267 657h1M664 664h1M431 686h1M521 701h1M557 704h1M120 717h1m19 0h1M67 722h1M614 724h1M654 725h1M672 726h1M144 728h1M692 729h1m6 0h1M476 730h1M203 733h1m40 0h1m90 0h1m227 0h1m124 0h1M229 734h1m8 0h1m204 0h1M644 735h1M121 736h1m117 0h1m149 0h1m9 0h1m122 0h1M277 737h1m106 0h1m25 0h1m124 0h1m9 0h1m23 0h1m22 0h1M160 738h1m11 0h1m109 0h1m3 0h1m14 0h1m62 0h1m72 0h2m78 0h1m28 0h1m135 0h1M132 739h1m22 0h1m1 0h1m30 0h1m87 0h1m32 0h1m8 0h1m55 0h3m1 0h1m23 0h3m5 0h1m3 0h2m2 0h1m3 0h1m97 0h1m1 0h1m151 0h1m17 0h1M130 740h1m11 0h1m133 0h1m35 0h1m75 0h1m3 0h1m2 0h1m2 0h2m1 0h1m14 0h1m1 0h4m1 0h1m2 0h1m1 0h1m120 0h1m138 0h1m3 0h1M59 741h1m4 0h1m100 0h1m8 0h1m27 0h1m14 0h1m8 0h1m118 0h1m2 0h1m75 0h3m17 0h2m1 0h1m1 0h1m1 0h2m28 0h1m19 0h1m31 0h1m161 0h1M76 742h1m10 0h1m141 0h1m4 0h1m28 0h1m3 0h1m1 0h5m1 0h1m3 0h2m1 0h1m1 0h2m6 0h1m12 0h3m1 0h5m5 0h5m1 0h3m1 0h1m18 0h1m2 0h1m12 0h1m1 0h3m28 0h7m1 0h1m18 0h3m1 0h2m12 0h1m10 0h5m12 0h1m115 0h1m14 0h1m18 0h1m5 0h1M131 743h1m2 0h1m6 0h1m1 0h1m3 0h7m35 0h1m20 0h1m9 0h5m1 0h2m23 0h2m1 0h1m3 0h1m1 0h1m1 0h1m3 0h1m22 0h1m32 0h11m10 0h3m41 0h8m1 0h11m15 0h1m1 0h2m1 0h4m147 0h1m69 0h1M56 744h2m3 0h1m34 0h1m10 0h2m13 0h1m12 0h2m17 0h4m8 0h1m7 0h3m5 0h1m1 0h1m1 0h1m1 0h6m2 0h4m16 0h2m16 0h2m6 0h3m1 0h1m2 0h2m2 0h1m118 0h6m28 0h1m3 0h2m14 0h1m3 0h3m38 0h1m43 0h1m71 0h1m38 0h1m39 0h1m11 0h1M63 745h2m15 0h3m1 0h2m1 0h5m1 0h3m8 0h4m25 0h1m25 0h2m11 0h2m25 0h2m1 0h2m2 0h2m7 0h3m26 0h1m1 0h1m1 0h1m1 0h1m1 0h1m111 0h4m3 0h1m3 0h1m1 0h3m20 0h3m1 0h4m2 0h1m1 0h1m1 0h1m260 0h2m9 0h1m6 0h1M71 746h13m2 0h1m37 0h2m4 0h1m30 0h3m7 0h2m30 0h1m2 0h2m1 0h1m1 0h2m1 0h10m2 0h2m38 0h4m1 0h4m94 0h1m1 0h1m23 0h2m4 0h1m6 0h1m2 0h3m123 0h1m19 0h1m21 0h4m106 0h1M203 747h1m1 0h2m1 0h2m5 0h1m2 0h1m7 0h3m98 0h1m30 0h4m2 0h1m1 0h3m24 0h2m1 0h6m5 0h3m1 0h4m81 0h2m5 0h1m1 0h2m28 0h1m16 0h1m18 0h2m16 0h1m4 0h1m7 0h1m4 0h1m1 0h1m4 0h1m3 0h1m1 0h1m2 0h3m3 0h1m1 0h1m3 0h1m4 0h2m18 0h2m1 0h1m3 0h2m1 0h1M78 748h1m6 0h1m108 0h2m1 0h2m5 0h3m1 0h1m2 0h1m1 0h2m1 0h1m56 0h2m31 0h2m1 0h6m1 0h5m2 0h1m4 0h3m1 0h1m1 0h14m14 0h1m3 0h1m62 0h4m1 0h1m8 0h2m91 0h1m13 0h4m43 0h1m52 0h2m3 0h1m33 0h1m3 0h1m3 0h1M190 749h3m11 0h1m2 0h8m43 0h3m3 0h2m2 0h3m21 0h1m7 0h1m3 0h4m1 0h3m1 0h1m15 0h1m2 0h1m3 0h4m17 0h4m2 0h3m16 0h1m46 0h3m1 0h1m121 0h2m65 0h1m8 0h1m3 0h1m9 0h1m12 0h1m29 0h1m4 0h1M110 750h1m1 0h5m83 0h3m1 0h7m31 0h8m1 0h3m36 0h1m11 0h1m2 0h1m2 0h3m22 0h1m1 0h1m15 0h4m13 0h1m61 0h1m1 0h2m95 0h1m81 0h1m64 0h1M207 751h2m1 0h1m24 0h1m1 0h2m2 0h1m6 0h1m1 0h1m2 0h1m27 0h3m1 0h4m1 0h1m1 0h1m28 0h1m10 0h2m2 0h1m1 0h1m1 0h1m8 0h2m1 0h1m11 0h3m27 0h1m9 0h1m105 0h1m78 0h1m68 0h1m2 0h1m26 0h1M66 752h1m131 0h1m1 0h7m1 0h3m3 0h1m4 0h3m5 0h3m2 0h1m36 0h7m7 0h8m49 0h1m14 0h4m2 0h2m32 0h8m239 0h1M206 753h1m1 0h1m2 0h1m1 0h4m8 0h3m41 0h5m15 0h10m71 0h1m48 0h2m1 0h1m1 0h1m1 0h5m205 0h1m4 0h1m41 0h1M194 754h2m2 0h1m1 0h1m15 0h3m9 0h1m65 0h1m23 0h1m46 0h6M220 755h4m9 0h2m3 0h5m58 0h1m21 0h1m71 0h1m1 0h2m171 0h1m3 0h1m67 0h1M119 756h1m3 0h1m76 0h7m13 0h3m3 0h2m42 0h2m1 0h1m3 0h1m122 0h1m34 0h1M133 757h1m1 0h1m82 0h1m2 0h1m4 0h1m3 0h1m1 0h2m63 0h3m1 0h5m21 0h1m1 0h3m36 0h1m3 0h1m25 0h1m2 0h3m32 0h1m1 0h4m123 0h4m1 0h2m27 0h9m1 0h1m7 0h1m1 0h1m1 0h1m2 0h1m14 0h1m41 0h1m1 0h6m1 0h10M100 758h4m3 0h2m56 0h1m49 0h1m5 0h1m2 0h5m2 0h1m40 0h3m4 0h2m12 0h2m5 0h1m2 0h3m4 0h1m14 0h3m2 0h7m23 0h1m7 0h1m15 0h5m1 0h3m1 0h4m1 0h11m17 0h5m11 0h2m88 0h1m2 0h1m1 0h6m12 0h1m95 0h3m5 0h4m8 0h1"/><path stroke="#2525fa" d="M551 612h1M466 613h1M612 620h1M110 643h1M582 646h1M126 647h1M402 656h1M648 675h1M158 687h1M64 695h1M698 704h1M406 705h1M403 706h1M263 709h1M314 713h1M657 717h1M636 718h1M660 722h1M536 725h1M646 727h1M244 728h1M69 731h1m204 0h1m38 0h1m131 0h1M276 732h1m135 0h1m3 0h1m8 0h1m232 0h1M383 733h1M329 734h1m201 0h1M188 735h1m229 0h1M269 736h1m147 0h1m262 0h1M123 737h1m8 0h1m32 0h1m67 0h1m88 0h1M174 738h1m24 0h1m88 0h1m53 0h1m19 0h2m1 0h3m46 0h3m1 0h2m14 0h3m199 0h1m25 0h1M59 739h1m87 0h1m86 0h1m22 0h1m1 0h1m88 0h1m10 0h4m14 0h1m3 0h1m2 0h2m1 0h1m17 0h1m2 0h2m2 0h2m2 0h2m1 0h3m1 0h1m5 0h1m2 0h2m6 0h3m145 0h1M164 740h1m100 0h1m21 0h1m64 0h3m34 0h3m1 0h2m1 0h2m24 0h1m1 0h2m18 0h2m1 0h1m76 0h2m77 0h1m15 0h1M65 741h1m17 0h1m12 0h1m48 0h1m18 0h1m74 0h1m28 0h1m15 0h3m44 0h1m17 0h3m96 0h1m1 0h1m58 0h1m13 0h1m100 0h1m27 0h1M70 742h1m57 0h1m30 0h1m67 0h1m32 0h3m1 0h3m22 0h3m1 0h12m9 0h2m8 0h1m19 0h3m124 0h1m15 0h1m44 0h1m28 0h1m17 0h1m78 0h1M135 743h6m1 0h1m1 0h2m25 0h1m47 0h1m25 0h5m3 0h1m1 0h3m76 0h1m1 0h6m124 0h1m3 0h1m50 0h1m111 0h1m61 0h1M53 744h1m1 0h1m20 0h1m32 0h1m5 0h1m10 0h1m31 0h1m13 0h2m3 0h5m1 0h1m1 0h1m1 0h1m12 0h5m10 0h1m2 0h1m29 0h1m250 0h1m45 0h1m56 0h1m12 0h1m20 0h1M65 745h4m8 0h3m12 0h1m15 0h2m12 0h1m3 0h3m1 0h3m28 0h3m37 0h1m2 0h2m2 0h4m37 0h1m118 0h3m1 0h3m1 0h1m26 0h1m4 0h2m108 0h1m46 0h1m15 0h1m5 0h1M164 746h3m1 0h3m39 0h1m2 0h1m147 0h3m3 0h2m28 0h4m1 0h6m1 0h2m93 0h1m34 0h1m1 0h1m4 0h1m3 0h1m27 0h1m34 0h1m66 0h1M207 747h1m2 0h5m1 0h2m1 0h7m136 0h2m1 0h1m29 0h1m170 0h1m12 0h1m24 0h1m5 0h2m3 0h1m14 0h1m2 0h1m9 0h1M196 748h1m2 0h5m3 0h1m1 0h2m1 0h1m341 0h2m92 0h1m16 0h1m24 0h1m4 0h1m2 0h2M193 749h1m9 0h1m1 0h2m55 0h2m2 0h2m40 0h1m21 0h2m1 0h3m25 0h2m336 0h1M306 750h2m56 0h1m1 0h2m206 0h1m19 0h1m41 0h1M334 751h2m15 0h1m1 0h11m320 0h1M207 752h1m14 0h5m132 0h1m189 0h1M217 753h5m1 0h2m196 0h1m1 0h1m1 0h1m241 0h1M219 754h9m350 0h1m41 0h1M224 755h9m2 0h3m286 0h1m82 0h1m19 0h1M223 756h3m46 0h1m1 0h3M561 757h3m125 0h1M275 758h4m16 0h5m1 0h2m25 0h2m59 0h1m3 0h1m4 0h1m33 0h4m5 0h2m101 0h10m1 0h1m1 0h4m20 0h1m47 0h1m2 0h2m15 0h3m12 0h4m1 0h2m2 0h5"/><path stroke="#0606fe" d="M173 614h1M398 619h1M523 624h1M645 630h1M532 636h1M535 650h1M154 658h1M95 661h1m157 0h1M170 664h1M145 672h1M272 676h1M243 678h1M641 689h1M89 691h1M660 712h1M537 718h1M147 722h1m400 0h1M544 725h1m53 0h1M396 726h1m48 0h1M596 727h1M348 731h1m319 0h1M353 732h1m75 0h1M413 733h1m18 0h1M61 734h1m304 0h1M102 735h1m14 0h1m251 0h1m105 0h1m66 0h1M373 736h1M63 737h1m3 0h1m105 0h1m9 0h1m176 0h1m6 0h1m29 0h1m25 0h1m3 0h1m32 0h1m136 0h1m60 0h1M60 738h1m45 0h1m89 0h1m41 0h1m1 0h1m91 0h1m35 0h1m5 0h5m6 0h1m25 0h3m3 0h1m2 0h3m107 0h1M54 739h1m60 0h1m131 0h1m75 0h1m23 0h1m7 0h4m10 0h2m1 0h2m5 0h2m1 0h2m2 0h1m13 0h1m5 0h2m3 0h1m13 0h4m1 0h2m7 0h1m3 0h1m105 0h1m29 0h1m113 0h1M57 740h1m29 0h1m1 0h1m62 0h1m40 0h1m3 0h1m248 0h1m67 0h1m66 0h1M142 741h1m78 0h1m7 0h1m37 0h1m1 0h2m6 0h2m1 0h1m1 0h2m9 0h1m32 0h5m1 0h1m1 0h1m7 0h1m127 0h1m120 0h1m42 0h1M57 742h1m17 0h1m5 0h1m23 0h1m45 0h1m43 0h1m26 0h4m7 0h1m19 0h1m1 0h2m1 0h2m27 0h2m44 0h1m8 0h2m3 0h1m186 0h1m6 0h1m15 0h1m92 0h1m3 0h1M51 743h1m131 0h1m44 0h1m1 0h3m10 0h1m6 0h1m82 0h1m1 0h1m205 0h1m2 0h1m25 0h1m69 0h1m13 0h1m34 0h1m4 0h1m4 0h1M52 744h1m1 0h1m17 0h1m6 0h1m3 0h1m3 0h1m39 0h5m1 0h1m71 0h3m1 0h1m277 0h1m4 0h1m44 0h1m80 0h1m54 0h1M69 745h2m1 0h5m37 0h1m2 0h5m1 0h1m5 0h1m34 0h4m44 0h3m324 0h1m63 0h1m3 0h2m3 0h1m51 0h1m5 0h2m13 0h1M167 746h1m196 0h3m173 0h1m33 0h3M561 747h1m12 0h1M573 748h1m32 0h1m37 0h1m1 0h1m11 0h1M194 749h4m3 0h2m350 0h1m78 0h1M355 750h3m2 0h4m1 0h1M586 751h1m14 0h1m2 0h1m90 0h1M510 752h1m44 0h1m40 0h1M222 753h1m301 0h1m25 0h1m148 0h1M564 757h1M436 758h5m113 0h1m6 0h2m11 0h7m1 0h11m21 0h8m1 0h1m1 0h4m1 0h2m2 0h6m1 0h3m1 0h4m19 0h1m2 0h1m6 0h5m1 0h2m2 0h2m7 0h3"/><path stroke="#0019e6" d="M565 617h1M637 621h1M269 622h1M197 656h1M182 668h1M81 671h1M282 674h1M423 686h1M654 690h2m1 0h1m2 0h1m3 0h1M388 691h1M599 696h1M401 703h1M409 704h1M404 705h1M402 706h1M651 710h1M79 711h1M539 712h1M76 716h1M641 717h1M317 724h1M59 725h1M241 727h1M202 728h1m210 0h1M416 729h1M368 730h1m300 0h1M521 731h1m21 0h1M53 732h1m320 0h1M199 733h1m116 0h1m23 0h1M121 734h1m25 0h1m134 0h1m62 0h1M81 735h1m246 0h1m42 0h1m13 0h1m2 0h1m37 0h1m140 0h1M124 736h1m106 0h1m62 0h1M196 737h1m6 0h1m130 0h1m26 0h1m66 0h1m5 0h1m23 0h1M83 738h1m151 0h1m30 0h1m141 0h3m12 0h1m1 0h1m138 0h1m33 0h1m12 0h1m71 0h1M122 739h1m108 0h1m82 0h1m56 0h1m22 0h1m29 0h1m21 0h1M67 740h1m58 0h1m21 0h1m13 0h1m2 0h1m111 0h1m174 0h1m136 0h1m66 0h1M92 741h1m118 0h1m12 0h1m46 0h6m2 0h1m1 0h1m22 0h1m14 0h7m240 0h1m34 0h1M88 742h1m43 0h1m86 0h3m4 0h1m24 0h2m1 0h1m2 0h1m76 0h6m1 0h1m234 0h1m4 0h1M74 743h1m140 0h4m10 0h1m3 0h1m2 0h1m227 0h1m61 0h1m21 0h1m115 0h1M51 744h1m36 0h2m21 0h1m20 0h1m75 0h1m1 0h5m281 0h1m30 0h1m75 0h1m70 0h1m11 0h1M71 745h1m38 0h4m1 0h2m7 0h2m42 0h4m405 0h1m53 0h1m28 0h1m38 0h1M628 746h1M543 747h1m42 0h1m85 0h1M545 748h1m15 0h1m14 0h1m94 0h1M198 749h3m377 0h1M358 750h2m213 0h1m23 0h1m10 0h1m20 0h1m27 0h1M539 752h1m1 0h1m2 0h1m13 0h1m15 0h1m42 0h1m28 0h1m5 0h1M620 753h1m9 0h1m20 0h1M522 754h1m71 0h1M543 755h1m10 0h1m95 0h1m30 0h1M563 758h3m5 0h3m19 0h5m11 0h2m1 0h2m8 0h1m1 0h1m15 0h1m3 0h1m38 0h1m2 0h2m2 0h3m1 0h3"/><path stroke="#0038c7" d="M115 615h1M289 647h1M578 650h1M674 657h1M365 660h1M57 666h1M531 676h1M545 688h1M87 696h1m559 0h1M268 703h1M403 705h1M366 707h1M348 716h1M674 720h1M502 723h1M302 726h1M77 728h1m296 0h1M511 729h1M129 731h1m114 0h1m133 0h1M124 732h1M528 733h1m112 0h1M200 735h1m115 0h1m13 0h1M211 736h1m54 0h1m61 0h1m8 0h1m105 0h1m52 0h1m198 0h1M214 737h1m91 0h1m96 0h1m33 0h1M189 738h1m129 0h1m108 0h1m22 0h1M148 739h1m87 0h1m320 0h1m14 0h1M68 740h1m19 0h1m239 0h1m214 0h1M88 741h1m156 0h1m70 0h3m253 0h1m66 0h1m21 0h1m10 0h1M340 742h1m161 0h1M102 743h1m26 0h1m356 0h1m15 0h1m6 0h1m74 0h1m106 0h1M78 744h1m6 0h1m8 0h1m425 0h1m40 0h1m91 0h1M574 745h1m25 0h1m39 0h1m8 0h1M506 746h1m156 0h1m10 0h1M603 747h1m13 0h1m44 0h1M609 748h1M541 749h1m112 0h1m4 0h1M562 750h1m14 0h1m39 0h1m49 0h1m31 0h1M651 752h1M644 753h1M570 754h1m36 0h1m44 0h1M619 755h1m63 0h1M566 758h5m27 0h4m2 0h5m2 0h1m81 0h1"/><path stroke="#0057a8" d="M629 658h1M254 659h1M58 666h1M577 676h1M651 677h1M106 679h1M326 684h1M688 694h1M645 711h1m39 0h1M633 714h1M279 715h1M520 722h1M276 723h1M315 728h1m107 0h1M58 730h1M141 731h1m274 0h1M336 733h1m75 0h1m203 0h1M102 734h1m277 0h1m288 0h1M299 735h1M190 736h1m58 0h1m81 0h1m36 0h1m287 0h1M151 737h1m273 0h1m9 0h1m173 0h1M55 738h1m40 0h1m19 0h1m71 0h1m38 0h1m81 0h1m36 0h1m240 0h1M111 739h1m84 0h1m53 0h1m276 0h1m23 0h1M169 740h1m2 0h1m169 0h1m5 0h1m320 0h1m13 0h1M249 741h1m6 0h1m33 0h1m50 0h1m153 0h1m122 0h1m17 0h1m61 0h1M171 742h1m12 0h1m458 0h1m27 0h1m26 0h1M80 743h1m33 0h1m11 0h1m366 0h1m9 0h1m88 0h1M528 744h1m49 0h1m91 0h1m6 0h1M510 745h1M599 746h1m99 0h1M652 747h1m2 0h1m31 0h1M596 749h1M607 750h1M579 751h1m20 0h1m2 0h1m15 0h1M543 753h1m115 0h1m9 0h1M520 754h1m42 0h1m19 0h1m106 0h1M527 755h1m8 0h1m83 0h1m22 0h1m31 0h1M602 758h2"/><path stroke="#009669" d="M613 612h1M146 621h1M293 624h1m3 0h1M585 627h1M654 634h1M64 636h1M146 637h1m409 0h1M463 639h1m181 0h1M636 640h1M425 643h1M698 645h1M381 646h1M169 651h1M694 660h1M199 661h1m8 0h1M476 662h1M434 667h1M132 679h1m119 0h1M314 680h1m115 0h1M64 688h1M583 689h1M69 690h1m21 0h1M420 691h1M267 700h1M57 702h1M276 706h1M605 707h1M383 708h1M410 710h1M348 712h1m187 0h1M521 714h1M658 716h1M574 717h1M601 718h1M607 723h1m60 0h1M116 725h1M690 726h1M592 727h1M436 728h1m13 0h1M385 729h1M95 730h1m179 0h1m142 0h1m152 0h1M108 731h1m93 0h1m91 0h1M68 732h1m26 0h1m167 0h1m378 0h1M128 733h1m122 0h1m100 0h1m5 0h1m11 0h1m67 0h1m186 0h1M119 734h1m80 0h1m74 0h1m39 0h1m52 0h1m188 0h1m11 0h1m4 0h1M109 735h1m194 0h1m5 0h1m53 0h1m11 0h1m9 0h1m14 0h1m1 0h1m24 0h1m146 0h1M107 736h1m37 0h1m121 0h1m3 0h1m31 0h1m14 0h1m10 0h1m10 0h1m13 0h1m67 0h1m53 0h1m22 0h1m51 0h1m126 0h1M162 737h1m1 0h1m15 0h1m43 0h1m1 0h1m17 0h2m18 0h1m59 0h1m57 0h1m92 0h2m5 0h1m10 0h1m85 0h1m11 0h1m58 0h1M123 738h1m10 0h1m17 0h1m11 0h1m6 0h1m10 0h1m40 0h1m29 0h1m1 0h1m11 0h1m27 0h1m26 0h1m3 0h1m60 0h1m13 0h1m24 0h1m67 0h1m37 0h1m2 0h1m43 0h1m69 0h1M63 739h1m24 0h1m15 0h1m55 0h1m38 0h1m8 0h1m2 0h1m2 0h1m9 0h1m3 0h1m12 0h1m13 0h1m50 0h1m22 0h1m11 0h1m50 0h1m63 0h1m31 0h1m36 0h1m73 0h1M63 740h1m11 0h1m7 0h1m38 0h1m2 0h1m1 0h1m17 0h1m5 0h1m22 0h1m19 0h1m15 0h1m3 0h1m16 0h1m17 0h1m12 0h1m27 0h1m8 0h1m30 0h1m124 0h1m21 0h1m8 0h1m71 0h1m13 0h1m9 0h1m1 0h1m2 0h1m23 0h1m59 0h1m12 0h1m2 0h1M120 741h1m23 0h1m16 0h1m14 0h1m12 0h1m15 0h1m9 0h1m49 0h1m25 0h1m21 0h1m22 0h1m163 0h1m2 0h1m17 0h1m8 0h1m30 0h1m27 0h1m5 0h1m90 0h1M55 742h1m12 0h1m4 0h1m8 0h1m26 0h1m8 0h1m25 0h1m11 0h1m16 0h2m15 0h1m7 0h1m7 0h1m35 0h1m5 0h1m217 0h1m24 0h1m1 0h1m1 0h1m49 0h1m31 0h1m10 0h1m27 0h1m27 0h1m23 0h1m4 0h1m10 0h1M89 743h1m9 0h1m20 0h1m44 0h1m16 0h1m9 0h1m51 0h1m224 0h1m26 0h1m50 0h1m16 0h1m3 0h1m14 0h1m7 0h1m7 0h1m15 0h1m8 0h1m4 0h1m30 0h1m19 0h1M95 744h1m69 0h1m319 0h1m5 0h1m3 0h1m60 0h2m11 0h1m5 0h1m43 0h2m6 0h1m18 0h1m1 0h1m15 0h1m20 0h1M508 745h1m66 0h1m3 0h1m24 0h1m12 0h1m6 0h1m5 0h1m20 0h1m35 0h1M489 746h1m4 0h1m7 0h1m17 0h1m34 0h1m17 0h1m34 0h1m31 0h1m10 0h1m33 0h1m6 0h1m4 0h1M509 747h1m3 0h1m10 0h1m4 0h1m17 0h1m2 0h1m2 0h1m38 0h1m8 0h1m10 0h1m23 0h1m28 0h1m16 0h1m7 0h2M514 748h1m70 0h1m18 0h2m74 0h1M546 749h1m23 0h1m96 0h1M527 750h1m8 0h1m22 0h1m22 0h1m30 0h1m5 0h1m3 0h1m7 0h1m12 0h1m2 0h1m39 0h1M528 751h1m24 0h1m6 0h1m22 0h1m13 0h1m38 0h1m34 0h1m13 0h1m11 0h1M551 752h1m42 0h1m60 0h1m6 0h1m22 0h1M544 753h1m16 0h1m4 0h1m50 0h1m10 0h2m2 0h1m9 0h1m10 0h1M527 754h1m51 0h1m15 0h1m14 0h1m53 0h1m26 0h1M529 755h1m2 0h1m45 0h1m14 0h1m11 0h1m10 0h1m4 0h1m43 0h1m4 0h1m3 0h1m1 0h1m20 0h1"/><path stroke="#00d42b" d="M124 615h1M636 632h1M207 646h1M407 673h1M658 690h1M609 698h1M675 699h1M634 704h2M138 714h1m46 0h1M515 718h1M141 725h1m521 0h1M516 727h1M170 728h1M362 731h1M108 732h1M191 733h1m15 0h1m145 0h1m285 0h1M583 734h1m104 0h1M321 735h1m36 0h1m46 0h1m98 0h1m17 0h1m62 0h1M268 736h1m3 0h1m75 0h1m333 0h1M225 737h1m15 0h1m26 0h1m190 0h1M226 738h1m3 0h1m18 0h1m107 0h1m225 0h1M130 739h1m74 0h1m274 0h1M117 740h1m21 0h1m98 0h1m27 0h1m40 0h3m5 0h1m282 0h1m100 0h1M78 741h1m70 0h1m43 0h2m14 0h1m25 0h1m316 0h1m63 0h1M64 742h1m52 0h1m6 0h1m417 0h1m41 0h1m8 0h1m15 0h1m18 0h1M157 743h1m22 0h1m54 0h1m255 0h1m50 0h1m62 0h1m75 0h1M159 744h1m392 0h1m61 0h1m13 0h1m43 0h1M479 745h1m63 0h1m26 0h1m57 0h1m21 0h1M492 746h1m42 0h1m47 0h1m64 0h1m13 0h1M541 747h1m107 0h1M636 748h1m22 0h1m2 0h1M633 749h1M544 750h1m137 0h1M574 751h1m90 0h1m10 0h1M615 752h1M532 754h1m145 0h1m13 0h1M591 755h1m18 0h1m33 0h1m6 0h1m37 0h1"/><path stroke="#26ff00" d="M698 618h1M599 620h1M683 621h1M618 624h1M619 629h1M66 630h1M684 641h1M454 644h1M157 646h1M618 651h1M617 658h1M656 660h1M198 663h1m69 0h1M97 665h1m103 0h1M545 672h1M101 674h1M206 676h1M166 683h1m525 0h1M223 685h1m116 0h1M135 686h1M380 688h1m45 0h1M645 690h1m10 0h1m2 0h1m1 0h1M159 695h1m417 0h1M542 696h1M696 697h1M120 699h1m214 0h1M402 702h1m1 0h1M357 704h1m45 0h1M581 709h1M131 712h1M675 713h1M552 714h1M116 715h1M696 716h1M656 717h1M55 718h1M206 719h1M134 721h1m6 0h1M429 722h1M244 725h1m388 0h1M387 726h1M428 727h1m92 0h1M474 728h1m188 0h1M421 729h1M86 730h1m214 0h1m105 0h1m20 0h1m15 0h1M122 731h1m256 0h1M57 732h1m168 0h1m62 0h1m41 0h1m36 0h1m153 0h1m129 0h1m9 0h1M57 733h1m169 0h1m14 0h1m86 0h1m34 0h1m107 0h1m200 0h1M295 734h1m15 0h1m51 0h1m46 0h1m26 0h1m83 0h1M101 735h1m31 0h1m15 0h1m57 0h1m60 0h1m20 0h1m72 0h1m51 0h1m14 0h1m30 0h1m205 0h1M79 736h1m33 0h1m1 0h1m4 0h1m6 0h1m5 0h1m17 0h1m6 0h1m33 0h1m31 0h1m2 0h1m76 0h1m11 0h1m45 0h1m13 0h1m115 0h1m31 0h1m64 0h1M114 737h1m63 0h1m11 0h1m13 0h1m24 0h2m22 0h1m7 0h1m10 0h1m64 0h1m15 0h1m36 0h1m25 0h1m15 0h1m65 0h1m35 0h1m87 0h1m61 0h1M140 738h1m12 0h1m1 0h1m35 0h1m55 0h1m16 0h1m25 0h1m2 0h1m75 0h1m3 0h1m59 0h1m38 0h1m50 0h1m2 0h1m70 0h1m76 0h1M77 739h2m21 0h1m30 0h1m7 0h1m12 0h1m18 0h1m29 0h1m24 0h1m22 0h1m16 0h1m5 0h1m47 0h3m75 0h1m217 0h1m3 0h1m16 0h1m10 0h1m38 0h1M53 740h1m8 0h1m14 0h1m12 0h1m7 0h1m6 0h1m32 0h1m34 0h1m50 0h1m9 0h1m46 0h1m23 0h1m164 0h1m14 0h1m20 0h1m2 0h1m36 0h1m32 0h1m13 0h1m52 0h1m27 0h1m10 0h1M98 741h1m7 0h1m4 0h1m2 0h1m17 0h1m97 0h1m58 0h1m9 0h1m1 0h1m1 0h1m40 0h1m115 0h1m1 0h1m75 0h1m25 0h1m56 0h1m24 0h1M86 742h1m20 0h1m39 0h1m6 0h1m5 0h2m14 0h1m10 0h1m16 0h1m2 0h1m20 0h1m1 0h1m8 0h1m276 0h1m9 0h1m26 0h1m29 0h1m40 0h1m10 0h1m30 0h1m18 0h1M55 743h1m49 0h1m11 0h1m4 0h1m5 0h1m1 0h1m24 0h1m328 0h1m25 0h1m5 0h1m21 0h1m27 0h2m39 0h2m70 0h1M69 744h1m12 0h1m3 0h1m437 0h1m10 0h1m3 0h1m1 0h1m9 0h1m18 0h1m3 0h1m15 0h1m5 0h1m2 0h1m6 0h1m1 0h1m34 0h1m50 0h1m3 0h1M493 745h1m9 0h2m32 0h1m19 0h1m14 0h1m10 0h1m14 0h1m3 0h1m15 0h2m14 0h2m5 0h1m30 0h1m15 0h1m6 0h1M510 746h1m78 0h1m7 0h2m21 0h1m18 0h1m21 0h1m21 0h1M585 747h1m2 0h1m7 0h1m41 0h2m11 0h1m23 0h2m11 0h1m3 0h1m1 0h1m1 0h1M532 748h1m26 0h1m14 0h1m60 0h1m25 0h1m4 0h1M561 749h1m9 0h3m3 0h1m45 0h1m60 0h1m9 0h1M541 750h1m11 0h1m74 0h1m5 0h1m25 0h1m8 0h1m1 0h1m7 0h1M558 751h2m30 0h1m7 0h1m3 0h1m27 0h1M527 752h1m40 0h1m43 0h1m5 0h1m11 0h1m6 0h1m3 0h1m1 0h1m22 0h2M519 753h1m17 0h1m61 0h2m1 0h1m3 0h1m5 0h1m26 0h1m12 0h1m10 0h1m20 0h1M589 754h1m33 0h1m36 0h1m10 0h1m14 0h1m2 0h1M540 755h1m32 0h1m25 0h1m24 0h1m12 0h1m14 0h1m24 0h1"/><path stroke="#9cff00" d="M513 612h1M691 623h1M266 633h1M349 641h1M355 653h1M268 654h1M158 688h1M676 698h1M317 725h1M222 729h1m66 0h1M445 730h1m46 0h1M207 732h1m15 0h1m286 0h1M58 733h1m169 0h1m145 0h1M201 734h1m462 0h1M252 735h1m44 0h1m63 0h1M69 736h1m17 0h1m256 0h1m40 0h1m201 0h1m21 0h1m22 0h1m2 0h1M53 737h1m104 0h1m236 0h1m267 0h1M78 738h1m22 0h1m12 0h1m199 0h1m21 0h1m22 0h1m216 0h1m7 0h1m3 0h1M203 739h1m109 0h1m82 0h1m187 0h1m79 0h1M56 740h1m57 0h1m84 0h1m58 0h1m327 0h1m12 0h1M118 741h1m15 0h1m18 0h1m52 0h1m332 0h1m47 0h1m19 0h1m6 0h1m73 0h1M98 742h1m26 0h1m76 0h1m40 0h1m287 0h1m59 0h1m16 0h1M77 743h1m116 0h1m19 0h1m19 0h1m339 0h1m68 0h1M119 744h1m416 0h1m79 0h1M478 745h1m23 0h1m3 0h1m46 0h1m5 0h1m103 0h1m2 0h1M588 746h1m6 0h1m28 0h1m2 0h1M622 747h1m50 0h1M616 748h1m70 0h1m8 0h1M621 749h1m50 0h2m24 0h1M638 750h1M568 751h1m19 0h1M559 752h1m4 0h1m83 0h1m38 0h1M619 753h1M563 755h1m102 0h1"/><path stroke="#fff500" d="M617 619h1M202 628h1M486 630h1M699 633h1M276 634h1M120 642h1M420 644h1M207 645h1M592 647h1M395 652h1M244 654h1M655 655h1M285 656h1M370 657h1M560 659h1M103 660h1M545 663h1m72 0h1M653 664h1M374 665h1M134 667h1M665 668h1M597 670h1M156 672h1M116 673h1m486 0h1M430 676h1M686 677h1M594 678h1m56 0h1M139 680h1M441 684h1M612 686h1M105 689h1M156 690h1M152 691h1M428 692h1M577 694h1M659 698h1M162 699h1M390 700h1M601 702h1M547 705h1M265 707h1m144 0h1m288 0h1M379 708h1m307 0h1M486 709h1m175 0h1M432 711h1M129 712h1m433 0h1M132 715h1M300 717h1m51 0h1M690 719h1M355 720h1M196 722h1m66 0h1m399 0h1M375 725h1m28 0h1M385 726h1M311 727h1M682 728h1M311 729h1m20 0h1m192 0h1m144 0h1M143 730h1m22 0h1m190 0h1m212 0h1M149 731h1m505 0h1M139 732h1m103 0h1m33 0h1m103 0h1m39 0h1M149 733h1m198 0h1m56 0h1m25 0h1m186 0h1m70 0h1M269 734h1m13 0h1m73 0h1m19 0h1m10 0h1m28 0h1m128 0h1m91 0h1M76 735h1m54 0h1m6 0h1m132 0h1m57 0h1m54 0h1m10 0h1m4 0h1m19 0h1m50 0h1m48 0h1m84 0h1m59 0h1m16 0h1M126 736h1m67 0h1m2 0h1m1 0h1m1 0h1m27 0h1m57 0h1m5 0h1m108 0h1m38 0h1m87 0h1m32 0h1m102 0h1m31 0h1M83 737h1m49 0h1m16 0h1m3 0h1m17 0h1m2 0h1m9 0h1m12 0h1m9 0h1m6 0h1m7 0h1m3 0h1m20 0h1m3 0h1m36 0h1m38 0h1m25 0h1m9 0h1m9 0h1m3 0h1m23 0h1m1 0h1m14 0h1m10 0h1m20 0h1m88 0h1m15 0h1m71 0h1m1 0h2m19 0h1m45 0h1M65 738h1m23 0h1m5 0h1m17 0h1m11 0h1m20 0h1m26 0h1m11 0h1m17 0h1m30 0h1m10 0h1m39 0h1m1 0h1m117 0h1m54 0h1m70 0h1m40 0h1m46 0h1m56 0h1m14 0h1M60 739h1m15 0h1m61 0h1m105 0h1m8 0h1m6 0h1m14 0h1m77 0h1m34 0h1m86 0h1m17 0h1m35 0h1m38 0h1m86 0h1M110 740h1m10 0h1m10 0h1m8 0h1m19 0h1m17 0h1m41 0h1m10 0h1m59 0h1m191 0h1m18 0h1m18 0h2m38 0h1m28 0h1m28 0h1m7 0h1m7 0h1m5 0h2m5 0h1m47 0h1M86 741h1m3 0h1m13 0h1m24 0h1m8 0h1m29 0h1m6 0h1m20 0h1m105 0h1m11 0h1m169 0h1m23 0h1m1 0h1m4 0h1m1 0h1m1 0h1m5 0h1m6 0h1m14 0h1m30 0h1m29 0h1m85 0h1M115 742h1m77 0h1m24 0h1m17 0h1m3 0h1m218 0h1m32 0h1m28 0h1m22 0h1m19 0h1m5 0h1m31 0h1m84 0h1M87 743h1m4 0h1m1 0h1m8 0h1m5 0h1m60 0h1m8 0h1m5 0h1m16 0h1m265 0h1m11 0h1m14 0h1m12 0h1m4 0h1m13 0h1m7 0h1m20 0h1m14 0h1m4 0h1m16 0h1m25 0h1m12 0h1m3 0h1m10 0h1m20 0h1M67 744h1m7 0h1m38 0h1m45 0h2m326 0h1m94 0h1m61 0h1m34 0h1m10 0h1M487 745h1m28 0h1m30 0h1m25 0h1m11 0h1m69 0h1m2 0h1M503 746h1m47 0h1m1 0h1m32 0h1m9 0h1m10 0h1m25 0h2m41 0h1m5 0h1m1 0h1m6 0h1M554 747h1m2 0h1m24 0h1m7 0h1m14 0h1m7 0h1m14 0h1m3 0h1m1 0h1m7 0h1m23 0h1m32 0h1M580 748h2m4 0h1m3 0h1m1 0h1m15 0h1m58 0h1m24 0h1M580 749h1m23 0h1m22 0h1m1 0h1m14 0h1m47 0h1M518 750h1m103 0h1m23 0h1m21 0h1m12 0h1m4 0h1m7 0h1m2 0h1M544 751h1m47 0h1m29 0h1m26 0h1m37 0h1m3 0h1m7 0h1M517 752h1m22 0h1m81 0h1m47 0h1m25 0h1M529 753h1m22 0h1m43 0h1m28 0h1m24 0h1m3 0h1m6 0h1m32 0h2M564 754h1m16 0h1m3 0h1m49 0h1m6 0h1m27 0h1m2 0h1m2 0h1m21 0h1M561 755h1m5 0h1m22 0h1m50 0h1m4 0h1m11 0h1m20 0h1"/><path stroke="#ffb300" d="M639 617h1M405 620h1M171 629h1M394 633h1M637 642h1M163 659h1m165 0h1M224 660h1M287 668h1M53 671h1m6 0h1m601 0h1M518 680h1M583 684h1M57 691h1M193 694h1M178 698h1m368 0h1M284 703h1M313 705h1m95 0h1M409 706h1M122 709h1M351 711h1M677 714h1M531 715h1M562 717h1M408 719h1M669 726h1M116 727h1M268 728h1M535 729h1M236 730h1M611 731h1m46 0h1M126 732h1m227 0h1m7 0h1M258 733h1M75 734h1m52 0h1m273 0h1m96 0h1m44 0h1m34 0h1m27 0h1M159 735h1m37 0h1m68 0h1m28 0h1m49 0h1M129 736h1m191 0h1m23 0h1m163 0h1M58 737h1m251 0h1m66 0h1m55 0h1m148 0h1M215 738h1m347 0h1M332 739h1m5 0h1m50 0h1m144 0h1m50 0h1M111 740h1m46 0h1m69 0h1m41 0h1m66 0h1m142 0h1m39 0h1m8 0h1m125 0h1m34 0h1M133 741h1m28 0h1m490 0h1m14 0h1M103 742h1m25 0h1m48 0h1m343 0h1m69 0h1m40 0h1m15 0h1m42 0h1M191 743h1m45 0h1M170 744h1m362 0h1m14 0h1m48 0h1m9 0h1m52 0h1M499 745h1m54 0h1m12 0h1m48 0h1m37 0h1M592 746h1m37 0h1m38 0h1m5 0h1M558 747h1M549 748h1m97 0h1M605 749h1m89 0h1M587 750h1m44 0h1M674 751h1M575 752h1M608 753h1M584 754h1m20 0h1m90 0h1m2 0h1M506 755h1m78 0h1"/><path stroke="#ff7100" d="M345 618h1m332 0h1M519 620h1M378 622h1M634 626h1M434 628h1M577 632h1M409 634h1M584 637h1M462 639h1M332 646h1M405 649h1M317 654h1M239 655h1M179 656h1M142 661h1M620 664h1M53 666h1M171 672h1m235 0h1M628 674h1M322 679h1M207 680h1M151 683h1m220 0h1m122 0h1M546 688h1M546 689h1m4 0h1M59 691h1m489 0h1M52 694h1m12 0h1M597 697h1M647 700h1m27 0h1M439 701h1M401 702h1m7 0h1M304 703h1m102 0h1m122 0h1M406 704h1M256 705h1M256 706h1M407 707h1M215 710h1M130 712h1M113 715h1m388 0h1M154 717h1M675 719h1M77 721h1m123 0h1m14 0h1M667 725h1M438 726h1M153 727h1m95 0h1m355 0h1m37 0h1m10 0h1M87 728h1m97 0h1M371 729h1M258 730h1m141 0h1M168 731h1m199 0h1m20 0h1M308 732h1m6 0h1m57 0h1m11 0h1m22 0h1M281 733h1m14 0h1m17 0h1m105 0h1m2 0h1m148 0h1m71 0h1M300 734h1m89 0h1m20 0h1m113 0h1m94 0h1m45 0h1m18 0h1M78 735h1m17 0h1m56 0h1m75 0h1m75 0h1m93 0h1m34 0h1m12 0h1m6 0h1m75 0h1M54 736h1m28 0h1m24 0h1m19 0h1m15 0h1m34 0h1m58 0h1m35 0h1m20 0h1m9 0h1m29 0h1m27 0h1m36 0h1m15 0h1m17 0h1m19 0h1m27 0h1m92 0h1m5 0h1m57 0h1m21 0h1M104 737h1m104 0h1m60 0h1m7 0h1m20 0h1m26 0h1m3 0h1m61 0h1m16 0h1m70 0h1m10 0h1M52 738h1m183 0h1m2 0h1m29 0h1m51 0h1m5 0h1m52 0h1m16 0h1m4 0h1m39 0h1m26 0h1m7 0h1m42 0h1m1 0h1m109 0h1m8 0h1M114 739h1m36 0h1m23 0h1m9 0h1m47 0h1m82 0h1m80 0h1m1 0h1m158 0h1m91 0h1m3 0h1M94 740h1m4 0h1m40 0h1m36 0h1m27 0h1m16 0h1m25 0h1m10 0h1m28 0h1m13 0h1m16 0h1m3 0h1m1 0h1m10 0h1m7 0h1m118 0h1m15 0h1m13 0h1m40 0h1m6 0h1m48 0h1m26 0h1m55 0h1m24 0h1M54 741h1m26 0h1m48 0h2m7 0h1m87 0h1m8 0h1m25 0h1m32 0h1m16 0h1m33 0h2m156 0h1m41 0h1m26 0h1m36 0h1m8 0h1m42 0h1m13 0h1M52 742h1m30 0h1m97 0h1m369 0h1m47 0h1m10 0h1m25 0h1m14 0h1m9 0h1m15 0h1m16 0h1M98 743h1m16 0h1m44 0h2m15 0h1m64 0h1m256 0h1m15 0h1m14 0h1m9 0h1m20 0h1m13 0h1m14 0h1m19 0h1m3 0h1m13 0h1m5 0h1m6 0h1m19 0h1m3 0h1m10 0h1m16 0h1M73 744h1m43 0h1m53 0h1m338 0h2m10 0h1m26 0h2m38 0h1m27 0h1m15 0h1m8 0h1m15 0h1m8 0h1m20 0h1M507 745h1m4 0h1m22 0h1m30 0h1m46 0h1m29 0h1m1 0h1m44 0h1m3 0h1M495 746h1m19 0h1m10 0h1m18 0h1m31 0h1m6 0h1m34 0h1m11 0h1m11 0h1M534 747h1m4 0h1m24 0h1m3 0h1m22 0h1m7 0h1m6 0h1m30 0h1M528 748h1m28 0h1m21 0h1m43 0h1m7 0h1m41 0h1m10 0h2m5 0h1M548 749h1m34 0h1m13 0h1m2 0h1m5 0h1m44 0h1m5 0h1m23 0h1M555 750h1m28 0h1m10 0h1m16 0h1m20 0h1m18 0h1m17 0h1M515 751h1m9 0h1m29 0h1m15 0h1m55 0h1m7 0h1m4 0h2m28 0h1M545 752h1m4 0h1m14 0h1m29 0h1m72 0h1M531 753h1m2 0h1m25 0h1m1 0h1m93 0h1m1 0h1m11 0h1m25 0h1M510 754h1m26 0h1m16 0h1m2 0h1m9 0h1m29 0h1m52 0h1m24 0h1m12 0h1M522 755h1m29 0h1m35 0h1m44 0h1m35 0h1m22 0h1m1 0h1"/><path stroke="#ff3000" d="M101 620h1M360 623h1M120 632h1M479 648h1M461 650h1M611 664h1M224 676h1M549 690h1M482 702h1M406 707h1M689 708h1M401 710h1M587 712h1M331 716h1m99 0h1M234 724h1M678 726h1M267 728h1M197 730h1M107 731h1m439 0h1m44 0h1m44 0h1m46 0h1M227 732h1M422 733h1m268 0h1M131 734h1M172 735h1m100 0h1m376 0h1M172 736h1m49 0h1m204 0h1m178 0h1m72 0h1M60 737h1m24 0h1m111 0h1m441 0h1M271 738h1m116 0h1m6 0h1m230 0h1m38 0h1M112 739h1m204 0h1m236 0h1m81 0h1M54 740h1m228 0h1m47 0h1M121 741h1m24 0h1m76 0h1m76 0h1m332 0h1m56 0h1M91 742h1m418 0h1M119 743h1m432 0h1M484 744h1m34 0h1m74 0h1m10 0h1m3 0h1m53 0h1m31 0h1M489 745h1m39 0h1m30 0h1m44 0h1m53 0h1m24 0h1M548 746h1m21 0h1m35 0h1m3 0h2m47 0h1m11 0h1m9 0h1M644 747h1M645 748h1M638 749h1M516 750h1m110 0h1m14 0h1M621 751h1m31 0h1m12 0h1m19 0h1M581 753h1m82 0h1m13 0h1M655 754h1m1 0h1M559 755h1m107 0h1m17 0h1m12 0h1"/><path stroke="#f0000f" d="M183 612h1m22 0h1M659 618h1m15 0h1M556 619h1M681 625h1M75 626h1M557 628h1M662 632h1M293 636h1M650 637h1M94 640h1M254 641h1M214 646h1M268 647h1M307 649h1m47 0h1M72 653h1M155 659h1M599 660h1M141 661h1m463 0h1M317 670h1m247 0h1M627 674h1M312 679h1M71 682h1m32 0h1M56 686h1m488 0h1M279 689h1M636 694h1M434 696h1m110 0h1M609 699h1M561 701h1M434 702h1M404 703h1m7 0h1M401 704h1M402 705h1m275 0h1M409 707h1M688 708h1M192 709h1M95 710h1M307 714h1M165 715h1m308 0h1M656 718h1M691 721h1M538 724h1M182 726h1M281 728h1m61 0h1m7 0h1M214 729h1m207 0h1m6 0h1m190 0h1M250 730h1m23 0h1m291 0h1m70 0h1m16 0h1M277 731h1m2 0h1m16 0h1m37 0h1m48 0h1m5 0h1m27 0h1M309 732h1m27 0h1m149 0h1M419 733h1m31 0h1m129 0h1M168 734h1m83 0h1m18 0h1m247 0h1m18 0h1m41 0h1m36 0h1M68 735h1m65 0h1m21 0h1m28 0h1m105 0h1m98 0h1m284 0h1M92 736h1m48 0h1m244 0h1m19 0h1m13 0h1m2 0h1m116 0h1M106 737h1m9 0h1m67 0h1m53 0h1m66 0h1m38 0h1m7 0h1m36 0h1m6 0h1m23 0h1m80 0h1m83 0h1m76 0h1m2 0h1m27 0h1M81 738h1m23 0h1m41 0h1m30 0h1m23 0h1m21 0h1m6 0h1m9 0h1m14 0h2m4 0h1m47 0h2m5 0h1m34 0h2m1 0h1m4 0h1m18 0h1m1 0h1m93 0h2m42 0h1m7 0h1m1 0h1m21 0h1m3 0h1m102 0h1m5 0h1m3 0h1m3 0h1M71 739h1m12 0h1m9 0h1m23 0h1m14 0h1m22 0h1m25 0h1m36 0h1m51 0h1m10 0h1m7 0h1m2 0h1m17 0h1m27 0h1m14 0h1m113 0h1m96 0h1m8 0h1m2 0h1m4 0h1m27 0h1m28 0h1m17 0h1m22 0h1M84 740h1m93 0h1m27 0h1m36 0h1m30 0h2m53 0h1m161 0h1m59 0h1m43 0h1m4 0h1M102 741h1m56 0h1m53 0h1m5 0h2m38 0h1m6 0h1m25 0h1m13 0h1m32 0h1m129 0h1m18 0h1m1 0h1m31 0h1m54 0h1m21 0h1m4 0h1M62 742h1m43 0h1m51 0h1m41 0h1m2 0h1m37 0h1m8 0h1m216 0h1m37 0h1m29 0h1m19 0h1m12 0h1m43 0h1m35 0h1m23 0h1m3 0h1M56 743h1m12 0h1m34 0h1m1 0h1m1 0h1m2 0h1m20 0h1m26 0h1m14 0h1m13 0h1m14 0h1m2 0h1m32 0h2m226 0h1m3 0h1m28 0h1m36 0h1m13 0h1m17 0h1m19 0h1m95 0h1m4 0h1m6 0h1M63 744h1m6 0h1m22 0h1m29 0h1m399 0h1m29 0h1m11 0h1m29 0h1m29 0h1m5 0h1m6 0h1m29 0h1m6 0h1m17 0h1M491 745h1m31 0h1m7 0h1m1 0h1m14 0h1m9 0h1m12 0h1m50 0h1m4 0h1m33 0h2M491 746h1m5 0h1m7 0h1m38 0h1m11 0h1m88 0h1m4 0h1m4 0h2m9 0h1m5 0h1m5 0h1M528 747h1m26 0h1m28 0h1m31 0h1M540 748h1m17 0h1m5 0h1m1 0h1m4 0h1m38 0h1m38 0h1m29 0h1m14 0h1M530 749h1m16 0h1m6 0h1m19 0h1m24 0h1m13 0h1m55 0h3m5 0h1M571 750h1m24 0h1m13 0h1m34 0h1m8 0h1m38 0h1M533 751h1m51 0h1m21 0h1m17 0h1m5 0h2m4 0h1m18 0h1m16 0h1m24 0h1M562 752h1m7 0h1m16 0h1m2 0h1m7 0h1m21 0h1m8 0h1m17 0h1m24 0h1m4 0h1m20 0h1M540 753h1m14 0h1m16 0h2m16 0h1m10 0h1m60 0h1m29 0h1M512 754h1m35 0h1m4 0h1m12 0h1m6 0h1m35 0h1m20 0h1m8 0h1m8 0h1m4 0h1m33 0h1M555 755h1m41 0h1m5 0h1m31 0h1m42 0h1m3 0h1m1 0h1"/><path stroke="#b80048" d="M207 618h1M268 619h1M515 620h1M182 625h1M628 642h1M384 645h1M308 649h1M423 652h1M84 658h1M658 660h1M637 678h1M562 680h1M320 694h1M127 701h1m208 0h1M408 706h1M159 709h1m481 0h1M302 721h1M242 727h1M246 728h1M132 729h1m191 0h1M100 730h1m429 0h1M414 731h1m17 0h1M246 732h1m131 0h1m112 0h1m192 0h1M198 733h1m27 0h1m187 0h1M314 734h1m103 0h1M184 735h1m49 0h1m439 0h1M248 736h1m365 0h1m15 0h1m33 0h1M102 737h1m38 0h2m170 0h1m55 0h1m231 0h1m51 0h1M179 738h1m37 0h1m4 0h1m61 0h1m21 0h1m26 0h1m27 0h1m9 0h1m60 0h1M99 739h1m23 0h1m16 0h1m8 0h1m39 0h1m31 0h1m90 0h1m24 0h1m240 0h1M203 741h1m29 0h1m76 0h1m354 0h1M140 742h1m27 0h1m398 0h1m49 0h1m7 0h1M75 743h1m51 0h1m347 0h1m137 0h1m44 0h1M560 744h1m19 0h1m84 0h1M521 745h1m2 0h1m66 0h1m45 0h1m30 0h1m27 0h1M538 746h1m48 0h1m58 0h1M587 748h1m36 0h1m8 0h1m20 0h1M636 749h1m39 0h1m12 0h1M557 750h1m81 0h1m9 0h1M532 751h1M563 752h1m18 0h1m2 0h1m38 0h2m33 0h1m18 0h1m11 0h1M556 754h1m122 0h1M598 755h1m14 0h1m12 0h1m26 0h1"/><path stroke="#800080" d="M57 610h2m56 0h1m37 0h1m51 0h1m405 0h1m18 0h1m5 0h1m32 0h1m23 0h1M160 611h1m34 0h1m9 0h1m9 0h1m116 0h1m77 0h2m2 0h1m51 0h1m33 0h1m29 0h1m82 0h1m4 0h1m11 0h2M57 612h1m44 0h1m79 0h1m12 0h1m3 0h1m15 0h1m13 0h1m14 0h1m11 0h1m19 0h2m41 0h2m15 0h1m15 0h1m14 0h1m98 0h2m62 0h1m10 0h1m15 0h1m43 0h1m29 0h1m39 0h1m19 0h1m5 0h1M117 613h1m20 0h1m46 0h1m13 0h1m44 0h1m11 0h1m19 0h1m39 0h1m189 0h1m4 0h1m18 0h1m70 0h1m22 0h1M115 614h1m1 0h1m67 0h1m22 0h1m27 0h1m79 0h1m73 0h1m115 0h1m2 0h1m1 0h1m32 0h1m68 0h1m32 0h1m28 0h1M62 615h1m9 0h1m25 0h1m137 0h1m19 0h1m21 0h1m31 0h1m44 0h1m8 0h2m28 0h1m25 0h1m70 0h1m82 0h1m71 0h1M72 616h1m2 0h1m142 0h1m9 0h1m49 0h1m1 0h1m37 0h1m3 0h2m51 0h1m44 0h1m184 0h1m24 0h1m15 0h1m22 0h1M197 617h1m27 0h1m18 0h2m5 0h1m103 0h1m1 0h1m38 0h2m95 0h1m110 0h1m33 0h1m6 0h2m13 0h1m30 0h1M70 618h2m3 0h1m40 0h1m116 0h1m112 0h1m11 0h2m133 0h1m24 0h1m17 0h1m24 0h1m76 0h1m35 0h1m2 0h1m21 0h1M70 619h2m98 0h1m53 0h1m174 0h1m37 0h1m1 0h1m78 0h1m26 0h1m1 0h1m7 0h1m49 0h1m22 0h1m19 0h1m43 0h1m1 0h2m3 0h1M102 620h1m48 0h2m17 0h1m7 0h1m104 0h1m12 0h2m47 0h1m7 0h1m11 0h1m16 0h1m162 0h1m1 0h1m41 0h1m38 0h1m2 0h1m32 0h1m18 0h1m8 0h1M68 621h1m120 0h1m80 0h1m4 0h1m24 0h1m77 0h2m37 0h1m87 0h1m13 0h1m20 0h1m34 0h1m23 0h1m12 0h1m51 0h1m8 0h1m10 0h1m7 0h1M133 622h1m62 0h2m11 0h1m6 0h1m5 0h1m18 0h1m16 0h1m11 0h1m8 0h1m80 0h1m48 0h1m95 0h1m69 0h1m27 0h1m3 0h1m29 0h1m28 0h1m17 0h1M82 623h1m19 0h2m29 0h1m19 0h1m61 0h1m15 0h1m112 0h1m82 0h1m106 0h1m68 0h1m53 0h1m8 0h1M107 624h2m31 0h1m24 0h1m90 0h1m87 0h1m51 0h1m113 0h1m11 0h1m11 0h1m22 0h1m44 0h1m6 0h1m1 0h1m63 0h1m11 0h1m3 0h1M70 625h1m15 0h1m21 0h2m51 0h1m8 0h1m5 0h2m90 0h1m22 0h1m5 0h1m83 0h1m138 0h1m89 0h2m19 0h1m54 0h2M68 626h1m84 0h1m7 0h1m18 0h1m7 0h1m55 0h1m23 0h1m6 0h1m105 0h1m89 0h1m139 0h1m63 0h1M75 627h1m98 0h1m33 0h1m150 0h1m30 0h1m3 0h1m19 0h1m116 0h1m10 0h1m1 0h1m41 0h1m63 0h1m17 0h1m25 0h1m1 0h1M142 628h2m5 0h1m103 0h1m15 0h1m2 0h1m86 0h1m69 0h1m8 0h1m28 0h2m67 0h1m19 0h1m25 0h1m55 0h1m19 0h1m9 0h1m5 0h1m21 0h1M55 629h1m191 0h1m13 0h1m23 0h1m21 0h1m66 0h1m15 0h1m43 0h1m3 0h1m102 0h1m14 0h1m40 0h1m35 0h1m15 0h1m24 0h1m23 0h1M273 630h1m27 0h2m16 0h1m55 0h1m97 0h1m67 0h1m28 0h2m46 0h1m13 0h2m17 0h1m22 0h1M57 631h1m3 0h1m41 0h1m5 0h2m9 0h1m44 0h1m20 0h1m52 0h1m18 0h1m55 0h1m158 0h1m65 0h1M57 632h1m3 0h2m123 0h1m55 0h1m90 0h1m7 0h2m11 0h1m1 0h1m62 0h1m7 0h1m130 0h1m78 0h1m25 0h1m35 0h1M62 633h1m7 0h1m4 0h1m44 0h1m4 0h1m1 0h1m31 0h1m25 0h1m30 0h2m38 0h1m31 0h1m28 0h1m67 0h1m23 0h1m47 0h2m88 0h1m22 0h1m6 0h1m39 0h1m9 0h1m8 0h1m32 0h1M248 634h1m69 0h1m18 0h1m60 0h1m6 0h1m5 0h1m14 0h1m16 0h1m13 0h1m80 0h1m8 0h1m25 0h1m49 0h2m16 0h1m21 0h1m11 0h1m23 0h1M60 635h1m154 0h1m20 0h2m10 0h1m44 0h1m120 0h1m2 0h1m8 0h1m35 0h1m69 0h1m9 0h1m30 0h1m49 0h1m4 0h1m3 0h1m21 0h2m19 0h1m16 0h1m6 0h1M60 636h1m61 0h1m145 0h2m5 0h1m197 0h1m49 0h1m18 0h2m51 0h1m22 0h1m4 0h1m11 0h1m49 0h1m4 0h1m8 0h1M64 637h1m2 0h1m1 0h1m41 0h1m10 0h1m101 0h1m91 0h1m8 0h1m32 0h1m2 0h1m74 0h1m35 0h1m75 0h1m69 0h1m4 0h1m62 0h1m6 0h1M101 638h1m9 0h1m19 0h1m29 0h2m15 0h1m94 0h2m22 0h1m37 0h1m25 0h1m74 0h1m111 0h1m67 0h1m28 0h1m4 0h1m12 0h1M101 639h1m29 0h1m8 0h1m65 0h1m2 0h1m14 0h1m48 0h1m23 0h1m69 0h1m163 0h1m27 0h1m7 0h1m95 0h1m10 0h1M122 640h1m17 0h1m74 0h1m10 0h1m56 0h1m178 0h1m47 0h1m12 0h1m7 0h1m35 0h1m33 0h1m65 0h1m4 0h3M63 641h2m47 0h1m102 0h1m10 0h1m3 0h1m37 0h2m39 0h1m38 0h1m25 0h2m19 0h1m114 0h1m46 0h1m15 0h1m27 0h1m23 0h1m4 0h1m3 0h1m1 0h1m30 0h1m18 0h1M59 642h1m2 0h1m6 0h1m198 0h1m73 0h2m81 0h1m5 0h1m182 0h1m10 0h1m4 0h1m22 0h1m3 0h1m19 0h1m4 0h1m1 0h1m1 0h2M59 643h1m16 0h1m27 0h1m27 0h1m7 0h1m62 0h2m52 0h1m125 0h1m36 0h1m10 0h1m38 0h1m104 0h1m61 0h1m31 0h1m5 0h1m3 0h1m2 0h1M54 644h1m33 0h1m8 0h1m34 0h1m7 0h1m62 0h1m53 0h1m27 0h2m25 0h1m22 0h1m38 0h1m63 0h2m30 0h1m49 0h1m53 0h1m48 0h1m24 0h1m20 0h1m5 0h1M54 645h1m19 0h1m7 0h1m14 0h1m15 0h1m9 0h1m33 0h2m104 0h1m68 0h1m10 0h2m40 0h1m11 0h1m40 0h1m20 0h1m9 0h1m40 0h1m9 0h1m57 0h1m3 0h1m91 0h1m17 0h1M68 646h1m3 0h1m25 0h1m9 0h1m14 0h1m52 0h1m29 0h1m61 0h2m90 0h1m25 0h1m17 0h1m27 0h1m23 0h1m77 0h1m57 0h1m17 0h1m63 0h1M68 647h1m2 0h1m23 0h1m2 0h1m26 0h1m18 0h1m70 0h1m20 0h1m269 0h1m24 0h2m22 0h1m28 0h2m66 0h1m22 0h1m16 0h1M120 648h2m22 0h1m91 0h1m99 0h1m55 0h1m34 0h1m11 0h1m66 0h1m23 0h1m24 0h1m54 0h1m2 0h1m61 0h1m16 0h1M63 649h1m38 0h1m42 0h1m72 0h1m12 0h1m9 0h1m188 0h1m24 0h1m5 0h1m43 0h1m3 0h1m23 0h1m120 0h1m12 0h1M59 650h1m3 0h1m5 0h1m18 0h1m51 0h2m99 0h1m21 0h1m23 0h1m1 0h1m225 0h1m61 0h1m109 0h1m8 0h1m1 0h2M54 651h1m4 0h1m10 0h2m64 0h1m14 0h2m27 0h1m10 0h1m9 0h1m4 0h1m54 0h1m1 0h1m83 0h1m23 0h1m23 0h1m112 0h1m7 0h1m22 0h1m94 0h1m1 0h1m14 0h1m2 0h1M54 652h1m17 0h1m63 0h1m32 0h1m10 0h1m25 0h1m4 0h2m39 0h1m62 0h1m55 0h1m52 0h1m91 0h1m7 0h1m119 0h1m15 0h1m13 0h1M88 653h2m2 0h2m2 0h1m47 0h1m49 0h1m3 0h2m44 0h1m23 0h1m10 0h1m77 0h1m63 0h2m87 0h2m22 0h1m1 0h1m46 0h1m9 0h1m24 0h1m20 0h1m11 0h1m11 0h1m2 0h1m11 0h1M59 654h1m28 0h1m1 0h1m2 0h1m16 0h1m10 0h1m76 0h1m75 0h2m36 0h1m3 0h1m89 0h1m59 0h1m69 0h1m54 0h1m13 0h1m30 0h1m2 0h1m23 0h1m32 0h1M56 655h1m2 0h1m30 0h1m1 0h1m27 0h1m17 0h1m12 0h1m27 0h1m105 0h1m131 0h1m77 0h1m47 0h1m47 0h1m71 0h1m23 0h1M76 656h1m15 0h1m27 0h1m196 0h1m85 0h1m60 0h1m57 0h1m20 0h1m25 0h1m44 0h1m72 0h1M54 657h1m46 0h1m52 0h1m3 0h1m35 0h1m2 0h1m68 0h1m2 0h1m18 0h1m80 0h1m8 0h1m51 0h1m15 0h1m36 0h1m38 0h1m5 0h1m78 0h2m9 0h1m32 0h2M83 658h1m17 0h1m71 0h2m87 0h1m6 0h1m61 0h1m24 0h2m170 0h1m12 0h1m74 0h1m1 0h1m5 0h1m3 0h1M76 659h1m14 0h1m82 0h1m80 0h1m2 0h1m58 0h1m49 0h1m119 0h1m18 0h1m10 0h1m43 0h2m22 0h1m11 0h1m76 0h2M76 660h1m52 0h1m11 0h1m23 0h1m8 0h1m83 0h1m31 0h1m12 0h2m175 0h1m12 0h1m24 0h1m18 0h1m62 0h1m35 0h1m11 0h1m27 0h1m16 0h1m2 0h1M84 661h1m44 0h2m43 0h1m23 0h1m25 0h1m45 0h1m205 0h1m60 0h1m95 0h1m2 0h1m28 0h1M179 662h1m4 0h1m68 0h1m43 0h1m44 0h1m12 0h1m135 0h1m13 0h1m14 0h1m48 0h1m9 0h1m54 0h1m14 0h1m6 0h1m39 0h1M56 663h2m120 0h1m5 0h1m10 0h1m70 0h1m51 0h1m23 0h1m12 0h1m12 0h1m5 0h1m58 0h1m42 0h1m10 0h1m42 0h1m21 0h1m23 0h2m1 0h1m23 0h1m7 0h1m20 0h1m23 0h1M53 664h1m2 0h1m19 0h1m10 0h1m35 0h1m8 0h1m38 0h1m26 0h1m41 0h1m17 0h1m115 0h1m112 0h1m42 0h1m24 0h1m73 0h1m58 0h1m3 0h1M76 665h1m33 0h2m11 0h1m10 0h1m24 0h1m47 0h1m78 0h1m65 0h1m28 0h1m34 0h2m10 0h1m121 0h3m75 0h2m4 0h1m6 0h1m4 0h1m6 0h1m10 0h1m7 0h1m19 0h2M67 666h1m34 0h1m19 0h1m78 0h1m5 0h1m40 0h1m85 0h1m34 0h1m7 0h1m38 0h1m58 0h1m55 0h1m18 0h1m26 0h1m39 0h1m10 0h1m12 0h1m50 0h1M151 667h1m4 0h1m31 0h1m1 0h2m16 0h1m64 0h2m95 0h1m46 0h1m98 0h1m28 0h1m1 0h1m13 0h1m27 0h1m40 0h1M111 668h1m39 0h1m55 0h1m133 0h2m74 0h2m7 0h1m89 0h1m30 0h1m5 0h1m37 0h1m38 0h2M75 669h1m32 0h1m41 0h1m38 0h1m17 0h1m57 0h1m50 0h1m4 0h1m57 0h1m80 0h1m134 0h1m1 0h1m33 0h1m36 0h2m3 0h2M81 670h1m76 0h2m29 0h2m53 0h1m20 0h1m31 0h1m18 0h1m4 0h1m33 0h2m63 0h1m22 0h1m92 0h2m72 0h1m28 0h1m28 0h2m3 0h1m10 0h1m13 0h1M89 671h1m23 0h1m31 0h1m12 0h1m53 0h1m5 0h1m42 0h2m5 0h1m28 0h1m16 0h1m128 0h1m28 0h1m11 0h1m37 0h1m14 0h1m7 0h1m85 0h1m15 0h1m1 0h1M139 672h1m7 0h1m18 0h1m5 0h1m88 0h1m29 0h1m22 0h1m30 0h1m10 0h1m127 0h1m37 0h1m39 0h1m29 0h1m6 0h1m31 0h1m30 0h1m29 0h1M54 673h1m17 0h1m15 0h1m42 0h1m7 0h1m16 0h1m27 0h2m107 0h1m62 0h1m3 0h1m43 0h1m187 0h1m53 0h1m11 0h1m33 0h1M54 674h1m29 0h1m73 0h1m25 0h2m48 0h1m1 0h1m56 0h1m15 0h1m17 0h1m26 0h1m7 0h1m160 0h1m3 0h1m9 0h1m54 0h1m45 0h1m30 0h1m14 0h1m1 0h2m3 0h1M77 675h1m6 0h1m17 0h1m35 0h1m19 0h1m54 0h1m53 0h1m5 0h2m6 0h1m63 0h1m8 0h1m12 0h1m49 0h1m174 0h1m22 0h1m35 0h1m13 0h1M138 676h1m84 0h1m4 0h2m10 0h1m20 0h1m11 0h1m20 0h1m134 0h1m198 0h1m28 0h1m7 0h1M60 677h2m101 0h1m59 0h1m7 0h1m5 0h1m2 0h1m15 0h1m2 0h1m15 0h1m33 0h1m47 0h2m10 0h1m43 0h1m16 0h1m143 0h1m19 0h1m3 0h2m11 0h1m16 0h1m29 0h1m11 0h1m5 0h1m3 0h1M52 678h1m29 0h2m31 0h1m69 0h1m26 0h1m10 0h2m28 0h1m55 0h1m2 0h1m37 0h1m8 0h1m16 0h1m8 0h1m27 0h1m97 0h1m8 0h1m53 0h1m14 0h1m13 0h1m7 0h1m50 0h2M169 679h1m39 0h1m13 0h1m16 0h1m38 0h1m8 0h1m61 0h1m8 0h1m14 0h1m9 0h1m13 0h2m84 0h1m3 0h1m2 0h1m19 0h1m32 0h1m33 0h2m31 0h1m2 0h1m22 0h1m19 0h1m38 0h1M58 680h1m47 0h1m80 0h2m63 0h1m26 0h1m1 0h1m6 0h1m8 0h2m8 0h2m12 0h1m72 0h1m21 0h1m12 0h1m1 0h1m59 0h1m38 0h1m12 0h2m33 0h1m9 0h1m18 0h2m9 0h1m55 0h2m20 0h1M130 681h1m120 0h1m4 0h1m5 0h1m138 0h1m2 0h1m44 0h1m80 0h1m12 0h1m33 0h1m29 0h1m47 0h1m10 0h1m20 0h1M88 682h1m14 0h1m4 0h2m17 0h1m2 0h1m113 0h1m35 0h1m9 0h3m86 0h1m19 0h1m1 0h1m2 0h1m44 0h1m84 0h1m98 0h1m4 0h1m36 0h1m3 0h2m1 0h1m9 0h1M54 683h1m48 0h1m10 0h1m8 0h1m51 0h1m76 0h1m24 0h1m12 0h1m62 0h1m45 0h1m6 0h1m37 0h1m54 0h1m27 0h1m118 0h1m24 0h1M54 684h1m34 0h1m10 0h2m49 0h1m5 0h1m17 0h1m18 0h1m177 0h1m46 0h1m75 0h1m31 0h1m2 0h1m48 0h1m4 0h1m45 0h1m15 0h1m24 0h1m1 0h2m4 0h1m2 0h1m9 0h1M56 685h1m43 0h1m45 0h1m18 0h1m8 0h2m29 0h1m40 0h1m50 0h1m98 0h1m13 0h1m30 0h1m137 0h1m3 0h1m78 0h1m5 0h1m13 0h1m1 0h1m6 0h1M88 686h1m43 0h1m1 0h1m9 0h1m123 0h2m21 0h1m5 0h1m42 0h1m4 0h1m22 0h1m44 0h1m59 0h1m21 0h1m19 0h1m1 0h1m26 0h1m15 0h1m11 0h1m89 0h1m33 0h1M126 687h1m9 0h1m48 0h1m82 0h1m22 0h1m5 0h1m30 0h1m16 0h1m34 0h1m73 0h1m17 0h1m42 0h1m28 0h1m8 0h1m24 0h2m53 0h2m11 0h1m42 0h1m2 0h1M83 688h2m19 0h1m111 0h1m14 0h1m47 0h1m114 0h1m34 0h1m15 0h1m54 0h1m75 0h1m20 0h1m4 0h1m2 0h1m14 0h2m16 0h1m7 0h1m4 0h1m40 0h1M64 689h1m4 0h1m56 0h2m88 0h1m10 0h1m42 0h1m35 0h1m5 0h1m11 0h1m19 0h1m148 0h1m48 0h3m27 0h1m25 0h1m3 0h1m47 0h1m11 0h1m1 0h1m20 0h2M60 690h1m20 0h1m23 0h1m20 0h1m25 0h1m4 0h1m51 0h1m17 0h1m6 0h1m35 0h1m5 0h1m35 0h1m38 0h1m38 0h1m10 0h1m149 0h1m66 0h1m19 0h1m4 0h1m4 0h1m4 0h1m8 0h1m11 0h1m24 0h1M60 691h1m14 0h1m4 0h1m75 0h1m56 0h2m27 0h1m158 0h1m57 0h1m39 0h1m31 0h1m18 0h1m67 0h1m8 0h1m10 0h1m22 0h1m37 0h1M75 692h1m5 0h1m111 0h1m70 0h1m61 0h1m23 0h1m86 0h1m5 0h1m108 0h1m17 0h1m40 0h1m61 0h1m23 0h1M52 693h1m1 0h1m21 0h1m34 0h1m134 0h1m17 0h1m36 0h1m42 0h1m98 0h1m51 0h1m49 0h1m41 0h1m30 0h1m9 0h1m2 0h1m4 0h1m16 0h2m18 0h1m12 0h1M64 694h1m39 0h1m24 0h1m7 0h1m8 0h2m11 0h1m17 0h1m2 0h1m57 0h1m4 0h1m24 0h1m5 0h1m131 0h1m180 0h1m13 0h1m3 0h1m56 0h1m23 0h1m7 0h1M81 695h1m9 0h1m18 0h1m35 0h1m2 0h1m74 0h1m43 0h1m5 0h1m10 0h1m25 0h1m29 0h1m30 0h1m172 0h1m66 0h1m6 0h1m10 0h1m54 0h1m8 0h1M149 696h1m32 0h1m35 0h1m21 0h1m27 0h1m55 0h1m10 0h1m24 0h1m2 0h1m65 0h1m6 0h1m71 0h1m12 0h1m12 0h1m8 0h1m59 0h1m6 0h1m7 0h2m26 0h1m10 0h1M55 697h1m31 0h1m12 0h1m19 0h1m24 0h1m3 0h1m1 0h1m56 0h1m12 0h1m23 0h2m84 0h1m3 0h1m4 0h1m22 0h2m55 0h1m8 0h1m72 0h1m40 0h1m18 0h1m32 0h1m36 0h1m8 0h1m19 0h1m6 0h1M88 698h1m1 0h1m31 0h1m28 0h1m6 0h1m20 0h1m28 0h1m14 0h1m22 0h1m67 0h1m49 0h1m2 0h1m177 0h1m16 0h1m11 0h2m19 0h1m2 0h1m13 0h1m19 0h1m8 0h1m33 0h1m19 0h2M121 699h1m18 0h1m1 0h1m18 0h1m53 0h1m7 0h1m43 0h1m29 0h2m14 0h1m22 0h1m30 0h1m22 0h1m75 0h1m26 0h1m48 0h2m1 0h1m1 0h1m15 0h1m41 0h1m70 0h1M56 700h1m65 0h1m17 0h1m18 0h1m86 0h1m40 0h1m38 0h1m1 0h1m13 0h1m26 0h1m40 0h1m7 0h1m10 0h1m1 0h1m44 0h1m29 0h1m76 0h1m62 0h1m4 0h1m22 0h1m21 0h1M52 701h1m25 0h1m45 0h1m1 0h1m18 0h1m4 0h1m2 0h1m5 0h1m24 0h2m53 0h1m31 0h1m14 0h1m62 0h1m60 0h1m7 0h1m10 0h1m12 0h1m29 0h1m3 0h1m8 0h1m20 0h1m15 0h1m18 0h1m18 0h1m7 0h1m14 0h1m62 0h1m11 0h1m4 0h1m10 0h1m8 0h1m7 0h1M69 702h1m8 0h1m47 0h2m6 0h1m18 0h1m30 0h1m55 0h1m47 0h1m73 0h1m10 0h2m7 0h1m29 0h1m8 0h1m7 0h1m12 0h1m11 0h2m3 0h1m25 0h1m1 0h1m22 0h1m19 0h1m26 0h1m2 0h1m13 0h2m24 0h1m24 0h1m28 0h1m8 0h1m12 0h1m6 0h1m2 0h2m3 0h1M55 703h1m71 0h1m25 0h1m104 0h1m14 0h1m59 0h1m32 0h1m6 0h1m13 0h1m20 0h1m11 0h1m66 0h1m6 0h1m27 0h1m32 0h1m1 0h1m11 0h1m5 0h1m15 0h1m50 0h1m33 0h1m1 0h1m6 0h1m1 0h1M121 704h1m5 0h1m48 0h1m15 0h1m4 0h1m29 0h1m44 0h1m40 0h1m42 0h1m13 0h1m55 0h1m67 0h1m2 0h2m70 0h1m37 0h1m34 0h1m25 0h1M57 705h1m89 0h1m26 0h1m61 0h1m30 0h1m108 0h1m78 0h1m53 0h1m71 0h2m79 0h1m2 0h1m2 0h1m5 0h1M66 706h1m3 0h1m2 0h2m3 0h1m1 0h1m30 0h1m57 0h1m4 0h1m3 0h2m7 0h1m15 0h1m2 0h1m8 0h1m13 0h1m35 0h1m1 0h1m21 0h2m51 0h1m120 0h1m11 0h1m175 0h1m11 0h1m7 0h1m1 0h2m7 0h1m13 0h1M54 707h1m11 0h1m45 0h1m7 0h2m5 0h1m2 0h2m21 0h1m15 0h1m31 0h1m1 0h1m11 0h1m6 0h1m82 0h1m36 0h1m22 0h1m12 0h1m4 0h1m30 0h1m84 0h1m146 0h1m16 0h1m18 0h1m10 0h1m2 0h1m1 0h1M53 708h1m35 0h1m3 0h1m18 0h1m46 0h2m47 0h1m19 0h1m81 0h1m54 0h1m15 0h1m22 0h1m3 0h1m11 0h1m10 0h1m28 0h1m8 0h1m12 0h1m11 0h1m12 0h1m7 0h1m42 0h1m51 0h1m21 0h1m1 0h1m13 0h1m1 0h1m11 0h1m3 0h1m12 0h1m18 0h1M86 709h1m2 0h1m5 0h1m18 0h2m17 0h1m20 0h1m78 0h1m30 0h1m9 0h1m28 0h1m33 0h1m27 0h1m15 0h1m19 0h1m8 0h1m2 0h1m17 0h1m41 0h1m77 0h1m53 0h1m9 0h1m8 0h1m9 0h2m14 0h1m20 0h1m17 0h1m3 0h1M89 710h1m34 0h1m10 0h1m14 0h1m28 0h1m12 0h1m35 0h1m11 0h2m30 0h1m1 0h1m7 0h1m20 0h1m5 0h1m21 0h1m67 0h1m9 0h1m1 0h1m20 0h2m106 0h2m6 0h1m5 0h1m72 0h1m3 0h1m28 0h2m16 0h1m1 0h1m3 0h1m4 0h2m2 0h1M95 711h1m33 0h1m5 0h1m60 0h1m3 0h1m11 0h1m2 0h1m51 0h1m19 0h1m35 0h1m4 0h1m3 0h1m17 0h1m13 0h1m176 0h1m6 0h1m5 0h1m4 0h1m5 0h1m13 0h1m7 0h1m1 0h1m14 0h1m41 0h1m27 0h1m5 0h1M57 712h1m11 0h1m10 0h1m6 0h1m1 0h1m83 0h1m15 0h1m6 0h1m2 0h2m51 0h1m2 0h2m18 0h1m38 0h2m94 0h1m19 0h1m24 0h1m5 0h2m4 0h1m29 0h2m1 0h1m81 0h1m6 0h1m14 0h1m15 0h1m27 0h1m24 0h1m5 0h1m6 0h1m2 0h1M54 713h1m25 0h1m6 0h1m1 0h1m15 0h1m25 0h1m41 0h1m10 0h1m4 0h1m82 0h1m26 0h2m6 0h1m5 0h1m19 0h1m38 0h1m5 0h1m56 0h1m13 0h1m11 0h1m5 0h1m8 0h1m34 0h1m9 0h1m41 0h1m10 0h1m7 0h1m30 0h1m22 0h1m6 0h2m40 0h2m2 0h1m7 0h1M81 714h1m31 0h1m39 0h1m11 0h1m16 0h1m36 0h1m4 0h1m47 0h1m6 0h1m33 0h1m19 0h1m4 0h1m8 0h1m22 0h1m1 0h1m23 0h2m22 0h1m9 0h1m4 0h1m1 0h1m22 0h2m40 0h1m48 0h1m8 0h1m22 0h1m8 0h1m10 0h2m26 0h1m4 0h1m36 0h1m11 0h1m10 0h3M81 715h1m7 0h1m8 0h1m54 0h1m9 0h2m5 0h1m11 0h1m50 0h1m88 0h1m18 0h2m3 0h1m50 0h1m25 0h1m13 0h1m9 0h1m12 0h1m19 0h1m1 0h1m27 0h1m3 0h1m32 0h1m1 0h2m7 0h1m6 0h1m23 0h1m2 0h2m10 0h1m44 0h1m27 0h1m7 0h1m1 0h1m5 0h1m2 0h2M84 716h1m24 0h1m2 0h1m1 0h1m11 0h2m23 0h1m1 0h1m6 0h2m1 0h1m89 0h1m9 0h1m3 0h1m32 0h1m17 0h1m3 0h1m23 0h2m16 0h1m17 0h1m17 0h1m9 0h1m1 0h1m10 0h1m58 0h1m1 0h2m11 0h1m33 0h1m17 0h1m3 0h2m7 0h2m36 0h1m29 0h1m10 0h1m7 0h1m7 0h1m17 0h1m16 0h2m3 0h1M114 717h2m11 0h1m24 0h2m10 0h1m148 0h1m21 0h2m7 0h1m10 0h1m8 0h1m17 0h1m6 0h1m11 0h1m4 0h1m35 0h1m41 0h1m71 0h1m12 0h1m11 0h1m18 0h1m62 0h1m6 0h1m4 0h1m3 0h1m2 0h1m4 0h1m8 0h1M52 718h1m42 0h1m24 0h1m6 0h1m20 0h1m2 0h3m45 0h1m12 0h2m12 0h1m20 0h1m10 0h1m14 0h1m17 0h1m53 0h1m1 0h1m40 0h2m8 0h1m17 0h1m17 0h1m45 0h1m36 0h1m3 0h1m47 0h1m13 0h1m22 0h1m11 0h1m7 0h1m1 0h1m45 0h1m4 0h1m8 0h1m3 0h1M68 719h2m6 0h1m18 0h2m1 0h1m9 0h1m3 0h1m16 0h1m29 0h1m19 0h1m32 0h1m11 0h1m1 0h1m6 0h1m9 0h1m24 0h1m1 0h1m3 0h1m13 0h1m2 0h1m44 0h1m8 0h1m1 0h1m11 0h1m4 0h1m22 0h1m82 0h1m51 0h1m50 0h1m3 0h1m23 0h1m17 0h2m11 0h1m1 0h1m22 0h1m25 0h1m2 0h1M92 720h1m3 0h1m11 0h1m14 0h1m10 0h1m6 0h1m11 0h1m5 0h2m55 0h1m10 0h2m7 0h1m30 0h1m2 0h1m31 0h2m10 0h1m4 0h1m6 0h1m25 0h1m6 0h1m2 0h1m27 0h1m26 0h1m4 0h1m11 0h1m34 0h1m1 0h1m82 0h1m9 0h1m37 0h1m1 0h1m29 0h1m18 0h1m2 0h2m17 0h1m4 0h1m11 0h1M75 721h2m3 0h1m5 0h1m15 0h1m17 0h1m45 0h1m24 0h1m2 0h1m11 0h1m20 0h1m3 0h1m7 0h1m27 0h2m57 0h1m33 0h1m41 0h1m6 0h1m52 0h1m41 0h2m4 0h1m7 0h1m2 0h1m36 0h1m5 0h1m35 0h1m1 0h1m27 0h1m25 0h1m6 0h1m34 0h1M65 722h1m64 0h1m7 0h2m26 0h1m18 0h1m11 0h1m9 0h1m15 0h1m10 0h1m1 0h1m7 0h1m28 0h1m9 0h1m3 0h1m3 0h1m36 0h1m73 0h1m33 0h1m61 0h1m31 0h1m20 0h2m5 0h2m45 0h2m3 0h1m9 0h1m7 0h1m2 0h2m3 0h1m1 0h1m19 0h1m3 0h1m15 0h2m5 0h1m7 0h1m2 0h1M65 723h1m16 0h1m20 0h1m15 0h1m10 0h1m7 0h1m52 0h1m9 0h1m5 0h2m25 0h1m21 0h1m16 0h1m3 0h1m29 0h2m6 0h1m12 0h2m33 0h1m11 0h1m53 0h1m22 0h1m5 0h2m8 0h1m34 0h1m12 0h2m2 0h1m16 0h1m19 0h1m14 0h1m28 0h2m2 0h1m7 0h1m16 0h2m6 0h1m8 0h1m3 0h1m3 0h1m1 0h2m4 0h1m11 0h1m2 0h2m1 0h1m8 0h1m1 0h1M60 724h1m15 0h1m5 0h1m3 0h1m16 0h1m7 0h1m9 0h1m4 0h2m3 0h1m6 0h1m12 0h3m37 0h1m2 0h1m6 0h1m5 0h1m32 0h1m26 0h1m5 0h1m1 0h2m6 0h1m18 0h1m2 0h1m13 0h1m43 0h1m39 0h1m14 0h2m9 0h1m12 0h1m9 0h1m49 0h1m33 0h2m6 0h1m60 0h1m7 0h1m2 0h1m9 0h1m3 0h1m2 0h1m4 0h1m6 0h1m11 0h1m4 0h1m1 0h1m9 0h2m3 0h1m6 0h1m1 0h1m1 0h1m2 0h1M72 725h1m11 0h1m25 0h2m14 0h2m11 0h1m10 0h3m9 0h1m33 0h1m15 0h1m27 0h2m8 0h1m9 0h1m24 0h1m19 0h2m15 0h1m10 0h1m1 0h1m3 0h1m17 0h1m4 0h1m4 0h1m23 0h1m3 0h2m5 0h2m1 0h1m1 0h1m22 0h1m139 0h1m22 0h1m18 0h1m2 0h1m14 0h1m5 0h3m6 0h1m11 0h2m6 0h2m2 0h1m4 0h2m4 0h1m4 0h1m8 0h1m1 0h2M52 726h1m1 0h1m6 0h2m13 0h1m5 0h1m27 0h1m15 0h1m21 0h1m6 0h2m3 0h1m7 0h1m2 0h1m26 0h1m15 0h2m24 0h1m3 0h1m4 0h1m2 0h1m5 0h1m8 0h1m17 0h1m7 0h2m13 0h1m10 0h1m37 0h1m9 0h1m18 0h1m4 0h1m10 0h2m4 0h1m5 0h1m9 0h1m1 0h1m1 0h2m14 0h1m14 0h2m32 0h1m21 0h2m10 0h2m7 0h1m6 0h2m25 0h1m2 0h1m4 0h1m7 0h1m2 0h1m15 0h1m12 0h1m18 0h1m7 0h2m16 0h3m1 0h1m7 0h1m8 0h1m8 0h1M54 727h1m1 0h2m3 0h1m14 0h1m27 0h1m17 0h1m4 0h1m8 0h1m11 0h1m22 0h3m5 0h1m2 0h1m2 0h1m5 0h1m22 0h3m7 0h2m2 0h1m10 0h1m3 0h3m12 0h1m8 0h1m3 0h1m4 0h1m8 0h1m2 0h1m5 0h1m4 0h1m13 0h1m4 0h2m11 0h1m14 0h1m23 0h2m2 0h1m3 0h1m18 0h1m4 0h1m2 0h1m3 0h1m14 0h1m11 0h1m3 0h1m3 0h2m38 0h1m6 0h1m20 0h1m30 0h1m6 0h2m13 0h1m2 0h1m4 0h1m3 0h1m1 0h1m11 0h1m1 0h1m25 0h1m4 0h1m8 0h1m6 0h1m1 0h1m7 0h1m1 0h1m2 0h1m7 0h1m8 0h1m2 0h1m1 0h1m6 0h1m1 0h1m3 0h1m1 0h1m2 0h2M57 728h1m5 0h1m4 0h1m7 0h1m9 0h1m9 0h3m5 0h1m18 0h1m5 0h1m21 0h1m2 0h3m16 0h1m5 0h1m6 0h1m5 0h1m10 0h2m1 0h1m8 0h1m6 0h3m13 0h1m13 0h1m24 0h1m7 0h1m8 0h2m2 0h1m9 0h2m16 0h1m5 0h2m6 0h3m9 0h2m19 0h1m30 0h2m6 0h1m16 0h1m14 0h2m13 0h1m24 0h1m8 0h1m8 0h1m5 0h1m1 0h1m1 0h2m6 0h1m3 0h1m6 0h1m1 0h1m6 0h1m5 0h1m18 0h2m5 0h4m1 0h1m21 0h1m14 0h1m1 0h1m1 0h2m9 0h1m3 0h1m1 0h1m5 0h1m3 0h1m30 0h2m15 0h1m1 0h1M54 729h1m13 0h1m5 0h1m12 0h1m8 0h1m3 0h1m4 0h1m15 0h3m12 0h1m14 0h1m3 0h1m7 0h1m2 0h2m2 0h1m21 0h1m6 0h1m2 0h1m13 0h1m1 0h1m25 0h1m1 0h1m13 0h1m8 0h2m4 0h1m5 0h1m3 0h1m1 0h1m4 0h1m1 0h1m2 0h1m17 0h1m3 0h1m21 0h2m5 0h1m4 0h1m18 0h1m39 0h1m10 0h1m4 0h1m21 0h1m17 0h1m7 0h1m16 0h1m14 0h1m1 0h1m10 0h2m19 0h1m3 0h3m16 0h1m2 0h1m1 0h1m6 0h1m23 0h1m2 0h2m7 0h1m2 0h3m10 0h1m4 0h1m5 0h2m4 0h1m7 0h1m6 0h1m1 0h2m9 0h2m3 0h1m2 0h1m2 0h2m4 0h1m1 0h1m1 0h2M59 730h1m2 0h2m25 0h1m8 0h1m7 0h1m4 0h1m9 0h2m13 0h2m2 0h2m10 0h1m4 0h1m2 0h1m30 0h1m10 0h1m2 0h1m2 0h1m5 0h1m12 0h1m10 0h1m5 0h1m12 0h1m9 0h1m8 0h2m3 0h1m12 0h1m18 0h2m10 0h1m32 0h1m5 0h1m19 0h1m4 0h2m18 0h1m13 0h1m44 0h1m11 0h1m37 0h1m9 0h1m2 0h1m1 0h1m2 0h1m5 0h1m2 0h1m2 0h1m2 0h1m1 0h1m7 0h1m2 0h1m3 0h1m5 0h1m3 0h2m2 0h1m19 0h1m2 0h1m5 0h1m4 0h1m1 0h1m4 0h1m10 0h1m3 0h4m7 0h1m6 0h1m1 0h1m4 0h2m2 0h2m1 0h1m4 0h1m1 0h1m1 0h1m6 0h1m5 0h2m1 0h2m1 0h2M51 731h1m1 0h2m7 0h1m5 0h1m2 0h1m11 0h1m2 0h1m12 0h1m2 0h1m8 0h1m2 0h1m11 0h1m9 0h1m3 0h1m18 0h2m5 0h1m7 0h2m10 0h1m3 0h1m6 0h1m6 0h1m13 0h1m3 0h1m15 0h1m6 0h2m5 0h1m4 0h1m17 0h1m6 0h1m6 0h1m13 0h1m4 0h1m1 0h1m4 0h1m1 0h1m11 0h1m2 0h1m4 0h1m20 0h1m6 0h1m10 0h1m4 0h1m4 0h1m14 0h1m15 0h1m6 0h2m13 0h1m2 0h2m44 0h1m14 0h1m16 0h1m9 0h2m3 0h1m8 0h1m6 0h1m2 0h1m6 0h1m4 0h6m7 0h1m2 0h1m16 0h1m13 0h1m4 0h1m8 0h1m2 0h1m4 0h2m2 0h1m1 0h3m1 0h2m7 0h1m1 0h2m1 0h1m2 0h1m2 0h1m8 0h1m1 0h1m3 0h1m2 0h1m8 0h3m1 0h1M54 732h1m4 0h1m4 0h1m11 0h1m3 0h2m4 0h1m9 0h1m2 0h1m7 0h1m6 0h1m1 0h1m1 0h1m1 0h1m1 0h1m5 0h1m9 0h1m1 0h1m5 0h1m5 0h2m5 0h1m5 0h1m19 0h2m1 0h1m5 0h1m8 0h2m9 0h1m3 0h1m5 0h1m8 0h1m18 0h1m4 0h1m9 0h1m4 0h1m7 0h1m1 0h1m2 0h1m21 0h1m2 0h1m18 0h1m5 0h1m5 0h1m10 0h1m10 0h1m15 0h1m6 0h1m2 0h1m6 0h1m5 0h1m1 0h1m19 0h1m26 0h2m3 0h1m23 0h1m20 0h3m9 0h1m2 0h1m11 0h1m11 0h1m1 0h2m3 0h1m14 0h1m3 0h1m3 0h1m7 0h1m3 0h1m2 0h1m6 0h1m5 0h1m3 0h2m6 0h1m1 0h1m3 0h1m3 0h2m2 0h1m1 0h2m4 0h1m4 0h2m1 0h2m2 0h1m5 0h2m2 0h1m1 0h2m7 0h1m3 0h1m1 0h1m1 0h4m2 0h1m2 0h1m5 0h1m7 0h3M59 733h1m4 0h1m4 0h1m1 0h1m8 0h1m4 0h2m1 0h1m1 0h1m8 0h1m20 0h1m1 0h3m4 0h1m3 0h1m4 0h1m6 0h1m6 0h2m2 0h3m2 0h1m1 0h1m1 0h1m3 0h1m16 0h3m1 0h1m1 0h1m8 0h2m30 0h1m5 0h1m3 0h1m1 0h2m6 0h2m20 0h1m2 0h1m7 0h2m11 0h1m5 0h1m3 0h2m17 0h1m4 0h1m28 0h1m2 0h1m32 0h2m7 0h1m8 0h1m7 0h1m23 0h1m26 0h1m6 0h1m10 0h2m4 0h1m11 0h1m8 0h1m1 0h1m3 0h1m3 0h2m5 0h1m6 0h2m9 0h1m8 0h1m20 0h1m1 0h1m4 0h1m7 0h1m2 0h1m1 0h1m6 0h1m11 0h1m1 0h3m9 0h1m11 0h2m5 0h1m6 0h3m1 0h1m2 0h2m1 0h3m1 0h3m2 0h1m1 0h2m3 0h1m2 0h1m2 0h1m2 0h1M57 734h1m2 0h1m11 0h1m3 0h2m4 0h1m2 0h1m3 0h2m1 0h1m1 0h1m6 0h1m1 0h1m7 0h1m1 0h1m6 0h1m3 0h1m1 0h2m5 0h2m3 0h1m10 0h2m2 0h2m1 0h2m1 0h1m7 0h1m10 0h1m3 0h1m4 0h2m2 0h1m4 0h1m1 0h1m16 0h1m2 0h1m8 0h1m4 0h1m1 0h1m8 0h3m2 0h1m4 0h1m6 0h1m6 0h1m6 0h1m1 0h1m7 0h2m3 0h2m2 0h1m14 0h1m10 0h1m2 0h2m6 0h1m10 0h1m11 0h1m7 0h2m15 0h1m7 0h1m5 0h1m4 0h1m26 0h1m1 0h1m2 0h1m28 0h1m13 0h1m16 0h1m3 0h1m11 0h1m3 0h1m4 0h1m5 0h1m12 0h2m1 0h1m2 0h2m1 0h1m2 0h1m1 0h1m3 0h3m2 0h1m1 0h1m1 0h1m2 0h2m5 0h1m10 0h2m4 0h1m5 0h1m5 0h1m3 0h1m1 0h1m2 0h1m2 0h1m4 0h1m1 0h1m2 0h1m3 0h2m5 0h3m1 0h2m3 0h1m2 0h1m1 0h1m1 0h1m2 0h1m5 0h2m1 0h1m1 0h2m1 0h1m1 0h1m2 0h1m4 0h1m4 0h2m4 0h1m4 0h2m2 0h5M53 735h2m5 0h1m2 0h2m2 0h1m4 0h1m14 0h2m8 0h1m2 0h1m2 0h1m14 0h1m1 0h1m4 0h1m4 0h1m8 0h1m1 0h1m4 0h1m3 0h1m3 0h1m8 0h2m1 0h1m19 0h2m6 0h1m6 0h1m3 0h1m2 0h1m4 0h1m4 0h1m2 0h1m1 0h1m3 0h1m8 0h1m3 0h2m2 0h1m4 0h1m15 0h1m11 0h1m4 0h1m1 0h1m5 0h1m11 0h1m11 0h1m5 0h1m18 0h1m1 0h2m7 0h1m12 0h1m4 0h1m11 0h1m17 0h1m13 0h1m3 0h1m2 0h1m4 0h1m5 0h1m11 0h2m13 0h1m3 0h1m4 0h1m6 0h2m5 0h1m5 0h1m9 0h1m2 0h1m6 0h1m4 0h1m5 0h1m6 0h1m4 0h1m3 0h2m5 0h2m4 0h2m7 0h1m2 0h1m4 0h1m4 0h1m4 0h2m2 0h1m1 0h1m11 0h1m1 0h3m5 0h1m2 0h1m1 0h1m2 0h2m10 0h1m1 0h2m2 0h2m3 0h1m1 0h1m2 0h1m1 0h1m2 0h1m5 0h1m2 0h1m2 0h2m4 0h1m1 0h1m4 0h7m5 0h2m3 0h10m2 0h3M52 736h1m7 0h1m2 0h1m3 0h2m3 0h2m2 0h1m1 0h1m9 0h1m13 0h1m11 0h1m2 0h1m4 0h1m2 0h1m8 0h1m4 0h1m3 0h1m2 0h1m2 0h1m2 0h1m3 0h1m5 0h1m2 0h2m16 0h1m3 0h2m16 0h1m7 0h1m9 0h1m2 0h1m3 0h1m5 0h1m3 0h2m9 0h2m3 0h1m1 0h1m14 0h1m3 0h1m6 0h1m12 0h1m3 0h1m4 0h1m10 0h1m16 0h1m3 0h1m8 0h1m9 0h1m19 0h1m1 0h1m7 0h1m8 0h1m4 0h1m5 0h2m12 0h1m6 0h2m2 0h1m2 0h2m10 0h1m7 0h1m10 0h1m6 0h2m5 0h1m17 0h1m9 0h1m1 0h2m7 0h1m1 0h1m1 0h1m1 0h1m4 0h1m6 0h1m4 0h3m1 0h2m5 0h1m1 0h1m2 0h1m2 0h1m1 0h1m4 0h1m22 0h2m1 0h2m2 0h2m5 0h1m10 0h4m3 0h1m4 0h2m4 0h1m2 0h2m1 0h3m1 0h3m1 0h3m2 0h3m1 0h1m1 0h2m1 0h2m4 0h1m2 0h1m1 0h1m1 0h1m1 0h1m9 0h1m2 0h1m1 0h1m5 0h1M52 737h1m1 0h1m4 0h1m1 0h2m6 0h1m4 0h1m1 0h1m2 0h1m6 0h1m5 0h1m2 0h2m12 0h1m2 0h2m1 0h1m3 0h1m6 0h1m7 0h1m8 0h1m5 0h1m2 0h2m1 0h1m3 0h2m5 0h1m1 0h1m2 0h1m4 0h1m2 0h1m1 0h1m9 0h1m19 0h1m1 0h1m6 0h1m22 0h1m3 0h1m1 0h1m8 0h1m3 0h2m3 0h1m6 0h1m13 0h1m7 0h1m14 0h1m2 0h2m9 0h1m7 0h1m6 0h1m6 0h1m7 0h2m2 0h1m2 0h1m12 0h1m3 0h1m1 0h1m5 0h2m4 0h1m5 0h1m5 0h2m1 0h1m4 0h1m12 0h1m2 0h1m14 0h1m16 0h1m11 0h1m12 0h1m1 0h1m24 0h2m1 0h1m4 0h4m3 0h1m1 0h2m9 0h1m2 0h1m6 0h1m2 0h2m15 0h1m3 0h1m11 0h1m2 0h1m3 0h1m3 0h1m3 0h4m4 0h1m5 0h1m2 0h3m10 0h1m3 0h3m3 0h3m1 0h1m1 0h2m4 0h1m1 0h1m11 0h2m1 0h5m2 0h3m1 0h1m2 0h1m1 0h1m3 0h2m1 0h3m1 0h2M53 738h2m1 0h1m4 0h1m2 0h1m20 0h2m7 0h1m4 0h1m3 0h1m4 0h1m2 0h1m8 0h1m8 0h2m1 0h2m2 0h1m4 0h1m1 0h1m7 0h1m5 0h1m4 0h1m18 0h1m8 0h1m10 0h1m2 0h1m2 0h2m2 0h1m2 0h1m4 0h2m7 0h2m14 0h1m7 0h1m8 0h1m6 0h1m3 0h1m10 0h1m10 0h1m2 0h1m7 0h1m14 0h1m9 0h1m10 0h1m2 0h1m11 0h1m15 0h1m11 0h1m13 0h1m5 0h1m1 0h1m17 0h1m6 0h1m21 0h2m31 0h1m1 0h1m1 0h2m4 0h1m5 0h2m6 0h1m3 0h1m13 0h1m11 0h1m4 0h1m7 0h2m5 0h2m7 0h1m1 0h1m3 0h1m9 0h2m3 0h1m19 0h1m7 0h1m6 0h1m5 0h1m8 0h1m4 0h1m2 0h1m1 0h1m1 0h3m1 0h1m6 0h1m2 0h2m1 0h1m3 0h1m4 0h1m5 0h1m1 0h2m4 0h2m2 0h3M56 739h1m7 0h2m4 0h1m3 0h2m4 0h1m8 0h1m12 0h1m5 0h1m7 0h2m2 0h1m4 0h1m3 0h1m4 0h1m2 0h1m7 0h2m6 0h1m4 0h2m13 0h1m3 0h1m1 0h1m7 0h1m2 0h2m2 0h1m11 0h2m15 0h1m1 0h1m1 0h1m7 0h1m12 0h1m2 0h1m2 0h1m3 0h1m4 0h1m5 0h1m4 0h1m9 0h1m4 0h1m6 0h1m2 0h1m1 0h1m1 0h1m20 0h1m11 0h1m9 0h1m43 0h1m2 0h1m1 0h1m48 0h1m25 0h1m11 0h1m1 0h1m2 0h1m3 0h1m5 0h1m2 0h1m1 0h1m6 0h1m6 0h1m2 0h1m1 0h1m8 0h1m2 0h1m1 0h1m1 0h1m7 0h1m2 0h1m1 0h1m2 0h1m1 0h1m5 0h2m7 0h1m4 0h2m6 0h1m8 0h1m7 0h1m2 0h1m15 0h1m1 0h1m2 0h1m1 0h1m3 0h1m3 0h1m5 0h3m3 0h1m2 0h1m1 0h1m1 0h1m2 0h1m2 0h1m1 0h2m2 0h1m1 0h4m1 0h2m1 0h1m2 0h1m3 0h1m1 0h1m4 0h1m1 0h1m2 0h1m2 0h2M55 740h1m3 0h1m10 0h1m10 0h1m3 0h2m4 0h2m2 0h1m4 0h1m5 0h1m1 0h1m7 0h1m6 0h1m5 0h1m6 0h1m9 0h1m12 0h2m2 0h1m4 0h1m1 0h1m20 0h1m8 0h1m7 0h2m6 0h1m3 0h1m2 0h1m1 0h1m1 0h1m1 0h1m5 0h1m4 0h1m1 0h1m2 0h2m5 0h1m1 0h2m4 0h1m6 0h1m1 0h1m2 0h1m13 0h1m2 0h1m21 0h1m1 0h2m2 0h2m1 0h1m14 0h1m2 0h1m7 0h1m4 0h1m97 0h1m7 0h1m2 0h1m1 0h1m5 0h1m19 0h1m11 0h1m3 0h1m8 0h1m7 0h1m8 0h2m1 0h1m2 0h2m4 0h1m1 0h2m2 0h1m8 0h1m1 0h1m3 0h1m2 0h1m1 0h1m5 0h1m3 0h1m6 0h1m6 0h1m9 0h1m1 0h1m2 0h1m2 0h1m7 0h1m2 0h1m4 0h1m2 0h2m1 0h3m3 0h2m5 0h1m5 0h2m1 0h1m2 0h1m3 0h1m2 0h1m2 0h1m2 0h1m1 0h1m2 0h1m1 0h2m1 0h1m1 0h1m6 0h1m4 0h1m1 0h1M56 741h2m2 0h1m9 0h1m1 0h1m2 0h1m8 0h2m1 0h1m3 0h1m9 0h1m1 0h1m9 0h1m8 0h1m4 0h1m8 0h1m3 0h1m2 0h1m3 0h1m2 0h2m2 0h1m1 0h1m3 0h1m2 0h1m3 0h1m12 0h1m6 0h1m3 0h1m18 0h1m1 0h1m1 0h1m3 0h1m9 0h1m2 0h1m2 0h1m6 0h1m2 0h1m3 0h1m2 0h1m2 0h2m2 0h1m1 0h2m34 0h1m8 0h1m27 0h1m3 0h2m127 0h2m17 0h1m7 0h1m8 0h1m3 0h1m27 0h1m1 0h2m6 0h2m3 0h3m2 0h1m1 0h1m2 0h2m2 0h1m5 0h1m1 0h1m2 0h3m2 0h1m1 0h1m1 0h2m1 0h1m6 0h2m3 0h1m3 0h2m1 0h2m6 0h1m1 0h1m1 0h1m2 0h1m1 0h1m2 0h1m2 0h1m6 0h1m4 0h2m2 0h2m2 0h2m7 0h2m4 0h2m1 0h1m3 0h1m2 0h2m2 0h1m1 0h2m1 0h2m5 0h1m2 0h2m5 0h1M58 742h1m1 0h1m2 0h1m1 0h1m12 0h1m13 0h1m1 0h1m5 0h2m2 0h1m8 0h1m2 0h1m3 0h1m1 0h1m7 0h1m7 0h1m3 0h1m2 0h1m4 0h1m1 0h2m18 0h1m9 0h1m6 0h1m4 0h1m2 0h1m11 0h1m5 0h1m15 0h1m6 0h1m7 0h2m1 0h1m210 0h1m7 0h1m10 0h2m3 0h1m9 0h1m5 0h1m17 0h1m4 0h3m1 0h2m7 0h2m5 0h1m3 0h2m7 0h1m1 0h1m1 0h1m1 0h1m2 0h1m3 0h1m2 0h1m2 0h1m2 0h1m6 0h1m1 0h1m2 0h1m6 0h1m5 0h3m1 0h1m5 0h1m4 0h2m7 0h1m3 0h2m1 0h1m3 0h2m15 0h2m5 0h1m1 0h1m2 0h1m2 0h1m10 0h2m8 0h1m3 0h1m1 0h1M53 743h2m2 0h1m4 0h1m22 0h1m4 0h1m4 0h1m1 0h1m14 0h1m5 0h1m5 0h1m8 0h1m20 0h1m3 0h1m5 0h1m7 0h2m4 0h1m5 0h1m10 0h2m2 0h1m5 0h1m5 0h2m274 0h1m26 0h1m2 0h2m1 0h1m1 0h1m13 0h1m2 0h1m3 0h1m2 0h1m2 0h2m3 0h2m1 0h2m4 0h1m21 0h1m15 0h1m4 0h1m4 0h1m6 0h1m1 0h1m6 0h1m3 0h1m7 0h1m2 0h1m7 0h2m4 0h2m9 0h1m7 0h1m2 0h1m8 0h1m4 0h1m5 0h1M64 744h3m4 0h1m12 0h1m6 0h2m19 0h2m6 0h2m3 0h1m43 0h1m303 0h1m24 0h1m3 0h1m2 0h2m2 0h1m8 0h1m2 0h1m3 0h1m4 0h2m6 0h1m1 0h1m5 0h1m11 0h1m9 0h1m4 0h1m2 0h1m2 0h1m1 0h2m5 0h1m3 0h2m16 0h2m1 0h1m7 0h1m8 0h1m3 0h2m3 0h3m2 0h1m9 0h3m5 0h1m13 0h1m7 0h1m4 0h2m8 0h1M484 745h3m3 0h1m6 0h1m13 0h1m1 0h1m1 0h1m3 0h1m2 0h1m2 0h1m1 0h1m8 0h1m4 0h1m3 0h1m5 0h1m9 0h3m12 0h1m7 0h1m3 0h2m5 0h1m3 0h1m1 0h1m7 0h1m5 0h1m4 0h2m1 0h1m1 0h1m6 0h2m8 0h1m3 0h1m5 0h2m13 0h1m1 0h1m3 0h2m7 0h2m7 0h2m4 0h1M507 746h3m2 0h1m30 0h1m10 0h1m4 0h2m2 0h1m1 0h1m3 0h1m20 0h2m9 0h1m3 0h1m19 0h1m11 0h1m4 0h1m1 0h1m2 0h1m16 0h2m4 0h1m17 0h1m4 0h4M551 747h1m7 0h2m1 0h1m45 0h1m36 0h1m2 0h1m4 0h1m2 0h1m12 0h1m1 0h1m2 0h1m3 0h3m3 0h1m12 0h1M535 748h1m90 0h1m45 0h1m3 0h2m3 0h2m3 0h1m1 0h1M535 749h1m105 0h1m22 0h1m31 0h1M558 750h1m78 0h1m27 0h1M543 751h1m43 0h1m20 0h1m19 0h2m25 0h1M534 752h1m56 0h1M587 753h1m19 0h1m78 0h2M516 754h1m44 0h1m40 0h1m46 0h1m19 0h1m24 0h1m2 0h1M533 755h1m16 0h1m6 0h1m81 0h1"/></g>
<path d="M50.5 609.5H700.5V759.5H50.5ZM158.5 609.5v5M158.5 759.5v-5M266.5 609.5v5M266.5 759.5v-5M375.5 609.5v5M375.5 759.5v-5M483.5 609.5v5M483.5 759.5v-5M591.5 609.5v5M591.5 759.5v-5M50.5 747.5h5M700.5 747.5h-6M50.5 734.5h5M700.5 734.5h-6M50.5 722.5h5M700.5 722.5h-6M50.5 709.5h5M700.5 709.5h-6M50.5 697.5h5M700.5 697.5h-6M50.5 684.5h5M700.5 684.5h-6M50.5 672.5h5M700.5 672.5h-6M50.5 659.5h5M700.5 659.5h-6M50.5 647.5h5M700.5 647.5h-6M50.5 634.5h5M700.5 634.5h-6M50.5 622.5h5M700.5 622.5h-6" fill="none" stroke="#000" stroke-width="1" shape-rendering="crispEdges"/>
<text x="46.8" y="763.8" text-anchor="end">0</text>
<text x="46.8" y="751.8" text-anchor="end">1</text>
<text x="46.8" y="738.8" text-anchor="end">2</text>
<text x="46.8" y="726.8" text-anchor="end">3</text>
<text x="46.8" y="713.8" text-anchor="end">4</text>
<text x="46.8" y="701.8" text-anchor="end">5</text>
<text x="46.8" y="688.8" text-anchor="end">6</text>
<text x="46.8" y="676.8" text-anchor="end">7</text>
<text x="46.8" y="663.8" text-anchor="end">8</text>
<text x="46.8" y="651.8" text-anchor="end">9</text>
<text x="46.8" y="638.8" text-anchor="end">10</text>
<text x="46.8" y="626.8" text-anchor="end">11</text>
<text x="46.8" y="613.8" text-anchor="end">12</text>
<text x="49.5" y="774" text-anchor="middle">00:00</text>
<text x="157.5" y="774" text-anchor="middle">04:00</text>
<text x="265.5" y="774" text-anchor="middle">08:00</text>
<text x="374.5" y="774" text-anchor="middle">12:00</text>
<text x="482.5" y="774" text-anchor="middle">16:00</text>
<text x="590.5" y="774" text-anchor="middle">20:00</text>
<text x="699.5" y="774" text-anchor="middle">00:00</text>
<text x="344.3" y="792" textLength="61">Time (UTC)</text>
<text transform="translate(27.3 717.2) rotate(-90)" textLength="61.5">Height (km)</text>
<text class="b" x="57.2" y="626" textLength="174">Smoothed lidar depolarisation</text>
<rect x="754.5" y="609.5" width="16" height="150" fill="url(#cb)" stroke="#000" stroke-width="1" shape-rendering="crispEdges"/>
<text x="750.8" y="613.8" text-anchor="end">0.3</text>
<text x="750.8" y="638.8" text-anchor="end">0.25</text>
<text x="750.8" y="663.8" text-anchor="end">0.2</text>
<text x="750.8" y="688.8" text-anchor="end">0.15</text>
<text x="750.8" y="713.8" text-anchor="end">0.1</text>
<text x="750.8" y="738.8" text-anchor="end">0.05</text>
<text x="750.8" y="763.8" text-anchor="end">0</text>
</g>
<text class="b" x="3" y="793" textLength="183">Vehmasmaki CL61D ceilometer</text>
</svg></body></html>
